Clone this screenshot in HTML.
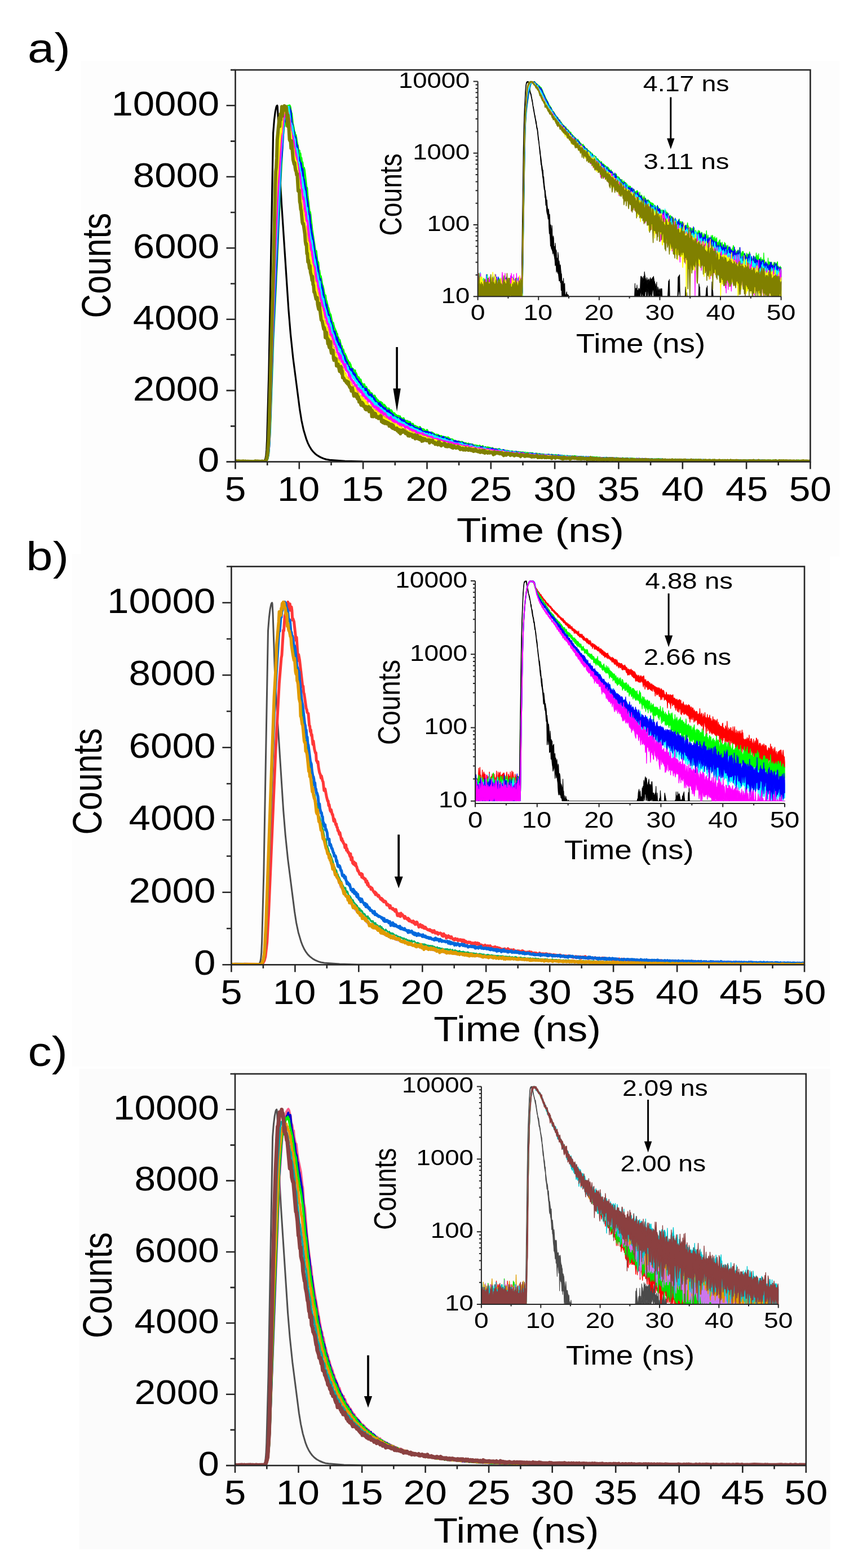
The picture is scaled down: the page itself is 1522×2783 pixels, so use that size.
<!DOCTYPE html>
<html><head><meta charset="utf-8"><style>html,body{margin:0;padding:0;background:#fff}svg{display:block}</style></head>
<body><svg width="1522" height="2783" viewBox="0 0 1522 2783" font-family='"Liberation Sans", Arial, sans-serif'><rect width="1522" height="2783" fill="#fff"/><rect x="144" y="108" width="1345" height="880" fill="#fdfdfd"/><clipPath id="cmA"><rect x="417.5" y="124.1" width="1019.9000000000001" height="695.5"/></clipPath><g clip-path="url(#cmA)"><path d="M417.5 818.8l49.9 0l1.3 -0.8l1.4 -2l0.9 -2.6l0.9 -4.8l0.9 -9.9l0.9 -18.9l3.2 -118l7.7 -425.7l1.8 -22.5l1.8 -14.7l1.8 -8.8l0.9 -2.1l0.9 -0.7l0.5 2.4l0.9 16.2l3.6 107.9l2.7 48.3l12.3 186.9l3.6 43.6l4.5 43l11.8 91l3.2 19.7l3.6 16.7l5 16.7l2.7 6.9l2.8 5.6l3.1 5.2l3.2 4.1l3.6 3.7l4.6 3.5l4.9 2.8l5.9 2.5l4.6 1.4l5.9 0.9l27.2 2.1l31.2 0.8l794.2 0.4" stroke="#000" stroke-width="3.2" fill="none" stroke-linejoin="round"/><path d="M417.5 818.8l53.5 0l1.8 -1.4l1.8 -3.3l1.8 -9l2.7 -43.3l5.5 -161.9l6.3 -128.7l6.4 -148.3l4.5 -81.4l1.8 -18.4l0.9 0.8l0.9 -11.8l0.9 2.1l1 -3.6l0.9 -10.9l0.9 -1.6l0.9 -7.1l0.9 -3l0.9 3l1.8 -3.6l0.9 1.8l1.8 10.6l0.9 1.9l1.8 18.1l1.8 7l1 8.6l0.9 -0.6l0.9 8l0.9 -2.8l2.7 16.6l0.9 1.8l0.9 10.2l0.9 0.4l0.9 -1.8l0.9 12.3l0.9 -6.9l0.9 12.8l0.9 -5.1l1 9.4l0.9 -1.7l1.8 15.6l0.9 -5.7l0.9 3.7l3.6 31.6l0.9 0.4l0.9 12.9l3.7 31.4l0.9 -1.3l3.6 31.4l5.4 35.9l0.9 3.6l0.9 -1.9l1.9 17.8l1.8 2.7l0.9 12.7l0.9 1.1l1.8 13.2l0.9 -2.6l2.7 16.5l0.9 0.8l3.7 19.7l0.9 -3l0.9 8.3l0.9 1.5l2.7 12.2l0.9 0.4l0.9 5.5l1.8 5.5l0.9 0.2l3.6 17.8l1 -2.8l1.8 8l3.6 7.9l0.9 5.6l0.9 -2l0.9 8.6l0.9 -2.3l0.9 3.1l0.9 1.4l0.9 0.1l2.8 14.3l0.9 -3.3l0.9 6l1.8 0.1l1.8 10.1l0.9 -3l2.7 6l1.8 6.8l0.9 -1l1.9 6.4l0.9 -2.6l0.9 2.8l0.9 0.7l0.9 4.4l2.7 4.4l0.9 -0.5l0.9 3.4l0.9 -0.7l0.9 1.5l0.9 -1.8l0.9 7.9l1 -2.9l2.7 8.5l1.8 -1.4l2.7 5.8l0.9 -1.4l1.8 8.5l0.9 -1.5l1.8 6.9l1.9 -5.7l1.8 6.6l0.9 0.7l0.9 -2.5l0.9 2.8l1.8 2.5l0.9 0.9l0.9 -0.3l0.9 1.5l1.8 4.7l0.9 -1.6l0.9 3l1 -2l0.9 4.9l0.9 -0.9l0.9 0.7l0.9 3.1l0.9 -4.1l0.9 1.4l0.9 4l0.9 -1.1l0.9 1.5l0.9 5.6l0.9 -3.6l1.8 1.9l0.9 2.7l1 -0.4l0.9 0.6l0.9 -1.3l1.8 3.5l0.9 -1.6l0.9 4l0.9 0.5l0.9 2.9l0.9 -4.3l5.5 7.1l1.8 1l0.9 -1.4l3.6 5.8l0.9 -2.5l3.6 6.5l1.8 -1.5l1 2.3l2.7 1.2l0.9 2.9l0.9 -1.2l0.9 1.4l0.9 -1.8l0.9 2.8l1.8 -1.9l0.9 3l0.9 1l0.9 -0.5l1.9 2.7l1.8 -2.9l0.9 3.5l1.8 2.1l0.9 -1.3l0.9 2.6l0.9 0.3l0.9 -2.5l0.9 3.3l0.9 -2.1l0.9 0l0.9 2.1l0.9 0.1l0.9 -1.3l1 3.2l1.8 2.4l1.8 -2.6l1.8 3.9l1.8 0.4l0.9 -0.5l0.9 1l1.8 0.3l0.9 1.1l2.8 1l1.8 -1.4l2.7 5.4l0.9 -2l0.9 3l0.9 -0.2l0.9 -2.2l0.9 0.6l1.8 3.5l0.9 -1.1l1 0.7l1.8 -2.5l0.9 2.6l1.8 2.3l0.9 -0.9l1.8 1.9l0.9 -1l0.9 1.7l0.9 -2.1l1.8 0.8l0.9 2l1 -0.7l4.5 3.7l0.9 -2l0.9 1.3l1.8 -0.6l0.9 3.1l1.8 -1.3l0.9 0.1l0.9 1.1l1 -1.1l1.8 2.8l0.9 0l0.9 -1.4l0.9 0.6l0.9 2.6l0.9 -2.9l0.9 1l0.9 -0.4l0.9 2l1.8 1.2l0.9 -3.2l0.9 2.9l0.9 -1.4l1 2.4l0.9 -0.5l0.9 2l1.8 -2l0.9 2.3l0.9 -1.9l1.8 2.5l2.7 -0.2l4.6 2.4l1.8 -1.5l0.9 2.4l0.9 -1.2l1.8 1.4l0.9 -1.4l0.9 1.4l0.9 -1.5l0.9 2.2l0.9 -0.8l1.8 1.4l1 -0.9l0.9 0.8l0.9 -0.4l1.8 1.8l2.7 -1.1l0.9 1.8l0.9 -0.5l0.9 1.6l0.9 -1.8l1.8 2.4l1.9 -2l0.9 2.4l1.8 -0.3l0.9 0.5l0.9 -1l0.9 1.1l0.9 0.1l0.9 -0.8l0.9 1.2l0.9 -0.7l2.7 2.3l0.9 -2.7l1 1.8l3.6 0.4l0.9 -1.2l0.9 2.4l0.9 0.6l1.8 0.1l0.9 -1.4l0.9 0.1l1.8 2l1.8 -1.8l1 3.3l0.9 -2.3l0.9 1.3l0.9 -1.4l0.9 1.7l0.9 -0.4l0.9 1l0.9 -0.2l0.9 -1.6l3.6 3l1.8 -1.1l1.9 0.3l0.9 0.9l3.6 -1.5l1.8 2l3.6 0.1l0.9 0.8l0.9 -1l4.6 1.6l2.7 -0.4l1.8 1.3l0.9 -0.8l0.9 1l1.8 -0.4l0.9 1.2l1 -1.2l0.9 0l3.6 1.2l2.7 -0.4l0.9 1l0.9 -0.8l2.7 0.7l0.9 -0.5l1 1.4l0.9 -1.2l2.7 0.4l0.9 0.7l1.8 -0.6l1.8 0.5l0.9 1.1l1.8 -1.4l1.8 0.7l0.9 1.2l1 -1.4l1.8 2.2l0.9 -1.6l0.9 1.2l1.8 -0.3l0.9 -1l0.9 1l1.8 -1l3.6 2l1.9 -0.8l2.7 -0.1l0.9 1.1l3.6 -0.7l1.8 0.9l0.9 -0.3l1.8 1.2l1 -1.1l1.8 0.3l0.9 1.2l0.9 -0.7l2.7 1.2l1.8 -1.5l1.8 0.9l1.8 -0.5l0.9 1.9l1 -1.3l2.7 -0.8l1.8 0.9l1.8 -0.1l0.9 0.7l2.7 -1.1l0.9 1.2l2.8 -0.6l0.9 0.7l0.9 -0.6l0.9 1.2l3.6 -0.7l0.9 1.3l1.8 -0.8l1.8 1l0.9 -1.2l2.8 0.9l0.9 -0.7l0.9 0.7l0.9 -0.6l0.9 1l1.8 -0.4l0.9 0.5l0.9 -0.6l1.8 0.8l2.7 -0.7l1.9 0.7l1.8 -1.1l1.8 1.1l1.8 -0.5l1.8 1.2l1.8 -0.6l1.8 1l1.8 -0.9l1 0.7l2.7 -0.5l4.5 0.9l0.9 -0.8l1.8 0.8l2.7 -0.4l1 0.9l1.8 -0.4l0.9 -1.1l1.8 1.1l1.8 -0.8l0.9 1l1.8 -0.5l2.7 0.8l0.9 -0.9l1 0.1l1.8 0.5l0.9 1.1l0.9 -1l2.7 0l1.8 1l0.9 -0.7l3.6 0.4l0.9 0.8l1 -1.3l0.9 0.4l1.8 -0.6l1.8 1.5l3.6 -0.6l0.9 0.8l0.9 -0.9l0.9 0.8l0.9 -0.7l5.5 0.9l2.7 -1.2l2.7 1l0.9 -0.7l0.9 0.5l5.5 0.6l1.8 -1.2l0.9 0.9l2.7 -0.2l0.9 0.7l4.6 -0.8l0.9 0.8l1.8 -0.1l0.9 -0.6l0.9 1.2l4.5 -1l0.9 1l0.9 -0.8l1.8 0.5l1 -0.3l1.8 0.9l5.4 -1.1l1.8 1.1l3.6 -0.6l1.9 0.8l0.9 -0.8l5.4 -0.1l3.6 1l2.7 -0.5l1 0.5l0.9 -0.9l2.7 1.1l5.4 -0.6l0.9 0.4l2.7 -0.9l1 1l2.7 -0.4l0.9 0.5l4.5 -0.1l0.9 0.5l2.7 -0.6l1.9 0.6l1.8 -0.7l5.4 0.6l1.8 -0.7l4.6 0.7l1.8 -0.9l1.8 0.9l2.7 -0.4l1.8 0.8l3.6 -0.8l2.8 0.7l1.8 -0.8l2.7 0.5l0.9 -0.4l0.9 0.8l2.7 -0.4l5.5 0.5l1.8 -0.5l5.4 0.6l1.8 -0.9l1.8 0.7l3.7 -0.4l0.9 0.7l2.7 -0.6l1.8 0.5l3.6 -0.2l1.8 0.7l1 -0.8l5.4 0.5l1.8 -0.5l0.9 0.7l0.9 -0.7l1.8 0.6l0.9 -0.5l1.9 0.6l2.7 -0.6l9.9 0.5l6.4 -0.6l0.9 0.8l3.6 -0.6l0.9 0.9l1.8 -0.6l6.4 -0.1l0.9 0.8l2.7 -0.7l5.5 0.6l2.7 -0.6l16.3 0.5l0.9 -0.5l10.9 0.9l0.9 -0.5l7.2 0.6l1.8 -0.8l2.8 0.6l4.5 -0.6l2.7 0.6l4.6 -0.5l0.9 0.7l1.8 -0.5l3.6 0.4l1.8 -0.7l1.8 0.7l6.4 -0.3l4.5 0.6l3.6 -0.8l1.8 0.6l1.9 -0.4l3.6 0.5l0.9 -0.6l0.9 0.8l6.3 -0.7l1 0.7l8.1 -0.3l1.8 -0.5l0.9 0.7l1.8 -0.8l9.1 0.8l12.7 -0.2" stroke="#00ff00" stroke-width="4" fill="none" stroke-linejoin="round"/><path d="M417.5 818.9l17.2 -0.4l5.5 0.5l4.5 -0.5l7.2 0.6l19.1 -0.2l2.7 -3.3l1.8 -6.8l1.8 -16l0.9 -17.5l5.5 -165.5l14.5 -320.6l1.8 -19.1l3.6 -54.9l0.9 -1.5l0.9 1.5l1.9 -18.7l0.9 3.1l0.9 -0.9l1.8 -5.6l1.8 -2.9l2.7 7.9l1.8 20.8l0.9 0.4l1.8 12.2l0.9 0.5l1.9 15.7l0.9 -4.5l1.8 12.5l1.8 5.1l1.8 20.6l0.9 -2.1l1.8 9.4l1.8 1l1.9 16.6l0.9 -6.4l1.8 19.7l0.9 -0.7l1.8 12.9l0.9 0.6l1.8 18.5l1.8 8.6l0.9 11.6l1.8 12.3l1 -2.5l0.9 17.5l0.9 -0.2l0.9 10.5l3.6 19.3l2.7 21.5l2.7 9.7l0.9 7.7l1.9 6.4l1.8 17.4l1.8 8.6l0.9 -3.9l0.9 10.7l0.9 -1.4l0.9 5.7l0.9 1l1.8 12.5l3.7 15.6l0.9 2.2l0.9 -0.7l0.9 11.6l0.9 -1.6l0.9 6.1l1.8 2l0.9 5.2l0.9 1l0.9 8.6l0.9 -3.5l0.9 6.9l0.9 -0.1l0.9 3.8l1 9.1l0.9 -1.5l0.9 0.3l0.9 -0.4l2.7 14.1l0.9 -3.9l0.9 1.6l2.7 14.4l1.8 -5l0.9 6.4l1 1l1.8 8.9l0.9 -2.8l0.9 7.3l0.9 -0.2l1.8 1.6l3.6 11.8l0.9 -1l1.8 6.2l1 1.6l0.9 0.1l0.9 4.3l0.9 0.6l0.9 2.2l0.9 -2l0.9 1.1l0.9 -1.5l0.9 8.2l0.9 -0.1l0.9 -1.5l1.8 5.2l0.9 -2.4l1.9 8.1l0.9 1.6l0.9 -1.7l0.9 1.4l0.9 4.3l0.9 0.6l0.9 -1.4l0.9 1.1l0.9 3.5l0.9 -1.1l0.9 1.3l0.9 5.4l0.9 -1.4l0.9 -0.2l1.9 6.7l0.9 -2l1.8 -1l0.9 7.5l0.9 -7.1l0.9 7.4l0.9 -2.5l1.8 2.1l1.8 5.5l0.9 -1.9l1.8 7l0.9 -7.7l1 4.4l0.9 -0.9l0.9 5.3l0.9 -2.9l1.8 1.7l1.8 6.1l0.9 -0.7l0.9 4l0.9 0l0.9 -1.9l0.9 2.5l0.9 -0.5l0.9 0.8l1 -2.3l1.8 4.5l0.9 -1.1l0.9 3.8l0.9 0.1l0.9 -1.1l0.9 3.9l0.9 -0.7l0.9 2.3l1.8 -2.9l0.9 4.2l0.9 -0.7l0.9 2.3l1.9 1.9l0.9 -3.2l0.9 -0.6l1.8 5.7l0.9 -1.4l0.9 2.1l0.9 -0.9l0.9 1.3l1.8 0.9l2.7 5l1 -1.2l0.9 1.9l0.9 -1.1l0.9 1.7l0.9 -0.9l0.9 0.1l0.9 3.1l0.9 -0.2l0.9 0.7l1.8 -2.4l1.8 3.8l0.9 -1.8l0.9 4.3l1 -3.3l1.8 6.5l0.9 -6.4l1.8 5.7l0.9 -1l1.8 1l0.9 2.5l1.8 -1.5l0.9 0.8l0.9 -0.7l0.9 1.8l0.9 -2.3l1 4.2l0.9 -0.7l0.9 3l0.9 -0.3l0.9 -2.6l0.9 3.1l0.9 -1.3l1.8 2.7l0.9 -0.4l1.8 1l0.9 -1l2.8 3.1l0.9 -0.9l0.9 0.8l1.8 -2.3l1.8 3.8l3.6 2.6l1.8 0.1l0.9 -0.9l2.8 3.2l0.9 -2.7l0.9 1.5l0.9 -1l0.9 1.4l0.9 -0.4l0.9 2.2l1.8 -2.4l0.9 4.5l0.9 -2.2l0.9 -0.2l0.9 1.6l1.9 -0.2l0.9 2.3l0.9 -0.8l0.9 1.7l4.5 0.1l0.9 2.2l0.9 -3.1l2.7 3.2l2.8 0.1l0.9 2.4l1.8 -4l0.9 5l0.9 -2.5l1.8 1.6l0.9 -1.2l0.9 2.8l1.8 -2.1l0.9 1.9l1.8 0.2l1 0.8l0.9 -1.6l0.9 2.5l0.9 -1.4l0.9 2.2l0.9 -1.5l1.8 3.5l0.9 -2.2l0.9 1.3l0.9 -0.4l0.9 -1.6l0.9 2.7l0.9 0.2l0.9 -2.1l1 1.5l0.9 -1.1l1.8 2.6l1.8 -1.4l4.5 2.7l0.9 -2l1.8 3.1l1.9 -1.2l2.7 1.8l0.9 -0.4l0.9 1.6l0.9 -0.1l0.9 -1.6l0.9 1.3l1.8 -1l1.8 1.3l0.9 -1.5l1.9 2.4l0.9 -0.7l1.8 1.7l0.9 -0.6l0.9 0.4l0.9 1.6l0.9 -1.3l1.8 0.6l0.9 1.1l0.9 -0.9l1.8 0l0.9 1.2l1 -1.3l0.9 1.6l1.8 -1.6l0.9 1.7l0.9 0l0.9 -1l0.9 1.2l2.7 -0.6l0.9 2.6l0.9 -0.9l3.7 0.6l0.9 -0.7l0.9 1.1l1.8 -0.7l0.9 1l1.8 -1.5l1.8 2l0.9 -0.3l0.9 0.7l1.8 -1l0.9 1.4l1.9 -1.1l0.9 1.2l0.9 -0.3l0.9 1l1.8 -0.2l0.9 -1.6l0.9 1.8l4.5 0.2l0.9 -1.1l1 1.4l0.9 -0.7l0.9 0.9l0.9 -0.1l0.9 1.4l0.9 -0.7l1.8 0.3l0.9 1.3l0.9 -1.8l0.9 0.9l3.6 -0.1l1 1.2l1.8 -0.8l3.6 1.1l1.8 -1l0.9 1.5l0.9 -1.5l1.8 1.4l0.9 -0.6l0.9 1.4l1 0.3l4.5 -0.6l0.9 1.4l0.9 -1.5l0.9 1.2l1.8 -0.4l1.8 0.7l2.7 -0.8l1.9 1.1l1.8 0.1l0.9 -0.7l0.9 1.5l0.9 -1.8l1.8 1.3l1.8 -0.8l2.7 0.7l1.9 -0.4l0.9 0.8l0.9 -0.8l2.7 1.5l1.8 -0.7l0.9 1.1l0.9 -0.9l1.8 0.3l0.9 1.4l1.8 -1.4l1 0.9l0.9 -0.4l0.9 1.3l0.9 -1.5l0.9 0.8l0.9 -0.7l0.9 1.4l0.9 -1.2l3.6 0.9l0.9 -1.4l0.9 1.7l2.8 0.2l1.8 -1.2l1.8 1.8l0.9 -1.3l2.7 0.2l0.9 1l0.9 -0.3l1.8 0.7l0.9 -1.1l1 0.9l0.9 -1.4l1.8 1.6l1.8 -1.1l1.8 1.5l1.8 -1.1l0.9 1l0.9 0.1l0.9 -0.7l1.8 1.1l4.6 -0.8l1.8 1.3l1.8 -1l1.8 0l1.8 1l0.9 -0.8l1.8 1.5l1 -1.4l2.7 1.2l3.6 -0.5l0.9 1.1l0.9 -1.2l0.9 0.8l1.8 -0.7l1.8 1.1l1 -1.4l0.9 1.2l2.7 -0.9l0.9 0.9l0.9 -0.6l0.9 0.8l0.9 -0.8l0.9 0.8l1.8 -1l1.8 0.8l0.9 -0.8l1.9 1.3l0.9 -0.6l0.9 0.9l0.9 -0.9l5.4 1l0.9 -0.5l0.9 1l3.7 -0.8l0.9 0.7l0.9 -0.7l2.7 0.8l1.8 -0.5l0.9 0.5l3.6 -0.8l1.8 1l1 -0.7l1.8 0l0.9 0.4l7.2 -0.1l0.9 0.6l0.9 -0.8l0.9 0.7l1 -0.4l1.8 0.5l0.9 -0.7l1.8 1.2l1.8 -0.3l0.9 -0.8l2.7 1.1l2.7 -0.8l1 0.8l0.9 -0.4l1.8 0.6l1.8 -0.2l0.9 0.7l0.9 -0.9l2.7 0.7l0.9 -0.9l2.7 0.1l1 0.6l5.4 -0.4l4.5 0.8l4.6 0l0.9 -0.8l2.7 0.7l0.9 -0.7l1.8 0.8l2.7 -0.4l0.9 0.5l0.9 -0.7l0.9 1l0.9 -0.5l1 0.5l0.9 -0.8l0.9 0.7l2.7 -0.5l0.9 0.8l1.8 0.1l0.9 -0.4l4.5 0.3l1.9 -0.6l0.9 1l2.7 -0.6l2.7 0.5l0.9 -0.5l2.7 0.1l1.8 0.6l1 -0.6l3.6 -0.1l0.9 0.7l1.8 -0.8l5.4 1l0.9 -0.4l1.9 0.3l0.9 -0.5l6.3 0.6l0.9 -0.7l1.8 0.8l3.7 -0.8l3.6 0.9l2.7 -1l1.8 1.3l1.8 -0.6l5.5 0.4l0.9 -0.5l2.7 0.6l1.8 -0.5l0.9 0.6l1.8 -0.5l2.7 0.5l1 -0.6l2.7 0.8l2.7 -0.9l6.3 0.9l1.9 -0.7l0.9 0.6l1.8 -0.3l1.8 0.7l0.9 -0.8l1.8 0.4l0.9 -0.7l3.6 0.8l10.9 -0.5l0.9 0.6l4.6 -0.5l6.3 0.8l0.9 -0.4l3.6 0.4l0.9 -0.8l0.9 0.8l1 -0.7l2.7 0.7l1.8 -0.7l0.9 0.6l3.6 -0.6l2.7 0.8l0.9 -0.8l1.9 1l2.7 -0.9l0.9 0.5l2.7 -0.4l6.4 0.6l0.9 -0.5l0.9 0.6l0.9 -0.5l9.9 0.6l3.7 -0.5l1.8 0.8l3.6 -1.1l0.9 0.7l4.6 -0.4l0.9 0.5l0.9 -0.5l0.9 0.5l7.2 -0.4l0.9 0.5l8.2 -0.5l0.9 0.7l0.9 -0.6l3.6 0.6l3.7 -0.1l0.9 -0.5l8.1 0.6l3.6 -0.6l2.8 0.6l7.2 -0.5l7.3 0.6l1.8 -0.7l0.9 0.6l6.3 -0.5l0.9 0.7l4.6 -0.5l3.6 0.6l1.8 -0.8l2.7 0.7l3.7 -0.4l2.7 0.5l4.5 -0.7l0.9 0.6l3.6 -0.6l7.3 0.4" stroke="#0000ff" stroke-width="4" fill="none" stroke-linejoin="round"/><path d="M417.5 818.8l53.5 0.3l1.8 -1.9l2.7 -9.8l1.8 -19.1l0.9 -18.3l3.7 -125l6.3 -169.7l10 -203l5.4 -59.2l0.9 -4.6l0.9 -1.9l0.9 -0.3l1 -1.5l0.9 -5.5l0.9 3.8l0.9 -8.5l0.9 0l0.9 -4.9l2.7 21.2l0.9 13.8l0.9 -5.8l0.9 3.7l0.9 1.3l2.7 18.9l1.9 4.8l0.9 13.2l0.9 2.1l0.9 7.6l0.9 -6.3l1.8 12.2l0.9 11.5l0.9 0l2.7 15.8l0.9 2.5l0.9 7.9l1 0.7l3.6 23.3l0.9 0.8l3.6 31l0.9 -0.9l0.9 13l0.9 1.3l1.8 20.5l3.7 22.8l0.9 0l4.5 31.3l1.8 6.3l2.7 19.1l1 1.1l0.9 4l1.8 11.9l0.9 0.7l0.9 -1l0.9 11.6l1.8 6.2l0.9 11.5l0.9 -3.1l0.9 5.8l0.9 -1.6l1.8 12.6l3.7 11.8l0.9 6.4l2.7 1.3l1.8 10.1l0.9 0.8l1.8 4.6l1.8 9.6l3.7 9.7l1.8 10.1l0.9 -0.8l0.9 5.4l0.9 -2.3l1.8 8.4l0.9 -2.9l1.8 5.6l0.9 -1.2l0.9 1.7l1 8.5l0.9 -2.6l0.9 3.2l1.8 2.9l0.9 5.3l2.7 5.6l0.9 0.5l0.9 4.5l0.9 0.9l0.9 -1.5l0.9 3l0.9 0.7l1 6.1l0.9 -0.5l1.8 1.6l0.9 2.7l0.9 -1.3l0.9 3.3l1.8 2.9l0.9 0.1l0.9 3.6l0.9 -1.5l2.7 6.1l1.9 0.9l1.8 3.8l0.9 0.3l0.9 2.6l0.9 -0.7l1.8 8.2l0.9 -4.7l1.8 6.6l0.9 -0.5l0.9 2.3l0.9 -3.9l1.9 8.3l0.9 -2.4l0.9 2.6l0.9 -2.8l1.8 8.9l0.9 -2.7l1.8 2.7l0.9 3.8l0.9 -3.2l0.9 -1l0.9 6.6l0.9 -3.9l0.9 3.6l1 -3.6l1.8 5.8l0.9 -1.2l1.8 4.4l0.9 -1.2l1.8 5.5l0.9 -4.9l0.9 4.4l0.9 1.2l0.9 -0.6l0.9 3.6l0.9 0.4l1 -0.5l0.9 0.8l1.8 -0.9l0.9 3.1l0.9 -0.7l0.9 0.6l0.9 3.2l0.9 -1.2l0.9 2.4l0.9 -2.2l2.7 5.5l0.9 -1.4l1 1.9l0.9 -1.4l1.8 3.4l0.9 -1.8l1.8 3.4l0.9 -1.8l0.9 2.6l1.8 0.7l0.9 1.7l1.8 0.4l0.9 -1.6l1 0.6l0.9 2.9l0.9 -1.9l0.9 2.7l1.8 -0.1l0.9 1.3l0.9 -2.2l1.8 5.7l0.9 -2.6l0.9 2.7l0.9 0.4l0.9 3.8l0.9 -4.5l1.9 1.3l1.8 -0.1l0.9 2.6l0.9 -0.7l0.9 2.5l0.9 0l0.9 -1.2l1.8 3.8l0.9 -1.6l1.8 2.3l0.9 -1l1.9 3.2l0.9 -0.1l0.9 -2.9l0.9 4.2l0.9 -1.6l0.9 0l0.9 0.4l0.9 2.5l2.7 -1.1l1.8 3.1l0.9 -2.1l0.9 0.3l1.9 2.7l0.9 -0.8l0.9 0.7l0.9 -0.4l0.9 2.7l0.9 -1.2l1.8 2.1l0.9 -1.1l1.8 1.4l0.9 -0.5l0.9 2.3l0.9 -1.1l1.9 0.3l0.9 -0.5l0.9 2.7l0.9 0.7l2.7 -2.8l1.8 3.7l0.9 -1.4l1.8 3l0.9 -3.9l0.9 2.7l1.9 0.3l0.9 -0.9l0.9 1.8l0.9 -0.6l0.9 2.5l0.9 0.6l0.9 -2.4l0.9 0.2l3.6 3.2l0.9 -1.8l1.9 1.5l3.6 0.9l0.9 2l1.8 -2.6l0.9 2.8l2.7 -0.6l0.9 0.5l0.9 2.3l0.9 -1.7l0.9 1.8l1.9 -1.1l0.9 1l1.8 -2.6l0.9 2.4l0.9 0.3l0.9 1.6l2.7 0.4l0.9 0.7l1.8 -0.3l2.8 1.6l0.9 -1.3l0.9 0.5l1.8 -0.4l0.9 1.4l0.9 -0.7l0.9 2l0.9 -2.9l2.7 3.5l0.9 -1.1l0.9 2l1.9 -1.7l1.8 1.3l0.9 -0.9l0.9 1.8l0.9 -0.9l1.8 1.3l0.9 -0.9l0.9 1.3l0.9 -2.1l0.9 2.2l0.9 -1.9l0.9 2.6l1 -1.1l0.9 1.5l0.9 0.3l1.8 -1.2l0.9 1.7l0.9 -1.8l0.9 1.7l2.7 -0.5l0.9 1.9l0.9 -2.4l3.7 3.1l0.9 -0.1l0.9 -1.2l1.8 1.5l1.8 -1.7l0.9 1.6l0.9 0.3l0.9 -1.3l3.6 2.7l3.7 -0.8l2.7 0.5l1.8 1.9l0.9 -1l2.7 0.2l0.9 0.8l2.8 -0.5l0.9 0.6l0.9 -0.6l1.8 1.2l1.8 -1.7l0.9 1.9l0.9 -1.1l1.8 0l0.9 1.6l0.9 -1.7l1.8 1.7l1.9 -0.3l1.8 0.7l0.9 -0.8l1.8 1.7l0.9 -1.1l1.8 0l0.9 1.5l0.9 -1.2l0.9 0.4l0.9 -0.6l0.9 1.9l1 -0.8l1.8 1.3l1.8 -1.4l1.8 1.3l0.9 -0.9l1.8 0.2l0.9 1.1l1.8 -0.9l1.8 1.3l1.9 -1.2l1.8 2.6l3.6 -1.5l1.8 0.9l0.9 -0.4l0.9 0.7l0.9 -0.4l0.9 0.4l0.9 -1.8l1.9 2.2l1.8 -0.1l0.9 0.8l2.7 -1.2l2.7 1.4l3.6 -1l0.9 1l1 -0.8l1.8 0.7l0.9 1.2l2.7 -1.6l2.7 1.1l1.8 0.3l0.9 -0.8l1.8 0.8l2.8 -0.1l0.9 0.7l0.9 -1.3l1.8 1l0.9 -0.6l1.8 0.9l0.9 -0.3l2.7 1.6l0.9 -1.7l1 1.6l0.9 -1.2l1.8 1l3.6 -1.1l2.7 1.3l0.9 -0.6l7.3 1.1l0.9 -0.6l0.9 1.2l1.8 -1.4l0.9 2l1.8 -1.5l0.9 1.1l0.9 -1.8l0.9 2.4l0.9 -1.8l1 0l3.6 1.3l0.9 -0.7l0.9 0.9l1.8 -0.8l0.9 0.9l1.8 -0.4l0.9 0.6l0.9 -1l1.9 1.3l0.9 -0.6l3.6 0.4l0.9 -0.6l0.9 0.7l0.9 -0.7l1.8 0.2l2.7 0.9l2.8 -1.2l2.7 1.1l2.7 -0.6l1.8 1l1.8 -0.8l1.8 0.7l0.9 -0.5l3.7 1.4l0.9 -1.1l0.9 0.9l2.7 -0.7l2.7 1.1l0.9 -0.6l0.9 0.5l0.9 -0.6l1.9 0.2l0.9 -0.7l3.6 0.9l1.8 -0.4l0.9 0.9l0.9 -0.8l4.5 1l1 -1.1l1.8 1.2l0.9 -0.6l2.7 1l1.8 -0.8l3.6 0l0.9 1l0.9 -0.6l5.5 0.5l1.8 -1.1l1.8 1.3l1.8 -0.7l1.8 0.6l0.9 -0.7l1.9 0.8l7.2 -0.5l1.8 0.9l0.9 -0.8l0.9 0.7l3.7 -0.2l0.9 -0.5l0.9 1.2l1.8 -1.5l0.9 0.8l2.7 -0.5l0.9 0.9l4.6 -0.4l6.3 0.7l0.9 -0.8l1.8 0.9l0.9 -0.7l0.9 0.5l4.6 0.1l1.8 -0.8l0.9 1.3l1.8 -0.7l1.8 0.5l0.9 -1l0.9 0.8l0.9 -0.7l1.8 0.6l6.4 -0.3l1.8 0.7l4.5 0.1l4.6 -0.8l0.9 0.7l0.9 -0.9l3.6 1.7l2.7 -1.3l0.9 0.9l0.9 -0.8l1 0.6l0.9 -0.3l0.9 0.9l0.9 -0.7l1.8 -0.1l1.8 0.5l0.9 -0.5l3.6 0l2.8 0.7l0.9 -0.7l6.3 0.6l0.9 -0.7l2.7 0.9l2.7 -0.5l3.7 0.5l2.7 -0.9l0.9 0.9l1.8 -0.4l1.8 0.6l4.6 -0.6l9 0.7l3.7 -0.7l7.2 0.7l3.6 -0.6l3.7 0.6l2.7 -0.5l3.6 0.8l4.5 -0.7l6.4 0.6l1.8 -0.7l3.6 0.9l4.6 -0.8l0.9 0.7l11.7 -0.4l7.3 0.8l4.5 -0.6l1.8 0.5l3.7 -0.5l5.4 0.7l11.8 -0.6l5.4 0.6l8.2 -0.5l1.8 0.6l3.6 -0.6l0.9 0.6l2.8 -0.5l3.6 0.5l9.1 -0.5l3.6 0.7l6.3 -0.7l0.9 0.5l5.5 -0.5l0.9 0.7l5.4 -0.5l16.3 0.6l0.9 -0.6l4.6 0.4l0.9 -0.5l0.9 0.6l5.4 -0.6l0.9 0.6l22.7 -0.1" stroke="#00ffff" stroke-width="4" fill="none" stroke-linejoin="round"/><path d="M417.5 818.9l53.5 -0.1l1.8 -2.5l0.9 -2.5l1.8 -8.2l1.8 -24.7l1.8 -45.2l1.9 -73.2l7.2 -215.5l4.5 -102.6l7.3 -109.3l1.8 -12.8l0.9 -12.2l1.8 -5.4l0.9 1.9l0.9 -1.4l1 -9.2l0.9 -1.1l0.9 1.5l0.9 10.3l0.9 -5.9l0.9 8.8l0.9 -0.6l0.9 3.1l2.7 22.5l0.9 1l0.9 8.5l0.9 -2.7l0.9 6.7l0.9 2l1.9 14.9l0.9 0.9l0.9 7.1l0.9 1.1l1.8 15.4l0.9 1.7l1.8 12l1.8 4.3l2.7 29.9l1 -1.7l1.8 17.3l0.9 -2.9l0.9 4.2l2.7 21.5l0.9 0.6l0.9 13.4l0.9 2.6l0.9 -0.6l3.7 34.4l1.8 6.8l0.9 9.8l1.8 4.2l1.8 18.5l1.8 10l0.9 -2.7l3.6 24.7l1 1l1.8 11.1l1.8 4.3l2.7 19l0.9 -1l3.6 15.6l0.9 0l2.8 14.2l1.8 3.6l1.8 9.6l0.9 0.8l0.9 -0.6l0.9 5.2l0.9 0l2.7 14.8l0.9 0.8l0.9 -1.9l0.9 5.1l1.9 4.2l1.8 6.9l1.8 2.8l1.8 5l1.8 7.1l0.9 1.1l0.9 3.5l0.9 -1.9l0.9 8.5l1.9 -5.2l1.8 11l1.8 -1.1l0.9 4.8l0.9 0.3l1.8 5.5l0.9 -5.1l0.9 7.7l0.9 2.8l3.7 4.1l1.8 7.2l0.9 -2.1l2.7 8.1l0.9 -0.2l0.9 1.7l0.9 0.1l0.9 4l0.9 -1.4l0.9 1.2l0.9 3.6l0.9 0.4l1 1.7l0.9 -1.8l0.9 7.2l0.9 -2.5l0.9 3.5l1.8 -2l0.9 3.7l0.9 -0.1l0.9 2.8l0.9 -3.5l0.9 2.8l0.9 0.8l0.9 5.1l0.9 0.7l1 -2.5l0.9 3.1l0.9 1.2l0.9 0l0.9 3.6l0.9 -2.2l0.9 2.2l0.9 0.2l0.9 2.8l0.9 -0.9l0.9 2.8l0.9 -1.6l0.9 0.6l2.7 3.5l1 6l0.9 -4.6l0.9 2.6l0.9 0.3l1.8 3.9l2.7 -1.8l0.9 3.8l0.9 1.2l0.9 -2.7l0.9 4.2l0.9 -3.5l1.9 5.7l0.9 -1.9l0.9 -0.3l0.9 5.2l0.9 -3.5l0.9 3.3l0.9 -1.8l1.8 5.6l0.9 -2.2l0.9 0.1l0.9 -0.9l2.7 5.1l2.8 2.7l0.9 -0.1l0.9 3.6l0.9 -3l0.9 0.8l0.9 -2.8l1.8 5.2l0.9 -0.8l0.9 2.9l0.9 -0.3l0.9 2.2l0.9 -3.7l1.9 4.5l1.8 -1.7l1.8 1.8l0.9 2.1l0.9 0.2l1.8 -0.9l0.9 2.6l0.9 0.9l0.9 -2.3l0.9 3l0.9 -1.9l1 1.5l1.8 -0.9l0.9 1.7l0.9 0.4l0.9 2.5l0.9 0.1l1.8 -1.7l0.9 0.6l0.9 -0.6l0.9 2.8l0.9 0.5l0.9 -0.5l2.8 3.6l0.9 -1.9l0.9 2.8l0.9 -1.4l0.9 2.5l0.9 -2.4l0.9 2.8l0.9 -1.7l0.9 3.1l1.8 -2.3l0.9 2.5l0.9 -0.6l1.8 3.4l1 -2.5l0.9 0.2l0.9 2l0.9 -1.4l0.9 1.8l0.9 0.6l0.9 -0.8l0.9 1.1l0.9 -2.8l0.9 4.4l0.9 -2.1l0.9 0.1l0.9 3.4l0.9 0.1l0.9 -2.1l1 1.4l1.8 -1l2.7 4.9l0.9 -2.7l0.9 1.5l0.9 -1l0.9 0.4l0.9 1.9l0.9 -2.8l1.8 1.5l0.9 2.3l1 -0.5l2.7 1.5l0.9 -1.2l1.8 0.6l0.9 1.1l0.9 -1.4l1.8 4.3l0.9 -1.7l1.8 -1l0.9 1.5l1.9 0.8l0.9 -1l0.9 1.3l1.8 0.8l0.9 -1l1.8 2.5l0.9 -1.8l0.9 1.4l2.7 -1l3.7 3.1l0.9 -2.3l0.9 1.3l0.9 -0.6l1.8 3.4l0.9 -2.9l0.9 1.4l3.6 0.5l0.9 2l0.9 -2l1 1.5l0.9 0.2l0.9 -1.7l2.7 3.6l0.9 -1.5l0.9 -0.1l1.8 1.8l1.8 0.4l0.9 -1l1.8 -0.3l1 1.6l1.8 -0.6l0.9 1l0.9 -0.1l0.9 -1.6l0.9 1.7l0.9 -0.4l0.9 1.2l0.9 -0.2l0.9 1.5l2.7 -2.4l3.7 2.7l1.8 -0.6l0.9 1.2l0.9 -1.1l1.8 2.3l0.9 -0.4l1.8 0.5l0.9 -1.6l0.9 1.1l2.8 -0.6l0.9 1.4l0.9 -1.2l1.8 1.3l0.9 -0.2l0.9 1.4l2.7 -1l0.9 0.8l2.7 -0.8l1.9 0.4l0.9 1.3l1.8 -0.3l1.8 0.8l0.9 -1.3l1.8 2l1.8 -1.6l0.9 1.3l0.9 -0.6l0.9 1.2l1.9 0.4l1.8 -1.4l0.9 2l0.9 -1.7l0.9 1.8l1.8 -0.9l1.8 0.6l0.9 1.3l0.9 -1.2l0.9 1l0.9 -2.1l0.9 1.8l1 -0.1l0.9 0.9l0.9 -0.3l0.9 0.6l0.9 -1.3l0.9 0.9l0.9 -0.4l1.8 0.8l0.9 -1l1.8 2.1l0.9 -1.2l0.9 1l1.9 -1l0.9 1.1l0.9 -0.9l0.9 1l0.9 -1.2l1.8 1.4l1.8 0.3l1.8 -0.9l0.9 1.6l0.9 -1.3l0.9 1.4l1.9 0.4l0.9 -2.1l0.9 1.2l1.8 0.6l0.9 -0.9l0.9 1.9l1.8 -2.3l0.9 1.5l1.8 -0.4l0.9 0.9l1.8 -0.8l2.8 1l1.8 -0.1l0.9 -0.7l2.7 2.3l0.9 -1.6l0.9 0.1l1.8 1.6l1.8 -1.4l0.9 1.1l2.8 -1l2.7 1.1l0.9 -1l2.7 1.7l1.8 -0.8l0.9 0.7l0.9 -0.8l3.7 0.5l0.9 0.7l0.9 -0.2l0.9 -1.2l0.9 1.8l1.8 -1l2.7 1.3l0.9 -0.8l1.8 -0.3l1 0.7l0.9 -0.4l0.9 1l4.5 -0.7l0.9 1l0.9 -1l0.9 0.9l1.8 -0.1l0.9 0.7l0.9 -0.6l2.8 -0.1l2.7 1l0.9 -0.6l0.9 0.5l2.7 -0.4l0.9 0.9l5.5 -1l2.7 1.1l6.3 -0.4l4.6 1l0.9 -0.6l2.7 0.5l0.9 -1.1l0.9 1.3l1.8 -0.4l0.9 0.7l1.8 -1.1l6.4 1.1l3.6 -0.3l0.9 1.1l1.8 -1.6l2.7 1.3l1 -0.4l0.9 0.5l0.9 -0.6l0.9 0.5l1.8 -0.6l0.9 1.3l0.9 -0.8l1.8 0.7l2.7 -0.8l0.9 0.9l1.9 -1.2l3.6 1.3l3.6 -1.2l0.9 0.6l1.8 -0.2l0.9 1.1l3.7 -0.6l0.9 0.4l0.9 -0.7l2.7 0.8l1.8 -0.4l0.9 0.7l3.6 -0.8l1.8 0.9l6.4 -0.5l1.8 0.9l0.9 -1l0.9 0.6l3.6 -0.5l1 0.5l0.9 -0.3l0.9 0.9l0.9 -0.7l2.7 0.3l1.8 -0.5l0.9 1.2l2.7 -0.9l0.9 0.5l3.7 -0.3l2.7 0.8l3.6 -0.7l0.9 1l6.4 -0.7l2.7 0.6l0.9 -1l0.9 1.4l1.8 -1.1l1.8 0.7l2.7 -0.6l0.9 0.7l3.7 -0.6l1.8 0.8l1.8 -0.9l1.8 0.5l0.9 -0.6l0.9 1l4.6 -0.6l2.7 0.9l0.9 -0.6l2.7 0.5l1.8 -0.5l4.6 0.7l0.9 -0.6l1.8 0l0.9 0.8l1.8 0.1l1.8 -0.9l6.4 0.4l0.9 0.6l1.8 -0.9l2.7 0.6l1.8 -0.5l2.7 1.2l3.7 -1l1.8 0.7l0.9 -0.7l2.7 0.1l0.9 0.6l3.6 -0.6l0.9 0.6l4.6 -0.5l1.8 0.5l4.5 -0.6l0.9 0.5l9.1 -0.3l1.8 0.7l2.7 -0.5l3.6 0.6l2.8 -0.5l9 0.6l13.6 -0.5l2.7 0.5l8.2 -0.5l3.6 0.6l7.3 -0.5l1.8 0.7l3.6 -0.4l5.5 0.4l1.8 -0.6l0.9 0.6l1.8 -0.5l14.5 0.5l0.9 -0.6l3.6 0.8l12.7 -0.5l16.3 0.7l3.7 -0.6l0.9 0.5l10.9 0.1l2.7 -0.5l2.7 0.6l5.4 -0.6l2.8 0.5l3.6 -0.5l0.9 0.5l10 -0.5l4.5 0.7l0.9 -0.5l4.5 0.4l1.8 -0.6l2.8 0.7l24.4 -0.4l0.9 0.6l1.9 -0.7l3.6 0.5l1.8 -0.3" stroke="#ff00ff" stroke-width="4" fill="none" stroke-linejoin="round"/><path d="M417.5 818.7l19.9 0.4l7.3 -0.4l3.6 0.4l21.8 -0.4l0.9 -0.3l1.8 -2.9l1.8 -6.5l1.8 -17.9l1.8 -40.9l10 -349l2.7 -66.1l7.3 -98l0.9 1.2l1.8 -16.9l0.9 -16.3l0.9 0.8l0.9 -3.9l0.9 -0.9l0.9 -8.5l0.9 2.8l1 -1.2l0.9 9.8l0.9 -5.9l0.9 7.3l1.8 7.5l0.9 8.6l1.8 6.1l3.6 23.8l0.9 1.5l0.9 4.5l0.9 7.9l1 -0.7l0.9 14.8l0.9 0.7l0.9 -0.9l1.8 19.8l0.9 -3l1.8 19.5l0.9 0.7l1.8 18.8l0.9 3.1l3.7 26.7l2.7 12.4l2.7 22.6l1.8 4.6l1.8 17.5l0.9 2l0.9 11l0.9 0.4l1 9l0.9 2.7l3.6 25l1.8 4.8l0.9 -2.2l0.9 12.5l1.8 13l0.9 -0.2l0.9 10.4l1.9 3.9l0.9 7.6l0.9 -2l3.6 21.5l0.9 3.9l0.9 -0.3l0.9 3.2l2.7 12.7l0.9 1.5l0.9 6.9l1.9 0.5l1.8 9.9l0.9 2.8l0.9 -0.4l0.9 2.1l0.9 9.1l2.7 3.1l0.9 6.5l0.9 -0.2l0.9 4.3l0.9 -2.3l1.9 9.5l0.9 2.7l0.9 -0.1l1.8 8.4l0.9 0l0.9 4.9l4.5 9.9l0.9 -0.6l0.9 1.5l1.9 7.1l0.9 -1.3l0.9 6.5l0.9 1.7l0.9 -2.5l1.8 3.1l1.8 7l1.8 0.4l0.9 3.7l2.7 5.4l1 -1.6l2.7 7.4l0.9 0.6l0.9 -0.2l0.9 4l0.9 -0.1l0.9 4.2l0.9 0.1l0.9 -1.2l0.9 0.7l0.9 4.2l0.9 0.7l0.9 -1l1.9 4.4l0.9 -0.3l0.9 1.7l0.9 -0.1l1.8 4.6l1.8 1.6l0.9 2.8l0.9 0.6l0.9 -1.6l0.9 4.5l0.9 -2.4l1.9 3.6l2.7 1.2l0.9 3l1.8 1.7l0.9 -1.8l1.8 5.5l0.9 0.1l0.9 1.4l1.8 0.5l0.9 -1.7l0.9 6l1 -2.7l1.8 3.7l0.9 0.2l0.9 1.2l1.8 -0.3l0.9 3.8l0.9 -2.6l0.9 2.8l0.9 -1.5l0.9 2l0.9 -0.2l0.9 1.5l0.9 0.1l1.9 3.6l0.9 -1l0.9 0.6l0.9 -0.9l0.9 5.4l1.8 -2.2l0.9 3.2l0.9 -0.5l0.9 -1.9l1.8 4.5l0.9 -1.9l3.7 3.7l0.9 1.8l0.9 0.2l0.9 -0.8l0.9 1.2l0.9 -1.3l1.8 5.6l0.9 -1.6l0.9 -0.1l2.7 2.7l1 -1.9l0.9 2.7l0.9 -0.9l1.8 3l0.9 -2.2l0.9 4.5l1.8 -2l0.9 1.2l0.9 -0.6l1.8 2.1l0.9 -2.1l0.9 2.8l1.9 1.7l0.9 0.1l0.9 -0.9l2.7 2.6l0.9 -0.9l0.9 2.6l0.9 -0.8l1.8 1.2l0.9 -0.5l1.8 1.7l0.9 -2l2.8 2.7l0.9 -0.4l1.8 0.5l0.9 -0.7l0.9 2.7l1.8 0.6l0.9 3.4l1.8 -2.4l0.9 -0.2l0.9 1.4l1 -1.2l0.9 0.2l0.9 1.8l0.9 -1.2l0.9 0l1.8 3l0.9 -1.7l0.9 1.6l2.7 1.3l0.9 -1l1.8 0.4l1.9 2.3l1.8 -0.8l0.9 1.4l0.9 -2.4l0.9 2.8l0.9 0.6l0.9 -1.2l2.7 2l1.8 -0.3l1.9 1.4l2.7 0l0.9 3.2l0.9 -1.5l3.6 -0.3l2.7 1.4l0.9 -1.1l0.9 2l1.9 -1.1l1.8 3.1l0.9 -1.5l0.9 0.7l1.8 -0.5l1.8 1.3l0.9 -0.6l4.5 2l1.9 0.1l1.8 1.3l0.9 -1.5l0.9 1.2l4.5 0.8l0.9 0.8l0.9 -1l0.9 1.3l0.9 -1l1 2.2l1.8 -1.6l1.8 1.5l0.9 -0.5l0.9 1.1l0.9 -0.6l0.9 1.7l0.9 -1l0.9 0.3l1.8 -0.6l0.9 1.3l0.9 -1.4l1.9 2.6l0.9 0.4l0.9 -2.3l0.9 1.2l2.7 1.1l0.9 -1.4l0.9 1.1l0.9 -1l1.8 2.8l0.9 -1.8l1.9 1l0.9 -0.9l0.9 1.2l0.9 -0.7l1.8 1.4l0.9 -0.6l0.9 0.8l0.9 -0.9l4.5 1.6l0.9 -0.6l1 0.8l0.9 -0.3l0.9 1l1.8 -0.5l0.9 0.8l1.8 0.1l0.9 -0.6l0.9 1l1.8 -1l1.8 2l1.8 -1.3l1 0.9l0.9 -0.7l3.6 1.4l6.3 0.3l0.9 1.2l2.8 -0.4l2.7 0.6l0.9 -0.7l1.8 1.4l0.9 -0.7l0.9 0.7l0.9 -1.4l0.9 1.2l3.7 0.2l0.9 -0.7l0.9 0.8l1.8 -0.3l0.9 1.2l0.9 -1.2l1.8 0.5l0.9 1l0.9 -0.7l1.8 0.8l0.9 -1.3l1.9 1.4l5.4 -0.3l0.9 1.4l1.8 0l1.8 -0.9l1.8 1.3l1.9 -0.8l0.9 0.8l1.8 -0.2l0.9 1l0.9 -1.1l2.7 1l4.5 -0.1l0.9 -0.6l1.9 1.2l0.9 0l0.9 -0.9l0.9 0.9l1.8 -0.6l0.9 0.9l3.6 0.5l1.8 -0.6l3.7 1.2l0.9 -1.2l0.9 1.7l1.8 -1.1l0.9 0.9l1.8 -1l0.9 0.9l7.3 -0.4l1.8 1.2l1.8 -0.6l0.9 0.8l0.9 -1l2.7 1l3.7 -0.1l0.9 0.9l0.9 -1.3l1.8 1.4l2.7 -0.8l2.7 0.7l0.9 -1.1l0.9 0.6l0.9 -0.5l0.9 1.2l1 -0.6l0.9 0.7l1.8 -0.5l0.9 0.8l5.4 0.2l1.8 -0.6l0.9 0.7l4.6 -0.5l2.7 0.5l0.9 -0.7l1.8 0.9l1.8 -0.5l0.9 0.7l0.9 -0.3l5.5 1l0.9 -1.4l10 1.6l2.7 -0.6l0.9 0.8l0.9 -1l1.8 0.8l2.7 -0.4l1.8 0.7l0.9 -0.4l0.9 0.8l1.9 -0.9l5.4 0.8l3.6 -0.6l2.7 0.8l1.9 -0.6l2.7 0.7l4.5 -0.6l0.9 0.6l0.9 -0.5l4.6 0.8l5.4 -0.3l0.9 1.2l0.9 -1l0.9 0.6l3.6 -0.7l0.9 0.8l1 -0.5l1.8 0.7l0.9 -0.7l2.7 0.4l0.9 -1l1.8 1.4l5.5 -0.5l1.8 0.5l2.7 -0.5l1.8 0.4l2.7 -0.6l0.9 0.7l9.1 0.1l1.8 -0.6l0.9 0.9l6.4 -0.4l5.4 0.6l1.8 -0.6l2.7 0.7l0.9 -0.6l0.9 0.6l1.9 -0.6l0.9 0.7l7.2 -0.4l0.9 0.6l6.4 0.2l3.6 -0.1l0.9 -0.6l1.8 0.7l5.5 -0.3l0.9 0.6l2.7 -0.7l1.8 0.6l5.4 -0.5l4.6 0.5l5.4 -0.3l0.9 0.5l10 -0.5l1.8 0.7l4.5 -0.7l2.7 0.8l5.5 -0.6l4.5 0.7l2.7 -0.7l8.2 0.8l6.3 -0.6l1 0.5l1.8 -0.3l2.7 0.5l0.9 -0.7l10 0.2l3.6 0.7l2.7 -0.6l1.8 0.5l4.6 -0.4l12.6 0.6l10 -0.5l0.9 0.6l10.9 -0.6l1.8 0.5l6.4 -0.3l2.7 0.6l1.8 -0.7l0.9 0.6l9.1 -0.5l2.7 0.7l4.5 -0.9l1.8 0.6l13.6 -0.3l14.5 0.6l2.8 -0.5l10.8 0.5l6.4 -0.5l3.6 0.7l9.1 -0.5l11.8 0.5l0.9 -0.5l12.7 0.5l19 -0.2" stroke="#ff8c40" stroke-width="3" fill="none" stroke-linejoin="round"/><path d="M417.5 818.7l52.6 0.2l1.8 -1.3l2.7 -8.1l1.8 -21.4l1.8 -46.5l10 -361.2l1.8 -47.7l3.7 -64.1l2.7 -27.5l0.9 -5.9l0.9 -0.2l0.9 -16.3l2.7 -22l0.9 1.3l1.8 -8.8l0.9 4.8l0.9 -4.8l1 0l0.9 4.7l0.9 0.6l1.8 24.1l0.9 -3l2.7 18.7l0.9 -0.1l1.8 18.8l0.9 0.2l0.9 4.1l0.9 11.1l2.8 14.1l2.7 4.6l10.9 88.8l0.9 -0.5l3.6 22.7l3.6 33.8l0.9 4.8l0.9 -6.3l0.9 17.1l0.9 -2.3l1 2.1l0.9 11.8l0.9 -1.8l1.8 12.4l0.9 0.2l1.8 19.6l0.9 0.7l1.8 14.7l0.9 4.3l0.9 -6.8l0.9 13l1.9 8.6l0.9 1.6l3.6 19.8l1.8 2.3l0.9 -1.6l0.9 6.4l0.9 1.3l2.7 18.8l0.9 -0.6l1 9.1l1.8 -4.3l0.9 6.6l0.9 0.7l1.8 12.4l0.9 0.4l0.9 2.5l0.9 -1.5l0.9 0.7l0.9 9.6l1.8 3.5l1.8 7.7l1 -1l1.8 4l0.9 6.2l0.9 -0.5l0.9 6.2l0.9 -4.3l0.9 6.8l0.9 0.3l3.6 11.6l0.9 -6.2l0.9 5.3l1 1.9l0.9 -2.3l0.9 6.8l0.9 0.3l0.9 3l0.9 -0.9l2.7 8.3l1.8 0.2l0.9 8.6l0.9 -2.6l1.8 3.4l1 5.1l0.9 -4.3l0.9 4.8l0.9 0.1l1.8 5.8l0.9 -1.1l0.9 4.2l1.8 -0.5l2.7 3.5l0.9 -3.2l1.9 9l0.9 0l1.8 1.5l1.8 3.6l0.9 -3.6l0.9 4.1l2.7 3.8l0.9 -2l0.9 2.8l0.9 -0.2l0.9 8.8l1 -5.3l1.8 -1l1.8 8.5l0.9 -3.2l1.8 6.1l1.8 -3.2l1.8 2.3l0.9 3.9l0.9 -5.3l0.9 7.2l0.9 -1l1 3.1l0.9 -3.9l0.9 2.3l0.9 0.1l0.9 2.1l1.8 1.4l0.9 4.1l0.9 -4l0.9 0.9l0.9 2.9l1.8 0.3l0.9 -1.4l3.7 7.7l1.8 -1.2l0.9 1.1l1.8 -0.2l1.8 2l0.9 0l1.8 2.3l0.9 -0.2l0.9 3.9l1 -3.9l0.9 4.4l0.9 -2.6l0.9 1.8l0.9 -1.1l1.8 4.1l0.9 -2.4l1.8 2.5l0.9 0.6l0.9 -0.8l0.9 0.8l1.8 4.3l1.9 -1.3l0.9 -1.9l1.8 3.6l0.9 -1.3l0.9 2.3l1.8 0.6l0.9 2.7l0.9 -2.9l2.7 4.2l1.9 -2.6l0.9 3.2l0.9 1l0.9 -1.6l1.8 4.3l0.9 -1.9l2.7 1.3l0.9 -0.7l1.8 2l0.9 0.2l0.9 -1l1.9 0.4l0.9 0.6l0.9 5.4l0.9 -2.5l1.8 -0.8l0.9 2.6l0.9 -3.4l1.8 3.2l0.9 -0.6l1.8 1.8l0.9 -1.2l1.9 2.9l1.8 -0.9l0.9 1.5l0.9 -2.5l0.9 3.1l0.9 -3l1.8 3.8l1.8 -1.9l1.8 3.3l1.8 -3l1 4.2l0.9 -2l3.6 2.1l0.9 -1.2l1.8 2.8l0.9 -2.6l0.9 3.4l0.9 -1.8l0.9 0.7l0.9 -0.8l0.9 1.2l1 -0.5l0.9 1.4l0.9 -0.8l0.9 0.9l0.9 -1.7l0.9 3.3l0.9 -1.7l2.7 2.5l0.9 -0.8l0.9 2.2l0.9 0.1l0.9 -1.9l0.9 2.6l1 -2.8l0.9 1.9l2.7 0l1.8 1.2l0.9 0l0.9 -1l1.8 0.3l2.7 3.5l0.9 -2.1l0.9 0l1 1.4l1.8 -1.2l0.9 1.4l0.9 -0.8l0.9 0.9l0.9 2.2l0.9 -1l1.8 -0.6l0.9 1.5l0.9 -0.2l0.9 0.7l2.8 -1.3l1.8 1.1l2.7 0.6l0.9 -1.1l0.9 3.8l0.9 -1.9l1.8 -0.9l0.9 2.2l1.8 -1.4l1.9 2.7l0.9 -1.2l0.9 0.9l0.9 -1.4l0.9 1.4l0.9 -2.1l1.8 2.6l1.8 0.5l1.8 -1.9l0.9 1.6l0.9 -0.8l0.9 1.7l1.9 -2.4l0.9 3.2l0.9 -2l0.9 0.2l0.9 2.6l1.8 -0.4l0.9 -1.5l0.9 1.3l1.8 -0.7l2.7 1.3l1 -1.1l0.9 1.7l0.9 -1.8l1.8 2.2l0.9 -1l0.9 0.3l0.9 2l0.9 -1.6l0.9 1.3l1.8 -1.4l0.9 1.4l0.9 -0.8l0.9 0.7l0.9 -1.7l1.9 2.6l1.8 0l2.7 -1l3.6 1.2l2.7 -0.3l1.9 2.1l1.8 -1.3l0.9 2.1l1.8 -1.9l1.8 1.3l0.9 -1.9l1.8 1.6l0.9 -1l0.9 0.1l0.9 1.8l0.9 -2.5l1 2.5l0.9 -0.3l0.9 0.6l0.9 -0.7l0.9 1.1l1.8 -1.5l1.8 1.1l0.9 -1.1l0.9 1.7l0.9 -1.1l0.9 0.9l2.8 0l1.8 0.7l1.8 -0.6l1.8 1.2l3.6 -0.5l1.8 0.7l0.9 -0.4l1.9 2l0.9 -1.7l0.9 1.1l1.8 -0.2l0.9 -1l0.9 1.2l0.9 -0.8l2.7 1.3l0.9 -1.2l2.7 -0.6l0.9 1l4.6 1.1l0.9 -1.6l0.9 2.3l0.9 -1.2l0.9 0l1.8 0.9l0.9 -0.4l1.8 0.7l0.9 -0.6l1.9 0.5l0.9 -0.7l0.9 1.1l0.9 -0.8l0.9 0.6l0.9 -0.5l1.8 0.2l0.9 0.8l4.5 -0.9l3.7 2.1l1.8 -0.8l1.8 0.7l0.9 -1.1l1.8 1.2l0.9 -2l0.9 1.2l1.8 -0.2l1 0.8l0.9 -1.2l0.9 1.7l1.8 -0.6l0.9 0.4l0.9 -1.1l0.9 1.6l1.8 -0.9l2.7 0.1l0.9 -0.8l0.9 1.3l1.9 -0.5l0.9 0.6l5.4 0.9l0.9 -0.9l0.9 1l0.9 -1.7l3.6 1.4l1 -0.8l2.7 1l0.9 -0.8l2.7 1.5l1.8 -1l1.8 0.5l2.7 -0.6l1 1.7l0.9 -1.3l1.8 1l1.8 -1l0.9 0.9l1.8 -0.7l2.7 0.8l1.8 -0.8l1.9 1.5l0.9 -1.2l1.8 0.7l0.9 -0.9l0.9 1.3l0.9 -1.5l0.9 1.1l0.9 -0.9l1.8 1.3l3.6 -0.9l1 0.9l1.8 -0.6l2.7 0.8l1.8 -0.7l1.8 0.9l0.9 -1l0.9 1.2l0.9 -0.7l1.8 0.9l3.7 -1.5l0.9 1l1.8 -0.5l1.8 0.8l0.9 -0.9l0.9 0.8l3.6 0.2l1.9 -0.7l1.8 1.1l0.9 -0.5l0.9 0.6l2.7 -1.4l1.8 1.3l0.9 -0.6l0.9 1.1l1.8 -1.3l2.8 1.2l0.9 -0.9l1.8 0.6l0.9 -0.4l1.8 0.9l0.9 -0.9l2.7 0.8l4.6 -0.7l2.7 1.1l2.7 -1.7l0.9 1.5l2.7 -0.5l2.7 0.8l2.8 -1.1l0.9 0.6l2.7 -0.3l1.8 0.6l1.8 -0.5l1.8 0.8l2.8 -0.7l3.6 0.7l3.6 -0.6l0.9 0.7l2.7 -0.8l4.6 0.7l2.7 -0.6l3.6 0.9l0.9 -0.5l4.5 0.6l1.9 -0.7l0.9 0.5l1.8 -0.5l0.9 0.7l1.8 0.1l0.9 -0.6l2.7 0.8l1.8 -0.7l3.7 0.7l1.8 -0.5l7.2 0.5l3.7 -0.6l0.9 0.7l0.9 -0.6l4.5 -0.1l0.9 0.8l3.6 -0.6l4.6 0.8l0.9 -0.6l3.6 -0.2l5.4 0.9l0.9 -0.7l5.5 0.6l2.7 -0.6l2.7 0.7l0.9 -0.6l0.9 0.7l1.9 -0.7l2.7 0.9l5.4 -0.7l3.6 0.7l1.9 -0.9l0.9 0.7l2.7 -0.4l2.7 0.7l1.8 -0.7l3.6 0.8l0.9 -0.6l5.5 0.1l1.8 0.6l0.9 -0.5l5.4 -0.2l1.9 0.6l1.8 -0.5l9 0.2l0.9 0.5l4.6 -0.8l5.4 0.6l5.5 -0.8l0.9 0.9l5.4 -0.4l8.2 0.5l1.8 -0.6l1.8 0.7l0.9 -0.6l1.8 0.9l3.6 -0.9l2.8 0.7l2.7 -0.5l8.1 0.6l8.2 -0.6l12.7 0.6l1.8 -0.5l8.2 0.4l0.9 -0.5l0.9 0.6l12.7 -0.6l0.9 0.8l3.6 -0.4l0.9 -0.7l0.9 0.6l4.5 -0.2l3.7 0.6l19 -0.1l1.8 -0.6l0.9 0.9l2.7 -0.5l1.9 0.6l0.9 -0.7l2.7 0.5l16.3 -0.3" stroke="#ffff00" stroke-width="4" fill="none" stroke-linejoin="round"/><path d="M417.5 818.8l0.9 -0.3l0.9 0.9l0.9 -1.1l1.8 0.9l1.8 -0.9l1.9 0.9l1.8 -0.7l0.9 0.7l2.7 -0.9l0.9 0.6l3.6 -0.3l1.8 0.7l1 -0.6l9.9 0.5l2.7 -0.1l1.9 -0.8l1.8 0.9l0.9 -0.7l7.2 0.5l2.7 -0.6l1 0.7l2.7 -0.1l2.7 -1.6l0.9 -2.1l1.8 -9.6l1.8 -23.1l0.9 -23.4l8.2 -295l2.7 -132.6l0.9 -27.4l0.9 -6.6l0.9 -17.4l0.9 -32.3l3.7 -38.8l0.9 15.1l0.9 -21.5l0.9 9.8l1.8 -23.3l0.9 17l0.9 -16l0.9 2.9l1.8 -5.2l0.9 7.7l0.9 -0.3l1 -6.1l0.9 1.8l1.8 32.7l0.9 -19.3l2.7 43.4l0.9 2.2l0.9 -0.7l0.9 13.7l0.9 -13.1l2.7 33.3l1.9 8.2l0.9 -2.5l0.9 8.6l0.9 5.2l0.9 1.3l0.9 6.5l0.9 -2l1.8 30.5l0.9 0.8l0.9 -2l0.9 20.5l0.9 3.5l0.9 9.8l0.9 2.3l1.9 20.8l0.9 2.8l0.9 -0.8l2.7 18.8l0.9 13l0.9 5.9l0.9 -1.9l0.9 17.7l0.9 -0.9l0.9 15.5l0.9 -3.1l1.9 14.7l0.9 -4.9l0.9 12.1l1.8 6.9l0.9 7.2l0.9 -6.9l0.9 14.6l0.9 0.7l0.9 12.2l0.9 -0.1l2.7 12.8l0.9 0.2l1 -3.2l0.9 12.3l1.8 8.7l0.9 -10.6l3.6 29.5l1.8 2.3l2.7 14l0.9 -2.9l1 3.9l0.9 13.9l0.9 -7l0.9 -2.4l0.9 11.3l0.9 -1.1l0.9 10.1l0.9 -7.3l0.9 11l0.9 3.1l0.9 -1.4l0.9 -8.9l0.9 15l0.9 5.2l0.9 -4.8l0.9 3.3l1 -3.6l0.9 14.2l0.9 3.6l0.9 -3l0.9 -0.7l0.9 2.3l0.9 -0.8l0.9 12.2l1.8 -1.3l0.9 -1.8l2.7 12.8l0.9 -5.4l1 1.6l0.9 -4.7l0.9 12.5l0.9 -4.9l0.9 12.1l0.9 -0.7l1.8 2.9l0.9 3.1l1.8 0.2l0.9 2.9l0.9 -2.3l0.9 4.1l0.9 1.1l1 -3.6l0.9 5.4l1.8 4l0.9 1.1l0.9 -0.4l0.9 5.9l0.9 -5.1l0.9 -0.1l2.7 14.1l0.9 -2.5l1.8 -1.7l1 4.4l0.9 1.5l0.9 -4.6l0.9 8l0.9 -4.3l0.9 1.6l0.9 8l0.9 -3.9l2.7 9.6l0.9 0.2l0.9 -5.1l0.9 3.4l0.9 -1l1 5l0.9 -1.3l0.9 0.8l0.9 4.6l0.9 1.3l0.9 -5.3l1.8 5.8l2.7 -5.4l0.9 8.6l1.8 -6.8l0.9 6.5l0.9 -3.1l1 12l0.9 -10.3l1.8 10.6l0.9 -6.5l2.7 1.1l1.8 6.6l2.7 -1l0.9 3l1.9 -2.2l0.9 2.1l0.9 -4.5l0.9 1l0.9 9.1l0.9 -0.8l0.9 2.4l0.9 0.3l0.9 -3.7l0.9 4.4l0.9 0.7l1.8 -3.4l0.9 3.4l0.9 0.6l1 -2.6l1.8 2.2l0.9 -0.6l0.9 5.2l0.9 -2.4l0.9 2.5l0.9 -3.4l0.9 1l0.9 4.9l0.9 -5.1l0.9 6.4l0.9 -5l1.8 5.7l1 1l0.9 -1.4l0.9 -0.1l0.9 2l0.9 -2.5l0.9 4.9l0.9 -2.7l0.9 0.4l0.9 4.7l0.9 -4.5l1.8 7.1l0.9 -3.8l0.9 -0.4l0.9 -2.1l1 3.5l0.9 -3.9l1.8 1.7l0.9 -0.1l1.8 4.8l0.9 -2.2l0.9 -0.3l2.7 6.4l0.9 -4.3l0.9 1.1l0.9 3.7l1.9 -3.4l0.9 2l0.9 -1.5l0.9 0.5l0.9 4.8l1.8 -3.3l1.8 -1.2l0.9 7l0.9 -3.4l2.7 -2.5l0.9 5.5l1 -0.8l0.9 1.6l0.9 -3.3l0.9 4.4l0.9 -4.5l1.8 1.9l0.9 5.4l1.8 -5l0.9 4.3l0.9 -1.9l0.9 0l0.9 -1.5l2.8 3.2l0.9 -0.5l0.9 0.5l0.9 -1.3l0.9 1.9l0.9 -1.9l0.9 5.1l0.9 -4.9l0.9 2.7l0.9 -2.1l0.9 2.1l1.8 -2l0.9 3.9l1 -0.9l0.9 0.7l0.9 -0.4l0.9 3.4l0.9 -2.3l1.8 1.5l0.9 -0.8l0.9 2.5l0.9 -4.8l0.9 1.9l0.9 -2.2l0.9 4.9l0.9 0.7l0.9 -2.3l1 3.5l0.9 -2.9l0.9 1.7l1.8 -1.2l0.9 0.6l0.9 -2.8l1.8 5.6l0.9 -3.5l0.9 3.9l0.9 -2.1l0.9 2.3l0.9 -0.4l0.9 -3.3l0.9 3.2l1 0.3l1.8 -0.1l0.9 -2.6l0.9 4.3l0.9 0.3l0.9 -2.7l0.9 3.6l1.8 -3.9l0.9 1.9l2.7 1.9l0.9 -0.3l1.9 -2.4l0.9 0.6l0.9 2.4l0.9 0.4l0.9 -1.9l0.9 3.8l0.9 -1.8l0.9 0l0.9 1.3l0.9 -0.1l0.9 -1.8l0.9 3.1l2.8 -2.1l0.9 2.3l0.9 -3.4l0.9 2.1l3.6 1.6l0.9 -2.9l1.8 2.1l0.9 -1.4l0.9 2.5l0.9 -1.7l1.9 2.3l0.9 -2.1l0.9 3.2l0.9 -2.8l0.9 2.2l1.8 -2.7l1.8 2.9l0.9 -0.7l1.8 1.8l0.9 0l1.8 -1.9l1 3.1l0.9 -2l0.9 -0.7l1.8 2.2l0.9 -2.5l0.9 3l1.8 -3.3l0.9 4.7l0.9 -2.8l1.8 0.3l0.9 1.3l0.9 -0.4l0.9 1.4l1 -1.8l0.9 -0.4l1.8 2l1.8 -0.9l2.7 0.3l1.8 3.5l0.9 -3.9l0.9 -0.8l0.9 3.4l2.8 -2.5l0.9 0.5l0.9 -0.6l0.9 1.6l1.8 -0.4l0.9 1.1l0.9 -1.8l0.9 0.8l0.9 -0.3l0.9 1.6l0.9 -1.5l0.9 2.4l0.9 -1.5l1 3.5l1.8 -3.6l0.9 1.4l0.9 -0.6l0.9 2.1l0.9 -3.4l1.8 1.9l1.8 -0.3l0.9 -1l1.8 3.2l1.9 -2.8l1.8 2l0.9 -1l0.9 0.6l0.9 -0.4l0.9 2.3l1.8 -2.2l0.9 1l0.9 -0.5l0.9 -1.6l0.9 2.4l0.9 -0.5l0.9 0.9l1.9 -0.3l1.8 2.2l0.9 -3.4l0.9 1.5l0.9 -1.2l0.9 1.1l2.7 -0.4l0.9 2l0.9 -2.3l0.9 2.2l1.8 -3.3l1 2.5l0.9 -1.5l0.9 2l0.9 -0.9l0.9 0.6l0.9 -0.2l0.9 1.2l0.9 0.1l0.9 -1.1l0.9 1.9l1.8 -2l0.9 1.3l1.8 0.5l1 -1.1l2.7 0.5l0.9 -1.8l1.8 3.6l0.9 -1.8l1.8 0l0.9 1.7l0.9 -2.4l0.9 1.1l0.9 0l0.9 1.4l1 -1.7l0.9 0.5l0.9 -1.2l1.8 2.4l0.9 -1.2l0.9 1l0.9 -1.1l0.9 1.3l0.9 -0.7l3.6 0.7l2.8 -0.6l0.9 0.4l0.9 1.7l1.8 -3l0.9 1l1.8 0l1.8 1.5l0.9 -1.7l0.9 -0.1l3.7 1l2.7 -0.1l0.9 1l1.8 -1.1l1.8 2.4l0.9 -1.9l0.9 1.9l0.9 -3.2l3.7 2.5l0.9 -0.7l1.8 0.5l2.7 -0.9l1.8 2.1l0.9 -1.6l0.9 0.6l1.8 -1.6l0.9 0l0.9 1l1.9 -0.9l0.9 1.2l1.8 -0.5l2.7 1.2l0.9 -0.5l0.9 0.5l0.9 -1l0.9 0.9l0.9 -1.2l0.9 0.2l0.9 1.7l1 -1.6l0.9 1.1l0.9 -1.2l1.8 1l0.9 -0.4l0.9 0.8l0.9 -0.5l2.7 0l0.9 1l0.9 -1l0.9 1.2l0.9 -1.2l1.9 0l0.9 0.9l0.9 -2.4l0.9 2.2l0.9 -0.2l0.9 0.6l0.9 -1.4l0.9 1.3l0.9 -1l0.9 1.3l2.7 -1.1l1.9 1.2l0.9 -0.8l0.9 1.1l1.8 -1.2l0.9 1.6l0.9 -1.6l1.8 1.1l1.8 -0.9l0.9 0.8l1.8 -0.8l3.7 1.1l1.8 -0.9l1.8 0.3l0.9 -0.6l0.9 1l1.8 0.1l0.9 -1.3l0.9 2.3l0.9 -1.3l1.8 0.1l1 -1.3l2.7 2l0.9 -0.8l3.6 0.6l1.8 -1.1l1.8 0.8l0.9 1.2l0.9 -1.6l2.8 0.9l0.9 -0.6l0.9 0.8l0.9 -0.8l0.9 1l1.8 -0.6l0.9 0.9l1.8 -1.1l0.9 1l0.9 -1.2l0.9 0.9l1 -0.6l3.6 1.2l1.8 -0.4l0.9 -1.3l1.8 1.6l0.9 -1.1l1.8 0.7l1.8 -0.6l1 0.7l1.8 -0.3l0.9 0.6l0.9 -0.6l2.7 0.6l1.8 -0.9l1.8 0.9l0.9 -0.7l2.7 -0.2l1 1l2.7 0.1l0.9 -1.4l1.8 1.8l0.9 -1l0.9 0.5l0.9 -0.8l1.8 0.6l5.5 -0.2l0.9 0.8l3.6 -0.8l0.9 0.9l2.7 -0.8l0.9 0.5l1.8 -0.4l1 0.9l0.9 -0.9l0.9 0.6l4.5 -1.1l1.8 1l2.7 -0.9l1.8 1l2.8 -0.2l1.8 1.1l1.8 -1.5l1.8 1.4l0.9 -0.9l0.9 0.8l0.9 -1.6l1.8 1.3l0.9 -0.8l1 0.7l0.9 -0.6l1.8 0.8l0.9 -0.8l0.9 0.9l0.9 -1.2l2.7 1.4l0.9 -1.4l0.9 0.1l0.9 1.1l0.9 -1.2l1.8 0.8l1.9 0l0.9 -0.7l1.8 1.4l0.9 -1.6l1.8 1.3l3.6 -0.5l2.7 0.5l1 -0.7l0.9 0.4l0.9 -0.9l0.9 1.2l0.9 -0.6l1.8 0.6l0.9 -0.8l1.8 0.9l1.8 -0.8l0.9 0.9l0.9 -1l1.9 0.7l1.8 -0.8l1.8 0.6l0.9 -0.6l1.8 1.1l3.6 0.2l0.9 -0.9l1.8 0.3l1 -0.4l0.9 0.7l6.3 -0.6l2.7 1l2.7 -1l1.9 0.3l0.9 -0.5l3.6 1.2l0.9 -0.5l3.6 0.6l0.9 -1.1l0.9 1l1.8 -0.6l1 0.8l1.8 -0.9l3.6 1l0.9 -1.1l2.7 0.8l1.8 -0.9l0.9 1l1.9 0.2l2.7 -1.4l0.9 0.8l1.8 0.3l0.9 -0.6l0.9 0.9l0.9 -0.8l2.7 0.5l1.8 -0.9l1 0.8l1.8 -0.7l0.9 0.8l1.8 0.2l1.8 -0.4l2.7 0.5l2.7 -0.7l8.2 0.5l2.7 -0.6l0.9 0.7l0.9 -0.6l1.8 0.6l1.9 -0.6l0.9 0.7l0.9 -1l0.9 1l6.3 -0.5l1.8 -0.7l1.8 1.7l2.8 -0.9l4.5 0.2l0.9 0.7l0.9 -1.1l3.6 0.6l2.8 -0.6l2.7 0.6l0.9 -0.6l2.7 1l1.8 -0.1l0.9 -0.9l1.8 0.6l1.9 -1l1.8 1.2l2.7 0.1l1.8 -1.2l2.7 0.8l1.8 -0.4l1.8 0.9l1 -1.1l0.9 0.5l2.7 -0.4l0.9 0.6l1.8 -0.6l1.8 0.6l0.9 -0.4l1.8 0.7l1.8 -0.8l1.9 0.7l1.8 -0.5l1.8 0.9l0.9 -1l2.7 0.8l1.8 -0.8l6.4 0.6l2.7 -0.5l1.8 0.5l0.9 -0.8l0.9 0.9l2.7 -0.7l0.9 1l0.9 -0.9l1.9 -0.1l0.9 1l3.6 -1l0.9 0.6" stroke="#808000" stroke-width="6" fill="none" stroke-linejoin="round"/></g><rect x="417.5" y="124.1" width="1019.9" height="695.5" fill="none" stroke="#262626" stroke-width="2.6"/><path d="M417.5 819.6h-16M417.5 756.4h-8.5M417.5 693.1h-16M417.5 629.9h-8.5M417.5 566.7h-16M417.5 503.5h-8.5M417.5 440.2h-16M417.5 377.0h-8.5M417.5 313.8h-16M417.5 250.6h-8.5M417.5 187.3h-16M417.5 124.1h-8.5M417.5 819.6v13M474.2 819.6v6.5M530.8 819.6v13M587.5 819.6v6.5M644.1 819.6v13M700.8 819.6v6.5M757.5 819.6v13M814.1 819.6v6.5M870.8 819.6v13M927.5 819.6v6.5M984.1 819.6v13M1040.8 819.6v6.5M1097.4 819.6v13M1154.1 819.6v6.5M1210.8 819.6v13M1267.4 819.6v6.5M1324.1 819.6v13M1380.7 819.6v6.5M1437.4 819.6v13" stroke="#262626" stroke-width="2.6" fill="none"/><text x="0" y="0" font-size="60.50" transform="translate(350.84,837.41) scale(1.1400,1)" fill="#000">0</text><text x="0" y="0" font-size="60.50" transform="translate(235.80,710.96) scale(1.1400,1)" fill="#000">2000</text><text x="0" y="0" font-size="60.50" transform="translate(235.80,584.50) scale(1.1400,1)" fill="#000">4000</text><text x="0" y="0" font-size="60.50" transform="translate(235.80,458.05) scale(1.1400,1)" fill="#000">6000</text><text x="0" y="0" font-size="60.50" transform="translate(235.80,331.59) scale(1.1400,1)" fill="#000">8000</text><text x="0" y="0" font-size="60.50" transform="translate(197.38,205.14) scale(1.1400,1)" fill="#000">10000</text><text x="0" y="0" font-size="60.50" transform="translate(398.73,889.10) scale(1.1200,1)" fill="#000">5</text><text x="0" y="0" font-size="60.50" transform="translate(491.89,889.10) scale(1.1200,1)" fill="#000">10</text><text x="0" y="0" font-size="60.50" transform="translate(605.32,889.10) scale(1.1200,1)" fill="#000">15</text><text x="0" y="0" font-size="60.50" transform="translate(719.42,889.10) scale(1.1200,1)" fill="#000">20</text><text x="0" y="0" font-size="60.50" transform="translate(832.84,889.10) scale(1.1200,1)" fill="#000">25</text><text x="0" y="0" font-size="60.50" transform="translate(946.47,889.10) scale(1.1200,1)" fill="#000">30</text><text x="0" y="0" font-size="60.50" transform="translate(1059.89,889.10) scale(1.1200,1)" fill="#000">35</text><text x="0" y="0" font-size="60.50" transform="translate(1173.62,889.10) scale(1.1200,1)" fill="#000">40</text><text x="0" y="0" font-size="60.50" transform="translate(1287.05,889.10) scale(1.1200,1)" fill="#000">45</text><text x="0" y="0" font-size="60.50" transform="translate(1399.69,889.10) scale(1.1200,1)" fill="#000">50</text><text x="0" y="0" font-size="50.00" transform="translate(195.67,564.41) rotate(-90) scale(1.1788,1.4605)" fill="#000">Counts</text><text x="0" y="0" font-size="60.90" transform="translate(809.94,961.80) scale(1.1655,1)" fill="#000">Time (ns)</text><path d="M704.1 616.0V691.4" stroke="#000" stroke-width="3.6" fill="none"/><path d="M697.4 689.4L710.8 689.4L704.1 730.6Z" fill="#000"/><text x="0" y="0" font-size="73.28" transform="translate(49.02,111.43) scale(1.1629,1)" fill="#000">a)</text><clipPath id="ciA"><rect x="847.6" y="141.6" width="539.9999999999999" height="385.1"/></clipPath><g clip-path="url(#ciA)"><path d="M847.6 526.2l0.7 0l0.7 0l0.7 0l0.7 0l0.7 0l0.7 0l0.7 0l0.7 0l0.7 0l0.7 0l0.7 0l0.7 0l0.7 0l0.7 0l0.7 0l0.7 0l0.7 0l0.7 0l0.7 0l0.7 0l0.7 0l0.7 0l0.7 0l0.7 0l0.7 0l0.7 0l0.7 0l0.7 0l0.7 0l0.7 0l0.7 0l0.7 0l0.7 0l0.7 0l0.7 0l0.7 0l0.7 0l0.7 0l0.7 0l0.7 0l0.7 0l0.7 0l0.7 0l0.7 0l0.7 0l0.7 0l0.7 0l0.7 0l0.7 0l0.7 0l0.7 0l0.7 0l0.7 0l0.7 0l0.7 0l0.7 0l0.7 0l0.7 0l0.7 0l0.7 0l0.7 0l0.7 0l0.7 0l0.7 0l0.7 0l0.7 0l0.7 0l0.7 0l0.7 0l0.7 0l0.7 0l0.7 0l0.7 0l0.7 0l0.7 0l0.7 0l0.7 0l0.7 0l0.7 0l0.7 0l0.7 0l0.7 0l0.7 0l0.7 0l0.7 0l0.7 0l0.7 0l0.7 0l0.7 0l0.7 0l0.7 0l0.7 0l0.7 0l0.7 0l0.7 0l0.7 0l0.8 0l0.7 0l0.7 0l0.7 0l0.7 0l0.7 0l0.7 0l0.7 0l0.7 0l0.7 0l0.7 0l0.7 0l0.7 0l0.7 0l0.7 -38.1l0.7 -61.3l0.7 -51.8l0.7 -50.5l0.7 -53.5l0.7 -35.2l0.7 -24.6l0.7 -18.6l0.7 -11.6l0.7 -16l0.7 -9.9l0.7 -5.8l0.7 -3.2l0.7 -0.7l0.7 -0.8l0.7 0l0.7 0l0.7 0l0.7 3.9l0.7 4.7l0.7 2.7l0.7 3.8l0.7 2.9l0.7 2.7l0.7 2l0.7 3.6l0.7 4l0.7 3.2l0.7 4l0.7 5.8l0.7 2.6l0.7 3.9l0.7 4.2l0.7 4.6l0.7 2.3l0.7 4.3l0.7 3.4l0.7 2.9l0.7 5.7l0.7 3.9l0.7 2.6l0.7 5l0.7 7.3l0.7 5.6l0.7 5.5l0.7 7.5l0.7 4.1l0.7 5.1l0.7 7.6l0.7 3.7l0.7 5.8l0.7 7.4l0.7 2.5l0.7 6.1l0.7 0.2l0.7 11.5l0.7 0.7l0.7 10.5l0.7 5.9l0.7 6.4l0.7 1.9l0.7 8.6l0.7 2.2l0.7 10.4l0.7 -5.1l0.7 10l0.7 7.8l0.7 0.8l0.7 -2.6l0.7 5.9l0.7 9.4l0.7 -5.6l0.7 15.3l0.7 8.4l0.7 -5.1l0.7 12l0.7 -0.5l0.7 -10.2l0.7 20.4l0.7 6.2l0.7 -8.2l0.7 3.3l0.7 24.2l0.7 -9l0.7 5.5l0.7 -11.3l0.7 10.9l0.7 1.3l0.7 1.5l0.7 16.8l0.7 -3.9l0.7 9.3l0.7 -19.5l0.7 6.4l0.7 13.5l0.7 -4.7l0.7 7.3l0.7 4.3l0.7 -4.8l0.7 8.3l0.7 6.8l0.7 1.2l0.7 12.6l0.7 0.1l0.7 1.4l0.7 2.7l0.7 -9.2l0.7 19.6l0.7 -8.3l0.7 -2.3l0.7 20l0.7 0.7l0.7 0.6l0.7 -3.4l0.7 -2.8l0.7 7.9l0.7 -3.4l0.7 3.9l0.7 -3l0.7 3l0.7 0l0.7 0l0.7 0l0.7 0l0.7 0l0.7 0l0.7 0l0.7 0l0.7 0l0.7 0l0.7 0l0.7 0l0.7 0l0.7 0l0.7 0l0.7 0l0.7 0l0.7 0l0.7 0l0.7 0l0.7 0l0.7 0l0.7 0l0.7 0l0.7 0l0.7 0l0.7 0l0.7 0l0.7 0l0.7 0l0.7 0l0.7 0l0.7 0l0.7 0l0.7 0l0.7 0l0.7 0l0.7 0l0.7 0l0.7 0l0.7 0l0.7 0l0.7 0l0.7 0l0.7 0l0.7 0l0.7 0l0.7 0l0.7 0l0.7 0l0.7 0l0.7 0l0.7 0l0.7 0l0.7 0l0.7 0l0.7 0l0.8 0l0.7 0l0.7 0l0.7 0l0.7 0l0.7 0l0.7 0l0.7 0l0.7 0l0.7 0l0.7 0l0.7 0l0.7 0l0.7 0l0.7 0l0.7 0l0.7 0l0.7 0l0.7 0l0.7 0l0.7 0l0.7 0l0.7 0l0.7 0l0.7 0l0.7 0l0.7 0l0.7 0l0.7 0l0.7 0l0.7 0l0.7 0l0.7 0l0.7 0l0.7 0l0.7 0l0.7 0l0.7 0l0.7 0l0.7 0l0.7 0l0.7 0l0.7 0l0.7 0l0.7 0l0.7 0l0.7 0l0.7 0l0.7 0l0.7 0l0.7 0l0.7 0l0.7 0l0.7 0l0.7 0l0.7 0l0.7 0l0.7 0l0.7 0l0.7 0l0.7 0l0.7 0l0.7 0l0.7 0l0.7 0l0.7 0l0.7 0l0.7 0l0.7 0l0.7 0l0.7 0l0.7 0l0.7 0l0.7 0l0.7 0l0.7 0l0.7 0l0.7 0l0.7 0l0.7 0l0.7 0l0.7 0l0.7 0l0.7 0l0.7 0l0.7 0l0.7 0l0.7 0l0.7 0l0.7 0l0.7 0l0.7 0l0.7 0l0.7 0l0.7 0l0.7 0l0.7 0l0.7 0l0.7 0l0.7 0l0.7 0l0.7 0l0.7 0l0.7 0l0.7 0l0.7 0l0.7 0l0.7 0l0.7 0l0.7 0l0.7 -23.2l0.7 23.2l0.7 -14.3l0.7 0l0.7 10.5l0.7 -16.6l0.7 12.9l0.7 -3.5l0.7 3.5l0.7 -6.8l0.7 6.8l0.7 -6.8l0.7 6.8l0.7 0l0.7 -21.6l0.7 -6.9l0.7 0l0.7 2.2l0.7 0l0.7 2.3l0.7 7.5l0.7 -12l0.7 12l0.7 -5.1l0.7 -14.9l0.7 5.9l0.7 4.3l0.7 2.3l0.7 2.4l0.7 17.1l0.7 -21.7l0.7 2.3l0.7 10.2l0.7 -7.8l0.7 0l0.7 -2.4l0.7 2.4l0.7 7.9l0.7 -7.9l0.7 -4.7l0.7 7.2l0.7 -4.9l0.7 2.4l0.7 0l0.7 -4.7l0.7 7.2l0.7 -7.2l0.7 -2.2l0.7 4.5l0.7 4.9l0.7 0l0.7 26.5l0.7 -22.9l0.7 5.7l0.7 6.5l0.7 -14.9l0.7 25.6l0.7 -7.2l0.7 -9.9l0.7 3.1l0.7 3.3l0.7 7.3l0.7 -10.6l0.7 3.3l0.7 10.7l0.7 -14l0.7 3.3l0.7 -3.3l0.7 0l0.7 14l0.7 0l0.7 0l0.7 0l0.7 0l0.7 0l0.7 0l0.7 0l0.7 0l0.7 0l0.7 0l0.7 0l0.7 0l0.7 0l0.8 0l0.7 -13.9l0.7 -14.1l0.7 8l0.7 -10.5l0.7 30.5l0.7 0l0.7 0l0.7 0l0.7 0l0.7 0l0.7 0l0.7 0l0.7 0l0.7 0l0.7 0l0.7 0l0.7 0l0.7 0l0.7 0l0.7 0l0.7 0l0.7 0l0.7 0l0.7 0l0.7 0l0.7 -34.4l0.7 0l0.7 -2.2l0.7 0l0.7 -2.1l0.7 38.7l0.7 0l0.7 0l0.7 0l0.7 0l0.7 0l0.7 0l0.7 0l0.7 0l0.7 0l0.7 0l0.7 0l0.7 0l0.7 0l0.7 -16.9l0.7 13.8l0.7 -3.8l0.7 0l0.7 6.9l0.7 0l0.7 0l0.7 0l0.7 0l0.7 0l0.7 0l0.7 0l0.7 0l0.7 0l0.7 0l0.7 0l0.7 0l0.7 0l0.7 0l0.7 0l0.7 0l0.7 0l0.7 0l0.7 0l0.7 0l0.7 0l0.7 0l0.7 0l0.7 0l0.7 0l0.7 0l0.7 0l0.7 0l0.7 0l0.7 -22.6l0.7 5.8l0.7 0l0.7 16.8l0.7 0l0.7 0l0.7 0l0.7 0l0.7 0l0.7 0l0.7 0l0.7 0l0.7 0l0.7 0l0.7 0l0.7 0l0.7 0l0.7 0l0.7 -5.5l0.7 -10.3l0.7 15.8l0.7 -18.8l0.7 18.8l0.7 0l0.7 0l0.7 0l0.7 0l0.7 0l0.7 0l0.7 0l0.7 0l0.7 0l0.7 0l0.7 -26.1l0.7 26.1l0.7 -11.4l0.7 11.2l0.7 0.2l0.7 0l0.7 0l0.7 0l0.7 0l0.7 0l0.7 0l0.7 0l0.7 0l0.7 0l0.7 0l0.7 0l0.7 0l0.7 0l0.7 0l0.7 0l0.7 0l0.7 0l0.7 0l0.7 0l0.7 0l0.7 0l0.7 0l0.7 0l0.7 0l0.7 0l0.7 0l0.7 0l0.7 0l0.7 0l0.7 0l0.7 0l0.7 0l0.7 0l0.7 0l0.7 0l0.7 0l0.7 0l0.7 0l0.7 0l0.7 0l0.7 0l0.7 0l0.7 0l0.7 0l0.7 0l0.7 0l0.7 0l0.7 0l0.7 0l0.7 0l0.7 0l0.7 0l0.7 0l0.7 0l0.7 0l0.7 0l0.7 0l0.7 0l0.7 0l0.7 0l0.7 0l0.7 0l0.7 0l0.7 0l0.7 0l0.7 0l0.7 0l0.7 0l0.7 0l0.7 0l0.7 0l0.7 0l0.7 0l0.7 0l0.8 0l0.7 0l0.7 0l0.7 0l0.7 0l0.7 0l0.7 0l0.7 0l0.7 0l0.7 0l0.7 0l0.7 0l0.7 0l0.7 0l0.7 0l0.7 0l0.7 0l0.7 0l0.7 0l0.7 0l0.7 0l0.7 0l0.7 0l0.7 0l0.7 0l0.7 0l0.7 0l0.7 0l0.7 0l0.7 0l0.7 0l0.7 0l0.7 0l0.7 0l0.7 0l0.7 0l0.7 0l0.7 0l0.7 0l0.7 0l0.7 0l0.7 0l0.7 0l0.7 0l0.7 0l0.7 0l0.7 0l0.7 0l0.7 0l0.7 0l0.7 0l0.7 0l0.7 0l0.7 0l0.7 0l0.7 0l0.7 0l0.7 0l0.7 0l0.7 0l0.7 0l0.7 0l0.7 0l0.7 0l0.7 0l0.7 0l0.7 0l0.7 0l0.7 0l0.7 0l0.7 0l0.7 0l0.7 0l0.7 0l0.7 0l0.7 0l0.7 0l0.7 0l0.7 0l0.7 0l0.7 0l0.7 0l0.7 0l0.7 0l0.7 0l0.7 0l0.7 0l0.7 0l0.7 0l0.7 0l0.7 0l0.7 0l0.7 0l0.7 0l0.7 0l0.7 0l0.7 0l-0.7 0l-0.7 0l-0.7 0l-0.7 0l-0.7 0l-0.7 0l-0.7 0l-0.7 0l-0.7 0l-0.7 0l-0.7 0l-0.7 0l-0.7 0l-0.7 0l-0.7 0l-0.7 0l-0.7 0l-0.7 0l-0.7 0l-0.7 0l-0.7 0l-0.7 0l-0.7 0l-0.7 0l-0.7 0l-0.7 0l-0.7 0l-0.7 0l-0.7 0l-0.7 0l-0.7 0l-0.7 0l-0.7 0l-0.7 0l-0.7 0l-0.7 0l-0.7 0l-0.7 0l-0.7 0l-0.7 0l-0.7 0l-0.7 0l-0.7 0l-0.7 0l-0.7 0l-0.7 0l-0.7 0l-0.7 0l-0.7 0l-0.7 0l-0.7 0l-0.7 0l-0.7 0l-0.7 0l-0.7 0l-0.7 0l-0.7 0l-0.7 0l-0.7 0l-0.7 0l-0.7 0l-0.7 0l-0.7 0l-0.7 0l-0.7 0l-0.7 0l-0.7 0l-0.7 0l-0.7 0l-0.7 0l-0.7 0l-0.7 0l-0.7 0l-0.7 0l-0.7 0l-0.7 0l-0.7 0l-0.7 0l-0.7 0l-0.7 0l-0.7 0l-0.7 0l-0.7 0l-0.7 0l-0.7 0l-0.7 0l-0.7 0l-0.7 0l-0.7 0l-0.7 0l-0.7 0l-0.7 0l-0.7 0l-0.7 0l-0.7 0l-0.7 0l-0.8 0l-0.7 0l-0.7 0l-0.7 0l-0.7 0l-0.7 0l-0.7 0l-0.7 0l-0.7 0l-0.7 0l-0.7 0l-0.7 0l-0.7 0l-0.7 0l-0.7 0l-0.7 0l-0.7 0l-0.7 0l-0.7 0l-0.7 0l-0.7 0l-0.7 0l-0.7 0l-0.7 0l-0.7 0l-0.7 0l-0.7 0l-0.7 0l-0.7 0l-0.7 0l-0.7 0l-0.7 0l-0.7 0l-0.7 0l-0.7 0l-0.7 0l-0.7 0l-0.7 0l-0.7 0l-0.7 0l-0.7 0l-0.7 0l-0.7 0l-0.7 0l-0.7 0l-0.7 0l-0.7 0l-0.7 0l-0.7 0l-0.7 0l-0.7 0l-0.7 0l-0.7 0l-0.7 0l-0.7 0l-0.7 0l-0.7 0l-0.7 0l-0.7 0l-0.7 0l-0.7 0l-0.7 0l-0.7 0l-0.7 0l-0.7 0l-0.7 0l-0.7 0l-0.7 0l-0.7 0l-0.7 0l-0.7 0l-0.7 0l-0.7 0l-0.7 0l-0.7 0l-0.7 0l-0.7 0l-0.7 0l-0.7 0l-0.7 0l-0.7 0l-0.7 0l-0.7 0l-0.7 0l-0.7 0l-0.7 0l-0.7 0l-0.7 0l-0.7 0l-0.7 0l-0.7 0l-0.7 0l-0.7 0l-0.7 0l-0.7 0l-0.7 0l-0.7 0l-0.7 0l-0.7 0l-0.7 0l-0.7 0l-0.7 0l-0.7 0l-0.7 0l-0.7 0l-0.7 0l-0.7 0l-0.7 0l-0.7 0l-0.7 0l-0.7 0l-0.7 0l-0.7 0l-0.7 0l-0.7 0l-0.7 0l-0.7 0l-0.7 0l-0.7 0l-0.7 0l-0.7 0l-0.7 0l-0.7 0l-0.7 0l-0.7 0l-0.7 0l-0.7 0l-0.7 0l-0.7 0l-0.7 0l-0.7 0l-0.7 0l-0.7 0l-0.7 0l-0.7 0l-0.7 0l-0.7 0l-0.7 0l-0.7 0l-0.7 0l-0.7 0l-0.7 0l-0.7 0l-0.7 0l-0.7 0l-0.7 0l-0.7 0l-0.7 0l-0.7 0l-0.7 0l-0.7 0l-0.7 0l-0.7 0l-0.7 0l-0.7 0l-0.7 0l-0.7 0l-0.7 0l-0.7 0l-0.7 0l-0.7 -5.5l-0.7 -16.3l-0.7 12.6l-0.7 3.7l-0.7 5.5l-0.7 0l-0.7 0l-0.7 0l-0.7 0l-0.7 0l-0.7 0l-0.7 0l-0.7 0l-0.7 0l-0.7 0l-0.7 0l-0.7 0l-0.7 0l-0.7 0l-0.7 0l-0.7 0l-0.7 0l-0.7 0l-0.7 0l-0.7 0l-0.7 0l-0.7 0l-0.7 -3.3l-0.7 3.3l-0.7 0l-0.7 0l-0.8 0l-0.7 0l-0.7 0l-0.7 0l-0.7 0l-0.7 0l-0.7 0l-0.7 0l-0.7 0l-0.7 0l-0.7 0l-0.7 0l-0.7 0l-0.7 0l-0.7 0l-0.7 0l-0.7 0l-0.7 0l-0.7 0l-0.7 0l-0.7 0l-0.7 0l-0.7 0l-0.7 0l-0.7 0l-0.7 0l-0.7 0l-0.7 0l-0.7 0l-0.7 0l-0.7 0l-0.7 0l-0.7 0l-0.7 0l-0.7 0l-0.7 -4.8l-0.7 -13.4l-0.7 6.3l-0.7 3.5l-0.7 8.4l-0.7 0l-0.7 -8.5l-0.7 3.7l-0.7 3.9l-0.7 -3.9l-0.7 4.8l-0.7 0l-0.7 -0.9l-0.7 -11.1l-0.7 -3.2l-0.7 15.2l-0.7 -15.2l-0.7 14.3l-0.7 0.9l-0.7 -12l-0.7 3.4l-0.7 -3.4l-0.7 12l-0.7 0l-0.7 -1l-0.7 -11l-0.7 12l-0.7 0l-0.7 -8.6l-0.7 3.6l-0.7 5l-0.7 0l-0.7 -15.3l-0.7 7.8l-0.7 7.5l-0.7 0l-0.7 0l-0.7 0l-0.7 0l-0.7 0l-0.7 0l-0.7 0l-0.7 0l-0.7 0l-0.7 0l-0.7 0l-0.7 0l-0.7 0l-0.7 0l-0.7 0l-0.7 0l-0.7 0l-0.7 0l-0.7 0l-0.7 0l-0.7 0l-0.7 0l-0.7 0l-0.7 0l-0.7 0l-0.7 0l-0.7 0l-0.7 0l-0.7 0l-0.7 0l-0.7 0l-0.7 0l-0.7 0l-0.7 0l-0.7 0l-0.7 0l-0.7 0l-0.7 0l-0.7 0l-0.7 0l-0.7 0l-0.7 0l-0.7 0l-0.7 0l-0.7 0l-0.7 0l-0.7 0l-0.7 0l-0.7 0l-0.7 0l-0.7 0l-0.7 0l-0.7 0l-0.7 0l-0.7 0l-0.7 0l-0.7 0l-0.7 0l-0.7 0l-0.7 0l-0.7 0l-0.7 0l-0.7 0l-0.7 0l-0.7 0l-0.7 0l-0.7 0l-0.7 0l-0.7 0l-0.7 0l-0.7 0l-0.7 0l-0.7 0l-0.7 0l-0.7 0l-0.7 0l-0.7 0l-0.7 0l-0.7 0l-0.7 0l-0.7 0l-0.7 0l-0.7 0l-0.7 0l-0.7 0l-0.7 0l-0.7 0l-0.7 0l-0.7 0l-0.7 0l-0.7 0l-0.7 0l-0.7 0l-0.7 0l-0.7 0l-0.7 0l-0.7 0l-0.7 0l-0.7 0l-0.7 0l-0.7 0l-0.7 0l-0.7 0l-0.7 0l-0.7 0l-0.7 0l-0.7 0l-0.7 0l-0.7 0l-0.7 0l-0.7 0l-0.7 0l-0.7 0l-0.7 0l-0.7 0l-0.7 0l-0.7 0l-0.7 0l-0.7 0l-0.7 0l-0.7 0l-0.7 0l-0.7 0l-0.8 0l-0.7 0l-0.7 0l-0.7 0l-0.7 0l-0.7 0l-0.7 0l-0.7 0l-0.7 0l-0.7 0l-0.7 0l-0.7 0l-0.7 0l-0.7 0l-0.7 0l-0.7 0l-0.7 0l-0.7 0l-0.7 0l-0.7 0l-0.7 0l-0.7 0l-0.7 0l-0.7 0l-0.7 0l-0.7 0l-0.7 0l-0.7 0l-0.7 0l-0.7 0l-0.7 0l-0.7 0l-0.7 0l-0.7 0l-0.7 0l-0.7 0l-0.7 0l-0.7 0l-0.7 0l-0.7 0l-0.7 0l-0.7 0l-0.7 0l-0.7 0l-0.7 0l-0.7 0l-0.7 0l-0.7 0l-0.7 0l-0.7 0l-0.7 0l-0.7 0l-0.7 0l-0.7 0l-0.7 0l-0.7 0l-0.7 0l-0.7 0l-0.7 0l-0.7 0l-0.7 0l-0.7 0l-0.7 0l-0.7 0l-0.7 0l-0.7 0l-0.7 0l-0.7 0l-0.7 0l-0.7 0l-0.7 0l-0.7 -14.2l-0.7 14.2l-0.7 -5.1l-0.7 5.1l-0.7 -23.1l-0.7 12.4l-0.7 -19.1l-0.7 5.4l-0.7 -11.5l-0.7 8.2l-0.7 0.3l-0.7 -5.9l-0.7 -7.6l-0.7 0.2l-0.7 -1.9l-0.7 -2.4l-0.7 -6.7l-0.7 8.7l-0.7 -20.6l-0.7 7.3l-0.7 1.8l-0.7 -10.2l-0.7 -5.2l-0.7 -3.2l-0.7 -8l-0.7 2.7l-0.7 3.2l-0.7 -5.3l-0.7 -1.9l-0.7 -1.7l-0.7 -1.3l-0.7 -7.6l-0.7 3.8l-0.7 -16.7l-0.7 -5.8l-0.7 0.2l-0.7 -12.9l-0.7 -18.8l-0.7 6l-0.7 -5.8l-0.7 -2.7l-0.7 -2.5l-0.7 -4.7l-0.7 -12.9l-0.7 4l-0.7 -12.5l-0.7 -1.6l-0.7 -12.6l-0.7 -1.3l-0.7 -6.1l-0.7 -6.2l-0.7 -6.9l-0.7 -4l-0.7 -7.5l-0.7 -3.4l-0.7 -8.5l-0.7 -1.5l-0.7 -6.7l-0.7 -9.4l-0.7 -4.4l-0.7 -7.1l-0.7 -7.2l-0.7 -6.5l-0.7 -2.8l-0.7 -7.3l-0.7 -7l-0.7 -4.4l-0.7 -1.9l-0.7 -6l-0.7 -2.5l-0.7 -4.7l-0.7 -3.9l-0.7 -3.6l-0.7 -3.7l-0.7 -4.1l-0.7 -4l-0.7 -3.8l-0.7 -4.7l-0.7 -4.6l-0.7 -3.1l-0.7 -4.3l-0.7 -3.3l-0.7 -3.3l-0.7 -1.6l-0.7 -2.9l-0.7 -3.4l-0.7 -2.5l-0.7 -4.8l-0.7 -4.9l-0.7 -1.7l-0.7 0.1l-0.7 -0.3l-0.7 1.4l-0.7 1.8l-0.7 4.3l-0.7 9.8l-0.7 11.5l-0.7 18.2l-0.7 15.3l-0.7 25.3l-0.7 30.7l-0.7 52.3l-0.7 46.1l-0.7 53.9l-0.7 45.3l-0.7 64.3l-0.7 0l-0.7 0l-0.7 0l-0.7 0l-0.7 0l-0.7 0l-0.7 0l-0.7 0l-0.7 0l-0.7 0l-0.7 0l-0.7 0l-0.7 0l-0.7 0l-0.8 0l-0.7 0l-0.7 0l-0.7 0l-0.7 0l-0.7 0l-0.7 0l-0.7 0l-0.7 0l-0.7 0l-0.7 0l-0.7 0l-0.7 0l-0.7 0l-0.7 0l-0.7 0l-0.7 0l-0.7 0l-0.7 0l-0.7 0l-0.7 0l-0.7 0l-0.7 0l-0.7 0l-0.7 0l-0.7 0l-0.7 0l-0.7 0l-0.7 0l-0.7 0l-0.7 0l-0.7 0l-0.7 0l-0.7 0l-0.7 0l-0.7 0l-0.7 0l-0.7 0l-0.7 0l-0.7 0l-0.7 0l-0.7 0l-0.7 0l-0.7 0l-0.7 0l-0.7 0l-0.7 0l-0.7 0l-0.7 0l-0.7 0l-0.7 0l-0.7 0l-0.7 0l-0.7 0l-0.7 0l-0.7 0l-0.7 0l-0.7 0l-0.7 0l-0.7 0l-0.7 0l-0.7 0l-0.7 0l-0.7 0l-0.7 0l-0.7 0l-0.7 0l-0.7 0l-0.7 0l-0.7 0l-0.7 0l-0.7 0l-0.7 0l-0.7 0l-0.7 0l-0.7 0l-0.7 0l-0.7 0l-0.7 0l-0.7 0l-0.7 0l-0.7 0l-0.7 0l-0.7 0l-0.7 0l-0.7 0l-0.7 0l-0.7 0l-0.7 0l-0.7 0l-0.7 0l-0.7 0l-0.7 0l-0.7 0l-0.7 0l-0.7 0l-0.7 0Z" fill="#000" stroke="#000" stroke-width="1.08" stroke-linejoin="round"/><path d="M847.6 498.5l0.7 17.6l0.7 -15l0.7 2.7l0.7 -5.3l0.7 0l0.7 2.6l0.7 -13.9l0.7 16.6l0.7 2.8l0.7 0l0.7 -12.9l0.7 2.4l0.7 7.7l0.7 0l0.7 -10.1l0.7 7.4l0.7 0l0.7 2.7l0.7 -7.7l0.7 5l0.7 8.5l0.7 -11.1l0.7 2.6l0.7 -13.9l0.7 16.6l0.7 12.3l0.7 -22.4l0.7 19.1l0.7 -16.7l0.7 10.5l0.7 -8.1l0.7 5.3l0.7 -5.3l0.7 2.6l0.7 -5l0.7 10.5l0.7 -2.8l0.7 -2.7l0.7 11.7l0.7 -11.7l0.7 2.7l0.7 -12.3l0.7 18.1l0.7 -5.8l0.7 0l0.7 5.8l0.7 6.5l0.7 -6.5l0.7 -5.8l0.7 -2.7l0.7 2.7l0.7 5.8l0.7 -3l0.7 -12.9l0.7 7.4l0.7 5.5l0.7 -2.8l0.7 -10.1l0.7 7.4l0.7 11.7l0.7 0l0.7 -21.3l0.7 12.3l0.7 0l0.7 -2.7l0.7 -2.6l0.7 11.1l0.7 3.2l0.7 -6.2l0.7 0l0.7 -2.8l0.7 0l0.7 15.9l0.7 -10.1l0.7 -11.1l0.7 2.6l0.7 -2.6l0.7 -4.8l0.7 4.8l0.7 2.6l0.7 5.5l0.7 3l0.7 -11.1l0.7 5.3l0.7 12.3l0.7 -12.3l0.7 -5.3l0.7 11.1l0.7 -5.8l0.7 -2.7l0.7 2.7l0.7 -7.7l0.7 13.5l0.7 -13.5l0.7 13.5l0.7 -5.8l0.8 2.8l0.7 3l0.7 -11.1l0.7 2.6l0.7 -5l0.7 10.5l0.7 -5.5l0.7 11.7l0.7 -9l0.7 -7.7l0.7 2.4l0.7 2.6l0.7 5.5l0.7 -12.9l0.7 4.8l0.7 11.1l0.7 -26.9l0.7 -31.2l0.7 -42.2l0.7 -46.9l0.7 -36l0.7 -46.8l0.7 -37.7l0.7 -19.3l0.7 -10.3l0.7 -10.9l0.7 -7.2l0.7 -6.2l0.7 -4.9l0.7 -6l0.7 -3.9l0.7 -3.9l0.7 -5.2l0.7 -4.2l0.7 -3.1l0.7 -2.9l0.7 -2.4l0.7 -3.2l0.7 -0.9l0.7 -0.4l0.7 -2l0.7 0.2l0.7 -0.4l0.7 -0.2l0.7 0l0.7 0l0.7 0l0.7 0l0.7 1.1l0.7 0.9l0.7 0.7l0.7 1.6l0.7 -0.4l0.7 0.2l0.7 1.4l0.7 0.3l0.7 0.3l0.7 1l0.7 0.2l0.7 0.2l0.7 2.2l0.7 -0.2l0.7 0.3l0.7 1l0.7 0.5l0.7 1.9l0.7 1l0.7 1.6l0.7 1.8l0.7 2.4l0.7 1.5l0.7 0.8l0.7 1.9l0.7 1.4l0.7 2.1l0.7 1.3l0.7 1.8l0.7 0.5l0.7 2.2l0.7 0.3l0.7 2.1l0.7 1l0.7 2l0.7 1l0.7 2.1l0.7 1l0.7 0.3l0.7 1.6l0.7 0.9l0.7 0.3l0.7 2.6l0.7 1.1l0.7 1.8l0.7 1.4l0.7 -0.3l0.7 2.2l0.7 -0.5l0.7 1.8l0.7 0.3l0.7 2.5l0.7 0.5l0.7 0.9l0.7 1.4l0.7 0.3l0.7 0.7l0.7 1.1l0.7 0.2l0.7 1.8l0.7 1.8l0.7 0.7l0.7 0.8l0.7 -0.9l0.7 2.5l0.7 1.7l0.7 -0.9l0.7 1.3l0.7 1.5l0.7 0.7l0.7 1.3l0.7 1l0.7 0.2l0.7 0l0.7 1.7l0.7 0.3l0.7 1.7l0.7 -0.1l0.7 -0.9l0.7 3.5l0.7 -0.4l0.7 1.6l0.7 0.4l0.7 -0.7l0.7 1.6l0.7 0.5l0.7 0.4l0.7 2.4l0.7 -0.3l0.7 2.7l0.7 -2.3l0.7 0.6l0.7 3.7l0.7 0.3l0.7 -0.7l0.7 2.6l0.7 -0.7l0.7 0.8l0.7 0.6l0.7 1l0.7 1.8l0.7 -0.5l0.7 0.5l0.7 1.1l0.7 0.6l0.7 1.5l0.7 0.6l0.7 -0.8l0.7 2l0.7 -2.1l0.7 3.4l0.7 0.4l0.7 -0.7l0.7 2.2l0.7 0.5l0.7 1.5l0.7 -0.5l0.7 1.8l0.7 0.4l0.7 0.1l0.7 0.2l0.7 1.9l0.7 -2.6l0.7 4l0.7 -1.6l0.7 3.3l0.7 -0.3l0.7 0.1l0.7 1.7l0.7 -0.1l0.7 1.9l0.7 -1.1l0.7 0.1l0.7 1.7l0.7 1.5l0.7 -0.2l0.7 0.4l0.7 0.6l0.7 1.3l0.7 1.2l0.7 -1.1l0.7 0.9l0.7 2.1l0.8 0.2l0.7 -0.9l0.7 1.5l0.7 0.7l0.7 2.9l0.7 0.2l0.7 -1.3l0.7 1.2l0.7 -0.8l0.7 3.7l0.7 0l0.7 -2l0.7 1.6l0.7 2.8l0.7 0.4l0.7 -1.1l0.7 1.2l0.7 -0.1l0.7 1.5l0.7 1.8l0.7 0.6l0.7 -1.1l0.7 2.3l0.7 1.3l0.7 -0.2l0.7 -2.2l0.7 2.2l0.7 1.4l0.7 1.8l0.7 0.3l0.7 -1.5l0.7 0.8l0.7 0.7l0.7 1l0.7 0.3l0.7 1.3l0.7 -0.6l0.7 4l0.7 0.8l0.7 -3.6l0.7 2.7l0.7 0.8l0.7 -2.3l0.7 2.9l0.7 -0.8l0.7 2.2l0.7 0.7l0.7 0.5l0.7 1.7l0.7 -1.3l0.7 -0.9l0.7 3.4l0.7 -0.1l0.7 0.2l0.7 1.8l0.7 0.8l0.7 1.6l0.7 -0.6l0.7 2l0.7 -1.1l0.7 -0.6l0.7 4.3l0.7 -4.8l0.7 0.8l0.7 4.5l0.7 -0.7l0.7 0.7l0.7 1.1l0.7 -1.4l0.7 1.9l0.7 -0.7l0.7 1.9l0.7 1.3l0.7 1.9l0.7 -1l0.7 0.5l0.7 2.7l0.7 -3.5l0.7 2.8l0.7 2.6l0.7 -0.7l0.7 -0.8l0.7 -1.4l0.7 3.2l0.7 0.4l0.7 -0.4l0.7 -0.1l0.7 0.4l0.7 4l0.7 -2.4l0.7 3.2l0.7 -1.3l0.7 0.5l0.7 2.8l0.7 1.7l0.7 -2l0.7 -1.1l0.7 3.4l0.7 -2.8l0.7 1l0.7 5.6l0.7 -2.8l0.7 1.9l0.7 -1.9l0.7 4.7l0.7 -2.6l0.7 -1.2l0.7 4.5l0.7 -2.9l0.7 3.5l0.7 -0.6l0.7 1l0.7 2.5l0.7 -3.7l0.7 -0.5l0.7 0.3l0.7 -1.1l0.7 1.9l0.7 5l0.7 0.6l0.7 -1.1l0.7 2.4l0.7 -6.1l0.7 6.9l0.7 2.3l0.7 -2.1l0.7 -1.5l0.7 -0.2l0.7 2.4l0.7 1.6l0.7 2.3l0.7 1l0.7 -3.3l0.7 -2.5l0.7 5.3l0.7 -2.1l0.7 3.3l0.7 -2.2l0.7 2.4l0.7 2.6l0.7 -2.1l0.7 3.9l0.7 -0.5l0.7 -4.1l0.7 5.4l0.7 -4.4l0.7 3.6l0.7 -2.1l0.7 2.4l0.7 -0.3l0.7 1.6l0.7 -0.8l0.7 1.7l0.7 -1.1l0.7 1.3l0.7 -1.1l0.7 4.3l0.7 -2.9l0.7 9.2l0.7 -3.9l0.7 -2.4l0.7 -0.3l0.7 4.3l0.7 1l0.7 -3.2l0.7 2.9l0.7 -1.6l0.7 -3.4l0.7 3.7l0.7 -1l0.7 1.6l0.7 4.3l0.7 1.1l0.7 2.5l0.7 -4.6l0.7 2.8l0.7 -2.1l0.7 2.1l0.7 -1.4l0.7 -0.7l0.7 2.1l0.7 -1.8l0.7 0l0.7 5.5l0.7 -4.4l0.7 5.9l0.7 -2.3l0.7 5.1l0.7 -9.4l0.7 6.6l0.7 2l0.7 -5.8l0.7 3l0.8 4l0.7 2.2l0.7 -6.2l0.7 8.4l0.7 -4.8l0.7 0.4l0.7 1.3l0.7 -2.5l0.7 3.4l0.7 5.4l0.7 -0.5l0.7 -5.8l0.7 6.3l0.7 -4.6l0.7 1.4l0.7 0.4l0.7 4.2l0.7 0.5l0.7 2l0.7 -3.4l0.7 0.5l0.7 1.4l0.7 -1l0.7 1l0.7 3.1l0.7 -3.1l0.7 1l0.7 -3.9l0.7 2.9l0.7 -4.7l0.7 6.2l0.7 -1.5l0.7 2.1l0.7 -2.1l0.7 8.1l0.7 -5l0.7 -3.1l0.7 1l0.7 5.9l0.7 -3.8l0.7 6.1l0.7 0.6l0.7 -2.3l0.7 0l0.7 3.5l0.7 -1.2l0.7 -2.9l0.7 8.5l0.7 -1.9l0.7 -7.1l0.7 -4.3l0.7 5.4l0.7 0l0.7 5.4l0.7 -1.9l0.7 3.1l0.7 0.7l0.7 -1.3l0.7 -2.5l0.7 1.9l0.7 0.6l0.7 -0.6l0.7 -1.3l0.7 2.5l0.7 -0.6l0.7 7.5l0.7 -5.6l0.7 -4.4l0.7 10l0.7 -2.2l0.7 0.7l0.7 -4.1l0.7 5.6l0.7 2.9l0.7 -5.1l0.7 6.7l0.7 -2.3l0.7 -7.8l0.7 7.8l0.7 -3.7l0.7 -3.4l0.7 2l0.7 2.1l0.7 6.1l0.7 0.8l0.7 -6.9l0.7 -1.4l0.7 1.4l0.7 2.2l0.7 3.9l0.7 5.9l0.7 -8.3l0.7 -2.9l0.7 4.5l0.7 -0.8l0.7 3.2l0.7 -2.4l0.7 5l0.7 -14.4l0.7 10.2l0.7 1.6l0.7 3.4l0.7 -7.4l0.7 11l0.7 1l0.7 -4.6l0.7 0.9l0.7 -2.6l0.7 2.6l0.7 1.8l0.7 -9.2l0.7 4l0.7 8.1l0.7 -12.8l0.7 1.6l0.7 12.2l0.7 -9.8l0.7 7l0.7 -1.8l0.7 -6.7l0.7 7.7l0.7 2.8l0.7 -7.1l0.7 6.2l0.7 -7.8l0.7 11.6l0.7 -2.8l0.7 2.9l0.7 -2.9l0.7 -0.9l0.7 -2.6l0.7 12.7l0.7 -14.4l0.7 8.2l0.7 1.1l0.7 -3.8l0.7 4.8l0.7 4.3l0.7 -9.9l0.7 6.7l0.7 5.4l0.7 -2.2l0.7 -4.1l0.7 0l0.7 -5.6l0.7 6.7l0.7 -4.8l0.7 10.2l0.7 -3.2l0.7 5.6l0.7 -5.5l0.7 -2.1l0.7 -1.9l0.7 9.6l0.7 -6.5l0.7 0l0.7 5.5l0.7 -3.3l0.7 -1l0.7 7.8l0.7 -5.6l0.7 1.1l0.7 5.8l0.7 -2.3l0.7 -5.5l0.7 -1l0.7 -4l0.7 1l0.7 6.3l0.7 5.8l0.7 -2.3l0.7 -3.4l0.7 7l0.7 -1.2l0.7 -1.1l0.7 -2.3l0.7 0l0.7 0.1l0.7 -2.2l0.7 2.3l0.7 4.8l0.7 3.8l0.7 -14.9l0.7 8.8l0.7 -2.3l0.7 3.5l0.7 9.2l0.7 -7.8l0.7 -2.4l0.7 -2.3l0.7 3.6l0.8 -3.5l0.7 3.6l0.7 6.4l0.7 -2.6l0.7 5.4l0.7 -4.1l0.7 -2.4l0.7 1.3l0.7 0l0.7 -4.8l0.7 4.9l0.7 -2.4l0.7 7.8l0.7 -5.3l0.7 0.1l0.7 -2.5l0.7 -4.6l0.7 4.7l0.7 1.3l0.7 1.3l0.7 8.3l0.7 -2.9l0.7 4.5l0.7 -1.5l0.7 -4.2l0.7 0l0.7 -1.2l0.7 -2.6l0.7 2.7l0.7 1.4l0.7 4.3l0.7 -1.4l0.7 -2.8l0.7 -9.9l0.7 12.8l0.7 -6.7l0.7 -2.4l0.7 13.7l0.7 -7.2l0.7 -8.8l0.7 16.2l0.7 -5.9l0.7 -1.3l0.7 8.9l0.7 -11.5l0.7 0.1l0.7 18.3l0.7 -14.2l0.7 -1.3l0.7 1.4l0.7 7.5l0.7 1.7l0.7 -21.5l0.7 18.4l0.7 -5.8l0.7 5.9l0.7 8.4l0.7 -9.8l0.7 -1.5l0.7 6.3l0.7 1.7l0.7 1.8l0.7 -1.7l0.7 -14.7l0.7 14.8l0.7 -7.8l0.7 0l0.7 0.1l0.7 6.3l0.7 5.2l0.7 -11.4l0.7 9.7l0.7 -9.5l0.7 4.6l0.7 3.4l0.7 -1.7l0.7 -1.6l0.7 -1.5l0.7 -3l0.7 4.7l0.7 -1.5l0.7 -3l0.7 6.3l0.7 9l0.7 -13.7l0.7 3.2l0.7 -4.5l0.7 -1.5l0.7 14.8l0.7 -7l0.7 7.2l0.7 -5.4l0.7 1.8l0.7 3.7l0.7 -7l0.7 9l0.7 -7.2l0 25.5l-0.7 0l-0.7 -2.7l-0.7 8.2l-0.7 -8.4l-0.7 5.4l-0.7 0l-0.7 20.2l-0.7 -25.8l-0.7 5.4l-0.7 -10.4l-0.7 4.9l-0.7 5.3l-0.7 -8l-0.7 -4.7l-0.7 -2.3l-0.7 14.8l-0.7 -8l-0.7 5.1l-0.7 -2.7l-0.7 14.6l-0.7 -21.9l-0.7 7.2l-0.7 -5l-0.7 19.5l-0.7 -9.3l-0.7 -14.9l-0.7 4.5l-0.7 2.3l-0.7 2.5l-0.7 -7.3l-0.7 7.2l-0.7 8.2l-0.7 -10.8l-0.7 2.4l-0.7 -7.2l-0.7 -2.3l-0.7 2.2l-0.7 -0.1l-0.7 4.7l-0.7 -2.5l-0.7 7.5l-0.7 -12.1l-0.7 9.4l-0.7 -22.9l-0.7 9.2l-0.7 6.3l-0.7 -8.4l-0.7 15.5l-0.7 0l-0.7 -0.1l-0.7 -9.4l-0.7 -10l-0.7 1.8l-0.7 5.9l-0.7 -4.1l-0.7 0l-0.7 6.1l-0.7 -2.1l-0.7 -0.1l-0.7 6.6l-0.7 -6.7l-0.7 0l-0.7 -13l-0.7 19.5l-0.7 -4.5l-0.7 -0.1l-0.7 -2.1l-0.7 -0.1l-0.7 -4.1l-0.7 10.7l-0.7 -16.3l-0.7 -5.1l-0.7 21.3l-0.7 -6.7l-0.7 -11.4l-0.7 1.7l-0.7 1.7l-0.7 9.9l-0.7 -8.1l-0.7 -5.4l-0.7 5.3l-0.7 3.9l-0.7 6.4l-0.7 -4.4l-0.7 -9.7l-0.7 7.6l-0.7 2l-0.7 -7.9l-0.7 1.8l-0.7 -3.7l-0.7 -8.2l-0.7 10l-0.7 -1.9l-0.7 7.6l-0.7 0l-0.7 -5.9l-0.8 0l-0.7 -3.6l-0.7 1.7l-0.7 24.3l-0.7 -24.3l-0.7 -1.8l-0.7 1.7l-0.7 -11.3l-0.7 4.5l-0.7 10.4l-0.7 -13.6l-0.7 3.1l-0.7 -7.5l-0.7 22l-0.7 -9.6l-0.7 7.5l-0.7 -2l-0.7 10.6l-0.7 -27.2l-0.7 11l-0.7 -1.7l-0.7 -9.4l-0.7 4.4l-0.7 3.2l-0.7 -1.6l-0.7 -3.2l-0.7 -4.4l-0.7 5.9l-0.7 3.2l-0.7 -10.6l-0.7 9l-0.7 -4.7l-0.7 -8.4l-0.7 16.4l-0.7 -6.6l-0.7 -16l-0.7 10.2l-0.7 2.8l-0.7 9.6l-0.7 -6.6l-0.7 1.6l-0.7 5l-0.7 -6.6l-0.7 -3.1l-0.7 3.1l-0.7 -11.3l-0.7 -2.6l-0.7 13.9l-0.7 -6l-0.7 -2.8l-0.7 0l-0.7 7.2l-0.7 -7.2l-0.7 10.4l-0.7 -6.2l-0.7 -2.8l-0.7 -5.4l-0.7 6.8l-0.7 -6.8l-0.7 1.3l-0.7 1.3l-0.7 12l-0.7 -15.9l-0.7 2.6l-0.7 5.6l-0.7 -5.6l-0.7 10.2l-0.7 -14l-0.7 5.2l-0.7 -5.2l-0.7 6.6l-0.7 -10.2l-0.7 10.3l-0.7 -6.7l-0.7 -5.9l-0.7 11.3l-0.7 -4l-0.7 -5l-0.7 -1.2l-0.7 0.1l-0.7 0l-0.7 -2.3l-0.7 6l-0.7 -2.5l-0.7 0l-0.7 -2.4l-0.7 4.9l-0.7 -7.1l-0.7 -2.2l-0.7 3.3l-0.7 8.5l-0.7 -9.6l-0.7 2.2l-0.7 -2.2l-0.7 -1.1l-0.7 1.1l-0.7 -4.3l-0.7 6.5l-0.7 2.4l-0.7 -2.4l-0.7 -5.4l-0.7 7.8l-0.7 -12.8l-0.7 3.9l-0.7 0l-0.7 0l-0.7 0l-0.7 8.9l-0.7 -7.8l-0.7 -6.9l-0.7 0.9l-0.7 -6.1l-0.7 5.2l-0.7 3.8l-0.7 -8.2l-0.7 9.2l-0.7 -11.7l-0.7 5.1l-0.7 0l-0.7 8.7l-0.7 -9.6l-0.7 -5l-0.7 5.9l-0.7 -4.3l-0.7 4.3l-0.7 -2.6l-0.7 -2.5l-0.7 6l-0.7 -9.9l-0.7 3.9l-0.7 4.2l-0.7 4.6l-0.7 -1.9l-0.7 -13l-0.7 8.6l-0.7 -2.5l-0.7 4.2l-0.7 -0.8l-0.7 -11l-0.7 10.1l-0.7 -6.4l-0.7 -3l-0.7 5.3l-0.7 4.1l-0.7 -7.2l-0.7 -5.6l-0.7 4.2l-0.7 -0.8l-0.7 1.5l-0.7 9.6l-0.7 -11.1l-0.7 0.8l-0.7 4.5l-0.7 -4.5l-0.7 -8.8l-0.7 8.8l-0.7 0l-0.7 -5.6l-0.7 6.3l-0.7 -4.9l-0.7 5.6l-0.7 -8.9l-0.7 -1.9l-0.7 6.5l-0.7 -1.3l-0.7 -5.2l-0.7 1.3l-0.7 -3.1l-0.7 8.3l-0.7 -10.6l-0.7 11.3l-0.7 -8.4l-0.7 0l-0.7 -2.3l-0.7 1.7l-0.7 -6.7l-0.7 11l-0.7 -6.6l-0.7 3.5l-0.7 -8.9l-0.7 3.2l-0.7 3.3l-0.7 -6l-0.7 0.5l-0.7 3.3l-0.7 5.2l-0.7 -4.1l-0.7 -2.2l-0.7 -1.7l-0.7 0l-0.7 -0.5l-0.8 -4.1l-0.7 2l-0.7 -0.5l-0.7 -5.7l-0.7 -0.4l-0.7 3.7l-0.7 -3.3l-0.7 2.3l-0.7 -3.6l-0.7 -2.2l-0.7 2.2l-0.7 -2.2l-0.7 0.4l-0.7 3.1l-0.7 1.9l-0.7 -6.7l-0.7 -0.8l-0.7 -1.2l-0.7 4.2l-0.7 -2.6l-0.7 1.7l-0.7 -2.5l-0.7 -2.8l-0.7 3.2l-0.7 1.3l-0.7 -7.5l-0.7 3.4l-0.7 -0.7l-0.7 -0.4l-0.7 -1.9l-0.7 -0.4l-0.7 -6.2l-0.7 8.9l-0.7 -1.2l-0.7 -2.6l-0.7 -4.4l-0.7 4.8l-0.7 -1.8l-0.7 2.2l-0.7 -3.9l-0.7 2.8l-0.7 -4.1l-0.7 -0.7l-0.7 -4.7l-0.7 0.6l-0.7 1.9l-0.7 -1l-0.7 2.6l-0.7 -1.9l-0.7 -2.5l-0.7 -0.9l-0.7 0.6l-0.7 -2.6l-0.7 0.6l-0.7 2l-0.7 -5.6l-0.7 1.1l-0.7 -1.7l-0.7 0.3l-0.7 3.3l-0.7 -4.6l-0.7 2.7l-0.7 -1.1l-0.7 1.6l-0.7 -1.1l-0.7 -4.2l-0.7 1.8l-0.7 -1.5l-0.7 -1.3l-0.7 -0.4l-0.7 -2.9l-0.7 2.9l-0.7 2.2l-0.7 -2l-0.7 -1.9l-0.7 0.2l-0.7 -3.5l-0.7 -1.7l-0.7 4.5l-0.7 -2.5l-0.7 -2.4l-0.7 2.6l-0.7 -2.9l-0.7 -0.4l-0.7 -4.5l-0.7 2.2l-0.7 0l-0.7 1.9l-0.7 0.6l-0.7 -0.2l-0.7 -5.8l-0.7 0.6l-0.7 2.9l-0.7 -2.2l-0.7 0.4l-0.7 -1l-0.7 0.4l-0.7 -2.8l-0.7 -0.8l-0.7 -2.5l-0.7 1.3l-0.7 0.3l-0.7 2.1l-0.7 -6.2l-0.7 0.3l-0.7 -0.3l-0.7 -0.7l-0.7 -1l-0.7 -1.9l-0.7 2.6l-0.7 -0.8l-0.7 0l-0.7 -4.8l-0.7 2.2l-0.7 -1l-0.7 0.3l-0.7 -3.1l-0.7 -0.2l-0.7 2.7l-0.7 -4.8l-0.7 0.7l-0.7 1l-0.7 -0.8l-0.7 -2.8l-0.7 0.6l-0.7 -1.6l-0.7 0.8l-0.7 -0.3l-0.7 -1.3l-0.7 0.1l-0.7 -2.6l-0.7 -1.4l-0.7 1.6l-0.7 -0.7l-0.7 0.5l-0.7 0.2l-0.7 -1.1l-0.7 -0.1l-0.7 -3.2l-0.7 1.4l-0.7 -0.1l-0.7 -4.4l-0.7 4.4l-0.7 -5.5l-0.7 0.8l-0.7 -0.9l-0.7 1l-0.7 -1.3l-0.7 0.2l-0.7 -4.2l-0.7 1.8l-0.7 -1.4l-0.7 -1.3l-0.7 0.6l-0.7 -0.6l-0.7 -1.8l-0.7 -0.1l-0.7 1.6l-0.7 -2.4l-0.7 -1.4l-0.7 -1.6l-0.7 2.8l-0.7 -3.6l-0.7 1.7l-0.7 -1.9l-0.7 -1.5l-0.7 -1.4l-0.7 -0.9l-0.7 1.7l-0.7 -0.8l-0.7 -2l-0.7 1.4l-0.7 -2.1l-0.7 -0.2l-0.7 -1.6l-0.7 -1.3l-0.7 0.2l-0.7 0.9l-0.7 -0.8l-0.7 -0.3l-0.7 -2.3l-0.7 -1.6l-0.7 0.8l-0.7 -0.5l-0.7 -1.5l-0.7 0.4l-0.7 -1.2l-0.7 -2l-0.7 0.9l-0.7 -2.5l-0.7 -0.9l-0.7 0.7l-0.7 -0.5l-0.8 -0.6l-0.7 -0.3l-0.7 -2l-0.7 -1.1l-0.7 -1.3l-0.7 1l-0.7 -1.1l-0.7 0l-0.7 -1.1l-0.7 -0.9l-0.7 3.7l-0.7 -3.3l-0.7 -0.4l-0.7 -3.5l-0.7 1.9l-0.7 -1l-0.7 -3.3l-0.7 0.2l-0.7 2.5l-0.7 -3.3l-0.7 0.9l-0.7 -2.9l-0.7 -0.9l-0.7 0.9l-0.7 -1.8l-0.7 -0.6l-0.7 -1.5l-0.7 0l-0.7 -0.9l-0.7 -0.2l-0.7 -0.9l-0.7 -1l-0.7 -0.9l-0.7 1.5l-0.7 -1.7l-0.7 -1.8l-0.7 -0.2l-0.7 -1.5l-0.7 -0.8l-0.7 -1.2l-0.7 1.6l-0.7 -2.7l-0.7 0.6l-0.7 -1.5l-0.7 -1.4l-0.7 -0.4l-0.7 1.9l-0.7 -1.5l-0.7 0l-0.7 -3.2l-0.7 -1.2l-0.7 -0.3l-0.7 0.3l-0.7 -0.3l-0.7 -1.8l-0.7 0l-0.7 -2.1l-0.7 0.3l-0.7 -2.5l-0.7 0l-0.7 -0.9l-0.7 -0.4l-0.7 -1.2l-0.7 0.9l-0.7 -2.2l-0.7 0.4l-0.7 -1.6l-0.7 -1.4l-0.7 0.2l-0.7 -1.1l-0.7 -1.8l-0.7 0.3l-0.7 -1.1l-0.7 -0.8l-0.7 -0.8l-0.7 -1.3l-0.7 -0.2l-0.7 -1.1l-0.7 -2.1l-0.7 0.1l-0.7 -1.3l-0.7 -0.9l-0.7 -0.7l-0.7 -1.5l-0.7 -0.4l-0.7 -1.5l-0.7 -1.3l-0.7 -0.1l-0.7 -1.1l-0.7 -2.3l-0.7 1.3l-0.7 -1.9l-0.7 -1.7l-0.7 -0.7l-0.7 -1l-0.7 1l-0.7 -2.8l-0.7 -1.2l-0.7 -1.4l-0.7 -1.4l-0.7 -0.3l-0.7 -0.9l-0.7 -2.4l-0.7 -1.3l-0.7 -0.3l-0.7 -1.7l-0.7 -0.9l-0.7 -2l-0.7 -0.8l-0.7 -0.6l-0.7 -2.7l-0.7 -1.2l-0.7 -1l-0.7 -1.7l-0.7 -1.6l-0.7 -1l-0.7 -1.6l-0.7 -1.8l-0.7 -2.2l-0.7 -0.7l-0.7 -1.5l-0.7 -1.4l-0.7 -2.2l-0.7 -2.1l-0.7 -1.7l-0.7 -0.6l-0.7 -1.9l-0.7 -1.1l-0.7 -1.3l-0.7 -0.2l-0.7 -0.6l-0.7 -0.9l-0.7 -0.5l-0.7 -0.1l-0.7 -0.1l-0.7 -1.7l-0.7 -0.2l-0.7 -0.8l-0.7 0.3l-0.7 -1l-0.7 -0.8l-0.7 -0.9l-0.7 -0.4l-0.7 -2l-0.7 0.5l-0.7 -1.3l-0.7 0.2l-0.7 -0.2l-0.7 0.9l-0.7 0.5l-0.7 0.4l-0.7 1.1l-0.7 1l-0.7 1.8l-0.7 3.1l-0.7 2.4l-0.7 4.4l-0.7 2.7l-0.7 5.1l-0.7 4.4l-0.7 5l-0.7 4.8l-0.7 4.9l-0.7 6.6l-0.7 6.7l-0.7 8.7l-0.7 12.9l-0.7 18.4l-0.7 34.1l-0.7 40.7l-0.7 42.8l-0.7 36.8l-0.7 47.8l-0.7 42.1l-0.7 41l-0.7 0l-0.7 -6.5l-0.7 6.5l-0.7 0l-0.7 0l-0.7 0l-0.7 -2.7l-0.7 2.7l-0.7 0l-0.7 0l-0.7 0l-0.7 0l-0.7 0l-0.7 -2.7l-0.7 2.7l-0.7 0l-0.8 0l-0.7 -2.7l-0.7 2.7l-0.7 -2.7l-0.7 2.7l-0.7 0l-0.7 0l-0.7 -6.5l-0.7 6.5l-0.7 0l-0.7 -2.7l-0.7 2.7l-0.7 0l-0.7 0l-0.7 0l-0.7 0l-0.7 -2.7l-0.7 2.7l-0.7 0l-0.7 -6.5l-0.7 6.5l-0.7 0l-0.7 0l-0.7 0l-0.7 -6.5l-0.7 6.5l-0.7 0l-0.7 0l-0.7 0l-0.7 0l-0.7 -2.7l-0.7 2.7l-0.7 0l-0.7 0l-0.7 0l-0.7 0l-0.7 0l-0.7 0l-0.7 0l-0.7 0l-0.7 0l-0.7 -6.5l-0.7 3.8l-0.7 2.7l-0.7 0l-0.7 0l-0.7 0l-0.7 0l-0.7 -2.7l-0.7 2.7l-0.7 0l-0.7 -6.5l-0.7 6.5l-0.7 0l-0.7 0l-0.7 -10.1l-0.7 3.6l-0.7 6.5l-0.7 0l-0.7 -2.7l-0.7 -3.8l-0.7 6.5l-0.7 0l-0.7 0l-0.7 -2.7l-0.7 0l-0.7 0l-0.7 2.7l-0.7 0l-0.7 -13.4l-0.7 13.4l-0.7 0l-0.7 0l-0.7 0l-0.7 0l-0.7 0l-0.7 0l-0.7 0l-0.7 0l-0.7 -6.5l-0.7 0l-0.7 6.5l-0.7 -6.5l-0.7 6.5l-0.7 0l-0.7 0l-0.7 0l-0.7 -2.7l-0.7 2.7l-0.7 -10.1l-0.7 7.4l-0.7 2.7l-0.7 -10.1l-0.7 7.4l-0.7 -3.8l-0.7 6.5l-0.7 -2.7Z" fill="#00ff00" stroke="#00ff00" stroke-width="1.32" stroke-linejoin="round"/><path d="M847.6 506.6l0.7 3l0.7 -8.5l0.7 0l0.7 -7.4l0.7 12.9l0.7 0l0.7 -5.5l0.7 0l0.7 2.7l0.7 9l0.7 -3.2l0.7 -3l0.7 -8.1l0.7 5.3l0.7 2.8l0.7 -5.5l0.7 2.7l0.7 0l0.7 5.8l0.7 -8.5l0.7 0l0.7 -13.9l0.7 22.4l0.7 -5.8l0.7 -10.1l0.7 4.8l0.7 0l0.7 8.1l0.7 -5.5l0.7 -2.6l0.7 0l0.7 2.6l0.7 5.5l0.7 -10.5l0.7 5l0.7 8.5l0.7 -11.1l0.7 5.3l0.7 -7.7l0.7 20l0.7 -15l0.7 -7.4l0.7 -6.5l0.7 6.5l0.7 -6.5l0.7 8.9l0.7 2.4l0.7 -7l0.7 9.6l0.7 2.7l0.7 -7.7l0.7 -4.6l0.7 12.3l0.7 -2.7l0.7 5.5l0.7 3l0.7 -3l0.7 0l0.7 -5.5l0.7 -5l0.7 5l0.7 11.7l0.7 0l0.7 -19.1l0.7 10.1l0.7 -5.3l0.7 8.1l0.7 -8.1l0.7 2.6l0.7 2.7l0.7 -10.1l0.7 0l0.7 -2.2l0.7 15.1l0.7 -2.8l0.7 5.8l0.7 0l0.7 3.2l0.7 -3.2l0.7 -8.5l0.7 -2.6l0.7 -4.8l0.7 2.4l0.7 5l0.7 5.5l0.7 -8.1l0.7 -7l0.7 24.6l0.7 -17.6l0.7 -4.8l0.7 2.4l0.7 5l0.7 -5l0.7 0l0.7 10.5l0.7 0l0.8 -12.9l0.7 15.9l0.7 3.2l0.7 -19.1l0.7 22.4l0.7 -12.3l0.7 -2.7l0.7 -7.4l0.7 7.4l0.7 -7.4l0.7 19.1l0.7 -3.2l0.7 -5.8l0.7 -2.7l0.7 5.5l0.7 -8.1l0.7 -10.9l0.7 -49.4l0.7 -44.5l0.7 -41.4l0.7 -35.1l0.7 -41.2l0.7 -33.9l0.7 -20.5l0.7 -12.3l0.7 -9.8l0.7 -8.2l0.7 -7.3l0.7 -5.8l0.7 -4l0.7 -3.4l0.7 -5.8l0.7 -3l0.7 -4.4l0.7 -2.6l0.7 -2.8l0.7 -2.2l0.7 -2.2l0.7 -1.1l0.7 -0.3l0.7 -1.4l0.7 0.4l0.7 -0.7l0.7 -0.1l0.7 0.1l0.7 -0.1l0.7 0.7l0.7 0.4l0.7 1.1l0.7 1.2l0.7 0.7l0.7 -0.3l0.7 0.8l0.7 1.3l0.7 0.7l0.7 0.2l0.7 0.4l0.7 1.3l0.7 1l0.7 0.1l0.7 0.7l0.7 0.9l0.7 0.6l0.7 1.4l0.7 -0.1l0.7 2.2l0.7 1.3l0.7 2l0.7 1.4l0.7 2.2l0.7 1.6l0.7 0.4l0.7 1.8l0.7 1.9l0.7 1.9l0.7 1.5l0.7 0.8l0.7 1.7l0.7 1.6l0.7 1.6l0.7 -0.8l0.7 2.7l0.7 2l0.7 1.3l0.7 1.2l0.7 1.8l0.7 -0.3l0.7 1.4l0.7 1.9l0.7 0.3l0.7 0.4l0.7 2.4l0.7 1.2l0.7 1l0.7 1.6l0.7 -0.7l0.7 3.1l0.7 -0.1l0.7 0.3l0.7 2.1l0.7 1.4l0.7 -0.1l0.7 2.1l0.7 -0.4l0.7 1.4l0.7 0.7l0.7 1.3l0.7 1.4l0.7 1l0.7 0.4l0.7 -0.9l0.7 2.8l0.7 0.8l0.7 0.4l0.7 2l0.7 0.8l0.7 0.6l0.7 1.2l0.7 1.3l0.7 0l0.7 0.3l0.7 0.9l0.7 0.8l0.7 1.7l0.7 -0.7l0.7 2.2l0.7 0.4l0.7 0.9l0.7 -0.2l0.7 1.3l0.7 1.9l0.7 0.4l0.7 -1l0.7 2.8l0.7 0l0.7 1.9l0.7 -0.4l0.7 1.1l0.7 -0.1l0.7 2.3l0.7 -0.5l0.7 2.1l0.7 0l0.7 -0.2l0.7 2.2l0.7 0.3l0.7 0.1l0.7 0.4l0.7 3.1l0.7 -2.1l0.7 1.4l0.7 0.5l0.7 0.3l0.7 0.1l0.7 1.1l0.7 1.5l0.7 1.5l0.7 0.6l0.7 -1.5l0.7 1.7l0.7 0.3l0.7 1.9l0.7 0.4l0.7 1.3l0.7 1.2l0.7 0.5l0.7 -0.5l0.7 2.7l0.7 0.1l0.7 1.4l0.7 -1.7l0.7 2.3l0.7 -0.9l0.7 -1.1l0.7 3.2l0.7 1.1l0.7 0.7l0.7 2.3l0.7 -3.2l0.7 2.8l0.7 -0.5l0.7 0.4l0.7 2.2l0.7 1.2l0.7 -0.8l0.7 -0.6l0.7 1.3l0.7 2.3l0.7 -0.2l0.7 -0.7l0.7 2.1l0.8 1.8l0.7 0.1l0.7 -1.4l0.7 2.5l0.7 0.5l0.7 1.7l0.7 0.7l0.7 0.5l0.7 0.4l0.7 0.5l0.7 -2.5l0.7 3.5l0.7 -1l0.7 2.1l0.7 1.7l0.7 0.9l0.7 -0.5l0.7 0.3l0.7 2.3l0.7 -0.5l0.7 -0.1l0.7 1.6l0.7 0.7l0.7 0l0.7 0.5l0.7 -0.4l0.7 1.8l0.7 2.2l0.7 -0.8l0.7 3l0.7 -2.8l0.7 3.5l0.7 -0.9l0.7 1l0.7 -0.5l0.7 2.2l0.7 0.3l0.7 0.6l0.7 -0.4l0.7 -1.9l0.7 4.8l0.7 -0.6l0.7 0.8l0.7 1.5l0.7 -1.2l0.7 0.3l0.7 0.3l0.7 4.4l0.7 -1.5l0.7 -1.6l0.7 2.9l0.7 -1.7l0.7 0l0.7 1.9l0.7 2.1l0.7 0.3l0.7 2.6l0.7 1.1l0.7 -1.9l0.7 -4l0.7 2.8l0.7 4.3l0.7 -1.8l0.7 -0.2l0.7 4.5l0.7 2.1l0.7 -2.6l0.7 1.8l0.7 3.4l0.7 -3.2l0.7 -1.6l0.7 5.5l0.7 -1.8l0.7 1.1l0.7 -2.8l0.7 5.6l0.7 0.1l0.7 1.3l0.7 -2l0.7 2.4l0.7 1.2l0.7 -1l0.7 1.8l0.7 -4.4l0.7 0.1l0.7 2l0.7 3.8l0.7 -1.5l0.7 1.4l0.7 0l0.7 1.1l0.7 0.9l0.7 1.7l0.7 -0.5l0.7 0.6l0.7 0.9l0.7 0.2l0.7 -1.1l0.7 2.3l0.7 1.6l0.7 0.5l0.7 -4l0.7 4.7l0.7 -4.4l0.7 7.6l0.7 -2.1l0.7 1.2l0.7 -4.8l0.7 4l0.7 1.7l0.7 0.4l0.7 2l0.7 0l0.7 1.5l0.7 -1.9l0.7 0.4l0.7 1.5l0.7 -3.7l0.7 -0.5l0.7 6.9l0.7 -0.2l0.7 0.7l0.7 -1.1l0.7 3.1l0.7 -2.5l0.7 0.7l0.7 -0.9l0.7 4.1l0.7 1.9l0.7 2l0.7 -0.3l0.7 -2.4l0.7 0.2l0.7 1.2l0.7 2.6l0.7 3.2l0.7 -7.9l0.7 5.7l0.7 -1.8l0.7 4.8l0.7 -0.6l0.7 -3.4l0.7 -1.8l0.7 7.2l0.7 -3.3l0.7 2.4l0.7 2l0.7 -2.5l0.7 1.7l0.7 -0.6l0.7 1.7l0.7 3l0.7 1l0.7 -3.1l0.7 3.4l0.7 1.3l0.7 -3.8l0.7 3.4l0.7 -3.4l0.7 -1.5l0.7 5.9l0.7 -1.9l0.7 0.9l0.7 0l0.7 2.3l0.7 -3.2l0.7 5.6l0.7 -9l0.7 9l0.7 -2.7l0.7 4.5l0.7 -4.8l0.7 2.3l0.7 -3l0.7 7.3l0.7 3.9l0.7 -2.7l0.7 1.1l0.7 -5.2l0.7 8l0.7 -3.9l0.7 2.7l0.7 -3.1l0.7 -4.7l0.7 10.3l0.7 -6.4l0.7 3.9l0.7 -0.8l0.7 -2.7l0.7 7.2l0.7 -4.5l0.7 5.8l0.7 -1.7l0.8 -6.4l0.7 5.6l0.7 1.2l0.7 1.8l0.7 -2.2l0.7 3.1l0.7 2.7l0.7 -1.8l0.7 -0.9l0.7 3.7l0.7 -7.2l0.7 3.9l0.7 2.8l0.7 0l0.7 -0.5l0.7 -0.4l0.7 3.3l0.7 -2.9l0.7 7.6l0.7 -10.8l0.7 9.2l0.7 -5.5l0.7 12.2l0.7 -9.8l0.7 0.5l0.7 0l0.7 1l0.7 1.6l0.7 -6.4l0.7 10.2l0.7 0.6l0.7 -5.4l0.7 8.3l0.7 -3.5l0.7 -3.8l0.7 6.7l0.7 -2.3l0.7 3.5l0.7 -10l0.7 8.2l0.7 -4.5l0.7 3.9l0.7 0l0.7 4.3l0.7 1.2l0.7 -7.2l0.7 -0.5l0.7 7.1l0.7 0l0.7 1.9l0.7 -3.8l0.7 3.8l0.7 -4.4l0.7 3.1l0.7 -3.7l0.7 3.1l0.7 -3.1l0.7 7l0.7 2.8l0.7 -1.4l0.7 0l0.7 -3.4l0.7 3.4l0.7 0.7l0.7 3.7l0.7 -14l0.7 10.3l0.7 8.4l0.7 -5.5l0.7 3.9l0.7 -6.1l0.7 6.9l0.7 -1.6l0.7 0.8l0.7 -5.3l0.7 4.5l0.7 0.8l0.7 8.6l0.7 -11.7l0.7 -3l0.7 0l0.7 0l0.7 6.9l0.7 2.5l0.7 -7.2l0.7 -2.2l0.7 6.9l0.7 0.8l0.7 5.2l0.7 -4.3l0.7 1.7l0.7 -3.4l0.7 6l0.7 -3.5l0.7 -4.1l0.7 -3.1l0.7 3.1l0.7 9.4l0.7 2.9l0.7 -5.6l0.7 3.7l0.7 -5.3l0.7 -0.9l0.7 11.2l0.7 -3l0.7 -9.7l0.7 0.8l0.7 10.9l0.7 -2.9l0.7 -9.5l0.7 5.1l0.7 4.5l0.7 -5.3l0.7 5.4l0.7 3.9l0.7 -8.4l0.7 7.4l0.7 2l0.7 -7.5l0.7 0.9l0.7 1l0.7 0l0.7 4.8l0.7 -5.6l0.7 10.8l0.7 -2.1l0.7 0.1l0.7 -1l0.7 -2l0.7 2l0.7 1.1l0.7 3.2l0.7 3.4l0.7 -13.3l0.7 12.3l0.7 -6.5l0.7 0.1l0.7 1l0.7 2.2l0.7 0l0.7 5.7l0.7 -11.7l0.7 2l0.7 13.4l0.7 -10.3l0.7 0.1l0.7 10.3l0.7 -9.2l0.7 -5l0.7 15.6l0.7 -4.9l0.7 -2.3l0.7 0.1l0.7 2.3l0.7 -3.3l0.7 -4.2l0.7 8.8l0.7 -9.7l0.7 2l0.7 6.7l0.7 0l0.7 -3.3l0.7 1.1l0.7 3.5l0.7 5l0.7 -7.2l0.7 1.1l0.7 -1l0.7 3.5l0.7 -10.8l0.7 13.4l0.7 -7.1l0.7 9.8l0.7 -1.3l0.7 -3.7l0.7 5.1l0.7 -8.5l0.7 9.9l0.7 8.8l0.7 -20.8l0.7 8.2l0.7 1.3l0.7 0.1l0.7 -14.6l0.7 17.3l0.7 4.2l0.7 0.1l0.7 -5.5l0.7 4.1l0.7 -2.7l0.7 -1.3l0.8 4.2l0.7 -6.6l0.7 3.9l0.7 -5.1l0.7 -2.3l0.7 7.5l0.7 1.4l0.7 -3.9l0.7 2.7l0.7 7.2l0.7 1.5l0.7 -8.6l0.7 1.4l0.7 -7.6l0.7 6.4l0.7 -2.6l0.7 2.7l0.7 -7.4l0.7 3.6l0.7 11l0.7 -5.7l0.7 -3.9l0.7 9.7l0.7 1.6l0.7 1.7l0.7 -10.2l0.7 -3.8l0.7 12.5l0.7 3.3l0.7 -1.6l0.7 -12.7l0.7 9.7l0.7 -5.7l0.7 5.8l0.7 -4.3l0.7 0.1l0.7 7.5l0.7 -6l0.7 1.5l0.7 4.6l0.7 1.7l0.7 -10.4l0.7 2.8l0.7 -2.7l0.7 10.5l0.7 -4.7l0.7 -1.4l0.7 -1.4l0.7 4.5l0.7 -4.4l0.7 -1.4l0.7 0.1l0.7 4.4l0.7 8.1l0.7 0.1l0.7 -6.6l0.7 1.7l0.7 -4.6l0.7 6.3l0.7 -4.7l0.7 8.2l0.7 -6.6l0.7 6.7l0.7 1.8l0.7 -3.4l0.7 -3.3l0.7 0.1l0.7 5l0.7 -1.6l0.7 -7.9l0.7 6.3l0.7 -6.2l0.7 11.5l0.7 -5.1l0.7 -1.6l0.7 0l0.7 8.7l0.7 -1.7l0.7 -5.2l0.7 1.8l0.7 -7.9l0.7 13.3l0.7 -1.8l0.7 -8.3l0.7 -1.6l0.7 8.3l0.7 0l0.7 -3.3l0.7 0l0.7 5.3l0.7 7.8l0.7 -9.5l0.7 -1.7l0.7 5.4l0.7 -5.3l0.7 11.4l0.7 -5.9l0 23l-0.7 6l-0.7 -3.2l-0.7 0l-0.7 -13.4l-0.7 10.3l-0.7 -2.8l-0.7 2.7l-0.7 12.7l-0.7 -15.6l-0.7 12l-0.7 -9.3l-0.7 9.2l-0.7 -24.2l-0.7 14.8l-0.7 -8l-0.7 13.9l-0.7 -6.1l-0.7 0l-0.7 -8l-0.7 5.1l-0.7 8.7l-0.7 -3.1l-0.7 -5.8l-0.7 2.7l-0.7 0l-0.7 -0.1l-0.7 2.9l-0.7 -8.4l-0.7 -5l-0.7 13.2l-0.7 3l-0.7 -13.9l-0.7 2.4l-0.7 14.6l-0.7 -17.2l-0.7 2.5l-0.7 -0.1l-0.7 0l-0.7 2.5l-0.7 0l-0.7 -2.7l-0.7 -9.5l-0.7 9.4l-0.7 -5l-0.7 -2.3l-0.7 -4.4l-0.7 4.3l-0.7 0l-0.7 -4.4l-0.7 4.2l-0.7 15.5l-0.7 -5.7l-0.7 -12.1l-0.7 0l-0.7 27.4l-0.7 -23.1l-0.7 -6.6l-0.7 2l-0.7 -6.2l-0.7 13l-0.7 -4.7l-0.7 0l-0.7 -6.5l-0.7 -2l-0.7 20.9l-0.7 -7.9l-0.7 -4.8l-0.7 9.8l-0.7 -9.9l-0.7 -4.4l-0.7 2.1l-0.7 -2.2l-0.7 -2l-0.7 -4l-0.7 8l-0.7 -8.1l-0.7 1.9l-0.7 1.9l-0.7 -9.2l-0.7 15.5l-0.7 -6.4l-0.7 -3.9l-0.7 -5.4l-0.7 5.3l-0.7 3.8l-0.7 -3.9l-0.7 5.9l-0.7 -6l-0.7 1.9l-0.7 -2l-0.7 1.9l-0.7 0l-0.7 -0.1l-0.7 8.4l-0.7 -10.4l-0.7 -5.4l-0.8 -6.5l-0.7 15.7l-0.7 4.2l-0.7 -11.8l-0.7 5.5l-0.7 -1.9l-0.7 -5.5l-0.7 -1.7l-0.7 13.1l-0.7 -14.8l-0.7 -3.2l-0.7 20.1l-0.7 -8.3l-0.7 -5.4l-0.7 5.4l-0.7 -12l-0.7 10l-0.7 -3.6l-0.7 5.5l-0.7 -0.1l-0.7 -8.8l-0.7 1.6l-0.7 3.5l-0.7 3.6l-0.7 -5.5l-0.7 3.6l-0.7 -5.3l-0.7 -3.3l-0.7 -6.1l-0.7 4.4l-0.7 0l-0.7 -4.5l-0.7 6l-0.7 0l-0.7 -10.3l-0.7 10.2l-0.7 14.7l-0.7 -14.7l-0.7 -6.2l-0.7 14.9l-0.7 -17.7l-0.7 14l-0.7 -9.8l-0.7 0l-0.7 -2.9l-0.7 5.9l-0.7 -1.5l-0.7 4.8l-0.7 -4.9l-0.7 3.2l-0.7 -10.4l-0.7 8.8l-0.7 0l-0.7 -11.6l-0.7 1.3l-0.7 7.1l-0.7 0l-0.7 3.1l-0.7 -10.2l-0.7 5.6l-0.7 3.1l-0.7 -6l-0.7 6l-0.7 -7.4l-0.7 -7.8l-0.7 6.4l-0.7 5.7l-0.7 -7.1l-0.7 -8.6l-0.7 7.3l-0.7 -6.2l-0.7 8.9l-0.7 -4l-0.7 8.3l-0.7 -5.7l-0.7 0l-0.7 1.4l-0.7 -2.7l-0.7 7.1l-0.7 0l-0.7 -10.9l-0.7 -2.4l-0.7 9l-0.7 2.9l-0.7 -11.9l-0.7 5l-0.7 1.4l-0.7 -1.4l-0.7 -12.9l-0.7 6.7l-0.7 2.5l-0.7 -5.9l-0.7 1.1l-0.7 15.9l-0.7 -5.8l-0.7 0l-0.7 -15.5l-0.7 5.4l-0.7 1.2l-0.7 2.4l-0.7 -3.6l-0.7 10.1l-0.7 -4l-0.7 -9.4l-0.7 -4.2l-0.7 6.4l-0.7 -5.4l-0.7 12.6l-0.7 -9.4l-0.7 3.3l-0.7 -5.4l-0.7 -1.1l-0.7 0l-0.7 3.2l-0.7 2.2l-0.7 -4.3l-0.7 -6.9l-0.7 0.9l-0.7 0l-0.7 2.9l-0.7 -0.9l-0.7 4l-0.7 -12.1l-0.7 4.3l-0.7 -2.6l-0.7 3.5l-0.7 4.8l-0.7 -5.7l-0.7 0l-0.7 -7.6l-0.7 7.6l-0.7 4.7l-0.7 -4.7l-0.7 -2.6l-0.7 3.5l-0.7 -2.7l-0.7 -0.8l-0.7 2.6l-0.7 1.8l-0.7 -10.2l-0.7 10.2l-0.7 -11l-0.7 13.9l-0.7 -13.9l-0.7 -4.4l-0.7 18.3l-0.7 -13.9l-0.7 2.4l-0.7 0l-0.7 -2.4l-0.7 6.6l-0.7 -10.3l-0.7 6.1l-0.7 -6.1l-0.7 3.7l-0.7 -1.5l-0.7 2.3l-0.7 -3l-0.7 -2.2l-0.7 2.9l-0.7 -2.9l-0.7 -3.4l-0.7 -2l-0.7 -0.6l-0.7 6l-0.7 1.5l-0.7 -7.5l-0.7 3.3l-0.7 1.3l-0.7 -3.3l-0.7 -0.7l-0.7 2.7l-0.7 -4.6l-0.7 -2.4l-0.7 7.6l-0.7 0.7l-0.7 -1.3l-0.7 -4.6l-0.7 -8.6l-0.7 -1l-0.7 3.8l-0.7 -0.6l-0.7 9.6l-0.7 -7.9l-0.7 0.6l-0.7 -2.8l-0.7 3.9l-0.7 0.6l-0.7 0.6l-0.7 -1.2l-0.7 -6.1l-0.8 0.5l-0.7 -1l-0.7 4.9l-0.7 1.7l-0.7 -6.6l-0.7 0.5l-0.7 -1.6l-0.7 -1l-0.7 -5.2l-0.7 0.4l-0.7 -3.1l-0.7 3.1l-0.7 2.4l-0.7 -0.5l-0.7 -4.1l-0.7 5.5l-0.7 0.5l-0.7 -5.1l-0.7 0l-0.7 -1.4l-0.7 -2.1l-0.7 -0.4l-0.7 0l-0.7 -3.3l-0.7 4.5l-0.7 -6.4l-0.7 5.2l-0.7 0l-0.7 -3.7l-0.7 0.8l-0.7 -6.4l-0.7 2.9l-0.7 -2.2l-0.7 4.9l-0.7 -3l-0.7 3.4l-0.7 -1.5l-0.7 1.5l-0.7 -3.4l-0.7 -4.3l-0.7 6.2l-0.7 -2.3l-0.7 -2.2l-0.7 -5l-0.7 1.6l-0.7 2.4l-0.7 -1.4l-0.7 0.3l-0.7 -2.3l-0.7 1l-0.7 -4.2l-0.7 -2.1l-0.7 2.4l-0.7 0.4l-0.7 -2.5l-0.7 8l-0.7 -6.8l-0.7 1.9l-0.7 -5.1l-0.7 1.1l-0.7 -6.9l-0.7 3l-0.7 4.8l-0.7 4.4l-0.7 -5.3l-0.7 -2.8l-0.7 0.8l-0.7 -3.3l-0.7 0.3l-0.7 1.1l-0.7 -0.6l-0.7 -4.9l-0.7 3.3l-0.7 -2.6l-0.7 2.6l-0.7 -4.3l-0.7 -2.1l-0.7 4.1l-0.7 1l-0.7 -1.3l-0.7 -3.1l-0.7 0.7l-0.7 0.7l-0.7 -4.2l-0.7 -0.9l-0.7 4.4l-0.7 -6.1l-0.7 0.8l-0.7 0.9l-0.7 -2.4l-0.7 -3.3l-0.7 1.8l-0.7 1.9l-0.7 -5.5l-0.7 0.4l-0.7 -1.7l-0.7 1.7l-0.7 -0.4l-0.7 1.8l-0.7 -3.8l-0.7 -0.4l-0.7 -4.1l-0.7 5.8l-0.7 -1.9l-0.7 -5.1l-0.7 2.4l-0.7 -1.1l-0.7 -0.3l-0.7 2.6l-0.7 -4.6l-0.7 0.1l-0.7 1.7l-0.7 -2.3l-0.7 1.1l-0.7 -3l-0.7 3.9l-0.7 -6.6l-0.7 -0.4l-0.7 -0.8l-0.7 -0.3l-0.7 -1.6l-0.7 0.8l-0.7 0.8l-0.7 -4.5l-0.7 2.2l-0.7 2.2l-0.7 -6.1l-0.7 3l-0.7 -1.7l-0.7 -0.2l-0.7 -1l-0.7 1.1l-0.7 -2.4l-0.7 0l-0.7 1.7l-0.7 0.2l-0.7 -1.2l-0.7 -2.6l-0.7 0.3l-0.7 2l-0.7 -6.9l-0.7 0.3l-0.7 1.2l-0.7 -4.4l-0.7 1l-0.7 2.7l-0.7 -5.2l-0.7 1.2l-0.7 0.7l-0.7 0.1l-0.7 -2.8l-0.7 -0.3l-0.7 -0.7l-0.7 1.4l-0.7 -4.9l-0.7 2.3l-0.7 -1.3l-0.7 0.1l-0.7 0.3l-0.7 -1.1l-0.7 -1l-0.7 -1.5l-0.7 -1.3l-0.7 -1.7l-0.7 1.7l-0.7 -1.1l-0.7 -3l-0.7 2.1l-0.7 -3.3l-0.7 -0.6l-0.7 -0.7l-0.7 1.8l-0.7 -1.4l-0.7 -1.4l-0.7 -0.3l-0.7 -1.9l-0.7 0.7l-0.7 -2.1l-0.7 0.1l-0.7 -0.5l-0.7 -1.1l-0.7 2.7l-0.7 -2.8l-0.7 -1.4l-0.7 -1.6l-0.7 1.9l-0.7 -3.4l-0.7 0.9l-0.7 -3.1l-0.7 0.3l-0.7 -0.1l-0.7 -1.4l-0.7 -0.1l-0.8 -0.9l-0.7 1.2l-0.7 0l-0.7 -2.6l-0.7 -2.3l-0.7 1.7l-0.7 -0.5l-0.7 -2.6l-0.7 1.2l-0.7 -3.2l-0.7 -0.5l-0.7 0.2l-0.7 -1.9l-0.7 1.4l-0.7 0l-0.7 -1.6l-0.7 -0.3l-0.7 -1.8l-0.7 0l-0.7 -0.6l-0.7 -0.7l-0.7 -1.3l-0.7 -2l-0.7 1.1l-0.7 -2.1l-0.7 -0.8l-0.7 -0.1l-0.7 -0.6l-0.7 -0.6l-0.7 -0.7l-0.7 -1.2l-0.7 1.5l-0.7 -2.1l-0.7 -0.4l-0.7 0.5l-0.7 -0.4l-0.7 -2.7l-0.7 -0.8l-0.7 -1l-0.7 -0.7l-0.7 -1.2l-0.7 -0.9l-0.7 1.5l-0.7 -2.4l-0.7 0.2l-0.7 -0.9l-0.7 -0.6l-0.7 -1.1l-0.7 -2.1l-0.7 -0.4l-0.7 0.4l-0.7 -0.7l-0.7 -2.1l-0.7 0.9l-0.7 -1.6l-0.7 -0.6l-0.7 -0.6l-0.7 0.1l-0.7 -2.6l-0.7 -0.2l-0.7 -1.1l-0.7 0.3l-0.7 -2l-0.7 1.6l-0.7 -2.1l-0.7 -1.3l-0.7 -2.1l-0.7 0l-0.7 -0.1l-0.7 -0.8l-0.7 -0.8l-0.7 -0.3l-0.7 -1l-0.7 -1.9l-0.7 1.3l-0.7 -3.1l-0.7 -1.5l-0.7 0.3l-0.7 -0.7l-0.7 -0.9l-0.7 -0.6l-0.7 -2.1l-0.7 -0.6l-0.7 -1.4l-0.7 -0.6l-0.7 -0.2l-0.7 0.3l-0.7 -3.3l-0.7 -0.3l-0.7 -1.9l-0.7 0.4l-0.7 -0.8l-0.7 -2.4l-0.7 0l-0.7 -2.2l-0.7 -0.8l-0.7 0.3l-0.7 -2.2l-0.7 -1.5l-0.7 -1.3l-0.7 -0.2l-0.7 -0.7l-0.7 -2.1l-0.7 0.2l-0.7 -2.1l-0.7 -1.1l-0.7 -1.8l-0.7 -1.8l-0.7 0l-0.7 -2l-0.7 -0.3l-0.7 -2.9l-0.7 -1l-0.7 -1.6l-0.7 -1.3l-0.7 -1.1l-0.7 -1.9l-0.7 -1.6l-0.7 -1.1l-0.7 -1.6l-0.7 -1.8l-0.7 -1.6l-0.7 -1.8l-0.7 -2.1l-0.7 -0.4l-0.7 -1.8l-0.7 -1.4l-0.7 -1.4l-0.7 -0.4l-0.7 -1l-0.7 -0.7l-0.7 0l-0.7 -1.8l-0.7 -0.1l-0.7 -1.2l-0.7 -1.3l-0.7 -0.1l-0.7 -0.5l-0.7 -0.7l-0.7 -0.5l-0.7 -0.9l-0.7 -0.5l-0.7 -1.3l-0.7 -0.6l-0.7 -0.5l-0.7 -0.6l-0.7 -0.2l-0.7 -0.3l-0.7 -0.2l-0.7 0.5l-0.7 1.2l-0.7 0.1l-0.7 0.7l-0.7 1.6l-0.7 2.2l-0.7 2.5l-0.7 3.8l-0.7 2l-0.7 4.2l-0.7 3.6l-0.7 6.2l-0.7 3.9l-0.7 4.9l-0.7 7.5l-0.7 6.7l-0.7 8.7l-0.7 11.7l-0.7 20.6l-0.7 33.4l-0.7 37.3l-0.7 45.2l-0.7 37.6l-0.7 44.4l-0.7 49.9l-0.7 32.7l-0.7 7.4l-0.7 -6.5l-0.7 6.5l-0.7 0l-0.7 0l-0.7 0l-0.7 0l-0.7 0l-0.7 -13.4l-0.7 13.4l-0.7 -2.7l-0.7 0l-0.7 2.7l-0.7 0l-0.7 -2.7l-0.7 -7.4l-0.8 3.6l-0.7 3.8l-0.7 2.7l-0.7 0l-0.7 0l-0.7 0l-0.7 0l-0.7 0l-0.7 0l-0.7 -2.7l-0.7 2.7l-0.7 0l-0.7 0l-0.7 0l-0.7 -2.7l-0.7 2.7l-0.7 0l-0.7 0l-0.7 0l-0.7 0l-0.7 0l-0.7 0l-0.7 0l-0.7 0l-0.7 -2.7l-0.7 2.7l-0.7 -2.7l-0.7 2.7l-0.7 0l-0.7 0l-0.7 -2.7l-0.7 0l-0.7 2.7l-0.7 0l-0.7 0l-0.7 0l-0.7 0l-0.7 0l-0.7 0l-0.7 0l-0.7 0l-0.7 -2.7l-0.7 0l-0.7 -7.4l-0.7 10.1l-0.7 0l-0.7 0l-0.7 0l-0.7 0l-0.7 0l-0.7 0l-0.7 0l-0.7 0l-0.7 0l-0.7 0l-0.7 -2.7l-0.7 2.7l-0.7 0l-0.7 0l-0.7 0l-0.7 0l-0.7 0l-0.7 0l-0.7 0l-0.7 0l-0.7 0l-0.7 -2.7l-0.7 2.7l-0.7 -2.7l-0.7 2.7l-0.7 -2.7l-0.7 0l-0.7 2.7l-0.7 -2.7l-0.7 0l-0.7 2.7l-0.7 -10.1l-0.7 10.1l-0.7 0l-0.7 -2.7l-0.7 0l-0.7 2.7l-0.7 0l-0.7 0l-0.7 0l-0.7 0l-0.7 0l-0.7 0l-0.7 0l-0.7 0l-0.7 0l-0.7 0l-0.7 -6.5l-0.7 6.5l-0.7 0l-0.7 0l-0.7 0Z" fill="#0000ff" stroke="#0000ff" stroke-width="1.32" stroke-linejoin="round"/><path d="M847.6 512.8l0.7 -16.7l0.7 2.4l0.7 8.1l0.7 -17.3l0.7 17.3l0.7 -23.3l0.7 29.5l0.7 -6.2l0.7 0l0.7 -5.5l0.7 5.5l0.7 6.2l0.7 -14.3l0.7 14.3l0.7 -16.7l0.7 13.5l0.7 -11.1l0.7 8.1l0.7 9.5l0.7 -15l0.7 -5l0.7 16.7l0.7 -23.5l0.7 17.3l0.7 -10.5l0.7 10.5l0.7 -10.5l0.7 10.5l0.7 -8.1l0.7 5.3l0.7 -5.3l0.7 17.6l0.7 -12.3l0.7 -2.7l0.7 0l0.7 5.5l0.7 -10.5l0.7 10.5l0.7 -5.5l0.7 11.7l0.7 -9l0.7 9l0.7 -6.2l0.7 6.2l0.7 0l0.7 -6.2l0.7 3l0.7 -8.5l0.7 -2.6l0.7 8.1l0.7 -8.1l0.7 2.6l0.7 2.7l0.7 0l0.7 -2.7l0.7 2.7l0.7 9l0.7 -3.2l0.7 -5.8l0.7 0l0.7 -2.7l0.7 2.7l0.7 -10.1l0.7 7.4l0.7 -9.6l0.7 15.1l0.7 -2.8l0.7 -5.3l0.7 17.6l0.7 -15l0.7 2.7l0.7 -5.3l0.7 2.6l0.7 15l0.7 -3.3l0.7 -16.7l0.7 7.7l0.7 -2.7l0.7 0l0.7 5.5l0.7 -8.1l0.7 0l0.7 -2.4l0.7 2.4l0.7 2.6l0.7 -5l0.7 5l0.7 0l0.7 0l0.7 -2.6l0.7 0l0.7 8.1l0.7 -10.5l0.7 7.7l0.7 2.8l0.7 -8.1l0.8 5.3l0.7 -2.7l0.7 15l0.7 -22.4l0.7 7.4l0.7 -2.6l0.7 5.3l0.7 -5.3l0.7 -4.8l0.7 4.8l0.7 0l0.7 0l0.7 2.6l0.7 8.5l0.7 -8.5l0.7 -1.5l0.7 -22l0.7 -51.6l0.7 -40l0.7 -47.7l0.7 -40.9l0.7 -37.7l0.7 -27l0.7 -18.7l0.7 -12.8l0.7 -9.3l0.7 -8.5l0.7 -7.9l0.7 -4.7l0.7 -6.1l0.7 -2.2l0.7 -4.9l0.7 -2.4l0.7 -1.9l0.7 -2.9l0.7 -1.6l0.7 -1.4l0.7 -0.9l0.7 -1.3l0.7 -0.1l0.7 -0.5l0.7 0.1l0.7 -0.1l0.7 0.2l0.7 1.3l0.7 0.9l0.7 -0.5l0.7 1l0.7 0.7l0.7 0.5l0.7 1.5l0.7 1.2l0.7 0.3l0.7 0.1l0.7 0.9l0.7 -1.5l0.7 3.8l0.7 1.3l0.7 -0.1l0.7 2.7l0.7 0l0.7 1.2l0.7 1.3l0.7 0.6l0.7 1l0.7 2l0.7 1.2l0.7 1.4l0.7 1.8l0.7 0.7l0.7 1.6l0.7 2l0.7 1.1l0.7 1.6l0.7 1.8l0.7 1l0.7 1.6l0.7 1.1l0.7 1.8l0.7 0.8l0.7 1.2l0.7 2.3l0.7 0.4l0.7 -0.3l0.7 3.1l0.7 0.8l0.7 0.6l0.7 1.7l0.7 0.8l0.7 -0.6l0.7 3.5l0.7 -1.8l0.7 3.9l0.7 -0.5l0.7 1.3l0.7 1.8l0.7 0.7l0.7 1l0.7 0.4l0.7 2.1l0.7 0.2l0.7 -0.1l0.7 2.1l0.7 2.8l0.7 -0.4l0.7 0.2l0.7 2.5l0.7 0.2l0.7 0.3l0.7 1.1l0.7 0.8l0.7 0.3l0.7 2.4l0.7 0.9l0.7 -1.3l0.7 2.5l0.7 3l0.7 -2.4l0.7 1.8l0.7 2l0.7 0.5l0.7 -0.6l0.7 1.2l0.7 1.9l0.7 1.8l0.7 -0.7l0.7 0.4l0.7 0l0.7 1.5l0.7 0.9l0.7 -1.7l0.7 3.7l0.7 3.4l0.7 -3.7l0.7 2l0.7 2.6l0.7 -0.5l0.7 0.8l0.7 1.3l0.7 0.9l0.7 -1.7l0.7 1.6l0.7 3.2l0.7 -1l0.7 0.5l0.7 -1.4l0.7 2l0.7 2.4l0.7 -1.9l0.7 2.8l0.7 0.4l0.7 2.3l0.7 -0.1l0.7 -3.8l0.7 6.6l0.7 -1.1l0.7 -0.8l0.7 0.4l0.7 2l0.7 1.6l0.7 0l0.7 0.2l0.7 1.4l0.7 2.5l0.7 0.3l0.7 -1.6l0.7 1.7l0.7 0.3l0.7 -0.7l0.7 2l0.7 1.7l0.7 -1.7l0.7 3.3l0.7 -0.2l0.7 0.3l0.7 -0.9l0.7 2.4l0.7 -1.2l0.7 3.2l0.7 -2l0.7 3.3l0.7 1.9l0.7 -0.4l0.7 -1.1l0.7 -1.6l0.7 4.6l0.7 -3.1l0.7 3l0.7 -0.2l0.7 2.1l0.7 -2.8l0.8 3.7l0.7 2.6l0.7 0.5l0.7 -2.7l0.7 5.6l0.7 -1.5l0.7 -4.2l0.7 4.3l0.7 -1.5l0.7 6l0.7 -1.9l0.7 -3.7l0.7 4.7l0.7 -0.5l0.7 2l0.7 -1.2l0.7 1.3l0.7 3.2l0.7 -1.7l0.7 -0.1l0.7 4.2l0.7 -2.2l0.7 1.4l0.7 2.1l0.7 -1.3l0.7 4.7l0.7 -0.2l0.7 -0.8l0.7 -0.5l0.7 3.8l0.7 1.9l0.7 -0.2l0.7 -2.5l0.7 2.2l0.7 -3l0.7 4.1l0.7 -3.8l0.7 6.2l0.7 -1.8l0.7 2.6l0.7 -3l0.7 6l0.7 -3.3l0.7 1.1l0.7 1.2l0.7 0.2l0.7 2.8l0.7 -0.3l0.7 -0.9l0.7 0l0.7 1.3l0.7 -0.5l0.7 -1l0.7 6.1l0.7 1.7l0.7 -4.3l0.7 3.2l0.7 -3.1l0.7 7.9l0.7 -1.8l0.7 -0.6l0.7 0.2l0.7 1.1l0.7 -1.8l0.7 1l0.7 2.7l0.7 -4.6l0.7 2.4l0.7 4l0.7 -4.1l0.7 5.2l0.7 0.1l0.7 -2.8l0.7 3.2l0.7 2.4l0.7 -1.6l0.7 0.9l0.7 2.3l0.7 -1.6l0.7 6.7l0.7 -1.3l0.7 -3.5l0.7 4.5l0.7 -2.5l0.7 -3.9l0.7 2.5l0.7 7.9l0.7 -3l0.7 1.6l0.7 0.9l0.7 -9.4l0.7 8.2l0.7 2.9l0.7 -2l0.7 1.8l0.7 1l0.7 -0.5l0.7 -0.8l0.7 5.3l0.7 0.2l0.7 -1.6l0.7 -1.1l0.7 1.4l0.7 0.3l0.7 -0.7l0.7 4.2l0.7 -0.5l0.7 -5.1l0.7 5.8l0.7 -1.2l0.7 0l0.7 2.9l0.7 5.4l0.7 -4.2l0.7 -3.9l0.7 8.5l0.7 -5.8l0.7 0.9l0.7 7.7l0.7 -4.9l0.7 3.3l0.7 -4.2l0.7 2.2l0.7 7l0.7 -7.5l0.7 7.8l0.7 -4.6l0.7 4.5l0.7 -3.1l0.7 1.9l0.7 5.7l0.7 -1.6l0.7 -8.2l0.7 2.3l0.7 6l0.7 -2.7l0.7 7l0.7 -0.3l0.7 -1.9l0.7 4.1l0.7 -1.2l0.7 -9.3l0.7 7.3l0.7 -2.8l0.7 -3.7l0.7 5.4l0.7 -3.1l0.7 -0.1l0.7 8.2l0.7 2.9l0.7 -2l0.7 -0.2l0.7 1.1l0.7 -4.1l0.7 6.5l0.7 -4.7l0.7 5.8l0.7 -1.6l0.7 -9.4l0.7 10l0.7 0.7l0.7 -1.6l0.7 6.8l0.7 -1.8l0.7 -10.5l0.7 4.8l0.7 3.2l0.7 5.4l0.7 -2.2l0.7 -2.3l0.7 -0.2l0.7 3.4l0.7 -0.6l0.7 5.2l0.7 -4.5l0.7 1.9l0.7 6.3l0.7 -5.5l0.7 -8.6l0.7 8.2l0.7 8.2l0.7 -2.7l0.7 2.5l0.7 -2.8l0.7 -3.7l0.7 0.9l0.7 -12.7l0.7 14.2l0.7 4.9l0.7 -7l0.7 4l0.7 1l0.7 8l0.8 -8.8l0.7 -5.6l0.7 4l0.7 9l0.7 -6.8l0.7 5l0.7 4.2l0.7 -3.1l0.7 -0.8l0.7 -6.1l0.7 6.4l0.7 3.4l0.7 5.3l0.7 -0.2l0.7 -3.4l0.7 3.1l0.7 -4.1l0.7 -7.9l0.7 2.5l0.7 13.7l0.7 0.7l0.7 3.4l0.7 -20.4l0.7 9.1l0.7 8l0.7 -6.7l0.7 -0.9l0.7 5.5l0.7 -0.2l0.7 -3.5l0.7 -0.9l0.7 15l0.7 -16.9l0.7 6.2l0.7 -1.8l0.7 7l0.7 1.7l0.7 -4.7l0.7 3.5l0.7 -7.4l0.7 1.7l0.7 9.9l0.7 -7.7l0.7 2.6l0.7 0.8l0.7 -1.1l0.7 8.8l0.7 -10l0.7 -1l0.7 -1l0.7 2.6l0.7 1.7l0.7 0.7l0.7 -2.9l0.7 7.6l0.7 -4.1l0.7 5.9l0.7 5.6l0.7 -10.9l0.7 10.4l0.7 3.6l0.7 -11.5l0.7 7.4l0.7 -8.7l0.7 0.9l0.7 4.1l0.7 10.6l0.7 -12l0.7 6.7l0.7 -12.9l0.7 4.9l0.7 -2.2l0.7 -2.1l0.7 8.2l0.7 9.5l0.7 -12.8l0.7 4.2l0.7 5.8l0.7 -10.1l0.7 7.5l0.7 -0.1l0.7 4.8l0.7 -2.5l0.7 -2.4l0.7 6l0.7 -0.2l0.7 -7l0.7 8.2l0.7 -0.1l0.7 3.8l0.7 -5.1l0.7 3.6l0.7 -7.2l0.7 0l0.7 8.4l0.7 -1.3l0.7 -3.7l0.7 3.6l0.7 -9.2l0.7 13l0.7 -3.9l0.7 1.2l0.7 0l0.7 6.6l0.7 -7.9l0.7 -3.5l0.7 5.9l0.7 2.6l0.7 -2.6l0.7 3.9l0.7 1.3l0.7 0l0.7 -2.7l0.7 -7.2l0.7 16.9l0.7 -8.4l0.7 4l0.7 4.3l0.7 -14.5l0.7 -2.2l0.7 3.5l0.7 8.8l0.7 -3.9l0.7 2.6l0.7 10.1l0.7 -4.6l0.7 -5.5l0.7 -2.6l0.7 6.7l0.7 4.4l0.7 3l0.7 -14l0.7 8l0.7 -7.9l0.7 7.9l0.7 -4.1l0.7 5.5l0.7 0l0.7 -2.8l0.7 2.9l0.7 0l0.7 -4.1l0.7 7l0.7 -4.3l0.7 9l0.7 -1.6l0.7 1.6l0.7 -12.9l0.7 8.3l0.7 3l0.7 4.9l0.7 -7.9l0.7 4.6l0.7 -11.3l0.7 6.8l0.7 3l0.7 -4.4l0.7 1.5l0.7 0l0.7 11.1l0.7 -11l0.7 4.5l0.7 -7.3l0.7 8.9l0.7 6.7l0.7 -1.7l0.7 -6.5l0.7 4.8l0.7 -7.7l0.7 1.5l0.7 6.3l0.7 -3.2l0.7 -4.5l0.7 6.1l0.7 5l0.7 -9.5l0.7 4.6l0.7 3.3l0.7 -10.6l0.7 12.4l0.7 -5l0.7 3.3l0.7 -11.9l0.7 8.8l0.7 0l0.7 0l0.7 10.3l0.7 -5.3l0.7 -9.3l0.7 11.1l0.7 -1.7l0.8 13.3l0.7 -13.2l0.7 -3.2l0.7 10.4l0.7 -11.9l0.7 12l0.7 -10.4l0.7 0l0.7 10.5l0.7 -11.9l0.7 6.5l0.7 -1.6l0.7 3.4l0.7 5.6l0.7 -15.1l0.7 6.2l0.7 1.8l0.7 1.7l0.7 -15.1l0.7 17l0.7 3.8l0.7 2l0.7 -5.7l0.7 0.1l0.7 -8.3l0.7 4.9l0.7 -3.2l0.7 3.3l0.7 5.3l0.7 -5.2l0.7 11.1l0.7 -11l0.7 15.3l0.7 -6.2l0.7 0.1l0.7 -10.7l0.7 8.8l0.7 -1.8l0.7 3.8l0.7 10.8l0.7 -12.6l0.7 4l0.7 4.2l0.7 -6.1l0.7 4l0.7 -5.9l0.7 2l0.7 -7.2l0.7 9.3l0.7 -14.1l0.7 6.7l0.7 3.7l0.7 1.9l0.7 -5.5l0.7 13.9l0.7 -10.2l0.7 2l0.7 2l0.7 -7.4l0.7 11.6l0.7 9.3l0.7 -15.3l0.7 -1.8l0.7 3.9l0.7 4.1l0.7 -2l0.7 14l0.7 -11.8l0.7 2.2l0.7 0.1l0.7 -4.2l0.7 -2l0.7 -5.6l0.7 11.9l0.7 -9.9l0.7 12.3l0.7 -8.5l0.7 4.2l0.7 -9.6l0.7 16.4l0.7 -2.3l0.7 -8.4l0.7 -8.9l0.7 9l0.7 4.1l0.7 -5.9l0.7 23.2l0.7 -21.2l0.7 2.1l0.7 -5.7l0.7 7.8l0.7 -3.9l0.7 6.2l0.7 -2.1l0.7 -5.9l0.7 12.7l0.7 -2.3l0 25.5l-0.7 7.6l-0.7 -11.2l-0.7 -6.4l-0.7 13.6l-0.7 -0.1l-0.7 4l-0.7 -20.6l-0.7 9.3l-0.7 7.2l-0.7 7.3l-0.7 -3.3l-0.7 -14.6l-0.7 -0.1l-0.7 -8.9l-0.7 19.4l-0.7 4.1l-0.7 -7.9l-0.7 -6.9l-0.7 0l-0.7 -3.2l-0.7 10l-0.7 -13l-0.7 13l-0.7 -13.1l-0.7 3l-0.7 13.8l-0.7 -7.4l-0.7 0l-0.7 -3.4l-0.7 6.9l-0.7 -10.1l-0.7 -3l-0.7 -2.9l-0.7 12.4l-0.7 -17.8l-0.7 11.1l-0.7 -8.6l-0.7 5.6l-0.7 3l-0.7 -11.3l-0.7 2.6l-0.7 5.6l-0.7 -5.7l-0.7 5.6l-0.7 3l-0.7 3.2l-0.7 0l-0.7 -9.2l-0.7 20.3l-0.7 -17.4l-0.7 6.3l-0.7 -12l-0.7 15.4l-0.7 -3.4l-0.7 -6.4l-0.7 -13.3l-0.7 13.3l-0.7 3.1l-0.7 -3.2l-0.7 -8.4l-0.7 14.9l-0.7 -3.4l-0.7 -14.1l-0.7 14.1l-0.7 -3.1l-0.7 -3l-0.7 -15.2l-0.7 7.1l-0.7 21.2l-0.7 -13.1l-0.7 6.2l-0.7 -3.2l-0.7 3.2l-0.7 -16.9l-0.7 10.7l-0.7 -2.9l-0.7 -5.4l-0.7 18l-0.7 -18l-0.7 5.4l-0.7 12.7l-0.7 -6.7l-0.7 -8.8l-0.7 8.9l-0.7 -6.1l-0.7 0l-0.7 0.1l-0.7 -5.5l-0.7 5.5l-0.7 6.2l-0.7 -3.2l-0.7 -13.5l-0.7 0l-0.7 -2.4l-0.7 10.2l-0.7 -2.7l-0.8 2.7l-0.7 -2.7l-0.7 2.8l-0.7 -2.8l-0.7 -14.1l-0.7 9l-0.7 -6.9l-0.7 2.2l-0.7 2.3l-0.7 -2.3l-0.7 7.4l-0.7 15l-0.7 -28.9l-0.7 2.1l-0.7 4.5l-0.7 19.2l-0.7 -19.2l-0.7 10.2l-0.7 0.1l-0.7 -10.2l-0.7 2.4l-0.7 -6.9l-0.7 -4.2l-0.7 6.5l-0.7 -8.5l-0.7 10.9l-0.7 13.6l-0.7 -15.9l-0.7 -2.3l-0.7 4.8l-0.7 5.1l-0.7 -9.7l-0.7 18.6l-0.7 -13.9l-0.7 -4.6l-0.7 4.8l-0.7 5.3l-0.7 -14.4l-0.7 0.1l-0.7 -9.8l-0.7 3.8l-0.7 8.3l-0.7 -6.3l-0.7 -3.9l-0.7 0.1l-0.7 15.1l-0.7 11.1l-0.7 -22.2l-0.7 2.1l-0.7 4.6l-0.7 -10.5l-0.7 6.2l-0.7 6.9l-0.7 -13l-0.7 10.8l-0.7 0.1l-0.7 -6.6l-0.7 -9.7l-0.7 33.7l-0.7 -21.6l-0.7 2.4l-0.7 16.6l-0.7 -16.3l-0.7 -2.2l-0.7 5l-0.7 -17.1l-0.7 10.3l-0.7 -6.3l-0.7 -3.8l-0.7 8.2l-0.7 -11.7l-0.7 7.7l-0.7 4.3l-0.7 -4l-0.7 4.5l-0.7 -17.3l-0.7 15.3l-0.7 -13.5l-0.7 16.2l-0.7 -14.2l-0.7 5.8l-0.7 -1.9l-0.7 0.2l-0.7 2.1l-0.7 0.2l-0.7 2.3l-0.7 18l-0.7 -32.8l-0.7 5.3l-0.7 2l-0.7 0.3l-0.7 -3.7l-0.7 -1.7l-0.7 -3.3l-0.7 13.5l-0.7 -14.9l-0.7 15.3l-0.7 -15l-0.7 9.2l-0.7 8.9l-0.7 10.8l-0.7 -22.8l-0.7 -5.2l-0.7 13.8l-0.7 -1.9l-0.7 -9.5l-0.7 3.9l-0.7 13.8l-0.7 -25.8l-0.7 23.9l-0.7 -20.1l-0.7 -3.3l-0.7 -1.3l-0.7 12.7l-0.7 17.3l-0.7 -22.6l-0.7 6.3l-0.7 4.7l-0.7 -11.9l-0.7 10.5l-0.7 -24.8l-0.7 15l-0.7 8.4l-0.7 -19.8l-0.7 8.4l-0.7 -8.1l-0.7 1.9l-0.7 8.8l-0.7 -14.6l-0.7 -10.2l-0.7 16.8l-0.7 9.1l-0.7 0.2l-0.7 -7l-0.7 -11.8l-0.7 -5.1l-0.7 11.1l-0.7 5l-0.7 -10.3l-0.7 14.2l-0.7 0.3l-0.7 -9.6l-0.7 0.2l-0.7 -2.7l-0.7 17l-0.7 -8.6l-0.7 0.1l-0.7 -11.8l-0.7 -2.4l-0.7 7.1l-0.7 0.3l-0.7 -13l-0.7 12l-0.7 -13.9l-0.7 7.4l-0.7 -13.6l-0.7 7.9l-0.7 0.2l-0.7 -3.1l-0.7 12.7l-0.7 -1.3l-0.7 -4.8l-0.7 2.8l-0.7 -1.1l-0.7 -15.6l-0.7 4.3l-0.7 9.4l-0.7 -4.4l-0.7 5l-0.7 0.1l-0.7 18.5l-0.7 -21.4l-0.7 -10.7l-0.7 6.5l-0.7 8.6l-0.7 -8.2l-0.7 -9.9l-0.7 9.4l-0.7 -8.1l-0.7 -3.4l-0.7 -2.5l-0.7 10.7l-0.7 -4l-0.7 -4.2l-0.7 7.8l-0.7 -4.8l-0.7 -3.4l-0.7 5.9l-0.7 6.6l-0.7 -12.6l-0.7 4.9l-0.8 -5.2l-0.7 6.8l-0.7 -7.4l-0.7 -0.6l-0.7 2.9l-0.7 -1.6l-0.7 -8.6l-0.7 0.9l-0.7 0.9l-0.7 -0.6l-0.7 4.3l-0.7 -11l-0.7 16.2l-0.7 -7.6l-0.7 5.3l-0.7 -11.6l-0.7 12.3l-0.7 -12.5l-0.7 0.1l-0.7 -3.9l-0.7 -1.8l-0.7 1.7l-0.7 10.5l-0.7 -5.1l-0.7 2.5l-0.7 -9.6l-0.7 3.6l-0.7 -3.1l-0.7 -3.6l-0.7 4.1l-0.7 8.6l-0.7 -1.2l-0.7 -3.3l-0.7 -10.1l-0.7 5.3l-0.7 -2.3l-0.7 -8.5l-0.7 8.9l-0.7 -7.9l-0.7 -0.4l-0.7 21.9l-0.7 -9l-0.7 -8.8l-0.7 -1.3l-0.7 3.9l-0.7 3.3l-0.7 -16.9l-0.7 8.4l-0.7 9.5l-0.7 -11l-0.7 4.1l-0.7 2l-0.7 -4.4l-0.7 4.4l-0.7 -2.1l-0.7 -10.7l-0.7 9.1l-0.7 -9.6l-0.7 -2.5l-0.7 2.5l-0.7 7.4l-0.7 -2.8l-0.7 -5.9l-0.7 0.5l-0.7 -4.5l-0.7 2.5l-0.7 -8.9l-0.7 10.2l-0.7 3.8l-0.7 -5.3l-0.7 4.9l-0.7 -6.1l-0.7 7.2l-0.7 -4l-0.7 -10.4l-0.7 1.1l-0.7 5.1l-0.7 -2.6l-0.7 -3.3l-0.7 0l-0.7 -1.3l-0.7 9l-0.7 -2.1l-0.7 -11.3l-0.7 1l-0.7 -5.5l-0.7 4.3l-0.7 0l-0.7 -2.9l-0.7 8.5l-0.7 -9.8l-0.7 5.4l-0.7 -3.9l-0.7 0.1l-0.7 4.9l-0.7 -6.9l-0.7 -3.1l-0.7 0.5l-0.7 0.6l-0.7 0.1l-0.7 -5l-0.7 0l-0.7 -1.6l-0.7 0.8l-0.7 3.1l-0.7 -6.3l-0.7 4.6l-0.7 -0.8l-0.7 -9.4l-0.7 2.4l-0.7 8.5l-0.7 1.6l-0.7 -8.3l-0.7 0.3l-0.7 -2l-0.7 3.4l-0.7 -5.2l-0.7 3l-0.7 -3.4l-0.7 1.3l-0.7 -0.1l-0.7 -1.8l-0.7 -0.9l-0.7 -1.3l-0.7 -2.8l-0.7 2.2l-0.7 0.7l-0.7 -0.8l-0.7 -2l-0.7 3.5l-0.7 -5l-0.7 1.6l-0.7 -6.4l-0.7 -0.9l-0.7 1.8l-0.7 -2.2l-0.7 2.5l-0.7 -0.2l-0.7 -4.1l-0.7 7.6l-0.7 -6.2l-0.7 -0.6l-0.7 -2.5l-0.7 1.4l-0.7 -2.5l-0.7 -0.2l-0.7 -3.5l-0.7 1l-0.7 -1.8l-0.7 2.7l-0.7 -1.2l-0.7 0.7l-0.7 -5.2l-0.7 5l-0.7 -6.8l-0.7 0l-0.7 -0.3l-0.7 -0.7l-0.7 4.6l-0.7 1.9l-0.7 -7.6l-0.7 -0.4l-0.7 -2l-0.7 0.9l-0.7 -2.3l-0.7 -0.3l-0.7 -1.2l-0.7 2.4l-0.7 -1.7l-0.7 -3.7l-0.7 -0.5l-0.7 -1.9l-0.7 2.9l-0.7 -3.5l-0.7 2.2l-0.7 -2.5l-0.7 2.3l-0.7 -3.9l-0.7 0.7l-0.7 0.4l-0.7 -2.5l-0.7 -1.7l-0.7 2.4l-0.7 -0.1l-0.7 -3.1l-0.7 -2.1l-0.7 2.2l-0.7 -0.8l-0.7 -1l-0.7 -5.7l-0.7 2.6l-0.7 -0.1l-0.7 0.7l-0.8 2.3l-0.7 -4.1l-0.7 -3.7l-0.7 2.9l-0.7 -1.3l-0.7 -1.8l-0.7 -1.9l-0.7 3.6l-0.7 -4.9l-0.7 1.4l-0.7 -2.8l-0.7 1.8l-0.7 -1.3l-0.7 -2.5l-0.7 -0.4l-0.7 1.7l-0.7 -2.2l-0.7 -0.3l-0.7 -0.3l-0.7 -0.7l-0.7 -2.4l-0.7 -1.9l-0.7 0.1l-0.7 1.3l-0.7 -2.3l-0.7 1.1l-0.7 -2l-0.7 -1.2l-0.7 0.2l-0.7 -2l-0.7 0.3l-0.7 -0.6l-0.7 -0.6l-0.7 -1.1l-0.7 0.7l-0.7 0.7l-0.7 -3.5l-0.7 -2l-0.7 1.2l-0.7 -1.7l-0.7 0l-0.7 -1.8l-0.7 0.5l-0.7 -2.6l-0.7 -1.6l-0.7 0.4l-0.7 -1.7l-0.7 3.1l-0.7 -3.7l-0.7 0.2l-0.7 -1.4l-0.7 1.8l-0.7 -2.4l-0.7 -1.7l-0.7 1.2l-0.7 -0.7l-0.7 -3.4l-0.7 2.1l-0.7 -2.2l-0.7 1l-0.7 -2.4l-0.7 0.3l-0.7 -0.6l-0.7 -3.4l-0.7 -0.8l-0.7 1.7l-0.7 -3.4l-0.7 -0.3l-0.7 -1.7l-0.7 0.4l-0.7 -1.4l-0.7 1.3l-0.7 -0.6l-0.7 -3.2l-0.7 0.9l-0.7 -0.8l-0.7 -4.1l-0.7 1.4l-0.7 -0.6l-0.7 -1l-0.7 -1.9l-0.7 -2.5l-0.7 1.9l-0.7 -1.7l-0.7 -2.5l-0.7 -1.2l-0.7 1l-0.7 -1.3l-0.7 -1.2l-0.7 -1.8l-0.7 -0.1l-0.7 -1.5l-0.7 0.1l-0.7 -2l-0.7 -0.4l-0.7 -1.4l-0.7 -0.7l-0.7 -1.2l-0.7 -2.1l-0.7 -1.3l-0.7 -0.3l-0.7 -0.8l-0.7 0.4l-0.7 -2l-0.7 -1.9l-0.7 -2l-0.7 -0.7l-0.7 -1.6l-0.7 -0.8l-0.7 0.5l-0.7 -1.7l-0.7 -3.6l-0.7 -0.6l-0.7 -0.6l-0.7 -1.3l-0.7 -2.1l-0.7 -1.4l-0.7 0.2l-0.7 -2.1l-0.7 -1.8l-0.7 -1.1l-0.7 -2.4l-0.7 -1.1l-0.7 -1.4l-0.7 -1.3l-0.7 -2.7l-0.7 -0.6l-0.7 -1.3l-0.7 -1.3l-0.7 -0.8l-0.7 -1.8l-0.7 -0.5l-0.7 -0.8l-0.7 -1.6l-0.7 -0.9l-0.7 -0.7l-0.7 -1.7l-0.7 -0.7l-0.7 -0.5l-0.7 -0.6l-0.7 -1.4l-0.7 0.1l-0.7 -1.4l-0.7 -1.1l-0.7 0.5l-0.7 -1.1l-0.7 0l-0.7 -1.3l-0.7 0.3l-0.7 -0.4l-0.7 -0.9l-0.7 0.4l-0.7 0.8l-0.7 1.7l-0.7 0.3l-0.7 2l-0.7 3.1l-0.7 3l-0.7 1.3l-0.7 3.4l-0.7 1.6l-0.7 6.8l-0.7 4.6l-0.7 5.9l-0.7 8.9l-0.7 10.7l-0.7 9.9l-0.7 20l-0.7 26.4l-0.7 33.9l-0.7 44.7l-0.7 52l-0.7 36.7l-0.7 34.6l-0.7 46.4l-0.7 21.1l-0.7 -2.7l-0.7 2.7l-0.7 0l-0.7 -2.7l-0.7 2.7l-0.7 0l-0.7 0l-0.7 0l-0.7 0l-0.7 0l-0.7 0l-0.7 0l-0.7 0l-0.7 -2.7l-0.7 2.7l-0.8 0l-0.7 0l-0.7 0l-0.7 -2.7l-0.7 2.7l-0.7 0l-0.7 -2.7l-0.7 2.7l-0.7 0l-0.7 -6.5l-0.7 6.5l-0.7 0l-0.7 0l-0.7 0l-0.7 0l-0.7 0l-0.7 0l-0.7 0l-0.7 0l-0.7 0l-0.7 -2.7l-0.7 2.7l-0.7 0l-0.7 0l-0.7 0l-0.7 -6.5l-0.7 6.5l-0.7 0l-0.7 0l-0.7 0l-0.7 0l-0.7 0l-0.7 0l-0.7 0l-0.7 -6.5l-0.7 3.8l-0.7 2.7l-0.7 0l-0.7 0l-0.7 0l-0.7 0l-0.7 -13.4l-0.7 13.4l-0.7 0l-0.7 0l-0.7 0l-0.7 0l-0.7 -6.5l-0.7 6.5l-0.7 0l-0.7 -10.1l-0.7 10.1l-0.7 0l-0.7 0l-0.7 -2.7l-0.7 -7.4l-0.7 10.1l-0.7 0l-0.7 0l-0.7 0l-0.7 0l-0.7 -6.5l-0.7 6.5l-0.7 0l-0.7 0l-0.7 0l-0.7 -6.5l-0.7 6.5l-0.7 0l-0.7 0l-0.7 0l-0.7 0l-0.7 0l-0.7 0l-0.7 0l-0.7 -6.5l-0.7 6.5l-0.7 0l-0.7 0l-0.7 0l-0.7 0l-0.7 -10.1l-0.7 10.1l-0.7 -2.7l-0.7 2.7l-0.7 0l-0.7 -2.7l-0.7 2.7l-0.7 0l-0.7 0l-0.7 0l-0.7 0l-0.7 0l-0.7 0l-0.7 -2.7l-0.7 0l-0.7 2.7Z" fill="#00ffff" stroke="#00ffff" stroke-width="1.32" stroke-linejoin="round"/><path d="M847.6 496.1l0.7 10.5l0.7 -21.4l0.7 27.6l0.7 -14.3l0.7 -2.4l0.7 5l0.7 -15.9l0.7 21.4l0.7 -2.8l0.7 5.8l0.7 6.5l0.7 -6.5l0.7 -5.8l0.7 2.8l0.7 -8.1l0.7 5.3l0.7 0l0.7 -2.7l0.7 5.5l0.7 -2.8l0.7 -10.1l0.7 7.4l0.7 0l0.7 0l0.7 0l0.7 -5l0.7 0l0.7 10.5l0.7 -15.1l0.7 21.3l0.7 -14.3l0.7 0l0.7 2.6l0.7 -5l0.7 10.5l0.7 6.2l0.7 -14.3l0.7 -4.8l0.7 7.4l0.7 -7.4l0.7 10.1l0.7 -2.7l0.7 11.7l0.7 -25.6l0.7 16.6l0.7 2.8l0.7 -12.9l0.7 19.1l0.7 3.3l0.7 -6.5l0.7 -11.1l0.7 21.2l0.7 -13.1l0.7 9.5l0.7 -9.5l0.7 -8.1l0.7 8.1l0.7 -5.5l0.7 18.6l0.7 -18.6l0.7 -5l0.7 -12.8l0.7 15.2l0.7 5.3l0.7 0l0.7 -5.3l0.7 2.6l0.7 -2.6l0.7 -13.3l0.7 24.4l0.7 -8.5l0.7 -5l0.7 5l0.7 5.5l0.7 -10.5l0.7 2.4l0.7 0l0.7 11.1l0.7 0l0.7 -3l0.7 -8.1l0.7 8.1l0.7 -17.3l0.7 9.2l0.7 -13.3l0.7 10.9l0.7 2.4l0.7 5.3l0.7 -5.3l0.7 5.3l0.7 -16.6l0.7 19.4l0.7 -8.1l0.7 0l0.7 11.1l0.7 3.2l0.8 -3.2l0.7 -24.4l0.7 21.4l0.7 -2.8l0.7 -2.7l0.7 2.7l0.7 -12.3l0.7 12.3l0.7 2.8l0.7 6.2l0.7 -14.3l0.7 -4.8l0.7 4.8l0.7 8.1l0.7 -17.3l0.7 14.5l0.7 -65.1l0.7 -20.1l0.7 -55l0.7 -42.9l0.7 -44.4l0.7 -32.3l0.7 -20.2l0.7 -19.1l0.7 -11.7l0.7 -8.7l0.7 -11.1l0.7 -8.1l0.7 -4.4l0.7 -4.3l0.7 -4.5l0.7 -0.3l0.7 -2.9l0.7 0.5l0.7 -2l0.7 -0.4l0.7 -1.5l0.7 -0.7l0.7 0.3l0.7 -0.3l0.7 0l0.7 0l0.7 0l0.7 2.1l0.7 0.6l0.7 0.8l0.7 -0.6l0.7 2.2l0.7 1.1l0.7 0.2l0.7 0.5l0.7 0.5l0.7 1.1l0.7 0.2l0.7 1.4l0.7 1.1l0.7 1.3l0.7 1l0.7 1.6l0.7 1.1l0.7 2.5l0.7 1l0.7 1l0.7 1.9l0.7 1.6l0.7 0.6l0.7 1l0.7 2.7l0.7 1.4l0.7 -0.5l0.7 2.2l0.7 -0.4l0.7 3.4l0.7 0.5l0.7 3l0.7 1.1l0.7 1.3l0.7 1.1l0.7 1.7l0.7 1.3l0.7 0l0.7 2.5l0.7 0.7l0.7 0.3l0.7 1.1l0.7 0.6l0.7 0.6l0.7 2.4l0.7 0l0.7 2.2l0.7 -1l0.7 3.6l0.7 -0.6l0.7 -0.1l0.7 2l0.7 1.4l0.7 2.5l0.7 1.2l0.7 -0.2l0.7 0.6l0.7 2.8l0.7 1.4l0.7 0.5l0.7 -1.4l0.7 3.6l0.7 -0.6l0.7 2.1l0.7 -0.5l0.7 -0.9l0.7 3.8l0.7 1.1l0.7 1l0.7 -1.1l0.7 1.9l0.7 -0.7l0.7 -0.2l0.7 4.7l0.7 0l0.7 -2.5l0.7 5.2l0.7 -3.2l0.7 2.1l0.7 1.4l0.7 0.8l0.7 0.3l0.7 0.3l0.7 -0.9l0.7 3.4l0.7 2.1l0.7 0.8l0.7 -1.7l0.7 4.6l0.7 -1.9l0.7 0.7l0.7 -0.4l0.7 -1.4l0.7 3.2l0.7 3.1l0.7 -1.5l0.7 0.8l0.7 -0.2l0.7 3.4l0.7 0.8l0.7 -1.6l0.7 2.7l0.7 1.9l0.7 -2.3l0.7 -1.5l0.7 1.5l0.7 2.8l0.7 1.9l0.7 3.6l0.7 -3.4l0.7 2.2l0.7 -1.1l0.7 2.9l0.7 -1.7l0.7 2.1l0.7 2.4l0.7 -1.4l0.7 4.7l0.7 -3.6l0.7 2.1l0.7 1.7l0.7 -2.1l0.7 -2.9l0.7 3.6l0.7 1.1l0.7 2l0.7 -1.6l0.7 4.6l0.7 0.2l0.7 0l0.7 0.4l0.7 -0.8l0.7 6l0.7 -0.2l0.7 -0.5l0.7 -0.1l0.7 0.1l0.7 1.3l0.7 -0.2l0.7 -0.4l0.7 0.6l0.7 1.9l0.7 -1.9l0.7 3.1l0.7 1.7l0.7 1.6l0.7 -2.1l0.7 3l0.8 2.1l0.7 0.7l0.7 -0.6l0.7 0.5l0.7 -3.8l0.7 3.3l0.7 2.7l0.7 -2.7l0.7 2.2l0.7 2.8l0.7 -1.5l0.7 -1.3l0.7 7l0.7 -2.1l0.7 -3.6l0.7 0.9l0.7 5.1l0.7 -1.4l0.7 3.4l0.7 0.3l0.7 -3l0.7 4.2l0.7 0l0.7 -4.6l0.7 4.4l0.7 2.2l0.7 2.2l0.7 -2.2l0.7 1.1l0.7 -0.1l0.7 4.9l0.7 -6.5l0.7 7.2l0.7 -2.5l0.7 -2l0.7 3.8l0.7 2.1l0.7 0l0.7 0.8l0.7 0.7l0.7 1l0.7 1.9l0.7 -1.8l0.7 -2.2l0.7 5.1l0.7 1l0.7 -0.4l0.7 0l0.7 5.9l0.7 -4.2l0.7 -5.2l0.7 4.7l0.7 -4l0.7 5.2l0.7 4.3l0.7 -1.1l0.7 -2.4l0.7 1.8l0.7 -1.2l0.7 2l0.7 1.7l0.7 -1.8l0.7 0.4l0.7 10l0.7 -2.7l0.7 6.2l0.7 -4.8l0.7 1.2l0.7 -2.1l0.7 -0.6l0.7 -2.7l0.7 3l0.7 0.6l0.7 0.4l0.7 5.2l0.7 1.8l0.7 0.7l0.7 -6.3l0.7 3.6l0.7 6.9l0.7 -4.6l0.7 3.4l0.7 -3.2l0.7 -0.1l0.7 -2.4l0.7 4.9l0.7 0.5l0.7 1.9l0.7 -2.5l0.7 2.3l0.7 -1.5l0.7 3.7l0.7 3.4l0.7 -7.4l0.7 2.4l0.7 6l0.7 -5.1l0.7 2.2l0.7 3.3l0.7 -0.5l0.7 -3.8l0.7 -1.3l0.7 8l0.7 3.4l0.7 -0.5l0.7 -1.7l0.7 -0.5l0.7 -6.1l0.7 8.1l0.7 2l0.7 -3.4l0.7 3.8l0.7 -1.1l0.7 2.6l0.7 -4.5l0.7 4.7l0.7 1.2l0.7 -2.7l0.7 1.5l0.7 4.3l0.7 0.5l0.7 -0.4l0.7 1.9l0.7 -5.8l0.7 5.6l0.7 4.5l0.7 -5.9l0.7 2.6l0.7 -0.6l0.7 0.2l0.7 1.1l0.7 2.6l0.7 -4.9l0.7 7.8l0.7 -2.5l0.7 1.5l0.7 3.4l0.7 -5.9l0.7 1.4l0.7 -2.2l0.7 5.1l0.7 -3.7l0.7 4.9l0.7 -8.7l0.7 11.9l0.7 1.3l0.7 -6.6l0.7 -0.9l0.7 0.2l0.7 10.1l0.7 -3.3l0.7 2.1l0.7 -0.6l0.7 5.7l0.7 3l0.7 -9.6l0.7 -0.2l0.7 9.3l0.7 -0.3l0.7 -2.4l0.7 -2l0.7 1.6l0.7 0l0.7 0.3l0.7 7.6l0.7 -2.7l0.7 0.2l0.7 -7.2l0.7 9.6l0.7 0.2l0.7 -9.3l0.7 11.9l0.7 -1.1l0.7 -9.7l0.7 3.1l0.7 2.5l0.7 -2.4l0.7 7.9l0.7 -4.9l0.7 -6l0.7 -0.3l0.7 16.8l0.7 -14.8l0.7 4.1l0.7 -8.5l0.7 9.6l0.7 -1.1l0.7 4.4l0.7 -0.4l0.7 4.7l0.7 -2.1l0.7 0.6l0.7 8.9l0.8 -2.1l0.7 -1.4l0.7 -15.8l0.7 12.5l0.7 4.3l0.7 -2.4l0.7 -1.9l0.7 3.3l0.7 -0.3l0.7 6.6l0.7 6.2l0.7 -10.8l0.7 3.6l0.7 -7.1l0.7 6.6l0.7 8.3l0.7 -10.1l0.7 -8.5l0.7 15.4l0.7 -1.5l0.7 3l0.7 -7.6l0.7 -3.2l0.7 2.7l0.7 12.9l0.7 -0.2l0.7 -10.5l0.7 -6.2l0.7 9.8l0.7 -0.2l0.7 -2.4l0.7 7.7l0.7 -0.3l0.7 4.7l0.7 -1.6l0.7 2.3l0.7 -0.3l0.7 5.3l0.7 -8.3l0.7 -1.5l0.7 4.6l0.7 -6.5l0.7 -6.8l0.7 15.3l0.7 8.6l0.7 -11.9l0.7 -5.2l0.7 17.5l0.7 -17.9l0.7 8.6l0.7 -5.5l0.7 10.7l0.7 2.7l0.7 -1.6l0.7 -8.5l0.7 5.1l0.7 -10.2l0.7 10l0.7 -0.2l0.7 8.5l0.7 -8.8l0.7 -2.7l0.7 1.2l0.7 6.6l0.7 -2.9l0.7 2.7l0.7 -4.1l0.7 3.9l0.7 2.7l0.7 -8.2l0.7 9.5l0.7 4.3l0.7 6.6l0.7 -5.3l0.7 -6.1l0.7 -12.7l0.7 9.8l0.7 7l0.7 -0.1l0.7 3l0.7 -3.2l0.7 3l0.7 -10l0.7 5.4l0.7 1.3l0.7 0l0.7 9.2l0.7 -3.3l0.7 -10.1l0.7 9.9l0.7 -11.2l0.7 6.7l0.7 -1.5l0.7 7.3l0.7 -7.3l0.7 -1.3l0.7 1.3l0.7 2.7l0.7 5.9l0.7 10.2l0.7 -0.2l0.7 -13.1l0.7 -4.2l0.7 1.4l0.7 5.8l0.7 -14.5l0.7 20.8l0.7 5.2l0.7 -8.6l0.7 -4.5l0.7 11.1l0.7 -12.5l0.7 16l0.7 -14.5l0.7 12.6l0.7 -0.1l0.7 -6.6l0.7 -4.4l0.7 12.7l0.7 -12.7l0.7 -2.7l0.7 8.7l0.7 6.6l0.7 0l0.7 -5l0.7 -10.1l0.7 11.7l0.7 1.7l0.7 3.4l0.7 1.8l0.7 -6.8l0.7 8.6l0.7 -1.9l0.7 -1.7l0.7 -8l0.7 3.1l0.7 -5.9l0.7 10.8l0.7 -1.6l0.7 8.9l0.7 -3.7l0.7 3.7l0.7 3.9l0.7 -12.7l0.7 -4.6l0.7 13.4l0.7 0l0.7 0l0.7 -14.6l0.7 7.6l0.7 3.4l0.7 0l0.7 9.5l0.7 8.8l0.7 -6.7l0.7 -17.9l0.7 11.9l0.7 3.9l0.7 -7.5l0.7 7.5l0.7 -17l0.7 11.4l0.7 7.7l0.7 -7.6l0.7 7.6l0.7 -11l0.7 0.1l0.7 11l0.7 -7.6l0.7 -11l0.7 22.8l0.7 -9.8l0.7 -3.5l0.7 -1.6l0.7 8.9l0.7 -17.8l0.7 16l0.7 3.9l0.7 -3.8l0.7 -5.2l0.7 -10.5l0.7 14l0.7 7.7l0.7 -9.3l0.7 18l0.7 2.5l0.7 -16.9l0.7 0.1l0.7 14.4l0.7 -16.1l0.7 9.6l0.8 -2l0.7 -1.9l0.7 4l0.7 -7.6l0.7 3.7l0.7 -1.8l0.7 7.9l0.7 2.2l0.7 -13.5l0.7 3.6l0.7 -5.1l0.7 3.4l0.7 9.7l0.7 -7.7l0.7 0l0.7 -3.5l0.7 15.7l0.7 -8.3l0.7 -5.4l0.7 11.6l0.7 -11.5l0.7 -6.5l0.7 27.5l0.7 -9.3l0.7 -6l0.7 0.1l0.7 8.2l0.7 -8.1l0.7 -1.8l0.7 1.9l0.7 4l0.7 0l0.7 13.9l0.7 -21.3l0.7 11.8l0.7 -4.1l0.7 4.2l0.7 -8l0.7 8.1l0.7 -22.8l0.7 25.1l0.7 -2.1l0.7 2.2l0.7 0.1l0.7 -2.1l0.7 4.5l0.7 -12.5l0.7 6l0.7 -2l0.7 6.4l0.7 -2.1l0.7 -4.1l0.7 6.4l0.7 4.7l0.7 -6.8l0.7 -4.1l0.7 11l0.7 0.1l0.7 -6.8l0.7 -7.8l0.7 3.8l0.7 8.6l0.7 0.1l0.7 -2.2l0.7 -4.2l0.7 13.9l0.7 -17.7l0.7 6.1l0.7 2.2l0.7 7l0.7 -9.1l0.7 -2l0.7 4.3l0.7 12.2l0.7 -18.3l0.7 10.8l0.7 -6.6l0.7 -11.3l0.7 20.5l0.7 -11.1l0.7 4.3l0.7 2.3l0.7 0l0.7 4.8l0.7 -4.7l0.7 0.1l0.7 -4.3l0.7 11.6l0.7 -4.9l0.7 -6.5l0.7 11.6l0.7 -4.9l0.7 -4.4l0.7 -13.3l0.7 22.8l0.7 0l0.7 -20.9l0 35.5l-0.7 11l-0.7 -14.3l-0.7 10.3l-0.7 0l-0.7 -0.1l-0.7 0l-0.7 3.9l-0.7 0l-0.7 -7.7l-0.7 3.7l-0.7 -0.1l-0.7 3.9l-0.7 0l-0.7 -11.1l-0.7 3.4l-0.7 -0.1l-0.7 3.7l-0.7 4l-0.7 0l-0.7 -11.3l-0.7 -9.3l-0.7 -2.9l-0.7 8.8l-0.7 14.6l-0.7 -17.8l-0.7 -3l-0.7 6.1l-0.7 6.8l-0.7 -10.1l-0.7 20.1l-0.7 -13.7l-0.7 -6.5l-0.7 17.9l-0.7 -7.9l-0.7 -3.6l-0.7 11.5l-0.7 -23.9l-0.7 19.8l-0.7 -3.9l-0.7 8l-0.7 -15l-0.7 7l-0.7 -7.1l-0.7 -6.2l-0.7 21.3l-0.7 -4.2l-0.7 -11l-0.7 -3.2l-0.7 3.2l-0.7 15.2l-0.7 -8.1l-0.7 10.4l-0.7 -10.5l-0.7 -19.1l-0.7 5.6l-0.7 17.5l-0.7 0l-0.7 -4l-0.7 -7.2l-0.7 -3.3l-0.7 -8.8l-0.7 2.7l-0.7 20.7l-0.7 -14.6l-0.7 10.6l-0.7 -3.8l-0.7 0l-0.7 12.3l-0.7 -4.4l-0.7 -14.8l-0.7 0l-0.7 -14.4l-0.7 17.8l-0.7 3.6l-0.7 -3.6l-0.7 0l-0.7 -6.6l-0.7 -3.1l-0.7 6.3l-0.7 -6.3l-0.7 -5.7l-0.7 12l-0.7 0l-0.7 -6.3l-0.7 -10.9l-0.7 7.9l-0.7 12.9l-0.7 -12.9l-0.7 9.4l-0.7 -6.4l-0.7 27.4l-0.7 -27.4l-0.7 6.5l-0.7 -12.3l-0.7 2.8l-0.7 3.1l-0.8 -11.3l-0.7 11.3l-0.7 -3l-0.7 13.4l-0.7 0l-0.7 -7.1l-0.7 15.5l-0.7 -15.4l-0.7 0.1l-0.7 -3.3l-0.7 -8.8l-0.7 -2.7l-0.7 11.7l-0.7 -3.2l-0.7 6.6l-0.7 -6.5l-0.7 -11.2l-0.7 -7.1l-0.7 25.1l-0.7 -6.6l-0.7 0.1l-0.7 -6l-0.7 9.4l-0.7 -3.2l-0.7 -8.9l-0.7 2.9l-0.7 -5.5l-0.7 0l-0.7 5.7l-0.7 25.9l-0.7 -28.7l-0.7 9.2l-0.7 0.1l-0.7 -17.1l-0.7 2.6l-0.7 -7.3l-0.7 12.8l-0.7 25.5l-0.7 -22.3l-0.7 -5.8l-0.7 16.2l-0.7 -21.4l-0.7 39.4l-0.7 -24.6l-0.7 15.5l-0.7 -21.7l-0.7 0.2l-0.7 -13.4l-0.7 7.8l-0.7 16.1l-0.7 -10.1l-0.7 -11.1l-0.7 2.8l-0.7 19.2l-0.7 -24.2l-0.7 0l-0.7 -2.3l-0.7 -2.3l-0.7 7.5l-0.7 -2.5l-0.7 -2.4l-0.7 5.3l-0.7 2.8l-0.7 -5.2l-0.7 5.5l-0.7 9.8l-0.7 -20l-0.7 0.1l-0.7 -2.3l-0.7 5.1l-0.7 11.7l-0.7 -18.8l-0.7 16l-0.7 -15.8l-0.7 13.3l-0.7 6.6l-0.7 -14.5l-0.7 2.7l-0.7 12.6l-0.7 -22.2l-0.7 16.2l-0.7 -20.5l-0.7 21.2l-0.7 10.7l-0.7 -31.5l-0.7 0.1l-0.7 -2l-0.7 15l-0.7 -2.4l-0.7 2.9l-0.7 -10.3l-0.7 11l-0.7 -19.6l-0.7 23.5l-0.7 -25.3l-0.7 -9.2l-0.7 18.5l-0.7 2.8l-0.7 -4.6l-0.7 5.1l-0.7 -11.4l-0.7 7l-0.7 0.3l-0.7 5.4l-0.7 -18.2l-0.7 28l-0.7 -19l-0.7 2.7l-0.7 0.3l-0.7 3.3l-0.7 5.8l-0.7 -10.3l-0.7 8.4l-0.7 -10.3l-0.7 2.8l-0.7 -4.4l-0.7 -4.5l-0.7 5l-0.7 5.7l-0.7 -4.9l-0.7 -6.6l-0.7 72.3l-0.7 -71.4l-0.7 4.9l-0.7 12.1l-0.7 -16.1l-0.7 -4.2l-0.7 -7.8l-0.7 2.4l-0.7 11.6l-0.7 -14.9l-0.7 27.9l-0.7 -18.6l-0.7 5.1l-0.7 -6.4l-0.7 7.7l-0.7 3.4l-0.7 -18.6l-0.7 9.7l-0.7 -1.8l-0.7 8.1l-0.7 -22.4l-0.7 17.9l-0.7 -8.8l-0.7 15.6l-0.7 6.8l-0.7 -23.4l-0.7 -3.6l-0.7 -1.7l-0.7 13.9l-0.7 5.9l-0.7 -12.2l-0.7 5.4l-0.7 -4.5l-0.7 5.5l-0.7 -6.4l-0.7 -1.9l-0.7 2.7l-0.7 -5.8l-0.7 23l-0.7 -24.1l-0.7 -10.5l-0.7 5.7l-0.7 6l-0.7 -1.5l-0.7 2.9l-0.7 -17.7l-0.7 -3.8l-0.7 13l-0.7 -4.8l-0.7 3.9l-0.7 -1l-0.7 -2.9l-0.7 5.5l-0.7 6.4l-0.7 -12.3l-0.7 -2.6l-0.7 0.4l-0.7 -7l-0.7 24.6l-0.7 -13.1l-0.7 -14.6l-0.7 15.8l-0.7 -1.3l-0.7 8.1l-0.7 -17.8l-0.7 -3.8l-0.7 21.5l-0.7 -16.3l-0.7 -6.5l-0.7 3.1l-0.8 4.8l-0.7 -2.1l-0.7 8.1l-0.7 -7.4l-0.7 3.9l-0.7 -3.9l-0.7 -1.4l-0.7 -7.4l-0.7 -16l-0.7 14.6l-0.7 1.7l-0.7 3.1l-0.7 -16.8l-0.7 19.2l-0.7 -8.2l-0.7 -4.6l-0.7 17.9l-0.7 -13.4l-0.7 15.8l-0.7 -22.7l-0.7 0.6l-0.7 -1.8l-0.7 -6.4l-0.7 9.9l-0.7 2.5l-0.7 -5.7l-0.7 -6.8l-0.7 4.6l-0.7 12.8l-0.7 -18.5l-0.7 -1.6l-0.7 7.3l-0.7 15.5l-0.7 -12.5l-0.7 -3.5l-0.7 1.5l-0.7 -4.5l-0.7 -8l-0.7 2l-0.7 5.7l-0.7 -7.1l-0.7 15.7l-0.7 -18.1l-0.7 6.4l-0.7 5.2l-0.7 1.3l-0.7 -3.8l-0.7 -4.3l-0.7 -2.6l-0.7 -4.2l-0.7 -1.8l-0.7 2.7l-0.7 -6.1l-0.7 5.8l-0.7 -5.3l-0.7 6.8l-0.7 6.1l-0.7 -6.9l-0.7 -8.5l-0.7 -6.3l-0.7 12.3l-0.7 -5.9l-0.7 -2l-0.7 -1.7l-0.7 -1l-0.7 1.1l-0.7 4l-0.7 -5.7l-0.7 3.8l-0.7 -11l-0.7 4.9l-0.7 7.4l-0.7 -4.2l-0.7 -0.8l-0.7 -5.3l-0.7 12.6l-0.7 -10.6l-0.7 -3.5l-0.7 0.1l-0.7 7.4l-0.7 -2.6l-0.7 -9.6l-0.7 2l-0.7 7.7l-0.7 -5.1l-0.7 -7.7l-0.7 0.5l-0.7 9.8l-0.7 -11.2l-0.7 5.2l-0.7 -0.7l-0.7 10.7l-0.7 -15.7l-0.7 -2.3l-0.7 4.5l-0.7 -7.9l-0.7 -8l-0.7 12.2l-0.7 -2.9l-0.7 0.9l-0.7 -0.4l-0.7 -7.8l-0.7 -1.1l-0.7 2.4l-0.7 -1.7l-0.7 5.8l-0.7 -0.6l-0.7 -0.9l-0.7 -3.7l-0.7 -5.5l-0.7 4.6l-0.7 0.9l-0.7 1.3l-0.7 -7.7l-0.7 2.2l-0.7 -3.6l-0.7 3.2l-0.7 -2.6l-0.7 6.8l-0.7 -5.3l-0.7 -10.3l-0.7 13.2l-0.7 -8.4l-0.7 10.5l-0.7 -6.7l-0.7 -5.5l-0.7 -3.4l-0.7 4.1l-0.7 2.1l-0.7 -0.1l-0.7 -6.4l-0.7 2.7l-0.7 -0.6l-0.7 -2.8l-0.7 -4.8l-0.7 -0.8l-0.7 6.2l-0.7 -1.5l-0.7 -0.2l-0.7 -2.1l-0.7 -0.1l-0.7 -1.3l-0.7 -6l-0.7 3.1l-0.7 3.3l-0.7 -5.5l-0.7 2.2l-0.7 -4.3l-0.7 0.8l-0.7 5.1l-0.7 -7.4l-0.7 3.6l-0.7 -0.2l-0.7 1l-0.7 -4.7l-0.7 -1.1l-0.7 -3.8l-0.7 -1.2l-0.7 0.1l-0.7 0.6l-0.7 0.4l-0.7 4.8l-0.7 -5.8l-0.7 4l-0.7 -4.8l-0.7 -4l-0.7 4l-0.7 -4.8l-0.7 2.7l-0.7 7l-0.7 -10.4l-0.7 -1.8l-0.7 -1.9l-0.7 3.9l-0.7 0.9l-0.7 -8.5l-0.7 3.6l-0.7 -1.3l-0.7 2.1l-0.7 -5.2l-0.7 -1.4l-0.7 2l-0.7 -5.4l-0.7 1.9l-0.7 -0.5l-0.7 -1.1l-0.7 -4.7l-0.7 5.6l-0.7 5l-0.7 -6.8l-0.7 2.7l-0.7 -3.9l-0.7 -0.8l-0.8 1.7l-0.7 -3.4l-0.7 3.4l-0.7 -5.2l-0.7 1.9l-0.7 -2.8l-0.7 -2.9l-0.7 1.7l-0.7 -1.4l-0.7 -0.3l-0.7 -1.2l-0.7 -0.6l-0.7 -1.9l-0.7 0.3l-0.7 -1.3l-0.7 -1.5l-0.7 1.9l-0.7 -2.9l-0.7 0.5l-0.7 2.7l-0.7 -3.1l-0.7 -6.2l-0.7 0.8l-0.7 -0.3l-0.7 1.2l-0.7 -2.3l-0.7 0.5l-0.7 -0.9l-0.7 0.9l-0.7 -2.2l-0.7 0.9l-0.7 -3.2l-0.7 -1.1l-0.7 1.3l-0.7 -2.2l-0.7 -2.7l-0.7 -0.8l-0.7 2.7l-0.7 -2.5l-0.7 -0.4l-0.7 0.9l-0.7 -0.8l-0.7 0.5l-0.7 -5.4l-0.7 0.4l-0.7 -0.1l-0.7 -1.3l-0.7 -1.1l-0.7 -1.1l-0.7 1.9l-0.7 -5.7l-0.7 1.9l-0.7 -1.7l-0.7 -0.4l-0.7 -1.2l-0.7 -1.8l-0.7 0.5l-0.7 -0.2l-0.7 -1.5l-0.7 3.2l-0.7 0.4l-0.7 -4.3l-0.7 -3l-0.7 0.3l-0.7 0.5l-0.7 -2.1l-0.7 0.7l-0.7 -3.4l-0.7 0.5l-0.7 0.5l-0.7 -0.6l-0.7 -1.5l-0.7 -3.4l-0.7 1.5l-0.7 -0.4l-0.7 -3.3l-0.7 2l-0.7 -3.4l-0.7 1.7l-0.7 -1.6l-0.7 -2.4l-0.7 1.1l-0.7 -0.1l-0.7 -1.5l-0.7 -3.2l-0.7 0l-0.7 0.1l-0.7 -1.5l-0.7 -1.4l-0.7 0.8l-0.7 -3.3l-0.7 0l-0.7 -2l-0.7 -0.5l-0.7 -2.5l-0.7 0.6l-0.7 -1.1l-0.7 -1.8l-0.7 0l-0.7 -3l-0.7 0l-0.7 -2.1l-0.7 -0.6l-0.7 -0.8l-0.7 -1l-0.7 -1l-0.7 0.6l-0.7 -3l-0.7 -0.7l-0.7 -1.7l-0.7 -1.7l-0.7 -0.2l-0.7 -0.6l-0.7 -0.2l-0.7 -3l-0.7 -1.1l-0.7 -0.2l-0.7 -3.3l-0.7 0.1l-0.7 -2.5l-0.7 -0.4l-0.7 -2.2l-0.7 -0.6l-0.7 0.2l-0.7 -4.6l-0.7 0.7l-0.7 -3.4l-0.7 -1.3l-0.7 -1.5l-0.7 -1.6l-0.7 1.3l-0.7 -2.8l-0.7 -2.4l-0.7 -0.7l-0.7 -2.4l-0.7 -1.2l-0.7 -1l-0.7 -0.4l-0.7 -1.5l-0.7 -0.9l-0.7 0.3l-0.7 -2.7l-0.7 0.3l-0.7 -1.2l-0.7 -0.5l-0.7 -2.3l-0.7 0.5l-0.7 -1.3l-0.7 -1.3l-0.7 1l-0.7 -0.7l-0.7 -0.1l-0.7 -0.5l-0.7 0.7l-0.7 0.5l-0.7 0.4l-0.7 1.8l-0.7 1.3l-0.7 1.3l-0.7 2.9l-0.7 0.7l-0.7 4.6l-0.7 4.7l-0.7 7.4l-0.7 10.5l-0.7 6.9l-0.7 11.1l-0.7 18.5l-0.7 21.1l-0.7 33.3l-0.7 45.3l-0.7 45.3l-0.7 62.1l-0.7 28.8l-0.7 40.6l-0.7 27.6l-0.7 2.7l-0.7 0l-0.7 0l-0.7 0l-0.7 0l-0.7 -2.7l-0.7 2.7l-0.7 0l-0.7 -2.7l-0.7 0l-0.7 0l-0.7 2.7l-0.7 0l-0.7 0l-0.7 0l-0.8 0l-0.7 0l-0.7 0l-0.7 0l-0.7 0l-0.7 0l-0.7 0l-0.7 0l-0.7 0l-0.7 0l-0.7 0l-0.7 -2.7l-0.7 2.7l-0.7 0l-0.7 0l-0.7 0l-0.7 0l-0.7 -2.7l-0.7 2.7l-0.7 -6.5l-0.7 6.5l-0.7 0l-0.7 0l-0.7 0l-0.7 0l-0.7 0l-0.7 0l-0.7 0l-0.7 0l-0.7 -2.7l-0.7 2.7l-0.7 0l-0.7 0l-0.7 -6.5l-0.7 6.5l-0.7 0l-0.7 0l-0.7 0l-0.7 0l-0.7 0l-0.7 0l-0.7 0l-0.7 0l-0.7 0l-0.7 0l-0.7 -2.7l-0.7 2.7l-0.7 -2.7l-0.7 2.7l-0.7 -2.7l-0.7 2.7l-0.7 0l-0.7 0l-0.7 -2.7l-0.7 2.7l-0.7 0l-0.7 0l-0.7 0l-0.7 0l-0.7 0l-0.7 0l-0.7 -2.7l-0.7 0l-0.7 -3.8l-0.7 -3.6l-0.7 10.1l-0.7 0l-0.7 0l-0.7 -6.5l-0.7 0l-0.7 6.5l-0.7 0l-0.7 0l-0.7 0l-0.7 0l-0.7 -6.5l-0.7 6.5l-0.7 0l-0.7 0l-0.7 0l-0.7 0l-0.7 0l-0.7 0l-0.7 0l-0.7 0l-0.7 0l-0.7 0l-0.7 0l-0.7 0l-0.7 0l-0.7 0l-0.7 0l-0.7 0l-0.7 0l-0.7 0l-0.7 0l-0.7 0Z" fill="#ff00ff" stroke="#ff00ff" stroke-width="1.32" stroke-linejoin="round"/><path d="M847.6 509.6l0.7 0l0.7 -11.1l0.7 14.3l0.7 -6.2l0.7 -8.1l0.7 -2.4l0.7 -4.6l0.7 12.3l0.7 -5.3l0.7 -7l0.7 2.2l0.7 10.1l0.7 -5.3l0.7 14.3l0.7 -9l0.7 0l0.7 -2.7l0.7 5.5l0.7 -2.8l0.7 9l0.7 -11.7l0.7 2.7l0.7 5.8l0.7 -3l0.7 -8.1l0.7 14.3l0.7 -11.7l0.7 8.5l0.7 -8.5l0.7 5.5l0.7 3l0.7 -8.5l0.7 8.5l0.7 -18.1l0.7 7l0.7 -4.8l0.7 7.4l0.7 -17.8l0.7 15.2l0.7 5.3l0.7 -2.7l0.7 2.7l0.7 -16.6l0.7 19.4l0.7 -15.1l0.7 9.6l0.7 -5l0.7 7.7l0.7 5.8l0.7 6.5l0.7 -3.3l0.7 -6.2l0.7 -8.1l0.7 5.3l0.7 12.3l0.7 -12.3l0.7 -5.3l0.7 0l0.7 -4.8l0.7 7.4l0.7 5.5l0.7 6.2l0.7 -6.2l0.7 6.2l0.7 -9l0.7 -5.3l0.7 2.6l0.7 0l0.7 0l0.7 -5l0.7 13.5l0.7 -8.5l0.7 -2.6l0.7 0l0.7 14.3l0.7 0l0.7 -16.7l0.7 -2.4l0.7 7.4l0.7 2.7l0.7 9l0.7 -9l0.7 2.8l0.7 3l0.7 -5.8l0.7 5.8l0.7 -15.9l0.7 0l0.7 7.4l0.7 -2.6l0.7 5.3l0.7 -5.3l0.7 11.1l0.7 -5.8l0.7 -7.7l0.7 5l0.8 8.5l0.7 -3l0.7 0l0.7 6.2l0.7 -14.3l0.7 14.3l0.7 -3.2l0.7 -8.5l0.7 11.7l0.7 -23.5l0.7 6.8l0.7 2.4l0.7 2.6l0.7 11.7l0.7 0l0.7 -14.7l0.7 -33.8l0.7 -56l0.7 -49.9l0.7 -30.3l0.7 -50.6l0.7 -34.3l0.7 -26.3l0.7 -13.8l0.7 -12.9l0.7 -9l0.7 -7l0.7 -10.3l0.7 -4.6l0.7 -4.9l0.7 -4.4l0.7 -1.2l0.7 -0.9l0.7 -2.1l0.7 0.9l0.7 -1.5l0.7 -0.1l0.7 -0.2l0.7 -0.2l0.7 -0.1l0.7 0l0.7 0l0.7 0l0.7 0.6l0.7 2.1l0.7 0.7l0.7 0l0.7 0.3l0.7 3.2l0.7 -0.5l0.7 0.4l0.7 0.2l0.7 2.1l0.7 0.3l0.7 1.2l0.7 1l0.7 -0.6l0.7 4.2l0.7 1.4l0.7 1l0.7 2.1l0.7 0.6l0.7 1.1l0.7 1.4l0.7 1.5l0.7 1.7l0.7 1.2l0.7 1.4l0.7 1.8l0.7 1.6l0.7 0.7l0.7 1.4l0.7 1.6l0.7 0.8l0.7 1.8l0.7 -0.1l0.7 2.2l0.7 2.3l0.7 1l0.7 1.7l0.7 -0.2l0.7 1.2l0.7 2.1l0.7 0.1l0.7 4.3l0.7 -0.8l0.7 -2l0.7 2.6l0.7 1.6l0.7 2l0.7 -1.1l0.7 4.3l0.7 -0.4l0.7 1.5l0.7 1.4l0.7 -0.8l0.7 1.4l0.7 0l0.7 2l0.7 1.4l0.7 0.1l0.7 1.4l0.7 1.5l0.7 -0.7l0.7 1.9l0.7 1.8l0.7 -0.2l0.7 2l0.7 0.8l0.7 -0.2l0.7 0.8l0.7 2.1l0.7 1.9l0.7 -1.8l0.7 1.2l0.7 1.2l0.7 1.2l0.7 0.8l0.7 1l0.7 0.5l0.7 2l0.7 -1.2l0.7 -1.6l0.7 4.2l0.7 -1l0.7 3.1l0.7 -0.1l0.7 2.8l0.7 0.9l0.7 -1.8l0.7 0.6l0.7 0.7l0.7 -0.4l0.7 2.3l0.7 0.7l0.7 -1.6l0.7 4.2l0.7 2l0.7 -3.1l0.7 2.8l0.7 0.7l0.7 0.8l0.7 0l0.7 3.9l0.7 -1.3l0.7 1.6l0.7 1l0.7 0.3l0.7 0l0.7 0.6l0.7 0.1l0.7 1.5l0.7 2.1l0.7 -1.9l0.7 2.5l0.7 -0.7l0.7 -1.4l0.7 4.2l0.7 -0.1l0.7 1.2l0.7 0.1l0.7 2l0.7 -1.1l0.7 1.2l0.7 1.7l0.7 -2.1l0.7 -1.5l0.7 3.4l0.7 1.8l0.7 1.3l0.7 -0.1l0.7 1.6l0.7 -0.3l0.7 2.2l0.7 1.1l0.7 0.4l0.7 -3.6l0.7 5.5l0.7 0.5l0.7 -0.8l0.7 1.8l0.7 0.6l0.7 0.5l0.7 -5.3l0.7 6.1l0.7 -4.4l0.7 5.4l0.7 1.3l0.7 1.1l0.7 -0.7l0.7 2.4l0.8 1.1l0.7 -0.8l0.7 0.3l0.7 0.6l0.7 -2.4l0.7 5.9l0.7 -1.4l0.7 0.3l0.7 -6l0.7 5.5l0.7 2.2l0.7 1.5l0.7 1l0.7 0.3l0.7 2l0.7 3.9l0.7 -0.1l0.7 -6.1l0.7 6l0.7 0.7l0.7 -2.5l0.7 -1.9l0.7 5.2l0.7 -0.4l0.7 2.2l0.7 2l0.7 -1.7l0.7 2.1l0.7 -0.4l0.7 -0.7l0.7 1.4l0.7 0.7l0.7 2.5l0.7 0.7l0.7 0.7l0.7 -0.2l0.7 2.5l0.7 -1.6l0.7 0.2l0.7 1.2l0.7 -2.7l0.7 2.3l0.7 1.7l0.7 -1.6l0.7 3.7l0.7 -3.9l0.7 0.7l0.7 0.4l0.7 0.7l0.7 7.3l0.7 2.6l0.7 -5.4l0.7 4.9l0.7 1.4l0.7 -5.9l0.7 1.1l0.7 6l0.7 -2.8l0.7 -1.2l0.7 0.7l0.7 2l0.7 5.1l0.7 -2.2l0.7 1.9l0.7 -0.1l0.7 -4.2l0.7 3.5l0.7 2.5l0.7 -3.5l0.7 9.1l0.7 0.9l0.7 -2.3l0.7 -2.2l0.7 -1.3l0.7 4l0.7 -0.2l0.7 -3.8l0.7 4.2l0.7 3.2l0.7 0.4l0.7 -4.9l0.7 8.2l0.7 -3.9l0.7 1l0.7 0.3l0.7 6.1l0.7 -3.5l0.7 3.5l0.7 -4.1l0.7 1.8l0.7 -2.1l0.7 6.5l0.7 -6.6l0.7 6.6l0.7 4.3l0.7 -7.4l0.7 -2l0.7 4.5l0.7 1.3l0.7 0.2l0.7 0l0.7 -2.1l0.7 5.3l0.7 -5l0.7 4.1l0.7 -0.3l0.7 2.1l0.7 5.2l0.7 -9.3l0.7 4.9l0.7 2.8l0.7 -1.1l0.7 3l0.7 -2l0.7 9.3l0.7 -1.5l0.7 3.3l0.7 -5.5l0.7 2l0.7 3.5l0.7 -6.5l0.7 9.6l0.7 -10.2l0.7 5.9l0.7 -4.2l0.7 2.7l0.7 4.2l0.7 4.4l0.7 -5.8l0.7 -2.5l0.7 0.8l0.7 5.4l0.7 -0.4l0.7 0.6l0.7 5.4l0.7 -4.1l0.7 -4.8l0.7 7.4l0.7 2.5l0.7 -7.5l0.7 8.6l0.7 -4.2l0.7 -1l0.7 2.1l0.7 -2.2l0.7 -7.1l0.7 11l0.7 -1.1l0.7 1.3l0.7 -2l0.7 -2.2l0.7 16.3l0.7 -13.9l0.7 8.3l0.7 -5l0.7 6.5l0.7 0.8l0.7 -9l0.7 15.9l0.7 -0.6l0.7 -13.9l0.7 8.6l0.7 5.2l0.7 3.4l0.7 -13.4l0.7 6.3l0.7 -9.6l0.7 4.5l0.7 0.4l0.7 1.8l0.7 4l0.7 -4.8l0.7 6.3l0.7 1.1l0.7 -8.5l0.7 18.7l0.7 -14.9l0.7 -4.8l0.7 6.9l0.7 8.1l0.7 0.4l0.7 0.5l0.7 -2.8l0.7 6.8l0.7 0.7l0.7 -4.3l0.7 9.6l0.7 -13.9l0.7 7l0.7 -7.5l0.7 5.7l0.7 -1.1l0.7 -6.4l0.8 9.3l0.7 -3l0.7 11.6l0.7 -12.2l0.7 7.1l0.7 2.9l0.7 6.5l0.7 -6l0.7 0.8l0.7 -0.5l0.7 -1.3l0.7 -1.4l0.7 3.8l0.7 3l0.7 -2.7l0.7 -4.5l0.7 1.8l0.7 0.9l0.7 6.3l0.7 -18.6l0.7 12.3l0.7 6.5l0.7 -1.6l0.7 -1.5l0.7 3.6l0.7 -1.7l0.7 5.8l0.7 -6.3l0.7 -3.8l0.7 6.5l0.7 -6.1l0.7 -0.1l0.7 2l0.7 -1.5l0.7 4.4l0.7 -2.7l0.7 12.5l0.7 -5.6l0.7 3.5l0.7 -6.8l0.7 12.3l0.7 -27.9l0.7 33.5l0.7 -11.2l0.7 -2.8l0.7 0.9l0.7 7l0.7 -11.3l0.7 9.3l0.7 -1.8l0.7 1.3l0.7 -0.1l0.7 5.8l0.7 -1.8l0.7 -22.1l0.7 23.1l0.7 -3.1l0.7 12.6l0.7 -20.6l0.7 20l0.7 -11.1l0.7 -5.5l0.7 1.2l0.7 17.9l0.7 -15.4l0.7 16.7l0.7 -6.8l0.7 -8.8l0.7 11.7l0.7 -4.8l0.7 -14.4l0.7 17.1l0.7 -4.5l0.7 4.3l0.7 -0.1l0.7 4.6l0.7 -7.7l0.7 14.3l0.7 -15.8l0.7 10.3l0.7 5l0.7 -5.2l0.7 -6.1l0.7 7.6l0.7 -3.3l0.7 3.1l0.7 -1.7l0.7 -8.6l0.7 13.3l0.7 -1.7l0.7 1.6l0.7 -4.8l0.7 -8.4l0.7 16.3l0.7 -1.8l0.7 7l0.7 -13.2l0.7 13l0.7 -21.1l0.7 11l0.7 3l0.7 -1.6l0.7 8.3l0.7 -5.1l0.7 -3.2l0.7 -1.5l0.7 23.3l0.7 -2.3l0.7 -36.1l0.7 28.1l0.7 -11.5l0.7 13.2l0.7 -5.3l0.7 -3.3l0.7 10.4l0.7 -17.7l0.7 12.2l0.7 0l0.7 3.5l0.7 0l0.7 -8.3l0.7 4.8l0.7 9l0.7 -5.6l0.7 3.6l0.7 -11.7l0.7 13.6l0.7 -12l0.7 3.2l0.7 1.6l0.7 -3.2l0.7 -1.5l0.7 9.9l0.7 -5.1l0.7 10.8l0.7 -2l0.7 2l0.7 -9l0.7 10.9l0.7 -12.5l0.7 5l0.7 -3.3l0.7 -3.1l0.7 6.5l0.7 1.8l0.7 -5l0.7 -1.6l0.7 12.2l0.7 -12.1l0.7 1.6l0.7 6.8l0.7 -1.7l0.7 -3.3l0.7 14.9l0.7 -13.2l0.7 5.3l0.7 -6.8l0.7 6.9l0.7 9.9l0.7 -13.4l0.7 1.8l0.7 3.7l0.7 -17.3l0.7 25.3l0.7 -4.1l0.7 -9l0.7 5.2l0.7 2l0.7 0l0.7 -3.6l0.7 -1.7l0.7 20.4l0.7 -11.1l0.7 -5.6l0.7 3.7l0.7 2.1l0.7 -2l0.7 20.7l0.7 -20.6l0.7 -3.6l0.7 5.6l0.7 -3.7l0.7 -3.5l0.7 13.6l0.7 -8.1l0.7 10.4l0.7 -10.3l0.7 0.1l0.7 5.9l0.7 6.7l0.7 -14.3l0.8 12.1l0.7 4.6l0.7 -32l0.7 15.5l0.7 7.7l0.7 -1.9l0.7 6.3l0.7 -2.1l0.7 -19.4l0.7 17.4l0.7 11.2l0.7 -11.1l0.7 6.5l0.7 2.3l0.7 -16.2l0.7 7.6l0.7 2.1l0.7 0l0.7 2.2l0.7 2.3l0.7 -4.3l0.7 -1.9l0.7 -3.8l0.7 5.9l0.7 2.1l0.7 -6l0.7 15.4l0.7 -9.2l0.7 -2l0.7 8.8l0.7 -12.6l0.7 6l0.7 0.1l0.7 2.2l0.7 -8.1l0.7 -5.3l0.7 15.8l0.7 -2.2l0.7 -4.1l0.7 6.4l0.7 -2.2l0.7 2.3l0.7 0.1l0.7 2.3l0.7 0.1l0.7 0l0.7 -8.5l0.7 6.3l0.7 -4.2l0.7 0.1l0.7 6.6l0.7 -8.5l0.7 8.6l0.7 -12.3l0.7 17.3l0.7 2.6l0.7 -15.9l0.7 11l0.7 -2.4l0.7 -4.3l0.7 -2.1l0.7 2.2l0.7 9.3l0.7 -11.2l0.7 -3.9l0.7 20.5l0.7 -10l0.7 -2.2l0.7 0.1l0.7 2.3l0.7 -2.2l0.7 -6.1l0.7 8.5l0.7 -6.4l0.7 -3.8l0.7 23l0.7 -12.6l0.7 0.1l0.7 -4.3l0.7 0.1l0.7 2.2l0.7 -9.9l0.7 10l0.7 2.3l0.7 0l0.7 0.1l0.7 2.3l0.7 0.1l0.7 7.6l0.7 -2.6l0.7 -15.4l0.7 18.1l0.7 -5.1l0.7 0.1l0.7 5.1l0.7 -2.5l0.7 -7.2l0 32.8l-0.7 -4l-0.7 5l-0.7 -12.2l-0.7 12.2l-0.7 -5.2l-0.7 -3.7l-0.7 8.9l-0.7 -5.4l-0.7 -13.4l-0.7 17.3l-0.7 -0.1l-0.7 0l-0.7 0l-0.7 -4l-0.7 -7.2l-0.7 7.2l-0.7 -0.1l-0.7 -7.1l-0.7 -0.1l-0.7 0l-0.7 11.1l-0.7 0l-0.7 -14.5l-0.7 16.3l-0.7 -1.9l-0.7 -17.7l-0.7 17.7l-0.7 -11.3l-0.7 3.5l-0.7 -3.6l-0.7 13.3l-0.7 -16.7l-0.7 16.7l-0.7 -9.9l-0.7 -6.9l-0.7 10.7l-0.7 -7.4l-0.7 11.4l-0.7 -11.5l-0.7 7.4l-0.7 0l-0.7 0l-0.7 -19.9l-0.7 26.1l-0.7 -6.2l-0.7 0l-0.7 -14.2l-0.7 0l-0.7 0l-0.7 -6l-0.7 16.2l-0.7 8.2l-0.7 -11.9l-0.7 7.6l-0.7 6.3l-0.7 -17.4l-0.7 11.2l-0.7 -11.2l-0.7 -3.3l-0.7 14.5l-0.7 -14.5l-0.7 6.8l-0.7 3.7l-0.7 -13.7l-0.7 3.1l-0.7 0l-0.7 14.7l-0.7 -14.7l-0.7 10.7l-0.7 -10.8l-0.7 -9l-0.7 9l-0.7 7l-0.7 -18.8l-0.7 18.8l-0.7 0.1l-0.7 8.1l-0.7 -24.3l-0.7 16.2l-0.7 -3.6l-0.7 -18.1l-0.7 5.4l-0.7 16.4l-0.7 -7.1l-0.7 11.2l-0.7 0l-0.7 -11.2l-0.7 15.7l-0.7 -12.1l-0.7 -3.6l-0.7 -12.2l-0.7 23.8l-0.7 -4l-0.7 -10.8l-0.7 -3.2l-0.7 6.6l-0.8 -17.8l-0.7 5.3l-0.7 2.9l-0.7 9.8l-0.7 7.7l-0.7 -14.4l-0.7 3.4l-0.7 7.2l-0.7 -10.5l-0.7 3.4l-0.7 7.4l-0.7 0l-0.7 16.2l-0.7 -23.4l-0.7 3.6l-0.7 -10.1l-0.7 3.3l-0.7 3.5l-0.7 7.7l-0.7 -14.3l-0.7 0.1l-0.7 6.8l-0.7 -12.8l-0.7 9.4l-0.7 -17.4l-0.7 -2.4l-0.7 16.7l-0.7 3.5l-0.7 -9.5l-0.7 13.4l-0.7 -10.3l-0.7 0.1l-0.7 10.5l-0.7 -13.4l-0.7 0l-0.7 -2.8l-0.7 -8l-0.7 21.1l-0.7 -12.9l-0.7 0.1l-0.7 -8.2l-0.7 11.4l-0.7 -2.9l-0.7 -2.9l-0.7 6.1l-0.7 7l-0.7 0.2l-0.7 -12.9l-0.7 3l-0.7 -11l-0.7 21.5l-0.7 -13.1l-0.7 17.7l-0.7 -11l-0.7 -12.1l-0.7 12.3l-0.7 32.4l-0.7 -44.3l-0.7 16.2l-0.7 0.3l-0.7 -31.1l-0.7 21.1l-0.7 -16.3l-0.7 13.5l-0.7 -8.4l-0.7 15.5l-0.7 -6.6l-0.7 -2.9l-0.7 0.4l-0.7 -2.9l-0.7 6.3l-0.7 -8.8l-0.7 -2.5l-0.7 0.1l-0.7 3l-0.7 -5.3l-0.7 -2.3l-0.7 21.2l-0.7 -9.7l-0.7 3.4l-0.7 -9l-0.7 0.4l-0.7 -10.3l-0.7 23.7l-0.7 -9.8l-0.7 14.6l-0.7 -19.8l-0.7 0.1l-0.7 13.3l-0.7 -20.8l-0.7 14.6l-0.7 -14.4l-0.7 3l-0.7 6.1l-0.7 0.4l-0.7 -10.9l-0.7 -2.4l-0.7 11.1l-0.7 14.6l-0.7 -19.4l-0.7 -12.4l-0.7 2.5l-0.7 8.1l-0.7 0.3l-0.7 -16.5l-0.7 17l-0.7 -4.8l-0.7 8.6l-0.7 -17.9l-0.7 12.9l-0.7 3.6l-0.7 -5.3l-0.7 -5.1l-0.7 0.4l-0.7 15.3l-0.7 4l-0.7 -18.1l-0.7 -2.2l-0.7 9.1l-0.7 -2.5l-0.7 -23.6l-0.7 24.5l-0.7 10.9l-0.7 -34.6l-0.7 13.9l-0.7 19.4l-0.7 -21.1l-0.7 -1.9l-0.7 -6.7l-0.7 -1.6l-0.7 10.1l-0.7 -11.6l-0.7 20.9l-0.7 24.5l-0.7 -42l-0.7 3l-0.7 3.2l-0.7 0.6l-0.7 19.9l-0.7 -35.3l-0.7 17.8l-0.7 -14.7l-0.7 18.9l-0.7 63.5l-0.7 -83.2l-0.7 10.5l-0.7 -7l-0.7 2.9l-0.7 15l-0.7 -13.8l-0.7 -4.7l-0.7 14.2l-0.7 14.6l-0.7 -13.3l-0.7 -17.7l-0.7 2.8l-0.7 8.5l-0.7 0.2l-0.7 -19.7l-0.7 -1.8l-0.7 -1.4l-0.7 4.5l-0.7 6.9l-0.7 -21.7l-0.7 16.5l-0.7 22.8l-0.7 -12.8l-0.7 -14.2l-0.7 17.9l-0.7 -32l-0.7 30.7l-0.7 -25.1l-0.7 2.2l-0.7 5.4l-0.7 4.9l-0.7 -14.1l-0.7 -2.6l-0.7 10.8l-0.7 2.1l-0.7 -15.6l-0.7 24.9l-0.7 -9.4l-0.7 -11.1l-0.7 10.8l-0.7 10.7l-0.7 -27.7l-0.7 0.6l-0.7 1.8l-0.7 13.7l-0.7 -13.7l-0.7 8.1l-0.8 -10.2l-0.7 11.4l-0.7 -7.3l-0.7 10.4l-0.7 -4.7l-0.7 -5.6l-0.7 -13.6l-0.7 10.5l-0.7 3.4l-0.7 -13.8l-0.7 3l-0.7 15.8l-0.7 8l-0.7 -0.7l-0.7 -14.1l-0.7 -4l-0.7 -1.7l-0.7 -0.8l-0.7 -10.3l-0.7 21.8l-0.7 -19.6l-0.7 -5.5l-0.7 6.6l-0.7 -2.9l-0.7 -6.3l-0.7 2.1l-0.7 10.5l-0.7 -9l-0.7 2.2l-0.7 11.3l-0.7 -13.2l-0.7 5.9l-0.7 15.4l-0.7 -14.9l-0.7 -6.8l-0.7 11.6l-0.7 -6.1l-0.7 -12.8l-0.7 14.8l-0.7 -2.3l-0.7 -13.4l-0.7 4.4l-0.7 2.1l-0.7 7.6l-0.7 -10.8l-0.7 -3.3l-0.7 3.3l-0.7 13.5l-0.7 -21.8l-0.7 4.5l-0.7 -1.1l-0.7 -2.3l-0.7 -0.7l-0.7 3.1l-0.7 -9.6l-0.7 10.1l-0.7 -3.6l-0.7 0.1l-0.7 -0.4l-0.7 -1.4l-0.7 7.9l-0.7 -5.5l-0.7 -13.8l-0.7 6.2l-0.7 -0.9l-0.7 -3.5l-0.7 -2.4l-0.7 -3.9l-0.7 23.1l-0.7 -16.1l-0.7 3.9l-0.7 -8.9l-0.7 6.9l-0.7 -6.8l-0.7 5.5l-0.7 6.3l-0.7 -1.9l-0.7 0.2l-0.7 -14.9l-0.7 2.3l-0.7 -5.3l-0.7 7.1l-0.7 2l-0.7 -9.2l-0.7 -2.3l-0.7 6.8l-0.7 -2.2l-0.7 -1l-0.7 1.2l-0.7 -2.3l-0.7 -11.1l-0.7 15.4l-0.7 -7.5l-0.7 -0.6l-0.7 -3.5l-0.7 2.6l-0.7 -1.3l-0.7 -0.3l-0.7 0.1l-0.7 -0.2l-0.7 -8.3l-0.7 4.3l-0.7 0.8l-0.7 1.6l-0.7 -7.8l-0.7 -0.8l-0.7 1.1l-0.7 6l-0.7 -4.5l-0.7 -3.7l-0.7 8.6l-0.7 -9.7l-0.7 5.5l-0.7 -4.5l-0.7 0.1l-0.7 -3.3l-0.7 1.3l-0.7 0.2l-0.7 -0.5l-0.7 -0.5l-0.7 -3.9l-0.7 0.8l-0.7 4.3l-0.7 -1.1l-0.7 -3.9l-0.7 -1.6l-0.7 -0.8l-0.7 -3.5l-0.7 3.9l-0.7 -4.7l-0.7 2.3l-0.7 -4.8l-0.7 0.6l-0.7 5.5l-0.7 -4.4l-0.7 -2.6l-0.7 2l-0.7 -7.8l-0.7 8l-0.7 -4.7l-0.7 -0.8l-0.7 2.5l-0.7 1.8l-0.7 -8.4l-0.7 -3.1l-0.7 -4.2l-0.7 8.6l-0.7 3.8l-0.7 -5.6l-0.7 -5.3l-0.7 0.4l-0.7 1.8l-0.7 -0.8l-0.7 2.1l-0.7 -1.6l-0.7 -4.3l-0.7 3.3l-0.7 -2.4l-0.7 -3l-0.7 -2.4l-0.7 3.5l-0.7 -1.3l-0.7 -4.5l-0.7 2.5l-0.7 -1.9l-0.7 2.9l-0.7 -3.9l-0.7 1.1l-0.7 1.3l-0.7 -5.1l-0.7 0.7l-0.7 -1.9l-0.7 -4.4l-0.7 1l-0.7 3.3l-0.7 -3.4l-0.7 5.3l-0.7 -3l-0.7 -2.8l-0.7 1.7l-0.7 2.7l-0.7 -9l-0.7 -0.3l-0.7 -2.8l-0.7 2.8l-0.7 -0.9l-0.7 4.7l-0.7 -9.5l-0.7 6.4l-0.7 -2.4l-0.7 -2.5l-0.7 -1l-0.7 -0.3l-0.8 -3.8l-0.7 3l-0.7 -3.2l-0.7 1.1l-0.7 0.9l-0.7 -1.5l-0.7 -4.9l-0.7 2l-0.7 1l-0.7 0.3l-0.7 1.2l-0.7 -4.9l-0.7 -1.8l-0.7 0.9l-0.7 -1.4l-0.7 2.7l-0.7 -6.1l-0.7 0.3l-0.7 -2.7l-0.7 4.2l-0.7 -3.9l-0.7 0.5l-0.7 -3.4l-0.7 3.6l-0.7 -2.4l-0.7 -0.2l-0.7 -2l-0.7 -2.5l-0.7 -0.1l-0.7 0.5l-0.7 0.4l-0.7 -3.4l-0.7 -0.8l-0.7 0.2l-0.7 -0.5l-0.7 -0.1l-0.7 -4.2l-0.7 0.3l-0.7 0.5l-0.7 0.6l-0.7 -0.1l-0.7 -3l-0.7 2.3l-0.7 -6.4l-0.7 5.1l-0.7 -4.6l-0.7 -0.9l-0.7 -0.6l-0.7 0.9l-0.7 -3.5l-0.7 6.9l-0.7 -4.9l-0.7 -4.7l-0.7 3l-0.7 -3.4l-0.7 -0.2l-0.7 -0.8l-0.7 1.9l-0.7 -5l-0.7 0.2l-0.7 -2l-0.7 1.5l-0.7 3.1l-0.7 -5l-0.7 -0.7l-0.7 -1.6l-0.7 4.8l-0.7 -6.5l-0.7 0.2l-0.7 1.6l-0.7 -3.7l-0.7 -2.8l-0.7 3.3l-0.7 -0.9l-0.7 -1.3l-0.7 -2.9l-0.7 -1.8l-0.7 -0.4l-0.7 -0.4l-0.7 -1.7l-0.7 2.4l-0.7 -2.3l-0.7 -3.1l-0.7 1l-0.7 -1l-0.7 -1.3l-0.7 -1.7l-0.7 -0.3l-0.7 -1.8l-0.7 0l-0.7 -3.2l-0.7 1.1l-0.7 0.7l-0.7 -4l-0.7 -0.2l-0.7 -0.8l-0.7 -0.5l-0.7 -1.4l-0.7 -0.2l-0.7 -0.8l-0.7 -0.3l-0.7 -2.9l-0.7 -0.4l-0.7 -2.1l-0.7 0.4l-0.7 -1.5l-0.7 -1.4l-0.7 -1.8l-0.7 -1.1l-0.7 -1.8l-0.7 1.2l-0.7 -2.9l-0.7 0.8l-0.7 -2.6l-0.7 -1.4l-0.7 -2.6l-0.7 -0.7l-0.7 -0.1l-0.7 -1.9l-0.7 -2.8l-0.7 0l-0.7 -1.9l-0.7 -1l-0.7 0.1l-0.7 -4.1l-0.7 -1.6l-0.7 -0.5l-0.7 -2.2l-0.7 -0.9l-0.7 -1.4l-0.7 -1.8l-0.7 -2.1l-0.7 -1.1l-0.7 0.4l-0.7 -3.3l-0.7 -1.5l-0.7 0.6l-0.7 -2.8l-0.7 -1.4l-0.7 0.7l-0.7 -0.9l-0.7 -1l-0.7 -1l-0.7 -1.1l-0.7 -0.6l-0.7 -0.5l-0.7 -1.3l-0.7 0l-0.7 -2.5l-0.7 -0.9l-0.7 -0.9l-0.7 1.4l-0.7 -1.1l-0.7 1.4l-0.7 0.2l-0.7 1.2l-0.7 0.4l-0.7 1.9l-0.7 1l-0.7 2.7l-0.7 -0.1l-0.7 3.9l-0.7 4.9l-0.7 7.3l-0.7 10.1l-0.7 9.5l-0.7 11.3l-0.7 12.2l-0.7 21.8l-0.7 35.9l-0.7 39.4l-0.7 45.7l-0.7 53.7l-0.7 45.3l-0.7 50.4l-0.7 20.8l-0.7 0l-0.7 0l-0.7 0l-0.7 0l-0.7 0l-0.7 -13.4l-0.7 13.4l-0.7 -2.7l-0.7 2.7l-0.7 0l-0.7 0l-0.7 0l-0.7 0l-0.7 0l-0.7 -2.7l-0.8 2.7l-0.7 0l-0.7 -10.1l-0.7 10.1l-0.7 0l-0.7 0l-0.7 0l-0.7 -2.7l-0.7 2.7l-0.7 0l-0.7 0l-0.7 0l-0.7 0l-0.7 0l-0.7 0l-0.7 -6.5l-0.7 3.8l-0.7 0l-0.7 -3.8l-0.7 6.5l-0.7 0l-0.7 0l-0.7 0l-0.7 -6.5l-0.7 6.5l-0.7 0l-0.7 0l-0.7 0l-0.7 0l-0.7 0l-0.7 0l-0.7 0l-0.7 0l-0.7 0l-0.7 0l-0.7 0l-0.7 -2.7l-0.7 2.7l-0.7 0l-0.7 0l-0.7 0l-0.7 0l-0.7 0l-0.7 -6.5l-0.7 3.8l-0.7 2.7l-0.7 0l-0.7 0l-0.7 0l-0.7 -6.5l-0.7 6.5l-0.7 0l-0.7 -2.7l-0.7 0l-0.7 2.7l-0.7 -6.5l-0.7 6.5l-0.7 0l-0.7 0l-0.7 -6.5l-0.7 -10.1l-0.7 16.6l-0.7 -2.7l-0.7 2.7l-0.7 0l-0.7 0l-0.7 -13.4l-0.7 13.4l-0.7 0l-0.7 0l-0.7 0l-0.7 0l-0.7 0l-0.7 0l-0.7 0l-0.7 0l-0.7 0l-0.7 -2.7l-0.7 2.7l-0.7 0l-0.7 -2.7l-0.7 2.7l-0.7 0l-0.7 0l-0.7 0l-0.7 -6.5l-0.7 3.8l-0.7 2.7l-0.7 -6.5l-0.7 0l-0.7 6.5l-0.7 0l-0.7 -2.7l-0.7 2.7l-0.7 0l-0.7 0l-0.7 0Z" fill="#ffff00" stroke="#ffff00" stroke-width="1.44" stroke-linejoin="round"/><path d="M847.6 512.8l0.7 -6.2l0.7 -2.8l0.7 -18.6l0.7 10.9l0.7 16.7l0.7 -9l0.7 5.8l0.7 3.2l0.7 -11.7l0.7 15l0.7 -9.5l0.7 -2.8l0.7 5.8l0.7 6.5l0.7 -6.5l0.7 -11.1l0.7 -2.4l0.7 0l0.7 13.5l0.7 -8.5l0.7 15l0.7 -15l0.7 2.7l0.7 -2.7l0.7 -7.4l0.7 2.4l0.7 7.7l0.7 0l0.7 2.8l0.7 -2.8l0.7 0l0.7 -10.1l0.7 -6.5l0.7 16.6l0.7 -2.7l0.7 8.5l0.7 -13.5l0.7 -4.6l0.7 18.1l0.7 0l0.7 -8.5l0.7 5.5l0.7 0l0.7 -2.8l0.7 0l0.7 -7.7l0.7 5l0.7 -2.6l0.7 11.1l0.7 -3l0.7 -2.8l0.7 -7.7l0.7 7.7l0.7 9l0.7 -11.7l0.7 -5l0.7 5l0.7 2.7l0.7 9l0.7 -9l0.7 2.8l0.7 0l0.7 3l0.7 -11.1l0.7 2.6l0.7 -11.8l0.7 14.5l0.7 -2.7l0.7 0l0.7 5.5l0.7 -2.8l0.7 0l0.7 0l0.7 -18.6l0.7 24.4l0.7 -8.5l0.7 -7.4l0.7 12.9l0.7 -2.8l0.7 -10.1l0.7 19.1l0.7 -3.2l0.7 -5.8l0.7 9l0.7 -3.2l0.7 0l0.7 0l0.7 -5.8l0.7 19.7l0.7 -13.9l0.7 -8.5l0.7 0l0.7 5.5l0.7 -2.8l0.7 0l0.7 -10.1l0.8 12.9l0.7 -5.5l0.7 2.7l0.7 5.8l0.7 0l0.7 -3l0.7 -2.8l0.7 -2.7l0.7 -2.6l0.7 11.1l0.7 3.2l0.7 -16.7l0.7 0l0.7 2.4l0.7 8.1l0.7 -4.1l0.7 -48.9l0.7 -44.6l0.7 -41.9l0.7 -55.5l0.7 -40.4l0.7 -34.5l0.7 -21.7l0.7 -16.7l0.7 -7.5l0.7 -10l0.7 -10.1l0.7 -10l0.7 -6.3l0.7 -2.4l0.7 -1.9l0.7 -2.4l0.7 -1.5l0.7 0l0.7 -0.5l0.7 -1.1l0.7 0l0.7 0l0.7 0l0.7 0l0.7 0l0.7 0l0.7 0.8l0.7 1.8l0.7 -0.9l0.7 1.5l0.7 1.4l0.7 0.7l0.7 0.9l0.7 0.6l0.7 0.7l0.7 -0.5l0.7 1.9l0.7 1.8l0.7 -0.5l0.7 2.2l0.7 0l0.7 3l0.7 1.3l0.7 1.8l0.7 1.8l0.7 1.9l0.7 0.1l0.7 1.5l0.7 0.8l0.7 2.9l0.7 0.4l0.7 3.9l0.7 0.2l0.7 2.2l0.7 0.4l0.7 1.7l0.7 -0.5l0.7 1.8l0.7 2.9l0.7 1.2l0.7 0.5l0.7 -0.2l0.7 1.9l0.7 1.2l0.7 1.2l0.7 1.1l0.7 1.9l0.7 0.7l0.7 2.5l0.7 -2.1l0.7 2.4l0.7 1.8l0.7 0.3l0.7 0.4l0.7 3.7l0.7 -1.2l0.7 0.4l0.7 3.2l0.7 1.1l0.7 -0.8l0.7 0.4l0.7 3.2l0.7 0.1l0.7 1.5l0.7 -1.1l0.7 1.7l0.7 1.4l0.7 -0.6l0.7 1.9l0.7 1.2l0.7 0.6l0.7 0.6l0.7 -0.1l0.7 2.8l0.7 2.2l0.7 1.2l0.7 -1.6l0.7 0.9l0.7 1.6l0.7 0.9l0.7 0.1l0.7 -0.4l0.7 2.7l0.7 -0.1l0.7 4.5l0.7 -1.2l0.7 -1.4l0.7 -0.2l0.7 1l0.7 1.4l0.7 1.9l0.7 0.5l0.7 1.7l0.7 -1.8l0.7 1.3l0.7 4l0.7 -1.3l0.7 -1.2l0.7 3.9l0.7 2.1l0.7 -0.9l0.7 0.5l0.7 0.6l0.7 0.6l0.7 2.1l0.7 -1.2l0.7 1.6l0.7 4l0.7 -2.8l0.7 3.5l0.7 -0.7l0.7 -1.4l0.7 -2.5l0.7 2.8l0.7 1.5l0.7 3.8l0.7 -4.7l0.7 6.6l0.7 -1l0.7 2.1l0.7 -2.6l0.7 -0.6l0.7 6.5l0.7 0.1l0.7 -1.2l0.7 -1.9l0.7 5.3l0.7 -0.4l0.7 0.8l0.7 -1.6l0.7 0.2l0.7 2.7l0.7 -1.3l0.7 0.8l0.7 5.1l0.7 -3l0.7 5.4l0.7 -2.7l0.7 -2.3l0.7 4.1l0.7 0.5l0.7 0.1l0.7 -3.3l0.7 5.4l0.7 -3.5l0.7 2.7l0.7 0.9l0.7 1l0.7 4.5l0.7 -1.9l0.7 2.2l0.7 -1l0.7 1.1l0.7 1.2l0.7 1.4l0.8 0.4l0.7 -0.3l0.7 0.6l0.7 0.4l0.7 2.5l0.7 0.7l0.7 -3.5l0.7 5.6l0.7 -6.6l0.7 4l0.7 5.4l0.7 -1.5l0.7 -0.5l0.7 -2.5l0.7 5l0.7 1.5l0.7 -1.2l0.7 -3.6l0.7 5.2l0.7 -2.6l0.7 6.3l0.7 -1.1l0.7 -0.8l0.7 -0.1l0.7 2l0.7 0.4l0.7 -0.1l0.7 4.3l0.7 -2.1l0.7 3.2l0.7 1.2l0.7 -3.5l0.7 -2.2l0.7 6.8l0.7 -0.8l0.7 2l0.7 -3.9l0.7 2.6l0.7 3l0.7 0.4l0.7 0l0.7 3.5l0.7 -5.5l0.7 5.6l0.7 -1.6l0.7 -0.9l0.7 -0.1l0.7 5.4l0.7 -2.3l0.7 4.4l0.7 -2.3l0.7 1.1l0.7 0.3l0.7 -1.8l0.7 7.4l0.7 -5.3l0.7 5.1l0.7 -2.6l0.7 2.4l0.7 2.5l0.7 -6l0.7 5.4l0.7 2.2l0.7 -3l0.7 -0.8l0.7 0.4l0.7 -2.4l0.7 5.9l0.7 3.2l0.7 -1.4l0.7 6.5l0.7 -3.5l0.7 1.5l0.7 -7.6l0.7 6.9l0.7 -1.8l0.7 -3.7l0.7 7.5l0.7 -1.4l0.7 6.8l0.7 -2.7l0.7 -6.6l0.7 7.8l0.7 -0.1l0.7 3.9l0.7 -2.8l0.7 2.6l0.7 -7.2l0.7 3.5l0.7 3.6l0.7 -0.9l0.7 6.6l0.7 -4.6l0.7 -3.5l0.7 0.2l0.7 0.3l0.7 2.3l0.7 -2.4l0.7 7.1l0.7 -1.9l0.7 3.4l0.7 -2.7l0.7 2.7l0.7 0.7l0.7 4.5l0.7 -2.4l0.7 -4.5l0.7 1.6l0.7 -4.6l0.7 12.2l0.7 -3.1l0.7 0.8l0.7 8.5l0.7 -4.4l0.7 6l0.7 -7.2l0.7 -5l0.7 6.1l0.7 -6.2l0.7 6.2l0.7 4.5l0.7 1.1l0.7 6.7l0.7 -10.2l0.7 1.9l0.7 4.5l0.7 0.3l0.7 -9.6l0.7 3.5l0.7 3.8l0.7 11l0.7 -7.8l0.7 -14.7l0.7 18.2l0.7 2.7l0.7 -3.4l0.7 -1.3l0.7 -6.3l0.7 9.3l0.7 1.1l0.7 -8.2l0.7 14.8l0.7 -5.9l0.7 -9.3l0.7 5.7l0.7 -0.4l0.7 -1.5l0.7 15.1l0.7 -4.5l0.7 -9.9l0.7 1.9l0.7 8.6l0.7 2.9l0.7 0.9l0.7 -11.4l0.7 6.7l0.7 -6.4l0.7 8.3l0.7 6.8l0.7 1.7l0.7 -4.5l0.7 1.9l0.7 -2.8l0.7 1l0.7 -12.1l0.7 6.3l0.7 14l0.7 -1.3l0.7 -10.9l0.7 1.1l0.7 5.6l0.7 0.7l0.7 1.3l0.7 -5.4l0.7 14.3l0.7 -2.2l0.7 -3.3l0.7 -8.8l0.7 23.4l0.7 -12.2l0.7 3.5l0.7 3.7l0.7 -12.8l0.7 15.3l0.7 -5.1l0.7 3.8l0.7 -1.4l0.7 5.2l0.7 -17.4l0.7 7.8l0.7 -4.3l0.7 6.6l0.7 8.7l0.8 -7.4l0.7 -0.3l0.7 0.6l0.7 7.4l0.7 -18.8l0.7 3.2l0.7 6.5l0.7 11.1l0.7 -14.6l0.7 11.5l0.7 -7.3l0.7 22.5l0.7 -16.5l0.7 -7.9l0.7 -10.4l0.7 22.1l0.7 -9.5l0.7 13.6l0.7 -5.4l0.7 -8.3l0.7 -5.3l0.7 21.8l0.7 -17.5l0.7 22.6l0.7 -9.1l0.7 -4.2l0.7 -0.5l0.7 -0.2l0.7 0.8l0.7 7.4l0.7 2.8l0.7 -4.8l0.7 2.6l0.7 -4.6l0.7 -2.9l0.7 -4.9l0.7 4.5l0.7 8.8l0.7 -5.9l0.7 17.9l0.7 -14.3l0.7 -4.2l0.7 0.9l0.7 12.8l0.7 -0.4l0.7 -4.8l0.7 -0.2l0.7 -0.2l0.7 1.3l0.7 5.9l0.7 -10.3l0.7 8.3l0.7 -3.1l0.7 -11.7l0.7 12.9l0.7 1.2l0.7 1.4l0.7 7.6l0.7 -19.8l0.7 10.2l0.7 -1.5l0.7 -1.4l0.7 5.5l0.7 7.6l0.7 6.8l0.7 -13.3l0.7 1.4l0.7 11.3l0.7 -3.8l0.7 -10.6l0.7 10.4l0.7 1.6l0.7 -12.2l0.7 8.7l0.7 -0.1l0.7 6.4l0.7 -0.2l0.7 -8l0.7 6.1l0.7 -7.6l0.7 2.8l0.7 0l0.7 14.9l0.7 -12l0.7 4.7l0.7 -1.7l0.7 -4.7l0.7 4.6l0.7 1.5l0.7 12.5l0.7 -14.1l0.7 6.5l0.7 -9.6l0.7 6.1l0.7 6.8l0.7 -3.6l0.7 7.1l0.7 -5.5l0.7 5.3l0.7 -3.7l0.7 1.7l0.7 -3.5l0.7 -3.2l0.7 -11.3l0.7 12.8l0.7 6.8l0.7 7.6l0.7 -5.9l0.7 -11.5l0.7 15.2l0.7 -5.6l0.7 -11l0.7 -4.1l0.7 16.8l0.7 -9.7l0.7 6.3l0.7 5.2l0.7 -8.4l0.7 6.6l0.7 3.5l0.7 -13l0.7 4.6l0.7 8.4l0.7 14.4l0.7 -4.6l0.7 -16.5l0.7 8.5l0.7 -5.2l0.7 19.7l0.7 -4.6l0.7 -6.1l0.7 0l0.7 1.9l0.7 -12.3l0.7 16.4l0.7 -11.4l0.7 0l0.7 5.4l0.7 -3.6l0.7 1.8l0.7 -3.4l0.7 5.3l0.7 3.8l0.7 -1.9l0.7 -7.1l0.7 3.5l0.7 11.8l0.7 -13.5l0.7 3.6l0.7 3.8l0.7 8.2l0.7 -8.2l0.7 0l0.7 0.1l0.7 -1.8l0.7 0l0.7 7.8l0.7 -11.2l0.7 11.3l0.7 2.1l0.7 -11.5l0.7 11.6l0.7 -8l0.7 5.9l0.7 2.1l0.7 -5.9l0.7 3.9l0.7 2.1l0.7 -9.5l0.7 1.8l0.7 1.9l0.7 3.9l0.7 -1.9l0.7 2l0.7 -5.6l0.7 12l0.7 -6.3l0.7 4.2l0.7 2.2l0.7 -4.2l0.7 -9.3l0.7 5.4l0.7 17.7l0.7 -24.6l0.7 13.1l0.7 -2l0.7 -2l0.7 0.1l0.7 -3.7l0.7 3.8l0.7 4.1l0.8 -4l0.7 10.6l0.7 2.4l0.7 -10.9l0.7 4.2l0.7 4.4l0.7 -12.2l0.7 3.9l0.7 8.5l0.7 -8.4l0.7 -1.8l0.7 15l0.7 -22l0.7 7.1l0.7 2l0.7 6.2l0.7 -4.1l0.7 2.1l0.7 4.3l0.7 0.1l0.7 -8.2l0.7 6.1l0.7 -2l0.7 11.4l0.7 -11.3l0.7 -1.9l0.7 -1.9l0.7 6.1l0.7 -6l0.7 4.1l0.7 4.2l0.7 2.3l0.7 2.4l0.7 -4.5l0.7 -2.1l0.7 0.1l0.7 9.1l0.7 -6.9l0.7 0.1l0.7 -6.1l0.7 -3.7l0.7 14.5l0.7 -2.3l0.7 7.2l0.7 -11.4l0.7 -1.9l0.7 0l0.7 -7.3l0.7 7.5l0.7 4.2l0.7 0l0.7 -9.6l0.7 19l0.7 -18.9l0.7 9.8l0.7 4.5l0.7 7.4l0.7 -2.5l0.7 -7l0.7 4.7l0.7 -2.3l0.7 -2.2l0.7 4.7l0.7 0l0.7 -2.3l0.7 -8.3l0.7 4.1l0.7 6.7l0.7 2.5l0.7 -18.6l0.7 16.3l0.7 -6.6l0.7 9.1l0.7 0.1l0.7 -2.4l0.7 0.1l0.7 -2.2l0.7 21.8l0.7 -23.9l0.7 0l0.7 0.1l0.7 7l0.7 -9l0.7 2.2l0.7 12l0.7 -11.9l0.7 14.8l0.7 -12.6l0.7 -2.1l0.7 4.5l0.7 7.6l0.7 -12l0.7 6.9l0.7 2.6l0.7 5.4l0.7 0.1l0.7 -5.4l0 26.2l-0.7 0l-0.7 -8.2l-0.7 0l-0.7 3.6l-0.7 3.9l-0.7 -11.1l-0.7 11.8l-0.7 -0.9l-0.7 0.9l-0.7 -1.1l-0.7 1.1l-0.7 0l-0.7 0l-0.7 0l-0.7 -8.9l-0.7 8.9l-0.7 0l-0.7 -12.4l-0.7 12.4l-0.7 -5.4l-0.7 3.9l-0.7 1.5l-0.7 -1.6l-0.7 -11.1l-0.7 11.1l-0.7 -4l-0.7 -10.5l-0.7 10.4l-0.7 -3.7l-0.7 -3.5l-0.7 11.2l-0.7 -4.1l-0.7 4l-0.7 1.8l-0.7 -5.8l-0.7 4l-0.7 -4.1l-0.7 -3.8l-0.7 7.8l-0.7 -4l-0.7 0l-0.7 -19.7l-0.7 25.6l-0.7 -16.7l-0.7 10.7l-0.7 -7.4l-0.7 -0.1l-0.7 -9.6l-0.7 3l-0.7 18.2l-0.7 1.9l-0.7 -6.1l-0.7 -3.8l-0.7 3.8l-0.7 -17.2l-0.7 9.7l-0.7 3.6l-0.7 -7.1l-0.7 17.1l-0.7 -10l-0.7 -19.2l-0.7 19.2l-0.7 0l-0.7 10l-0.7 -26.6l-0.7 9.4l-0.7 -3.4l-0.7 0l-0.7 14.7l-0.7 0l-0.7 -7.8l-0.7 12.3l-0.7 1.4l-0.7 -17.3l-0.7 7.5l-0.7 -17.1l-0.7 17.1l-0.7 -3.9l-0.7 3.9l-0.7 -17.2l-0.7 27l-0.7 -23.9l-0.7 0l-0.7 10.4l-0.7 -10.4l-0.7 6.7l-0.7 -3.5l-0.7 0.1l-0.7 0l-0.7 -3.3l-0.7 23.9l-0.7 -27.1l-0.7 22.4l-0.7 -12.3l-0.7 3.9l-0.7 0.1l-0.8 -7.5l-0.7 -12.4l-0.7 0l-0.7 5.9l-0.7 6.7l-0.7 -6.7l-0.7 23.3l-0.7 -29.3l-0.7 16.6l-0.7 13.2l-0.7 -26.8l-0.7 -2.9l-0.7 9.4l-0.7 -6.4l-0.7 -3l-0.7 6.2l-0.7 0.1l-0.7 0l-0.7 11.1l-0.7 -14.2l-0.7 10.4l-0.7 -3.6l-0.7 -6.7l-0.7 10.6l-0.7 -3.6l-0.7 -3.4l-0.7 -6.5l-0.7 -2.9l-0.7 0l-0.7 13.3l-0.7 -21.4l-0.7 25.6l-0.7 -11l-0.7 -17.1l-0.7 28.5l-0.7 -11.1l-0.7 3.6l-0.7 -3.4l-0.7 -3.2l-0.7 0l-0.7 3.5l-0.7 -12.4l-0.7 20.4l-0.7 -14.2l-0.7 10.6l-0.7 -16.5l-0.7 20.8l-0.7 -7.5l-0.7 8l-0.7 -3.9l-0.7 -13.9l-0.7 3.4l-0.7 3.5l-0.7 -15.3l-0.7 12.2l-0.7 -12l-0.7 19.8l-0.7 0.2l-0.7 0.2l-0.7 -7.2l-0.7 -9.5l-0.7 -8.3l-0.7 11.6l-0.7 -5.9l-0.7 -5.4l-0.7 18.8l-0.7 -6.7l-0.7 3.6l-0.7 -6.5l-0.7 -20.7l-0.7 12.3l-0.7 -7.6l-0.7 13.7l-0.7 -2.8l-0.7 3.3l-0.7 -5.8l-0.7 34.9l-0.7 -45.1l-0.7 -4.4l-0.7 -2.1l-0.7 24l-0.7 3.9l-0.7 -15.5l-0.7 5.9l-0.7 -13.2l-0.7 17l-0.7 7.5l-0.7 -13l-0.7 3.2l-0.7 7.5l-0.7 -21.1l-0.7 29.8l-0.7 -21.1l-0.7 -2.6l-0.7 3.3l-0.7 7l-0.7 -22.6l-0.7 10.7l-0.7 -2.5l-0.7 -9.9l-0.7 26.7l-0.7 -16.1l-0.7 -2.2l-0.7 -2.5l-0.7 6l-0.7 -10.4l-0.7 14l-0.7 -8.2l-0.7 -7.5l-0.7 0.3l-0.7 0.1l-0.7 -4.5l-0.7 0.5l-0.7 2.7l-0.7 33l-0.7 11.1l-0.7 -3.6l-0.7 -24.6l-0.7 -19l-0.7 -8.8l-0.7 17l-0.7 9.9l-0.7 -2.3l-0.7 0.3l-0.7 -2.3l-0.7 -11.3l-0.7 9.4l-0.7 11.1l-0.7 -3.2l-0.7 9l-0.7 -17.2l-0.7 0.3l-0.7 1l-0.7 11.8l-0.7 45.7l-0.7 -33.7l-0.7 -41.4l-0.7 25.8l-0.7 -6.5l-0.7 42.2l-0.7 -58.9l-0.7 -2.2l-0.7 9.5l-0.7 -8.3l-0.7 3.8l-0.7 1.1l-0.7 -19.4l-0.7 27.7l-0.7 -11.8l-0.7 -4.8l-0.7 -4.7l-0.7 3.3l-0.7 -11.1l-0.7 9.8l-0.7 5.8l-0.7 -5l-0.7 -12.4l-0.7 11.3l-0.7 6l-0.7 3.4l-0.7 -16.9l-0.7 10.2l-0.7 3.8l-0.7 -9.8l-0.7 -1.4l-0.7 -17.1l-0.7 25.5l-0.7 9.5l-0.7 -30.3l-0.7 8.6l-0.7 2.8l-0.7 -22.7l-0.7 40.2l-0.7 -7.6l-0.7 -13.6l-0.7 14.6l-0.7 -1.4l-0.7 -15.5l-0.7 -8.3l-0.7 11.7l-0.7 3.3l-0.7 -3.9l-0.7 -3.4l-0.7 -2.9l-0.7 -9.6l-0.7 5.5l-0.7 24.1l-0.7 -11.6l-0.7 -12.8l-0.7 -8.7l-0.7 17.6l-0.8 3.4l-0.7 -20.7l-0.7 2l-0.7 2.2l-0.7 22.6l-0.7 -17.6l-0.7 14.8l-0.7 -11.9l-0.7 -21.9l-0.7 21.4l-0.7 -25.3l-0.7 7.1l-0.7 3l-0.7 2.3l-0.7 8.3l-0.7 -16.6l-0.7 2.8l-0.7 -3.1l-0.7 3.5l-0.7 -0.6l-0.7 17.4l-0.7 -25l-0.7 7l-0.7 -11.5l-0.7 20.8l-0.7 -7.5l-0.7 14.3l-0.7 -20.7l-0.7 4.6l-0.7 3.2l-0.7 -4.2l-0.7 -3.2l-0.7 3.2l-0.7 -0.3l-0.7 -17.9l-0.7 6.6l-0.7 32.5l-0.7 -17.1l-0.7 -18.7l-0.7 2.5l-0.7 -0.3l-0.7 -1l-0.7 11.4l-0.7 1.3l-0.7 0.1l-0.7 3.5l-0.7 -23.7l-0.7 10l-0.7 1l-0.7 -1.5l-0.7 -2.3l-0.7 4.2l-0.7 -8.1l-0.7 -6.4l-0.7 6.4l-0.7 -5.4l-0.7 7.2l-0.7 0.4l-0.7 0.5l-0.7 2.5l-0.7 -10.6l-0.7 -9.2l-0.7 14.5l-0.7 -12.3l-0.7 7.4l-0.7 -10.5l-0.7 10.7l-0.7 -2.1l-0.7 -7.5l-0.7 5.2l-0.7 4l-0.7 -10.9l-0.7 -7.6l-0.7 12.4l-0.7 -8.1l-0.7 -0.6l-0.7 6.8l-0.7 -10.2l-0.7 18.4l-0.7 -20.3l-0.7 9.2l-0.7 -8.5l-0.7 5.9l-0.7 -4.7l-0.7 0.1l-0.7 -2.7l-0.7 0.1l-0.7 6.8l-0.7 -10.9l-0.7 14.8l-0.7 -18.7l-0.7 16.3l-0.7 -13.3l-0.7 -3.4l-0.7 5.8l-0.7 -3.1l-0.7 -2.7l-0.7 3.5l-0.7 9.3l-0.7 -4.5l-0.7 -10.3l-0.7 0.9l-0.7 -4.2l-0.7 -0.6l-0.7 13.7l-0.7 -10.5l-0.7 -6.4l-0.7 8.1l-0.7 -7l-0.7 8.7l-0.7 5.2l-0.7 -12l-0.7 1l-0.7 -4.3l-0.7 -5.5l-0.7 2.2l-0.7 -2.2l-0.7 6.1l-0.7 -9l-0.7 3.3l-0.7 4.8l-0.7 -5.1l-0.7 1.2l-0.7 -2.6l-0.7 -1.9l-0.7 -3.5l-0.7 2.7l-0.7 2l-0.7 -0.6l-0.7 -4.3l-0.7 -4.2l-0.7 6l-0.7 -0.9l-0.7 5l-0.7 -6.6l-0.7 -9.6l-0.7 5.3l-0.7 -6.9l-0.7 6.2l-0.7 7.3l-0.7 3.5l-0.7 -11.2l-0.7 -1.7l-0.7 -4.4l-0.7 -2.9l-0.7 12.9l-0.7 -3.9l-0.7 1.1l-0.7 -8.5l-0.7 -2.6l-0.7 3.5l-0.7 -1.2l-0.7 -2.5l-0.7 1.9l-0.7 -6.7l-0.7 0.9l-0.7 1.3l-0.7 1.6l-0.7 -6.4l-0.7 2.2l-0.7 -0.1l-0.7 -1.3l-0.7 -5.8l-0.7 9.7l-0.7 -3.8l-0.7 -3.3l-0.7 -0.8l-0.7 7.7l-0.7 -12.1l-0.7 5l-0.7 -0.5l-0.7 -4l-0.7 0.6l-0.7 -3.4l-0.7 3l-0.7 1.2l-0.7 -7.8l-0.7 2.6l-0.7 1.1l-0.7 -5.6l-0.7 4.3l-0.7 -5.4l-0.7 3.4l-0.7 3l-0.7 -0.6l-0.7 -10.4l-0.7 2.8l-0.7 3.1l-0.7 -4.2l-0.7 -6.6l-0.7 6l-0.7 2l-0.7 -5.9l-0.8 1.1l-0.7 -1.8l-0.7 1.9l-0.7 -0.1l-0.7 -5.8l-0.7 3.1l-0.7 0.7l-0.7 1.1l-0.7 -6l-0.7 -0.4l-0.7 2.2l-0.7 1.9l-0.7 -6l-0.7 -2.6l-0.7 0.7l-0.7 -1.8l-0.7 0.6l-0.7 -3.9l-0.7 4.2l-0.7 3.7l-0.7 -6.2l-0.7 -5.1l-0.7 2.1l-0.7 7.3l-0.7 -10.1l-0.7 1l-0.7 -1l-0.7 3l-0.7 -2.6l-0.7 -2.7l-0.7 -0.4l-0.7 -0.8l-0.7 1.5l-0.7 -2l-0.7 -5.6l-0.7 2.4l-0.7 0l-0.7 0.5l-0.7 -1l-0.7 -2.5l-0.7 3.9l-0.7 -2.5l-0.7 -3.6l-0.7 -1.5l-0.7 0.9l-0.7 0.5l-0.7 -1.7l-0.7 1.2l-0.7 -2.2l-0.7 -2.9l-0.7 3.1l-0.7 -2.7l-0.7 -0.4l-0.7 -3.3l-0.7 0.3l-0.7 0.9l-0.7 -3.3l-0.7 0.1l-0.7 -2.5l-0.7 2.2l-0.7 -0.6l-0.7 -3.1l-0.7 -0.4l-0.7 -3.2l-0.7 0.2l-0.7 0.5l-0.7 0.1l-0.7 -2.2l-0.7 -0.8l-0.7 0.3l-0.7 -1.1l-0.7 0l-0.7 -2l-0.7 -0.9l-0.7 0.4l-0.7 -1.5l-0.7 -2.3l-0.7 0.8l-0.7 -4l-0.7 3.9l-0.7 -4.1l-0.7 -1l-0.7 -1.2l-0.7 -2.4l-0.7 2.3l-0.7 1.7l-0.7 -5l-0.7 2.6l-0.7 -4.8l-0.7 1.8l-0.7 -2.5l-0.7 -1.2l-0.7 -2.3l-0.7 -0.7l-0.7 -0.3l-0.7 -2.9l-0.7 3.4l-0.7 -3.4l-0.7 0.2l-0.7 -1.1l-0.7 -2.8l-0.7 -1.5l-0.7 -0.9l-0.7 -0.2l-0.7 -1.5l-0.7 1.1l-0.7 -2l-0.7 -1.9l-0.7 -0.4l-0.7 -1l-0.7 -1.1l-0.7 -4l-0.7 0.7l-0.7 -1.7l-0.7 -0.6l-0.7 -0.9l-0.7 -1.6l-0.7 2.3l-0.7 -6.4l-0.7 -0.5l-0.7 -0.7l-0.7 -2.1l-0.7 -0.9l-0.7 -1.9l-0.7 0.3l-0.7 -2.2l-0.7 -1.5l-0.7 -1.2l-0.7 -2.6l-0.7 -1.5l-0.7 0.7l-0.7 -3.1l-0.7 -2.2l-0.7 -3.1l-0.7 -0.8l-0.7 -1.1l-0.7 0.1l-0.7 -3.2l-0.7 0.7l-0.7 -2.1l-0.7 1l-0.7 -1.9l-0.7 -1.3l-0.7 -1.5l-0.7 -0.7l-0.7 0.1l-0.7 -1.5l-0.7 -1.4l-0.7 0.2l-0.7 -1.4l-0.7 -1.1l-0.7 0.1l-0.7 -0.1l-0.7 0.7l-0.7 -0.2l-0.7 1.6l-0.7 1.2l-0.7 -1.3l-0.7 2.9l-0.7 1.1l-0.7 1.2l-0.7 3.4l-0.7 3.6l-0.7 8.1l-0.7 11.4l-0.7 8.9l-0.7 10l-0.7 14.3l-0.7 19l-0.7 33.2l-0.7 46.7l-0.7 50l-0.7 40.5l-0.7 42.4l-0.7 50.4l-0.7 24.9l-0.7 6.5l-0.7 0l-0.7 0l-0.7 0l-0.7 0l-0.7 0l-0.7 0l-0.7 0l-0.7 0l-0.7 -2.7l-0.7 2.7l-0.7 0l-0.7 0l-0.7 0l-0.7 0l-0.8 0l-0.7 0l-0.7 0l-0.7 0l-0.7 0l-0.7 -13.4l-0.7 13.4l-0.7 0l-0.7 0l-0.7 -2.7l-0.7 2.7l-0.7 0l-0.7 -2.7l-0.7 0l-0.7 0l-0.7 2.7l-0.7 0l-0.7 0l-0.7 0l-0.7 0l-0.7 0l-0.7 0l-0.7 0l-0.7 0l-0.7 0l-0.7 0l-0.7 0l-0.7 0l-0.7 0l-0.7 0l-0.7 0l-0.7 0l-0.7 0l-0.7 0l-0.7 -6.5l-0.7 3.8l-0.7 2.7l-0.7 -10.1l-0.7 10.1l-0.7 0l-0.7 0l-0.7 0l-0.7 0l-0.7 0l-0.7 -6.5l-0.7 3.8l-0.7 2.7l-0.7 0l-0.7 -6.5l-0.7 6.5l-0.7 0l-0.7 0l-0.7 -2.7l-0.7 2.7l-0.7 0l-0.7 -2.7l-0.7 2.7l-0.7 0l-0.7 0l-0.7 0l-0.7 0l-0.7 0l-0.7 -6.5l-0.7 3.8l-0.7 2.7l-0.7 0l-0.7 0l-0.7 0l-0.7 0l-0.7 0l-0.7 0l-0.7 0l-0.7 0l-0.7 0l-0.7 -6.5l-0.7 6.5l-0.7 0l-0.7 0l-0.7 0l-0.7 0l-0.7 0l-0.7 0l-0.7 0l-0.7 0l-0.7 0l-0.7 0l-0.7 0l-0.7 0l-0.7 0l-0.7 0l-0.7 0l-0.7 0l-0.7 0l-0.7 -6.5l-0.7 6.5l-0.7 0l-0.7 0Z" fill="#808000" stroke="#808000" stroke-width="1.56" stroke-linejoin="round"/></g><path d="M847.6 144.6V526.2H1385.6M847.6 526.2h-8M847.6 487.9h-4M847.6 465.5h-4M847.6 449.6h-4M847.6 437.3h-4M847.6 427.2h-4M847.6 418.7h-4M847.6 411.3h-4M847.6 404.8h-4M847.6 399.0h-8M847.6 360.7h-4M847.6 338.3h-4M847.6 322.4h-4M847.6 310.1h-4M847.6 300.0h-4M847.6 291.5h-4M847.6 284.1h-4M847.6 277.6h-4M847.6 271.8h-8M847.6 233.5h-4M847.6 211.1h-4M847.6 195.2h-4M847.6 182.9h-4M847.6 172.8h-4M847.6 164.3h-4M847.6 156.9h-4M847.6 150.4h-4M847.6 144.6h-8M847.6 526.2v6.5M901.4 526.2v3.5M955.2 526.2v6.5M1009.0 526.2v3.5M1062.8 526.2v6.5M1116.6 526.2v3.5M1170.4 526.2v6.5M1224.2 526.2v3.5M1278.0 526.2v6.5M1331.8 526.2v3.5M1385.6 526.2v6.5" stroke="#262626" stroke-width="2.0" fill="none"/><text x="0" y="0" font-size="38.20" transform="translate(782.82,537.54) scale(1.1900,1)" fill="#000">10</text><text x="0" y="0" font-size="38.20" transform="translate(757.55,410.34) scale(1.1900,1)" fill="#000">100</text><text x="0" y="0" font-size="38.20" transform="translate(732.27,283.14) scale(1.1900,1)" fill="#000">1000</text><text x="0" y="0" font-size="38.20" transform="translate(706.95,155.94) scale(1.1900,1)" fill="#000">10000</text><text x="0" y="0" font-size="39.00" transform="translate(834.70,568.30) scale(1.1900,1)" fill="#000">0</text><text x="0" y="0" font-size="39.00" transform="translate(928.54,568.30) scale(1.1900,1)" fill="#000">10</text><text x="0" y="0" font-size="39.00" transform="translate(1036.74,568.30) scale(1.1900,1)" fill="#000">20</text><text x="0" y="0" font-size="39.00" transform="translate(1144.62,568.30) scale(1.1900,1)" fill="#000">30</text><text x="0" y="0" font-size="39.00" transform="translate(1252.57,568.30) scale(1.1900,1)" fill="#000">40</text><text x="0" y="0" font-size="39.00" transform="translate(1359.77,568.30) scale(1.1900,1)" fill="#000">50</text><text x="0" y="0" font-size="50.00" transform="translate(711.64,418.45) rotate(-90) scale(0.9224,1.1158)" fill="#000">Counts</text><text x="0" y="0" font-size="47.38" transform="translate(1021.69,626.40) scale(1.1574,1)" fill="#000">Time (ns)</text><text x="0" y="0" font-size="38.97" transform="translate(1140.83,162.31) scale(1.1951,1)" fill="#000">4.17 ns</text><text x="0" y="0" font-size="38.42" transform="translate(1141.50,300.02) scale(1.2350,1)" fill="#000">3.11 ns</text><path d="M1189.8 172.5V247.6" stroke="#000" stroke-width="3.0" fill="none"/><path d="M1183.1 245.6L1196.5 245.6L1189.8 264.8Z" fill="#000"/><rect x="128" y="983" width="1344" height="910" fill="#fdfdfd"/><clipPath id="cmB"><rect x="410.4" y="1005.5" width="1016.6" height="706.8"/></clipPath><g clip-path="url(#cmB)"><path d="M410.4 1711.5l47.9 0l1.3 -0.9l1.4 -2l0.9 -2.6l0.9 -4.9l0.9 -10l0.9 -19.3l3.2 -119.9l7.7 -432.6l1.8 -22.8l1.8 -15l1.8 -8.9l0.9 -2.1l0.9 -0.7l0.4 2.3l0.9 16.5l3.7 109.7l2.7 49l12.2 190l3.6 44.3l4.5 43.7l11.8 92.5l3.1 20l3.6 17l5 17l2.7 6.9l2.7 5.7l3.2 5.3l3.1 4.2l3.7 3.7l4.5 3.6l4.9 2.9l5.9 2.5l4.5 1.4l5.9 1l27.1 2l31.7 0.9l792.9 0.4" stroke="#4d4d4d" stroke-width="3.0" fill="none" stroke-linejoin="round"/><path d="M410.4 1711.8l5.4 0.1l0.9 -0.6l12.7 0.5l4.5 -0.5l29.8 0.1l2.7 -2l2.7 -4.8l1.8 -7.4l2.8 -25l2.7 -48.6l12.6 -292.8l6.3 -117.8l3.7 -45.1l0.9 -4.8l2.7 -44.6l0.9 1l1.8 -26.5l2.7 -9l0.9 -12.3l0.9 1.9l0.9 -5.1l2.7 14.4l0.9 -11.2l0.9 9l0.9 2.9l0.9 -6.4l0.9 6.5l0.9 16.9l0.9 -2.6l1.8 5.3l3.7 33.3l0.9 -5.3l2.7 41.2l0.9 -10.7l1.8 9.9l5.4 47.4l0.9 -1.1l0.9 11.3l0.9 2.3l3.6 25.7l0.9 1.9l0.9 5.4l1.9 1.7l1.8 21.4l0.9 0.8l0.9 9.9l0.9 -3l0.9 9.9l0.9 -1.4l1.8 17.4l0.9 -6.1l1.8 14.1l1.8 7.1l0.9 -0.3l0.9 14l0.9 0.4l0.9 3.2l0.9 -1.7l0.9 9.2l1.8 9.8l1.8 4.5l0.9 5.4l0.9 -3.7l1.9 8.8l0.9 1.5l1.8 15.8l0.9 0.1l0.9 -3.3l2.7 14.6l1.8 7l0.9 -0.2l0.9 8.2l0.9 -1.7l1.8 10.3l0.9 1.9l0.9 -3l1.8 8.6l0.9 -0.2l1.8 11.9l0.9 -4l0.9 1.9l1.8 8.3l1 -1.4l0.9 5.9l0.9 0.2l0.9 6.1l0.9 -0.8l1.8 7.3l0.9 -3.3l2.7 13.4l0.9 -2.8l0.9 4.9l0.9 -0.3l0.9 3.6l0.9 0.5l0.9 2.5l0.9 5l1.8 -4.8l0.9 9.6l0.9 -3.1l1.8 6.6l0.9 -0.5l2.7 7.9l1 -4.9l0.9 10.8l0.9 0.6l0.9 -4.9l0.9 9.9l1.8 2.1l0.9 -3.9l0.9 4.6l0.9 1.5l0.9 -3.8l0.9 5.3l0.9 0.7l1.8 7.3l0.9 -0.6l2.7 7l0.9 -1.5l0.9 2.5l0.9 -2.6l0.9 6.6l0.9 -5.4l0.9 5.4l0.9 1.6l0.9 -0.4l1.9 3l0.9 -1.3l0.9 6l0.9 -0.5l0.9 -1.9l0.9 7.1l0.9 -3.3l1.8 6.5l2.7 0.4l0.9 4.3l0.9 -2.4l0.9 0l1.8 4.9l2.7 3.8l0.9 -1.7l0.9 5l0.9 -3.3l3.6 6.2l1 -2l3.6 7.2l1.8 -1.7l0.9 3.7l0.9 -1.9l1.8 4.5l1.8 -1.5l0.9 1.9l0.9 -1l1.8 6l1.8 -1.2l0.9 2l0.9 -0.5l1.8 5.2l0.9 -4.4l0.9 4.5l0.9 -0.1l1.9 2l0.9 -1.5l0.9 2.4l0.9 -0.6l1.8 3.5l0.9 -0.4l0.9 -2.9l2.7 11.1l0.9 -3.2l1.8 -0.4l0.9 4.3l0.9 -2l0.9 2.9l0.9 -6.1l0.9 3.9l1.8 -1.2l3.6 6.7l0.9 -3.7l1.9 3.7l1.8 1.4l0.9 0.4l0.9 -2.3l0.9 4.5l0.9 -2.9l0.9 3.7l0.9 -1.3l2.7 3l0.9 -1.4l0.9 1.4l0.9 -2l0.9 3.9l0.9 -2.4l0.9 1.1l0.9 3.7l0.9 -1.6l0.9 0.2l0.9 -3.2l0.9 1l0.9 4.1l0.9 -0.4l0.9 4.6l2.8 -4.6l0.9 3.6l1.8 1.2l0.9 -3.2l0.9 3.5l0.9 -2.1l0.9 3.6l1.8 0.3l0.9 -2.3l0.9 2.7l0.9 -0.2l1.8 2.1l1.8 0.2l0.9 -0.6l0.9 1.8l0.9 -1.8l1.8 3l0.9 0.1l0.9 -1.2l0.9 3.1l0.9 -1.3l0.9 0.8l1 -2.8l1.8 4.7l0.9 -1.6l0.9 1l0.9 -0.7l0.9 2l0.9 -1.7l0.9 3.1l1.8 -1.9l0.9 0.2l0.9 -0.7l0.9 0.9l0.9 0l0.9 3.2l0.9 1.1l0.9 -0.3l0.9 1.1l0.9 -4.6l0.9 2.3l1.8 2.1l0.9 -1.3l0.9 4.8l0.9 -1.7l0.9 0.4l0.9 -1.1l1 -2.1l0.9 2.9l0.9 -1.6l1.8 3.1l1.8 -2.5l0.9 2.6l0.9 0.2l0.9 1.8l0.9 -0.7l1.8 2l0.9 -2.7l0.9 0l1.8 2l1.8 -1.2l0.9 3l0.9 -1.6l1.8 1l0.9 -1.3l0.9 1.4l0.9 -1.3l1.9 3.1l0.9 -2.7l0.9 2.1l0.9 0.6l0.9 -2.2l0.9 4.5l0.9 -2.7l1.8 0.5l0.9 1.7l1.8 0.9l1.8 -1.8l0.9 1.1l1.8 -0.7l1.8 2.7l1.8 -1.2l0.9 2l1.8 -2l0.9 0l0.9 1.7l0.9 -2.3l0.9 2.9l2.8 -2.3l0.9 2.6l1.8 -1.8l2.7 4.7l0.9 -2.2l0.9 0.1l2.7 1.6l0.9 -0.3l1.8 1.4l0.9 -2.4l0.9 2.7l0.9 -1.4l0.9 2.9l1.8 -3.1l0.9 1.5l0.9 -1l0.9 0.8l0.9 2.3l1 -3.6l0.9 1.4l4.5 2.7l0.9 -1.6l0.9 0l0.9 2.5l0.9 -3.2l0.9 1.8l1.8 0.5l0.9 -1.1l0.9 0.5l1.8 2.8l0.9 -2.2l0.9 1.5l0.9 -0.7l0.9 0.7l0.9 2.3l0.9 -1.5l0.9 0.7l0.9 -0.9l0.9 1.7l1.9 -2.4l0.9 0.1l0.9 1.9l0.9 -0.6l0.9 1.6l0.9 -0.3l0.9 1.1l0.9 -4.2l1.8 2.6l1.8 -0.5l1.8 1.4l0.9 -1.1l0.9 1.1l1.8 0.1l0.9 -1.7l0.9 2.1l1.8 1l0.9 -0.7l0.9 0.9l2.7 -1.3l1 1.5l0.9 -1.2l0.9 1.4l0.9 -1l0.9 2.4l0.9 -1.8l0.9 1.1l0.9 -0.4l0.9 -2.2l0.9 2.8l0.9 -2.1l0.9 2.1l1.8 0.4l0.9 -0.7l0.9 1.5l2.7 -1.6l1.8 1.1l1.8 -1.7l0.9 2.8l0.9 -2l0.9 2l0.9 -2.1l1 2.5l4.5 -1.1l1.8 1.6l0.9 -1.4l2.7 1.5l2.7 -0.2l0.9 -1.3l2.7 2.4l0.9 -0.7l2.7 -0.3l1.8 0.9l0.9 -0.6l0.9 1.8l1.9 -2.3l1.8 2.1l0.9 -1.2l2.7 2.5l0.9 -2.5l1.8 1.4l0.9 -0.5l1.8 0.9l0.9 -0.3l0.9 1.3l0.9 -1.9l0.9 1.6l0.9 -0.9l0.9 0l0.9 1.6l0.9 -1.2l0.9 0.9l0.9 -0.7l0.9 0.7l1.8 0.2l1.9 -1.6l0.9 2l0.9 -1.3l2.7 2l1.8 -1.3l4.5 0.3l1.8 0.5l0.9 1.5l0.9 -0.1l1.8 -2.2l0.9 0.9l3.6 0.5l0.9 0.8l0.9 -1.1l0.9 1.8l0.9 -1l1 0.5l2.7 -1.3l0.9 2.5l0.9 -1.9l1.8 0.2l0.9 0.8l1.8 -0.7l0.9 1.3l0.9 -1.7l0.9 2.3l0.9 -1l0.9 0.9l0.9 -1.6l0.9 -0.1l1.8 1.2l0.9 -1.4l0.9 1.2l0.9 -1.8l0.9 2.7l1.8 -0.9l1.9 1.6l0.9 -1.6l0.9 1.4l0.9 -0.1l1.8 -1.5l1.8 1.5l2.7 0.3l0.9 -0.8l0.9 0.6l1.8 -1.4l1.8 1.8l1.8 0.7l0.9 -1.4l1.8 0.6l1.8 -0.9l1.8 1.5l1.8 -0.3l1 -1.2l0.9 1.5l0.9 -1.3l0.9 1.1l0.9 -1.2l0.9 1.7l0.9 -1l0.9 0.8l0.9 -0.9l1.8 1.3l0.9 -1.1l0.9 0.8l1.8 0.4l3.6 -0.5l1.8 1.3l0.9 -0.8l0.9 0.8l0.9 -1.3l1.8 1.5l1.9 -0.3l0.9 -1l0.9 1.3l2.7 -0.4l0.9 -1.2l0.9 1.1l1.8 0.6l2.7 -0.8l1.8 1.2l0.9 -1.5l2.7 1l3.6 0.4l0.9 -0.5l0.9 1l0.9 -1.2l0.9 0.7l2.8 -0.3l1.8 1.2l0.9 -0.7l3.6 1.1l1.8 -1.1l0.9 0.6l6.3 -0.4l0.9 0.9l0.9 -1.1l1.8 1.3l1.8 0.2l0.9 -0.6l1.9 0.5l0.9 -0.9l4.5 0.9l1.8 -1.1l0.9 0.9l1.8 -0.8l1.8 1.4l1.8 -1l0.9 1.4l1.8 -1l0.9 1l1.8 -1l1.8 0.1l0.9 1l0.9 -1.4l0.9 1.4l1.9 -1.5l0.9 1.3l2.7 -1l0.9 0.8l0.9 -1l3.6 1.3l0.9 -0.7l1.8 0.5l0.9 -0.8l1.8 0.8l0.9 1.2l0.9 -0.9l1.8 -0.3l0.9 0.7l2.7 -1l0.9 1.1l1.9 -0.6l0.9 0.7l0.9 -1.4l0.9 0.9l2.7 0.1l0.9 -1l2.7 1.5l0.9 -0.8l1.8 1l3.6 -0.9l1.8 1l2.7 -0.7l1.8 1.1l0.9 -0.7l2.8 0l1.8 0.9l0.9 -0.8l1.8 0.1l0.9 -0.8l1.8 0.8l4.5 0.5l0.9 -1.5l0.9 1.4l0.9 -1l0.9 0.7l4.5 0l1.8 0.6l1.8 -1.3l1 0.9l1.8 -0.4l0.9 0.7l2.7 -0.4l0.9 0.6l0.9 -0.7l1.8 1.2l0.9 -1.2l1.8 1.1l0.9 -0.8l2.7 0.6l2.7 -0.5l6.4 0.9l0.9 -0.6l1.8 0.8l4.5 -1.3l0.9 0.8l5.4 0.5l2.7 -1l1.8 0.5l1.8 -0.3l1.8 1.2l1.8 -0.7l0.9 0.9l1.9 -1l1.8 0.2l0.9 -0.8l0.9 1l1.8 0.2l0.9 -0.8l4.5 0.7l1.8 -0.4l2.7 0.9l5.4 -1l2.8 1l4.5 -0.8l0.9 1l1.8 0l0.9 -1.2l5.4 0.7l0.9 0.6l1.8 -1.1l1.8 0.8l3.6 -0.4l3.7 0.7l4.5 -0.9l0.9 0.8l1.8 -0.8l3.6 0.9l2.7 -0.9l0.9 0.9l0.9 -0.4l3.6 0.4l2.7 -0.7l1.8 0.7l1 -0.5l0.9 0.8l4.5 -0.8l1.8 0.7l3.6 -0.4l0.9 0.7l0.9 -0.9l3.6 0.8l6.3 -0.7l5.5 0.6l0.9 -0.6l6.3 0.9l0.9 -0.6l3.6 0.5l0.9 -0.8l0.9 0.6l1.8 -0.5l0.9 0.6l5.5 0.1l0.9 -0.9l0.9 1.2l0.9 -0.6l5.4 0l3.6 0.9" stroke="#ff3838" stroke-width="5" fill="none" stroke-linejoin="round"/><path d="M410.4 1711.6l11.7 -0.4l39.8 0.5l2.7 -1.9l2.7 -6.5l0.9 -5.1l1.8 -17.8l1.8 -30.5l15.4 -406.4l8.1 -131.4l0.9 8.2l1.9 -26.6l0.9 1.9l0.9 -10.7l0.9 -1.5l0.9 -7.3l0.9 -0.1l1.8 -1.9l0.9 -5.6l0.9 5.4l0.9 -3l0.9 7.5l0.9 1.3l0.9 4.1l0.9 0.2l0.9 13.5l0.9 3.1l0.9 -1l0.9 1.6l1.8 22.4l0.9 -1.4l0.9 7.2l0.9 -0.6l0.9 3.7l1.8 17.8l1 -4.1l0.9 5l3.6 33.1l0.9 0.7l0.9 3.5l0.9 7.7l0.9 -4.1l0.9 14.9l3.6 35.5l1.8 9.4l3.6 32.9l0.9 2.6l0.9 8.2l0.9 0.2l0.9 13.8l0.9 -1.5l0.9 12l1 2.3l3.6 28.9l1.8 5.1l0.9 10.7l1.8 10.9l0.9 0.6l0.9 4.3l0.9 10.5l0.9 -4.3l0.9 10.5l0.9 0.8l0.9 7.2l0.9 -0.3l1.8 6.3l1.8 19.1l0.9 -6.1l0.9 8.7l1.8 7.5l0.9 -0.4l0.9 6.2l1 0.9l0.9 11.3l0.9 -0.9l0.9 6.5l1.8 -2.5l0.9 9.1l0.9 -1.1l1.8 6.2l0.9 9.2l0.9 2.5l1.8 -0.4l0.9 10.7l0.9 -2.2l0.9 1.2l1.8 6.9l0.9 0.1l1.8 7.1l0.9 0.5l0.9 5.9l0.9 -1.2l0.9 0.2l0.9 2.2l1 7.9l0.9 -1.5l1.8 10.1l0.9 0.9l1.8 -1.8l0.9 1.6l1.8 7.1l0.9 0l1.8 9.1l0.9 -1.4l0.9 2.6l0.9 -2.2l0.9 5.2l0.9 -2.6l0.9 0.6l0.9 6.1l0.9 0.8l0.9 5.4l1.8 -2l1.8 4.4l0.9 -1.7l2.8 10.2l0.9 -0.4l0.9 0.4l0.9 3.2l0.9 -4.6l0.9 0.8l0.9 6.4l0.9 -3.6l0.9 4.7l0.9 0.6l0.9 -2.9l0.9 6.7l0.9 1.1l0.9 -5.1l0.9 5.3l1.8 4.1l1.8 -1.4l0.9 5.6l0.9 -0.9l0.9 -3.9l1.8 5.3l0.9 1.4l0.9 0l1 3.4l0.9 -0.3l0.9 -1.9l0.9 5.8l1.8 -3.9l0.9 4.8l0.9 -1.5l1.8 3.9l0.9 -1.6l1.8 5l1.8 -0.5l0.9 0.8l1.8 3.9l0.9 0.5l1.8 -3.1l0.9 5.9l0.9 -1.7l0.9 1.4l0.9 -0.9l0.9 2.4l0.9 -0.5l1.9 2.6l0.9 -0.9l3.6 2.1l0.9 1.8l0.9 -1.1l2.7 5.4l0.9 -4.1l0.9 5.4l0.9 -1.4l1.8 1.4l0.9 -2.1l1.8 0.7l1.8 3.8l0.9 -0.5l0.9 -1.8l0.9 1.5l0.9 5.7l1.8 -2.9l1 0l0.9 -2.2l0.9 5.4l1.8 -2.7l0.9 3.1l1.8 -1.9l0.9 2l1.8 1.7l1.8 -1l0.9 2.1l1.8 -2.4l0.9 4.5l0.9 -0.9l0.9 1.1l0.9 -1.8l0.9 2.1l0.9 -0.2l0.9 1l1.8 -1.9l0.9 2.7l1.9 0.7l0.9 -0.3l2.7 4.2l0.9 -3.7l0.9 1.3l0.9 -0.3l0.9 2.2l0.9 -1.3l0.9 0.2l0.9 -1.1l0.9 1.1l0.9 3.2l0.9 -0.8l0.9 2.2l0.9 -2.5l0.9 3.4l0.9 -2.9l1.8 1l0.9 3.5l0.9 -2.4l0.9 0.9l0.9 -2.3l0.9 3l0.9 -1.5l0.9 1.5l1.9 -0.7l2.7 3.1l0.9 -3.3l2.7 3.7l1.8 -1.6l0.9 2.5l0.9 0.7l1.8 -1l1.8 1.9l0.9 -1.2l0.9 1.8l0.9 -1.4l0.9 -0.2l1.8 2.4l0.9 0.4l0.9 -0.5l2.8 2l0.9 -2.6l0.9 1.6l0.9 -2.6l0.9 3.3l0.9 -1l0.9 0.6l0.9 -1.1l0.9 0.6l1.8 3.1l0.9 -3l0.9 -0.3l0.9 2.1l1.8 1.8l0.9 -1.6l1.8 1.3l2.7 -0.4l0.9 1.4l0.9 0.3l2.7 -1.7l1.9 3.9l1.8 -3l1.8 4l0.9 -3l1.8 2.7l1.8 -1.5l1.8 1.4l0.9 2.8l0.9 -3.4l2.7 3.1l0.9 -2.5l1.8 0l0.9 1.2l0.9 0.1l0.9 2.7l1.8 -2.5l1.8 -0.7l1 1.5l0.9 -1.3l0.9 2.5l1.8 -1.8l1.8 2.7l1.8 -1.2l1.8 0.2l0.9 2.6l0.9 0.3l0.9 -1.3l0.9 0.5l1.8 -1.4l0.9 0.1l0.9 1.5l1.8 -1.1l0.9 0.1l0.9 1.3l0.9 -1.1l0.9 0.9l0.9 -1l0.9 3.4l0.9 0l1.9 -2l0.9 0.7l0.9 -0.3l0.9 1.7l0.9 -2.4l0.9 -0.3l1.8 1.6l0.9 -2.4l0.9 3.6l0.9 -0.8l2.7 1.3l0.9 -1l0.9 0.8l2.7 -1.2l0.9 2l1.8 -0.7l0.9 0.6l0.9 -1.4l1.8 2.6l1.9 0.5l0.9 -2.5l3.6 3l0.9 -1.5l1.8 1.7l0.9 -0.9l0.9 1.1l0.9 -1.8l0.9 3.5l0.9 -2.5l0.9 -0.5l0.9 2.2l0.9 -1.7l0.9 1.3l0.9 -0.9l1.8 0.5l0.9 2.4l0.9 -2.8l0.9 1.6l1.8 0.3l0.9 -3l1 2.7l0.9 0.6l0.9 -0.7l1.8 0.3l0.9 -0.4l0.9 1.9l0.9 -1.4l0.9 1.4l0.9 -1.2l1.8 0.3l0.9 -0.8l0.9 1.1l0.9 -1.6l0.9 2.9l2.7 -1.2l0.9 1.1l0.9 -1l0.9 1l0.9 -2.3l0.9 2.3l0.9 -1.5l0.9 1.8l0.9 -1.3l1 0.1l1.8 2.3l0.9 -1.2l0.9 0l0.9 0.9l2.7 -0.8l0.9 1.8l0.9 -0.5l0.9 -1.7l1.8 2.8l1.8 -1.2l1.8 0.8l0.9 -1.6l2.7 0.4l0.9 1.7l0.9 -1.1l1.8 1.7l2.8 -0.2l0.9 -1l0.9 1.8l0.9 0.1l0.9 -1l0.9 1.4l0.9 -0.7l1.8 0.5l1.8 -0.7l1.8 0.9l0.9 -0.2l0.9 -1.7l1.8 3.1l0.9 -2.3l2.7 1.4l1.8 -0.9l1.8 1l2.8 -1.3l0.9 2l0.9 -1.9l0.9 2.5l0.9 -1.5l0.9 1.1l0.9 -1.4l0.9 0.7l1.8 -0.6l0.9 0.1l1.8 2.2l0.9 -1.6l0.9 1.2l0.9 -1.1l1.8 1.2l0.9 -1l2.7 0.3l0.9 -0.6l0.9 1.5l1.8 -1.7l1.9 0.5l0.9 2.2l1.8 -1.5l2.7 0.6l0.9 -0.8l1.8 2l1.8 -0.7l0.9 0.9l2.7 -1.5l0.9 2l1.8 -2l1.8 0.7l0.9 -0.8l0.9 1.3l2.7 -1.3l1.8 1.8l2.8 -0.3l1.8 1.1l0.9 -0.9l0.9 0.8l1.8 -1.3l1.8 1.8l0.9 -0.9l1.8 -0.2l0.9 0.6l0.9 -0.6l1.8 0.7l0.9 -0.7l0.9 1.2l1.8 -0.7l0.9 1l2.7 -0.4l1.9 0.9l0.9 -2.4l1.8 1.8l0.9 -1.7l1.8 1.5l1.8 0.6l0.9 -1.1l1.8 1.6l2.7 -1.3l2.7 1.5l0.9 -0.9l0.9 0.1l0.9 1.7l1.8 -2l1.8 1.6l1.8 0.2l0.9 -1.2l1 0.8l0.9 -0.7l1.8 0.2l0.9 1.1l0.9 -1.6l0.9 0.8l0.9 -0.7l0.9 1.9l0.9 -1.2l0.9 0.8l0.9 -0.8l1.8 1.2l0.9 -2l0.9 1.8l0.9 -1.1l1.8 1.6l1.8 -2.1l1.8 1.1l0.9 -0.5l1.8 1.3l0.9 -1.1l1 1.1l1.8 -0.9l4.5 1.6l2.7 -0.4l0.9 -0.7l0.9 1.2l1.8 0.2l1.8 -1.5l3.6 1.2l1.8 -1l4.5 0.7l3.7 -0.5l0.9 1l0.9 -0.8l1.8 1.1l0.9 -1l3.6 1.4l0.9 -1.1l3.6 1.1l2.7 -0.4l0.9 -1l1.8 1.6l0.9 -0.8l2.8 1.1l0.9 -1.2l1.8 1.4l1.8 -1.7l0.9 2.3l0.9 -1.2l1.8 -0.2l0.9 0.5l3.6 -0.2l0.9 0.7l0.9 -1.2l0.9 1.1l2.7 -1l3.6 0.8l0.9 -0.7l0.9 1.2l1 -1.6l0.9 1.1l1.8 0.5l0.9 -0.7l1.8 1.2l0.9 -0.9l5.4 0.4l0.9 -0.9l2.7 1.4l0.9 -0.1l0.9 -1.2l0.9 1.3l2.7 -1l0.9 1.4l0.9 -1l0.9 1.1l1.9 -1.3l1.8 1.2l0.9 -0.9l1.8 -0.1l0.9 0.7l0.9 -0.6l0.9 1.3l1.8 -1l1.8 0.5l0.9 -1.1l0.9 0.9l1.8 0.4l0.9 -0.7l1.8 0l0.9 0.8l0.9 -1.2l3.6 1.1l1.9 -0.7l0.9 0.2l0.9 1.2l1.8 -1.4l0.9 1.3l0.9 -1l1.8 -0.2l0.9 1.1l1.8 -1.4l0.9 0.9l1.8 -0.3l1.8 0.8l1.8 -0.7l3.6 0.6l2.7 -0.6l2.8 0.9l1.8 -1.1l0.9 0.8l2.7 0.3l1.8 -0.7l2.7 1.1l0.9 -0.9l0.9 1.2l3.6 -0.7l1.8 0.1l0.9 0.7l0.9 -1.5l1.8 0.5l2.7 -0.2l1.9 0.8l1.8 -0.5l1.8 0.7l0.9 -0.8l1.8 0.9l0.9 -0.9l1.8 0.6l1.8 -0.3l0.9 -0.9l0.9 2.1l0.9 -1.4l3.6 1.1l0.9 -0.9l1.8 0.7l1.8 -0.6l0.9 0.7l1.9 -0.9l0.9 0.8l0.9 -0.6l2.7 1.1l0.9 -1l0.9 0.6l2.7 0.1l0.9 -0.7l2.7 0.7l0.9 -0.8l0.9 0.7l0.9 -0.6l0.9 0.7l1.8 -0.4l0.9 0.6l0.9 -0.8l2.7 1.1l0.9 -1.1l2.8 0.9l2.7 -0.8l1.8 0.8l1.8 -0.6l0.9 0.7l1.8 -0.4l0.9 0.4l0.9 -1l1.8 1l0.9 -1.1l2.7 0.3l0.9 1.1l0.9 -0.5l0.9 0.6l0.9 -0.9l0.9 0.9l2.8 -0.9l1.8 1.3l1.8 -1l1.8 0.3l0.9 -0.5l0.9 1.7l0.9 -1.9l4.5 0.9l0.9 -1.1l3.6 1.7l0.9 -0.9l0.9 0.6l0.9 -1l0.9 1.3l0.9 -0.8l7.3 -0.3l2.7 1.3l0.9 -1l0.9 0.5l0.9 -0.8l0.9 0.9l0.9 -0.9l0.9 0.7l0.9 -0.7l3.6 1.1l1.8 -0.9l2.7 0.7l4.6 -0.6l0.9 0.7l5.4 -0.6l1.8 0.8l1.8 -0.7l1.8 0.6l4.5 -0.6l5.4 0.8l0.9 -0.6l1.9 0.6l1.8 -0.5l3.6 0.5l2.7 -0.7l1.8 0.9l0.9 -0.8" stroke="#0068dd" stroke-width="5" fill="none" stroke-linejoin="round"/><path d="M410.4 1711.5l52.4 0l2.7 -3.6l2.7 -10.5l1.8 -19.6l1.8 -33.2l13.6 -368.8l6.3 -132.8l3.6 -41.7l0.9 -2l0.9 -11.8l1 2.7l1.8 -15.6l2.7 -4.8l0.9 3.9l0.9 -3.1l0.9 6.7l0.9 0.1l0.9 1.5l3.6 22.2l0.9 11.9l0.9 -3l1.8 16.6l0.9 0.2l1.8 14.9l0.9 2l1.8 10l0.9 0.8l0.9 9.1l3.7 17l3.6 34l3.6 23.9l8.1 70.2l3.6 20.1l0.9 12.7l0.9 -2.8l1 13.3l0.9 0.8l7.2 45.4l0.9 2.3l0.9 12.6l1.8 -2.1l0.9 10.4l0.9 3.7l0.9 0.8l0.9 5l0.9 1l0.9 5l0.9 11.5l0.9 0.1l1.8 3.5l1.8 11.4l0.9 -1.8l0.9 6.8l1.9 3.8l3.6 20.7l0.9 -3.5l0.9 0.9l0.9 10.3l0.9 0.6l1.8 5l1.8 7l0.9 7.3l0.9 -4.8l4.5 12.4l2.7 10.3l0.9 0.8l0.9 3.5l1.9 2l1.8 7.5l0.9 -0.4l0.9 3.6l1.8 2.5l2.7 7.7l0.9 -0.9l0.9 5.6l0.9 -0.4l3.6 7.1l0.9 -1.2l0.9 -0.1l0.9 6.2l0.9 -0.6l0.9 3l0.9 -2l1.8 6.6l0.9 0.3l0.9 2.4l0.9 -1l3.7 7.4l0.9 -0.8l0.9 0.8l0.9 3.1l2.7 3.1l0.9 3.6l0.9 -2.1l0.9 3l0.9 -1.1l0.9 3l1.8 0.9l0.9 4l0.9 -3l0.9 4.6l1.8 -1.6l0.9 2.8l0.9 -0.9l1.8 5.7l0.9 -1.7l1.9 1.4l1.8 5l1.8 -1.5l0.9 3.5l0.9 -3.6l0.9 4.3l0.9 -1.3l0.9 0.7l0.9 2.3l2.7 3.7l0.9 -1.3l0.9 1.2l0.9 -0.9l0.9 4.1l0.9 0.8l0.9 -1.7l0.9 1.9l0.9 -1.8l0.9 3.5l0.9 -0.5l0.9 1.2l0.9 -0.3l1.9 2.4l0.9 0.1l1.8 -1.3l1.8 4.2l0.9 -2.1l0.9 2.4l1.8 0.9l0.9 2l2.7 1.4l0.9 -2.4l0.9 1.6l1.8 1.3l1.8 3.3l1.8 -2.2l0.9 3.2l0.9 -1.2l0.9 1.9l0.9 -1.2l0.9 -0.1l1 1.5l0.9 -1.1l2.7 2.7l1.8 0.9l1.8 -0.2l2.7 3l0.9 -1l1.8 1.3l1.8 -0.3l0.9 1.5l2.7 0.4l0.9 1.6l1.8 -1.3l0.9 1.3l1.8 0.7l1 -0.5l1.8 2l0.9 -0.4l2.7 1.6l0.9 -0.9l0.9 3l0.9 -1.6l0.9 1.3l0.9 -2.7l0.9 2.7l3.6 -1.4l2.7 3.2l1.8 0.3l1.8 -0.7l4.6 2.9l1.8 -0.7l0.9 0.8l1.8 -0.6l0.9 0.9l1.8 -0.7l0.9 2.4l0.9 -1.5l0.9 0.2l2.7 2.5l0.9 -1.5l1.8 1.4l0.9 -0.8l0.9 0.6l0.9 -0.6l0.9 1.5l1.8 -1.3l0.9 1.8l1.8 -0.8l1 2l0.9 -1.2l2.7 2.6l1.8 -2.1l0.9 1.7l3.6 -0.2l0.9 1.3l1.8 -0.4l0.9 1.7l0.9 -1.5l1.8 0.7l0.9 1.1l0.9 -0.7l0.9 0.4l0.9 1.9l0.9 -2.6l0.9 0.9l1.8 -1l0.9 1.4l1 0.3l0.9 -0.8l1.8 1.5l0.9 -1.7l0.9 2.1l1.8 0.6l0.9 -2.2l0.9 1.8l2.7 1.5l0.9 -2.4l1.8 1.6l0.9 -0.3l2.7 1.1l0.9 -0.5l0.9 1l0.9 -1.8l0.9 1.8l4.6 0.3l0.9 -0.8l1.8 1.9l0.9 -0.9l0.9 0.8l1.8 0.2l0.9 -0.5l0.9 1.1l0.9 -1.5l0.9 1.1l0.9 -0.4l2.7 2.2l0.9 -1.4l1.8 1.1l0.9 -0.8l1.8 0.9l0.9 -0.8l0.9 0.8l1.8 0l0.9 1.2l1 -1.5l0.9 0.9l2.7 0.4l2.7 -0.9l1.8 1.3l0.9 -0.5l1.8 1.1l0.9 -0.7l1.8 0.2l1.8 1.8l0.9 -0.9l1.8 0.9l0.9 -1.4l0.9 0.6l0.9 -0.8l0.9 1.1l0.9 -0.2l1.9 0.9l0.9 -0.5l0.9 0.9l0.9 -1.4l0.9 1.4l1.8 -0.8l1.8 1l0.9 -0.6l1.8 1.2l0.9 -0.9l0.9 0.9l1.8 -1.1l2.7 1l1.8 -0.4l1.8 0.6l0.9 -0.5l0.9 1.2l0.9 -1.3l1.8 1.3l1.9 -0.4l0.9 0.5l0.9 -0.7l0.9 1.3l0.9 -0.9l3.6 0.6l0.9 -0.9l0.9 1.9l0.9 -0.8l1.8 1l0.9 -1.2l3.6 1.4l0.9 -1.1l0.9 1.1l0.9 -1.5l2.7 1.2l0.9 1.1l5.5 -1.5l1.8 1.7l0.9 -0.7l1.8 0.6l1.8 -1l0.9 1l0.9 -0.7l0.9 1l1.8 0.2l1.8 -0.6l3.6 0.6l0.9 -0.8l0.9 1.2l3.7 -0.7l1.8 1.3l0.9 -1.1l2.7 -0.1l0.9 1.7l2.7 -1.4l1.8 1l3.6 -0.2l1.8 0.9l0.9 -0.9l2.7 0.9l0.9 -0.6l2.8 0l0.9 0.8l0.9 -1l2.7 1.3l1.8 -0.4l2.7 0.6l1.8 -1.2l1.8 0.9l5.4 0l3.6 1l1.8 -0.9l1 1l0.9 -0.7l2.7 0.8l2.7 -0.7l1.8 0.8l0.9 -0.6l2.7 0l0.9 0.7l2.7 -0.9l0.9 0.8l4.5 0.2l0.9 -0.6l2.7 1l1 -0.6l2.7 0.9l4.5 -0.4l1.8 0.5l0.9 -1.1l0.9 1l0.9 -0.7l1.8 1.2l2.7 -1.1l0.9 0.9l1.8 -0.3l0.9 1l0.9 -1.4l2.7 0.9l6.4 -0.4l0.9 0.7l0.9 -0.6l1.8 0.8l0.9 -1.2l0.9 1.4l0.9 -0.9l3.6 1.1l0.9 -0.9l1.8 0.4l1.8 -0.5l2.7 1.1l2.8 -0.7l0.9 0.7l1.8 -0.3l2.7 0.5l0.9 -0.8l4.5 1.1l0.9 -0.5l3.6 0.3l0.9 -0.4l3.6 0.7l0.9 -0.7l2.7 0.6l1 -0.6l5.4 0.9l0.9 -0.7l1.8 0.8l2.7 -0.5l0.9 0.7l1.8 -0.8l6.3 0.8l2.7 -0.5l0.9 0.4l0.9 -0.6l1 0.5l3.6 -0.2l3.6 0.8l0.9 -0.5l0.9 0.4l4.5 -0.4l2.7 0.9l0.9 -0.8l7.3 0.6l0.9 -0.6l4.5 0.7l8.1 -0.5l5.4 0.9l6.4 -0.6l2.7 0.5l1.8 -0.4l2.7 0.6l2.7 -0.5l6.3 0.5l4.5 -0.7l3.7 0.8l0.9 -0.5l7.2 0.4l0.9 0.7l1.8 -0.8l1.8 0.5l3.6 -0.6l2.7 0.7l3.6 -0.4l1.9 0.5l2.7 -0.8l1.8 0.6l7.2 0.3l1.8 -0.8l9 0.9l1.8 -0.8l1 0.7l5.4 -0.5l0.9 0.7l5.4 -0.5l5.4 0.6l0.9 -0.6l4.5 0.7l1.9 -0.4l0.9 0.6l3.6 -0.6l5.4 0.4l4.5 -0.5l1.8 0.4l1.8 -0.4l0.9 0.5l4.5 -0.4l0.9 0.6l5.5 -0.6l2.7 0.5l15.3 0.3l1.9 -0.6l1.8 0.7l4.5 -0.6l1.8 0.6l7.2 -0.6l4.5 0.6l4.6 -0.4l29.8 0.5l4.5 -0.5l2.7 0.5l9.9 -0.4l7.3 0.7l6.3 -0.5l26.2 0.3" stroke="#00b060" stroke-width="3" fill="none" stroke-linejoin="round"/><path d="M410.4 1711.5l51.5 0.1l1.8 -0.9l1.8 -2.1l1.8 -6.3l2.7 -25.2l1.8 -36.1l12.7 -354.6l6.3 -142.1l2.7 -35.4l0.9 -1.6l2.7 -22.7l1 1.3l0.9 -14.2l0.9 0l0.9 1.5l0.9 0l0.9 -5l0.9 0.9l0.9 8.3l0.9 -5.3l0.9 10.2l1.8 7.9l2.7 18.6l0.9 -3.5l0.9 12.5l0.9 2.4l0.9 9.8l0.9 2l1.8 16.2l0.9 -0.1l0.9 11.4l3.7 14.8l12.6 103.2l0.9 1.7l2.7 29.3l1.8 7.3l5.4 40.8l2.8 11.9l0.9 8.4l1.8 7l0.9 11.2l0.9 3.8l0.9 -0.9l0.9 9.9l0.9 1.5l2.7 15.9l1.8 5.9l3.6 21.1l1.8 7.5l0.9 0.6l1.8 6.6l2.7 16.1l1 -1.9l0.9 10.2l0.9 -1.4l0.9 1.3l0.9 5.5l2.7 6.6l2.7 13.2l0.9 -2.3l0.9 6.7l0.9 2.9l0.9 -1.5l0.9 5.1l1.8 3.8l0.9 7l0.9 -0.6l1.8 6.9l2.7 3.7l1.8 6.6l1 -1.2l0.9 4.7l0.9 -0.3l2.7 9.7l0.9 -1.4l1.8 8.2l0.9 -1.7l1.8 5.9l0.9 0.7l1.8 4.5l0.9 -1.3l1.8 6.6l0.9 1.2l0.9 -1.7l0.9 2.3l0.9 -0.3l0.9 4.9l0.9 -1.1l0.9 4.1l0.9 0.1l0.9 1.9l0.9 -0.8l1.9 5.4l0.9 -0.5l0.9 3l1.8 1.8l0.9 -0.5l0.9 1.3l0.9 1.4l0.9 3.9l1.8 -0.2l1.8 1.9l0.9 2.7l0.9 -1.7l1.8 4.5l0.9 -0.5l3.6 5.5l0.9 0.8l0.9 -0.2l1.8 3.5l1.9 -1l0.9 3.2l0.9 -0.3l0.9 1.3l0.9 3.5l1.8 -2.7l1.8 4.6l0.9 0.3l0.9 -1.7l2.7 4.4l0.9 -0.7l1.8 1.8l0.9 -1.2l0.9 4l0.9 -0.6l2.7 0.8l0.9 1.1l0.9 -0.1l1.8 2.8l2.8 1.5l0.9 1.5l1.8 -0.6l0.9 0.3l0.9 1.6l0.9 -0.9l1.8 3.7l0.9 -1.4l0.9 2.8l0.9 -1.7l0.9 0.1l0.9 2.5l0.9 -1.3l1.8 2.6l0.9 -0.5l0.9 1.9l0.9 -2.4l0.9 2.6l1.8 -0.9l2.8 2l0.9 -0.6l1.8 2.3l0.9 0.1l0.9 1l0.9 -0.3l0.9 1.1l0.9 -0.9l0.9 0.2l0.9 1.5l0.9 -1.3l0.9 1.8l0.9 -1.1l0.9 1.4l0.9 -0.3l0.9 1.2l2.7 -0.9l0.9 2.8l1.8 -1.1l1.8 2.4l0.9 -1l0.9 0.3l2.8 1.3l0.9 1.3l1.8 -1l0.9 0.8l0.9 -0.6l1.8 2.5l0.9 0.4l0.9 -1.1l0.9 0.6l1.8 -0.4l2.7 2.5l1.8 -1.3l0.9 2.5l0.9 -2.7l0.9 2.5l4.5 0l1.9 1.4l0.9 -0.9l2.7 1.1l2.7 -0.4l2.7 2.1l1.8 0l0.9 1.5l0.9 -0.4l0.9 -2l3.6 2.8l0.9 -0.6l0.9 1.1l1.8 -1.2l2.8 2.3l0.9 -2.2l2.7 2l3.6 0.3l0.9 -0.8l0.9 2.3l0.9 -0.8l3.6 1.2l1.8 -0.4l2.7 1.9l0.9 -1.5l0.9 1.3l0.9 -1.4l0.9 0.3l0.9 1.5l0.9 -0.7l0.9 1.3l1.9 -1.6l0.9 0.4l0.9 -0.5l0.9 2.3l0.9 -1.8l2.7 1.6l2.7 -0.1l0.9 1.2l0.9 -0.6l0.9 1.3l0.9 -1.4l0.9 0.7l0.9 -0.4l0.9 1.1l0.9 -0.9l0.9 1l2.7 -1.4l0.9 1.9l0.9 -1.8l1.9 0.7l0.9 1.5l0.9 -0.7l0.9 0.8l0.9 -1l0.9 0.1l5.4 1.5l0.9 -0.6l0.9 0.8l0.9 -1.4l2.7 2.4l2.7 -0.9l1.8 0.3l0.9 1l0.9 -1.4l6.4 1.5l0.9 -0.9l1.8 1.5l0.9 -1.1l0.9 0.4l0.9 -0.4l0.9 1.6l0.9 -1.2l0.9 -0.1l0.9 1.3l1.8 -0.2l0.9 1.2l0.9 -2.2l1.8 1.7l1.8 -1.1l0.9 1.5l4.6 -1l0.9 1.8l0.9 -1.3l2.7 0.7l1.8 -0.2l0.9 0.8l1.8 -0.9l1.8 1.2l2.7 -0.9l1.8 1.1l3.6 -0.4l0.9 0.6l6.4 0.4l1.8 -0.9l0.9 1.1l1.8 -0.2l1.8 1.2l4.5 -1.1l3.6 0.3l1.8 0.9l0.9 -0.5l1.8 0.4l0.9 -0.5l2.7 0.7l2.8 -0.2l1.8 0.8l0.9 -0.6l1.8 0.6l0.9 -0.5l0.9 0.8l1.8 -0.9l0.9 0.7l0.9 -0.4l1.8 1.6l0.9 -1.3l0.9 0.9l0.9 -0.7l5.4 0.6l0.9 0.6l1.9 -1.3l0.9 1.6l0.9 -0.8l3.6 0.5l0.9 -0.6l2.7 0l1.8 0.9l3.6 -0.8l0.9 0.7l8.1 0.1l1.9 1.1l0.9 -1l4.5 0.9l3.6 -0.1l0.9 -0.7l0.9 0.8l1.8 -0.6l4.5 0.7l1.8 -0.5l3.6 1.1l1.9 -0.8l0.9 0.5l1.8 -0.5l2.7 0.8l3.6 -0.4l3.6 0.7l1.8 -0.5l0.9 0.6l1.8 -0.5l1.8 0.5l3.6 -0.3l2.8 0.9l0.9 -1l0.9 0.6l4.5 0.2l0.9 -0.6l4.5 0.5l2.7 -0.6l1.8 0.8l1.8 -0.6l1.8 0.9l0.9 -0.6l0.9 0.5l2.8 -0.4l0.9 0.9l3.6 -0.6l1.8 0.6l0.9 -0.5l0.9 0.6l0.9 -0.7l7.2 1l5.4 -1l2.7 1l1.9 -0.7l2.7 0.7l0.9 -0.7l0.9 0.8l5.4 0.2l0.9 -0.5l2.7 0.6l1.8 -0.6l9.1 0.6l0.9 -0.5l1.8 0.6l4.5 -0.5l9.9 1.1l1.8 -1l1.8 0.7l13.6 -0.3l6.3 0.7l28 -0.2l2.7 0.8l0.9 -0.6l9.1 0.4l2.7 -0.5l6.3 0.6l7.2 -0.3l2.8 0.6l0.9 -0.6l1.8 0.5l8.1 -0.4l9.9 0.6l1.9 -0.6l0.9 0.5l1.8 -0.4l10.8 0.6l23.5 -0.2l3.6 0.6l9.1 -0.6l6.3 0.5l34.3 -0.2l28.9 0.6l6.4 -0.4l18.9 0.3l0.9 -0.5l0.9 0.6l1.8 -0.4l1.9 0.5l0.9 -0.7l0.9 0.6l58.7 -0.1" stroke="#cc99ff" stroke-width="3" fill="none" stroke-linejoin="round"/><path d="M410.4 1711.5l52.4 0.2l1.8 -1.8l2.7 -7.1l1.8 -11.9l2.7 -49.1l14.5 -403.8l3.6 -64.6l0.9 -29.4l3.6 -40.3l0.9 -17.9l0.9 4.3l0.9 -1l1 3.1l0.9 -12.8l0.9 2.4l0.9 -11.1l0.9 -0.1l0.9 -2.1l0.9 0.7l1.8 9.2l0.9 0.9l0.9 11.3l1.8 -1.5l0.9 22.4l0.9 -4.5l0.9 8.8l0.9 3.7l0.9 0.7l1.8 9.5l0.9 1.6l0.9 13.3l2.7 18l1.8 9.4l1 -3.5l1.8 23.6l0.9 4.3l0.9 -6.7l0.9 18.7l0.9 0.7l0.9 5.4l1.8 25.7l1.8 7.3l0.9 23.8l0.9 1.4l1.8 12.9l0.9 0.9l2.7 28.5l0.9 2.9l0.9 -0.3l0.9 15.5l0.9 -1.4l1.8 8.8l2.8 28.7l0.9 -4.4l0.9 13.4l0.9 -2.9l3.6 30.2l0.9 -6l0.9 10.5l1.8 7.5l0.9 1.3l0.9 5.6l1.8 17.1l0.9 2.7l0.9 -7l2.7 21.3l0.9 -0.5l0.9 3.1l1.8 12.3l1.8 1.6l1.9 13.7l0.9 -2.6l4.5 19.9l0.9 0.8l1.8 8.5l0.9 -1.2l0.9 2.7l0.9 6l0.9 -2.8l0.9 6.9l0.9 -3l0.9 7.4l1.8 4.8l0.9 6.4l0.9 -8l3.6 18.2l0.9 -1.7l1 0.3l0.9 5.6l0.9 0l0.9 2.5l0.9 0.2l1.8 6.9l0.9 -1.1l1.8 6l0.9 -3.9l0.9 8l0.9 -0.4l2.7 11.3l0.9 -4.1l0.9 4.1l1.8 4l1.8 1.6l0.9 -0.2l0.9 5.8l0.9 -6.6l1.8 11.5l1.9 -5.2l0.9 5.4l0.9 -0.8l2.7 9.2l0.9 -2.3l0.9 2.5l0.9 -3.6l0.9 4.8l1.8 -1.1l0.9 1l0.9 5.4l1.8 2.4l0.9 -1.3l0.9 1l1.8 4.8l1.8 -1.8l0.9 1.6l0.9 5.8l0.9 -4.6l1.8 4.5l1.9 -1.1l0.9 4.4l0.9 -3l0.9 4.5l0.9 -0.6l0.9 0.2l1.8 2.5l1.8 6l1.8 -2.2l0.9 0.3l0.9 0.6l0.9 3.6l0.9 -5l1.8 6.5l0.9 -2.5l1.8 0.7l0.9 2.3l0.9 -3l0.9 3.2l0.9 -2.6l0.9 5.3l0.9 0.8l1 -2.7l0.9 3l0.9 -2.6l1.8 6.6l0.9 0.7l0.9 -4.6l0.9 3.3l0.9 -2l0.9 4.2l1.8 -2.7l1.8 4.2l0.9 0.7l0.9 -2l0.9 3.2l0.9 -3.1l0.9 -0.1l1.8 4.9l0.9 -0.2l0.9 -1.8l1.8 4.4l0.9 -0.3l0.9 -2.1l1.9 3l0.9 -0.4l0.9 -3l1.8 4.2l0.9 -0.5l1.8 1.6l0.9 -1.2l1.8 1.2l0.9 -1.2l0.9 0.3l0.9 2.2l0.9 -0.7l0.9 2.9l1.8 0.7l1.8 -0.6l0.9 1.3l1.8 -0.5l0.9 -1.2l0.9 3.4l0.9 -0.8l2.8 0.1l0.9 2.6l0.9 -1.9l0.9 2.6l0.9 -2.4l1.8 2.2l0.9 -1.5l0.9 0.2l2.7 3.4l2.7 -1.2l0.9 2.1l0.9 -3.1l1.8 4.5l0.9 0.1l0.9 -2.4l0.9 0.3l0.9 -1.1l1.8 1.2l0.9 2.4l1 -0.7l0.9 -3.8l1.8 6l0.9 -2.2l1.8 0.5l0.9 4.5l0.9 -1l0.9 -3l0.9 2.1l0.9 -3l1.8 3.4l0.9 -1.3l1.8 2.7l0.9 -1.7l2.7 1.6l0.9 -2.7l0.9 2.3l0.9 -0.1l0.9 0.9l0.9 -0.3l0.9 -2.1l1 2.1l1.8 1.3l0.9 0l0.9 -1.4l0.9 3.4l1.8 -1.1l1.8 1.3l0.9 -1.8l0.9 4l0.9 -2.9l0.9 -0.5l1.8 1.6l1.8 -3.2l0.9 3.2l0.9 -0.4l0.9 0.7l0.9 -0.9l0.9 1.4l0.9 -1l0.9 2.5l0.9 0.3l0.9 -2.3l2.8 2.1l0.9 -1.3l0.9 1.4l0.9 -0.3l0.9 -2.7l0.9 3.1l0.9 -0.6l0.9 1.1l0.9 0.1l0.9 -2l0.9 2l1.8 -1.7l0.9 1.4l0.9 -1.4l0.9 2.1l0.9 -0.5l0.9 1.3l1.8 -0.8l1.8 1.6l0.9 -1.5l0.9 -0.2l2.8 0.5l0.9 1.5l0.9 0.1l0.9 -1.4l0.9 1.9l0.9 0.1l0.9 0l0.9 -2.2l0.9 1l0.9 -0.4l0.9 2.2l0.9 -2.1l0.9 0.2l1.8 2.9l0.9 -0.5l0.9 -2.4l1.8 2l0.9 -2.3l1.8 2.9l2.7 -1.2l0.9 1.4l1.8 -0.3l1.9 -1.6l2.7 1.7l0.9 -0.6l0.9 0.9l1.8 -1l1.8 2.1l0.9 -0.7l1.8 1.6l0.9 -1.3l1.8 -0.7l1.8 1.7l2.7 -0.4l0.9 0.9l0.9 -0.6l0.9 1.4l0.9 -2l1.9 0.6l1.8 -0.7l1.8 1.9l0.9 -0.1l0.9 0.8l0.9 -2.2l0.9 1.8l0.9 -1.7l0.9 1.4l0.9 -0.4l0.9 1.6l0.9 -1l1.8 0.6l0.9 -0.4l0.9 1.2l0.9 -2.1l0.9 1.2l1.8 -0.4l0.9 1.1l0.9 -1.1l0.9 0.4l0.9 -1.3l0.9 0.7l0.9 2.4l1 -2.1l0.9 0.5l0.9 1.9l0.9 -2.1l1.8 1.1l0.9 -0.8l0.9 1.2l1.8 -1.5l0.9 1.6l0.9 -1.3l0.9 1.4l4.5 -1.1l0.9 1.3l1.8 -0.7l4.5 1.3l0.9 -0.7l1 0.8l0.9 -2.1l0.9 1.8l4.5 -0.3l0.9 0.7l1.8 -0.6l1.8 1l1.8 -1.3l2.7 1.5l0.9 -1.1l0.9 1.1l1.8 -0.5l1.8 1.5l1.8 -1.5l0.9 1.6l1 -1.9l1.8 1.5l1.8 -1l1.8 0.9l5.4 -0.2l0.9 0.6l1.8 -0.5l1.8 0.7l0.9 -0.7l0.9 0.9l0.9 -1l1.8 -0.3l1.8 2.2l4.6 -1.9l0.9 1.2l0.9 -0.6l0.9 1.1l0.9 0.1l2.7 -1.3l4.5 1.9l1.8 -1.4l6.3 1.1l1.8 -1.1l0.9 1.6l0.9 -0.8l3.7 0.4l0.9 -0.5l1.8 1.3l1.8 -1.3l0.9 0.9l2.7 -0.3l0.9 0.6l0.9 -0.1l0.9 -1.1l3.6 1.5l0.9 -1.4l2.7 1.3l0.9 -1.5l1.8 1.1l0.9 -0.7l1 0.4l0.9 1.1l0.9 -0.7l1.8 -0.2l2.7 1.2l0.9 -0.8l0.9 1l2.7 -1.7l0.9 1.2l0.9 0.2l0.9 -1.1l0.9 1.2l1.8 -0.8l1.8 1.1l0.9 -0.9l1.8 0.9l0.9 -1.3l3.7 0.9l0.9 -0.9l1.8 1.5l0.9 -0.6l4.5 0.6l1.8 -0.7l1.8 1.1l1.8 -0.9l0.9 0.5l1.8 -0.6l1.8 1.3l2.7 -1.3l0.9 0.9l1.8 -0.9l1 0.8l1.8 -0.8l1.8 1.2l2.7 -0.2l1.8 -1l0.9 0.9l4.5 -0.7l1.8 1l1.8 -0.8l0.9 0.7l1.8 -0.6l0.9 1l1.8 -1.1l0.9 0.7l7.3 0l0.9 0.6l0.9 -1.1l0.9 0.8l2.7 -0.7l1.8 1.1l1.8 -0.7l1.8 0l0.9 0.8l6.3 -0.7l1 1.2l1.8 -0.9l1.8 -0.4l0.9 0.8l2.7 -0.9l0.9 1.1l3.6 -0.8l1.8 0.9l0.9 -0.8l2.7 0.9l0.9 -1l3.6 0.9l0.9 -0.9l2.8 1.2l0.9 -0.9l0.9 0.8l1.8 -0.8l2.7 0.7l3.6 -0.5l2.7 0.7l0.9 -0.5l0.9 0.6l0.9 -0.7l1.8 0.2l0.9 0.6l1.8 -1.1l0.9 0.6l8.2 -0.1l0.9 0.5l0.9 -0.5l3.6 0.1l2.7 0.6l2.7 -0.9l1.8 1l1.8 -0.3l1.8 0.5l2.7 -0.2l1 -0.8l0.9 0.8l1.8 -0.6l3.6 0.8l1.8 -1l1.8 1l4.5 -0.6l1.8 0.6l1.8 -0.7l0.9 0.8l3.6 -0.6l5.5 0.5l0.9 -0.7l0.9 0.7l0.9 -0.6l0.9 0.7l2.7 -0.5l2.7 0.7l9.9 -0.6l0.9 0.6l1.9 -0.4l0.9 0.7l3.6 -0.8l14.4 0.5l9.1 -0.3l6.3 0.5l1.8 -0.5l5.4 0.5l2.7 -0.6l3.6 0.8l1.9 -0.8l0.9 0.5l2.7 -0.4l3.6 0.9l1.8 -0.6l3.6 0.3l2.7 -0.5l13.6 0.6l0.9 -0.7l4.5 0.7l6.3 -0.5l0.9 0.7l1.8 0l3.6 -0.8l4.6 0.8l3.6 -0.5l0.9 0.5l0.9 -0.5l2.7 0.5l17.2 -0.5l0.9 0.5l0.9 -0.4l2.7 0.4l0.9 -0.5l9 0.8l4.5 -0.9l5.5 0.7l8.1 -0.4l0.9 0.6l10.8 -0.1l0.9 -0.5l9.1 0.4l0.9 -0.5l3.6 0.6" stroke="#e09a00" stroke-width="5.5" fill="none" stroke-linejoin="round"/></g><rect x="410.4" y="1005.5" width="1016.6" height="706.8" fill="none" stroke="#262626" stroke-width="2.6"/><path d="M410.4 1712.3h-16M410.4 1648.0h-8.5M410.4 1583.8h-16M410.4 1519.5h-8.5M410.4 1455.3h-16M410.4 1391.0h-8.5M410.4 1326.8h-16M410.4 1262.5h-8.5M410.4 1198.3h-16M410.4 1134.0h-8.5M410.4 1069.8h-16M410.4 1005.5h-8.5M410.4 1712.3v13M466.9 1712.3v6.5M523.4 1712.3v13M579.8 1712.3v6.5M636.3 1712.3v13M692.8 1712.3v6.5M749.3 1712.3v13M805.7 1712.3v6.5M862.2 1712.3v13M918.7 1712.3v6.5M975.2 1712.3v13M1031.7 1712.3v6.5M1088.1 1712.3v13M1144.6 1712.3v6.5M1201.1 1712.3v13M1257.6 1712.3v6.5M1314.0 1712.3v13M1370.5 1712.3v6.5M1427.0 1712.3v13" stroke="#262626" stroke-width="2.6" fill="none"/><text x="0" y="0" font-size="62.30" transform="translate(343.95,1730.43) scale(1.1100,1)" fill="#000">0</text><text x="0" y="0" font-size="62.30" transform="translate(228.60,1601.92) scale(1.1100,1)" fill="#000">2000</text><text x="0" y="0" font-size="62.30" transform="translate(228.60,1473.41) scale(1.1100,1)" fill="#000">4000</text><text x="0" y="0" font-size="62.30" transform="translate(228.60,1344.90) scale(1.1100,1)" fill="#000">6000</text><text x="0" y="0" font-size="62.30" transform="translate(228.60,1216.39) scale(1.1100,1)" fill="#000">8000</text><text x="0" y="0" font-size="62.30" transform="translate(190.08,1087.89) scale(1.1100,1)" fill="#000">10000</text><text x="0" y="0" font-size="61.60" transform="translate(391.29,1782.00) scale(1.1200,1)" fill="#000">5</text><text x="0" y="0" font-size="61.60" transform="translate(483.72,1782.00) scale(1.1200,1)" fill="#000">10</text><text x="0" y="0" font-size="61.60" transform="translate(596.78,1782.00) scale(1.1200,1)" fill="#000">15</text><text x="0" y="0" font-size="61.60" transform="translate(710.53,1782.00) scale(1.1200,1)" fill="#000">20</text><text x="0" y="0" font-size="61.60" transform="translate(823.59,1782.00) scale(1.1200,1)" fill="#000">25</text><text x="0" y="0" font-size="61.60" transform="translate(936.85,1782.00) scale(1.1200,1)" fill="#000">30</text><text x="0" y="0" font-size="61.60" transform="translate(1049.91,1782.00) scale(1.1200,1)" fill="#000">35</text><text x="0" y="0" font-size="61.60" transform="translate(1163.28,1782.00) scale(1.1200,1)" fill="#000">40</text><text x="0" y="0" font-size="61.60" transform="translate(1276.34,1782.00) scale(1.1200,1)" fill="#000">45</text><text x="0" y="0" font-size="61.60" transform="translate(1388.61,1782.00) scale(1.1200,1)" fill="#000">50</text><text x="0" y="0" font-size="50.00" transform="translate(180.48,1481.44) rotate(-90) scale(1.1931,1.4350)" fill="#000">Counts</text><text x="0" y="0" font-size="62.94" transform="translate(769.24,1847.70) scale(1.1263,1)" fill="#000">Time (ns)</text><path d="M707.2 1481.3V1557.8" stroke="#000" stroke-width="3.8" fill="none"/><path d="M699.8 1555.8L714.7 1555.8L707.2 1576.4Z" fill="#000"/><text x="0" y="0" font-size="71.78" transform="translate(46.37,1012.24) scale(1.1847,1)" fill="#000">b)</text><clipPath id="ciB"><rect x="843.0" y="1028.1" width="551.0" height="394.1"/></clipPath><g clip-path="url(#ciB)"><path d="M843.0 1421.7l0.7 0l0.7 0l0.7 0l0.7 0l0.7 0l0.7 0l0.7 0l0.7 0l0.7 0l0.7 0l0.7 0l0.7 0l0.7 0l0.7 0l0.7 0l0.7 0l0.7 0l0.7 0l0.7 0l0.7 0l0.7 0l0.7 0l0.7 0l0.7 0l0.7 0l0.7 0l0.7 0l0.7 0l0.7 0l0.7 0l0.7 0l0.7 0l0.7 0l0.7 0l0.7 0l0.7 0l0.7 0l0.7 0l0.7 0l0.7 0l0.7 0l0.7 0l0.7 0l0.7 0l0.7 0l0.7 0l0.7 0l0.7 0l0.7 0l0.7 0l0.7 0l0.7 0l0.7 0l0.7 0l0.7 0l0.7 0l0.7 0l0.7 0l0.7 0l0.7 0l0.7 0l0.7 0l0.7 0l0.7 0l0.7 0l0.7 0l0.7 0l0.7 0l0.7 0l0.7 0l0.7 0l0.7 0l0.7 0l0.7 0l0.7 0l0.7 0l0.7 0l0.7 0l0.7 0l0.7 0l0.7 0l0.7 0l0.7 0l0.7 0l0.7 0l0.7 0l0.7 0l0.7 0l0.7 0l0.7 0l0.7 0l0.7 0l0.7 0l0.7 0l0.7 0l0.7 0l0.7 0l0.7 0l0.7 0l0.7 0l0.7 0l0.7 0l0.7 0l0.7 0l0.7 0l0.7 0l0.7 0l0.7 0l0.7 0l0.7 0l0.7 0l0.7 -44.7l0.7 -56.2l0.7 -46.2l0.7 -53.6l0.7 -51.6l0.7 -39.9l0.7 -24.9l0.7 -18.1l0.7 -16.2l0.7 -16.9l0.7 -8.5l0.7 -8l0.7 -4l0.7 -0.8l0.7 -0.7l0.7 -0.3l0.7 0l0.7 0l0.7 0l0.7 5.3l0.7 6.7l0.7 0.9l0.7 3.1l0.7 5.3l0.7 2.3l0.7 2.3l0.7 2.5l0.7 4.3l0.7 3.2l0.7 4.9l0.7 1.5l0.7 7.1l0.7 1.1l0.7 3.1l0.7 6.3l0.7 3.7l0.7 2.4l0.7 5.7l0.7 1.3l0.7 6.5l0.7 4.3l0.7 4.9l0.7 4.1l0.7 7.8l0.7 4.2l0.7 3.7l0.7 9.5l0.7 5.3l0.7 5.7l0.7 6.1l0.7 6l0.7 1l0.7 6.4l0.7 8.5l0.7 2.5l0.7 8.1l0.7 7.7l0.7 -1.9l0.7 9.5l0.7 6.9l0.7 5.1l0.7 7.8l0.7 -3.9l0.7 7.2l0.7 6.5l0.7 5.7l0.7 -0.5l0.7 6.5l0.7 2.4l0.7 11.8l0.7 0.1l0.7 7.1l0.7 5.6l0.7 4.4l0.7 -1.4l0.7 6l0.7 17.4l0.7 11.8l0.7 -23.1l0.7 9.9l0.7 14.2l0.7 -9l0.7 6.5l0.7 -3.9l0.7 19.2l0.8 -10.8l0.7 -1.4l0.7 -1.2l0.7 21.2l0.7 -3.4l0.7 -1.5l0.7 11.2l0.7 -3.2l0.7 6.8l0.7 2l0.7 -6.3l0.7 18.2l0.7 -3.7l0.7 -6.4l0.7 2.5l0.7 19.7l0.7 -5.4l0.7 0.9l0.7 4.3l0.7 12.7l0.7 0.6l0.7 1.2l0.7 2.7l0.7 3.8l0.7 6.2l0.7 -22.3l0.7 21l0.7 0.5l0.7 17.5l0.7 0l0.7 -9.6l0.7 8.6l0.7 0.1l0.7 -7.3l0.7 8.2l0.7 -3.5l0.7 3.5l0.7 0l0.7 0l0.7 -1.8l0.7 1.8l0.7 0l0.7 0l0.7 0l0.7 0l0.7 0l0.7 0l0.7 0l0.7 0l0.7 0l0.7 0l0.7 0l0.7 0l0.7 0l0.7 0l0.7 0l0.7 0l0.7 0l0.7 0l0.7 0l0.7 0l0.7 0l0.7 0l0.7 0l0.7 0l0.7 0l0.7 0l0.7 0l0.7 0l0.7 0l0.7 0l0.7 0l0.7 0l0.7 0l0.7 0l0.7 0l0.7 0l0.7 0l0.7 0l0.7 0l0.7 0l0.7 0l0.7 0l0.7 0l0.7 0l0.7 0l0.7 0l0.7 0l0.7 0l0.7 0l0.7 0l0.7 0l0.7 0l0.7 0l0.7 0l0.7 0l0.7 0l0.7 0l0.7 0l0.7 0l0.7 0l0.7 0l0.7 0l0.7 0l0.7 0l0.7 0l0.7 0l0.7 0l0.7 0l0.7 0l0.7 0l0.7 0l0.7 0l0.7 0l0.7 0l0.7 0l0.7 0l0.7 0l0.7 0l0.7 0l0.7 0l0.7 0l0.7 0l0.7 0l0.7 0l0.7 0l0.7 0l0.7 0l0.7 0l0.7 0l0.7 0l0.7 0l0.7 0l0.7 0l0.7 0l0.7 0l0.7 0l0.7 0l0.7 0l0.7 0l0.7 0l0.7 0l0.7 0l0.7 0l0.7 0l0.7 0l0.7 0l0.7 0l0.7 0l0.7 0l0.7 0l0.7 0l0.7 0l0.7 0l0.7 0l0.7 0l0.7 0l0.7 0l0.7 0l0.7 0l0.7 0l0.7 0l0.7 0l0.7 0l0.7 0l0.7 0l0.7 0l0.7 0l0.7 0l0.7 0l0.7 0l0.7 0l0.7 0l0.7 0l0.7 0l0.7 0l0.7 0l0.7 0l0.7 0l0.7 0l0.7 0l0.7 0l0.7 0l0.7 0l0.7 0l0.7 0l0.7 0l0.7 0l0.7 0l0.7 0l0.7 0l0.7 0l0.7 0l0.7 0l0.7 0l0.7 0l0.7 0l0.7 0l0.7 0l0.7 0l0.7 0l0.7 0l0.7 0l0.7 0l0.7 0l0.7 0l0.7 0l0.7 0l0.7 0l0.7 0l0.7 0l0.7 0l0.7 0l0.7 0l0.7 -3.9l0.7 3.9l0.7 -14.6l0.7 -3.2l0.7 -3l0.7 9.6l0.7 -3.4l0.7 -3.2l0.7 10.2l0.7 0l0.7 0l0.7 3.8l0.7 -19.8l0.7 19.8l0.7 -22.5l0.7 15.1l0.7 -25.6l0.7 4.6l0.7 7.7l0.7 -14.5l0.7 -4.1l0.7 4.1l0.7 2.2l0.7 -4.3l0.7 8.9l0.7 5l0.7 0l0.7 -5l0.7 -2.3l0.7 -4.5l0.7 9.3l0.7 2.6l0.7 -2.6l0.7 0l0.7 5.3l0.7 0l0.7 -10.1l0.7 0l0.7 13.9l0.7 17l0.7 -10.8l0.7 0l0.7 3.4l0.7 3.6l0.7 -3.6l0.7 -3.4l0.7 0l0.7 -11.8l0.7 22.7l0.7 0l0.7 -10.9l0.7 14.4l0.7 0l0.7 0l0.7 0l0.7 0l0.7 -4.8l0.7 4.1l0.7 -17.8l0.7 10l0.7 8.5l0.7 0l0.7 0l0.7 0l0.7 0l0.7 0l0.7 0l0.7 0l0.7 0l0.7 -14.3l0.7 3.4l0.7 3.7l0.7 3.8l0.7 3.4l0.7 0l0.7 0l0.7 0l0.7 0l0.7 0l0.7 0l0.7 0l0.7 0l0.7 0l0.7 0l0.7 0l0.7 0l0.7 0l0.7 0l0.7 0l0.7 0l0.7 0l0.7 0l0.7 0l0.7 0l0.7 0l0.7 0l0.7 -1.9l0.7 1.9l0.7 -16.3l0.7 16.3l0.7 -9.6l0.7 9.6l0.7 -16.3l0.7 6.7l0.7 0l0.7 -3.4l0.7 0l0.7 3.5l0.7 3.7l0.7 3.9l0.7 1.9l0.7 -1.9l0.7 0l0.7 0l0.7 -7.6l0.7 9.5l0.7 -13l0.7 0l0.7 -3.3l0.7 10.5l0.7 5.8l0.7 0l0.7 0l0.7 0l0.7 0l0.7 0l0.7 0l0.7 0l0.7 0l0.7 -15.2l0.7 10.7l0.7 -22.3l0.7 26.8l0.7 0l0.7 0l0.7 0l0.7 0l0.7 0l0.7 0l0.7 0l0.7 0l0.7 0l0.7 0l0.7 0l0.7 0l0.7 0l0.7 0l0.7 0l0.7 0l0.7 0l0.7 0l0.7 0l0.7 0l0.7 0l0.7 0l0.7 0l0.7 0l0.7 0l0.7 0l0.7 0l0.7 0l0.7 0l0.7 0l0.7 0l0.7 0l0.7 0l0.7 0l0.7 0l0.7 0l0.7 0l0.7 0l0.7 0l0.7 0l0.7 0l0.7 0l0.7 0l0.7 0l0.8 0l0.7 0l0.7 0l0.7 0l0.7 0l0.7 0l0.7 0l0.7 0l0.7 0l0.7 0l0.7 0l0.7 0l0.7 0l0.7 0l0.7 0l0.7 0l0.7 0l0.7 0l0.7 0l0.7 0l0.7 0l0.7 0l0.7 0l0.7 0l0.7 0l0.7 0l0.7 0l0.7 0l0.7 0l0.7 0l0.7 0l0.7 0l0.7 0l0.7 0l0.7 0l0.7 0l0.7 0l0.7 0l0.7 0l0.7 0l0.7 0l0.7 0l0.7 0l0.7 0l0.7 0l0.7 0l0.7 0l0.7 0l0.7 0l0.7 0l0.7 0l0.7 0l0.7 0l0.7 0l0.7 0l0.7 0l0.7 0l0.7 0l0.7 0l0.7 0l0.7 0l0.7 0l0.7 0l0.7 0l0.7 0l0.7 0l0.7 0l0.7 0l0.7 0l0.7 0l0.7 0l0.7 0l0.7 0l0.7 0l0.7 0l0.7 0l0.7 0l0.7 0l0.7 0l0.7 0l0.7 0l0.7 0l0.7 0l0.7 0l0.7 0l0.7 0l0.7 0l0.7 0l0.7 0l0.7 0l0.7 0l0.7 0l0.7 0l0.7 0l0.7 0l0.7 0l0.7 0l0.7 0l0.7 0l0.7 0l0.7 0l0.7 0l0.7 0l0.7 0l0.7 0l0.7 0l0.7 0l0.7 0l0.7 0l0.7 0l0.7 0l0.7 0l0.7 0l0.7 0l0.7 0l0.7 0l0.7 0l0.7 0l0.7 0l0.7 0l0.7 0l0.7 0l0.7 0l0.7 0l0.7 0l0.7 0l0.7 0l0.7 0l0.7 0l0.7 0l0.7 0l0.7 0l0.7 0l0.7 0l0.7 0l0.7 0l0.7 0l0.7 0l0.7 0l0.7 0l0.7 0l0.7 0l0.7 0l0.7 0l0.7 0l0.7 0l0.7 0l0.7 0l0.7 0l0.7 0l0.7 0l0.7 0l0.7 0l0.7 0l0.7 0l0.7 0l0.7 0l0.7 0l0.7 0l0.7 0l0.7 0l0.7 0l0.7 0l0.7 0l0.7 0l0.7 0l0.7 0l0.7 0l0.7 0l0.7 0l0.7 0l0.7 0l0.7 0l0.7 0l0.7 0l0.7 0l0.7 0l0.7 0l0.7 0l0.7 0l0.7 0l0.7 0l0.7 0l0.7 0l0.7 0l0.7 0l0.7 0l0.7 0l0.7 0l0.7 0l0.7 0l0.7 0l0.7 0l0.7 0l0.7 0l0.7 0l0.7 0l-0.7 0l-0.7 0l-0.7 0l-0.7 0l-0.7 0l-0.7 0l-0.7 0l-0.7 0l-0.7 0l-0.7 0l-0.7 0l-0.7 0l-0.7 0l-0.7 0l-0.7 0l-0.7 0l-0.7 0l-0.7 0l-0.7 0l-0.7 0l-0.7 0l-0.7 0l-0.7 0l-0.7 0l-0.7 0l-0.7 0l-0.7 0l-0.7 0l-0.7 0l-0.7 0l-0.7 0l-0.7 0l-0.7 0l-0.7 0l-0.7 0l-0.7 0l-0.7 0l-0.7 0l-0.7 0l-0.7 0l-0.7 0l-0.7 0l-0.7 0l-0.7 0l-0.7 0l-0.7 0l-0.7 0l-0.7 0l-0.7 0l-0.7 0l-0.7 0l-0.7 0l-0.7 0l-0.7 0l-0.7 0l-0.7 0l-0.7 0l-0.7 0l-0.7 0l-0.7 0l-0.7 0l-0.7 0l-0.7 0l-0.7 0l-0.7 0l-0.7 0l-0.7 0l-0.7 0l-0.7 0l-0.7 0l-0.7 0l-0.7 0l-0.7 0l-0.7 0l-0.7 0l-0.7 0l-0.7 0l-0.7 0l-0.7 0l-0.7 0l-0.7 0l-0.7 0l-0.7 0l-0.7 0l-0.7 0l-0.7 0l-0.7 0l-0.7 0l-0.7 0l-0.7 0l-0.7 0l-0.7 0l-0.7 0l-0.7 0l-0.7 0l-0.7 0l-0.7 0l-0.7 0l-0.7 0l-0.7 0l-0.7 0l-0.7 0l-0.7 0l-0.7 0l-0.7 0l-0.7 0l-0.7 0l-0.7 0l-0.7 0l-0.7 0l-0.7 0l-0.7 0l-0.7 0l-0.7 0l-0.7 0l-0.7 0l-0.7 0l-0.7 0l-0.7 0l-0.7 0l-0.7 0l-0.7 0l-0.7 0l-0.7 0l-0.7 0l-0.7 0l-0.7 0l-0.7 0l-0.7 0l-0.7 0l-0.7 0l-0.7 0l-0.7 0l-0.7 0l-0.7 0l-0.7 0l-0.7 0l-0.7 0l-0.7 0l-0.7 0l-0.7 0l-0.7 0l-0.7 0l-0.7 0l-0.7 0l-0.7 0l-0.7 0l-0.7 0l-0.7 0l-0.7 0l-0.7 0l-0.7 0l-0.7 0l-0.7 0l-0.7 0l-0.7 0l-0.7 0l-0.7 0l-0.7 0l-0.7 0l-0.7 0l-0.7 0l-0.7 0l-0.7 0l-0.7 0l-0.7 0l-0.7 0l-0.7 0l-0.7 0l-0.7 0l-0.7 0l-0.7 0l-0.7 0l-0.7 0l-0.7 0l-0.7 0l-0.7 0l-0.7 0l-0.7 0l-0.7 0l-0.7 0l-0.7 0l-0.7 0l-0.7 0l-0.7 0l-0.7 0l-0.7 0l-0.7 0l-0.7 0l-0.7 0l-0.7 0l-0.7 0l-0.7 0l-0.7 0l-0.7 0l-0.7 0l-0.8 0l-0.7 0l-0.7 0l-0.7 0l-0.7 0l-0.7 0l-0.7 0l-0.7 0l-0.7 0l-0.7 0l-0.7 0l-0.7 0l-0.7 0l-0.7 0l-0.7 0l-0.7 0l-0.7 0l-0.7 0l-0.7 0l-0.7 0l-0.7 0l-0.7 0l-0.7 0l-0.7 0l-0.7 0l-0.7 0l-0.7 0l-0.7 0l-0.7 0l-0.7 0l-0.7 0l-0.7 0l-0.7 0l-0.7 0l-0.7 0l-0.7 0l-0.7 0l-0.7 0l-0.7 0l-0.7 0l-0.7 0l-0.7 0l-0.7 0l-0.7 0l-0.7 0l-0.7 0l-0.7 0l-0.7 0l-0.7 0l-0.7 0l-0.7 0l-0.7 0l-0.7 0l-0.7 0l-0.7 0l-0.7 0l-0.7 0l-0.7 0l-0.7 0l-0.7 0l-0.7 0l-0.7 0l-0.7 0l-0.7 0l-0.7 0l-0.7 0l-0.7 0l-0.7 0l-0.7 0l-0.7 0l-0.7 0l-0.7 0l-0.7 0l-0.7 0l-0.7 0l-0.7 0l-0.7 0l-0.7 0l-0.7 0l-0.7 0l-0.7 0l-0.7 0l-0.7 0l-0.7 0l-0.7 0l-0.7 0l-0.7 0l-0.7 0l-0.7 0l-0.7 0l-0.7 0l-0.7 0l-0.7 0l-0.7 0l-0.7 0l-0.7 0l-0.7 0l-0.7 0l-0.7 0l-0.7 0l-0.7 0l-0.7 0l-0.7 0l-0.7 0l-0.7 0l-0.7 0l-0.7 0l-0.7 0l-0.7 0l-0.7 0l-0.7 0l-0.7 0l-0.7 0l-0.7 0l-0.7 0l-0.7 0l-0.7 0l-0.7 0l-0.7 0l-0.7 0l-0.7 0l-0.7 0l-0.7 0l-0.7 0l-0.7 0l-0.7 0l-0.7 0l-0.7 0l-0.7 0l-0.7 0l-0.7 0l-0.7 0l-0.7 0l-0.7 0l-0.7 0l-0.7 0l-0.7 0l-0.7 0l-0.7 0l-0.7 -4.9l-0.7 0l-0.7 4.9l-0.7 -8.7l-0.7 7.8l-0.7 0l-0.7 0.9l-0.7 0l-0.7 0l-0.7 -8.7l-0.7 8.7l-0.7 0l-0.7 -8.7l-0.7 -3.6l-0.7 11.3l-0.7 0l-0.7 -14.6l-0.7 3.3l-0.7 -3.3l-0.7 14.6l-0.7 -17.7l-0.7 13.7l-0.7 5l-0.7 0l-0.7 0l-0.7 0l-0.7 0l-0.7 0l-0.7 0l-0.7 0l-0.7 0l-0.7 0l-0.7 0l-0.7 0l-0.7 0l-0.7 0l-0.7 0l-0.7 0l-0.7 0l-0.7 0l-0.7 0l-0.7 0l-0.7 0l-0.7 0l-0.7 0l-0.7 0l-0.7 0l-0.7 0l-0.7 0l-0.7 0l-0.7 0l-0.7 0l-0.7 0l-0.7 0l-0.7 0l-0.7 0l-0.7 0l-0.7 0l-0.7 0l-0.7 0l-0.7 0l-0.7 0l-0.7 0l-0.7 0l-0.7 0l-0.7 0l-0.7 0l-0.7 0l-0.7 0l-0.7 0l-0.7 0l-0.7 0l-0.7 0l-0.7 0l-0.7 0l-0.7 0l-0.7 0l-0.7 0l-0.7 0l-0.7 0l-0.7 0l-0.7 0l-0.7 0l-0.7 0l-0.7 0l-0.7 0l-0.7 0l-0.7 0l-0.7 0l-0.7 0l-0.7 0l-0.7 0l-0.7 0l-0.7 0l-0.7 0l-0.7 0l-0.7 0l-0.7 0l-0.7 0l-0.7 0l-0.7 0l-0.7 0l-0.7 0l-0.7 0l-0.7 0l-0.7 0l-0.7 0l-0.7 0l-0.7 0l-0.7 0l-0.7 0l-0.7 0l-0.7 0l-0.7 0l-0.7 0l-0.7 0l-0.7 0l-0.7 0l-0.7 0l-0.7 0l-0.7 0l-0.7 0l-0.7 0l-0.7 0l-0.7 0l-0.7 0l-0.7 0l-0.7 0l-0.7 0l-0.7 0l-0.7 0l-0.7 0l-0.7 0l-0.7 0l-0.7 0l-0.7 0l-0.7 0l-0.7 0l-0.7 0l-0.7 0l-0.7 0l-0.7 0l-0.7 0l-0.7 0l-0.7 0l-0.7 0l-0.7 0l-0.7 0l-0.7 0l-0.7 0l-0.7 0l-0.7 0l-0.7 0l-0.7 0l-0.7 0l-0.7 0l-0.7 0l-0.7 0l-0.7 0l-0.7 0l-0.7 0l-0.7 0l-0.7 0l-0.7 0l-0.7 0l-0.7 0l-0.7 0l-0.7 0l-0.7 0l-0.7 0l-0.7 0l-0.7 0l-0.7 0l-0.7 0l-0.7 0l-0.7 0l-0.7 0l-0.7 0l-0.7 0l-0.7 0l-0.7 0l-0.7 0l-0.7 0l-0.7 0l-0.7 0l-0.7 0l-0.7 0l-0.7 0l-0.7 0l-0.7 0l-0.7 0l-0.7 0l-0.7 0l-0.7 0l-0.7 0l-0.7 0l-0.7 0l-0.7 0l-0.7 0l-0.7 0l-0.7 0l-0.7 0l-0.7 0l-0.7 0l-0.7 0l-0.7 0l-0.7 0l-0.7 0l-0.7 0l-0.7 0l-0.7 0l-0.7 0l-0.7 0l-0.7 0l-0.7 0l-0.7 0l-0.7 0l-0.7 0l-0.7 0l-0.7 0l-0.7 0l-0.7 0l-0.7 0l-0.7 0l-0.7 0l-0.7 -0.1l-0.7 0.1l-0.7 0l-0.7 0l-0.7 -7.9l-0.7 3l-0.7 -1.1l-0.7 -7.5l-0.7 3l-0.7 -13.9l-0.7 13.4l-0.7 -19.9l-0.7 20.2l-0.7 -7.2l-0.7 -13.2l-0.7 -5.6l-0.7 -5.4l-0.7 -16.2l-0.7 17.4l-0.7 -7.6l-0.7 -13.4l-0.7 21.8l-0.7 -18.2l-0.7 -1.9l-0.7 1.6l-0.7 3.7l-0.7 2.1l-0.8 -7.8l-0.7 -4.7l-0.7 -7.4l-0.7 -15.7l-0.7 14.3l-0.7 -18.1l-0.7 5.3l-0.7 0l-0.7 0.9l-0.7 -25.1l-0.7 1.8l-0.7 9.3l-0.7 -10.6l-0.7 -2.8l-0.7 13.6l-0.7 -43.4l-0.7 2.1l-0.7 -6.9l-0.7 -12l-0.7 -0.6l-0.7 -3.3l-0.7 -10.4l-0.7 -0.7l-0.7 3.3l-0.7 -11.1l-0.7 -7.5l-0.7 -7l-0.7 -4.3l-0.7 -3.4l-0.7 -6.5l-0.7 -9.4l-0.7 -1.8l-0.7 -7.1l-0.7 -8.5l-0.7 -3.8l-0.7 -7.6l-0.7 -5.7l-0.7 -5.4l-0.7 -7.3l-0.7 -5.1l-0.7 -6.2l-0.7 -3.9l-0.7 -8.2l-0.7 -4l-0.7 -7.8l-0.7 -0.6l-0.7 -5.6l-0.7 -6.2l-0.7 -1.3l-0.7 -5.8l-0.7 -3.5l-0.7 -2.9l-0.7 -4.4l-0.7 -5l-0.7 -4l-0.7 -2.7l-0.7 -5.3l-0.7 -5.2l-0.7 -2.1l-0.7 -3.1l-0.7 -3.5l-0.7 -3.4l-0.7 -2l-0.7 -3.4l-0.7 -3.6l-0.7 -3.9l-0.7 -4.5l-0.7 -3.6l-0.7 -0.2l-0.7 0l-0.7 0.3l-0.7 1l-0.7 1.7l-0.7 6.5l-0.7 10.1l-0.7 13.3l-0.7 16.4l-0.7 19.4l-0.7 23.2l-0.7 36.2l-0.7 49.6l-0.7 74.2l-0.7 70.5l-0.7 23.9l-0.7 42.8l-0.7 0l-0.7 0l-0.7 0l-0.7 0l-0.7 0l-0.7 0l-0.7 0l-0.7 0l-0.7 0l-0.7 0l-0.7 0l-0.7 0l-0.7 0l-0.7 0l-0.7 0l-0.7 0l-0.7 0l-0.7 0l-0.7 0l-0.7 0l-0.7 0l-0.7 0l-0.7 0l-0.7 0l-0.7 0l-0.7 0l-0.7 0l-0.7 0l-0.7 0l-0.7 0l-0.7 0l-0.7 0l-0.7 0l-0.7 0l-0.7 0l-0.7 0l-0.7 0l-0.7 0l-0.7 0l-0.7 0l-0.7 0l-0.7 0l-0.7 0l-0.7 0l-0.7 0l-0.7 0l-0.7 0l-0.7 0l-0.7 0l-0.7 0l-0.7 0l-0.7 0l-0.7 0l-0.7 0l-0.7 0l-0.7 0l-0.7 0l-0.7 0l-0.7 0l-0.7 0l-0.7 0l-0.7 0l-0.7 0l-0.7 0l-0.7 0l-0.7 0l-0.7 0l-0.7 0l-0.7 0l-0.7 0l-0.7 0l-0.7 0l-0.7 0l-0.7 0l-0.7 0l-0.7 0l-0.7 0l-0.7 0l-0.7 0l-0.7 0l-0.7 0l-0.7 0l-0.7 0l-0.7 0l-0.7 0l-0.7 0l-0.7 0l-0.7 0l-0.7 0l-0.7 0l-0.7 0l-0.7 0l-0.7 0l-0.7 0l-0.7 0l-0.7 0l-0.7 0l-0.7 0l-0.7 0l-0.7 0l-0.7 0l-0.7 0l-0.7 0l-0.7 0l-0.7 0l-0.7 0l-0.7 0l-0.7 0l-0.7 0l-0.7 0l-0.7 0l-0.7 0Z" fill="#000" stroke="#000" stroke-width="1.08" stroke-linejoin="round"/><path d="M843.0 1377.8l0.7 -4l0.7 8.2l0.7 2.3l0.7 -2.3l0.7 7.1l0.7 -2.4l0.7 -4.7l0.7 -4.2l0.7 -14.5l0.7 18.7l0.7 0l0.7 -20.2l0.7 16l0.7 -2.1l0.7 8.6l0.7 0l0.7 2.4l0.7 -20.1l0.7 11.2l0.7 4.2l0.7 -8.2l0.7 -3.7l0.7 3.7l0.7 8.2l0.7 -8.2l0.7 10.5l0.7 2.4l0.7 0l0.7 -2.4l0.7 -8.6l0.7 13.4l0.7 -7.1l0.7 -4.2l0.7 0l0.7 0l0.7 -7.7l0.7 14.2l0.7 -2.3l0.7 4.7l0.7 0l0.7 -8.9l0.7 4.2l0.7 -8.2l0.7 12.9l0.7 -6.8l0.7 2.1l0.7 2.3l0.7 -10.5l0.7 6.1l0.7 9.2l0.7 -4.8l0.7 -4.4l0.7 0l0.7 -11.6l0.7 16l0.7 -4.4l0.7 2.1l0.7 -11.9l0.7 11.9l0.7 0l0.7 -10.1l0.7 3.8l0.7 -5.6l0.7 9.8l0.7 4.4l0.7 -8.6l0.7 8.6l0.7 -8.6l0.7 -1.9l0.7 10.5l0.7 -12.4l0.7 1.9l0.7 -1.9l0.7 3.8l0.7 4.2l0.7 0l0.7 2.1l0.7 2.3l0.7 -8.6l0.7 -5.6l0.7 14.2l0.7 0l0.7 0l0.7 -10.5l0.7 1.9l0.7 6.3l0.7 -4.2l0.7 6.5l0.7 -14.2l0.7 11.9l0.7 2.3l0.7 -4.4l0.7 -11.6l0.7 13.7l0.7 -2.1l0.7 -9.8l0.7 7.7l0.7 16.6l0.7 -10.1l0.7 2.4l0.7 -12.9l0.7 6.1l0.7 0l0.7 2.1l0.7 -6.3l0.7 11l0.7 -4.7l0.7 -4.2l0.7 0l0.7 4.2l0.7 0l0.7 -2.1l0.7 4.4l0.7 -2.3l0.7 -27.6l0.7 -70.6l0.7 -28l0.7 -43.9l0.7 -35.8l0.7 -31.3l0.7 -21.2l0.7 -15.5l0.7 -14.3l0.7 -9.2l0.7 -10.1l0.7 -5.8l0.7 -8.1l0.7 -3.5l0.7 -6.5l0.7 -4.8l0.7 -2.9l0.7 -3.1l0.7 -2l0.7 -1.5l0.7 -2l0.7 -0.6l0.7 -0.7l0.7 -1.4l0.7 -0.5l0.7 0l0.7 0l0.7 0l0.7 0l0.7 0l0.7 0l0.7 0l0.7 0l0.7 0.7l0.7 1.3l0.7 2.1l0.7 3.9l0.7 3.1l0.7 -0.1l0.7 1.8l0.7 0.1l0.7 1.9l0.7 0l0.7 1.9l0.7 2l0.7 -0.3l0.7 2.1l0.7 -0.3l0.7 1.6l0.7 1l0.7 1.1l0.7 0.3l0.7 -0.1l0.7 2.7l0.7 0.9l0.7 0.5l0.7 0.2l0.7 2.5l0.7 0.4l0.7 0.5l0.7 1.2l0.7 0.5l0.7 0.7l0.7 0.6l0.7 1.7l0.7 0.8l0.7 1.4l0.7 0.7l0.7 0.8l0.7 -0.8l0.7 1.4l0.7 0.8l0.7 0.7l0.7 2.5l0.7 0.1l0.7 -0.7l0.7 2l0.7 -0.8l0.7 2l0.7 0.3l0.7 1.2l0.7 0.2l0.8 2.5l0.7 -0.4l0.7 0.7l0.7 0.2l0.7 2.1l0.7 -0.3l0.7 0.9l0.7 1l0.7 0l0.7 1.2l0.7 0.7l0.7 -0.1l0.7 1.1l0.7 1.3l0.7 2.1l0.7 -1.5l0.7 2.1l0.7 0.9l0.7 -0.5l0.7 1.2l0.7 1.7l0.7 -0.5l0.7 -0.4l0.7 2.6l0.7 -0.1l0.7 -1l0.7 0.5l0.7 1.8l0.7 2l0.7 -0.6l0.7 0.5l0.7 0.9l0.7 2.1l0.7 0.2l0.7 -0.2l0.7 1.4l0.7 -0.5l0.7 1.6l0.7 0.3l0.7 -0.5l0.7 2.8l0.7 -0.6l0.7 -0.5l0.7 0.4l0.7 1.1l0.7 2.6l0.7 -0.5l0.7 0.8l0.7 -1.6l0.7 3.7l0.7 -0.9l0.7 2l0.7 0.2l0.7 -0.8l0.7 2.3l0.7 -1.1l0.7 0.5l0.7 1.1l0.7 2l0.7 -1l0.7 1.3l0.7 -1.1l0.7 3.3l0.7 -1.5l0.7 2.2l0.7 -4.1l0.7 5.3l0.7 -0.1l0.7 1l0.7 -0.3l0.7 1.9l0.7 -2.4l0.7 1.9l0.7 -0.1l0.7 -1.3l0.7 3.2l0.7 1l0.7 -0.8l0.7 -0.2l0.7 3.5l0.7 -0.9l0.7 1.4l0.7 0.2l0.7 0.6l0.7 2.1l0.7 -3.4l0.7 1.3l0.7 2l0.7 -2.1l0.7 3.1l0.7 -0.5l0.7 1.3l0.7 1.4l0.7 -1.8l0.7 -0.7l0.7 4.1l0.7 -1.6l0.7 3l0.7 2.3l0.7 -0.9l0.7 -1.7l0.7 1.4l0.7 -0.6l0.7 2.8l0.7 0.4l0.7 -2.3l0.7 3.2l0.7 -1.8l0.7 2.1l0.7 -0.7l0.7 0.2l0.7 3.3l0.7 -1.8l0.7 0.6l0.7 1.8l0.7 0.4l0.7 -2.8l0.7 4.6l0.7 -1.3l0.7 2.3l0.7 -1.7l0.7 -0.7l0.7 1.7l0.7 -0.1l0.7 1.8l0.7 1l0.7 -1.5l0.7 3.5l0.7 -1.6l0.7 2.2l0.7 -0.6l0.7 -0.6l0.7 3.2l0.7 -1.5l0.7 1l0.7 0.2l0.7 3l0.7 -3.1l0.7 0.9l0.7 -1.4l0.7 5.2l0.7 -1.6l0.7 1.7l0.7 0.8l0.7 0.2l0.7 0.4l0.7 1.2l0.7 0.4l0.7 0.5l0.7 0.7l0.7 -2.3l0.7 1.7l0.7 2.8l0.7 -3l0.7 1.3l0.7 1.7l0.7 -0.5l0.7 0.5l0.7 0.7l0.7 -1.6l0.7 3.2l0.7 -0.6l0.7 -1.3l0.7 2.6l0.7 1.9l0.7 0.4l0.7 1.5l0.7 -0.8l0.7 -0.2l0.7 0.9l0.7 0.3l0.7 0.4l0.7 -0.4l0.7 2.3l0.7 -2.6l0.7 2.2l0.7 0.5l0.7 0.1l0.7 1.8l0.7 0.1l0.7 -0.8l0.7 -0.4l0.7 -0.9l0.7 2.4l0.7 0.3l0.7 1.9l0.7 -0.1l0.7 0.3l0.7 1.4l0.7 3.3l0.7 -1.1l0.7 -1.3l0.7 1.1l0.7 0.9l0.7 0.7l0.7 -1.8l0.7 1.6l0.7 2.4l0.7 -4.7l0.7 4.9l0.7 -3l0.7 3.5l0.7 -2.6l0.7 1.7l0.7 0l0.7 0.5l0.7 -0.3l0.7 0.2l0.7 1.4l0.7 1.9l0.7 0.7l0.7 3.1l0.7 1.3l0.7 -2.8l0.7 2.2l0.7 3.4l0.7 -3.8l0.7 -1.4l0.7 0.9l0.7 5.2l0.7 -3.1l0.7 0.2l0.7 -2.4l0.7 0.1l0.7 4.6l0.7 -2.6l0.7 3.3l0.7 -3.4l0.7 -0.9l0.7 2.7l0.7 -3.5l0.7 5l0.7 4.1l0.7 -2.1l0.7 1.2l0.7 -1.4l0.7 3.1l0.7 0.7l0.7 0.3l0.7 -0.6l0.7 -1l0.7 5.2l0.7 -4.5l0.7 4l0.7 -1.6l0.7 -0.1l0.7 0.9l0.7 2.3l0.7 -0.2l0.7 1.8l0.7 -3.3l0.7 3.8l0.7 -1.6l0.7 0l0.7 3.8l0.7 -2.9l0.7 1.3l0.7 0.7l0.7 -0.2l0.7 0.7l0.7 0.3l0.7 0.5l0.7 0.8l0.7 -0.3l0.7 1.3l0.7 0.2l0.7 -1l0.7 -0.1l0.7 2.6l0.7 3.2l0.7 -5.4l0.7 3.2l0.7 0.3l0.7 0l0.7 -2.2l0.7 1.1l0.7 1.2l0.7 2.4l0.7 0l0.7 -1.9l0.7 0.4l0.7 1.3l0.7 3.7l0.7 2.7l0.7 -0.2l0.7 0.7l0.7 1.3l0.7 -6.6l0.7 2.9l0.7 2.7l0.7 0.7l0.7 -1.7l0.7 -0.1l0.7 1.6l0.7 -1.4l0.7 5.9l0.7 -3.3l0.7 -2.9l0.7 2.1l0.7 -0.8l0.7 3.9l0.7 -3.6l0.7 -0.5l0.7 7.6l0.7 -8.5l0.7 8.9l0.7 -2.8l0.7 2.5l0.7 -2.5l0.7 1l0.7 2.9l0.7 -1.9l0.7 1.7l0.7 0.8l0.7 -2.9l0.7 2.7l0.7 5.8l0.7 -6.3l0.7 2l0.7 -2.9l0.7 7.7l0.7 -8.2l0.7 6.2l0.7 -3.7l0.7 -1l0.7 8.2l0.7 2l0.7 -4.4l0.7 5.4l0.7 -3.9l0.7 -4.5l0.7 4.3l0.7 -0.1l0.7 2.3l0.7 -0.4l0.7 2.5l0.7 0.6l0.7 -4.6l0.7 1l0.7 3.2l0.7 -0.8l0.7 -1.7l0.7 7.7l0.7 -9.2l0.7 3l0.7 3.5l0.7 -5.5l0.7 4.5l0.7 -1.4l0.7 4.8l0.7 -0.2l0.7 -4.5l0.7 5.6l0.7 6l0.7 -10l0.7 0.7l0.7 7.1l0.7 1.8l0.7 -6l0.7 3l0.7 -0.2l0.7 4.5l0.7 -1.5l0.7 -3.3l0.7 0.3l0.7 0.4l0.7 4.5l0.7 -0.2l0.7 3.9l0.7 -3.1l0.7 -2l0.7 6.3l0.7 -14.8l0.7 11.5l0.7 -0.6l0.7 1.9l0.7 -4.1l0.7 -0.5l0.7 6.8l0.7 2l0.7 -1.2l0.7 -6.7l0.7 9.8l0.7 -5.5l0.7 1.9l0.7 -8.4l0.7 9.9l0.7 -0.7l0.7 -0.1l0.7 4.9l0.7 -1.8l0.8 -9l0.7 9.9l0.7 -1.2l0.7 -2.9l0.7 5.5l0.7 -5.7l0.7 -4.3l0.7 10.2l0.7 -2.4l0.7 -1.8l0.7 4l0.7 4.7l0.7 -4.4l0.7 1.1l0.7 -8.5l0.7 6.5l0.7 -1.2l0.7 4l0.7 -4.3l0.7 5.9l0.7 2.5l0.7 -7.6l0.7 4.2l0.7 -2.6l0.7 6.9l0.7 -9.9l0.7 15.3l0.7 1.3l0.7 -11l0.7 5.1l0.7 1.2l0.7 -2.1l0.7 3.3l0.7 -0.7l0.7 3.5l0.7 -3.1l0.7 0.6l0.7 5.2l0.7 -10.1l0.7 -1.5l0.7 9.7l0.7 -1.6l0.7 0.6l0.7 7.8l0.7 -5.7l0.7 3l0.7 -9.1l0.7 3.5l0.7 2.9l0.7 1.6l0.7 -16l0.7 15.7l0.7 2.3l0.7 0.8l0.7 -7.2l0.7 3.7l0.7 3.1l0.7 -4.1l0.7 3.9l0.7 -7.1l0.7 0.6l0.7 8.8l0.7 -3.5l0.7 1.6l0.7 7l0.7 -15.7l0.7 12.7l0.7 2.6l0.7 -8.8l0.7 -6.8l0.7 15.3l0.7 -3.7l0.7 0.8l0.7 -6.7l0.7 15.1l0.7 -6.9l0.7 -3.6l0.7 -2.6l0.7 8.7l0.7 0.9l0.7 -9l0.7 11.7l0.7 -5.9l0.7 -6.9l0.7 10.6l0.7 -5.7l0.7 2.6l0.7 -2.8l0.7 -5.9l0.7 11.3l0.7 -6.5l0.7 11.3l0.7 0l0.7 -0.2l0.7 2.1l0.7 6.8l0.7 -8.1l0.7 1l0.7 -2.2l0.7 3.1l0.7 4.4l0.7 -9.8l0.7 4l0.7 1l0.7 -3.3l0.7 3.1l0.7 -9.1l0.7 18.4l0.7 -7.3l0.7 2.2l0.7 -6.7l0.7 2l0.7 -2.2l0.7 6.5l0.7 2.3l0.7 9l0.7 -10.3l0.7 -6.6l0.7 11.3l0.7 -1.3l0.7 -3.6l0.7 -3.4l0.7 10.7l0.7 -3.9l0.7 -11.9l0.7 0.9l0.7 10.9l0.7 -3.5l0.7 -5.4l0.7 10l0.7 1.1l0.7 1.2l0.7 -5.9l0.7 5.9l0.7 -5.9l0.7 3.4l0.7 2.4l0.7 2.4l0.7 -2.5l0.7 -3.5l0.7 2.3l0.7 1.1l0.7 0l0.7 -4.6l0.7 3.4l0.7 11.6l0.7 -9.2l0.7 -3.5l0.7 7.2l0.7 -6.1l0.7 6l0.7 2.6l0.7 0l0.7 2.7l0.7 -2.7l0.7 -5.1l0.7 3.7l0.7 -2.5l0.7 5.1l0.7 -1.3l0.7 -11.6l0.7 11.6l0.7 2.6l0.7 -9.8l0.7 4.7l0.7 0l0.7 7.8l0.7 2.9l0.7 -11.9l0.7 11.9l0.7 -4.3l0.7 -9.8l0.7 8.5l0.7 4.1l0.7 2.9l0.7 -8.2l0.7 5.3l0.7 2.9l0.7 -1.5l0.7 -5.4l0.7 5.4l0.7 -6.6l0.7 9.5l0.7 -10.7l0.7 2.5l0.7 -3.7l0.7 6.3l0.7 -6.2l0.7 7.6l0.7 4.2l0.7 0.1l0.7 -6.9l0.7 -4.8l0.7 8.9l0.7 4.3l0.7 -1.5l0.7 9.4l0 9.2l-0.7 2l-0.7 0l-0.7 -2l-0.7 8.8l-0.7 -12.6l-0.7 28.9l-0.7 -28.9l-0.7 8.3l-0.7 -2.2l-0.7 14.6l-0.7 -5.2l-0.7 -15.3l-0.7 10.7l-0.7 -12.5l-0.7 3.9l-0.7 16.3l-0.7 -21.9l-0.7 10.1l-0.7 -4.2l-0.7 -3.9l-0.7 12.9l-0.7 -12.8l-0.7 18.2l-0.7 -18.1l-0.7 2.1l-0.7 11.1l-0.7 -6.8l-0.7 -2.1l-0.7 -14.7l-0.7 1.7l-0.7 20.2l-0.7 -16.6l-0.7 3.8l-0.7 0.1l-0.7 13.2l-0.7 -20.4l-0.7 -1.7l-0.7 3.6l-0.7 -1.7l-0.7 -3.3l-0.7 3.4l-0.7 7.6l-0.7 4.4l-0.7 -2l-0.7 -9.7l-0.7 -1.6l-0.7 -1.7l-0.7 9.4l-0.7 0.1l-0.7 -5.6l-0.7 5.8l-0.7 -11l-0.7 -12l-0.7 32.6l-0.7 -16.7l-0.7 -3.5l-0.7 7.5l-0.7 -15.3l-0.7 10l-0.7 24.7l-0.7 -24.5l-0.7 10.1l-0.7 -8l-0.7 -8.6l-0.7 0l-0.7 9.1l-0.7 8.6l-0.7 -13.7l-0.7 7.8l-0.7 -1.9l-0.7 4.4l-0.7 -6.1l-0.7 -8.8l-0.7 9.2l-0.7 -13.7l-0.7 10.4l-0.7 -1.6l-0.7 0.1l-0.7 -10l-0.7 1.8l-0.7 0.1l-0.7 14.8l-0.7 -19.1l-0.7 -7l-0.7 7.2l-0.7 4.9l-0.7 -7.7l-0.7 4.7l-0.7 10.4l-0.7 -14.7l-0.7 7.8l-0.7 -3l-0.7 3.4l-0.7 -4.8l-0.7 -9.7l-0.7 14.9l-0.7 -6.2l-0.7 -8.4l-0.7 16.8l-0.7 -12.4l-0.7 0.1l-0.7 11.1l-0.7 -4.9l-0.7 -2.9l-0.7 -2.8l-0.7 -1.3l-0.7 -8.9l-0.7 18.3l-0.7 -10.3l-0.7 -5.1l-0.7 5.3l-0.7 7.6l-0.7 -17.4l-0.7 11.6l-0.7 -9l-0.7 16.9l-0.7 -2.9l-0.7 8.4l-0.7 -26.5l-0.7 8.5l-0.7 1.5l-0.7 -2.5l-0.7 -2.4l-0.7 19l-0.7 -21.2l-0.7 2.6l-0.7 -4.6l-0.7 0.1l-0.7 3.7l-0.7 -1.1l-0.7 -4.5l-0.7 7.3l-0.7 -11.2l-0.7 5.4l-0.7 2.6l-0.7 -6.6l-0.7 2.3l-0.7 -1l-0.7 25.8l-0.7 -35.5l-0.7 10.1l-0.7 -6.1l-0.7 15.8l-0.7 -10.4l-0.7 2.3l-0.7 -8.1l-0.7 9.5l-0.7 -3.1l-0.7 -4.1l-0.7 4.4l-0.7 9.7l-0.7 -15.7l-0.7 0.1l-0.7 1.2l-0.7 -5.7l-0.7 10.2l-0.7 -9.8l-0.7 14.6l-0.7 -8.6l-0.7 3.3l-0.7 -13.4l-0.7 7.5l-0.7 8.5l-0.7 -15.5l-0.7 16l-0.7 -13.1l-0.7 2l-0.7 -6.9l-0.7 7.2l-0.7 -3.6l-0.7 -3.3l-0.7 7.4l-0.7 1.1l-0.7 -3.6l-0.7 2l-0.7 -7.8l-0.7 6.2l-0.7 -2.6l-0.7 -5.6l-0.7 6l-0.7 -2.4l-0.7 1.8l-0.7 -12.3l-0.7 14.4l-0.7 -4.2l-0.7 1.9l-0.7 -2.5l-0.7 -1.4l-0.7 -2.2l-0.7 6.7l-0.7 -4.9l-0.7 -1.4l-0.7 -5.8l-0.7 2.3l-0.7 5.5l-0.7 -12.3l-0.8 6.5l-0.7 1.6l-0.7 10.1l-0.7 -15.5l-0.7 2.1l-0.7 -7.7l-0.7 -0.6l-0.7 1.5l-0.7 6.8l-0.7 9.5l-0.7 -12.6l-0.7 -2.5l-0.7 1.4l-0.7 3.5l-0.7 -2.6l-0.7 1l-0.7 -7.6l-0.7 5.8l-0.7 -12.4l-0.7 10.7l-0.7 0.1l-0.7 -0.5l-0.7 -3.5l-0.7 6.5l-0.7 -2.5l-0.7 -7.7l-0.7 -2l-0.7 4.1l-0.7 -2.7l-0.7 1.3l-0.7 3.1l-0.7 -5.2l-0.7 -2.5l-0.7 9.3l-0.7 -7.3l-0.7 -3.1l-0.7 -2.4l-0.7 8.2l-0.7 -9.9l-0.7 2.7l-0.7 6.5l-0.7 -6.8l-0.7 0.2l-0.7 11.9l-0.7 -14.5l-0.7 8.3l-0.7 -5.6l-0.7 -4.3l-0.7 5.1l-0.7 -2.4l-0.7 -2.3l-0.7 3.1l-0.7 -3.6l-0.7 1.5l-0.7 -3.2l-0.7 -0.7l-0.7 4.4l-0.7 -3.6l-0.7 3.8l-0.7 -0.7l-0.7 -11.6l-0.7 6.8l-0.7 2.8l-0.7 -5.1l-0.7 8.5l-0.7 -10.6l-0.7 9.3l-0.7 -8.2l-0.7 -1.5l-0.7 -0.6l-0.7 1.8l-0.7 5.3l-0.7 -12.1l-0.7 2.8l-0.7 8.3l-0.7 -1.9l-0.7 -7.5l-0.7 2.1l-0.7 0.6l-0.7 4.2l-0.7 -10.7l-0.7 6.6l-0.7 -5.3l-0.7 -2.3l-0.7 1.6l-0.7 -0.2l-0.7 -0.6l-0.7 3.1l-0.7 -4.9l-0.7 -0.2l-0.7 -2l-0.7 4.1l-0.7 7.7l-0.7 -11.8l-0.7 4l-0.7 -4.7l-0.7 -0.4l-0.7 2.4l-0.7 -3.4l-0.7 -0.3l-0.7 13.3l-0.7 -15.1l-0.7 2.6l-0.7 -2.6l-0.7 0.2l-0.7 -0.2l-0.7 -0.6l-0.7 -2.1l-0.7 4.2l-0.7 -4.5l-0.7 -2.1l-0.7 -0.4l-0.7 1.1l-0.7 -1.2l-0.7 5.6l-0.7 -8.6l-0.7 -1.5l-0.7 10.9l-0.7 -7.3l-0.7 -5.8l-0.7 7.4l-0.7 -0.8l-0.7 -2.9l-0.7 -2.6l-0.7 -2.4l-0.7 5l-0.7 -2.5l-0.7 3.1l-0.7 -2.5l-0.7 -3.1l-0.7 -1.9l-0.7 9.4l-0.7 -9l-0.7 0.6l-0.7 0l-0.7 -5.5l-0.7 1.4l-0.7 -3.9l-0.7 8l-0.7 -1.7l-0.7 -3.9l-0.7 4.2l-0.7 -2.9l-0.7 1.5l-0.7 -0.7l-0.7 -3.6l-0.7 2.3l-0.7 -2.3l-0.7 3.7l-0.7 -4.1l-0.7 4.7l-0.7 -5l-0.7 -1.7l-0.7 2.4l-0.7 -2.7l-0.7 -1.9l-0.7 3.1l-0.7 4.7l-0.7 -9.8l-0.7 2.4l-0.7 -2.9l-0.7 6.4l-0.7 -3.5l-0.7 -6.2l-0.7 1.3l-0.7 -3.7l-0.7 2l-0.7 0l-0.7 2.2l-0.7 -2.5l-0.7 -1.8l-0.7 4.3l-0.7 -1.9l-0.7 -1.2l-0.7 2.3l-0.7 -1.8l-0.7 -0.2l-0.7 0.1l-0.7 -0.5l-0.7 -0.6l-0.7 1.8l-0.7 -1.2l-0.7 -5.1l-0.7 0.1l-0.7 -0.3l-0.7 0.5l-0.7 -0.4l-0.7 -1.3l-0.7 -3l-0.7 2.3l-0.7 -1l-0.7 -1.9l-0.7 -3.2l-0.7 2.4l-0.7 -1.8l-0.7 0l-0.7 1.6l-0.7 1.2l-0.7 -1.1l-0.7 -1.3l-0.7 2l-0.7 0.6l-0.7 -4.8l-0.7 0.6l-0.7 -0.5l-0.7 -1.7l-0.7 -3.1l-0.7 -0.4l-0.7 -0.8l-0.7 1.1l-0.7 -0.2l-0.7 -1.8l-0.7 0.1l-0.7 2.4l-0.7 -1.7l-0.7 1.2l-0.7 -2l-0.7 -2.7l-0.7 -1.5l-0.7 2.4l-0.7 0.6l-0.7 -1.5l-0.7 -1.6l-0.7 -1.6l-0.7 4.7l-0.7 -4.1l-0.7 0.6l-0.7 -3.6l-0.7 0.9l-0.7 3l-0.7 -3.3l-0.7 -0.6l-0.7 -0.5l-0.7 1.6l-0.7 -4.6l-0.7 3.3l-0.7 -3.1l-0.7 -0.5l-0.7 0.6l-0.7 -1.2l-0.7 0.6l-0.7 0.3l-0.7 -4.2l-0.7 0.7l-0.7 0.5l-0.7 -2l-0.7 -0.2l-0.7 0.1l-0.7 -0.9l-0.7 -2.7l-0.7 -0.2l-0.7 3.3l-0.7 -2.2l-0.7 -0.9l-0.7 1.5l-0.7 -3.6l-0.7 0l-0.7 1.7l-0.7 -1.9l-0.7 3l-0.7 -3.7l-0.7 0.8l-0.7 -0.8l-0.7 0.2l-0.7 -1.2l-0.7 -2.5l-0.7 -0.6l-0.7 2.7l-0.7 -5.7l-0.7 0.5l-0.7 2.5l-0.7 -0.2l-0.7 -3.4l-0.7 -0.4l-0.7 0.9l-0.7 -2.2l-0.7 -0.4l-0.7 1.7l-0.7 -1.8l-0.7 0.1l-0.7 -3.1l-0.7 2l-0.7 0.2l-0.7 -0.9l-0.7 -1.6l-0.7 2.4l-0.7 -3l-0.7 -1.5l-0.7 -0.7l-0.7 -0.7l-0.7 4.5l-0.7 -5.4l-0.7 1.6l-0.7 -2.8l-0.7 2.2l-0.7 -2.6l-0.7 -1.6l-0.7 1.1l-0.7 -0.1l-0.7 -3.3l-0.7 2.8l-0.7 -0.8l-0.7 -2.9l-0.7 1.6l-0.7 0.5l-0.7 -1.7l-0.7 -0.7l-0.7 -1.4l-0.7 0.2l-0.7 -1.1l-0.7 -0.7l-0.7 0.6l-0.7 0l-0.7 -2.1l-0.7 0.7l-0.7 -1.7l-0.7 -1.1l-0.7 -1l-0.7 0.5l-0.7 -1.9l-0.7 0.1l-0.7 0.9l-0.7 -0.6l-0.7 0.1l-0.7 -2.1l-0.7 -1.3l-0.7 1.2l-0.7 -0.9l-0.7 -0.8l-0.7 -1.3l-0.7 -1.2l-0.7 -1.3l-0.7 1.7l-0.7 -1.3l-0.7 -0.6l-0.7 -3.6l-0.7 5.5l-0.7 -2.6l-0.7 -2.8l-0.7 0.9l-0.7 -0.7l-0.7 -1.5l-0.7 1.3l-0.7 -3.4l-0.7 0l-0.7 0.6l-0.7 -0.9l-0.7 -2l-0.7 1.2l-0.7 0.7l-0.7 -2.8l-0.7 2l-0.7 -1.4l-0.7 -2.3l-0.7 0.2l-0.7 -1.6l-0.7 -1l-0.7 1.5l-0.7 -3.3l-0.7 1.7l-0.7 -2l-0.7 -1.2l-0.7 -0.3l-0.7 0.8l-0.7 -1.5l-0.7 -1.1l-0.7 -0.8l-0.7 -0.3l-0.7 -2l-0.7 0.8l-0.7 -2.4l-0.7 1l-0.7 -1.8l-0.7 -1.1l-0.7 -0.2l-0.7 -0.1l-0.7 -2.1l-0.7 0.1l-0.7 1.2l-0.7 -3.7l-0.7 0.6l-0.7 -1.1l-0.7 -0.3l-0.7 -0.6l-0.7 -1.6l-0.7 0.4l-0.7 -0.8l-0.7 -1.2l-0.7 -0.5l-0.7 -1l-0.7 -1.1l-0.8 -1.6l-0.7 1.5l-0.7 -0.6l-0.7 -2.1l-0.7 -1.7l-0.7 -0.4l-0.7 0.1l-0.7 -2.2l-0.7 -0.2l-0.7 -0.3l-0.7 -0.8l-0.7 -1.9l-0.7 1.3l-0.7 -1.6l-0.7 -0.9l-0.7 -1.7l-0.7 -0.2l-0.7 -1.1l-0.7 0.3l-0.7 -1.5l-0.7 -2l-0.7 -0.7l-0.7 -1.3l-0.7 1.1l-0.7 -1.3l-0.7 -1.3l-0.7 -1.3l-0.7 -0.6l-0.7 -1l-0.7 -1.5l-0.7 -0.4l-0.7 -0.8l-0.7 -1.1l-0.7 0.6l-0.7 -2.9l-0.7 -1.2l-0.7 -0.5l-0.7 -1.6l-0.7 -1.1l-0.7 -1.9l-0.7 -0.1l-0.7 -1.1l-0.7 -0.4l-0.7 -1.5l-0.7 -1.1l-0.7 -3l-0.7 -2.2l-0.7 -1.4l-0.7 -2.2l-0.7 -2.1l-0.7 -0.3l-0.7 -0.5l-0.7 0.2l-0.7 -0.3l-0.7 -0.3l-0.7 0.8l-0.7 0.2l-0.7 -0.1l-0.7 0.6l-0.7 0.7l-0.7 0.9l-0.7 1.8l-0.7 1.4l-0.7 3l-0.7 2.8l-0.7 3l-0.7 4.1l-0.7 5.7l-0.7 3l-0.7 8.9l-0.7 6.3l-0.7 10l-0.7 8.9l-0.7 12.5l-0.7 15.4l-0.7 20.9l-0.7 33.5l-0.7 28.6l-0.7 41.8l-0.7 52.1l-0.7 45.2l-0.7 53.4l-0.7 13.1l-0.7 -6.9l-0.7 6.9l-0.7 3.8l-0.7 -7.3l-0.7 7.3l-0.7 -3.8l-0.7 3.8l-0.7 -3.8l-0.7 -3.5l-0.7 -12.3l-0.7 19.6l-0.7 0l-0.7 -10.7l-0.7 3.4l-0.7 3.5l-0.7 -6.9l-0.7 3.4l-0.7 0l-0.7 -6.5l-0.7 -3l-0.7 24.5l-0.7 -15l-0.7 0l-0.7 3.5l-0.7 -6.9l-0.7 3.4l-0.7 0l-0.7 7.3l-0.7 -3.8l-0.7 -15.8l-0.7 12.3l-0.7 -3.4l-0.7 0l-0.7 10.7l-0.7 -3.8l-0.7 -3.5l-0.7 -9.5l-0.7 6.1l-0.7 3.4l-0.7 -9.5l-0.7 13l-0.7 3.8l-0.7 -10.7l-0.7 10.7l-0.7 -13.8l-0.7 0l-0.7 10l-0.7 -10l-0.7 21.5l-0.7 -18.4l-0.7 -8.9l-0.7 15.8l-0.7 -10l-0.7 6.5l-0.7 11.3l-0.7 -17.8l-0.7 0l-0.7 3.1l-0.7 0l-0.7 -3.1l-0.7 -3l-0.7 9.5l-0.7 0l-0.7 3.5l-0.7 -10l-0.7 17.8l-0.7 -17.8l-0.7 -5.8l-0.7 2.8l-0.7 0l-0.7 24.5l-0.7 -11.5l-0.7 -3.5l-0.7 11.3l-0.7 -17.8l-0.7 6.5l-0.7 7.3l-0.7 -16.8l-0.7 3l-0.7 0l-0.7 3.1l-0.7 3.4l-0.7 -3.4l-0.7 6.9l-0.7 -13l-0.7 6.1l-0.7 10.7l-0.7 -3.8l-0.7 0l-0.7 -6.9l-0.7 0l-0.7 3.4l-0.7 3.5l-0.7 0l-0.7 3.8l-0.7 -16.8l-0.7 3l-0.7 13.8l-0.7 -3.8l-0.7 0l-0.7 -10l-0.7 17.8l-0.7 0l-0.7 -11.3l-0.7 -3.4l-0.7 -6.1l-0.7 6.1l-0.7 14.7l-0.7 -14.7l-0.7 -3.1l-0.7 13.8l-0.7 -7.3l-0.7 0l-0.7 3.5Z" fill="#ff0000" stroke="#ff0000" stroke-width="1.32" stroke-linejoin="round"/><path d="M843.0 1379.5l0.7 13.8l0.7 -5l0.7 0l0.7 -6.8l0.7 6.8l0.7 0l0.7 2.4l0.7 -9.2l0.7 -6l0.7 12.8l0.7 10.5l0.7 -21.4l0.7 13.3l0.7 -2.4l0.7 2.4l0.7 -2.4l0.7 -2.4l0.7 -6.4l0.7 8.8l0.7 0l0.7 -4.6l0.7 0l0.7 2.2l0.7 4.8l0.7 0l0.7 0l0.7 2.6l0.7 -11.8l0.7 4.4l0.7 -2.2l0.7 7l0.7 -9.2l0.7 9.2l0.7 2.6l0.7 -5l0.7 0l0.7 2.4l0.7 -4.8l0.7 -6.4l0.7 4.2l0.7 0l0.7 0l0.7 -4.2l0.7 2l0.7 -7.9l0.7 -1.8l0.7 9.7l0.7 9.2l0.7 -7l0.7 18l0.7 -8.4l0.7 -5l0.7 2.4l0.7 -2.4l0.7 -4.6l0.7 7l0.7 -7l0.7 9.6l0.7 -13.8l0.7 6.4l0.7 4.8l0.7 -4.8l0.7 2.4l0.7 -10.9l0.7 2.1l0.7 8.8l0.7 5l0.7 -15.9l0.7 15.9l0.7 -2.6l0.7 -7l0.7 15.1l0.7 -19.3l0.7 4.2l0.7 2.2l0.7 12.9l0.7 -21.4l0.7 15.9l0.7 0l0.7 -7.4l0.7 -8.5l0.7 6.3l0.7 0l0.7 2.2l0.7 4.8l0.7 -7l0.7 4.6l0.7 -8.8l0.7 2l0.7 11.8l0.7 -7.4l0.7 2.4l0.7 2.4l0.7 -11.2l0.7 2l0.7 9.2l0.7 -2.4l0.7 7.7l0.7 -7.7l0.7 -8.8l0.7 4.2l0.7 4.6l0.7 0l0.7 -2.4l0.7 -2.2l0.7 0l0.7 -6.3l0.7 15.9l0.7 -13.8l0.7 8.8l0.7 0l0.7 -2.4l0.7 -6.4l0.7 6.4l0.7 -25.9l0.7 -68.7l0.7 -39.3l0.7 -34.4l0.7 -35.3l0.7 -31.2l0.7 -28.8l0.7 -13.6l0.7 -13.7l0.7 -10l0.7 -7.7l0.7 -9.4l0.7 -6.5l0.7 -5.4l0.7 -4.9l0.7 -4.7l0.7 -3.3l0.7 -3.6l0.7 -2.4l0.7 -1l0.7 -2.6l0.7 -0.1l0.7 -1.6l0.7 0.1l0.7 -0.7l0.7 -0.1l0.7 0l0.7 0l0.7 0l0.7 0l0.7 0l0.7 0l0.7 0.2l0.7 1.8l0.7 0.5l0.7 1.6l0.7 2.5l0.7 4.4l0.7 1.9l0.7 1.4l0.7 0.7l0.7 1.4l0.7 1.2l0.7 2.5l0.7 0.4l0.7 1.6l0.7 1.1l0.7 1.5l0.7 0.1l0.7 2.3l0.7 0.1l0.7 0.9l0.7 2.8l0.7 -0.5l0.7 2.2l0.7 1.4l0.7 0.5l0.7 0.9l0.7 0.8l0.7 1.3l0.7 1.1l0.7 0.5l0.7 1.5l0.7 1.2l0.7 -0.8l0.7 2.5l0.7 2.7l0.7 -0.4l0.7 1.1l0.7 0.1l0.7 2.1l0.7 1.4l0.7 1.1l0.7 -0.3l0.7 1.3l0.7 2.7l0.7 0.2l0.7 0.1l0.7 1l0.7 1.9l0.7 0l0.7 -0.1l0.8 1.3l0.7 0.4l0.7 0.7l0.7 2.4l0.7 1.1l0.7 0.8l0.7 1.4l0.7 0.5l0.7 -0.1l0.7 2.2l0.7 -0.2l0.7 0.2l0.7 2.2l0.7 -0.3l0.7 2l0.7 -0.9l0.7 2.5l0.7 -1.6l0.7 3.2l0.7 -0.6l0.7 1.8l0.7 -0.5l0.7 1.2l0.7 3.2l0.7 -1.5l0.7 2.4l0.7 1.3l0.7 -0.9l0.7 2.2l0.7 -2.5l0.7 2l0.7 1.2l0.7 1.2l0.7 2.3l0.7 -3.4l0.7 3.9l0.7 0.3l0.7 1.2l0.7 1.3l0.7 -1.2l0.7 1l0.7 0.2l0.7 0.1l0.7 1l0.7 0.6l0.7 4l0.7 -1.1l0.7 -1l0.7 0.8l0.7 2.1l0.7 2.4l0.7 -0.9l0.7 1l0.7 1.2l0.7 -0.9l0.7 -0.7l0.7 3.3l0.7 -0.5l0.7 -0.2l0.7 3l0.7 -0.1l0.7 0.3l0.7 3.1l0.7 -2.5l0.7 1.1l0.7 0.7l0.7 3.1l0.7 0.3l0.7 -1.6l0.7 2.1l0.7 0.9l0.7 -2l0.7 5l0.7 -0.7l0.7 0.7l0.7 0.4l0.7 0.1l0.7 -1.6l0.7 4.2l0.7 0.5l0.7 0l0.7 0.7l0.7 0.5l0.7 2.7l0.7 0.3l0.7 -3.3l0.7 4l0.7 -3.5l0.7 2.4l0.7 3.4l0.7 1.3l0.7 -0.2l0.7 0.8l0.7 -0.6l0.7 0.6l0.7 0.4l0.7 0.3l0.7 1.4l0.7 -2.1l0.7 2.6l0.7 0.6l0.7 1.1l0.7 3.1l0.7 -3.3l0.7 1.8l0.7 1.8l0.7 1.2l0.7 0.8l0.7 0.9l0.7 -2.6l0.7 0.6l0.7 1.9l0.7 0.1l0.7 -6.4l0.7 7.7l0.7 1.5l0.7 -1.7l0.7 3.2l0.7 1.5l0.7 -3.6l0.7 1.5l0.7 -0.3l0.7 4.3l0.7 0.3l0.7 4.7l0.7 -2.3l0.7 -0.6l0.7 0.7l0.7 -2.3l0.7 -1.3l0.7 4.5l0.7 4.7l0.7 -2.6l0.7 2.9l0.7 -0.9l0.7 -5.7l0.7 4.7l0.7 1.7l0.7 -0.4l0.7 -4.2l0.7 7.7l0.7 -1.8l0.7 -3.4l0.7 8.6l0.7 -4.8l0.7 1.6l0.7 3.6l0.7 -2.9l0.7 0.5l0.7 2.2l0.7 -0.8l0.7 3.9l0.7 -1.8l0.7 0.2l0.7 1.6l0.7 3.5l0.7 -5l0.7 8l0.7 -0.5l0.7 -4.4l0.7 1.4l0.7 5.7l0.7 -2.5l0.7 0.6l0.7 -2.1l0.7 4.4l0.7 0.8l0.7 -0.5l0.7 -3.2l0.7 5.7l0.7 -2.2l0.7 -4l0.7 6.5l0.7 0.3l0.7 2.5l0.7 -6.5l0.7 0.3l0.7 1.5l0.7 3.8l0.7 0.6l0.7 1.3l0.7 -1.2l0.7 4.1l0.7 -1l0.7 -3.4l0.7 6.2l0.7 -6.3l0.7 4.3l0.7 4l0.7 -2.1l0.7 -3.9l0.7 8.6l0.7 -6.3l0.7 3.1l0.7 3.4l0.7 -3.7l0.7 4l0.7 -3.4l0.7 4l0.7 1.3l0.7 -0.6l0.7 -3.1l0.7 4.1l0.7 -3l0.7 -0.6l0.7 1.2l0.7 2.4l0.7 -0.4l0.7 1.1l0.7 4.8l0.7 -3.9l0.7 1.6l0.7 4.5l0.7 -7.5l0.7 8.6l0.7 -2.1l0.7 1.3l0.7 0.6l0.7 0.8l0.7 -9l0.7 2.4l0.7 5.2l0.7 -3.9l0.7 8.7l0.7 2.2l0.7 1.7l0.7 0.1l0.7 -6l0.7 1.1l0.7 3.9l0.7 0l0.7 -4.1l0.7 7.3l0.7 -0.8l0.7 -2l0.7 4.7l0.7 -1.8l0.7 1l0.7 -3.3l0.7 6.5l0.7 -6.4l0.7 4.3l0.7 -1.7l0.7 1.7l0.7 -2.7l0.7 1.5l0.7 11l0.7 -1.4l0.7 -3.2l0.7 -3.9l0.7 9l0.7 -4.3l0.7 -0.9l0.7 -1l0.7 -1.4l0.7 4.5l0.7 1.8l0.7 0.6l0.7 -1.3l0.7 1.1l0.7 2.1l0.7 -3.6l0.7 1l0.7 1.8l0.7 0.8l0.7 -3l0.7 3.9l0.7 2l0.7 -1.9l0.7 0.3l0.7 2.4l0.7 -1.4l0.7 -6.9l0.7 7.9l0.7 0.7l0.7 2.6l0.7 3.6l0.7 -5.7l0.7 -6.8l0.7 9.7l0.7 -3.3l0.7 3.5l0.7 2.8l0.7 -0.2l0.7 -0.7l0.7 -3.8l0.7 7.1l0.7 1.9l0.7 -5.6l0.7 3.3l0.7 1.4l0.7 -2.2l0.7 3.5l0.7 -12.1l0.7 21.7l0.7 -16.5l0.7 2.3l0.7 3.4l0.7 3.1l0.7 -9.3l0.7 3.4l0.7 2.4l0.7 -6.5l0.7 9.4l0.7 1l0.7 7.5l0.7 -1.3l0.7 -4.9l0.7 5.9l0.7 -14.6l0.7 10l0.7 3.6l0.7 -4.9l0.7 -1.8l0.7 -2.2l0.7 5.9l0.7 7.5l0.7 -5.3l0.7 -3.1l0.7 13.5l0.7 -15.4l0.7 4.5l0.7 3.7l0.7 -11.2l0.7 7.3l0.7 7.5l0.7 -9l0.7 8.1l0.7 -8.9l0.7 4.7l0.7 -1.3l0.7 6.4l0.7 -6l0.7 3.7l0.7 7.7l0.7 -8.6l0.7 8.4l0.7 -16.9l0.7 9.6l0.7 2.6l0.7 -1.4l0.7 4l0.7 -0.9l0.7 -4.9l0.7 1.3l0.7 4.8l0.7 7.7l0.7 -10.8l0.7 2.8l0.7 8.5l0.7 -10.8l0.7 6.5l0.7 2.3l0.7 2.4l0.7 -8.7l0.7 5.1l0.7 3.3l0.7 -9.4l0.7 -3.6l0.7 17l0.7 -7.7l0.7 9.3l0.7 2.7l0.7 -12.3l0.7 1.4l0.7 -3.1l0.7 4.7l0.7 -2.6l0.7 -0.1l0.7 -0.1l0.7 10.3l0.7 -8.8l0.7 7.6l0.7 1.8l0.7 -7.2l0.7 3.3l0.7 -1.8l0.7 0.8l0.7 -8.2l0.7 8.9l0.7 13.9l0.7 -19.2l0.7 13.5l0.7 4.3l0.7 -7.5l0.7 8.4l0.7 -7.5l0.7 -4.9l0.7 12l0.7 -7.4l0.7 -6.6l0.8 12.6l0.7 -5.3l0.7 6.2l0.7 -0.1l0.7 -3.3l0.7 -5.1l0.7 -1l0.7 11.3l0.7 -8.6l0.7 0l0.7 11.8l0.7 -2.4l0.7 -2.4l0.7 -2.3l0.7 -1.1l0.7 -1.2l0.7 5.3l0.7 4.7l0.7 -7.1l0.7 10.7l0.7 -4l0.7 -4.7l0.7 1l0.7 -10.3l0.7 8l0.7 2.2l0.7 2.3l0.7 -5.6l0.7 1l0.7 3.3l0.7 5.9l0.7 9.4l0.7 -4.4l0.7 -16.4l0.7 1.1l0.7 7.6l0.7 0l0.7 -1.2l0.7 2.3l0.7 10.3l0.7 -9.2l0.7 -1.2l0.7 4.8l0.7 -7.1l0.7 9.7l0.7 -11.9l0.7 14.5l0.7 -10.1l0.7 -3.4l0.7 12l0.7 -2.7l0.7 -2.5l0.7 -5.7l0.7 9.4l0.7 -10.5l0.7 11.8l0.7 -3.8l0.7 3.7l0.7 -7.2l0.7 3.5l0.7 2.4l0.7 1.2l0.7 2.6l0.7 -5.1l0.7 -7.9l0.7 14.3l0.7 1.4l0.7 -4l0.7 3.9l0.7 -4l0.7 -2.5l0.7 7.8l0.7 -7.8l0.7 -1.1l0.7 -1.2l0.7 7.4l0.7 -10.7l0.7 20.7l0.7 -13.8l0.7 10.7l0.7 -9.4l0.7 2.5l0.7 4l0.7 0l0.7 -14.5l0.7 11.8l0.7 0l0.7 4.1l0.7 -2.7l0.7 2.7l0.7 1.4l0.7 0l0.7 -5.4l0.7 -2.5l0.7 -7l0.7 10.8l0.7 2.7l0.7 -5.2l0.7 12.6l0.7 -16.2l0.7 6.2l0.7 -10.6l0.7 12l0.7 -1.3l0.7 4l0.7 -1.3l0.7 7.1l0.7 -9.7l0.7 16.2l0.7 -23.4l0.7 11.2l0.7 0l0.7 2.8l0.7 1.5l0.7 -8.2l0.7 6.8l0.7 0l0.7 1.5l0.7 0l0.7 -1.4l0.7 7.6l0.7 -14.3l0.7 11.1l0.7 -7.1l0.7 -2.6l0.7 -1.2l0.7 11l0.7 -15.7l0.7 11.4l0.7 1.4l0.7 -9.2l0.7 12.2l0.7 -1.5l0.7 7.9l0.7 -7.8l0.7 1.5l0.7 0l0.7 3.1l0.7 6.7l0.7 -9.7l0.7 3.1l0.7 1.6l0.7 -8.9l0.7 -2.7l0.7 10.1l0.7 -10l0.7 1.4l0.7 11.8l0.7 -1.6l0.7 -6l0.7 4.5l0.7 -4.4l0.7 14.6l0.7 -14.6l0.7 7.7l0.7 1.7l0.7 1.7l0.7 -4.9l0.7 -3.1l0.7 8.1l0.7 -18.8l0.7 10.8l0.7 4.7l0.7 3.4l0.7 -3.3l0.7 8.7l0.7 -11.8l0.7 17.7l0.7 -12.9l0.7 -1.6l0.7 1.7l0.7 0l0.7 -1.6l0.7 1.7l0.7 -4.7l0.7 4.7l0.7 0.1l0.7 0l0.7 0l0.7 -6.1l0.7 0l0.7 3.1l0.7 8.3l0.7 -6.7l0.7 3.3l0.7 -7.8l0.7 3.1l0.7 11.9l0.7 -5.4l0.7 9.4l0.7 -9.3l0.7 -4.9l0.7 0.1l0.7 6.7l0.7 3.6l0.7 -3.6l0.7 -1.7l0 20.3l-0.7 -13l-0.7 23.7l-0.7 3.1l-0.7 -8.7l-0.7 2.7l-0.7 -5.4l-0.7 -4.9l-0.7 7.6l-0.7 12l-0.7 -17.2l-0.7 -4.8l-0.7 0l-0.7 7.3l-0.7 0l-0.7 -9.6l-0.7 4.6l-0.7 2.4l-0.7 -17.1l-0.7 14.6l-0.7 23.5l-0.7 -21l-0.7 -7.1l-0.7 9.7l-0.7 -9.7l-0.7 4.6l-0.7 0l-0.7 -4.6l-0.7 15.3l-0.7 -10.7l-0.7 -9l-0.7 9l-0.7 32l-0.7 -34.4l-0.7 13.2l-0.7 -2.9l-0.7 -12.6l-0.7 0l-0.7 12.7l-0.7 -8l-0.7 0l-0.7 2.6l-0.7 -7.3l-0.7 2.3l-0.7 7.7l-0.7 9l-0.7 -25.5l-0.7 4.3l-0.7 7.1l-0.7 8.1l-0.7 -10.6l-0.7 -2.3l-0.7 0l-0.7 -2.3l-0.7 -2.2l-0.7 12l-0.7 12l-0.7 -19.4l-0.7 4.9l-0.7 -7.2l-0.7 7.3l-0.7 -5l-0.7 5.1l-0.7 -9.6l-0.7 -4.2l-0.7 13.9l-0.7 2.7l-0.7 -16.6l-0.7 6.6l-0.7 -2.3l-0.7 4.7l-0.7 -12.9l-0.7 4l-0.7 2.1l-0.7 0.1l-0.7 -2.1l-0.7 -2.1l-0.7 -2l-0.7 -1.9l-0.7 2l-0.7 -7.4l-0.7 13.7l-0.7 4.6l-0.7 10.7l-0.7 -17.4l-0.7 -2.1l-0.7 6.6l-0.7 -14.3l-0.7 22l-0.7 -12l-0.7 0l-0.7 -8l-0.7 0l-0.7 8.2l-0.7 -2.1l-0.7 -7.9l-0.7 -1.8l-0.7 1.8l-0.7 10.3l-0.7 -12l-0.7 1.9l-0.7 1.9l-0.7 2l-0.7 4.3l-0.7 4.6l-0.7 -10.7l-0.7 0l-0.7 -5.6l-0.7 -6.7l-0.7 8.6l-0.7 2l-0.7 4.1l-0.7 -2l-0.7 8.8l-0.7 -12.6l-0.7 10.5l-0.7 -2.1l-0.7 -10.1l-0.7 3.9l-0.7 11.1l-0.7 -12.9l-0.7 -3.7l-0.7 7.9l-0.7 2.3l-0.7 7l-0.7 -18.7l-0.7 5.6l-0.7 0.2l-0.7 -7.5l-0.7 5.7l-0.7 4.2l-0.7 -9.6l-0.7 5.7l-0.7 0.1l-0.7 -1.9l-0.7 6.2l-0.7 -13.2l-0.7 -3.3l-0.7 19.2l-0.7 -8.3l-0.7 6.3l-0.7 -16.9l-0.7 -1.6l-0.7 8.8l-0.7 2l-0.7 6.3l-0.7 -19.9l-0.7 8.4l-0.7 -1.6l-0.7 0l-0.7 7.6l-0.7 -5.6l-0.7 0.2l-0.7 12.5l-0.7 0.2l-0.7 -28.5l-0.7 26.5l-0.7 -8.2l-0.7 -8.8l-0.7 9.2l-0.7 -10.6l-0.7 -3.1l-0.7 14.3l-0.7 -1.7l-0.7 -3.7l-0.7 6l-0.7 -12.6l-0.7 1.7l-0.7 9.6l-0.7 -9.3l-0.7 -1.5l-0.7 5.6l-0.7 0.1l-0.7 -10.2l-0.7 6.9l-0.7 0.2l-0.7 -5l-0.7 12.9l-0.7 -11l-0.7 -9.3l-0.7 18.8l-0.7 6.6l-0.7 -13.9l-0.7 -4.8l-0.7 -4.6l-0.7 6.4l-0.7 -7.6l-0.7 19.1l-0.7 -24.5l-0.7 8.7l-0.7 6.8l-0.7 0.1l-0.7 -15.2l-0.7 8.9l-0.7 -1.4l-0.7 -4.3l-0.7 7.8l-0.8 0l-0.7 -19l-0.7 6.2l-0.7 -1.1l-0.7 8.3l-0.7 9.8l-0.7 -20.2l-0.7 9.4l-0.7 -1.3l-0.7 -10.2l-0.7 7.7l-0.7 1.6l-0.7 -5.2l-0.7 9.8l-0.7 -5.6l-0.7 -11.1l-0.7 8.8l-0.7 2.7l-0.7 -6.4l-0.7 2.7l-0.7 -2.3l-0.7 -4.7l-0.7 6.2l-0.7 -3.6l-0.7 -7.6l-0.7 11.7l-0.7 -1.2l-0.7 0.2l-0.7 -1.1l-0.7 -5.7l-0.7 6l-0.7 5.3l-0.7 -6.3l-0.7 -8.9l-0.7 1.2l-0.7 -0.9l-0.7 1.2l-0.7 3.5l-0.7 -4.3l-0.7 -3.9l-0.7 7.4l-0.7 -8.1l-0.7 2.1l-0.7 8.9l-0.7 -4.4l-0.7 -4.1l-0.7 -6.6l-0.7 -5.1l-0.7 10.1l-0.7 0.2l-0.7 -2.8l-0.7 4.2l-0.7 6.6l-0.7 -2.2l-0.7 9.8l-0.7 -16.6l-0.7 -8.9l-0.7 3.5l-0.7 1.9l-0.7 1.2l-0.7 14l-0.7 -19.1l-0.7 0.2l-0.7 15.8l-0.7 -5.1l-0.7 -13.7l-0.7 3.6l-0.7 -9.5l-0.7 8.9l-0.7 -7.8l-0.7 12.7l-0.7 -2.7l-0.7 -11.9l-0.7 16l-0.7 -4.5l-0.7 -11l-0.7 11.4l-0.7 -5.8l-0.7 6.1l-0.7 -9.6l-0.7 8.3l-0.7 -11l-0.7 6.2l-0.7 -1.5l-0.7 7.8l-0.7 -5.8l-0.7 -1.4l-0.7 -0.6l-0.7 -5.8l-0.7 10.2l-0.7 -9.9l-0.7 7.1l-0.7 -12.9l-0.7 -1l-0.7 4.7l-0.7 -6.3l-0.7 10.2l-0.7 -2.7l-0.7 -5.2l-0.7 0.9l-0.7 2l-0.7 -1.8l-0.7 -0.5l-0.7 3.6l-0.7 -4.6l-0.7 -4l-0.7 7.7l-0.7 -11.4l-0.7 3l-0.7 1.4l-0.7 -2.9l-0.7 1.4l-0.7 3.7l-0.7 -10.5l-0.7 2.8l-0.7 9.6l-0.7 -7.7l-0.7 -4.5l-0.7 -3l-0.7 2.1l-0.7 0.8l-0.7 5.6l-0.7 -7.8l-0.7 4.8l-0.7 -2l-0.7 -8.5l-0.7 3.4l-0.7 1.6l-0.7 -3.1l-0.7 0.1l-0.7 5.1l-0.7 -5.7l-0.7 4.4l-0.7 0.3l-0.7 -9.1l-0.7 26.5l-0.7 -24.9l-0.7 6.8l-0.7 -5.1l-0.7 -1.7l-0.7 -3.1l-0.7 3.6l-0.7 2.4l-0.7 -3.9l-0.7 0.6l-0.7 -4l-0.7 -1.8l-0.7 1.8l-0.7 -4.6l-0.7 11.8l-0.7 -11.5l-0.7 5.4l-0.7 -4.1l-0.7 0.9l-0.7 -3.7l-0.7 10.6l-0.7 -7.1l-0.7 -2.9l-0.7 -2.8l-0.7 7.4l-0.7 -8.1l-0.7 2.1l-0.7 -1.1l-0.7 -3.1l-0.7 10.9l-0.7 -8.2l-0.7 -0.6l-0.7 -5.7l-0.7 2.4l-0.7 0.5l-0.7 2.7l-0.7 -2.6l-0.7 -3l-0.7 -0.8l-0.7 -0.1l-0.7 0.5l-0.7 -1.7l-0.7 -0.8l-0.7 -3l-0.7 5.2l-0.7 -6.5l-0.7 6.3l-0.7 -5.5l-0.7 2.5l-0.7 -3.5l-0.7 1.3l-0.7 -5.6l-0.7 8.8l-0.7 -3.7l-0.7 -3.9l-0.7 -0.3l-0.7 3.6l-0.7 -2.7l-0.7 -4.5l-0.7 0l-0.7 2.7l-0.7 -3.1l-0.7 6.9l-0.7 -8.5l-0.7 1.6l-0.7 -4.3l-0.7 3.9l-0.7 0.1l-0.7 -4.9l-0.7 -1.9l-0.7 2.6l-0.7 1.4l-0.7 -7l-0.7 6.7l-0.7 -4.1l-0.7 -0.1l-0.7 -2.2l-0.7 3.5l-0.7 -1.6l-0.7 4.1l-0.7 -7.9l-0.7 1.5l-0.7 -0.7l-0.7 -1.3l-0.7 -2.7l-0.7 2.9l-0.7 -4.4l-0.7 0.7l-0.7 0.5l-0.7 0.8l-0.7 -2l-0.7 3.1l-0.7 1.1l-0.7 -9.3l-0.7 6.4l-0.7 -6.2l-0.7 2.4l-0.7 2.4l-0.7 -3.5l-0.7 -1.3l-0.7 -2.2l-0.7 0.9l-0.7 -4.2l-0.7 6.5l-0.7 -7.5l-0.7 1.9l-0.7 -1.4l-0.7 1.3l-0.7 -3.3l-0.7 1.4l-0.7 -4.3l-0.7 3.6l-0.7 3.7l-0.7 -6.5l-0.7 -0.5l-0.7 -4.5l-0.7 1.6l-0.7 0.6l-0.7 -2.2l-0.7 1l-0.7 1l-0.7 0.1l-0.7 -3.1l-0.7 1.2l-0.7 -0.5l-0.7 -2.8l-0.7 -0.2l-0.7 -1.4l-0.7 -2.1l-0.7 4.5l-0.7 -4.9l-0.7 3.1l-0.7 -4.5l-0.7 -1.1l-0.7 2l-0.7 -1.7l-0.7 1.2l-0.7 -1.1l-0.7 -2.2l-0.7 0.2l-0.7 -2l-0.7 1.1l-0.7 0.1l-0.7 -2.7l-0.7 0.2l-0.7 -1.2l-0.7 4.1l-0.7 -3.7l-0.7 0.4l-0.7 -1.3l-0.7 -0.3l-0.7 -2.4l-0.7 3l-0.7 -5.4l-0.7 -1.4l-0.7 0.6l-0.7 0l-0.7 -2.3l-0.7 2.2l-0.7 -2.6l-0.7 0.6l-0.7 -0.5l-0.7 -2.6l-0.7 0.9l-0.7 -1.1l-0.7 -1.1l-0.7 0.2l-0.7 0.1l-0.7 -4.2l-0.7 1l-0.7 -0.2l-0.7 -0.9l-0.7 -0.7l-0.7 -1.3l-0.7 0.8l-0.7 1.1l-0.7 -3.4l-0.7 -2.6l-0.7 0.4l-0.7 -2.1l-0.7 2.5l-0.7 -0.9l-0.7 -0.4l-0.7 1l-0.7 -4l-0.7 -0.6l-0.7 -2.5l-0.7 1.4l-0.7 0.4l-0.7 -2.1l-0.7 -0.2l-0.7 -0.4l-0.7 1.9l-0.7 -4.3l-0.7 0.6l-0.7 1.2l-0.7 -2.4l-0.7 -2.2l-0.7 -1.7l-0.7 3.5l-0.7 -3.4l-0.7 -0.6l-0.7 0.8l-0.7 -1.9l-0.7 -2.8l-0.7 0.8l-0.7 -0.7l-0.7 -0.1l-0.7 -1.1l-0.7 -2.1l-0.7 0l-0.7 -0.5l-0.7 -1.1l-0.7 -0.7l-0.7 -1.5l-0.7 2.1l-0.7 -3l-0.7 2.2l-0.7 -1.8l-0.7 -1.7l-0.7 -0.4l-0.7 -2.4l-0.7 2l-0.7 -4.3l-0.7 0.4l-0.7 1.2l-0.7 -3.2l-0.7 -0.6l-0.7 -0.9l-0.7 0.7l-0.7 -2.5l-0.7 0.2l-0.7 -1l-0.7 -0.7l-0.7 -1.5l-0.7 -1l-0.7 1.5l-0.7 -1.1l-0.7 -2.8l-0.7 -0.9l-0.7 0.3l-0.7 -1.1l-0.7 -2.7l-0.7 1.3l-0.7 -2.7l-0.7 -0.6l-0.7 1l-0.7 -2.4l-0.7 -2.2l-0.7 0.7l-0.7 1l-0.7 -3.1l-0.7 0.3l-0.7 -0.8l-0.7 -3.8l-0.7 0.7l-0.8 -0.5l-0.7 -1.7l-0.7 2.2l-0.7 -3.3l-0.7 -1.2l-0.7 -0.8l-0.7 -1.2l-0.7 0.4l-0.7 -1.2l-0.7 -3.1l-0.7 -0.4l-0.7 0.3l-0.7 -0.9l-0.7 -2l-0.7 -1.2l-0.7 -0.6l-0.7 -1.4l-0.7 -1.1l-0.7 -0.8l-0.7 -0.9l-0.7 -0.7l-0.7 -1.5l-0.7 -2l-0.7 0l-0.7 -2.1l-0.7 -1.3l-0.7 -0.1l-0.7 -1.4l-0.7 -1l-0.7 -0.9l-0.7 -0.8l-0.7 -1.8l-0.7 0.1l-0.7 -2.8l-0.7 -1.4l-0.7 0l-0.7 -2l-0.7 -2.3l-0.7 -0.9l-0.7 0.8l-0.7 -2.8l-0.7 -1l-0.7 -1.2l-0.7 -1.5l-0.7 -1.6l-0.7 -2.1l-0.7 -3.3l-0.7 -3.9l-0.7 -1.2l-0.7 -1.4l-0.7 -0.3l-0.7 0.1l-0.7 -0.6l-0.7 0.5l-0.7 -0.4l-0.7 0.3l-0.7 0l-0.7 0.9l-0.7 0.4l-0.7 0l-0.7 1.1l-0.7 2.8l-0.7 0.6l-0.7 1.9l-0.7 1.6l-0.7 5.4l-0.7 2.3l-0.7 6.9l-0.7 4.5l-0.7 8l-0.7 6.8l-0.7 7.8l-0.7 13.3l-0.7 8.5l-0.7 15.1l-0.7 21.1l-0.7 29.6l-0.7 35.7l-0.7 42.4l-0.7 36.8l-0.7 62.9l-0.7 54.1l-0.7 12.5l-0.7 6.3l-0.7 0l-0.7 -2.3l-0.7 2.3l-0.7 -13.6l-0.7 7.3l-0.7 -3.7l-0.7 0l-0.7 -10l-0.7 6.4l-0.7 13.6l-0.7 -6.3l-0.7 0l-0.7 -10.6l-0.7 6.9l-0.7 10l-0.7 -22.9l-0.7 9.3l-0.7 0l-0.7 -3.3l-0.7 6.9l-0.7 -6.9l-0.7 3.3l-0.7 13.6l-0.7 -6.3l-0.7 -3.7l-0.7 10l-0.7 -6.3l-0.7 -10.6l-0.7 6.9l-0.7 7.7l-0.7 2.3l-0.7 -10l-0.7 -3.6l-0.7 -6.4l-0.7 13.7l-0.7 -7.3l-0.7 13.6l-0.7 -13.6l-0.7 11.3l-0.7 2.3l-0.7 -2.3l-0.7 -4l-0.7 -3.7l-0.7 3.7l-0.7 -3.7l-0.7 3.7l-0.7 -3.7l-0.7 -6.9l-0.7 6.9l-0.7 -10l-0.7 3.1l-0.7 3.3l-0.7 11.3l-0.7 -11.3l-0.7 11.3l-0.7 -7.7l-0.7 10l-0.7 -10l-0.7 7.7l-0.7 -7.7l-0.7 0l-0.7 3.7l-0.7 4l-0.7 0l-0.7 -4l-0.7 4l-0.7 0l-0.7 -4l-0.7 -13.7l-0.7 17.7l-0.7 -14.6l-0.7 6.9l-0.7 -6.9l-0.7 -6l-0.7 20.6l-0.7 -7.7l-0.7 -3.6l-0.7 3.6l-0.7 -3.6l-0.7 11.3l-0.7 -4l-0.7 0l-0.7 4l-0.7 0l-0.7 -14.6l-0.7 14.6l-0.7 2.3l-0.7 0l-0.7 -6.3l-0.7 -16.6l-0.7 22.9l-0.7 -6.3l-0.7 6.3l-0.7 -6.3l-0.7 4l-0.7 0l-0.7 -17.7l-0.7 10l-0.7 -6.9l-0.7 16.9l-0.7 -13.6l-0.7 13.6l-0.7 -10l-0.7 3.7l-0.7 0l-0.7 -7.3l-0.7 3.6l-0.7 7.7l-0.7 -7.7l-0.7 3.7l-0.7 -7.3l-0.7 3.6l-0.7 0Z" fill="#00ff00" stroke="#00ff00" stroke-width="1.32" stroke-linejoin="round"/><path d="M843.0 1400.8l0.7 -2.9l0.7 -2.7l0.7 8.6l0.7 -16.1l0.7 -2.2l0.7 18.3l0.7 -5.9l0.7 2.9l0.7 -10.7l0.7 0l0.7 5.1l0.7 0l0.7 -5.1l0.7 5.1l0.7 2.7l0.7 -16.7l0.7 8.9l0.7 2.5l0.7 11.2l0.7 -3l0.7 -13.1l0.7 19.2l0.7 -6.1l0.7 -10.7l0.7 7.8l0.7 5.9l0.7 -20.5l0.7 11.9l0.7 -7.5l0.7 13.1l0.7 3l0.7 -5.9l0.7 -5.3l0.7 5.3l0.7 -24.5l0.7 14.3l0.7 4.9l0.7 8.2l0.7 -15.3l0.7 18.3l0.7 -13.7l0.7 7.8l0.7 -5.3l0.7 2.6l0.7 -14l0.7 16.7l0.7 -5.3l0.7 -2.5l0.7 10.7l0.7 0l0.7 -10.7l0.7 2.5l0.7 -2.5l0.7 2.5l0.7 5.3l0.7 -18.8l0.7 8.6l0.7 10.2l0.7 -12.4l0.7 12.4l0.7 -7.8l0.7 5.1l0.7 -5.1l0.7 0l0.7 2.5l0.7 2.6l0.7 -2.6l0.7 14.3l0.7 -21.4l0.7 4.6l0.7 2.5l0.7 5.3l0.7 -12.4l0.7 15.3l0.7 0l0.7 -13.1l0.7 19.2l0.7 -11.7l0.7 -11.9l0.7 11.9l0.7 0l0.7 5.6l0.7 -5.6l0.7 -2.6l0.7 2.6l0.7 0l0.7 -2.6l0.7 -2.5l0.7 0l0.7 -2.4l0.7 2.4l0.7 7.8l0.7 -7.8l0.7 5.1l0.7 -9.7l0.7 2.2l0.7 -6.5l0.7 16.7l0.7 -7.8l0.7 5.1l0.7 -5.1l0.7 2.5l0.7 5.3l0.7 0l0.7 2.9l0.7 -8.2l0.7 -4.9l0.7 7.5l0.7 -9.7l0.7 12.4l0.7 -10.2l0.7 -6.5l0.7 4.3l0.7 7.1l0.7 -38.2l0.7 -71.9l0.7 -30.1l0.7 -33.8l0.7 -40.4l0.7 -29.2l0.7 -25.8l0.7 -16.8l0.7 -11l0.7 -11l0.7 -9l0.7 -6.2l0.7 -6.4l0.7 -7l0.7 -4.4l0.7 -3.1l0.7 -6.2l0.7 -1.8l0.7 -1.5l0.7 -3.2l0.7 -0.5l0.7 -2.1l0.7 -1.1l0.7 -0.7l0.7 0.1l0.7 -0.2l0.7 0.1l0.7 -0.1l0.7 0l0.7 0l0.7 0l0.7 0.1l0.7 1l0.7 0.9l0.7 0.1l0.7 0.3l0.7 2.1l0.7 3.9l0.7 2.9l0.7 3.9l0.7 3.1l0.7 2.3l0.7 1.5l0.7 1.4l0.7 2.8l0.7 1.6l0.7 0.9l0.7 0.5l0.7 2.1l0.7 1.4l0.7 0.8l0.7 2l0.7 0.4l0.7 1.9l0.7 0.3l0.7 1l0.7 1l0.7 0.4l0.7 1l0.7 1.2l0.7 1.3l0.7 -0.5l0.7 3.4l0.7 -0.2l0.7 0.9l0.7 1l0.7 -0.3l0.7 0.7l0.7 2.3l0.7 2.8l0.7 -0.1l0.7 0.2l0.7 1.7l0.7 1.1l0.7 1.5l0.7 -1l0.7 1.3l0.7 1.4l0.7 1.1l0.7 1l0.7 0.9l0.7 1.1l0.8 -1.4l0.7 2l0.7 2.4l0.7 1.5l0.7 -0.6l0.7 0.4l0.7 3.1l0.7 -0.9l0.7 2.5l0.7 -0.2l0.7 0.9l0.7 1.1l0.7 0.7l0.7 1.4l0.7 1.7l0.7 -0.4l0.7 0.4l0.7 2.6l0.7 0.9l0.7 -0.3l0.7 2l0.7 -0.9l0.7 2.1l0.7 2l0.7 0.5l0.7 0.3l0.7 0.2l0.7 3l0.7 0.6l0.7 -0.1l0.7 2.6l0.7 -2.9l0.7 2.4l0.7 1.3l0.7 -0.7l0.7 2.9l0.7 1.1l0.7 0.9l0.7 1.6l0.7 2.5l0.7 -1.6l0.7 1.9l0.7 0.8l0.7 -1.4l0.7 3.8l0.7 0.8l0.7 -1.1l0.7 1.5l0.7 2.2l0.7 -1.5l0.7 4.4l0.7 -0.4l0.7 1.1l0.7 0.1l0.7 2.3l0.7 0.5l0.7 1l0.7 -0.6l0.7 3.9l0.7 -2.7l0.7 3l0.7 -0.5l0.7 3l0.7 -0.3l0.7 -1.9l0.7 2.8l0.7 0.2l0.7 -0.2l0.7 3.8l0.7 -0.8l0.7 4.4l0.7 -2.5l0.7 2l0.7 2l0.7 -1.2l0.7 3l0.7 -0.8l0.7 0.4l0.7 -0.4l0.7 3.5l0.7 2.1l0.7 -1.2l0.7 1.9l0.7 -1.8l0.7 3.6l0.7 -3.9l0.7 3.9l0.7 2.1l0.7 0.5l0.7 1.8l0.7 -0.9l0.7 1.5l0.7 0.9l0.7 2.9l0.7 -3.2l0.7 2.1l0.7 -1.3l0.7 2.4l0.7 0.7l0.7 2.3l0.7 2.4l0.7 -0.6l0.7 0.6l0.7 0l0.7 0.9l0.7 1.7l0.7 1.5l0.7 1.2l0.7 1.3l0.7 1.3l0.7 -0.8l0.7 -3.4l0.7 5.1l0.7 0.1l0.7 0.5l0.7 -4l0.7 3.1l0.7 3.7l0.7 -4.3l0.7 7.2l0.7 -0.1l0.7 1.1l0.7 -3.7l0.7 4.8l0.7 0.5l0.7 3.6l0.7 -3.5l0.7 3.6l0.7 0.3l0.7 -1.9l0.7 -0.3l0.7 3.3l0.7 -0.1l0.7 0.4l0.7 1.6l0.7 -0.3l0.7 4.3l0.7 -1.9l0.7 4.2l0.7 -1.3l0.7 -1.2l0.7 -2.6l0.7 7.4l0.7 -0.3l0.7 0.9l0.7 -6.7l0.7 8.3l0.7 1.7l0.7 -3.4l0.7 4.1l0.7 1.5l0.7 -1l0.7 1.6l0.7 -4.3l0.7 -1.3l0.7 3.5l0.7 5.2l0.7 -1.6l0.7 5.6l0.7 -3.4l0.7 -1.6l0.7 5.2l0.7 0.9l0.7 -0.9l0.7 -2.8l0.7 4l0.7 0.4l0.7 -3.1l0.7 5.7l0.7 4.2l0.7 -0.7l0.7 -5.9l0.7 5.1l0.7 3.9l0.7 -8.3l0.7 3.2l0.7 7.6l0.7 -9.2l0.7 5.5l0.7 -1.5l0.7 5l0.7 0.5l0.7 0.1l0.7 1.3l0.7 -4.6l0.7 -3.1l0.7 6.8l0.7 -0.6l0.7 2.4l0.7 0.1l0.7 -0.6l0.7 0.9l0.7 -2.2l0.7 8.1l0.7 -5.5l0.7 5.4l0.7 2.3l0.7 -7.1l0.7 6l0.7 -1.4l0.7 -2.2l0.7 4.3l0.7 -0.1l0.7 1.9l0.7 -0.7l0.7 -1.4l0.7 8.4l0.7 -0.3l0.7 -6l0.7 1.2l0.7 -1.5l0.7 7l0.7 -0.1l0.7 -7.8l0.7 8.4l0.7 -0.6l0.7 2.8l0.7 -0.1l0.7 -2.2l0.7 3.3l0.7 -3.6l0.7 -6.1l0.7 5.8l0.7 7l0.7 -2.3l0.7 -3.7l0.7 10l0.7 -3l0.7 -1.2l0.7 0.4l0.7 2.1l0.7 4.6l0.7 -3.2l0.7 -4.6l0.7 4.9l0.7 6.6l0.7 -3.3l0.7 -9.3l0.7 10.2l0.7 -10.9l0.7 12.6l0.7 -3.3l0.7 0.5l0.7 4.3l0.7 2.6l0.7 -13.7l0.7 4.4l0.7 11l0.7 -5l0.7 6.9l0.7 -7.3l0.7 -8l0.7 11.2l0.7 -0.1l0.7 1.3l0.7 -0.2l0.7 6.6l0.7 -8.3l0.7 2.7l0.7 2.8l0.7 0.7l0.7 -3.9l0.7 4.3l0.7 -11.8l0.7 16.3l0.7 -11.3l0.7 4.1l0.7 -0.2l0.7 6.9l0.7 -3.3l0.7 0.7l0.7 3.9l0.7 -0.1l0.7 -1l0.7 5.1l0.7 -6.9l0.7 -4l0.7 12.3l0.7 -11l0.7 -3.1l0.7 14.6l0.7 -9.5l0.7 4l0.7 6.1l0.7 -5.5l0.7 1.6l0.7 3.6l0.7 -2.9l0.7 7.5l0.7 -1.1l0.7 -8.5l0.7 -3.5l0.7 5.9l0.7 3.6l0.7 -4.7l0.7 7.4l0.7 -1.1l0.7 6.2l0.7 -11.1l0.7 5.7l0.7 1.8l0.7 -0.1l0.7 -4.1l0.7 0.9l0.7 11.8l0.7 -11l0.7 -3.9l0.7 -1l0.7 10.9l0.7 -9.2l0.7 15.9l0.7 -7l0.7 -5.4l0.7 -0.1l0.7 3l0.7 10.2l0.7 -3.8l0.7 0l0.7 -6.7l0.7 2l0.7 1l0.7 -0.1l0.7 5.7l0.7 -8.9l0.7 19.1l0.7 -16l0.7 6.7l0.7 -5.7l0.7 0l0.7 13.1l0.7 -8.7l0.7 1.1l0.7 -0.1l0.7 -4.4l0.7 -0.1l0.7 8l0.7 3.8l0.7 -5.1l0.7 10.4l0.7 -8l0.7 6.4l0.7 -4l0.7 8.1l0.7 -8.1l0.7 -2.5l0.7 -0.1l0.7 5l0.7 -7.3l0.7 8.6l0.7 -14.1l0.7 5.5l0.7 3.5l0.7 -0.1l0.7 12l0.7 -15.4l0.7 11.1l0.7 -12.2l0.7 4.5l0.7 2.4l0.7 -4.7l0.7 -1.1l0.7 18l0.7 0l0.7 -7.1l0.7 -5l0.7 7.7l0.7 -5.3l0.7 -1.2l0.7 2.5l0.7 -2.5l0.7 9.2l0.7 -6.7l0.7 -2.4l0.7 6.3l0.7 4.2l0.7 -2.8l0.7 1.4l0.7 -4.1l0.7 -6.1l0.7 8.8l0.7 -6.4l0.7 9.2l0.7 -7.9l0.7 10.8l0.7 -2.9l0.7 -2.7l0.7 2.7l0.7 0.1l0.7 10.7l0.7 -20.9l0.7 8.8l0.8 -1.3l0.7 0l0.7 1.4l0.7 -1.3l0.7 2.7l0.7 -2.7l0.7 2.7l0.7 0.1l0.7 4.2l0.7 1.5l0.7 -10.9l0.7 19l0.7 -15.1l0.7 8.6l0.7 -3l0.7 -1.4l0.7 -10.2l0.7 19.4l0.7 -11.8l0.7 8.6l0.7 -7.2l0.7 2.8l0.7 -5.4l0.7 13.1l0.7 -14.3l0.7 4l0.7 4.2l0.7 -4.2l0.7 15.5l0.7 -9.7l0.7 -4.3l0.7 12.3l0.7 7.3l0.7 -15.2l0.7 8l0.7 -3.3l0.7 0l0.7 -4.5l0.7 -2.9l0.7 2.9l0.7 7.9l0.7 -4.8l0.7 3.2l0.7 8.8l0.7 -8.7l0.7 8.7l0.7 -11.8l0.7 3.2l0.7 -4.6l0.7 1.5l0.7 4.8l0.7 -1.6l0.7 -10.2l0.7 11.9l0.7 -14.4l0.7 14.5l0.7 8.9l0.7 -10.5l0.7 -4.5l0.7 6.2l0.7 1.7l0.7 -12l0.7 5.7l0.7 3.2l0.7 3.3l0.7 -3.2l0.7 1.6l0.7 3.4l0.7 -10.9l0.7 11l0.7 0l0.7 -7.9l0.7 13.4l0.7 -10.3l0.7 8.5l0.7 -1.7l0.7 1.8l0.7 5.8l0.7 2l0.7 -14.5l0.7 12.6l0.7 0l0.7 -10.8l0.7 5.2l0.7 -1.7l0.7 16l0.7 -6.5l0.7 -5.8l0.7 0l0.7 -5.2l0.7 5.3l0.7 0.1l0.7 3.9l0.7 -10.8l0.7 12.8l0.7 -14.3l0.7 16.5l0.7 -7.8l0.7 -5.3l0.7 7.2l0.7 4l0.7 -5.8l0.7 -10l0.7 3.2l0.7 12.8l0.7 2.1l0.7 -2l0.7 0l0.7 0.1l0.7 -7.5l0.7 5.6l0.7 -7.3l0.7 3.6l0.7 3.8l0.7 4.1l0.7 -2l0.7 -9.2l0.7 7.3l0.7 -5.5l0.7 7.6l0.7 -12.5l0.7 12.6l0.7 0l0.7 6.5l0.7 -10.2l0.7 3.9l0.7 2.1l0.7 -14.5l0.7 6.9l0.7 14.3l0.7 -16l0.7 7.5l0.7 2.1l0.7 4.3l0.7 0.1l0.7 0.1l0.7 -2.1l0.7 -2.1l0.7 -9.4l0.7 3.6l0.7 -5.3l0.7 7.3l0.7 -1.8l0.7 5.9l0.7 6.6l0.7 -6.5l0.7 2.2l0.7 -11.5l0.7 7.5l0.7 0l0.7 8.7l0.7 -8.6l0.7 4.2l0.7 9.3l0.7 -4.8l0.7 10.2l0.7 -14.4l0.7 0l0.7 2.2l0.7 0.1l0.7 2.3l0.7 2.4l0.7 -14.6l0.7 10.1l0.7 4.6l0.7 -2.2l0.7 -6.5l0.7 16.6l0.7 -16.5l0.7 8.9l0.7 7.8l0.7 -2.6l0.7 -9.6l0.7 -2l0.7 -9.8l0.7 19.1l0.7 -9.2l0.7 4.5l0.7 -6.4l0.7 4.2l0.7 7.1l0.7 5.4l0.7 -12.2l0.7 0l0.7 9.6l0.7 0.1l0.7 2.7l0.7 -7.5l0.7 2.4l0.7 -2.4l0.7 0.1l0.7 0.1l0.7 10.5l0.7 -15l0.7 -2.1l0.7 4.5l0.7 4.8l0 24.7l-0.7 -3.8l-0.7 3.6l-0.7 -7.2l-0.7 12.6l-0.7 -12.8l-0.7 3.5l-0.7 -3.6l-0.7 12.9l-0.7 -5.8l-0.7 -7.3l-0.7 13.1l-0.7 -16.5l-0.7 10.5l-0.7 6l-0.7 -6.1l-0.7 -3.8l-0.7 -3.6l-0.7 -6.5l-0.7 20l-0.7 -6.4l-0.7 -13.7l-0.7 17.5l-0.7 -11.2l-0.7 13.8l-0.7 0l-0.7 0l-0.7 -17.4l-0.7 6.8l-0.7 0l-0.7 -15.8l-0.7 19.4l-0.7 7l-0.7 -17.7l-0.7 10.5l-0.7 4l-0.7 3.2l-0.7 -21l-0.7 6.4l-0.7 3.5l-0.7 -13.1l-0.7 9.4l-0.7 0l-0.7 11.3l-0.7 -7.9l-0.7 -6.9l-0.7 0l-0.7 -6.2l-0.7 24.5l-0.7 -24.6l-0.7 9.4l-0.7 -3.4l-0.7 10.7l-0.7 -0.1l-0.7 -13.9l-0.7 0l-0.7 3.1l-0.7 14.8l-0.7 -8l-0.7 7.9l-0.7 -18l-0.7 22.1l-0.7 -19l-0.7 10.7l-0.7 -14l-0.7 0l-0.7 -3.1l-0.7 13.2l-0.7 -13.3l-0.7 3l-0.7 0l-0.7 0l-0.7 -0.1l-0.7 -3l-0.7 9.5l-0.7 -9.6l-0.7 3l-0.7 3.2l-0.7 -21.8l-0.7 21.7l-0.7 7l-0.7 -16.2l-0.7 5.9l-0.7 -3.1l-0.7 -2.9l-0.7 -0.1l-0.7 -5.4l-0.7 14.6l-0.7 -9.3l-0.7 9.2l-0.7 3.5l-0.7 -6.8l-0.7 -3.1l-0.7 3.1l-0.7 -8.8l-0.7 8.8l-0.7 3.2l-0.7 -17.3l-0.7 14l-0.7 -16.5l-0.7 31l-0.7 -23.4l-0.7 2.8l-0.7 2.9l-0.7 -3l-0.7 -5.5l-0.7 5.5l-0.7 -8.1l-0.7 11l-0.7 -3l-0.7 3l-0.7 3.2l-0.7 -3.2l-0.7 3.2l-0.7 -9.1l-0.7 12.4l-0.7 -12.4l-0.7 -12.5l-0.7 25l-0.7 -6.6l-0.7 -13.8l-0.7 10.7l-0.7 -15.5l-0.7 4.7l-0.7 7.9l-0.7 -5.4l-0.7 11.4l-0.7 -23l-0.7 19.9l-0.7 -15.6l-0.7 -2.3l-0.7 9.6l-0.7 5.4l-0.7 -2.8l-0.7 0l-0.7 -10l-0.7 10l-0.7 2.9l-0.7 -8.1l-0.7 2.6l-0.7 2.7l-0.7 0l-0.7 5.9l-0.7 -20.6l-0.7 23.8l-0.7 -9.1l-0.7 0.1l-0.7 -14.8l-0.7 9.4l-0.7 -11.6l-0.7 11.6l-0.7 -4.9l-0.7 5l-0.7 2.7l-0.7 -12.2l-0.7 2.2l-0.7 -6.5l-0.7 4.3l-0.7 2.2l-0.7 -8.5l-0.7 0l-0.7 6.3l-0.7 18.3l-0.7 -16l-0.7 -2.3l-0.7 4.7l-0.7 0l-0.7 2.6l-0.7 -7.2l-0.7 4.7l-0.7 8l-0.7 -23.1l-0.7 12.8l-0.7 10.5l-0.7 -10.4l-0.7 -4.6l-0.7 2.3l-0.7 2.4l-0.7 5.1l-0.7 -5l-0.7 7.9l-0.7 -20.9l-0.7 6.2l-0.7 -4.2l-0.7 -7.6l-0.7 9.7l-0.7 4.5l-0.7 -4.4l-0.7 0l-0.7 -2l-0.7 6.6l-0.7 2.4l-0.7 0.1l-0.7 -4.6l-0.7 -8.4l-0.7 18.4l-0.7 -16.3l-0.8 -2l-0.7 13.4l-0.7 -13.3l-0.7 -5.6l-0.7 -5.2l-0.7 7.1l-0.7 8.1l-0.7 -9.9l-0.7 5.8l-0.7 28.6l-0.7 -24.2l-0.7 -11.8l-0.7 9.8l-0.7 2.3l-0.7 -8.3l-0.7 -1.8l-0.7 12.7l-0.7 -4.5l-0.7 0.1l-0.7 7.1l-0.7 -13.2l-0.7 4.3l-0.7 11.8l-0.7 -21.6l-0.7 5.9l-0.7 2.1l-0.7 -11.3l-0.7 -4.9l-0.7 5.1l-0.7 7.5l-0.7 -7.4l-0.7 9.6l-0.7 -5.8l-0.7 6l-0.7 -9.5l-0.7 5.7l-0.7 4.3l-0.7 0.1l-0.7 7.1l-0.7 -16.7l-0.7 0.1l-0.7 -13l-0.7 21.1l-0.7 -7.8l-0.7 2.1l-0.7 -10.5l-0.7 14.8l-0.7 -19.3l-0.7 8.1l-0.7 11.8l-0.7 0.2l-0.7 -19.8l-0.7 12l-0.7 0.2l-0.7 6.3l-0.7 -14.8l-0.7 9l-0.7 -23.4l-0.7 18.2l-0.7 2l-0.7 4l-0.7 -7.3l-0.7 3.9l-0.7 -8.7l-0.7 -6l-0.7 9.9l-0.7 3.7l-0.7 -10.1l-0.7 5.1l-0.7 -8l-0.7 16.1l-0.7 -3.8l-0.7 -10.3l-0.7 -10l-0.7 5.8l-0.7 3.2l-0.7 10.4l-0.7 -1.7l-0.7 -12.9l-0.7 4.7l-0.7 12.5l-0.7 2.1l-0.7 -9.2l-0.7 -17.6l-0.7 16.2l-0.7 -3.1l-0.7 26.2l-0.7 -33.4l-0.7 7.7l-0.7 -1.4l-0.7 -15l-0.7 7.9l-0.7 -5.2l-0.7 9.9l-0.7 8.2l-0.7 -16.4l-0.7 4.2l-0.7 -3.8l-0.7 -2.5l-0.7 4l-0.7 -3.7l-0.7 9.8l-0.7 -6.9l-0.7 -7.3l-0.7 9l-0.7 -9.9l-0.7 3.7l-0.7 -0.9l-0.7 6.5l-0.7 -12l-0.7 1.1l-0.7 1.4l-0.7 -6.4l-0.7 7.9l-0.7 -4.4l-0.7 6l-0.7 1.3l-0.7 -5.6l-0.7 3.6l-0.7 -4.4l-0.7 -2.1l-0.7 0.2l-0.7 -0.9l-0.7 20.4l-0.7 -16.7l-0.7 2.4l-0.7 -8.6l-0.7 7.9l-0.7 3.6l-0.7 -10.9l-0.7 -1.8l-0.7 4.3l-0.7 -8.7l-0.7 3.9l-0.7 2.1l-0.7 12.8l-0.7 -23.4l-0.7 9.2l-0.7 -7.3l-0.7 4.9l-0.7 -6.2l-0.7 2.8l-0.7 7.8l-0.7 -6.6l-0.7 -0.6l-0.7 2l-0.7 -3.5l-0.7 3.9l-0.7 -5.3l-0.7 -1.4l-0.7 9.2l-0.7 -14.4l-0.7 0.9l-0.7 19.7l-0.7 -4.1l-0.7 -15.9l-0.7 7.7l-0.7 -7.9l-0.7 7.6l-0.7 8.9l-0.7 -22.6l-0.7 -5.1l-0.7 3.4l-0.7 1.7l-0.7 7.4l-0.7 -11l-0.7 14l-0.7 -5.4l-0.7 2.5l-0.7 -7.2l-0.7 -3.6l-0.7 2.8l-0.7 -10.4l-0.7 10.1l-0.7 -2.4l-0.7 -2.3l-0.7 0.2l-0.7 0.7l-0.7 9.4l-0.7 -13.8l-0.7 -5l-0.7 -0.7l-0.7 4.5l-0.7 -2l-0.7 2l-0.7 -6.8l-0.7 -0.4l-0.7 11.3l-0.7 -12.4l-0.7 1.7l-0.7 -4.7l-0.7 5.7l-0.7 0.6l-0.7 -3.8l-0.7 8.9l-0.7 -5.9l-0.7 -5.6l-0.7 -1.7l-0.7 18.3l-0.7 -13.5l-0.7 -6.1l-0.7 -1l-0.7 -0.7l-0.7 7.1l-0.7 -3.9l-0.7 -2.6l-0.7 3.6l-0.7 -4.3l-0.7 -0.7l-0.7 5.8l-0.7 -5.3l-0.7 -6.7l-0.7 -0.9l-0.7 4.2l-0.7 -4.8l-0.7 -3.4l-0.7 4.6l-0.7 -3.6l-0.7 4.7l-0.7 -5.3l-0.7 7.1l-0.7 -6.6l-0.7 -0.8l-0.7 0.5l-0.7 0.1l-0.7 -7.8l-0.7 2l-0.7 6.2l-0.7 -6.6l-0.7 3.6l-0.7 -3.8l-0.7 -0.9l-0.7 1.1l-0.7 -7.1l-0.7 3.5l-0.7 2l-0.7 1.7l-0.7 -9.4l-0.7 0.8l-0.7 -0.3l-0.7 2.7l-0.7 2.4l-0.7 -7.4l-0.7 0l-0.7 -2.4l-0.7 0.1l-0.7 3.2l-0.7 -0.8l-0.7 -3.5l-0.7 -1.3l-0.7 2l-0.7 -3l-0.7 0.6l-0.7 -5.2l-0.7 14.8l-0.7 -17.8l-0.7 3.1l-0.7 -1.4l-0.7 5.1l-0.7 -9.6l-0.7 3.2l-0.7 -3.1l-0.7 1.8l-0.7 2.3l-0.7 -1.6l-0.7 -6l-0.7 -1.4l-0.7 2.3l-0.7 -2l-0.7 1.7l-0.7 -6.2l-0.7 4.2l-0.7 -8.1l-0.7 3.9l-0.7 5.3l-0.7 -4.4l-0.7 -6.7l-0.7 -0.9l-0.7 2l-0.7 -5.5l-0.7 4.7l-0.7 -1.7l-0.7 2.9l-0.7 -5.1l-0.7 -2.9l-0.7 5.2l-0.7 -4.1l-0.7 1.5l-0.7 -4.3l-0.7 0.6l-0.7 -1.6l-0.7 -1.3l-0.7 0.1l-0.7 0.3l-0.7 -0.1l-0.7 -3.4l-0.7 3.9l-0.7 -5.9l-0.7 0.6l-0.7 -4.2l-0.7 0.4l-0.7 -0.4l-0.7 -0.1l-0.7 0.1l-0.7 1.1l-0.7 -3.5l-0.7 -1.1l-0.7 0.8l-0.7 -4.4l-0.7 -2.3l-0.7 0.8l-0.7 2.3l-0.7 -5.6l-0.7 1l-0.7 -0.9l-0.7 -1.3l-0.7 -1.3l-0.7 1.8l-0.7 -2.1l-0.7 -0.8l-0.7 -0.7l-0.7 -3.7l-0.7 -0.9l-0.7 -0.5l-0.7 3l-0.7 -1.9l-0.7 -1.8l-0.7 -0.7l-0.7 -2.4l-0.7 0.8l-0.7 -0.7l-0.7 -3.3l-0.7 -0.3l-0.7 -0.4l-0.7 -0.7l-0.7 -3.3l-0.7 3.2l-0.7 -2.8l-0.7 -1.4l-0.7 -2.8l-0.7 -0.1l-0.7 0.8l-0.7 -2.2l-0.7 -0.2l-0.7 -2.3l-0.7 -1.1l-0.7 1l-0.7 -2.9l-0.7 0.6l-0.7 -1l-0.7 -1.1l-0.7 0.2l-0.7 -1.6l-0.7 -0.8l-0.7 -1.5l-0.7 -3.7l-0.7 3.2l-0.7 -2.8l-0.7 0.9l-0.7 -3.1l-0.7 1.6l-0.7 -3.3l-0.7 -2.4l-0.7 -0.2l-0.7 0.6l-0.7 -0.4l-0.7 -1.2l-0.7 -0.5l-0.7 -1.2l-0.7 -5.4l-0.7 5.4l-0.7 -2.4l-0.7 -0.5l-0.7 -4.9l-0.7 1.1l-0.7 -1.1l-0.7 -0.6l-0.7 -0.1l-0.7 -2.4l-0.7 -0.5l-0.7 -1.3l-0.7 0.6l-0.7 -2.5l-0.7 -0.5l-0.7 -2.4l-0.7 -0.1l-0.7 -2.2l-0.7 1.6l-0.7 -1.6l-0.7 -2l-0.7 -1.4l-0.8 0.5l-0.7 -1.4l-0.7 -2.1l-0.7 0l-0.7 -1.8l-0.7 0.1l-0.7 -0.8l-0.7 -1.7l-0.7 -1.1l-0.7 -0.5l-0.7 -0.9l-0.7 0.2l-0.7 -2l-0.7 -1l-0.7 -1.6l-0.7 -1l-0.7 -0.6l-0.7 -0.8l-0.7 -0.4l-0.7 -2.1l-0.7 -0.6l-0.7 -1.8l-0.7 0.4l-0.7 -2.1l-0.7 -1.8l-0.7 1.1l-0.7 -1.7l-0.7 -0.9l-0.7 -2.2l-0.7 -0.3l-0.7 -0.8l-0.7 -0.9l-0.7 -0.9l-0.7 -1.1l-0.7 -1.4l-0.7 -1.6l-0.7 -2.1l-0.7 -1.9l-0.7 -1.7l-0.7 -0.1l-0.7 -3.5l-0.7 -1.1l-0.7 -3.2l-0.7 -3.3l-0.7 -3.8l-0.7 -3.2l-0.7 -2.5l-0.7 -1.9l-0.7 -0.4l-0.7 -0.1l-0.7 -0.5l-0.7 -1.1l-0.7 -0.2l-0.7 0.5l-0.7 -0.6l-0.7 0.4l-0.7 0.2l-0.7 -0.8l-0.7 1.5l-0.7 0.9l-0.7 1.1l-0.7 0.7l-0.7 2l-0.7 1.7l-0.7 2.1l-0.7 3.7l-0.7 4.4l-0.7 5l-0.7 6.7l-0.7 5.2l-0.7 7.8l-0.7 8.8l-0.7 8.3l-0.7 14.4l-0.7 16.4l-0.7 22l-0.7 29.8l-0.7 29.4l-0.7 48.4l-0.7 35.6l-0.7 56.3l-0.7 58.7l-0.7 18.8l-0.7 0l-0.7 -11.4l-0.7 11.4l-0.7 0l-0.7 -4l-0.7 -3.8l-0.7 3.8l-0.7 -3.8l-0.7 7.8l-0.7 0l-0.7 0l-0.7 -11.4l-0.7 11.4l-0.7 0l-0.7 0l-0.7 0l-0.7 -4l-0.7 -10.8l-0.7 14.8l-0.7 0l-0.7 0l-0.7 0l-0.7 0l-0.7 -11.4l-0.7 11.4l-0.7 0l-0.7 0l-0.7 0l-0.7 -4l-0.7 4l-0.7 0l-0.7 -4l-0.7 4l-0.7 0l-0.7 0l-0.7 -7.8l-0.7 -3.6l-0.7 11.4l-0.7 0l-0.7 0l-0.7 -14.8l-0.7 14.8l-0.7 0l-0.7 0l-0.7 0l-0.7 0l-0.7 0l-0.7 0l-0.7 0l-0.7 0l-0.7 0l-0.7 0l-0.7 -4l-0.7 4l-0.7 -14.8l-0.7 3.4l-0.7 11.4l-0.7 0l-0.7 0l-0.7 0l-0.7 0l-0.7 0l-0.7 -4l-0.7 4l-0.7 0l-0.7 0l-0.7 -11.4l-0.7 11.4l-0.7 0l-0.7 0l-0.7 0l-0.7 0l-0.7 0l-0.7 0l-0.7 -4l-0.7 4l-0.7 -20.9l-0.7 13.1l-0.7 7.8l-0.7 0l-0.7 0l-0.7 -4l-0.7 0l-0.7 4l-0.7 -4l-0.7 4l-0.7 0l-0.7 -4l-0.7 4l-0.7 0l-0.7 -7.8l-0.7 7.8l-0.7 -11.4l-0.7 11.4l-0.7 0l-0.7 0l-0.7 -14.8l-0.7 7l-0.7 7.8l-0.7 -7.8l-0.7 -7l-0.7 14.8l-0.7 0l-0.7 0l-0.7 0l-0.7 -4l-0.7 4l-0.7 0l-0.7 0l-0.7 0l-0.7 0l-0.7 -4l-0.7 4l-0.7 -11.4Z" fill="#00ffff" stroke="#00ffff" stroke-width="1.32" stroke-linejoin="round"/><path d="M843.0 1400.7l0.7 -5.6l0.7 -19.9l0.7 12.5l0.7 0l0.7 7.4l0.7 5.6l0.7 -8.2l0.7 2.6l0.7 2.7l0.7 -5.3l0.7 -4.8l0.7 16l0.7 -22.6l0.7 4.3l0.7 12.4l0.7 -5.3l0.7 -4.8l0.7 13l0.7 -10.6l0.7 2.4l0.7 5.3l0.7 0l0.7 -2.7l0.7 -14l0.7 11.4l0.7 5.3l0.7 5.9l0.7 -5.9l0.7 0l0.7 -10.1l0.7 2.4l0.7 7.7l0.7 2.9l0.7 -13l0.7 0l0.7 0l0.7 -4.5l0.7 4.5l0.7 10.1l0.7 -14.6l0.7 2.2l0.7 4.7l0.7 -2.4l0.7 0l0.7 13l0.7 -10.6l0.7 5l0.7 2.7l0.7 -5.3l0.7 -2.4l0.7 -4.7l0.7 0l0.7 12.4l0.7 -2.7l0.7 8.6l0.7 -16l0.7 -2.3l0.7 15.3l0.7 -8.2l0.7 5.3l0.7 -2.7l0.7 -2.6l0.7 11.2l0.7 -16l0.7 26.1l0.7 -18.7l0.7 8.6l0.7 -5.9l0.7 -7.7l0.7 7.7l0.7 2.9l0.7 -2.9l0.7 -14.6l0.7 -8l0.7 19.9l0.7 5.6l0.7 -15.3l0.7 12.4l0.7 -12.4l0.7 15.3l0.7 -2.9l0.7 5.9l0.7 -3l0.7 3l0.7 -11.2l0.7 0l0.7 -9.3l0.7 14.6l0.7 -2.7l0.7 -2.6l0.7 -9.3l0.7 6.9l0.7 7.7l0.7 0l0.7 9.1l0.7 -6.2l0.7 -5.6l0.7 0l0.7 -2.6l0.7 0l0.7 8.2l0.7 6.2l0.7 -16.8l0.7 0l0.7 13.6l0.7 -30.3l0.7 14.3l0.7 4.8l0.7 0l0.7 0l0.7 -11.4l0.7 -4l0.7 6.1l0.7 23.7l0.7 -65.7l0.7 -35.8l0.7 -56l0.7 -37.3l0.7 -31l0.7 -31.1l0.7 -26.7l0.7 -15.7l0.7 -13.3l0.7 -10.5l0.7 -7.3l0.7 -8.1l0.7 -6.3l0.7 -4.8l0.7 -4.7l0.7 -5.6l0.7 -5.2l0.7 -2.2l0.7 -2l0.7 -1.8l0.7 -1.6l0.7 -0.6l0.7 -1.8l0.7 -0.3l0.7 -0.1l0.7 -0.3l0.7 0l0.7 0l0.7 0l0.7 0l0.7 0l0.7 0l0.7 0l0.7 1.5l0.7 0.7l0.7 -0.6l0.7 1.7l0.7 3.5l0.7 5.6l0.7 2.7l0.7 1.5l0.7 2.4l0.7 3.5l0.7 1.3l0.7 0.3l0.7 2.9l0.7 0.6l0.7 1.8l0.7 1.1l0.7 1.5l0.7 1.4l0.7 -1l0.7 3.5l0.7 0.2l0.7 0.9l0.7 2.6l0.7 -1.1l0.7 1.5l0.7 1.4l0.7 0.4l0.7 1.1l0.7 1.3l0.7 1l0.7 -1.1l0.7 2.5l0.7 1.5l0.7 0.4l0.7 0.4l0.7 2.9l0.7 -1.2l0.7 1.7l0.7 0.9l0.7 0.9l0.7 2.5l0.7 -0.5l0.7 1.2l0.7 0.4l0.7 1.1l0.7 2.9l0.7 0.5l0.7 -0.1l0.7 0.2l0.8 1.1l0.7 1.9l0.7 -1l0.7 1.5l0.7 0.5l0.7 3l0.7 -1.5l0.7 2.9l0.7 1.5l0.7 0.5l0.7 -0.7l0.7 2.4l0.7 1.2l0.7 -0.5l0.7 2.9l0.7 -1.6l0.7 3.5l0.7 -1.2l0.7 2.8l0.7 -2.5l0.7 3l0.7 2.2l0.7 1.8l0.7 -1.8l0.7 4.6l0.7 -2.3l0.7 0.4l0.7 3l0.7 -0.9l0.7 2.6l0.7 1l0.7 0.7l0.7 1.3l0.7 -0.3l0.7 2.9l0.7 0.5l0.7 -2.4l0.7 2.7l0.7 1.9l0.7 0.8l0.7 0.4l0.7 2l0.7 -1.8l0.7 2.4l0.7 3.7l0.7 -2l0.7 1.7l0.7 -0.6l0.7 -0.9l0.7 5.9l0.7 -1l0.7 0l0.7 1.9l0.7 1.2l0.7 0.8l0.7 0.7l0.7 2.2l0.7 -1l0.7 0.8l0.7 0.5l0.7 1.4l0.7 -0.2l0.7 1.6l0.7 1.3l0.7 0.2l0.7 0.4l0.7 2.1l0.7 1.4l0.7 0l0.7 2.8l0.7 0.5l0.7 -0.9l0.7 0.5l0.7 1.1l0.7 3.1l0.7 -0.3l0.7 -1.1l0.7 3.2l0.7 -2.3l0.7 2.6l0.7 -1.6l0.7 4l0.7 -1.2l0.7 5.9l0.7 -2.8l0.7 1.7l0.7 4.2l0.7 -0.9l0.7 -3.9l0.7 4.9l0.7 3l0.7 -2l0.7 1.6l0.7 1.3l0.7 -3.2l0.7 4.4l0.7 0.8l0.7 -0.8l0.7 0.5l0.7 0.9l0.7 -0.7l0.7 6.4l0.7 -0.5l0.7 -1l0.7 2.6l0.7 -1.2l0.7 -1.8l0.7 4.4l0.7 -1l0.7 1.4l0.7 0.8l0.7 1.4l0.7 -0.7l0.7 0.1l0.7 2.1l0.7 2.8l0.7 -1l0.7 -0.1l0.7 0.6l0.7 4.1l0.7 -4.1l0.7 4l0.7 -0.5l0.7 2.5l0.7 0.4l0.7 1.5l0.7 1l0.7 2.6l0.7 -3.5l0.7 0l0.7 2.3l0.7 2.3l0.7 2.9l0.7 -3l0.7 2.4l0.7 -1l0.7 1.1l0.7 0.6l0.7 4.5l0.7 0.8l0.7 -7.1l0.7 7.1l0.7 -0.4l0.7 -3.8l0.7 1.3l0.7 4.2l0.7 3.1l0.7 -0.3l0.7 1.5l0.7 0.9l0.7 2.6l0.7 -1.3l0.7 -3.7l0.7 3.9l0.7 0.4l0.7 -1.5l0.7 -0.4l0.7 6.2l0.7 -3.3l0.7 3.6l0.7 0.7l0.7 0.9l0.7 -2.3l0.7 3.5l0.7 -2.9l0.7 6.5l0.7 -5.3l0.7 3.6l0.7 -0.7l0.7 -1.4l0.7 2.3l0.7 4.8l0.7 -2.9l0.7 -1.9l0.7 1.5l0.7 -1.1l0.7 1.6l0.7 4.9l0.7 0.1l0.7 -0.7l0.7 2.2l0.7 -3l0.7 3.7l0.7 -2l0.7 -6.5l0.7 14l0.7 -6l0.7 2.2l0.7 1.1l0.7 2.4l0.7 0.5l0.7 0.5l0.7 -0.5l0.7 0.3l0.7 -6l0.7 10.1l0.7 -2.9l0.7 0.7l0.7 -2.4l0.7 7.4l0.7 -1.7l0.7 1.4l0.7 -3.7l0.7 0.6l0.7 2.2l0.7 5.2l0.7 -1.8l0.7 -0.1l0.7 2.9l0.7 -8.5l0.7 4.3l0.7 2.8l0.7 -2.4l0.7 5.2l0.7 -0.1l0.7 2l0.7 -3.7l0.7 -3.3l0.7 4.3l0.7 3.1l0.7 -0.2l0.7 6.5l0.7 0.9l0.7 -1.2l0.7 0.2l0.7 -5.7l0.7 6.6l0.7 -4.8l0.7 3.9l0.7 -3.2l0.7 8.6l0.7 -5.3l0.7 0.4l0.7 0.4l0.7 -4.8l0.7 3.5l0.7 0.3l0.7 -0.6l0.7 5.4l0.7 -2.5l0.7 3.9l0.7 -2.4l0.7 7l0.7 6l0.7 -14.6l0.7 10.2l0.7 3.2l0.7 -18.4l0.7 12.2l0.7 5.1l0.7 -10.8l0.7 9.9l0.7 -4.1l0.7 5.9l0.7 -12.1l0.7 13.2l0.7 -7.4l0.7 -0.8l0.7 5.8l0.7 3.3l0.7 -0.9l0.7 0.6l0.7 -7.6l0.7 6l0.7 -8l0.7 14.4l0.7 -6.1l0.7 0.6l0.7 3.5l0.7 -3.8l0.7 2.9l0.7 -2.4l0.7 -1.4l0.7 1.9l0.7 3.6l0.7 -1.6l0.7 -2.3l0.7 3.6l0.7 2.2l0.7 -4.7l0.7 2.1l0.7 3.1l0.7 2.3l0.7 -1.8l0.7 4.1l0.7 -6.6l0.7 6.3l0.7 -0.8l0.7 -3.5l0.7 -1.7l0.7 0.7l0.7 1.5l0.7 -0.1l0.7 -0.9l0.7 1.5l0.7 -1.6l0.7 6.5l0.7 1.8l0.7 -7.9l0.7 -0.9l0.7 6.6l0.7 4.5l0.7 -8.1l0.7 15l0.7 -14.3l0.7 5.1l0.7 3.7l0.7 -8.2l0.7 15.3l0.7 -17.2l0.7 5.1l0.7 3.5l0.7 -2.9l0.7 4.7l0.7 4l0.7 -7l0.7 -5.4l0.7 13.1l0.7 -5.2l0.7 -4.7l0.7 14.1l0.7 -11.5l0.7 11.3l0.7 -10.5l0.7 -1.1l0.7 9l0.7 -5.3l0.7 1.9l0.7 -4l0.7 6l0.7 -2.2l0.7 10l0.7 -13.2l0.7 13l0.7 2.4l0.7 -2.5l0.7 -7l0.7 2.1l0.7 9.7l0.7 -20l0.7 14.7l0.7 -8.8l0.7 5.3l0.7 5.8l0.7 1.2l0.7 -1.4l0.7 -4.7l0.7 1.1l0.7 4.7l0.7 1.2l0.7 -4.8l0.7 1.1l0.7 4.8l0.7 0l0.7 -2.5l0.7 3.6l0.7 -3.7l0.7 -4.6l0.7 1.1l0.7 5.8l0.7 5.2l0.7 -9.9l0.7 5.9l0.7 -7.1l0.7 -2.1l0.7 -2.1l0.7 3.1l0.7 3.3l0.7 8.5l0.7 -3.8l0.7 -1.2l0.7 3.7l0.7 -12.5l0.7 16.3l0.7 -11l0.7 8.4l0.7 -1.3l0.7 0l0.7 -4.8l0.7 9.9l0.7 5.7l0.7 -17.8l0.7 -2.1l0.7 -3l0.7 13.3l0.7 -5.9l0.7 11.1l0.7 -10l0.7 1.2l0.7 11.5l0.7 -2.8l0.8 -3.9l0.7 8.1l0.7 -6.8l0.7 1.3l0.7 -6.1l0.7 7.4l0.7 -2.6l0.7 -1.2l0.7 10.8l0.7 -14.3l0.7 14.3l0.7 -11.9l0.7 -1.2l0.7 10.2l0.7 1.4l0.7 0l0.7 -13.8l0.7 15.2l0.7 0l0.7 -15.1l0.7 -2.1l0.7 6.8l0.7 -1.2l0.7 10.3l0.7 -1.4l0.7 2.8l0.7 1.4l0.7 -1.4l0.7 -7.9l0.7 1.3l0.7 11.1l0.7 -5.8l0.7 2.8l0.7 -2.8l0.7 10.5l0.7 -13.1l0.7 13.1l0.7 -4.7l0.7 -1.5l0.7 3.1l0.7 0l0.7 -4.4l0.7 6l0.7 -16.3l0.7 10.3l0.7 7.6l0.7 -12.9l0.7 2.7l0.7 -6.3l0.7 5l0.7 -8.4l0.7 7.2l0.7 14.4l0.7 5.1l0.7 -3.4l0.7 -6.3l0.7 -5.7l0.7 -1.3l0.7 10.1l0.7 -4.5l0.7 -5.5l0.7 4.1l0.7 -5.3l0.7 9.8l0.7 -4.4l0.7 10.9l0.7 1.7l0.7 0l0.7 -21.4l0.7 14.9l0.7 -3l0.7 6.3l0.7 1.6l0.7 -1.6l0.7 8.8l0.7 -23l0.7 14.3l0.7 3.4l0.7 -15l0.7 11.7l0.7 1.7l0.7 0l0.7 0l0.7 -1.6l0.7 3.4l0.7 -3.3l0.7 12.5l0.7 0l0.7 -7.4l0.7 -1.7l0.7 -9.3l0.7 3l0.7 -1.4l0.7 6.2l0.7 -3.1l0.7 1.6l0.7 0l0.7 0.1l0.7 5l0.7 -3.4l0.7 7l0.7 5.8l0.7 -14.2l0.7 1.6l0.7 5.1l0.7 -1.7l0.7 7.4l0.7 -20.9l0.7 17.2l0.7 5.7l0.7 -12.5l0.7 1.7l0.7 9l0.7 -8.9l0.7 5.2l0.7 -3.4l0.7 1.7l0.7 0.1l0.7 7.5l0.7 -3.9l0.7 0.1l0.7 -3.6l0.7 13.8l0.7 -6.2l0.7 -10.8l0.7 14.9l0.7 -30.4l0.7 30.5l0.7 -4l0.7 2l0.7 2.1l0.7 -4l0.7 0l0.7 -5.5l0.7 -1.7l0.7 -4.9l0.7 10.4l0.7 -5.4l0.7 3.6l0.7 -1.8l0.7 9.7l0.7 -9.5l0.7 -1.7l0.7 -10.9l0.7 18.3l0.7 -7.3l0.7 5.5l0.7 1.9l0.7 4.1l0.7 -4l0.7 -1.8l0.7 17.5l0.7 -13.5l0.7 4.2l0.7 -8l0.7 -5.3l0.7 13.4l0.7 -16.6l0.7 18.9l0.7 -8.2l0.7 6.1l0.7 -11.5l0.7 0l0.7 1.8l0.7 5.8l0.7 -3.8l0.7 10.2l0.7 -2.1l0.7 -4.1l0.7 -5.7l0.7 0.1l0.7 5.7l0.7 8.7l0.7 -4.4l0.7 -4.1l0.7 2.1l0.7 -3.9l0.7 -5.5l0.7 -1.6l0.7 7.2l0.7 10.6l0.7 2.4l0.7 -2.3l0.7 -6.5l0.7 2.2l0.7 0.1l0.7 -2.1l0.7 4.4l0.7 -4.3l0.7 4.4l0.7 -8.2l0.7 4l0.7 6.6l0.7 2.4l0.7 -14.7l0.7 6l0.7 6.5l0 22.3l-0.7 -15l-0.7 18.4l-0.7 7.7l-0.7 -11.3l-0.7 -6.5l-0.7 13.7l-0.7 4l-0.7 -0.1l-0.7 -7.8l-0.7 -10.1l-0.7 6.4l-0.7 7.3l-0.7 -16.8l-0.7 2.9l-0.7 0l-0.7 6.4l-0.7 0l-0.7 3.5l-0.7 -7l-0.7 6.9l-0.7 3.8l-0.7 -13.9l-0.7 21.9l-0.7 -8.1l-0.7 -7.4l-0.7 -12.4l-0.7 -5.4l-0.7 21.2l-0.7 -10.1l-0.7 -3.1l-0.7 25.3l-0.7 -12.2l-0.7 -3.6l-0.7 -3.4l-0.7 -3.3l-0.7 22.5l-0.7 -28.4l-0.7 9l-0.7 -14.5l-0.7 21.5l-0.7 -3.7l-0.7 -3.4l-0.7 -9.1l-0.7 12.4l-0.7 16.2l-0.7 -16.2l-0.7 -15.4l-0.7 -2.6l-0.7 -2.6l-0.7 10.8l-0.7 -2.9l-0.7 2.8l-0.7 13.4l-0.7 -16.3l-0.7 -5.5l-0.7 2.6l-0.7 23.1l-0.7 -28.3l-0.7 2.5l-0.7 -2.6l-0.7 -2.4l-0.7 7.6l-0.7 8.7l-0.7 -6l-0.7 9.3l-0.7 0l-0.7 -3.3l-0.7 3.3l-0.7 -17.5l-0.7 0l-0.7 5.2l-0.7 -7.7l-0.7 19.9l-0.7 3.6l-0.7 -26l-0.7 4.8l-0.7 14.3l-0.7 3.3l-0.7 -12.3l-0.7 15.9l-0.7 -23.8l-0.7 16.9l-0.7 -9.1l-0.7 -7.8l-0.7 23.9l-0.7 -13.3l-0.7 9.7l-0.7 11.6l-0.7 -24.2l-0.7 6l-0.7 -3.1l-0.7 -17.7l-0.7 17.7l-0.7 -8.3l-0.7 5.4l-0.7 6l-0.7 14.4l-0.7 -23.2l-0.7 -12.2l-0.7 2.2l-0.7 2.4l-0.7 10.4l-0.7 -10.4l-0.7 -0.1l-0.7 0l-0.7 10.6l-0.7 -10.6l-0.7 0l-0.7 0l-0.7 16.8l-0.7 -6.1l-0.7 -2.9l-0.7 2.9l-0.7 -5.6l-0.7 -2.6l-0.7 5.4l-0.7 0l-0.7 -12.6l-0.7 -2.2l-0.7 4.5l-0.7 5l-0.7 5.4l-0.7 16.6l-0.7 -31.5l-0.7 4.5l-0.7 -2.3l-0.7 0l-0.7 10.1l-0.7 -12.3l-0.7 18.2l-0.7 -22.5l-0.7 9l-0.7 0l-0.7 2.5l-0.7 0l-0.7 -15.5l-0.7 15.6l-0.7 -4.9l-0.7 4.9l-0.7 -19.4l-0.7 27.9l-0.7 -5.7l-0.7 -2.6l-0.7 -7.3l-0.7 -4.4l-0.7 9.3l-0.7 -11.4l-0.7 6.6l-0.7 0l-0.7 -4.4l-0.7 4.5l-0.7 -6.6l-0.7 -4l-0.7 4.1l-0.7 4.4l-0.7 10l-0.7 -16.4l-0.7 11.3l-0.7 5.3l-0.7 -10l-0.7 -14.2l-0.7 24.4l-0.7 -26.2l-0.7 0l-0.7 23.8l-0.7 -5.1l-0.7 -9l-0.7 -4l-0.7 2l-0.7 -2l-0.7 2.1l-0.7 -11.1l-0.7 13.3l-0.7 14.6l-0.7 -12.3l-0.7 -2.1l-0.7 0l-0.7 -4.1l-0.7 16.3l-0.7 -20.1l-0.7 0l-0.7 0.1l-0.7 12.8l-0.7 -8.8l-0.7 11.6l-0.7 -11.4l-0.7 -9.5l-0.7 9.6l-0.7 -7.7l-0.7 28l-0.7 -22.1l-0.7 -3.9l-0.7 15.4l-0.7 -9.2l-0.7 -2l-0.7 0.1l-0.8 6.8l-0.7 -16.3l-0.7 0.1l-0.7 9.8l-0.7 -4.1l-0.7 -7.3l-0.7 21l-0.7 -24.3l-0.7 -7.6l-0.7 20.8l-0.7 -9.6l-0.7 12l-0.7 -6.2l-0.7 0.2l-0.7 -9.1l-0.7 18l-0.7 -19.5l-0.7 -1.6l-0.7 8.9l-0.7 4.1l-0.7 -9.4l-0.7 -1.7l-0.7 5.5l-0.7 12.8l-0.7 -19.7l-0.7 1.8l-0.7 11.7l-0.7 4.5l-0.7 -10.3l-0.7 21.1l-0.7 -16.9l-0.7 -5.7l-0.7 -11.9l-0.7 20.4l-0.7 -11.9l-0.7 -1.5l-0.7 -6.6l-0.7 8.7l-0.7 12.5l-0.7 -20.9l-0.7 1.7l-0.7 13.2l-0.7 6.9l-0.7 -14.4l-0.7 2.1l-0.7 -7l-0.7 9.3l-0.7 -12.4l-0.7 -2.9l-0.7 12l-0.7 -5.3l-0.7 -1.5l-0.7 1.9l-0.7 -3.2l-0.7 1.8l-0.7 -6.4l-0.7 1.6l-0.7 -4.4l-0.7 -6.8l-0.7 24.2l-0.7 -9l-0.7 -1.6l-0.7 -1.5l-0.7 -7.5l-0.7 18.5l-0.7 -21.1l-0.7 0.1l-0.7 9l-0.7 -7.3l-0.7 -10.2l-0.7 21.2l-0.7 -10.7l-0.7 -7.7l-0.7 12.4l-0.7 -2.8l-0.7 4.7l-0.7 -2.9l-0.7 -5.6l-0.7 4.4l-0.7 -8.1l-0.7 6.9l-0.7 -10.4l-0.7 9.2l-0.7 4.7l-0.7 -9.7l-0.7 -1.2l-0.7 -3.6l-0.7 18.2l-0.7 -7.5l-0.7 -10.3l-0.7 6.5l-0.7 7.3l-0.7 -13.4l-0.7 3.9l-0.7 -2.4l-0.7 6.7l-0.7 -3.8l-0.7 0.1l-0.7 -1.1l-0.7 -8.2l-0.7 2.4l-0.7 22.7l-0.7 -13.6l-0.7 -14.2l-0.7 2.3l-0.7 -9l-0.7 11.5l-0.7 -3.2l-0.7 3.6l-0.7 -4.4l-0.7 -6.8l-0.7 16.5l-0.7 -8.2l-0.7 8.6l-0.7 -9.2l-0.7 -8l-0.7 3l-0.7 4.4l-0.7 -3l-0.7 7.8l-0.7 -1l-0.7 -9.3l-0.7 3.1l-0.7 9.2l-0.7 -4.5l-0.7 -8.2l-0.7 -3.6l-0.7 -3.4l-0.7 6.5l-0.7 7.5l-0.7 -3.1l-0.7 -15.3l-0.7 6.9l-0.7 -4.9l-0.7 10l-0.7 -4.5l-0.7 -1.6l-0.7 11.8l-0.7 -15.7l-0.7 9l-0.7 -1.6l-0.7 -6.1l-0.7 -5.4l-0.7 1l-0.7 4l-0.7 4.7l-0.7 -11.2l-0.7 12.6l-0.7 -13.8l-0.7 -2l-0.7 14.5l-0.7 -7.4l-0.7 -0.7l-0.7 3.5l-0.7 -6.9l-0.7 -2.7l-0.7 0.1l-0.7 -1.2l-0.7 -0.5l-0.7 0.2l-0.7 8.4l-0.7 -16.9l-0.7 5.8l-0.7 7.8l-0.7 -8.2l-0.7 5.1l-0.7 -4.6l-0.7 4.2l-0.7 -2.6l-0.7 -5l-0.7 0.2l-0.7 3.5l-0.7 -8.4l-0.7 -0.4l-0.7 2.5l-0.7 5.1l-0.7 -2.9l-0.7 -6.2l-0.7 6l-0.7 -9.8l-0.7 1.7l-0.7 2.3l-0.7 6.7l-0.7 -7.9l-0.7 1.8l-0.7 0.4l-0.7 -8.3l-0.7 -2.1l-0.7 -1.3l-0.7 10.9l-0.7 -9l-0.7 3.2l-0.7 -4.7l-0.7 -0.2l-0.7 7.6l-0.7 -7.2l-0.7 -0.3l-0.7 -4.2l-0.7 -0.2l-0.7 -0.7l-0.7 2.7l-0.7 4.1l-0.7 -8.2l-0.7 4.8l-0.7 -5.2l-0.7 17.1l-0.7 -15.1l-0.7 -1.9l-0.7 -3.7l-0.7 8.6l-0.7 -10.8l-0.7 1.7l-0.7 0.3l-0.7 -1.3l-0.7 -1.5l-0.7 2.1l-0.7 0.4l-0.7 -1.1l-0.7 -0.7l-0.7 -5.2l-0.7 0.1l-0.7 -0.5l-0.7 5.5l-0.7 -4.2l-0.7 1.5l-0.7 -4.9l-0.7 2.2l-0.7 -6.2l-0.7 -0.6l-0.7 6.1l-0.7 -5.7l-0.7 -4l-0.7 6.1l-0.7 -5.3l-0.7 1.2l-0.7 -2.2l-0.7 -3.5l-0.7 8l-0.7 -3.6l-0.7 -1.3l-0.7 -2.1l-0.7 0.5l-0.7 -2.1l-0.7 0.6l-0.7 -4.5l-0.7 -1.1l-0.7 1.8l-0.7 0.8l-0.7 -3.7l-0.7 0.5l-0.7 -0.4l-0.7 -3l-0.7 8.2l-0.7 -6l-0.7 -5.1l-0.7 2.1l-0.7 1.1l-0.7 -3.2l-0.7 -2.3l-0.7 2.6l-0.7 -1.1l-0.7 -4.5l-0.7 0.6l-0.7 -2.7l-0.7 0.5l-0.7 2.6l-0.7 -5.6l-0.7 3.7l-0.7 -4.9l-0.7 3.4l-0.7 -2.4l-0.7 -1.6l-0.7 -0.6l-0.7 0.7l-0.7 -6.6l-0.7 2.1l-0.7 -2.2l-0.7 3l-0.7 -2.4l-0.7 -1.4l-0.7 -0.4l-0.7 -1.5l-0.7 -3.5l-0.7 2.2l-0.7 -0.4l-0.7 2l-0.7 -1.5l-0.7 -4.5l-0.7 2.4l-0.7 -1.2l-0.7 -4.5l-0.7 3l-0.7 -4.4l-0.7 -0.2l-0.7 2.5l-0.7 -1.5l-0.7 -3.7l-0.7 -2.3l-0.7 0.8l-0.7 0.6l-0.7 -0.9l-0.7 -2.2l-0.7 -0.6l-0.7 2.1l-0.7 -5.5l-0.7 3.7l-0.7 -5.9l-0.7 0.1l-0.7 2.6l-0.7 -4.2l-0.7 -3.5l-0.7 2.4l-0.7 1.7l-0.7 -2.8l-0.7 -2.3l-0.7 0l-0.7 0.4l-0.7 -2.6l-0.7 0.9l-0.7 -1l-0.7 -1.4l-0.7 -3.9l-0.7 2l-0.7 -1.7l-0.7 1.8l-0.7 -6.8l-0.7 1.6l-0.7 -0.9l-0.7 -3l-0.7 1l-0.7 -1.3l-0.7 -0.7l-0.7 0.5l-0.7 -3.6l-0.7 -0.7l-0.7 0l-0.7 -3l-0.7 1.4l-0.7 1.7l-0.7 -2.4l-0.7 -2.6l-0.7 2.8l-0.7 -2.3l-0.7 -4.3l-0.7 1.3l-0.7 -2.7l-0.7 2.5l-0.7 -2.6l-0.7 -0.2l-0.7 -1.9l-0.7 -2.7l-0.7 0.7l-0.7 -0.2l-0.7 -1.2l-0.7 1.4l-0.7 -1l-0.7 -3.3l-0.7 -0.6l-0.7 0.4l-0.7 -4l-0.7 -0.1l-0.7 -0.4l-0.7 1.4l-0.7 -4.3l-0.7 0.2l-0.7 -2.3l-0.7 1.5l-0.7 -3.6l-0.7 0.8l-0.7 -2.1l-0.7 0.3l-0.7 -0.8l-0.7 -0.6l-0.7 -2.2l-0.7 -2l-0.7 -0.6l-0.7 0.6l-0.7 0.8l-0.7 -4.5l-0.7 -1.4l-0.7 -1.2l-0.7 -0.8l-0.7 0.1l-0.7 -2.3l-0.7 -0.1l-0.7 -1.1l-0.7 -2l-0.7 -0.1l-0.7 1.1l-0.7 -2.7l-0.7 -0.3l-0.8 -2.3l-0.7 0.7l-0.7 -0.4l-0.7 -1.1l-0.7 -2.7l-0.7 0.5l-0.7 -3.1l-0.7 -0.1l-0.7 0.3l-0.7 -2.6l-0.7 -0.4l-0.7 -0.3l-0.7 -0.9l-0.7 -2.1l-0.7 -0.1l-0.7 -1l-0.7 -2.3l-0.7 -1.5l-0.7 0.3l-0.7 -2.2l-0.7 0.4l-0.7 0.6l-0.7 -3.4l-0.7 -0.9l-0.7 -0.3l-0.7 0.1l-0.7 -2l-0.7 -0.8l-0.7 -1.7l-0.7 0.3l-0.7 -2.8l-0.7 -0.5l-0.7 -2l-0.7 -0.3l-0.7 -1.9l-0.7 -0.3l-0.7 -1.4l-0.7 -1.4l-0.7 -2.3l-0.7 -1.5l-0.7 -1l-0.7 -4l-0.7 -1.7l-0.7 -4.3l-0.7 -1.8l-0.7 -3.6l-0.7 -3.2l-0.7 -0.9l-0.7 -0.5l-0.7 -0.5l-0.7 -1.3l-0.7 -0.1l-0.7 0.7l-0.7 -1.9l-0.7 0.2l-0.7 1.5l-0.7 -0.7l-0.7 0.4l-0.7 0.6l-0.7 0.6l-0.7 1.8l-0.7 0.8l-0.7 2.5l-0.7 1.1l-0.7 3l-0.7 3l-0.7 5.3l-0.7 3.3l-0.7 6.9l-0.7 6.7l-0.7 6.5l-0.7 10.5l-0.7 8.7l-0.7 11.3l-0.7 16.2l-0.7 20.5l-0.7 29.9l-0.7 36.4l-0.7 44.7l-0.7 35.6l-0.7 56.5l-0.7 54.8l-0.7 21.8l-0.7 0l-0.7 0l-0.7 0l-0.7 -11.5l-0.7 0l-0.7 11.5l-0.7 0l-0.7 0l-0.7 0l-0.7 0l-0.7 0l-0.7 0l-0.7 0l-0.7 -4.1l-0.7 4.1l-0.7 0l-0.7 0l-0.7 0l-0.7 0l-0.7 0l-0.7 0l-0.7 -4.1l-0.7 -3.8l-0.7 7.9l-0.7 0l-0.7 0l-0.7 0l-0.7 -14.8l-0.7 0l-0.7 14.8l-0.7 0l-0.7 -4.1l-0.7 4.1l-0.7 -4.1l-0.7 4.1l-0.7 -7.9l-0.7 7.9l-0.7 -4.1l-0.7 4.1l-0.7 0l-0.7 0l-0.7 -14.8l-0.7 14.8l-0.7 -11.5l-0.7 7.4l-0.7 4.1l-0.7 0l-0.7 -4.1l-0.7 4.1l-0.7 -4.1l-0.7 4.1l-0.7 0l-0.7 0l-0.7 -7.9l-0.7 3.8l-0.7 4.1l-0.7 0l-0.7 0l-0.7 0l-0.7 0l-0.7 0l-0.7 -4.1l-0.7 4.1l-0.7 0l-0.7 0l-0.7 0l-0.7 0l-0.7 0l-0.7 0l-0.7 0l-0.7 0l-0.7 -4.1l-0.7 0l-0.7 -3.8l-0.7 3.8l-0.7 0l-0.7 4.1l-0.7 0l-0.7 0l-0.7 0l-0.7 0l-0.7 0l-0.7 -4.1l-0.7 4.1l-0.7 0l-0.7 0l-0.7 0l-0.7 -11.5l-0.7 11.5l-0.7 0l-0.7 -4.1l-0.7 4.1l-0.7 -7.9l-0.7 -10.1l-0.7 18l-0.7 0l-0.7 -14.8l-0.7 14.8l-0.7 -11.5l-0.7 11.5l-0.7 -14.8l-0.7 14.8l-0.7 0l-0.7 0l-0.7 0l-0.7 0l-0.7 -7.9l-0.7 -3.6l-0.7 11.5l-0.7 0l-0.7 0l-0.7 -7.9l-0.7 0l-0.7 7.9Z" fill="#0000ff" stroke="#0000ff" stroke-width="1.32" stroke-linejoin="round"/><path d="M843.0 1390.5l0.7 2.5l0.7 5.3l0.7 -14.7l0.7 20.6l0.7 -8.6l0.7 2.7l0.7 -5.3l0.7 11.2l0.7 -3l0.7 9.6l0.7 -20.3l0.7 0l0.7 7.8l0.7 5.9l0.7 -3l0.7 -17.6l0.7 17.6l0.7 -2.9l0.7 -10.2l0.7 13.1l0.7 -5.6l0.7 0l0.7 -2.6l0.7 5.3l0.7 -2.7l0.7 8.6l0.7 -5.9l0.7 -22.8l0.7 15l0.7 10.7l0.7 3l0.7 -11.2l0.7 2.6l0.7 2.7l0.7 5.9l0.7 -8.6l0.7 5.6l0.7 -2.9l0.7 -5.3l0.7 2.6l0.7 -2.6l0.7 -11.5l0.7 19.7l0.7 -5.6l0.7 5.6l0.7 0l0.7 -10.7l0.7 2.5l0.7 11.2l0.7 -3l0.7 -8.2l0.7 -9.4l0.7 9.4l0.7 -4.9l0.7 4.9l0.7 8.2l0.7 0l0.7 6.2l0.7 -14.4l0.7 -7.2l0.7 12.5l0.7 2.9l0.7 0l0.7 -2.9l0.7 -10.2l0.7 10.2l0.7 -5.3l0.7 8.2l0.7 -5.6l0.7 0l0.7 5.6l0.7 3l0.7 -18.4l0.7 18.4l0.7 -5.9l0.7 -5.3l0.7 5.3l0.7 -5.3l0.7 5.3l0.7 2.9l0.7 -2.9l0.7 0l0.7 -10.2l0.7 4.9l0.7 5.3l0.7 -2.7l0.7 -2.6l0.7 2.6l0.7 8.6l0.7 -3l0.7 -10.7l0.7 5.1l0.7 2.7l0.7 2.9l0.7 3l0.7 -8.6l0.7 2.7l0.7 0l0.7 5.9l0.7 -5.9l0.7 -14.7l0.7 17.6l0.7 0l0.7 9.6l0.7 -17.8l0.7 -2.5l0.7 20.3l0.7 -25l0.7 12.5l0.7 -16.8l0.7 11.5l0.7 2.6l0.7 0l0.7 0l0.7 -59.5l0.7 -44.8l0.7 -44.2l0.7 -27.4l0.7 -41.6l0.7 -28.1l0.7 -26.7l0.7 -15.6l0.7 -10.7l0.7 -12.4l0.7 -8l0.7 -6.9l0.7 -9.2l0.7 -3.8l0.7 -5.9l0.7 -3.8l0.7 -3.8l0.7 -3.4l0.7 -1.7l0.7 -2.1l0.7 -1l0.7 -1.6l0.7 -1.3l0.7 -1l0.7 0.7l0.7 -0.7l0.7 0l0.7 0l0.7 0l0.7 0l0.7 0l0.7 0.4l0.7 0.7l0.7 0.1l0.7 0.8l0.7 0.7l0.7 3.1l0.7 3.6l0.7 4.7l0.7 1.3l0.7 3.3l0.7 3.3l0.7 2.1l0.7 2l0.7 2.4l0.7 1.8l0.7 1.5l0.7 2l0.7 1.8l0.7 1.3l0.7 1.3l0.7 1.9l0.7 0.7l0.7 2.2l0.7 0.3l0.7 0l0.7 2.4l0.7 -1.5l0.7 3.3l0.7 0.8l0.7 2.5l0.7 0.4l0.7 -0.3l0.7 2.3l0.7 0.4l0.7 -0.1l0.7 2.6l0.7 -1.3l0.7 3.6l0.7 -1.3l0.7 1.3l0.7 2.1l0.7 1.3l0.7 2.1l0.7 -1.2l0.7 0.7l0.7 1.6l0.7 -0.4l0.7 3.6l0.7 0.9l0.7 0.4l0.7 0.8l0.8 1.1l0.7 1.2l0.7 0.4l0.7 -0.1l0.7 1.7l0.7 0.1l0.7 2.9l0.7 0.6l0.7 -2.5l0.7 3.6l0.7 2.1l0.7 -0.2l0.7 1l0.7 -0.3l0.7 3l0.7 0l0.7 0.2l0.7 2.3l0.7 0l0.7 0.1l0.7 0.2l0.7 2.4l0.7 2.3l0.7 0.8l0.7 0.6l0.7 -0.3l0.7 1.7l0.7 0.3l0.7 2.7l0.7 1.4l0.7 1l0.7 -1.5l0.7 -0.2l0.7 4.6l0.7 -0.4l0.7 0.5l0.7 -1l0.7 3.8l0.7 -1.2l0.7 2.1l0.7 -1l0.7 2.5l0.7 2.8l0.7 -2.6l0.7 2.3l0.7 2.5l0.7 1.3l0.7 0.1l0.7 0.8l0.7 -0.1l0.7 1.8l0.7 0.3l0.7 2.4l0.7 0.6l0.7 -0.3l0.7 0.7l0.7 3l0.7 -1.5l0.7 1l0.7 3l0.7 0.6l0.7 0.9l0.7 -1.2l0.7 3.3l0.7 -1.7l0.7 -0.1l0.7 4.5l0.7 -1.6l0.7 0.8l0.7 2.8l0.7 0.9l0.7 -1.1l0.7 1.4l0.7 0.8l0.7 1.9l0.7 2.7l0.7 0.9l0.7 3.6l0.7 -3l0.7 3.2l0.7 0.6l0.7 -1.3l0.7 0.5l0.7 1.5l0.7 0.1l0.7 2.8l0.7 -1.3l0.7 -0.4l0.7 2.9l0.7 -0.2l0.7 5l0.7 -4.2l0.7 4.5l0.7 2.4l0.7 -3.1l0.7 1.5l0.7 0.8l0.7 2l0.7 0.2l0.7 1.1l0.7 -1.8l0.7 3.5l0.7 3.5l0.7 -5.7l0.7 6l0.7 2l0.7 -0.9l0.7 -0.7l0.7 2.3l0.7 0l0.7 -1.5l0.7 1.1l0.7 5.4l0.7 -5.1l0.7 3.5l0.7 2.6l0.7 0.6l0.7 6l0.7 -8.3l0.7 6.6l0.7 -2.7l0.7 1.4l0.7 1.8l0.7 2l0.7 -2.9l0.7 5.6l0.7 -4.7l0.7 4.1l0.7 -0.9l0.7 5.8l0.7 -4.8l0.7 -1.5l0.7 7.1l0.7 -0.5l0.7 1.6l0.7 1.3l0.7 0.5l0.7 -5.7l0.7 10.1l0.7 -3.4l0.7 2.2l0.7 0.9l0.7 -5.6l0.7 6.3l0.7 2.1l0.7 3.7l0.7 -1.4l0.7 -3.1l0.7 6.6l0.7 -6.5l0.7 7.1l0.7 -4.8l0.7 2.9l0.7 4.4l0.7 -0.8l0.7 1.9l0.7 -1.4l0.7 -0.6l0.7 6.7l0.7 -1.2l0.7 -4.1l0.7 6.3l0.7 -4.5l0.7 4l0.7 2.6l0.7 0.4l0.7 2.7l0.7 -3.8l0.7 2.3l0.7 -0.7l0.7 5l0.7 1.9l0.7 -10.5l0.7 5.4l0.7 0l0.7 4l0.7 -0.6l0.7 4.4l0.7 -2.7l0.7 -11l0.7 20l0.7 -2.1l0.7 -9.8l0.7 6.7l0.7 2.5l0.7 -6.7l0.7 4l0.7 -2.3l0.7 5.1l0.7 6.5l0.7 -1.4l0.7 -3.4l0.7 -3.3l0.7 10.9l0.7 5.8l0.7 -6.3l0.7 3.6l0.7 -0.3l0.7 -5.4l0.7 -6.5l0.7 11.3l0.7 -0.6l0.7 2.4l0.7 -4.6l0.7 7.8l0.7 -0.9l0.7 -5.3l0.7 4.4l0.7 -0.7l0.7 -0.2l0.7 9.9l0.7 -4.9l0.7 -2.7l0.7 1.7l0.7 8.5l0.7 -7l0.7 5.2l0.7 -0.2l0.7 -1.6l0.7 2.5l0.7 5.8l0.7 -16.5l0.7 9.5l0.7 7.9l0.7 5.8l0.7 -7l0.7 5.6l0.7 -2.6l0.7 -4.2l0.7 4.5l0.7 -8.6l0.7 16.3l0.7 -8.3l0.7 -2.6l0.7 1.6l0.7 -1.9l0.7 10.1l0.7 -3l0.7 0.8l0.7 -3.7l0.7 -7.1l0.7 16.9l0.7 1.7l0.7 -2.1l0.7 -0.2l0.7 -3.1l0.7 8.9l0.7 -7.3l0.7 8l0.7 -8.4l0.7 1.9l0.7 6l0.7 -9.2l0.7 8.8l0.7 8l0.7 -1.4l0.7 -12.2l0.7 2.8l0.7 3.2l0.7 16.1l0.7 -8.2l0.7 -8.1l0.7 5.4l0.7 -1.1l0.7 -2.3l0.7 10.5l0.7 -7.3l0.7 -1.1l0.7 10.8l0.7 -5.2l0.7 -5.7l0.7 11.9l0.7 -5.1l0.7 -8.8l0.7 4.2l0.7 2.3l0.7 12.5l0.7 -2.8l0.7 -1.3l0.7 2.6l0.7 -3.9l0.7 -1.3l0.7 9.2l0.7 -2.8l0.7 0l0.7 4.1l0.7 -2.8l0.7 -7.5l0.7 6.2l0.7 -3.7l0.7 3.8l0.7 8.3l0.7 -5.6l0.7 -2.6l0.7 8.2l0.7 6.2l0.7 -7.6l0.7 0l0.7 -6.6l0.7 11.1l0.7 6.4l0.7 -6.4l0.7 6.4l0.7 -6.3l0.7 -1.5l0.7 18.7l0.7 -18.6l0.7 6.1l0.7 -11.4l0.7 -8.3l0.7 23.1l0.7 -7.7l0.7 0l0.7 3.1l0.7 -2.9l0.7 1.5l0.7 1.5l0.7 0.1l0.7 4.8l0.7 0l0.7 5.1l0.7 -8.1l0.7 6.5l0.7 -6.3l0.7 10l0.7 -5.2l0.7 0.1l0.7 1.8l0.7 -13.5l0.7 10.3l0.7 5l0.7 1.8l0.7 -6.5l0.7 1.6l0.7 0.1l0.7 0.1l0.7 14.7l0.7 0l0.7 -5.8l0.7 -6.9l0.7 0l0.7 17.3l0.7 0.1l0.7 -10.1l0.7 -10.1l0.7 12.1l0.7 -5.4l0.7 13.8l0.7 -13.6l0.7 -1.6l0.7 13.2l0.7 -5.9l0.7 -3.6l0.7 3.7l0.7 6.1l0.7 -7.7l0.7 -3.4l0.7 9.3l0.7 -7.4l0.7 1.8l0.7 14.6l0.7 -8.6l0.7 0.1l0.7 -12.5l0.7 6.9l0.7 5.8l0.7 -10.8l0.7 13l0.7 -3.9l0.7 4.1l0.7 6.7l0.7 2.4l0.7 -10.9l0.7 -5.5l0.7 7.7l0.7 0.1l0.7 -3.9l0.7 4.1l0.7 9l0.7 -16.6l0.7 2l0.7 5.9l0.7 -5.7l0.7 3.9l0.7 6.4l0.7 2.3l0.7 7.5l0.7 -13.8l0.7 4.3l0.7 -6.2l0.7 6.4l0.8 4.7l0.7 2.5l0.7 -9l0.7 9.2l0.7 -23.9l0.7 19.3l0.7 -4.3l0.7 11.8l0.7 -4.9l0.7 -2.3l0.7 10.2l0.7 -10l0.7 -6.4l0.7 13.9l0.7 -2.5l0.7 -2.3l0.7 -12.6l0.7 17.8l0.7 2.8l0.7 -7.7l0.7 -2.2l0.7 -8.4l0.7 13.3l0.7 8.2l0.7 -2.8l0.7 0.1l0.7 -7.7l0.7 5.1l0.7 -4.9l0.7 -12.9l0.7 18l0.7 -11.8l0.7 14.7l0.7 0l0.7 -10.1l0.7 4.9l0.7 5.4l0.7 -2.6l0.7 -2.6l0.7 8.3l0.7 -19.7l0.7 17l0.7 -2.7l0.7 0l0.7 12.1l0.7 3.5l0.7 -3.4l0.7 -14.5l0.7 0.1l0.7 2.6l0.7 2.8l0.7 3l0.7 -2.8l0.7 9.3l0.7 -14.7l0.7 8.5l0.7 -8.3l0.7 5.5l0.7 -2.8l0.7 5.8l0.7 -2.8l0.7 2.9l0.7 10l0.7 -15.6l0.7 -2.6l0.7 22.1l0.7 -13.6l0.7 0.1l0.7 -2.9l0.7 0l0.7 9.5l0.7 -12.2l0.7 5.8l0.7 -2.9l0.7 9.6l0.7 -6.5l0.7 13.9l0.7 -19.6l0.7 9l0.7 -3.1l0.7 6.6l0.7 3.6l0.7 -10l0.7 10.1l0.7 3.9l0.7 -10.7l0.7 10.9l0.7 -17l0.7 6.2l0.7 10.9l0.7 0.1l0.7 -14l0.7 3.3l0.7 7l0.7 0.1l0.7 -7l0.7 14.1l0.7 -23.1l0.7 16.2l0.7 4l0.7 -17.2l0.7 13.3l0.7 6.8l0.7 -13.7l0.7 13.7l0.7 -2.6l0.7 2.6l0.7 -16.8l0.7 14.3l0.7 -3.8l0.7 6.3l0.7 -19.7l0.7 19.7l0.7 -6.1l0.7 -10.4l0.7 3.3l0.7 3.5l0.7 -9.8l0.7 17.6l0.7 0l0.7 0.1l0.7 1.8l0.7 -16.2l0.7 16.2l0.7 0l0.7 0l0.7 0l0.7 0l0.7 -5.4l0.7 -7.2l0.7 7.3l0.7 4.1l0.7 1.2l0.7 -8.9l0.7 8.9l0.7 0l0.7 0l0.7 -18.7l0.7 6.5l0.7 11.3l0.7 0.9l0.7 -4.8l0.7 4.8l0.7 0l0.7 0l0.7 -0.6l0.7 0l0.7 0.6l0.7 -8.3l0.7 -10l0.7 18.3l0.7 0l0.7 0l0.7 -0.3l0.7 0.1l0.7 0l0.7 0.2l0.7 -8l0.7 -10l0.7 18l0.7 0l0.7 0l0.7 0l0.7 0l0.7 0l0.7 0l0.7 0l0.7 -11.2l0.7 0l0.7 3.6l0.7 7.6l0.7 0l0.7 0l0.7 -17.6l0.7 17.6l0.7 0l0.7 0l0.7 0l0.7 -3.4l0.7 3.4l0.7 0l0.7 0l0.7 0l0.7 -7.1l0.7 0l0.7 7.1l0.7 0l0.7 0l0.7 -10.6l0.7 10.6l0.7 0l0.7 0l0.7 0l0.7 0l0.7 0l0.7 0l0.7 0l-0.7 0l-0.7 0l-0.7 0l-0.7 0l-0.7 0l-0.7 0l-0.7 0l-0.7 0l-0.7 0l-0.7 0l-0.7 0l-0.7 0l-0.7 0l-0.7 0l-0.7 0l-0.7 0l-0.7 0l-0.7 0l-0.7 0l-0.7 0l-0.7 0l-0.7 0l-0.7 0l-0.7 0l-0.7 0l-0.7 0l-0.7 0l-0.7 0l-0.7 0l-0.7 0l-0.7 0l-0.7 0l-0.7 0l-0.7 0l-0.7 0l-0.7 0l-0.7 0l-0.7 0l-0.7 0l-0.7 0l-0.7 0l-0.7 0l-0.7 0l-0.7 0l-0.7 0l-0.7 0l-0.7 0l-0.7 0l-0.7 0l-0.7 0l-0.7 0l-0.7 0l-0.7 0l-0.7 0l-0.7 0l-0.7 0l-0.7 0l-0.7 0l-0.7 0l-0.7 0l-0.7 0l-0.7 0l-0.7 0l-0.7 0l-0.7 0l-0.7 0l-0.7 0l-0.7 0l-0.7 0l-0.7 0l-0.7 0l-0.7 0l-0.7 0l-0.7 0l-0.7 0l-0.7 0l-0.7 0l-0.7 0l-0.7 0l-0.7 0l-0.7 0l-0.7 0l-0.7 0l-0.7 0l-0.7 0l-0.7 0l-0.7 0l-0.7 0l-0.7 0l-0.7 0l-0.7 0l-0.7 0l-0.7 0l-0.7 0l-0.7 0l-0.7 0l-0.7 0l-0.7 0l-0.7 0l-0.7 0l-0.7 0l-0.7 0l-0.7 0l-0.7 0l-0.7 0l-0.7 0l-0.7 0l-0.7 0l-0.7 0l-0.7 0l-0.7 0l-0.7 0l-0.7 0l-0.7 0l-0.7 0l-0.7 0l-0.7 0l-0.7 0l-0.7 0l-0.7 0l-0.7 0l-0.7 0l-0.7 0l-0.7 0l-0.7 0l-0.7 0l-0.7 0l-0.7 0l-0.7 -5l-0.7 5l-0.7 0l-0.7 0l-0.7 0l-0.7 0l-0.7 0l-0.7 0l-0.7 0l-0.7 0l-0.7 0l-0.7 -1.8l-0.7 -0.2l-0.7 2l-0.7 0l-0.7 0l-0.7 0l-0.7 0l-0.7 -2.4l-0.7 2.4l-0.7 -13.6l-0.7 13.6l-0.7 0l-0.7 0l-0.7 -10.5l-0.7 10.5l-0.7 -7l-0.7 3.8l-0.7 3.2l-0.7 0l-0.7 0l-0.7 0l-0.7 0l-0.7 0l-0.7 0l-0.7 0l-0.7 0l-0.7 -0.2l-0.7 -11.5l-0.7 11.4l-0.7 -4.2l-0.7 4.5l-0.7 0l-0.7 0l-0.7 0l-0.7 0l-0.7 -18.8l-0.7 13.5l-0.7 5.3l-0.7 0l-0.7 -12.8l-0.7 12.8l-0.7 0l-0.7 0l-0.7 -1.9l-0.7 1.9l-0.7 -2l-0.7 -4.1l-0.7 -3.9l-0.7 3.7l-0.7 -0.1l-0.7 -10.6l-0.7 6.7l-0.7 3.7l-0.7 -3.8l-0.7 -13l-0.7 9.3l-0.7 11.2l-0.8 -11.3l-0.7 -0.2l-0.7 3.5l-0.7 -3.6l-0.7 3.5l-0.7 3.6l-0.7 -3.8l-0.7 -10.1l-0.7 13.7l-0.7 -3.8l-0.7 -6.9l-0.7 -6.3l-0.7 20.8l-0.7 3.8l-0.7 -21.8l-0.7 3l-0.7 18.8l-0.7 -12l-0.7 0l-0.7 -7l-0.7 14.8l-0.7 -14.9l-0.7 -0.1l-0.7 -3.3l-0.7 -5.9l-0.7 9.1l-0.7 -9.2l-0.7 -2.8l-0.7 -0.1l-0.7 11.8l-0.7 -3.3l-0.7 6.6l-0.7 7.5l-0.7 -20.1l-0.7 16.2l-0.7 -19.1l-0.7 11.9l-0.7 7.1l-0.7 -21.9l-0.7 14.7l-0.7 -6.4l-0.7 -3l-0.7 3l-0.7 -3l-0.7 -2.9l-0.7 8.9l-0.7 -3.2l-0.7 0l-0.7 -5.8l-0.7 5.8l-0.7 -8.6l-0.7 5.6l-0.7 -10.8l-0.7 17l-0.7 -3.2l-0.7 -13.9l-0.7 0l-0.7 17.2l-0.7 -14.7l-0.7 -2.6l-0.7 -4.8l-0.7 10l-0.7 -2.6l-0.7 0l-0.7 0l-0.7 -5.1l-0.7 10.7l-0.7 -10.7l-0.7 0l-0.7 0l-0.7 5.2l-0.7 5.8l-0.7 -17.9l-0.7 -4.3l-0.7 6.5l-0.7 0l-0.7 -4.4l-0.7 -6.1l-0.7 10.7l-0.7 -4.5l-0.7 9.5l-0.7 -4.9l-0.7 -12.8l-0.7 10.6l-0.7 -6.5l-0.7 11.5l-0.7 -4.8l-0.7 -6.6l-0.7 -4l-0.7 6.3l-0.7 -2.1l-0.7 -7.9l-0.7 17.5l-0.7 -17.5l-0.7 8.2l-0.7 0.2l-0.7 -4.2l-0.7 6.7l-0.7 -14.2l-0.7 1.9l-0.7 -1.8l-0.7 12.5l-0.7 -8.5l-0.7 -3.7l-0.7 15.2l-0.7 -8.9l-0.7 9.6l-0.7 -26l-0.7 14.9l-0.7 -7.7l-0.7 3.9l-0.7 -1.7l-0.7 -1.7l-0.7 -1.8l-0.7 0.2l-0.7 6.3l-0.7 -9.6l-0.7 -1.4l-0.7 1.9l-0.7 17.3l-0.7 -4.4l-0.7 -3.9l-0.7 -11.6l-0.7 2.1l-0.7 -1.5l-0.7 -11.5l-0.7 3.4l-0.7 12.7l-0.7 -8.9l-0.7 2.2l-0.7 -3.2l-0.7 0.2l-0.7 -9.3l-0.7 0.4l-0.7 0.1l-0.7 15.7l-0.7 -1.4l-0.7 -20.7l-0.7 13.9l-0.7 -6.4l-0.7 2l-0.7 -1.5l-0.7 3.6l-0.7 15.5l-0.7 -19.8l-0.7 -4.2l-0.7 -2.5l-0.7 7.6l-0.7 -4.1l-0.7 -6.7l-0.7 3l-0.7 -1.1l-0.7 -7.4l-0.7 37l-0.7 -40.9l-0.7 12.3l-0.7 9.3l-0.7 -26.2l-0.7 10.2l-0.7 2.7l-0.7 -8.1l-0.7 2.7l-0.7 3.6l-0.7 -5.6l-0.7 6.3l-0.7 -17.6l-0.7 7.9l-0.7 3.4l-0.7 7.4l-0.7 -10l-0.7 -7.7l-0.7 3.3l-0.7 0.1l-0.7 6.6l-0.7 -5.9l-0.7 -5.6l-0.7 0.4l-0.7 -0.7l-0.7 -6.3l-0.7 1.8l-0.7 12.2l-0.7 -2.7l-0.7 -1.7l-0.7 -5.8l-0.7 -5.5l-0.7 2.5l-0.7 -4.5l-0.7 -1.2l-0.7 2l-0.7 3.2l-0.7 -3.6l-0.7 6.9l-0.7 -12.8l-0.7 6.2l-0.7 -4.9l-0.7 -0.5l-0.7 3.3l-0.7 -3.4l-0.7 -4.3l-0.7 -2.9l-0.7 1l-0.7 -0.3l-0.7 2.8l-0.7 -4.3l-0.7 1.6l-0.7 -4.9l-0.7 6.9l-0.7 -6.4l-0.7 -2.5l-0.7 -0.3l-0.7 4.7l-0.7 -5.2l-0.7 3.5l-0.7 2.6l-0.7 -2l-0.7 -7.8l-0.7 2.4l-0.7 -0.9l-0.7 -6.5l-0.7 0.5l-0.7 0.5l-0.7 0.9l-0.7 -2.9l-0.7 -1.1l-0.7 -3.7l-0.7 1.7l-0.7 5.3l-0.7 -6.8l-0.7 -1.6l-0.7 -4.7l-0.7 8.8l-0.7 -9l-0.7 6.2l-0.7 -3.7l-0.7 7.8l-0.7 -3.4l-0.7 -4.8l-0.7 -6.4l-0.7 -1.8l-0.7 1.3l-0.7 6.3l-0.7 -11.3l-0.7 4.1l-0.7 -1.7l-0.7 3.6l-0.7 -6.4l-0.7 0.5l-0.7 2.5l-0.7 -7.5l-0.7 6.7l-0.7 -2.5l-0.7 -5.3l-0.7 3.9l-0.7 -7.3l-0.7 0.7l-0.7 5.4l-0.7 -5.1l-0.7 -8.3l-0.7 5.4l-0.7 -4.4l-0.7 2.4l-0.7 -3l-0.7 1.8l-0.7 -0.4l-0.7 -1.8l-0.7 -0.9l-0.7 6.2l-0.7 -6.1l-0.7 -2.4l-0.7 -7.9l-0.7 2.1l-0.7 1l-0.7 -2.7l-0.7 2.8l-0.7 -5l-0.7 -1.5l-0.7 1.5l-0.7 0l-0.7 -0.9l-0.7 -0.9l-0.7 0.9l-0.7 -7.7l-0.7 4.2l-0.7 -0.9l-0.7 -1.2l-0.7 5.4l-0.7 -8.3l-0.7 -0.6l-0.7 1.4l-0.7 -2.7l-0.7 -0.6l-0.7 -1.4l-0.7 -1.4l-0.7 -1l-0.7 2.7l-0.7 -2l-0.7 -6l-0.7 1.7l-0.7 -1l-0.7 1.4l-0.7 -0.4l-0.7 -4.1l-0.7 1.9l-0.7 -0.6l-0.7 -4l-0.7 2.1l-0.7 -3.3l-0.7 -4.6l-0.7 1.5l-0.7 -2.5l-0.7 3.1l-0.7 0.7l-0.7 -5.7l-0.7 3.2l-0.7 -2.3l-0.7 0.5l-0.7 -2.8l-0.7 0.7l-0.7 -3.9l-0.7 3l-0.7 -5.6l-0.7 2.3l-0.7 -0.8l-0.7 -2.6l-0.7 -0.3l-0.7 -3.6l-0.7 3.5l-0.7 -2.2l-0.7 -2l-0.7 -2l-0.7 1l-0.7 -0.7l-0.7 -0.7l-0.7 -0.9l-0.7 -4.5l-0.7 0l-0.7 0.3l-0.7 -2.7l-0.7 0.8l-0.7 -2.5l-0.7 0.8l-0.7 -4.1l-0.7 1.6l-0.7 -2.5l-0.7 1.4l-0.7 -1.4l-0.7 -1.5l-0.7 -3.9l-0.7 0.8l-0.7 -0.4l-0.7 -0.5l-0.7 0.2l-0.7 -5.1l-0.7 1.9l-0.7 -4.7l-0.7 2.3l-0.7 -1.4l-0.7 0.6l-0.7 -2.6l-0.7 0.3l-0.7 -1l-0.7 0.9l-0.7 -4.4l-0.7 -0.6l-0.7 1.7l-0.7 0.2l-0.7 -2.7l-0.7 -2.9l-0.7 -0.1l-0.7 0.7l-0.7 -3.4l-0.7 -0.6l-0.7 0.9l-0.7 -3l-0.7 -0.3l-0.7 -1.4l-0.7 0.7l-0.7 -2.4l-0.7 -1.4l-0.7 -0.9l-0.7 1.3l-0.7 -3.8l-0.7 -0.1l-0.7 -0.1l-0.7 -2.5l-0.7 -0.7l-0.7 -1l-0.7 -0.3l-0.7 -1.7l-0.7 -0.8l-0.7 -1.3l-0.8 -0.7l-0.7 -1.1l-0.7 0.9l-0.7 -2.9l-0.7 -1.1l-0.7 -1.3l-0.7 0.4l-0.7 -2.1l-0.7 0.5l-0.7 -2l-0.7 -1.1l-0.7 0.3l-0.7 -2.8l-0.7 -0.1l-0.7 -1.5l-0.7 -0.7l-0.7 0.6l-0.7 -1.9l-0.7 -1l-0.7 -1.6l-0.7 -0.5l-0.7 -1.5l-0.7 -1l-0.7 -0.7l-0.7 -0.6l-0.7 -2.4l-0.7 -0.9l-0.7 0l-0.7 -2.4l-0.7 -1.7l-0.7 -0.3l-0.7 -2.7l-0.7 0.3l-0.7 -2l-0.7 -2.1l-0.7 -0.5l-0.7 -3.2l-0.7 -1.3l-0.7 -1.9l-0.7 -2.8l-0.7 -1.1l-0.7 -2.4l-0.7 -4.6l-0.7 -2.8l-0.7 -3.7l-0.7 -2.3l-0.7 -3.7l-0.7 -1.4l-0.7 -1.8l-0.7 0.7l-0.7 -1.3l-0.7 -0.8l-0.7 0.1l-0.7 -0.1l-0.7 -0.8l-0.7 1.4l-0.7 0.1l-0.7 0.1l-0.7 0l-0.7 1.4l-0.7 1l-0.7 2.2l-0.7 0.4l-0.7 1.6l-0.7 4.1l-0.7 3.3l-0.7 2.8l-0.7 5.2l-0.7 4.6l-0.7 7.1l-0.7 8.1l-0.7 8.3l-0.7 10.8l-0.7 9.4l-0.7 18.7l-0.7 22.2l-0.7 30.5l-0.7 32.8l-0.7 41.6l-0.7 37.5l-0.7 62.2l-0.7 51.6l-0.7 21.3l-0.7 0l-0.7 -3.4l-0.7 3.4l-0.7 -3.4l-0.7 3.4l-0.7 0l-0.7 0l-0.7 0l-0.7 0l-0.7 0l-0.7 0l-0.7 -3.4l-0.7 3.4l-0.7 -3.4l-0.7 -3.9l-0.7 7.3l-0.7 -3.4l-0.7 -3.9l-0.7 7.3l-0.7 -7.3l-0.7 7.3l-0.7 -14.3l-0.7 14.3l-0.7 0l-0.7 0l-0.7 0l-0.7 0l-0.7 0l-0.7 0l-0.7 0l-0.7 0l-0.7 0l-0.7 0l-0.7 -3.4l-0.7 3.4l-0.7 0l-0.7 0l-0.7 0l-0.7 0l-0.7 0l-0.7 0l-0.7 0l-0.7 0l-0.7 0l-0.7 0l-0.7 0l-0.7 0l-0.7 -3.4l-0.7 3.4l-0.7 0l-0.7 0l-0.7 0l-0.7 0l-0.7 -3.4l-0.7 3.4l-0.7 0l-0.7 0l-0.7 0l-0.7 0l-0.7 0l-0.7 0l-0.7 -7.3l-0.7 7.3l-0.7 0l-0.7 -3.4l-0.7 -3.9l-0.7 0l-0.7 7.3l-0.7 -3.4l-0.7 0l-0.7 3.4l-0.7 0l-0.7 0l-0.7 -7.3l-0.7 7.3l-0.7 0l-0.7 -3.4l-0.7 0l-0.7 0l-0.7 3.4l-0.7 0l-0.7 0l-0.7 0l-0.7 0l-0.7 -3.4l-0.7 3.4l-0.7 0l-0.7 0l-0.7 -3.4l-0.7 -3.9l-0.7 7.3l-0.7 0l-0.7 0l-0.7 -7.3l-0.7 3.9l-0.7 3.4l-0.7 0l-0.7 -10.9l-0.7 10.9l-0.7 0l-0.7 0l-0.7 0l-0.7 -7.3l-0.7 7.3l-0.7 -10.9l-0.7 7.5l-0.7 3.4l-0.7 0l-0.7 0l-0.7 0l-0.7 0l-0.7 -7.3l-0.7 7.3l-0.7 -3.4Z" fill="#ff00ff" stroke="#ff00ff" stroke-width="1.32" stroke-linejoin="round"/></g><path d="M843.0 1031.1V1426.0H1392.0M843.0 1421.7h-8M843.0 1382.5h-4M843.0 1359.6h-4M843.0 1343.3h-4M843.0 1330.7h-4M843.0 1320.4h-4M843.0 1311.7h-4M843.0 1304.1h-4M843.0 1297.5h-4M843.0 1291.5h-8M843.0 1252.3h-4M843.0 1229.4h-4M843.0 1213.1h-4M843.0 1200.5h-4M843.0 1190.2h-4M843.0 1181.5h-4M843.0 1173.9h-4M843.0 1167.3h-4M843.0 1161.3h-8M843.0 1122.1h-4M843.0 1099.2h-4M843.0 1082.9h-4M843.0 1070.3h-4M843.0 1060.0h-4M843.0 1051.3h-4M843.0 1043.7h-4M843.0 1037.1h-4M843.0 1031.1h-8M843.0 1426.0v6.5M897.9 1426.0v3.5M952.8 1426.0v6.5M1007.7 1426.0v3.5M1062.6 1426.0v6.5M1117.5 1426.0v3.5M1172.4 1426.0v6.5M1227.3 1426.0v3.5M1282.2 1426.0v6.5M1337.1 1426.0v3.5M1392.0 1426.0v6.5" stroke="#262626" stroke-width="2.0" fill="none"/><text x="0" y="0" font-size="40.00" transform="translate(778.04,1433.26) scale(1.1500,1)" fill="#000">10</text><text x="0" y="0" font-size="40.00" transform="translate(752.47,1303.06) scale(1.1500,1)" fill="#000">100</text><text x="0" y="0" font-size="40.00" transform="translate(726.89,1172.86) scale(1.1500,1)" fill="#000">1000</text><text x="0" y="0" font-size="40.00" transform="translate(701.27,1042.66) scale(1.1500,1)" fill="#000">10000</text><text x="0" y="0" font-size="41.00" transform="translate(829.89,1469.00) scale(1.1500,1)" fill="#000">0</text><text x="0" y="0" font-size="41.00" transform="translate(925.71,1469.00) scale(1.1500,1)" fill="#000">10</text><text x="0" y="0" font-size="41.00" transform="translate(1036.13,1469.00) scale(1.1500,1)" fill="#000">20</text><text x="0" y="0" font-size="41.00" transform="translate(1146.21,1469.00) scale(1.1500,1)" fill="#000">30</text><text x="0" y="0" font-size="41.00" transform="translate(1256.36,1469.00) scale(1.1500,1)" fill="#000">40</text><text x="0" y="0" font-size="41.00" transform="translate(1365.76,1469.00) scale(1.1500,1)" fill="#000">50</text><text x="0" y="0" font-size="50.00" transform="translate(709.34,1322.23) rotate(-90) scale(0.9549,1.1130)" fill="#000">Counts</text><text x="0" y="0" font-size="48.26" transform="translate(1000.79,1524.80) scale(1.1390,1)" fill="#000">Time (ns)</text><text x="0" y="0" font-size="41.38" transform="translate(1144.41,1045.19) scale(1.1463,1)" fill="#000">4.88 ns</text><text x="0" y="0" font-size="41.38" transform="translate(1141.73,1179.99) scale(1.1454,1)" fill="#000">2.66 ns</text><path d="M1186.1 1053.3V1129.8" stroke="#000" stroke-width="3.0" fill="none"/><path d="M1179.0 1127.8L1193.2 1127.8L1186.1 1148.4Z" fill="#000"/><rect x="140.7" y="1897" width="1332.3" height="852.7" fill="#fbfbfb"/><clipPath id="cmC"><rect x="417.0" y="1906.0" width="1012.8" height="695.0999999999999"/></clipPath><g clip-path="url(#cmC)"><path d="M417.0 2600.3l49.5 0l1.4 -0.8l1.3 -2l0.9 -2.6l0.9 -4.8l0.9 -9.9l0.9 -18.9l3.2 -117.9l7.6 -425.5l1.8 -22.4l1.8 -14.8l1.8 -8.7l0.9 -2.1l0.9 -0.7l0.5 2.3l0.9 16.3l3.6 107.8l2.7 48.2l12.1 186.9l3.6 43.5l4.5 43l11.7 91l3.2 19.6l3.6 16.8l4.9 16.7l2.7 6.8l2.7 5.6l3.2 5.2l3.1 4.1l3.6 3.7l4.5 3.5l5 2.8l5.8 2.5l4.5 1.4l5.9 0.9l27 2.1l31.1 0.8l788.6 0.4" stroke="#505050" stroke-width="3.0" fill="none" stroke-linejoin="round"/><path d="M417.0 2600.3l52.2 0.1l1.8 -0.6l1.8 -2.4l1.8 -5.1l0.9 -5l2.7 -30.9l18 -468.8l3.6 -56l1.8 -18.3l2.7 -20.3l0.9 -2.3l0.9 -8.2l0.9 -1.9l0.9 -8.1l0.9 2.3l0.9 -4.8l1.8 -2.1l1.8 3.1l1.8 8.3l0.9 1.2l0.9 11.8l1.8 4.5l1.8 12.3l0.9 -2.5l0.9 11.3l2.7 12.9l0.9 -0.8l2.7 23.7l5.4 25.9l2.7 24.2l0.9 3.6l1.8 28.4l1.8 8.6l3.6 46.9l6.3 54.2l0.9 1.6l2.7 23.8l3.6 23.1l11.7 66.4l1.8 4.2l0.9 7.7l0.9 0.7l0.9 3l1.8 11.2l0.9 3.5l0.9 1.1l2.7 13.6l0.9 -0.8l0.9 5.8l2.7 7.4l1 5.4l3.6 8.3l1.8 7.7l0.9 0.3l1.8 6.8l3.6 7.4l0.9 4.1l0.9 0.4l1.8 5.4l0.9 -0.4l1.8 6.5l3.6 8l1.8 -0.3l0.9 4.4l1.8 1.6l3.6 11l0.9 -1.8l3.6 7.1l0.9 -0.2l0.9 1.1l1.8 4.4l0.9 0.6l2.7 4.5l0.9 -0.4l0.9 2.5l3.6 5.6l0.9 -0.5l0.9 3.2l0.9 -0.9l0.9 2.8l0.9 -0.3l0.9 0.6l3.6 5.4l1.8 0.1l0.9 0.8l1.8 3.5l0.9 -0.7l0.9 2.2l0.9 1l0.9 -0.1l1.8 2.9l0.9 -0.5l0.9 0.3l1.8 3.6l0.9 0.7l0.9 -1.2l0.9 2.5l2.7 1.6l0.9 -0.6l0.9 2.2l0.9 0.3l0.9 1.7l1.8 0.2l1.8 1.8l0.9 -0.4l2.7 3l0.9 -0.1l0.9 1.8l0.9 -1.9l1.8 2.8l2.7 1.2l1.8 2.1l1.8 -0.1l2.7 2.2l0.9 -0.7l1.8 2.5l2.7 0l2.7 2.5l0.9 -0.4l0.9 1.5l1.8 -0.4l0.9 0.9l0.9 -0.6l1.8 2.3l0.9 0.4l0.9 -0.8l1.8 1.2l0.9 1.7l0.9 -0.2l0.9 1l0.9 -0.4l1.8 0.8l1.8 -1.1l0.9 2.7l0.9 -1.5l0.9 0l0.9 2.5l0.9 -0.3l0.9 0.9l1.8 0.3l0.9 -1l1.8 1.7l2.7 0l1.8 1l1.8 0.2l0.9 1.7l0.9 -0.9l1.8 1.3l1.8 0.3l0.9 -0.7l1.8 1.3l0.9 -0.2l0.9 1.4l0.9 -0.6l3.6 0.7l0.9 -0.4l1.8 0.8l0.9 -0.4l0.9 1l1.8 0.6l2.7 -0.1l0.9 1.3l0.9 -0.6l2.7 0.3l1.8 1.4l0.9 -1.1l1.8 1.6l0.9 -0.3l1.8 0.7l0.9 -0.9l1.8 0.3l0.9 1l2.7 1l0.9 -0.9l1.8 0.3l0.9 1.1l1.8 -0.9l0.9 1l3.6 -0.1l0.9 1.1l1.8 -0.6l2.7 1l0.9 -0.6l0.9 0.7l0.9 -0.4l13.5 2.2l6.3 -0.3l1.8 1.1l1.8 -0.3l10.8 1.4l1.8 -0.4l0.9 0.9l2.7 -0.6l8.1 1.2l1.8 -0.4l4.5 0.9l4.5 -0.3l0.9 0.6l0.9 -0.5l5.4 1l1.8 -0.7l3.6 0.9l8.1 -0.2l0.9 0.8l6.3 -0.5l4.5 0.7l5.4 -0.2l1.8 0.7l0.9 -0.5l3.6 0.6l8.1 -0.3l0.9 0.5l3.6 -0.6l0.9 0.8l0.9 -0.5l3.6 0.5l0.9 -0.6l3.6 0.9l4.5 -0.6l6.3 0.7l1 -0.7l1.8 0.8l3.6 -0.6l5.4 0.8l47.7 0.3l0.9 0.5l10.8 -0.4l48.6 0.9l96.3 0.3l290.8 0.3" stroke="#ff5a8a" stroke-width="3.5" fill="none" stroke-linejoin="round"/><path d="M417.0 2600.4l53.1 -0.1l1.8 -1.9l1.8 -3.7l1.8 -8.3l1.8 -18l1.8 -37.3l16.2 -442.5l5.4 -74.6l0.9 -1.9l0.9 -7l2.7 -10.1l0.9 -6.9l0.9 -0.8l1.8 -7.1l0.9 1.1l0.9 -5.1l0.9 -1.7l0.9 8.8l0.9 -0.9l0.9 0.3l0.9 -4l2.7 24.5l4.5 24.9l0.9 1.6l1.8 17l1.8 4.6l0.9 10.6l0.9 1.5l1.8 15.2l0.9 2.6l4.5 28.4l5.4 57.6l6.3 57.9l1.8 10.9l2.7 27.8l0.9 1l5.4 41.6l0.9 0.6l4.5 29.4l0.9 -0.2l0.9 9.4l4.5 18.5l0.9 6.9l0.9 1.5l0.9 9l0.9 -0.2l0.9 5.1l0.9 -0.6l2.7 15.6l0.9 0.5l0.9 5.4l0.9 0.1l0.9 6.5l0.9 0.7l1.8 7l0.9 1.1l1.9 8l1.8 3.7l0.9 5.6l0.9 -0.5l0.9 2.2l0.9 5.6l0.9 -0.1l0.9 4l0.9 -0.9l0.9 4.3l0.9 0l0.9 1.6l0.9 5l4.5 9l1.8 5.6l0.9 -1l3.6 9.6l0.9 -0.9l0.9 4.7l3.6 5.4l0.9 0.4l0.9 2.4l0.9 0.2l0.9 4l2.7 1.3l3.6 7.6l0.9 1.3l0.9 -0.1l4.5 7.7l0.9 -1.6l0.9 2.4l1.8 2l0.9 -0.7l2.7 4.9l3.6 4.3l2.7 0.9l0.9 2.4l1.8 1.4l0.9 1.8l1.8 -0.3l0.9 3.2l0.9 -0.2l0.9 1.6l0.9 -1.4l1.8 3.1l0.9 0l0.9 1l0.9 -1.5l0.9 4.2l0.9 -1.1l1.8 1.8l0.9 -0.9l0.9 2.2l0.9 -0.7l0.9 2.1l6.3 5.4l0.9 -0.4l3.6 2.2l1.8 0.2l1.8 2.9l0.9 0.1l0.9 -0.8l2.7 2.7l0.9 -0.5l1.8 0.3l0.9 1.6l2.7 0.8l0.9 1.1l0.9 -0.2l0.9 1.8l0.9 -1.2l1.8 2.2l4.5 1.8l0.9 -0.5l0.9 0.9l2.7 0.2l1.8 2.4l2.7 -1l1.8 2l3.6 0.6l0.9 1.3l1.8 -0.9l0.9 1.7l1.8 -0.4l0.9 1.3l0.9 -0.7l1.8 0.8l1.8 1.9l0.9 -2.1l1.8 1.9l3.6 0.1l0.9 1.2l3.6 0.1l1.8 1.3l0.9 -0.6l0.9 0.9l0.9 -0.4l2.7 1.3l1.8 -0.3l0.9 1.2l2.7 0.7l0.9 -0.6l2.7 0l1.8 1.6l1.8 -1l0.9 1.1l1.8 0.5l2.7 -0.4l2.7 1.1l2.7 0.2l1.8 1.4l0.9 -1.2l0.9 0.8l1.8 -0.3l1.8 1.6l1.8 -0.9l4.5 0.5l7.2 1.9l0.9 -0.6l3.6 0.5l0.9 1l1.8 -0.5l0.9 0.7l1.8 -0.8l2.7 0.9l0.9 -0.6l8.1 1.5l1.8 -0.4l1.8 0.9l2.7 -0.4l0.9 0.6l0.9 -0.7l2.7 1.4l0.9 -0.6l3.6 0.9l3.6 -0.5l3.6 0.9l2.7 -0.4l2.7 0.7l1.8 -0.5l0.9 0.7l0.9 -0.4l2.7 0.6l12.6 0.2l5.4 0.9l0.9 -0.6l6.3 0.8l0.9 -0.5l1.8 1l4.5 -0.5l13.5 1.1l2.7 0l0.9 -0.7l5.4 0.9l3.6 -0.5l1.8 0.7l2.7 -0.5l1.8 0.5l13.5 -0.1l0.9 0.5l12.7 0.2l3.6 -0.5l3.6 0.7l38.7 0.3l2.7 0.6l0.9 -0.6l4.5 0.6l1.8 -0.5l10.8 0.1l31.5 0.7l4.5 -0.5l23.4 0.7l9.9 -0.4l7.2 0.4l118.8 0.4l232.3 0.1" stroke="#0000d0" stroke-width="3.5" fill="none" stroke-linejoin="round"/><path d="M417.0 2600.3l53.1 -0.1l2.7 -3.5l1.8 -5.7l2.7 -25l1.8 -38.2l7.2 -218.2l9 -231.7l3.6 -50.2l2.7 -20.3l2.7 -11.4l0.9 1.5l1.8 -13.3l0.9 2.7l0.9 -2.3l0.9 1.6l0.9 -4.2l1.8 5.4l1.8 10.8l4.5 19.7l3.6 27.9l1.8 7l0.9 1.4l0.9 10.6l5.4 39.1l2.7 13.1l3.6 26.3l4.5 51.1l0.9 2.4l3.6 36.9l6.3 46.2l6.3 39.9l1.8 4.8l1.8 16.3l2.7 13.2l0.9 2.8l0.9 1l0.9 8.2l3.6 15.6l0.9 1.5l1.8 11.2l0.9 0.4l3.6 15.5l0.9 -0.2l1.8 10.9l0.9 -2l0.9 5.4l1.8 3.4l1 6.3l0.9 0.3l1.8 6.4l1.8 2.9l2.7 9.9l1.8 3.3l0.9 0.3l1.8 8.1l0.9 -1.5l1.8 6.2l2.7 4l0.9 4.8l0.9 1.2l0.9 -0.2l2.7 6.6l1.8 1.4l3.6 8.8l0.9 -0.8l1.8 2.8l0.9 3l0.9 -1l0.9 3.8l0.9 0.7l0.9 -0.2l0.9 3.9l1.8 3.2l0.9 -0.7l1.8 3.7l0.9 -0.9l0.9 1.9l0.9 -0.8l0.9 2.5l0.9 -0.5l0.9 4l0.9 1.1l0.9 -0.3l1.8 4.3l0.9 -0.8l0.9 1l1.8 4.3l0.9 -3l0.9 0.7l1.8 5.2l0.9 -0.4l0.9 1.8l0.9 -2.2l0.9 2.4l1.8 1.3l0.9 2.2l0.9 -0.3l2.7 2.3l1.8 0.6l2.7 4.3l0.9 -1.1l0.9 2l2.7 0.6l0.9 1.4l0.9 0.1l0.9 2.1l0.9 -0.2l0.9 1.5l1.8 0.6l0.9 -0.8l1.8 2.6l1.8 1.1l0.9 -0.5l1.8 0.8l0.9 2.2l1.8 -0.6l2.7 3.1l1.8 -0.3l0.9 1.2l1.8 0.3l0.9 2l2.7 -0.3l0.9 1.3l1.8 0.3l1.8 1.6l0.9 -0.8l0.9 0.2l1.8 2l0.9 -0.8l1.8 2.3l1.8 0l2.7 1l0.9 -0.7l0.9 1.9l0.9 -0.5l2.7 2.3l1.8 0.1l0.9 -1l2.7 1.8l4.5 1.4l0.9 -0.3l4.5 2.5l1.8 -0.3l1.8 1.2l2.7 -0.1l0.9 1.6l2.7 -0.1l1.8 0.7l1.8 -0.5l2.7 1.9l2.7 -0.9l0.9 2l1.8 -0.8l3.6 1.2l1.8 -0.3l2.7 0.6l3.6 1.9l0.9 -1.2l1.8 0.7l0.9 -0.6l4.5 1.9l1.8 -0.5l2.7 1.2l0.9 -0.5l1.8 0.3l1.8 1.6l0.9 -0.9l0.9 0.3l1.8 -0.5l1.8 1.2l1.8 -0.9l1.8 1.3l3.6 -0.1l0.9 1.3l0.9 -1.1l0.9 0l0.9 0.9l0.9 -0.7l2.7 1.4l0.9 -0.8l0.9 1l0.9 -0.7l9 1.2l0.9 -0.6l2.7 1.1l1.8 0.1l0.9 -0.7l4.5 1.4l3.6 -0.5l7.2 1.1l3.6 -0.1l0.9 0.9l1.8 -0.6l2.7 0.8l0.9 -0.6l0.9 0.6l3.6 -0.5l2.7 1.1l0.9 -0.9l2.7 1l5.4 -0.3l8.1 0.8l4.5 -0.4l2.7 1l1.8 -0.4l0.9 0.7l4.5 -0.9l0.9 0.7l6.3 -0.2l5.4 0.9l1.8 0l0.9 -0.7l1.8 0.9l1.8 -0.6l16.2 1l9 -0.2l0.9 0.6l7.3 -0.6l6.3 0.8l15.3 -0.2l1.8 0.6l4.5 -0.5l4.5 0.5l0.9 -0.5l3.6 0.7l4.5 -0.4l76.5 1.2l0.9 -0.5l6.3 0.6l4.5 -0.4l85.5 0.9l285.4 0.2" stroke="#00f000" stroke-width="4" fill="none" stroke-linejoin="round"/><path d="M417.0 2600.4l12.6 -0.2l2.7 0.4l7.2 -0.6l4.5 0.5l24.3 0l1.8 -0.4l1.8 -1.9l1.8 -4.1l0.9 -4.2l1.8 -15.2l1.8 -35.5l7.2 -239.4l9 -235.7l0.9 -14.2l4.5 -44.5l0.9 -3.8l0.9 0.9l0.9 -5.6l0.9 0.6l0.9 -4.5l0.9 -0.8l0.9 3.7l0.9 0.8l0.9 -1.9l0.9 9l0.9 -4.4l1.8 7.2l1.8 2.7l0.9 10.5l0.9 -4.3l0.9 12.7l0.9 0.8l0.9 10l0.9 5.1l0.9 1.5l0.9 7.7l0.9 2.9l0.9 12.4l0.9 2.5l2.7 22.5l0.9 1.6l4.5 40.9l0.9 1.4l1.8 17l1.8 8.3l1.8 20.1l4.5 35.6l0.9 14.4l0.9 2l4.5 37.8l1.8 11.4l0.9 1.6l1.8 17.8l0.9 -0.6l0.9 12.1l0.9 1.8l2.7 13.6l1.8 16.9l1.8 3.4l3.6 18.8l0.9 1l0.9 7.3l4.5 19.1l0.9 1.1l0.9 5.7l1.8 5.5l0.9 0l2.7 15l0.9 0.6l2.7 7.2l0.9 1.1l0.9 6.1l0.9 -0.7l1.9 8.8l5.4 10.7l7.2 18.5l0.9 -0.9l1.8 6.5l0.9 -0.9l2.7 7l2.7 4l0.9 4.6l0.9 -1.9l0.9 3.2l2.7 2.7l1.8 5.7l0.9 -2.2l0.9 2.4l0.9 0l0.9 2.4l1.8 2l0.9 -0.2l1.8 6.5l0.9 -1.6l1.8 4.3l0.9 -1.7l0.9 3.9l0.9 0.1l1.8 2.6l1.8 1.2l0.9 2.5l0.9 -1.7l1.8 3.9l2.7 2l0.9 -0.6l0.9 3l0.9 -0.4l0.9 2.1l0.9 -1.2l1.8 3.2l0.9 -1.1l1.8 4.5l0.9 0.2l0.9 -1.7l2.7 5.1l0.9 -0.9l0.9 0.3l1.8 1.8l0.9 0l0.9 1.9l0.9 0.1l0.9 1.4l2.7 0.1l2.7 1.4l1.8 2.4l0.9 0.1l0.9 -1.6l0.9 3l1.8 0.2l0.9 1.9l3.6 0.1l0.9 1.7l1.8 0.5l0.9 -0.7l1.8 4l0.9 -1.4l0.9 0.8l1.8 0.3l0.9 1.1l0.9 -0.2l0.9 1.2l1.8 -0.1l0.9 1.5l0.9 -0.8l1.8 0.8l0.9 -0.5l0.9 1.9l1.8 -0.2l1.8 1.8l3.6 0.7l0.9 2l0.9 -1.7l0.9 1.5l1.8 0.3l1.8 -0.8l0.9 2.1l0.9 -0.8l1.8 1.6l0.9 -0.8l0.9 1.5l2.7 -0.7l1.8 1.4l0.9 -1.3l0.9 2.5l2.7 -0.9l0.9 2.2l1.8 -1.2l0.9 1.6l0.9 -0.7l1.8 0.4l0.9 -0.5l0.9 1.7l0.9 0.3l0.9 -1.1l0.9 1.3l0.9 -0.4l0.9 0.8l0.9 -0.6l0.9 0.8l0.9 -0.5l2.7 1.6l0.9 -0.5l0.9 0.9l0.9 -1.4l0.9 1.2l1.8 0.9l1.8 -0.8l1.8 1.6l3.6 -1l0.9 1.4l2.7 -0.1l0.9 1.6l1.8 -1.2l4.5 1.9l2.7 -0.7l1.8 1.5l1.8 -0.8l0.9 1.4l0.9 -1.1l0.9 0.7l3.6 0.8l0.9 -0.5l1.8 0.8l0.9 -0.8l1.8 0.5l0.9 -0.5l0.9 0.9l1.8 -0.1l2.7 1l2.7 0l0.9 -0.6l0.9 0.7l1.8 -0.6l0.9 1l1.8 0.3l1.8 -0.5l1.8 1.3l3.6 -0.5l0.9 0.8l3.6 -0.4l2.7 1.1l0.9 -0.7l2.7 1.1l0.9 -1l1.8 1.2l2.7 -0.3l0.9 -0.7l8.1 1.5l5.4 -0.4l1.8 1.2l0.9 -0.7l3.6 0.9l2.7 -0.6l0.9 0.9l1.8 -0.3l0.9 0.7l0.9 -0.8l2.7 0.7l0.9 -0.7l1.8 0.1l2.7 1.2l0.9 -0.7l4.5 0.8l0.9 -0.7l3.6 0.6l0.9 -0.7l0.9 0.7l4.5 -0.1l0.9 0.5l0.9 -0.4l5.4 0.5l1.8 -0.4l0.9 0.7l2.7 -0.6l3.6 1l0.9 -0.5l2.7 0.5l5.4 -0.2l0.9 0.7l2.7 -0.7l7.2 0.8l22.6 0.2l0.9 0.6l3.6 -0.7l0.9 0.6l3.6 -0.4l3.6 0.5l0.9 -0.7l0.9 0.9l0.9 -0.7l6.3 0.9l12.6 -0.6l6.3 0.8l8.1 -0.4l12.6 0.7l1.8 -0.5l1.8 0.7l1.8 -0.8l5.4 0.8l15.3 -0.6l1.8 0.7l8.1 -0.2l4.5 0.5l1.8 -0.7l5.4 0.5l16.2 -0.1l2.7 0.5l10.8 -0.6l6.3 0.6l18 -0.4l19.8 0.7l2.7 -0.5l168.4 1l144 0" stroke="#f09400" stroke-width="4.5" fill="none" stroke-linejoin="round"/><path d="M417.0 2600.4l52.2 -0.2l0.9 -0.2l2.7 -4.1l1.8 -7.6l1.8 -19l1.8 -39.2l7.2 -274l5.4 -158.7l1.8 -34.7l4.5 -60.9l1.8 -10.4l1.8 -0.9l0.9 1.1l0.9 0.1l0.9 3.2l0.9 -0.6l0.9 6.9l0.9 -1.7l1.8 10.1l0.9 0.6l1.8 7.8l4.5 27.3l0.9 -0.5l0.9 9.8l2.7 14.6l2.7 19.8l1.8 20.2l1.8 7.1l0.9 13.2l4.5 41.7l0.9 2l4.5 33.9l4.5 40.9l1.8 6.4l2.7 25.7l2.7 17.9l1.8 7l1.8 15.4l2.7 14.8l0.9 1.7l1.8 8.6l0.9 7.1l0.9 1l4.5 26.2l2.7 7.3l1.8 10.7l0.9 1l1.8 5.1l0.9 6.5l2.7 9.1l0.9 0.2l1.8 10.3l1.8 2.5l1.8 8l0.9 -0.5l2.7 8l1.9 8.2l0.9 -3.2l1.8 8l0.9 0.2l1.8 7.1l0.9 1.9l0.9 -0.9l1.8 6.5l0.9 0.3l3.6 9.6l0.9 -1.6l2.7 7l0.9 0l0.9 4.7l0.9 0l1.8 1.4l0.9 2.3l0.9 -0.3l0.9 4.2l0.9 -0.9l1.8 5.2l1.8 1.3l3.6 4.8l0.9 -0.4l1.8 4.4l0.9 -0.1l0.9 1.8l0.9 -0.4l0.9 3l1.8 2.6l0.9 0.8l0.9 -0.4l1.8 2.9l0.9 -0.2l0.9 1.7l1.8 0.7l1.8 3.3l0.9 -0.9l2.7 4.7l0.9 -0.7l2.7 2.6l0.9 1.9l0.9 0.1l1.8 1.5l0.9 -1.2l0.9 3.9l2.7 -0.1l1.8 0.8l2.7 5l2.7 0.2l0.9 1.3l0.9 -0.2l1.8 0.9l0.9 1.6l0.9 -1l0.9 1.9l2.7 0.2l2.7 2.6l0.9 -0.5l0.9 0.4l1.8 2.1l2.7 0.5l0.9 1.1l1.8 0.6l0.9 -0.4l0.9 1.2l1.8 -1l0.9 2l0.9 -0.4l0.9 1.5l1.8 0.3l0.9 1.2l0.9 -0.7l2.7 1.7l0.9 -0.9l0.9 1l1.8 0.2l4.5 2.9l2.7 -0.4l0.9 1.4l2.7 0.1l0.9 1.3l1.8 -0.4l3.6 1.7l3.6 0l0.9 1.2l0.9 -0.8l2.7 2.6l0.9 -1.1l4.5 0.8l1.8 1.1l1.8 -0.5l0.9 1.7l0.9 -1.1l1.8 0.4l2.7 2.3l1.8 -1.3l0.9 1.1l1.8 -0.2l1.8 0.9l0.9 -0.3l0.9 0.9l0.9 -0.6l0.9 0.9l2.7 -0.7l0.9 1.6l2.7 -0.8l0.9 0.8l1.8 -0.2l0.9 1l0.9 -0.8l9.9 2.4l0.9 -0.8l0.9 1.2l1.8 -0.8l0.9 0.9l0.9 -0.7l1.8 1.1l1.8 -0.8l0.9 1.5l2.7 -0.5l1.8 0.8l2.7 -0.3l0.9 1l0.9 -0.8l0.9 0.7l0.9 -1.2l1.8 1.3l0.9 -0.3l3.6 1.1l0.9 -1l1.8 1.1l0.9 -0.8l3.6 1.6l0.9 -0.5l2.7 0.5l1.8 -0.4l1.8 1l3.6 -0.6l1.8 1.1l2.7 -0.4l1.8 0.9l0.9 -0.7l2.7 0.7l9 -0.2l0.9 0.6l2.7 -0.3l7.2 1.2l0.9 -1l0.9 1l2.7 0.4l8.1 -0.3l1.8 1l6.3 -0.6l1.8 0.8l0.9 -0.6l0.9 0.6l2.7 -0.4l0.9 0.7l1.8 -0.6l1.8 1l3.6 -0.5l9 0.8l2.7 -0.7l0.9 0.7l1.8 -0.7l1.8 0.9l2.7 -0.4l6.3 0.5l0.9 -0.7l1.8 1l9.9 -0.2l1.8 0.6l1.8 -0.5l10.9 1l0.9 -0.6l9 0.7l8.1 -0.4l0.9 0.7l3.6 -0.6l4.5 0.7l2.7 -0.5l5.4 0.3l1.8 0.6l4.5 -0.6l7.2 0.6l3.6 -0.3l0.9 0.5l1.8 -0.5l4.5 0.6l0.9 -0.4l9 0.4l2.7 -0.3l5.4 0.6l0.9 -0.7l0.9 0.5l1.8 -0.4l8.1 0.5l2.7 -0.4l1.8 0.7l3.6 0.1l11.7 -0.6l2.7 0.6l22.5 -0.3l1.8 0.5l47.7 0.3l3.6 -0.5l26.1 0.8l0.9 -0.6l2.7 0.5l1.8 -0.5l24.3 0.7l6.3 -0.4l50.4 0.6l201.7 0.3" stroke="#00aaaa" stroke-width="3.5" fill="none" stroke-linejoin="round"/><path d="M417.0 2600.2l2.7 0.5l9.9 -0.6l1.8 0.5l1.8 -0.6l0.9 0.6l10.8 -0.7l0.9 0.6l2.7 -0.4l2.7 0.5l2.7 -0.5l3.6 0.4l11.7 -0.4l1.8 -1.7l0.9 -1.9l2.7 -10l2.7 -43.4l0.9 -30.1l8.1 -354.2l2.7 -81.8l3.6 -77.5l0.9 -1.4l2.7 -24.1l2.7 3.9l0.9 -8.3l0.9 8.1l0.9 -1.8l1.8 14.8l0.9 17.5l0.9 -7.2l0.9 11.8l0.9 -1.6l1.8 12.5l0.9 1.1l4.5 48.8l0.9 -12.6l0.9 14l0.9 2.7l0.9 11.8l1.8 8.1l0.9 0.3l4.5 52.6l0.9 1.7l1.8 14.8l1.8 25.9l0.9 1.9l1.8 20.6l0.9 -1.9l0.9 16.5l2.7 11.8l0.9 14.1l2.7 17.7l0.9 0.7l0.9 11.8l1.8 8.2l1.8 13.9l0.9 2.2l1.8 17.2l0.9 0.3l0.9 10.1l0.9 -3.8l0.9 2.2l0.9 15.5l1.8 5l0.9 7.1l0.9 0l0.9 4l0.9 1.3l2.7 17.5l0.9 0.8l0.9 8.8l2.7 7.6l0.9 6l0.9 0.8l0.9 -0.8l1.8 9.8l0.9 -3.1l1.8 15.5l0.9 -0.1l0.9 1.9l0.9 -0.1l0.9 6.6l0.9 0.6l2.7 9l0.9 0.7l0.9 6.3l0.9 1.4l1.8 0.2l0.9 6.3l1 1.6l0.9 -1.5l0.9 7.8l0.9 -2.6l1.8 7.8l2.7 0.4l0.9 5.6l1.8 5.3l0.9 -2.5l1.8 10.7l0.9 -3.1l1.8 -1l0.9 5l0.9 0.7l0.9 2.9l0.9 -2.1l0.9 5.6l0.9 -1.9l1.8 6.6l0.9 -2.9l1.8 -0.1l0.9 4l1.8 2.8l0.9 3.9l0.9 -2l1.8 5.9l0.9 -1l1.8 3.9l0.9 0.3l1.8 -1.6l0.9 4.2l0.9 0.6l0.9 3.2l0.9 -3.7l0.9 2.5l1.8 1.9l2.7 0.7l0.9 3l1.8 0.8l0.9 -0.6l0.9 2.8l3.6 4.3l0.9 0.7l0.9 -1.3l0.9 4.4l0.9 -1.5l1.8 0.7l0.9 -1.3l0.9 3.6l0.9 -0.3l1.8 2.8l0.9 -2.4l0.9 3.4l0.9 -1.2l0.9 2.5l0.9 -1.8l0.9 0.2l0.9 -1.3l1.8 5.1l0.9 -1.1l0.9 0.3l0.9 1.5l1.8 0.7l0.9 2.1l0.9 -1.5l0.9 1.7l1.8 -0.7l0.9 3l1.8 -3.7l0.9 2.9l0.9 -1.1l2.7 4.1l0.9 -2.2l0.9 1.9l1.8 -1.2l0.9 4l0.9 -0.4l0.9 -1.8l0.9 2.3l0.9 -1.7l1.8 4.6l1.8 -2.3l1.8 1.6l1.8 -1l1.8 1.9l0.9 -0.9l1.8 2.4l3.6 -1.1l1.8 3.7l1.8 -2.2l1.8 2.7l1.8 -1.3l1.8 1.9l2.7 0l0.9 0.9l0.9 -1.5l1.8 2.2l0.9 -1.1l1.8 3.3l0.9 -1.1l0.9 -0.2l0.9 0.7l1.8 -1.2l0.9 1.6l0.9 -1.8l0.9 1.8l2.7 1.6l0.9 -0.8l0.9 0.7l0.9 -1.4l1.8 3.2l1.8 -1.5l0.9 1.2l1.8 -0.9l0.9 1.5l0.9 -1.3l1.8 0.8l2.7 0.1l0.9 0.9l0.9 -1.5l0.9 2.3l0.9 -0.5l0.9 0.8l2.7 -1.7l0.9 1.1l0.9 -0.6l1.8 2.3l0.9 -0.2l0.9 -1.5l0.9 2.2l0.9 -1.1l0.9 0.3l0.9 -0.7l0.9 -1.7l0.9 3.1l0.9 0.5l1.8 -0.5l0.9 0.6l0.9 -0.7l0.9 0.4l0.9 -0.7l0.9 1.6l1.8 -0.6l3.6 1.7l0.9 -1.1l0.9 -0.2l0.9 0.7l0.9 -1l0.9 1.2l1.8 -0.4l1.8 1.4l1.8 -2.1l0.9 2.6l0.9 -1.6l0.9 1.5l0.9 -0.4l2.7 0.3l0.9 1l0.9 -1l0.9 0.5l0.9 -0.8l2.7 2.1l0.9 -1.1l0.9 -0.1l0.9 1.2l0.9 -1.2l0.9 1.6l0.9 -0.9l2.7 -0.7l2.7 0.8l0.9 1l0.9 -0.8l3.6 1.3l0.9 -1.2l0.9 1l1.8 -1l1.8 1.2l1.8 -1.2l0.9 0.1l1.8 1.6l0.9 -1.5l0.9 1l1.8 0.2l1.8 1l0.9 -1.8l1.8 1.5l0.9 -0.1l0.9 -1l1.8 1.9l2.7 -1.5l2.7 1.7l0.9 -1.1l0.9 1.5l0.9 -1.2l1.8 0.8l1.8 -0.9l2.7 0.6l0.9 -0.5l2.7 1.7l1.8 -1.2l0.9 1.1l2.7 -0.9l0.9 1.8l0.9 -3.1l0.9 2.3l1.8 -0.8l3.6 0.8l4.5 -0.6l1.8 0.8l6.3 -0.2l1.8 1.2l2.7 -1.6l0.9 1.2l4.5 0.1l0.9 0.8l0.9 -2.3l2.7 1.9l1.8 -0.8l1.8 0.5l0.9 1.5l0.9 -1.3l3.6 0.6l4.5 -0.9l0.9 0.7l4.5 0.7l2.7 -1.2l1.8 1.1l3.6 -0.8l1.8 0.8l1.8 -0.7l1.8 1.2l1 -1l0.9 0.9l1.8 -0.8l1.8 0.5l1.8 -0.3l0.9 0.6l3.6 -0.6l0.9 0.4l3.6 -0.3l0.9 0.6l1.8 -0.2l2.7 0.7l0.9 -1.7l1.8 1.7l0.9 -0.7l0.9 0.7l0.9 -0.8l0.9 0.7l1.8 -0.6l2.7 0.7l0.9 -1.3l0.9 1.2l1.8 -0.8l0.9 1.1l1.8 0.1l0.9 -0.6l1.8 0.8l1.8 -0.6l1.8 0.1l0.9 0.7l0.9 -0.7l2.7 0.6l0.9 -0.8l0.9 0.8l0.9 -1.1l0.9 0.7l1.8 -0.6l3.6 1l11.7 -0.7l0.9 0.8l1.8 -0.6l0.9 0.7l1.8 -0.7l0.9 0.6l1.8 -1.1l1.8 1.3l0.9 -0.6l2.7 0.8l1.8 -0.9l4.5 0.7l0.9 -0.8l1.8 0.9l1.8 -0.9l2.7 1.2l1.8 -1l0.9 0.7l0.9 -0.5l2.7 0.5l0.9 -0.7l0.9 1.3l0.9 -0.7l6.3 -0.3l3.6 0.3l0.9 0.9l0.9 -1l0.9 0.5l4.5 -0.4l3.6 0.8l0.9 -1l1.8 1.1l0.9 0l0.9 -1.2l0.9 0.8l1.8 -0.5l1.8 0.7l0.9 -0.4l2.7 0.6l0.9 -0.6l3.6 0l0.9 0.8l0.9 -1.1l1.8 0.9l5.4 -0.4l2.7 0.8l1.8 -0.9l1.8 0.5l0.9 -0.4l0.9 0.7l4.5 -1l1.8 0.7l0.9 -0.5l3.6 0.6l2.7 -0.9l0.9 1.1l3.6 0.2l1.8 -0.8l3.6 0.7l2.7 -0.7l0.9 0.7l5.4 -0.6l1.8 0.8l1.8 -1.1l0.9 0.8l4.5 -0.4l0.9 0.7l8.1 -0.7l6.3 0.7l0.9 -0.6l2.7 0.5l0.9 -0.6l1.8 0.5l3.6 -0.4l1.8 0.7l2.7 -0.7l2.7 0.6l2.7 -0.6l1.8 1l3.6 -0.9l2.7 0.8l0.9 -0.8l8.1 0.7l2.7 -0.7l6.3 0.7l14.4 0l1.8 -0.5l7.2 0.8l3.6 -0.7l1.8 0.6l2.7 -0.5l2.7 0.5l0.9 -0.8l2.7 0.8l0.9 -0.4l0.9 0.5l7.2 -0.2l0.9 -0.4l4.5 0.8l1.8 -0.9l2.7 0.7l3.6 -0.4l1.8 0.7l0.9 -0.7l0.9 0.6l1.8 -0.8l10 0.7l3.6 -0.4l1.8 0.7l1.8 -0.7l7.2 0.6l0.9 -0.5l2.7 -0.2l8.1 0.8l0.9 -0.8l1.8 0.6l1.8 -0.7l0.9 0.6l5.4 0.1l0.9 -0.5l2.7 0.6l3.6 -0.7l0.9 0.5l0.9 -0.5l5.4 0.7l2.7 -0.7l1.8 0.7l8.1 -0.3l0.9 0.4l10.8 -0.7l18 0.7l0.9 -0.5l3.6 0.5l0.9 -0.5l1.8 0.5l13.5 0l9 -0.5l5.4 0.6l1.8 -0.5l7.2 0.6l1.8 -0.7l4.5 0.6l4.5 -0.6l5.4 0.8l1.8 -0.6l11.7 0.2" stroke="#8b4242" stroke-width="7" fill="none" stroke-linejoin="round"/></g><rect x="417.0" y="1906.0" width="1012.8" height="695.1" fill="none" stroke="#262626" stroke-width="2.6"/><path d="M417.0 2601.1h-16M417.0 2537.9h-8.5M417.0 2474.7h-16M417.0 2411.5h-8.5M417.0 2348.3h-16M417.0 2285.1h-8.5M417.0 2222.0h-16M417.0 2158.8h-8.5M417.0 2095.6h-16M417.0 2032.4h-8.5M417.0 1969.2h-16M417.0 1906.0h-8.5M417.0 2601.1v13M473.3 2601.1v6.5M529.5 2601.1v13M585.8 2601.1v6.5M642.1 2601.1v13M698.3 2601.1v6.5M754.6 2601.1v13M810.9 2601.1v6.5M867.1 2601.1v13M923.4 2601.1v6.5M979.7 2601.1v13M1035.9 2601.1v6.5M1092.2 2601.1v13M1148.5 2601.1v6.5M1204.7 2601.1v13M1261.0 2601.1v6.5M1317.3 2601.1v13M1373.5 2601.1v6.5M1429.8 2601.1v13" stroke="#262626" stroke-width="2.6" fill="none"/><text x="0" y="0" font-size="60.30" transform="translate(351.18,2618.84) scale(1.1200,1)" fill="#000">0</text><text x="0" y="0" font-size="60.30" transform="translate(238.53,2492.46) scale(1.1200,1)" fill="#000">2000</text><text x="0" y="0" font-size="60.30" transform="translate(238.53,2366.08) scale(1.1200,1)" fill="#000">4000</text><text x="0" y="0" font-size="60.30" transform="translate(238.53,2239.70) scale(1.1200,1)" fill="#000">6000</text><text x="0" y="0" font-size="60.30" transform="translate(238.53,2113.32) scale(1.1200,1)" fill="#000">8000</text><text x="0" y="0" font-size="60.30" transform="translate(200.92,1986.93) scale(1.1200,1)" fill="#000">10000</text><text x="0" y="0" font-size="62.00" transform="translate(397.77,2670.30) scale(1.1200,1)" fill="#000">5</text><text x="0" y="0" font-size="62.00" transform="translate(489.64,2670.30) scale(1.1200,1)" fill="#000">10</text><text x="0" y="0" font-size="62.00" transform="translate(602.28,2670.30) scale(1.1200,1)" fill="#000">15</text><text x="0" y="0" font-size="62.00" transform="translate(715.61,2670.30) scale(1.1200,1)" fill="#000">20</text><text x="0" y="0" font-size="62.00" transform="translate(828.25,2670.30) scale(1.1200,1)" fill="#000">25</text><text x="0" y="0" font-size="62.00" transform="translate(941.09,2670.30) scale(1.1200,1)" fill="#000">30</text><text x="0" y="0" font-size="62.00" transform="translate(1053.73,2670.30) scale(1.1200,1)" fill="#000">35</text><text x="0" y="0" font-size="62.00" transform="translate(1166.68,2670.30) scale(1.1200,1)" fill="#000">40</text><text x="0" y="0" font-size="62.00" transform="translate(1279.32,2670.30) scale(1.1200,1)" fill="#000">45</text><text x="0" y="0" font-size="62.00" transform="translate(1391.16,2670.30) scale(1.1200,1)" fill="#000">50</text><text x="0" y="0" font-size="50.00" transform="translate(197.87,2375.23) rotate(-90) scale(1.1873,1.4520)" fill="#000">Counts</text><clipPath id="tcC"><rect x="0" y="0" width="1522" height="2749.6"/></clipPath><g clip-path="url(#tcC)"><text x="0" y="0" font-size="62.94" transform="translate(769.26,2738.40) scale(1.1131,1)" fill="#000">Time (ns)</text></g><path d="M653.0 2405.5V2479.9" stroke="#000" stroke-width="3.8" fill="none"/><path d="M645.9 2477.9L660.1 2477.9L653.0 2498.5Z" fill="#000"/><text x="0" y="0" font-size="74.46" transform="translate(49.45,1891.69) scale(1.1348,1)" fill="#000">c)</text><clipPath id="ciC"><rect x="853.9" y="1925.4" width="528.8000000000001" height="390.2"/></clipPath><g clip-path="url(#ciC)"><path d="M853.9 2315.1l0.7 0l0.7 0l0.7 0l0.7 0l0.7 0l0.7 0l0.7 0l0.7 0l0.7 0l0.7 0l0.7 0l0.7 0l0.7 0l0.7 0l0.7 0l0.7 0l0.7 0l0.7 0l0.7 0l0.7 0l0.7 0l0.7 0l0.7 0l0.7 0l0.7 0l0.7 0l0.7 0l0.7 0l0.7 0l0.7 0l0.7 0l0.7 0l0.7 0l0.7 0l0.7 0l0.7 0l0.7 0l0.7 0l0.7 0l0.7 0l0.7 0l0.7 0l0.7 0l0.7 0l0.7 0l0.7 0l0.7 0l0.7 0l0.7 0l0.7 0l0.7 0l0.7 0l0.7 0l0.7 0l0.7 0l0.7 0l0.7 0l0.7 0l0.7 0l0.7 0l0.7 0l0.7 0l0.7 0l0.7 0l0.7 0l0.7 0l0.7 0l0.7 0l0.7 0l0.7 0l0.7 0l0.7 0l0.7 0l0.7 0l0.7 0l0.7 0l0.7 0l0.7 0l0.7 0l0.7 0l0.7 0l0.7 0l0.7 0l0.7 0l0.7 0l0.7 0l0.7 0l0.7 0l0.7 0l0.7 0l0.7 0l0.7 0l0.7 0l0.8 0l0.7 0l0.7 0l0.7 0l0.7 0l0.7 0l0.7 0l0.7 0l0.7 0l0.7 0l0.7 0l0.7 0l0.7 0l0.7 0l0.7 0l0.7 0l0.7 0l0.7 0l0.7 -23l0.7 -56.7l0.7 -53.3l0.7 -50.8l0.7 -54.9l0.7 -43.6l0.7 -28.5l0.7 -20.5l0.7 -16.4l0.7 -16.2l0.7 -11.6l0.7 -7.1l0.7 -2.6l0.7 -0.8l0.7 -0.6l0.7 -0.1l0.7 0l0.7 0l0.7 2.9l0.7 5.6l0.7 4.1l0.7 4l0.7 2.1l0.7 3.1l0.7 3.2l0.7 -0.7l0.7 5.6l0.7 4.6l0.7 5l0.7 4.5l0.7 4.6l0.7 4l0.7 2.9l0.7 0.8l0.7 5.5l0.7 6.4l0.7 2.2l0.7 4.4l0.7 6.1l0.7 3l0.7 4.4l0.7 2.6l0.7 10l0.7 3.3l0.7 8.7l0.7 3l0.7 8.1l0.7 6.4l0.7 2l0.7 9.2l0.7 1.9l0.7 12l0.7 3.9l0.7 6.4l0.7 5.7l0.7 1.5l0.7 4.5l0.7 10.1l0.7 -2.4l0.7 9.8l0.7 7.8l0.7 1.1l0.7 5.5l0.7 6l0.7 4.6l0.7 -2.9l0.7 16.1l0.7 7.6l0.7 -3.9l0.7 6.8l0.7 10.1l0.7 4.3l0.7 -4.3l0.7 9.7l0.7 11.2l0.7 -1.8l0.7 0.5l0.7 3l0.7 -3.8l0.7 14.3l0.7 9.2l0.7 -0.9l0.7 1.3l0.7 -1.9l0.7 8.6l0.7 -1.6l0.7 -1.4l0.7 19.4l0.7 -20.2l0.7 11.6l0.7 5.2l0.7 0.4l0.7 5.1l0.7 2.2l0.7 11.9l0.7 -3.5l0.7 2.7l0.7 2.6l0.7 9.1l0.7 3.1l0.7 11l0.7 -1.9l0.7 -12.7l0.7 12l0.7 11.4l0.7 -7.9l0.7 0.5l0.7 6.4l0.7 0.5l0.7 14.8l0.7 -13.4l0.7 16.2l0.7 -4.8l0.7 4.8l0.7 0l0.7 -7.5l0.7 7.5l0.7 0l0.7 0l0.7 0l0.7 0l0.7 0l0.7 0l0.7 0l0.7 0l0.7 0l0.7 0l0.7 0l0.7 0l0.7 0l0.7 0l0.7 0l0.7 0l0.7 0l0.7 0l0.7 0l0.7 0l0.7 0l0.7 0l0.7 0l0.7 0l0.7 0l0.7 0l0.7 0l0.7 0l0.7 0l0.7 0l0.7 0l0.7 0l0.7 0l0.7 0l0.7 0l0.7 0l0.7 0l0.7 0l0.7 0l0.7 0l0.7 0l0.7 0l0.7 0l0.7 0l0.7 0l0.7 0l0.7 0l0.7 0l0.7 0l0.7 0l0.7 0l0.7 0l0.7 0l0.7 0l0.8 0l0.7 0l0.7 0l0.7 0l0.7 0l0.7 0l0.7 0l0.7 0l0.7 0l0.7 0l0.7 0l0.7 0l0.7 0l0.7 0l0.7 0l0.7 0l0.7 0l0.7 0l0.7 0l0.7 0l0.7 0l0.7 0l0.7 0l0.7 0l0.7 0l0.7 0l0.7 0l0.7 0l0.7 0l0.7 0l0.7 0l0.7 0l0.7 0l0.7 0l0.7 0l0.7 0l0.7 0l0.7 0l0.7 0l0.7 0l0.7 0l0.7 0l0.7 0l0.7 0l0.7 0l0.7 0l0.7 0l0.7 0l0.7 0l0.7 0l0.7 0l0.7 0l0.7 0l0.7 0l0.7 0l0.7 0l0.7 0l0.7 0l0.7 0l0.7 0l0.7 0l0.7 0l0.7 0l0.7 0l0.7 0l0.7 0l0.7 0l0.7 0l0.7 0l0.7 0l0.7 0l0.7 0l0.7 0l0.7 0l0.7 0l0.7 0l0.7 0l0.7 0l0.7 0l0.7 0l0.7 0l0.7 0l0.7 0l0.7 0l0.7 0l0.7 0l0.7 0l0.7 0l0.7 0l0.7 0l0.7 0l0.7 0l0.7 0l0.7 0l0.7 0l0.7 0l0.7 0l0.7 0l0.7 0l0.7 0l0.7 0l0.7 0l0.7 0l0.7 0l0.7 0l0.7 0l0.7 0l0.7 0l0.7 -23.5l0.7 2.8l0.7 -8.1l0.7 14.3l0.7 6.8l0.7 7.7l0.7 -3.8l0.7 -7.4l0.7 -3.3l0.7 3.3l0.7 -17.5l0.7 28.7l0.7 -14.5l0.7 10.7l0.7 -7.3l0.7 -25.4l0.7 7l0.7 0l0.7 8l0.7 0l0.7 -2.8l0.7 -14.3l0.7 9.1l0.7 -4.7l0.7 -2.3l0.7 7l0.7 -2.4l0.7 5l0.7 -7.3l0.7 9.9l0.7 -7.6l0.7 2.5l0.7 -4.8l0.7 7.3l0.7 -15.7l0.7 2l0.7 2l0.7 17.2l0.7 -15l0.7 7l0.7 -2.4l0.7 -2.4l0.7 4.8l0.7 -2.4l0.7 5l0.7 8.4l0.7 -13.4l0.7 -4.6l0.7 -2.1l0.7 27.6l0.7 -6.5l0.7 10.1l0.7 -10.1l0.7 -3l0.7 9.5l0.7 -3.3l0.7 6.9l0.7 -21.2l0.7 25l0.7 -3.8l0.7 7.3l0.7 0l0.7 -25.9l0.7 11.7l0.7 -3.1l0.7 6.5l0.7 7.4l0.7 -13.9l0.7 13.9l0.7 0l0.7 -13.9l0.7 -5.9l0.7 9.1l0.7 14.1l0.7 0l0.7 -13l0.7 7.1l0.7 -3.7l0.7 9.6l0.8 0l0.7 0l0.7 0l0.7 0l0.7 0l0.7 0l0.7 0l0.7 0l0.7 0l0.7 0l0.7 0l0.7 0l0.7 0l0.7 0l0.7 0l0.7 0l0.7 0l0.7 0l0.7 0l0.7 0l0.7 0l0.7 0l0.7 0l0.7 0l0.7 0l0.7 0l0.7 0l0.7 0l0.7 0l0.7 0l0.7 0l0.7 0l0.7 0l0.7 0l0.7 0l0.7 0l0.7 0l0.7 0l0.7 0l0.7 0l0.7 0l0.7 0l0.7 0l0.7 0l0.7 0l0.7 0l0.7 0l0.7 0l0.7 0l0.7 0l0.7 0l0.7 0l0.7 0l0.7 0l0.7 0l0.7 0l0.7 0l0.7 0l0.7 0l0.7 0l0.7 0l0.7 0l0.7 0l0.7 0l0.7 0l0.7 0l0.7 0l0.7 0l0.7 0l0.7 0l0.7 0l0.7 0l0.7 0l0.7 0l0.7 0l0.7 0l0.7 0l0.7 0l0.7 0l0.7 0l0.7 0l0.7 0l0.7 0l0.7 0l0.7 0l0.7 0l0.7 0l0.7 0l0.7 0l0.7 0l0.7 0l0.7 0l0.7 0l0.7 0l0.7 0l0.7 0l0.7 0l0.7 0l0.7 0l0.7 0l0.7 0l0.7 0l0.7 0l0.7 0l0.7 0l0.7 0l0.7 0l0.7 0l0.7 0l0.7 0l0.7 0l0.7 0l0.7 0l0.7 0l0.7 0l0.7 0l0.7 0l0.7 0l0.7 0l0.7 0l0.7 0l0.7 0l0.7 0l0.7 0l0.7 0l0.7 0l0.7 0l0.7 0l0.7 0l0.7 0l0.7 0l0.7 0l0.7 0l0.7 0l0.7 0l0.7 0l0.7 0l0.7 0l0.7 0l0.7 0l0.7 0l0.7 0l0.7 0l0.7 0l0.7 0l0.7 0l0.7 0l0.7 0l0.7 0l0.7 0l0.7 0l0.7 0l0.7 0l0.7 0l0.7 0l0.7 0l0.7 0l0.7 0l0.7 0l0.7 0l0.7 0l0.7 0l0.7 0l0.7 0l0.7 0l0.7 0l0.7 0l0.7 0l0.7 0l0.7 0l0.7 0l0.7 0l0.7 0l0.7 0l0.7 0l0.7 0l0.7 0l0.7 0l0.7 0l0.7 0l0.7 0l0.7 0l0.7 0l0.7 0l0.7 0l0.7 0l0.7 0l0.7 0l0.7 0l0.8 0l0.7 0l0.7 0l0.7 0l0.7 0l0.7 0l0.7 0l0.7 0l0.7 0l0.7 0l0.7 0l0.7 0l0.7 0l0.7 0l0.7 0l0.7 0l0.7 0l0.7 0l0.7 0l0.7 0l0.7 0l0.7 0l0.7 0l0.7 0l0.7 0l0.7 0l0.7 0l0.7 0l0.7 0l0.7 0l0.7 0l0.7 0l0.7 0l0.7 0l0.7 0l0.7 0l0.7 0l0.7 0l0.7 0l0.7 0l0.7 0l0.7 0l0.7 0l0.7 0l0.7 0l0.7 0l0.7 0l0.7 0l0.7 0l0.7 0l0.7 0l0.7 0l0.7 0l0.7 0l0.7 0l0.7 0l0.7 0l0.7 0l0.7 0l0.7 0l0.7 0l0.7 0l0.7 0l0.7 0l0.7 0l0.7 0l0.7 0l0.7 0l0.7 0l0.7 0l0.7 0l0.7 0l0.7 0l0.7 0l0.7 0l0.7 0l0.7 0l0.7 0l0.7 0l0.7 0l0.7 0l0.7 0l0.7 0l0.7 0l0.7 0l0.7 0l0.7 0l0.7 0l0.7 0l0.7 0l0.7 0l0.7 0l0.7 0l0.7 0l-0.7 0l-0.7 0l-0.7 0l-0.7 0l-0.7 0l-0.7 0l-0.7 0l-0.7 0l-0.7 0l-0.7 0l-0.7 0l-0.7 0l-0.7 0l-0.7 0l-0.7 0l-0.7 0l-0.7 0l-0.7 0l-0.7 0l-0.7 0l-0.7 0l-0.7 0l-0.7 0l-0.7 0l-0.7 0l-0.7 0l-0.7 0l-0.7 0l-0.7 0l-0.7 0l-0.7 0l-0.7 0l-0.7 0l-0.7 0l-0.7 0l-0.7 0l-0.7 0l-0.7 0l-0.7 0l-0.7 0l-0.7 0l-0.7 0l-0.7 0l-0.7 0l-0.7 0l-0.7 0l-0.7 0l-0.7 0l-0.7 0l-0.7 0l-0.7 0l-0.7 0l-0.7 0l-0.7 0l-0.7 0l-0.7 0l-0.7 0l-0.7 0l-0.7 0l-0.7 0l-0.7 0l-0.7 0l-0.7 0l-0.7 0l-0.7 0l-0.7 0l-0.7 0l-0.7 0l-0.7 0l-0.7 0l-0.7 0l-0.7 0l-0.7 0l-0.7 0l-0.7 0l-0.7 0l-0.7 0l-0.7 0l-0.7 0l-0.7 0l-0.7 0l-0.7 0l-0.7 0l-0.7 0l-0.7 0l-0.7 0l-0.7 0l-0.7 0l-0.7 0l-0.7 0l-0.7 0l-0.7 0l-0.7 0l-0.8 0l-0.7 0l-0.7 0l-0.7 0l-0.7 0l-0.7 0l-0.7 0l-0.7 0l-0.7 0l-0.7 0l-0.7 0l-0.7 0l-0.7 0l-0.7 0l-0.7 0l-0.7 0l-0.7 0l-0.7 0l-0.7 0l-0.7 0l-0.7 0l-0.7 0l-0.7 0l-0.7 0l-0.7 0l-0.7 0l-0.7 0l-0.7 0l-0.7 0l-0.7 0l-0.7 0l-0.7 0l-0.7 0l-0.7 0l-0.7 0l-0.7 0l-0.7 0l-0.7 0l-0.7 0l-0.7 0l-0.7 0l-0.7 0l-0.7 0l-0.7 0l-0.7 0l-0.7 0l-0.7 0l-0.7 0l-0.7 0l-0.7 0l-0.7 0l-0.7 0l-0.7 0l-0.7 0l-0.7 0l-0.7 0l-0.7 0l-0.7 0l-0.7 0l-0.7 0l-0.7 0l-0.7 0l-0.7 0l-0.7 0l-0.7 0l-0.7 0l-0.7 0l-0.7 0l-0.7 0l-0.7 0l-0.7 0l-0.7 0l-0.7 0l-0.7 0l-0.7 0l-0.7 0l-0.7 0l-0.7 0l-0.7 0l-0.7 0l-0.7 0l-0.7 0l-0.7 0l-0.7 0l-0.7 0l-0.7 0l-0.7 0l-0.7 0l-0.7 0l-0.7 0l-0.7 0l-0.7 0l-0.7 0l-0.7 0l-0.7 0l-0.7 0l-0.7 0l-0.7 0l-0.7 0l-0.7 0l-0.7 0l-0.7 0l-0.7 0l-0.7 0l-0.7 0l-0.7 0l-0.7 0l-0.7 0l-0.7 0l-0.7 0l-0.7 0l-0.7 0l-0.7 0l-0.7 0l-0.7 0l-0.7 0l-0.7 0l-0.7 0l-0.7 0l-0.7 0l-0.7 0l-0.7 0l-0.7 0l-0.7 0l-0.7 0l-0.7 0l-0.7 0l-0.7 0l-0.7 0l-0.7 0l-0.7 0l-0.7 0l-0.7 0l-0.7 0l-0.7 0l-0.7 0l-0.7 0l-0.7 0l-0.7 0l-0.7 0l-0.7 0l-0.7 0l-0.7 0l-0.7 0l-0.7 0l-0.7 0l-0.7 0l-0.7 0l-0.7 0l-0.7 0l-0.7 0l-0.7 0l-0.7 0l-0.7 0l-0.7 0l-0.7 0l-0.7 0l-0.7 0l-0.7 0l-0.7 0l-0.7 0l-0.7 0l-0.7 0l-0.7 0l-0.7 0l-0.7 0l-0.7 0l-0.7 0l-0.7 0l-0.7 0l-0.7 0l-0.7 0l-0.7 0l-0.7 0l-0.7 0l-0.7 0l-0.7 0l-0.7 0l-0.7 0l-0.7 0l-0.7 0l-0.7 0l-0.7 0l-0.7 0l-0.7 0l-0.7 0l-0.7 0l-0.7 0l-0.7 0l-0.8 0l-0.7 0l-0.7 0l-0.7 0l-0.7 0l-0.7 0l-0.7 0l-0.7 0l-0.7 0l-0.7 0l-0.7 0l-0.7 0l-0.7 0l-0.7 0l-0.7 0l-0.7 0l-0.7 0l-0.7 0l-0.7 0l-0.7 0l-0.7 0l-0.7 0l-0.7 0l-0.7 0l-0.7 0l-0.7 0l-0.7 0l-0.7 0l-0.7 0l-0.7 0l-0.7 0l-0.7 -4.8l-0.7 -10.5l-0.7 14.5l-0.7 0.8l-0.7 -8.6l-0.7 -3.5l-0.7 7.2l-0.7 0l-0.7 4.9l-0.7 0l-0.7 0l-0.7 -0.9l-0.7 -7.7l-0.7 8.6l-0.7 -4.9l-0.7 4.9l-0.7 0l-0.7 0l-0.7 -8.7l-0.7 7.7l-0.7 1l-0.7 -8.7l-0.7 7.7l-0.7 1l-0.7 0l-0.7 -15.5l-0.7 14.5l-0.7 1l-0.7 0l-0.7 -1.1l-0.7 0l-0.7 -17.5l-0.7 18.6l-0.7 0l-0.7 0l-0.7 0l-0.7 0l-0.7 0l-0.7 0l-0.7 0l-0.7 0l-0.7 0l-0.7 0l-0.7 0l-0.7 0l-0.7 0l-0.7 0l-0.7 0l-0.7 0l-0.7 0l-0.7 0l-0.7 0l-0.7 0l-0.7 0l-0.7 0l-0.7 0l-0.7 0l-0.7 0l-0.7 0l-0.7 0l-0.7 0l-0.7 0l-0.7 0l-0.7 0l-0.7 0l-0.7 0l-0.7 0l-0.7 0l-0.7 0l-0.7 0l-0.7 0l-0.7 0l-0.7 0l-0.7 0l-0.7 0l-0.7 0l-0.7 0l-0.7 0l-0.7 0l-0.7 0l-0.7 0l-0.7 0l-0.7 0l-0.7 0l-0.7 0l-0.7 0l-0.7 0l-0.7 0l-0.7 0l-0.7 0l-0.7 0l-0.7 0l-0.7 0l-0.7 0l-0.7 0l-0.7 0l-0.7 0l-0.7 0l-0.7 0l-0.7 0l-0.7 0l-0.7 0l-0.7 0l-0.7 0l-0.7 0l-0.7 0l-0.7 0l-0.7 0l-0.7 0l-0.7 0l-0.7 0l-0.7 0l-0.7 0l-0.7 0l-0.7 0l-0.7 0l-0.7 0l-0.7 0l-0.7 0l-0.7 0l-0.7 0l-0.7 0l-0.7 0l-0.7 0l-0.7 0l-0.7 0l-0.7 0l-0.7 0l-0.7 0l-0.7 0l-0.7 0l-0.7 0l-0.7 0l-0.7 0l-0.7 0l-0.7 0l-0.7 0l-0.7 0l-0.7 0l-0.7 0l-0.7 0l-0.7 0l-0.7 0l-0.7 0l-0.7 0l-0.7 0l-0.7 0l-0.7 0l-0.7 0l-0.7 0l-0.7 0l-0.7 0l-0.7 0l-0.7 0l-0.7 0l-0.7 0l-0.8 0l-0.7 0l-0.7 0l-0.7 0l-0.7 0l-0.7 0l-0.7 0l-0.7 0l-0.7 0l-0.7 0l-0.7 0l-0.7 0l-0.7 0l-0.7 0l-0.7 0l-0.7 0l-0.7 0l-0.7 0l-0.7 0l-0.7 0l-0.7 0l-0.7 0l-0.7 0l-0.7 0l-0.7 0l-0.7 0l-0.7 0l-0.7 0l-0.7 0l-0.7 0l-0.7 0l-0.7 0l-0.7 0l-0.7 0l-0.7 0l-0.7 0l-0.7 0l-0.7 0l-0.7 0l-0.7 0l-0.7 0l-0.7 0l-0.7 0l-0.7 0l-0.7 0l-0.7 0l-0.7 0l-0.7 0l-0.7 0l-0.7 0l-0.7 0l-0.7 0l-0.7 0l-0.7 0l-0.7 0l-0.7 0l-0.7 0l-0.7 0l-0.7 0l-0.7 0l-0.7 0l-0.7 0l-0.7 0l-0.7 0l-0.7 0l-0.7 0l-0.7 0l-0.7 0l-0.7 -12.2l-0.7 12.2l-0.7 -2.3l-0.7 -11.9l-0.7 14.2l-0.7 -21.6l-0.7 -3.3l-0.7 -6.1l-0.7 13.5l-0.7 -21.8l-0.7 15.9l-0.7 -12.2l-0.7 -8.2l-0.7 3.5l-0.7 -4.2l-0.7 -9.3l-0.7 29.6l-0.7 -43.8l-0.7 12.5l-0.7 -8.2l-0.7 -3.8l-0.7 -7.7l-0.7 25.6l-0.7 -15.7l-0.7 -12.6l-0.7 5l-0.7 -25.9l-0.7 18.4l-0.7 -9l-0.7 -4.9l-0.7 0.1l-0.7 -9.9l-0.7 -6.9l-0.7 -12.5l-0.7 -1.7l-0.7 -14.2l-0.7 6.7l-0.7 -12.7l-0.7 -6.8l-0.7 -3.4l-0.7 -6.9l-0.7 1.4l-0.7 -4.5l-0.7 -13.5l-0.7 -4.6l-0.7 -7.4l-0.7 -5.8l-0.7 -9.2l-0.7 1.8l-0.7 -8.1l-0.7 -4.7l-0.7 -3.3l-0.7 -13l-0.7 -4.2l-0.7 -3.7l-0.7 -7.3l-0.7 -5.9l-0.7 -8.2l-0.7 -1.6l-0.7 -9.4l-0.7 -6.8l-0.7 -7.3l-0.7 -3.3l-0.7 -6.3l-0.7 -4.4l-0.7 -4.8l-0.7 -4.2l-0.7 -4l-0.7 -0.8l-0.7 -6.6l-0.7 -4.2l-0.7 -3.3l-0.7 -5.8l-0.7 -2.3l-0.7 -4.6l-0.7 -4.9l-0.7 -4.5l-0.7 -3.8l-0.7 -2.6l-0.7 -4.3l-0.7 -2.7l-0.7 -3.4l-0.7 -2.7l-0.7 -2.1l-0.7 -5.6l-0.7 -5.6l-0.7 0l-0.7 0.2l-0.7 0.6l-0.7 0.3l-0.7 1.1l-0.7 6.4l-0.7 13.7l-0.7 12.3l-0.7 15.6l-0.7 17.2l-0.7 29.2l-0.7 42.7l-0.7 47.2l-0.7 56.6l-0.7 54.8l-0.7 56.1l-0.7 30.6l-0.7 0l-0.7 0l-0.7 0l-0.7 0l-0.7 0l-0.7 0l-0.7 0l-0.7 0l-0.7 0l-0.7 0l-0.7 0l-0.7 0l-0.7 0l-0.7 0l-0.7 0l-0.7 0l-0.7 0l-0.7 0l-0.8 0l-0.7 0l-0.7 0l-0.7 0l-0.7 0l-0.7 0l-0.7 0l-0.7 0l-0.7 0l-0.7 0l-0.7 0l-0.7 0l-0.7 0l-0.7 0l-0.7 0l-0.7 0l-0.7 0l-0.7 0l-0.7 0l-0.7 0l-0.7 0l-0.7 0l-0.7 0l-0.7 0l-0.7 0l-0.7 0l-0.7 0l-0.7 0l-0.7 0l-0.7 0l-0.7 0l-0.7 0l-0.7 0l-0.7 0l-0.7 0l-0.7 0l-0.7 0l-0.7 0l-0.7 0l-0.7 0l-0.7 0l-0.7 0l-0.7 0l-0.7 0l-0.7 0l-0.7 0l-0.7 0l-0.7 0l-0.7 0l-0.7 0l-0.7 0l-0.7 0l-0.7 0l-0.7 0l-0.7 0l-0.7 0l-0.7 0l-0.7 0l-0.7 0l-0.7 0l-0.7 0l-0.7 0l-0.7 0l-0.7 0l-0.7 0l-0.7 0l-0.7 0l-0.7 0l-0.7 0l-0.7 0l-0.7 0l-0.7 0l-0.7 0l-0.7 0l-0.7 0l-0.7 0l-0.7 0l-0.7 0l-0.7 0l-0.7 0l-0.7 0l-0.7 0l-0.7 0l-0.7 0l-0.7 0l-0.7 0l-0.7 0l-0.7 0l-0.7 0l-0.7 0l-0.7 0l-0.7 0l-0.7 0l-0.7 0Z" fill="#4a4a4a" stroke="#4a4a4a" stroke-width="1.08" stroke-linejoin="round"/><path d="M853.9 2292.4l0.7 2.9l0.7 -5.6l0.7 2.7l0.7 -2.7l0.7 15.2l0.7 -12.5l0.7 0l0.7 -2.7l0.7 0l0.7 5.6l0.7 3l0.7 -8.6l0.7 8.6l0.7 -13.7l0.7 16.9l0.7 -11.8l0.7 2.7l0.7 0l0.7 5.9l0.7 -5.9l0.7 0l0.7 -2.7l0.7 -9.8l0.7 12.5l0.7 5.9l0.7 -11.2l0.7 0l0.7 -2.5l0.7 5.1l0.7 0l0.7 2.7l0.7 -5.3l0.7 8.2l0.7 -8.2l0.7 -7.2l0.7 12.5l0.7 9.1l0.7 -27.9l0.7 13.5l0.7 2.6l0.7 -2.6l0.7 -7.2l0.7 4.7l0.7 10.7l0.7 -15.4l0.7 18.4l0.7 -13.7l0.7 13.7l0.7 -16.1l0.7 13.1l0.7 -2.9l0.7 0l0.7 -2.7l0.7 2.7l0.7 5.9l0.7 -11.2l0.7 5.3l0.7 5.9l0.7 -11.2l0.7 5.3l0.7 -2.7l0.7 8.6l0.7 -5.9l0.7 -2.7l0.7 8.6l0.7 -24.7l0.7 13.5l0.7 5.3l0.7 0l0.7 2.9l0.7 -15.4l0.7 2.3l0.7 10.2l0.7 0l0.7 2.9l0.7 -5.6l0.7 -9.8l0.7 7.2l0.7 8.2l0.7 -2.9l0.7 9.1l0.7 -11.8l0.7 -5.1l0.7 -2.4l0.7 13.1l0.7 9.6l0.7 -9.6l0.7 -8.2l0.7 8.2l0.7 0l0.7 0l0.7 -5.6l0.7 8.6l0.8 -3l0.7 3l0.7 -11.2l0.7 -7.2l0.7 -2.2l0.7 2.2l0.7 9.8l0.7 0l0.7 2.7l0.7 -5.3l0.7 -4.9l0.7 7.5l0.7 2.7l0.7 -2.7l0.7 8.6l0.7 -8.6l0.7 11.8l0.7 -11.8l0.7 -12l0.7 17.6l0.7 -27.4l0.7 -51.8l0.7 -35.7l0.7 -44.1l0.7 -45.6l0.7 -35.6l0.7 -35.2l0.7 -22.9l0.7 -16l0.7 -14.6l0.7 -11.7l0.7 -8.2l0.7 -4.5l0.7 -6.2l0.7 -2.4l0.7 -1.9l0.7 -1.6l0.7 -0.4l0.7 -1.1l0.7 0l0.7 0l0.7 0.7l0.7 -0.1l0.7 1.1l0.7 0.1l0.7 1.7l0.7 0.8l0.7 0.9l0.7 0.7l0.7 1.3l0.7 0.7l0.7 1.5l0.7 1.6l0.7 0.2l0.7 0.6l0.7 1l0.7 2.8l0.7 1.2l0.7 1.8l0.7 2.2l0.7 1.6l0.7 0.9l0.7 1.4l0.7 2.2l0.7 2.6l0.7 1.4l0.7 1.5l0.7 0.3l0.7 2.3l0.7 2.7l0.7 0.8l0.7 1.3l0.7 1.9l0.7 1.7l0.7 0.5l0.7 2.4l0.7 1.9l0.7 1.5l0.7 1.7l0.7 1.8l0.7 1.7l0.7 2.4l0.7 -0.8l0.7 3.1l0.7 1.7l0.7 1.7l0.7 2.1l0.7 -0.5l0.7 3.3l0.7 -1.2l0.7 3l0.7 1.7l0.7 1l0.7 2.1l0.7 0.7l0.7 1.9l0.7 1.5l0.7 2.2l0.7 0.4l0.7 1.1l0.7 3l0.7 0.2l0.7 1.7l0.7 1.4l0.7 2.9l0.7 -0.8l0.7 1.6l0.7 1.5l0.7 1l0.7 2l0.7 2.9l0.7 -1.8l0.7 1.7l0.7 1.4l0.7 3.1l0.7 0.9l0.7 2.9l0.7 0l0.7 1.7l0.7 2l0.7 0l0.7 1.5l0.7 1.1l0.7 1.2l0.7 -0.7l0.7 5.5l0.7 0.2l0.7 2.6l0.7 -1.5l0.7 0.3l0.7 4.3l0.7 0.7l0.7 -2.3l0.7 4.5l0.7 1.3l0.7 3.1l0.7 -2.2l0.7 3.9l0.7 0.7l0.7 1.2l0.7 1.4l0.7 0.5l0.7 1.2l0.7 3.1l0.7 0.4l0.7 0.9l0.7 0.9l0.7 -0.6l0.7 5.4l0.7 -0.3l0.7 1.4l0.7 0.6l0.7 -1.4l0.7 1.9l0.7 3.5l0.7 0.9l0.7 3.4l0.7 -2.7l0.7 6.7l0.7 -4.6l0.7 1.6l0.7 1.7l0.7 3.7l0.7 -1.7l0.7 -0.4l0.7 3.7l0.7 1.6l0.7 0.1l0.7 3l0.7 -2.5l0.7 3.8l0.7 -2.1l0.7 4.1l0.7 4.5l0.7 1.5l0.7 -2.3l0.7 -1.6l0.7 2.5l0.7 1.8l0.7 1.4l0.7 0l0.7 4l0.7 1l0.7 -5.6l0.7 7.9l0.7 -3.3l0.7 4.7l0.7 0.4l0.7 -2.9l0.8 8.4l0.7 -0.5l0.7 -1l0.7 1.3l0.7 3.9l0.7 -2.6l0.7 2.3l0.7 4.2l0.7 -4.7l0.7 3.6l0.7 2.9l0.7 4.4l0.7 -6.1l0.7 -0.4l0.7 3.1l0.7 -1.9l0.7 4.1l0.7 8.2l0.7 -3.3l0.7 -1l0.7 1.3l0.7 -0.4l0.7 4.7l0.7 -4.4l0.7 2.1l0.7 4.2l0.7 -4l0.7 1.8l0.7 1l0.7 3.1l0.7 8.9l0.7 -8.3l0.7 2.9l0.7 -3.9l0.7 8.8l0.7 -4.7l0.7 1.5l0.7 4l0.7 8.7l0.7 -10.8l0.7 6.6l0.7 -1.6l0.7 1.1l0.7 -2.4l0.7 4.5l0.7 5l0.7 -5.7l0.7 9.6l0.7 -6.1l0.7 -1.1l0.7 0.2l0.7 6.4l0.7 -0.8l0.7 1l0.7 5.8l0.7 -1.6l0.7 -1.8l0.7 6.6l0.7 1.1l0.7 -8.2l0.7 3.3l0.7 1.8l0.7 -6.8l0.7 14.8l0.7 -5.9l0.7 5.6l0.7 -7.8l0.7 -0.2l0.7 6.6l0.7 1.3l0.7 3.7l0.7 5.5l0.7 -5l0.7 -1.8l0.7 1.4l0.7 -0.9l0.7 6.4l0.7 3.4l0.7 -10.2l0.7 -0.9l0.7 4.5l0.7 8.8l0.7 -4l0.7 -1.8l0.7 3.4l0.7 5.7l0.7 -3.2l0.7 1.8l0.7 13.3l0.7 -14.6l0.7 8.2l0.7 -13.9l0.7 6.4l0.7 10.5l0.7 -5.6l0.7 3.2l0.7 2.2l0.7 -2.3l0.7 8l0.7 0l0.7 -8.1l0.7 5.6l0.7 3.5l0.7 -3.6l0.7 -2.2l0.7 0l0.7 3.4l0.7 2.3l0.7 0l0.7 1.2l0.7 1.3l0.7 -3.5l0.7 0l0.7 -4.3l0.7 14.2l0.7 -10.8l0.7 8.2l0.7 8.2l0.7 -2.8l0.7 -5.2l0.7 5.2l0.7 1.5l0.7 -2.6l0.7 -6.2l0.7 11.7l0.7 -1.3l0.7 -6.5l0.7 12.5l0.7 -5.8l0.7 7.4l0.7 -5.8l0.7 5.9l0.7 -7.1l0.7 8.8l0.7 -1.5l0.7 -4.3l0.7 -6.5l0.7 9.6l0.7 -2.8l0.7 7.6l0.7 3.4l0.7 -3.2l0.7 -12.7l0.7 16.1l0.7 -3.1l0.7 1.7l0.7 -7.5l0.7 6.1l0.7 1.7l0.7 -4.6l0.7 11.7l0.7 -5.1l0.7 -3.1l0.7 1.7l0.7 1.8l0.7 0l0.7 -1.4l0.7 3.3l0.7 -4.6l0.7 4.9l0.7 -4.7l0.7 3.3l0.7 5.3l0.7 -3.4l0.7 3.6l0.7 9.8l0.7 4.5l0.7 -8.4l0.7 -5.5l0.7 3.9l0.7 4l0.7 4.3l0.7 -6.1l0.7 10.9l0.7 0.1l0.7 -2.2l0.7 -4.2l0.7 2.3l0.7 -2.1l0.7 -11.2l0.7 -1.5l0.7 7.2l0.7 -10.2l0.7 10.4l0.7 4l0.7 -5.6l0.7 22.1l0.8 -9.6l0.7 4.8l0.7 -9l0.7 4.5l0.7 -4.2l0.7 9.2l0.7 -4.7l0.7 -13.8l0.7 21.3l0.7 -13.5l0.7 2.3l0.7 6.7l0.7 -4.4l0.7 4.7l0.7 13.3l0.7 -27.6l0.7 7.9l0.7 9.2l0.7 0.1l0.7 8.1l0.7 -2.6l0.7 2.9l0.7 3l0.7 -15.7l0.7 -14l0.7 21.6l0.7 8.6l0.7 -5.7l0.7 5.9l0.7 -5.7l0.7 -2.7l0.7 8.7l0.7 0.2l0.7 -11.2l0.7 8.3l0.7 -5.5l0.7 -11.9l0.7 9.4l0.7 2.7l0.7 2.9l0.7 -16.9l0.7 9.1l0.7 5.3l0.7 5.8l0.7 -2.9l0.7 -2.7l0.7 5.8l0.7 -2.8l0.7 -2.7l0.7 2.8l0.7 9.5l0.7 -3.3l0.7 0.1l0.7 -3l0.7 6.5l0.7 -3.2l0.7 10.7l0.7 -10.6l0.7 -3l0.7 10.1l0.7 7.6l0.7 -11l0.7 -6.4l0.7 6.6l0.7 -15l0.7 25.8l0.7 -20.2l0.7 6.3l0.7 13.9l0.7 -10.4l0.7 0.1l0.7 7.6l0.7 -10.8l0.7 3.5l0.7 0l0.7 3.8l0.7 -10.3l0.7 14.3l0.7 -10.9l0.7 11l0.7 -3.8l0.7 -10.3l0.7 16.2l0.7 -12.8l0.7 0.1l0.7 -9.2l0.7 20.4l0.7 -11l0.7 11.1l0.7 1.4l0.7 0l0.7 -15.6l0.7 3.3l0.7 7.3l0.7 -3.6l0.7 0l0.7 7.8l0.7 -11.1l0.7 -3.3l0.7 14.6l0.7 0.1l0.7 0l0.7 0.5l0.7 -4.3l0.7 -3.7l0.7 8l0.7 -7.9l0.7 7.9l0.7 0l0.7 -7.8l0.7 3.9l0.7 3.9l0.7 0l0.7 -14.5l0.7 14.5l0.7 0l0.7 0l0.7 -3.5l0.7 3.5l0.7 0l0.7 0l0.7 0l0.7 0l0.7 0l0.7 0l0.7 0l0.7 -3.1l0.7 3.1l0.7 0l0.7 0l0.7 0l0.7 0l0.7 -10.2l0.7 10.2l0.7 0l0.7 0l0.7 0l0.7 0l0.7 0l0.7 0l0.7 0l0.7 0l0.7 0l0.7 0l0.7 0l0.7 0l0.7 0l0.7 0l0.7 0l0.7 0l0.7 0l0.7 0l0.7 0l0.7 0l0.7 0l0.7 0l0.7 0l0.7 0l0.7 -9.2l0.7 9.2l0.7 0l0.7 0l0.7 0l0.7 0l0.7 0l0.7 0l0.7 0l0.7 0l0.7 0l0.7 0l0.7 0l0.7 0l0.7 0l0.7 0l0.7 0l0.7 0l0.7 0l0.7 0l0.7 0l0.7 0l0.7 0l0.7 0l0.7 0l0.7 0l0.7 0l0.7 0l0.7 0l0.7 0l0.7 0l0.8 0l0.7 0l0.7 0l0.7 0l0.7 0l0.7 0l0.7 0l0.7 0l0.7 0l0.7 0l0.7 0l0.7 0l0.7 0l0.7 0l0.7 0l0.7 0l0.7 0l0.7 0l0.7 0l0.7 0l0.7 0l0.7 0l0.7 0l0.7 0l0.7 0l0.7 0l0.7 0l0.7 0l0.7 0l0.7 0l0.7 0l0.7 0l0.7 0l0.7 0l0.7 0l0.7 0l0.7 0l0.7 0l0.7 0l0.7 0l0.7 0l0.7 0l0.7 0l0.7 0l0.7 0l0.7 0l0.7 0l0.7 0l0.7 0l0.7 0l0.7 0l0.7 0l0.7 0l0.7 0l0.7 0l0.7 0l0.7 0l0.7 0l0.7 0l0.7 0l0.7 0l0.7 0l0.7 0l0.7 0l0.7 0l0.7 0l0.7 0l0.7 0l0.7 0l0.7 0l0.7 0l0.7 0l0.7 0l0.7 0l0.7 0l0.7 0l0.7 0l0.7 0l0.7 0l0.7 0l0.7 0l0.7 0l0.7 0l0.7 0l0.7 0l0.7 0l0.7 0l0.7 0l0.7 0l0.7 0l0.7 0l0.7 0l0.7 0l0.7 0l-0.7 0l-0.7 0l-0.7 0l-0.7 0l-0.7 0l-0.7 0l-0.7 0l-0.7 0l-0.7 0l-0.7 0l-0.7 0l-0.7 0l-0.7 0l-0.7 0l-0.7 0l-0.7 0l-0.7 0l-0.7 0l-0.7 0l-0.7 0l-0.7 0l-0.7 0l-0.7 0l-0.7 0l-0.7 0l-0.7 0l-0.7 0l-0.7 0l-0.7 0l-0.7 0l-0.7 0l-0.7 0l-0.7 0l-0.7 0l-0.7 0l-0.7 0l-0.7 0l-0.7 0l-0.7 0l-0.7 0l-0.7 0l-0.7 0l-0.7 0l-0.7 0l-0.7 0l-0.7 0l-0.7 0l-0.7 0l-0.7 0l-0.7 0l-0.7 0l-0.7 0l-0.7 0l-0.7 0l-0.7 0l-0.7 0l-0.7 0l-0.7 0l-0.7 0l-0.7 0l-0.7 0l-0.7 0l-0.7 0l-0.7 0l-0.7 0l-0.7 0l-0.7 0l-0.7 0l-0.7 0l-0.7 0l-0.7 0l-0.7 0l-0.7 0l-0.7 0l-0.7 0l-0.7 0l-0.7 0l-0.7 0l-0.7 0l-0.7 0l-0.7 0l-0.7 0l-0.7 0l-0.7 0l-0.7 0l-0.7 0l-0.7 0l-0.7 0l-0.7 0l-0.7 0l-0.7 0l-0.7 0l-0.7 0l-0.8 0l-0.7 0l-0.7 0l-0.7 0l-0.7 0l-0.7 0l-0.7 0l-0.7 0l-0.7 0l-0.7 0l-0.7 0l-0.7 0l-0.7 0l-0.7 0l-0.7 0l-0.7 0l-0.7 0l-0.7 0l-0.7 0l-0.7 0l-0.7 0l-0.7 0l-0.7 0l-0.7 0l-0.7 0l-0.7 0l-0.7 0l-0.7 0l-0.7 0l-0.7 0l-0.7 0l-0.7 0l-0.7 0l-0.7 0l-0.7 0l-0.7 0l-0.7 0l-0.7 0l-0.7 0l-0.7 0l-0.7 0l-0.7 0l-0.7 0l-0.7 0l-0.7 0l-0.7 0l-0.7 0l-0.7 0l-0.7 0l-0.7 0l-0.7 0l-0.7 0l-0.7 0l-0.7 0l-0.7 0l-0.7 0l-0.7 0l-0.7 0l-0.7 0l-0.7 0l-0.7 0l-0.7 0l-0.7 0l-0.7 0l-0.7 0l-0.7 0l-0.7 0l-0.7 0l-0.7 0l-0.7 0l-0.7 0l-0.7 0l-0.7 0l-0.7 0l-0.7 0l-0.7 0l-0.7 0l-0.7 0l-0.7 0l-0.7 0l-0.7 0l-0.7 0l-0.7 0l-0.7 0l-0.7 0l-0.7 0l-0.7 0l-0.7 0l-0.7 0l-0.7 0l-0.7 0l-0.7 0l-0.7 0l-0.7 0l-0.7 0l-0.7 0l-0.7 0l-0.7 0l-0.7 0l-0.7 0l-0.7 0l-0.7 0l-0.7 0l-0.7 0l-0.7 0l-0.7 0l-0.7 0l-0.7 0l-0.7 0l-0.7 0l-0.7 0l-0.7 0l-0.7 0l-0.7 0l-0.7 0l-0.7 0l-0.7 0l-0.7 0l-0.7 0l-0.7 0l-0.7 0l-0.7 0l-0.7 0l-0.7 0l-0.7 0l-0.7 0l-0.7 0l-0.7 0l-0.7 0l-0.7 0l-0.7 0l-0.7 0l-0.7 0l-0.7 0l-0.7 0l-0.7 0l-0.7 0l-0.7 0l-0.7 0l-0.7 0l-0.7 0l-0.7 0l-0.7 0l-0.7 0l-0.7 0l-0.7 0l-0.7 0l-0.7 0l-0.7 0l-0.7 0l-0.7 -2.2l-0.7 2.2l-0.7 0l-0.7 0l-0.7 0l-0.7 0l-0.7 0l-0.7 0l-0.7 0l-0.7 0l-0.7 0l-0.7 -3.6l-0.7 3.6l-0.7 0l-0.7 0l-0.7 0l-0.7 0l-0.7 -0.5l-0.7 -7.9l-0.7 8.4l-0.7 -12.1l-0.7 3.3l-0.7 -3.7l-0.7 11l-0.7 -4.1l-0.7 -3.8l-0.7 9.4l-0.7 -13.1l-0.7 -3.4l-0.7 16.5l-0.7 -19.8l-0.7 9.6l-0.7 -0.1l-0.7 7.5l-0.7 -7.7l-0.7 -6.9l-0.7 3.2l-0.7 10.9l-0.7 -0.2l-0.8 -11.1l-0.7 -6.4l-0.7 6.2l-0.7 -6.5l-0.7 -3.1l-0.7 2.9l-0.7 -0.2l-0.7 3.1l-0.7 3l-0.7 -3.3l-0.7 -0.1l-0.7 -0.2l-0.7 10.4l-0.7 -13.6l-0.7 21.7l-0.7 -32.9l-0.7 24.5l-0.7 -13.8l-0.7 3l-0.7 -16.5l-0.7 10.3l-0.7 6l-0.7 -19l-0.7 4.7l-0.7 10.9l-0.7 -3l-0.7 -2.9l-0.7 -7.9l-0.7 16.7l-0.7 -16.8l-0.7 -4.8l-0.7 7.1l-0.7 -2.6l-0.7 -6.9l-0.7 9.3l-0.7 14.4l-0.7 -19.5l-0.7 10.3l-0.7 -5.5l-0.7 -2.5l-0.7 14l-0.7 -25.4l-0.7 0l-0.7 13.8l-0.7 -9.7l-0.7 9.7l-0.7 -12l-0.7 -6.2l-0.7 6.2l-0.7 12l-0.7 -7.5l-0.7 -4.6l-0.7 -11.9l-0.7 14.2l-0.7 -12.4l-0.7 5.8l-0.7 2.2l-0.7 -4.2l-0.7 4.2l-0.7 -4.2l-0.7 -3.9l-0.7 15.4l-0.7 -9.2l-0.7 -4.1l-0.7 -7.6l-0.7 -5l-0.7 6.9l-0.7 17.4l-0.7 -20.9l-0.7 0.1l-0.7 5.7l-0.7 -1.8l-0.7 0l-0.7 -7.1l-0.7 15.9l-0.7 -19l-0.7 -3.2l-0.7 8.5l-0.7 12.5l-0.7 -14l-0.7 -8.2l-0.7 5.1l-0.7 0.2l-0.7 0.2l-0.7 -9.5l-0.7 8.3l-0.7 -3.3l-0.7 3.8l-0.7 0.2l-0.7 -9.6l-0.7 5.2l-0.7 1.9l-0.7 0.4l-0.7 2.3l-0.7 -15.9l-0.7 -11.5l-0.7 17.9l-0.7 15l-0.7 -1.9l-0.7 -7.1l-0.7 -9.7l-0.7 1.8l-0.7 3.4l-0.7 -14.3l-0.7 11.6l-0.7 -9.9l-0.7 -2.4l-0.7 1.6l-0.7 -11.4l-0.7 0.2l-0.7 7l-0.7 -8.8l-0.7 4.6l-0.7 -3.1l-0.7 3.5l-0.7 6.3l-0.7 -13.2l-0.7 -1.8l-0.7 5.3l-0.7 -9.6l-0.7 2.1l-0.7 -1.7l-0.7 -2.3l-0.7 10.6l-0.7 -12.8l-0.7 -0.6l-0.7 4.6l-0.7 8.8l-0.7 -14.4l-0.7 0.3l-0.7 3.5l-0.7 -7.7l-0.7 3.2l-0.7 -7.2l-0.7 2.4l-0.7 -4.1l-0.7 0.2l-0.7 -3.7l-0.7 6.4l-0.7 -1.4l-0.7 -4.3l-0.7 7.1l-0.7 -14l-0.7 6.2l-0.7 -5.2l-0.7 5l-0.7 -8.4l-0.7 3.6l-0.7 1.3l-0.7 -7.5l-0.7 4.6l-0.7 -0.9l-0.7 -2.5l-0.7 -3.4l-0.7 -0.8l-0.7 7.2l-0.7 -7.8l-0.7 -1.7l-0.7 -2.5l-0.7 4.7l-0.7 -7.3l-0.7 -0.7l-0.7 -2.7l-0.7 1.9l-0.7 -7.7l-0.7 11.3l-0.7 -7.6l-0.7 0.4l-0.7 -3.7l-0.7 -0.4l-0.7 -2.5l-0.7 2.3l-0.7 -1.2l-0.7 -2.2l-0.7 0.6l-0.7 -2.8l-0.7 -5.1l-0.7 -1l-0.7 -0.5l-0.7 3.9l-0.7 -2l-0.7 -6.8l-0.7 3.1l-0.7 -3.3l-0.7 1.5l-0.7 -4.3l-0.7 2.6l-0.8 -0.8l-0.7 -3l-0.7 -1l-0.7 -4.1l-0.7 1.7l-0.7 -3.5l-0.7 -2.1l-0.7 3l-0.7 2.6l-0.7 -6.1l-0.7 3.8l-0.7 -7.5l-0.7 -0.4l-0.7 -0.8l-0.7 0.1l-0.7 -4l-0.7 0.8l-0.7 -3.5l-0.7 1.1l-0.7 -5.8l-0.7 -0.5l-0.7 2.8l-0.7 1.8l-0.7 -5.1l-0.7 1.9l-0.7 -1.1l-0.7 -4.6l-0.7 -4.6l-0.7 -4.4l-0.7 2.6l-0.7 5.4l-0.7 -5.3l-0.7 -0.9l-0.7 -4.1l-0.7 2.9l-0.7 -3.7l-0.7 -0.9l-0.7 -2.2l-0.7 8.4l-0.7 -8.6l-0.7 -3.1l-0.7 -2l-0.7 -0.6l-0.7 -0.8l-0.7 -1.6l-0.7 -1l-0.7 -3.2l-0.7 -0.3l-0.7 -1.7l-0.7 2.8l-0.7 -3.5l-0.7 -3.3l-0.7 0.5l-0.7 -0.9l-0.7 -4.1l-0.7 0.6l-0.7 -2.6l-0.7 -1.9l-0.7 1.1l-0.7 -0.7l-0.7 -2.4l-0.7 -1.9l-0.7 0.9l-0.7 -4.3l-0.7 -2.5l-0.7 0.1l-0.7 -1.1l-0.7 -1.3l-0.7 -2.7l-0.7 -0.9l-0.7 -1.2l-0.7 -0.8l-0.7 0l-0.7 -3.2l-0.7 -0.5l-0.7 -0.7l-0.7 -2.6l-0.7 -1.1l-0.7 1.3l-0.7 -6.8l-0.7 0l-0.7 -0.4l-0.7 -0.9l-0.7 -3.6l-0.7 -1l-0.7 -1.3l-0.7 -1.1l-0.7 -0.4l-0.7 -1.6l-0.7 -2.6l-0.7 -0.3l-0.7 -2.1l-0.7 -1.9l-0.7 -2.3l-0.7 -1l-0.7 -0.4l-0.7 -1.9l-0.7 -0.5l-0.7 -1.8l-0.7 -2.2l-0.7 -1l-0.7 -1.3l-0.7 -0.9l-0.7 -2.4l-0.7 -1.9l-0.7 -3.1l-0.7 -0.4l-0.7 -1.8l-0.7 -0.6l-0.7 -1.5l-0.7 -3.2l-0.7 -1.8l-0.7 -1.3l-0.7 -1l-0.7 -1.6l-0.7 -2.7l-0.7 -0.8l-0.7 -1.1l-0.7 -2.6l-0.7 -0.8l-0.7 -1.6l-0.7 -1l-0.7 -2.5l-0.7 -1.5l-0.7 -1.2l-0.7 -3.2l-0.7 -0.7l-0.7 -2.4l-0.7 -2l-0.7 -1.2l-0.7 -1.6l-0.7 0.3l-0.7 -3.7l-0.7 -1.7l-0.7 -1.5l-0.7 -1.7l-0.7 -0.6l-0.7 -1.3l-0.7 -1l-0.7 -0.7l-0.7 -0.5l-0.7 -2.2l-0.7 -0.7l-0.7 -0.5l-0.7 -0.9l-0.7 -0.3l-0.7 -2.3l-0.7 -0.1l-0.7 0.2l-0.7 -1.3l-0.7 1.2l-0.7 0.1l-0.7 1.5l-0.7 2.3l-0.7 4l-0.7 4.4l-0.7 5.1l-0.7 6.2l-0.7 9.8l-0.7 16.5l-0.7 16.4l-0.7 21.2l-0.7 30.1l-0.7 41.1l-0.7 41.3l-0.7 42.3l-0.7 30l-0.7 57.1l-0.7 55.8l-0.7 0l-0.7 -10.2l-0.7 10.2l-0.7 0l-0.7 -2.7l-0.7 0l-0.7 2.7l-0.7 0l-0.7 0l-0.7 0l-0.7 -10.2l-0.7 10.2l-0.7 0l-0.7 0l-0.7 0l-0.7 0l-0.7 0l-0.7 0l-0.7 0l-0.7 0l-0.8 0l-0.7 -6.6l-0.7 6.6l-0.7 -2.7l-0.7 2.7l-0.7 -2.7l-0.7 2.7l-0.7 0l-0.7 0l-0.7 0l-0.7 -2.7l-0.7 2.7l-0.7 -10.2l-0.7 10.2l-0.7 0l-0.7 -2.7l-0.7 2.7l-0.7 0l-0.7 0l-0.7 0l-0.7 0l-0.7 0l-0.7 0l-0.7 0l-0.7 0l-0.7 -2.7l-0.7 2.7l-0.7 0l-0.7 0l-0.7 -6.6l-0.7 6.6l-0.7 -2.7l-0.7 2.7l-0.7 -2.7l-0.7 2.7l-0.7 -6.6l-0.7 6.6l-0.7 0l-0.7 0l-0.7 0l-0.7 0l-0.7 0l-0.7 0l-0.7 0l-0.7 0l-0.7 0l-0.7 0l-0.7 0l-0.7 0l-0.7 0l-0.7 0l-0.7 -10.2l-0.7 10.2l-0.7 0l-0.7 0l-0.7 0l-0.7 0l-0.7 0l-0.7 0l-0.7 0l-0.7 0l-0.7 0l-0.7 0l-0.7 0l-0.7 0l-0.7 0l-0.7 -2.7l-0.7 2.7l-0.7 0l-0.7 0l-0.7 -2.7l-0.7 0l-0.7 2.7l-0.7 0l-0.7 0l-0.7 0l-0.7 0l-0.7 0l-0.7 0l-0.7 -2.7l-0.7 2.7l-0.7 -6.6l-0.7 6.6l-0.7 0l-0.7 -2.7l-0.7 2.7l-0.7 -2.7l-0.7 0l-0.7 2.7l-0.7 -10.2l-0.7 10.2l-0.7 0l-0.7 0l-0.7 -6.6Z" fill="#ff0000" stroke="#ff0000" stroke-width="1.32" stroke-linejoin="round"/><path d="M853.9 2289.7l0.7 5.6l0.7 -5.6l0.7 15.2l0.7 -17.8l0.7 -2.5l0.7 13.7l0.7 10.2l0.7 -13.2l0.7 -15.4l0.7 15.4l0.7 -5.6l0.7 8.6l0.7 -11.2l0.7 8.2l0.7 3l0.7 -5.9l0.7 -14.7l0.7 9.4l0.7 2.6l0.7 -2.6l0.7 14.4l0.7 -3.2l0.7 6.6l0.7 -15.2l0.7 -2.6l0.7 8.2l0.7 3l0.7 0l0.7 -8.6l0.7 2.7l0.7 -5.3l0.7 11.2l0.7 -11.2l0.7 0l0.7 5.3l0.7 -5.3l0.7 -2.5l0.7 2.5l0.7 14.4l0.7 0l0.7 -14.4l0.7 14.4l0.7 -14.4l0.7 14.4l0.7 0l0.7 -6.2l0.7 0l0.7 -2.9l0.7 -2.7l0.7 5.6l0.7 -15.4l0.7 15.4l0.7 -8.2l0.7 8.2l0.7 -5.6l0.7 2.7l0.7 -2.7l0.7 -20l0.7 28.6l0.7 -16.1l0.7 7.5l0.7 2.7l0.7 -5.3l0.7 -2.5l0.7 2.5l0.7 -4.9l0.7 2.4l0.7 10.7l0.7 0l0.7 -13.1l0.7 10.2l0.7 -7.8l0.7 13.7l0.7 -5.9l0.7 2.9l0.7 6.2l0.7 -16.9l0.7 10.7l0.7 -8.2l0.7 2.6l0.7 -16.1l0.7 16.1l0.7 -14.1l0.7 9l0.7 13.7l0.7 -5.9l0.7 0l0.7 -7.8l0.7 10.7l0.7 0l0.7 0l0.7 -2.9l0.7 -2.7l0.8 2.7l0.7 -2.7l0.7 5.6l0.7 6.2l0.7 -6.2l0.7 0l0.7 -5.6l0.7 -2.6l0.7 -4.9l0.7 2.4l0.7 -2.4l0.7 13.1l0.7 -2.9l0.7 -2.7l0.7 11.8l0.7 -25.9l0.7 19.7l0.7 -5.6l0.7 -2.6l0.7 11.2l0.7 -32.4l0.7 -54.2l0.7 -33.8l0.7 -47.8l0.7 -34.3l0.7 -41.5l0.7 -31.1l0.7 -25l0.7 -17.1l0.7 -16.1l0.7 -8.5l0.7 -9.2l0.7 -6.1l0.7 -4.2l0.7 -3.1l0.7 -3l0.7 -0.9l0.7 -0.8l0.7 -0.8l0.7 0l0.7 0l0.7 0l0.7 0.3l0.7 0.3l0.7 0.5l0.7 2.1l0.7 0.7l0.7 1.5l0.7 0.6l0.7 -0.3l0.7 2.7l0.7 0.7l0.7 1.1l0.7 1.1l0.7 0.9l0.7 2.2l0.7 0.8l0.7 1.5l0.7 2.5l0.7 0.3l0.7 3.5l0.7 1.7l0.7 -1l0.7 2.9l0.7 2.1l0.7 1.7l0.7 1.8l0.7 0.9l0.7 1.7l0.7 1.6l0.7 2.3l0.7 1.7l0.7 1.3l0.7 1.3l0.7 3l0.7 1.7l0.7 0.7l0.7 1.4l0.7 1l0.7 1.7l0.7 0l0.7 3.2l0.7 1.6l0.7 1.2l0.7 1.2l0.7 3.5l0.7 0.7l0.7 1.8l0.7 2.5l0.7 -1.3l0.7 1.9l0.7 2.4l0.7 1.7l0.7 0.2l0.7 2.5l0.7 0.6l0.7 1.7l0.7 2.9l0.7 0.5l0.7 1.7l0.7 2.3l0.7 0.2l0.7 1l0.7 1.7l0.7 2.5l0.7 1.8l0.7 0.8l0.7 -0.2l0.7 3l0.7 1.3l0.7 -0.7l0.7 2.8l0.7 2.6l0.7 -0.3l0.7 3.1l0.7 1.1l0.7 0.8l0.7 1.3l0.7 2.6l0.7 -1.1l0.7 2l0.7 2.2l0.7 2.6l0.7 -2l0.7 4.4l0.7 -0.7l0.7 2.3l0.7 2.8l0.7 -0.4l0.7 2.2l0.7 0.6l0.7 0.2l0.7 1.6l0.7 1.9l0.7 3.4l0.7 -1.2l0.7 0l0.7 2.4l0.7 3.3l0.7 0.3l0.7 -1.3l0.7 3.7l0.7 3.1l0.7 -1l0.7 1.6l0.7 -0.7l0.7 1l0.7 2l0.7 0.7l0.7 1l0.7 1l0.7 3.6l0.7 1.9l0.7 0.8l0.7 -1.4l0.7 -0.6l0.7 6.8l0.7 -0.5l0.7 1.1l0.7 -2.1l0.7 3.9l0.7 -0.8l0.7 3.1l0.7 2.7l0.7 -2.8l0.7 0.8l0.7 4.3l0.7 0.3l0.7 3l0.7 -1.9l0.7 5l0.7 0.2l0.7 -0.9l0.7 -0.5l0.7 3.8l0.7 -0.2l0.7 2.3l0.7 3.3l0.7 -2.8l0.7 -0.3l0.7 1l0.7 6.9l0.7 0.6l0.7 -1.4l0.7 2l0.7 -0.9l0.7 -1.3l0.7 2.5l0.7 4.7l0.8 1.4l0.7 -1.4l0.7 2.9l0.7 0.5l0.7 -0.3l0.7 2.2l0.7 -1.3l0.7 3.7l0.7 2.4l0.7 -0.3l0.7 4.1l0.7 -1.3l0.7 -2.6l0.7 2.5l0.7 6.4l0.7 -8.1l0.7 -0.9l0.7 5.9l0.7 1.4l0.7 5.3l0.7 1.5l0.7 -2.7l0.7 -0.9l0.7 4.1l0.7 -5.6l0.7 8.3l0.7 -1.6l0.7 0.2l0.7 5.9l0.7 -2.3l0.7 -4.1l0.7 4.7l0.7 -0.4l0.7 5.6l0.7 -3.8l0.7 4.3l0.7 -3.1l0.7 5.6l0.7 -0.1l0.7 -6l0.7 9l0.7 -1l0.7 -3.2l0.7 5.2l0.7 0.2l0.7 -3.7l0.7 2.1l0.7 1.2l0.7 5.6l0.7 0.9l0.7 -5.1l0.7 0.7l0.7 7l0.7 -4.3l0.7 5.6l0.7 1.6l0.7 2.1l0.7 -1.3l0.7 3.4l0.7 -3.8l0.7 2.2l0.7 -9l0.7 9.9l0.7 3.6l0.7 -2.7l0.7 1.2l0.7 5.8l0.7 -0.9l0.7 -4.2l0.7 8.8l0.7 -0.1l0.7 2.9l0.7 -7.4l0.7 -2.2l0.7 6.8l0.7 -2.3l0.7 -3.7l0.7 9.4l0.7 4.8l0.7 -1.8l0.7 -1l0.7 6.8l0.7 -1.1l0.7 -9.3l0.7 12.9l0.7 -5l0.7 -5.1l0.7 3.1l0.7 -1l0.7 -1.7l0.7 12.6l0.7 -12.8l0.7 -1.8l0.7 9.3l0.7 -7.9l0.7 9.6l0.7 4.8l0.7 -10.6l0.7 -2.7l0.7 10.8l0.7 4.1l0.7 -8.9l0.7 0.9l0.7 10l0.7 -16.8l0.7 11.5l0.7 13.2l0.7 -13.2l0.7 9.4l0.7 3.5l0.7 2.4l0.7 -0.1l0.7 -12.1l0.7 0.1l0.7 14.4l0.7 -16.3l0.7 15l0.7 1.2l0.7 -1.2l0.7 -1.2l0.7 8.9l0.7 -13.3l0.7 4.5l0.7 4.9l0.7 -13.3l0.7 9.7l0.7 11.6l0.7 -4.1l0.7 -3.7l0.7 2.5l0.7 -6l0.7 6.1l0.7 2.6l0.7 -2.5l0.7 -3.6l0.7 1.3l0.7 12l0.7 -5.6l0.7 0.1l0.7 5.6l0.7 -1.4l0.7 -7.8l0.7 -4.6l0.7 6.1l0.7 -5.9l0.7 2.5l0.7 14.5l0.7 -6.9l0.7 -2.6l0.7 14.4l0.7 -6l0.7 3l0.7 -1.4l0.7 1.6l0.7 -7l0.7 13.6l0.7 -1.7l0.7 -8.9l0.7 6l0.7 13.9l0.7 -3.7l0.7 -5.1l0.7 -11.9l0.7 10.4l0.7 -3.1l0.7 13.9l0.7 -5.4l0.7 -3.4l0.7 -6.1l0.7 -8.2l0.7 23.5l0.7 -7.1l0.7 3.6l0.7 -3.4l0.7 7.3l0.7 -8.8l0.7 0.2l0.7 5.1l0.7 -14l0.7 17.9l0.7 -5.3l0.7 -7.9l0.7 15.5l0.7 -9l0.7 7.3l0.7 -3.6l0.7 3.7l0.8 4.1l0.7 2.2l0.7 -13l0.7 11.1l0.7 0.1l0.7 -5.6l0.7 3.9l0.7 2l0.7 -3.8l0.7 17.7l0.7 -13.6l0.7 0.2l0.7 2.1l0.7 -1.9l0.7 2.1l0.7 4.6l0.7 -4.3l0.7 2.2l0.7 -4l0.7 8.8l0.7 -2.2l0.7 -10.3l0.7 4.1l0.7 2.1l0.7 4.5l0.7 -4.2l0.7 -7.8l0.7 17l0.7 -9l0.7 4.6l0.7 2.4l0.7 0.1l0.7 -6.6l0.7 -3.9l0.7 24l0.7 -17.6l0.7 2.3l0.7 0.1l0.7 -8.3l0.7 15.7l0.7 0.2l0.7 -9.5l0.7 12.3l0.7 -5.1l0.7 0.1l0.7 2.6l0.7 0.1l0.7 -2.5l0.7 5.3l0.7 3l0.7 9.5l0.7 -17.4l0.7 0l0.7 2.7l0.7 22.6l0.7 -25l0.7 5.3l0.7 6l0.7 -11.1l0.7 5.4l0.7 9.2l0.7 -6.1l0.7 6.3l0.7 0l0.7 -11.7l0.7 8.7l0.7 -5.8l0.7 12.6l0.7 -15.3l0.7 12.1l0.7 -9.1l0.7 12.7l0.7 -15.4l0.7 0.1l0.7 12.1l0.7 -21.9l0.7 15.7l0.7 13.6l0.7 -7l0.7 -3.3l0.7 -3l0.7 3.2l0.7 -16.5l0.7 7.7l0.7 15.8l0.7 -27.9l0.7 12.3l0.7 2.9l0.7 3.1l0.7 6.5l0.7 -9.4l0.7 6.2l0.7 3.4l0.7 3.7l0.7 -10l0.7 17.3l0.7 -14.1l0.7 7.1l0.7 -3.5l0.7 10.5l0.7 -3l0.7 -10.7l0.7 0l0.7 0.1l0.7 7.1l0.7 3.9l0.7 2.6l0.7 -19.6l0.7 19.6l0.7 -2.3l0.7 0.1l0.7 -17.2l0.7 6.4l0.7 13l0.7 -16.2l0.7 16.2l0.7 -12.8l0.7 7.2l0.7 -13.4l0.7 19l0.7 0l0.7 -5.4l0.7 -10.4l0.7 6.9l0.7 7.7l0.7 0l0.7 1.2l0.7 -1.1l0.7 0.1l0.7 0.1l0.7 0.9l0.7 -29.4l0.7 29.4l0.7 0l0.7 -8.4l0.7 8.4l0.7 0l0.7 -4.5l0.7 4.1l0.7 -7.7l0.7 3.8l0.7 4.3l0.7 0l0.7 -0.1l0.7 0.1l0.7 0l0.7 -7.7l0.7 7.7l0.7 0l0.7 0l0.7 0l0.7 0l0.7 0l0.7 0l0.7 -3.6l0.7 0.1l0.7 3.5l0.7 0l0.7 0l0.7 0l0.7 0l0.7 0l0.7 0l0.7 -7l0.7 7l0.7 0l0.7 0l0.7 0l0.7 0l0.7 0l0.7 0l0.7 0l0.7 -6.6l0.7 6.6l0.7 0l0.7 0l0.7 0l0.7 0l0.7 0l0.7 0l0.7 0l0.7 0l0.7 0l0.7 0l0.7 0l0.7 0l0.7 0l0.7 0l0.7 0l0.8 -2l0.7 2l0.7 0l0.7 0l0.7 0l0.7 0l0.7 -1.7l0.7 1.7l0.7 0l0.7 0l0.7 0l0.7 0l0.7 0l0.7 0l0.7 0l0.7 0l0.7 0l0.7 0l0.7 0l0.7 0l0.7 0l0.7 0l0.7 0l0.7 0l0.7 0l0.7 0l0.7 0l0.7 0l0.7 0l0.7 0l0.7 0l0.7 0l0.7 0l0.7 0l0.7 0l0.7 0l0.7 0l0.7 0l0.7 0l0.7 0l0.7 0l0.7 0l0.7 0l0.7 0l0.7 0l0.7 0l0.7 0l0.7 0l0.7 0l0.7 0l0.7 0l0.7 0l0.7 0l0.7 0l0.7 0l0.7 0l0.7 0l0.7 0l0.7 0l0.7 0l0.7 0l0.7 0l0.7 0l0.7 0l0.7 0l0.7 0l0.7 0l0.7 0l0.7 0l0.7 0l0.7 0l0.7 0l0.7 0l0.7 0l0.7 0l0.7 0l0.7 0l0.7 0l0.7 0l0.7 0l0.7 0l0.7 0l0.7 0l0.7 0l0.7 0l0.7 0l0.7 0l0.7 0l0.7 0l0.7 0l0.7 0l0.7 0l0.7 0l0.7 0l-0.7 0l-0.7 0l-0.7 0l-0.7 0l-0.7 0l-0.7 0l-0.7 0l-0.7 0l-0.7 0l-0.7 0l-0.7 0l-0.7 0l-0.7 0l-0.7 0l-0.7 0l-0.7 0l-0.7 0l-0.7 0l-0.7 0l-0.7 0l-0.7 0l-0.7 0l-0.7 0l-0.7 0l-0.7 0l-0.7 0l-0.7 0l-0.7 0l-0.7 0l-0.7 0l-0.7 0l-0.7 0l-0.7 0l-0.7 0l-0.7 0l-0.7 0l-0.7 0l-0.7 0l-0.7 0l-0.7 0l-0.7 0l-0.7 0l-0.7 0l-0.7 0l-0.7 0l-0.7 0l-0.7 0l-0.7 0l-0.7 0l-0.7 0l-0.7 0l-0.7 0l-0.7 0l-0.7 0l-0.7 0l-0.7 0l-0.7 0l-0.7 0l-0.7 0l-0.7 0l-0.7 0l-0.7 0l-0.7 0l-0.7 0l-0.7 0l-0.7 0l-0.7 0l-0.7 0l-0.7 0l-0.7 0l-0.7 0l-0.7 0l-0.7 0l-0.7 0l-0.7 0l-0.7 0l-0.7 0l-0.7 0l-0.7 0l-0.7 0l-0.7 0l-0.7 0l-0.7 0l-0.7 0l-0.7 0l-0.7 0l-0.7 0l-0.7 0l-0.7 0l-0.7 0l-0.7 0l-0.7 0l-0.7 0l-0.8 0l-0.7 0l-0.7 0l-0.7 0l-0.7 0l-0.7 0l-0.7 0l-0.7 0l-0.7 0l-0.7 0l-0.7 0l-0.7 0l-0.7 0l-0.7 0l-0.7 0l-0.7 0l-0.7 0l-0.7 0l-0.7 0l-0.7 0l-0.7 0l-0.7 0l-0.7 0l-0.7 0l-0.7 0l-0.7 0l-0.7 0l-0.7 0l-0.7 0l-0.7 0l-0.7 0l-0.7 0l-0.7 0l-0.7 0l-0.7 0l-0.7 0l-0.7 0l-0.7 0l-0.7 0l-0.7 0l-0.7 0l-0.7 0l-0.7 0l-0.7 0l-0.7 0l-0.7 0l-0.7 0l-0.7 0l-0.7 0l-0.7 0l-0.7 0l-0.7 0l-0.7 0l-0.7 0l-0.7 0l-0.7 0l-0.7 0l-0.7 0l-0.7 0l-0.7 0l-0.7 0l-0.7 0l-0.7 0l-0.7 0l-0.7 0l-0.7 0l-0.7 0l-0.7 0l-0.7 0l-0.7 0l-0.7 0l-0.7 0l-0.7 0l-0.7 0l-0.7 0l-0.7 0l-0.7 0l-0.7 0l-0.7 0l-0.7 0l-0.7 0l-0.7 0l-0.7 0l-0.7 0l-0.7 0l-0.7 0l-0.7 0l-0.7 0l-0.7 0l-0.7 0l-0.7 0l-0.7 0l-0.7 0l-0.7 0l-0.7 0l-0.7 0l-0.7 0l-0.7 0l-0.7 0l-0.7 0l-0.7 0l-0.7 0l-0.7 0l-0.7 0l-0.7 0l-0.7 0l-0.7 0l-0.7 0l-0.7 0l-0.7 0l-0.7 0l-0.7 0l-0.7 0l-0.7 0l-0.7 0l-0.7 -5.3l-0.7 5.3l-0.7 0l-0.7 0l-0.7 0l-0.7 -12.9l-0.7 12.9l-0.7 0l-0.7 0l-0.7 0l-0.7 0l-0.7 0l-0.7 0l-0.7 0l-0.7 0l-0.7 0l-0.7 0l-0.7 -14l-0.7 14l-0.7 0l-0.7 0l-0.7 0l-0.7 -3.8l-0.7 3.8l-0.7 0l-0.7 -8l-0.7 7.7l-0.7 -4.2l-0.7 4.5l-0.7 -0.7l-0.7 0.7l-0.7 -1l-0.7 -4.1l-0.7 -3.9l-0.7 -3.6l-0.7 3.4l-0.7 3.5l-0.7 5.7l-0.7 -13l-0.7 11l-0.7 -4.1l-0.7 -3.8l-0.7 3.5l-0.7 -7.1l-0.7 -3.5l-0.7 10.3l-0.7 0l-0.7 6.7l-0.7 0l-0.7 -20.6l-0.7 17.4l-0.7 -0.1l-0.7 -4.1l-0.7 -0.1l-0.7 -0.1l-0.7 -3.8l-0.7 -3.6l-0.7 -9.3l-0.7 2.8l-0.7 -3l-0.7 5.9l-0.7 6.7l-0.7 -10l-0.7 13.5l-0.7 -0.1l-0.7 -10.6l-0.7 14.4l-0.7 -20.6l-0.7 6l-0.7 6.7l-0.7 -15.8l-0.7 -7.7l-0.7 26.9l-0.7 -10.6l-0.8 -11.6l-0.7 2.6l-0.7 5.7l-0.7 -0.1l-0.7 -5.9l-0.7 5.7l-0.7 13.8l-0.7 -25l-0.7 0l-0.7 11l-0.7 -5.9l-0.7 5.8l-0.7 -3.1l-0.7 -13.1l-0.7 4.8l-0.7 2.5l-0.7 -2.6l-0.7 -7.2l-0.7 2.2l-0.7 4.8l-0.7 2.6l-0.7 11.9l-0.7 0l-0.7 -9.2l-0.7 -12.8l-0.7 2.3l-0.7 7.6l-0.7 -2.7l-0.7 -2.6l-0.7 -9.3l-0.7 0l-0.7 -0.1l-0.7 6.9l-0.7 -2.4l-0.7 0l-0.7 -2.4l-0.7 -2.2l-0.7 7l-0.7 -2.4l-0.7 -6.8l-0.7 2.2l-0.7 7.1l-0.7 -9.3l-0.7 -4.1l-0.7 2l-0.7 4.4l-0.7 -8.4l-0.7 -1.9l-0.7 10.5l-0.7 -10.5l-0.7 8.4l-0.7 0l-0.7 -8.3l-0.7 0.1l-0.7 4.1l-0.7 -4l-0.7 2.1l-0.7 -7.7l-0.7 -1.7l-0.7 12l-0.7 -10.1l-0.7 12.7l-0.7 -17.8l-0.7 0l-0.7 -3.2l-0.7 3.5l-0.7 -9.6l-0.7 11.6l-0.7 -5.1l-0.7 3.6l-0.7 -12.8l-0.7 1.6l-0.7 3.2l-0.7 12.6l-0.7 2.3l-0.7 -5.8l-0.7 -3.4l-0.7 -11.1l-0.7 8.2l-0.7 3.9l-0.7 -8.5l-0.7 0.1l-0.7 -2.8l-0.7 -4.4l-0.7 9.9l-0.7 -2.9l-0.7 -3l-0.7 -4.4l-0.7 -2.8l-0.7 7.7l-0.7 -7.4l-0.7 12.9l-0.7 -3.1l-0.7 3.8l-0.7 -16.8l-0.7 10.5l-0.7 -14l-0.7 -2.4l-0.7 12.3l-0.7 -21.8l-0.7 23.8l-0.7 -2.7l-0.7 -4.1l-0.7 -3.8l-0.7 -9.2l-0.7 13.7l-0.7 -20.4l-0.7 5.2l-0.7 2.3l-0.7 0.1l-0.7 -2.8l-0.7 -4l-0.7 -3.6l-0.7 -1.6l-0.7 4.8l-0.7 1.3l-0.7 -2.7l-0.7 7.2l-0.7 -10.4l-0.7 1.1l-0.7 0.1l-0.7 -5.1l-0.7 -1.4l-0.7 11l-0.7 -12.1l-0.7 1.7l-0.7 1.2l-0.7 7.2l-0.7 -16.2l-0.7 7.8l-0.7 -10.2l-0.7 -1.2l-0.7 -3l-0.7 -1.1l-0.7 2.7l-0.7 11l-0.7 -8.6l-0.7 -8.7l-0.7 2.6l-0.7 -1.6l-0.7 -0.9l-0.7 8.4l-0.7 -2.3l-0.7 -12.2l-0.7 -1.3l-0.7 0.7l-0.7 1.9l-0.7 2.9l-0.7 -3.7l-0.7 -1.2l-0.7 -3.5l-0.7 7.8l-0.7 -11.6l-0.7 2.1l-0.7 -1.2l-0.7 0.2l-0.7 0.9l-0.7 -1.8l-0.7 -1.6l-0.7 -1l-0.7 -1l-0.7 6.1l-0.7 -15l-0.7 1.7l-0.7 -0.9l-0.7 0.3l-0.7 3l-0.7 -3.9l-0.7 -6.8l-0.7 5.7l-0.7 -1.3l-0.7 -1.2l-0.7 5l-0.7 -8.8l-0.7 1.5l-0.7 -3.3l-0.7 -1.5l-0.7 5.2l-0.7 2l-0.7 -6.2l-0.7 -3.4l-0.7 -5.5l-0.7 5.3l-0.7 -0.8l-0.7 -3.5l-0.7 -2.3l-0.7 -0.7l-0.8 -1.3l-0.7 -4.7l-0.7 10.6l-0.7 -11.7l-0.7 3.1l-0.7 -0.9l-0.7 -1.7l-0.7 2.6l-0.7 -6.2l-0.7 -1.4l-0.7 -3.6l-0.7 0.7l-0.7 0.9l-0.7 -1.8l-0.7 -1.5l-0.7 1.1l-0.7 -2l-0.7 -4l-0.7 0.6l-0.7 -2.3l-0.7 -3.7l-0.7 0l-0.7 2.1l-0.7 -3l-0.7 1.3l-0.7 -6.5l-0.7 -1.3l-0.7 2.3l-0.7 -3l-0.7 -2.4l-0.7 0l-0.7 -2.7l-0.7 5.9l-0.7 -4.7l-0.7 -0.4l-0.7 -3.8l-0.7 0.8l-0.7 -2.3l-0.7 1.5l-0.7 -6.2l-0.7 -0.6l-0.7 -0.8l-0.7 -1.8l-0.7 -2.3l-0.7 2.1l-0.7 -4.6l-0.7 0.3l-0.7 3.5l-0.7 -6.4l-0.7 2.9l-0.7 -3.3l-0.7 -2.9l-0.7 -0.7l-0.7 -1.2l-0.7 -3.5l-0.7 -0.7l-0.7 -2.6l-0.7 1.6l-0.7 -1.3l-0.7 -3.7l-0.7 -0.8l-0.7 1.7l-0.7 -5.3l-0.7 1.2l-0.7 -2l-0.7 -3l-0.7 -0.4l-0.7 -2l-0.7 -1.4l-0.7 -0.1l-0.7 -0.1l-0.7 -3.9l-0.7 -0.4l-0.7 -4.3l-0.7 2.7l-0.7 -1.5l-0.7 -2.5l-0.7 -1.6l-0.7 -0.8l-0.7 -0.9l-0.7 -0.2l-0.7 -4.8l-0.7 -1.3l-0.7 -1.6l-0.7 0.1l-0.7 -1.6l-0.7 -2.5l-0.7 -1.2l-0.7 -0.3l-0.7 -3.1l-0.7 -2l-0.7 -0.6l-0.7 -0.5l-0.7 -0.9l-0.7 -3.7l-0.7 -1.4l-0.7 -0.9l-0.7 -1.5l-0.7 0l-0.7 -3.8l-0.7 -0.3l-0.7 -2.6l-0.7 -2l-0.7 -1l-0.7 -1.5l-0.7 -1.4l-0.7 -1.6l-0.7 -1.1l-0.7 -2.4l-0.7 -1.6l-0.7 -1.2l-0.7 -1.7l-0.7 -2l-0.7 -0.9l-0.7 -2.7l-0.7 -1.7l-0.7 0.1l-0.7 -1.6l-0.7 -2l-0.7 -1.8l-0.7 -2.4l-0.7 -1.9l-0.7 -1l-0.7 -2.3l-0.7 -0.9l-0.7 -2.1l-0.7 -1.5l-0.7 -1.4l-0.7 -2.1l-0.7 -1.6l-0.7 -1.7l-0.7 -1.3l-0.7 -1.7l-0.7 -0.7l-0.7 -2.2l-0.7 -2.2l-0.7 -1l-0.7 -1.1l-0.7 -0.9l-0.7 -0.1l-0.7 -1.4l-0.7 -1.1l-0.7 -1.7l-0.7 -0.6l-0.7 -1.1l-0.7 -0.3l-0.7 -0.8l-0.7 -1.2l-0.7 -1.3l-0.7 0.7l-0.7 0.5l-0.7 0.8l-0.7 1.2l-0.7 1.4l-0.7 3.8l-0.7 4.1l-0.7 5.8l-0.7 8.5l-0.7 9l-0.7 16.8l-0.7 14.6l-0.7 23.4l-0.7 29.3l-0.7 44.8l-0.7 41.9l-0.7 45.5l-0.7 20.8l-0.7 52l-0.7 61.7l-0.7 0l-0.7 0l-0.7 0l-0.7 0l-0.7 -6.6l-0.7 6.6l-0.7 0l-0.7 0l-0.7 -2.7l-0.7 2.7l-0.7 0l-0.7 0l-0.7 0l-0.7 0l-0.7 0l-0.7 0l-0.7 0l-0.7 -2.7l-0.7 2.7l-0.7 0l-0.8 0l-0.7 0l-0.7 0l-0.7 0l-0.7 0l-0.7 0l-0.7 -10.2l-0.7 10.2l-0.7 0l-0.7 0l-0.7 -2.7l-0.7 2.7l-0.7 -2.7l-0.7 2.7l-0.7 0l-0.7 -10.2l-0.7 7.5l-0.7 2.7l-0.7 0l-0.7 0l-0.7 0l-0.7 0l-0.7 0l-0.7 0l-0.7 0l-0.7 0l-0.7 0l-0.7 -6.6l-0.7 6.6l-0.7 -2.7l-0.7 2.7l-0.7 0l-0.7 0l-0.7 0l-0.7 0l-0.7 0l-0.7 -6.6l-0.7 6.6l-0.7 -2.7l-0.7 2.7l-0.7 -6.6l-0.7 6.6l-0.7 0l-0.7 -2.7l-0.7 2.7l-0.7 0l-0.7 0l-0.7 0l-0.7 0l-0.7 0l-0.7 -2.7l-0.7 2.7l-0.7 0l-0.7 0l-0.7 -2.7l-0.7 2.7l-0.7 0l-0.7 0l-0.7 0l-0.7 0l-0.7 0l-0.7 -10.2l-0.7 10.2l-0.7 0l-0.7 0l-0.7 0l-0.7 0l-0.7 0l-0.7 0l-0.7 -2.7l-0.7 2.7l-0.7 0l-0.7 0l-0.7 0l-0.7 -2.7l-0.7 2.7l-0.7 0l-0.7 0l-0.7 0l-0.7 0l-0.7 0l-0.7 0l-0.7 -2.7l-0.7 2.7l-0.7 0l-0.7 0l-0.7 0l-0.7 0l-0.7 -2.7l-0.7 0l-0.7 2.7l-0.7 0l-0.7 0l-0.7 0Z" fill="#00e000" stroke="#00e000" stroke-width="1.32" stroke-linejoin="round"/><path d="M853.9 2292.4l0.7 2.9l0.7 3l0.7 -13.7l0.7 7.8l0.7 -7.8l0.7 16.9l0.7 -3.2l0.7 -5.9l0.7 2.9l0.7 -17.6l0.7 6.9l0.7 7.8l0.7 -5.3l0.7 -2.5l0.7 7.8l0.7 0l0.7 -5.3l0.7 8.2l0.7 0l0.7 -5.6l0.7 2.7l0.7 0l0.7 -12.5l0.7 18.4l0.7 -11.2l0.7 11.2l0.7 -5.9l0.7 -2.7l0.7 5.6l0.7 0l0.7 0l0.7 3l0.7 3.2l0.7 -16.9l0.7 16.9l0.7 -9.1l0.7 -5.3l0.7 5.3l0.7 0l0.7 5.9l0.7 -11.2l0.7 -2.5l0.7 7.8l0.7 0l0.7 0l0.7 -7.8l0.7 10.7l0.7 0l0.7 0l0.7 -5.6l0.7 0l0.7 8.6l0.7 0l0.7 -11.2l0.7 8.2l0.7 -8.2l0.7 -2.5l0.7 5.1l0.7 -18.1l0.7 13l0.7 20.3l0.7 -25l0.7 9.8l0.7 -2.6l0.7 11.2l0.7 0l0.7 -18.4l0.7 15.4l0.7 -8.2l0.7 11.2l0.7 -22.7l0.7 9l0.7 7.8l0.7 -7.8l0.7 7.8l0.7 0l0.7 0l0.7 -5.3l0.7 -2.5l0.7 7.8l0.7 -7.8l0.7 2.5l0.7 11.2l0.7 -3l0.7 -15.4l0.7 0l0.7 7.2l0.7 5.3l0.7 0l0.7 -2.7l0.7 -2.6l0.7 5.3l0.7 0l0.8 -10.2l0.7 7.5l0.7 -9.8l0.7 9.8l0.7 -2.6l0.7 0l0.7 5.3l0.7 0l0.7 -7.8l0.7 7.8l0.7 -2.7l0.7 11.8l0.7 0l0.7 -6.2l0.7 6.2l0.7 -9.1l0.7 9.1l0.7 -9.1l0.7 2.9l0.7 3l0.7 -35.3l0.7 -45.1l0.7 -38l0.7 -43.5l0.7 -49.6l0.7 -31.8l0.7 -30.4l0.7 -24.7l0.7 -19.5l0.7 -15.4l0.7 -8.9l0.7 -8.4l0.7 -5.1l0.7 -3.8l0.7 -4.1l0.7 -3.6l0.7 -2.2l0.7 0.2l0.7 -0.7l0.7 0l0.7 0l0.7 0l0.7 0l0.7 1.8l0.7 -0.1l0.7 1.3l0.7 1.1l0.7 0.7l0.7 0.4l0.7 2.5l0.7 0.8l0.7 1l0.7 0.8l0.7 -0.3l0.7 1.7l0.7 1.5l0.7 2l0.7 1.2l0.7 1.3l0.7 3l0.7 0.9l0.7 1.4l0.7 1.5l0.7 2.2l0.7 1.2l0.7 3.2l0.7 0.4l0.7 2.1l0.7 0.7l0.7 1.3l0.7 0.8l0.7 3l0.7 1.3l0.7 3.2l0.7 0.8l0.7 1.8l0.7 0.1l0.7 3.1l0.7 -2l0.7 5.4l0.7 0.6l0.7 3l0.7 0.6l0.7 2.4l0.7 -0.1l0.7 2.5l0.7 -0.7l0.7 2.9l0.7 2.9l0.7 0.6l0.7 0.7l0.7 2.8l0.7 1.2l0.7 0.8l0.7 3.5l0.7 0.4l0.7 1.1l0.7 2.6l0.7 -0.7l0.7 1.4l0.7 1.4l0.7 3.2l0.7 0l0.7 2.4l0.7 1.7l0.7 0.8l0.7 2.1l0.7 2l0.7 0.7l0.7 1l0.7 2.9l0.7 1.3l0.7 2l0.7 -0.5l0.7 1.8l0.7 1.7l0.7 0.6l0.7 1.5l0.7 1.5l0.7 1.4l0.7 1l0.7 1.2l0.7 3.2l0.7 0.2l0.7 0.8l0.7 2.4l0.7 -1.3l0.7 3.4l0.7 2.4l0.7 1.8l0.7 0.2l0.7 0.3l0.7 -0.2l0.7 0.1l0.7 4.4l0.7 0.1l0.7 2.4l0.7 1.2l0.7 2.7l0.7 -0.1l0.7 2.6l0.7 -0.7l0.7 0.8l0.7 1.6l0.7 2.1l0.7 0.7l0.7 0l0.7 4.5l0.7 -3.2l0.7 3l0.7 -1.3l0.7 3.4l0.7 1.3l0.7 -2.1l0.7 2.4l0.7 0.1l0.7 4.9l0.7 2.2l0.7 -0.7l0.7 -1l0.7 4l0.7 0.9l0.7 -1.1l0.7 0l0.7 1.4l0.7 3.8l0.7 1.8l0.7 0.3l0.7 0.7l0.7 -0.2l0.7 3.1l0.7 3.2l0.7 -2.4l0.7 2.3l0.7 -3.5l0.7 8l0.7 -4.6l0.7 3.8l0.7 -2.4l0.7 1.7l0.7 3.4l0.7 1.7l0.7 0.7l0.7 3.2l0.7 1.8l0.7 -3.2l0.7 5.1l0.7 -3.7l0.7 -0.3l0.8 1.5l0.7 -3l0.7 7.1l0.7 1.5l0.7 -2.5l0.7 3.2l0.7 4.8l0.7 -0.8l0.7 0.5l0.7 -0.7l0.7 -0.8l0.7 8.2l0.7 -1.6l0.7 -1.2l0.7 -2.7l0.7 -0.2l0.7 1.9l0.7 6.3l0.7 -5.4l0.7 6.5l0.7 -2.1l0.7 7.6l0.7 -8.8l0.7 4l0.7 1.1l0.7 4.2l0.7 -2.1l0.7 0.8l0.7 6.5l0.7 -4.6l0.7 2.6l0.7 -1l0.7 2.4l0.7 1.7l0.7 -3.2l0.7 5.8l0.7 -5.9l0.7 5.5l0.7 -1.3l0.7 6.2l0.7 2.6l0.7 -6.7l0.7 4.7l0.7 -3.6l0.7 1.6l0.7 -5.2l0.7 4.8l0.7 -0.6l0.7 5.5l0.7 -2.5l0.7 3.8l0.7 2.8l0.7 -0.7l0.7 1.2l0.7 5l0.7 -0.8l0.7 -1.7l0.7 -0.8l0.7 2l0.7 2.5l0.7 -8.6l0.7 -9.4l0.7 21.9l0.7 -7.4l0.7 -1.7l0.7 11.6l0.7 -11l0.7 11.1l0.7 -4.9l0.7 -0.2l0.7 -0.8l0.7 7l0.7 -4.4l0.7 2.2l0.7 7.8l0.7 -3l0.7 2.5l0.7 5l0.7 -11.3l0.7 1l0.7 -0.7l0.7 4.4l0.7 5.5l0.7 0.7l0.7 2.9l0.7 3l0.7 -18.1l0.7 17.9l0.7 -2.8l0.7 -6.3l0.7 7.6l0.7 -6.5l0.7 2.1l0.7 9l0.7 -16.4l0.7 17.8l0.7 -4.7l0.7 5.3l0.7 -3l0.7 -0.1l0.7 4.4l0.7 3.6l0.7 -1.2l0.7 -4.8l0.7 -5.4l0.7 10.7l0.7 -4.9l0.7 -7.9l0.7 15.3l0.7 -6.1l0.7 -8.7l0.7 14.3l0.7 -10.4l0.7 16.6l0.7 -1.3l0.7 -8.5l0.7 4.9l0.7 -2.2l0.7 5.1l0.7 7.1l0.7 -15.6l0.7 6l0.7 3.1l0.7 -6.4l0.7 10.8l0.7 -5.8l0.7 2.2l0.7 5.8l0.7 1.1l0.7 -13.3l0.7 10.7l0.7 8.8l0.7 -0.1l0.7 -15.4l0.7 5.4l0.7 -3.3l0.7 1.1l0.7 9.2l0.7 -1.3l0.7 -3.6l0.7 11.2l0.7 -10l0.7 6l0.7 8.1l0.7 -17.4l0.7 13.1l0.7 -3.9l0.7 2.5l0.7 -1.3l0.7 1.3l0.7 -3.7l0.7 7.6l0.7 -7.6l0.7 -1.1l0.7 -2.2l0.7 12.3l0.7 2.7l0.7 -10.3l0.7 13.2l0.7 0l0.7 -1.5l0.7 -6.7l0.7 -7.1l0.7 7.2l0.7 14.2l0.7 -7.5l0.7 -2.7l0.7 7.1l0.7 -4.3l0.7 4.3l0.7 -7l0.7 1.4l0.7 -1.2l0.7 0l0.7 4.1l0.7 -2.7l0.7 5.6l0.7 3.1l0.7 -9.8l0.7 9.8l0.7 -8.4l0.7 0.1l0.7 5.5l0.7 4.6l0.7 1.6l0.7 -7.4l0.7 4.4l0.8 3.1l0.7 6.7l0.7 -6.6l0.7 3.3l0.7 -4.7l0.7 4.8l0.7 -10.4l0.7 13.9l0.7 -3.3l0.7 8.9l0.7 -7.2l0.7 -7.7l0.7 4.5l0.7 -3l0.7 13.5l0.7 -7l0.7 -3.2l0.7 20.7l0.7 -12.1l0.7 -1.7l0.7 -1.7l0.7 -1.6l0.7 9l0.7 -8.8l0.7 8.9l0.7 -8.8l0.7 5.2l0.7 -6.6l0.7 5l0.7 7.4l0.7 -7.3l0.7 -3.2l0.7 6.9l0.7 0.1l0.7 -1.8l0.7 5.7l0.7 -15.2l0.7 6.4l0.7 13.1l0.7 -11.3l0.7 0.1l0.7 -6.4l0.7 15.8l0.7 -10.9l0.7 5.3l0.7 7.8l0.7 2.2l0.7 -13.3l0.7 5.5l0.7 -5.3l0.7 13.4l0.7 -7.9l0.7 4l0.7 -9.1l0.7 9.2l0.7 -1.9l0.7 8.4l0.7 0l0.7 -4.2l0.7 2.2l0.7 -11.4l0.7 7.5l0.7 8.6l0.7 -12.3l0.7 10.2l0.7 -4.2l0.7 -7.5l0.7 18.9l0.7 -13.1l0.7 2.1l0.7 2.1l0.7 9.2l0.7 -2.3l0.7 -14.5l0.7 17.1l0.7 -2.4l0.7 -4.4l0.7 -11.8l0.7 5.7l0.7 15.8l0.7 -4.9l0.7 -2.2l0.7 -4.3l0.7 6.8l0.7 2.5l0.7 -6.9l0.7 0l0.7 2.4l0.7 0.1l0.7 4.8l0.7 0.1l0.7 0.1l0.7 -6.9l0.7 4.6l0.7 5l0.7 -9.3l0.7 4.6l0.7 -18l0.7 15.9l0.7 7.3l0.7 -4.9l0.7 5l0.7 -4.8l0.7 2.4l0.7 2.6l0.7 5.6l0.7 -17.1l0.7 9.2l0.7 -11.1l0.7 8.8l0.7 2.6l0.7 5.3l0.7 2.8l0.7 -7.9l0.7 -7l0.7 4.6l0.7 7.8l0.7 -10l0.7 -4.4l0.7 9.3l0.7 2.6l0.7 2.8l0.7 -16.6l0.7 19.6l0.7 0l0.7 -8l0.7 5.3l0.7 3l0.7 6.3l0.7 -11.8l0.7 2.8l0.7 -5.3l0.7 2.7l0.7 -7.4l0.7 7.5l0.7 0l0.7 8.8l0.7 -13.8l0.7 0.1l0.7 5.2l0.7 8.8l0.7 -5.9l0.7 3l0.7 0l0.7 0.1l0.7 -8.3l0.7 8.4l0.7 -10.9l0.7 8.1l0.7 -2.7l0.7 2.8l0.7 9.4l0.7 -9.3l0.7 -2.7l0.7 12.1l0.7 -6.3l0.7 6.5l0.7 0l0.7 -3.2l0.7 3.4l0.7 -6.4l0.7 6.5l0.7 -9.4l0.7 -2.8l0.7 9.1l0.7 3.3l0.7 -3.2l0.7 -3.1l0.7 3.2l0.7 10.8l0.7 -10.7l0.7 0.1l0.7 3.4l0.7 -3.3l0.7 0l0.7 0l0.7 0.1l0.7 -3.1l0.7 3.2l0.7 -3.1l0.7 6.6l0.7 3.7l0.7 -3.6l0.7 -6.5l0.7 3.2l0.7 3.5l0.7 3.7l0.7 -3.6l0.7 9.9l0.8 -2.2l0.7 0l0.7 -14.1l0.7 14.2l0.7 -20.1l0.7 9.2l0.7 11.1l0.7 -14.2l0.7 16.1l0.7 0l0.7 0l0.7 -1.6l0.7 -3.9l0.7 5.5l0.7 0l0.7 -5.4l0.7 5.4l0.7 -5.3l0.7 5.3l0.7 0l0.7 -1.1l0.7 0l0.7 -7.6l0.7 8.7l0.7 -21.4l0.7 21.4l0.7 0l0.7 -8.5l0.7 0.1l0.7 0l0.7 8.4l0.7 -15.1l0.7 15.1l0.7 0l0.7 0l0.7 -11.6l0.7 11.6l0.7 -0.3l0.7 -3.9l0.7 4.2l0.7 0l0.7 0l0.7 0l0.7 0l0.7 -7.7l0.7 7.7l0.7 0l0.7 0l0.7 0l0.7 -3.7l0.7 3.7l0.7 0l0.7 -3.6l0.7 3.6l0.7 0l0.7 -3.5l0.7 3.5l0.7 0l0.7 -17.3l0.7 17.3l0.7 0l0.7 0l0.7 -3.2l0.7 3.2l0.7 0l0.7 0l0.7 -3l0.7 3l0.7 -3l0.7 3l0.7 -10.3l0.7 10.3l0.7 -2.8l0.7 0l0.7 2.8l0.7 0l0.7 0l0.7 0l0.7 0l0.7 0l0.7 0l0.7 0l0.7 0l0.7 0l0.7 0l0.7 0l0.7 0l0.7 0l0.7 0l0.7 0l0.7 0l0.7 0l0.7 0l0.7 0l-0.7 0l-0.7 0l-0.7 0l-0.7 0l-0.7 0l-0.7 0l-0.7 0l-0.7 0l-0.7 0l-0.7 0l-0.7 0l-0.7 0l-0.7 0l-0.7 0l-0.7 0l-0.7 0l-0.7 0l-0.7 0l-0.7 0l-0.7 0l-0.7 0l-0.7 0l-0.7 0l-0.7 0l-0.7 0l-0.7 0l-0.7 0l-0.7 0l-0.7 0l-0.7 0l-0.7 0l-0.7 0l-0.7 0l-0.7 0l-0.7 0l-0.7 0l-0.7 0l-0.7 0l-0.7 0l-0.7 0l-0.7 0l-0.7 0l-0.7 0l-0.7 0l-0.7 0l-0.7 0l-0.7 0l-0.7 0l-0.7 0l-0.7 0l-0.7 0l-0.7 0l-0.7 0l-0.7 0l-0.7 0l-0.7 0l-0.7 0l-0.7 0l-0.7 0l-0.7 0l-0.7 0l-0.7 0l-0.7 0l-0.7 0l-0.7 0l-0.7 0l-0.7 0l-0.7 0l-0.7 0l-0.7 0l-0.7 0l-0.7 0l-0.7 0l-0.7 0l-0.7 0l-0.7 0l-0.7 0l-0.7 0l-0.7 0l-0.7 0l-0.7 0l-0.7 0l-0.7 0l-0.7 0l-0.7 0l-0.7 0l-0.7 0l-0.7 0l-0.7 0l-0.7 0l-0.7 0l-0.7 0l-0.7 0l-0.8 0l-0.7 0l-0.7 0l-0.7 0l-0.7 0l-0.7 0l-0.7 0l-0.7 0l-0.7 0l-0.7 0l-0.7 0l-0.7 0l-0.7 0l-0.7 0l-0.7 0l-0.7 0l-0.7 0l-0.7 0l-0.7 0l-0.7 0l-0.7 0l-0.7 0l-0.7 0l-0.7 0l-0.7 0l-0.7 0l-0.7 0l-0.7 0l-0.7 0l-0.7 0l-0.7 0l-0.7 0l-0.7 0l-0.7 0l-0.7 0l-0.7 0l-0.7 0l-0.7 0l-0.7 0l-0.7 0l-0.7 0l-0.7 0l-0.7 -1.2l-0.7 1.2l-0.7 0l-0.7 0l-0.7 0l-0.7 0l-0.7 0l-0.7 0l-0.7 -1.8l-0.7 1.8l-0.7 0l-0.7 0l-0.7 0l-0.7 0l-0.7 0l-0.7 0l-0.7 0l-0.7 0l-0.7 0l-0.7 0l-0.7 0l-0.7 0l-0.7 0l-0.7 0l-0.7 0l-0.7 0l-0.7 0l-0.7 0l-0.7 0l-0.7 0l-0.7 0l-0.7 0l-0.7 -11.4l-0.7 11.3l-0.7 -7.9l-0.7 3.6l-0.7 -0.1l-0.7 -7.3l-0.7 7l-0.7 0l-0.7 4.8l-0.7 0l-0.7 -15.6l-0.7 15.6l-0.7 0l-0.7 0l-0.7 -5.5l-0.7 -3.8l-0.7 9.3l-0.7 -16.2l-0.7 16.2l-0.7 -5.9l-0.7 -7.2l-0.7 11l-0.7 2.1l-0.7 -2.3l-0.7 -14.4l-0.7 6.6l-0.7 10.1l-0.7 -2.6l-0.7 -7.7l-0.7 -9.9l-0.7 6.3l-0.7 -0.1l-0.7 14l-0.7 -14.1l-0.7 -0.1l-0.7 7.1l-0.7 -3.8l-0.7 3.7l-0.7 -3.8l-0.7 -3.6l-0.7 -6.5l-0.7 -0.1l-0.7 -3l-0.7 6l-0.7 -6.1l-0.7 9.3l-0.7 -12.3l-0.7 23.5l-0.7 -4.1l-0.7 -13.8l-0.7 0l-0.7 -5.9l-0.7 27.6l-0.7 -12l-0.7 -13l-0.7 6l-0.7 10.7l-0.7 -16.9l-0.7 20.9l-0.7 -21l-0.7 6.1l-0.7 -11.8l-0.7 2.7l-0.7 2.7l-0.7 -2.9l-0.7 24l-0.7 -15l-0.7 -6.2l-0.7 -0.1l-0.7 3l-0.7 -0.1l-0.7 3.2l-0.7 -17l-0.7 32.2l-0.7 -21.5l-0.7 -10.9l-0.7 10.8l-0.7 -5.8l-0.7 -5.1l-0.7 10.8l-0.7 -20.1l-0.7 9.1l-0.7 0l-0.7 -0.1l-0.7 0l-0.7 11l-0.7 -8.5l-0.7 -11.9l-0.7 4.4l-0.7 -6.6l-0.7 16.7l-0.7 12.4l-0.7 -6.6l-0.7 -5.8l-0.7 -10.3l-0.7 16.2l-0.7 -11.3l-0.7 5.4l-0.7 -2.8l-0.7 -16.4l-0.7 19.2l-0.7 -10.4l-0.7 2.4l-0.7 -9.2l-0.7 -0.1l-0.7 4.5l-0.7 4.8l-0.7 0l-0.7 -13.5l-0.7 6.4l-0.7 4.7l-0.7 8l-0.7 0l-0.7 -17.1l-0.7 -4.1l-0.8 15.9l-0.7 -9.6l-0.7 9.7l-0.7 0.1l-0.7 5.6l-0.7 -10.6l-0.7 -2.3l-0.7 2.4l-0.7 -4.6l-0.7 18.9l-0.7 -14l-0.7 0.1l-0.7 -7.1l-0.7 9.9l-0.7 -7.4l-0.7 -6.7l-0.7 4.5l-0.7 -4.3l-0.7 -2.1l-0.7 -3.9l-0.7 0.1l-0.7 2l-0.7 -3.8l-0.7 32.6l-0.7 -38l-0.7 9.6l-0.7 19.9l-0.7 -15.4l-0.7 -4.2l-0.7 9.2l-0.7 -11l-0.7 0.2l-0.7 -7.7l-0.7 12.3l-0.7 -6.3l-0.7 4.3l-0.7 -8l-0.7 10.8l-0.7 -12.4l-0.7 -3.5l-0.7 12l-0.7 -11.8l-0.7 14.7l-0.7 -4.3l-0.7 -13.4l-0.7 1.9l-0.7 12.5l-0.7 2.4l-0.7 -14.3l-0.7 4l-0.7 -3.6l-0.7 -17.6l-0.7 11l-0.7 26l-0.7 -16.1l-0.7 -3.9l-0.7 -6.9l-0.7 -4.7l-0.7 3.4l-0.7 7.6l-0.7 0.6l-0.7 -9.1l-0.7 -9l-0.7 1.7l-0.7 27.3l-0.7 -23.8l-0.7 7.1l-0.7 28.6l-0.7 -12.9l-0.7 -29.4l-0.7 0l-0.7 1.7l-0.7 8.3l-0.7 -6.1l-0.7 -9.8l-0.7 13.3l-0.7 7.3l-0.7 -23.7l-0.7 5.3l-0.7 14.1l-0.7 -14.9l-0.7 -1.1l-0.7 4.3l-0.7 -6.6l-0.7 4.4l-0.7 -2.5l-0.7 0.1l-0.7 -0.8l-0.7 -2.3l-0.7 1.4l-0.7 5.6l-0.7 -1.2l-0.7 -6.2l-0.7 1.6l-0.7 -2.2l-0.7 -7.5l-0.7 -5.9l-0.7 8.3l-0.7 2.6l-0.7 -0.8l-0.7 -10.1l-0.7 9.5l-0.7 0.2l-0.7 -11.9l-0.7 10.2l-0.7 -6l-0.7 9.1l-0.7 -17.5l-0.7 7.3l-0.7 4.2l-0.7 -2.5l-0.7 8.8l-0.7 -9.4l-0.7 -13.6l-0.7 1.8l-0.7 2l-0.7 -3.9l-0.7 5.1l-0.7 -3.9l-0.7 4.6l-0.7 0.3l-0.7 -7.8l-0.7 -1.2l-0.7 5.6l-0.7 2.1l-0.7 -13.3l-0.7 -4.7l-0.7 5.9l-0.7 2.9l-0.7 -2.3l-0.7 6.9l-0.7 -7.8l-0.7 3.2l-0.7 -9.7l-0.7 12.3l-0.7 -7.3l-0.7 -8.3l-0.7 1.9l-0.7 0.3l-0.7 -2.5l-0.7 1.5l-0.7 4.4l-0.7 -8.3l-0.7 0.1l-0.7 -2.2l-0.7 4.7l-0.7 -2.6l-0.7 4.2l-0.7 -8.4l-0.7 -2.5l-0.7 7.2l-0.7 0.9l-0.7 -16.7l-0.7 6.5l-0.7 -1.1l-0.7 6.4l-0.7 -13l-0.7 4.4l-0.7 2.5l-0.7 -1.6l-0.7 -2.6l-0.7 1l-0.7 -2.4l-0.7 -4.2l-0.7 3l-0.7 -1.2l-0.7 -2.2l-0.7 5.2l-0.7 -10.5l-0.7 3.9l-0.7 -1.4l-0.7 6.7l-0.7 -13.1l-0.7 7.2l-0.7 -8.3l-0.7 1.6l-0.7 4.9l-0.7 -10.5l-0.7 4.6l-0.7 -1.9l-0.7 -0.6l-0.7 2.9l-0.7 -5.6l-0.7 3.1l-0.7 0.7l-0.7 -10.9l-0.7 1l-0.8 -0.8l-0.7 0.2l-0.7 0.4l-0.7 -4.9l-0.7 2.3l-0.7 -3.7l-0.7 -1l-0.7 -1.3l-0.7 5.2l-0.7 -2.6l-0.7 -5.6l-0.7 -2.7l-0.7 1.7l-0.7 -4.5l-0.7 4.7l-0.7 -1.7l-0.7 -2.4l-0.7 1.1l-0.7 4.7l-0.7 -11.9l-0.7 2.3l-0.7 -0.6l-0.7 1.4l-0.7 -3.4l-0.7 1.9l-0.7 -7.1l-0.7 1l-0.7 -2.6l-0.7 -1.8l-0.7 -2.3l-0.7 0.3l-0.7 -0.8l-0.7 0l-0.7 -0.2l-0.7 -6.9l-0.7 1.9l-0.7 0.1l-0.7 -3.5l-0.7 1.4l-0.7 -2l-0.7 -5.5l-0.7 1.9l-0.7 0.7l-0.7 -3.9l-0.7 0.4l-0.7 -2l-0.7 -1.4l-0.7 -0.2l-0.7 0.6l-0.7 -3l-0.7 -3.5l-0.7 1l-0.7 -2.1l-0.7 -3.6l-0.7 0.9l-0.7 3.2l-0.7 -6.6l-0.7 -1.6l-0.7 1.5l-0.7 -1l-0.7 -4.9l-0.7 -1.1l-0.7 -1.2l-0.7 2.9l-0.7 -3.4l-0.7 -0.7l-0.7 -5.3l-0.7 -0.7l-0.7 1.9l-0.7 -3.7l-0.7 -2l-0.7 -0.3l-0.7 -2.5l-0.7 -1.2l-0.7 -1.7l-0.7 -0.6l-0.7 0.1l-0.7 -2.2l-0.7 0.4l-0.7 -5l-0.7 -2.1l-0.7 0l-0.7 -1.6l-0.7 -1.8l-0.7 1.8l-0.7 -4.7l-0.7 -2.3l-0.7 -0.8l-0.7 -1l-0.7 -1.7l-0.7 -2.2l-0.7 0.2l-0.7 -3.7l-0.7 -0.2l-0.7 -0.8l-0.7 -4l-0.7 0.4l-0.7 -2.5l-0.7 -0.8l-0.7 -1.6l-0.7 -1.9l-0.7 -0.4l-0.7 -2.8l-0.7 -0.9l-0.7 -2.2l-0.7 -0.3l-0.7 -1.4l-0.7 -3.3l-0.7 -0.9l-0.7 -1.3l-0.7 -2.8l-0.7 0.6l-0.7 -4.6l-0.7 -1l-0.7 -1.1l-0.7 -1.6l-0.7 -1.8l-0.7 -2l-0.7 -0.9l-0.7 -1.5l-0.7 -2l-0.7 -2l-0.7 -1.6l-0.7 -0.6l-0.7 -0.6l-0.7 -3.9l-0.7 -1l-0.7 -2.3l-0.7 -1.6l-0.7 -0.7l-0.7 -1.5l-0.7 -2.4l-0.7 -1.9l-0.7 -2.1l-0.7 -1.5l-0.7 -0.8l-0.7 -0.4l-0.7 -1.9l-0.7 -0.5l-0.7 -1.8l-0.7 -0.6l-0.7 -1.2l-0.7 -1l-0.7 -1.5l-0.7 -0.4l-0.7 0.2l-0.7 -2l-0.7 -0.7l-0.7 -0.2l-0.7 0.1l-0.7 0.4l-0.7 1.5l-0.7 0.3l-0.7 1.8l-0.7 4.3l-0.7 4.7l-0.7 3.4l-0.7 8.6l-0.7 9.4l-0.7 16l-0.7 15.4l-0.7 19.8l-0.7 32.5l-0.7 44.1l-0.7 38.1l-0.7 40.9l-0.7 47.3l-0.7 39.4l-0.7 57.7l-0.7 0l-0.7 0l-0.7 0l-0.7 0l-0.7 0l-0.7 0l-0.7 0l-0.7 0l-0.7 0l-0.7 0l-0.7 0l-0.7 0l-0.7 0l-0.7 0l-0.7 0l-0.7 0l-0.7 -2.7l-0.7 2.7l-0.7 -6.6l-0.7 6.6l-0.8 0l-0.7 0l-0.7 0l-0.7 0l-0.7 0l-0.7 -2.7l-0.7 2.7l-0.7 0l-0.7 0l-0.7 0l-0.7 0l-0.7 -2.7l-0.7 0l-0.7 0l-0.7 2.7l-0.7 -6.6l-0.7 6.6l-0.7 0l-0.7 0l-0.7 0l-0.7 0l-0.7 0l-0.7 0l-0.7 -2.7l-0.7 2.7l-0.7 0l-0.7 0l-0.7 -2.7l-0.7 2.7l-0.7 0l-0.7 -13.6l-0.7 13.6l-0.7 0l-0.7 0l-0.7 0l-0.7 0l-0.7 0l-0.7 0l-0.7 0l-0.7 0l-0.7 0l-0.7 0l-0.7 0l-0.7 0l-0.7 0l-0.7 0l-0.7 0l-0.7 -2.7l-0.7 2.7l-0.7 0l-0.7 0l-0.7 0l-0.7 0l-0.7 -6.6l-0.7 6.6l-0.7 0l-0.7 -2.7l-0.7 0l-0.7 2.7l-0.7 0l-0.7 0l-0.7 0l-0.7 -6.6l-0.7 6.6l-0.7 -2.7l-0.7 2.7l-0.7 0l-0.7 0l-0.7 0l-0.7 0l-0.7 0l-0.7 0l-0.7 0l-0.7 0l-0.7 0l-0.7 0l-0.7 0l-0.7 0l-0.7 0l-0.7 -2.7l-0.7 2.7l-0.7 -2.7l-0.7 -3.9l-0.7 0l-0.7 6.6l-0.7 0l-0.7 0l-0.7 0l-0.7 0l-0.7 0l-0.7 0l-0.7 0l-0.7 0l-0.7 0Z" fill="#cc77ee" stroke="#cc77ee" stroke-width="1.32" stroke-linejoin="round"/><path d="M853.9 2292.4l0.7 5.9l0.7 -11.2l0.7 5.3l0.7 -2.7l0.7 -14.1l0.7 19.7l0.7 -2.9l0.7 5.9l0.7 -18.4l0.7 9.8l0.7 -2.6l0.7 11.2l0.7 -16.1l0.7 7.5l0.7 2.7l0.7 2.9l0.7 3l0.7 -11.2l0.7 8.2l0.7 -2.9l0.7 5.9l0.7 -11.2l0.7 -2.5l0.7 0l0.7 20.3l0.7 -22.7l0.7 -12.5l0.7 20l0.7 11.8l0.7 -3.2l0.7 -5.9l0.7 5.9l0.7 -5.9l0.7 5.9l0.7 -11.2l0.7 14.4l0.7 -9.1l0.7 -5.3l0.7 14.4l0.7 -16.9l0.7 2.5l0.7 0l0.7 -2.5l0.7 5.1l0.7 0l0.7 2.7l0.7 5.9l0.7 3.2l0.7 -3.2l0.7 -5.9l0.7 -7.8l0.7 2.5l0.7 -4.9l0.7 10.2l0.7 2.9l0.7 -2.9l0.7 -5.3l0.7 11.2l0.7 -16.1l0.7 2.4l0.7 10.7l0.7 -10.7l0.7 5.1l0.7 -7.5l0.7 2.4l0.7 5.1l0.7 0l0.7 0l0.7 8.6l0.7 -16.1l0.7 -8.6l0.7 18.8l0.7 0l0.7 -7.8l0.7 2.5l0.7 8.2l0.7 3l0.7 0l0.7 -5.9l0.7 2.9l0.7 13.2l0.7 -26.3l0.7 10.2l0.7 9.1l0.7 -9.1l0.7 -2.7l0.7 2.7l0.7 -29.7l0.7 27l0.7 -5.1l0.7 2.5l0.7 5.3l0.7 -2.7l0.8 0l0.7 8.6l0.7 -18.4l0.7 12.5l0.7 -7.8l0.7 7.8l0.7 2.9l0.7 -8.2l0.7 -7.2l0.7 32.5l0.7 -7.5l0.7 -12.5l0.7 -18.8l0.7 24.7l0.7 -16.1l0.7 7.5l0.7 8.6l0.7 -16.1l0.7 13.1l0.7 3l0.7 -30l0.7 -53l0.7 -33.8l0.7 -51.6l0.7 -38.9l0.7 -36.5l0.7 -31.8l0.7 -25.3l0.7 -16.1l0.7 -18.2l0.7 -8.4l0.7 -6l0.7 -7.4l0.7 -3.1l0.7 -5.3l0.7 -2.4l0.7 -1.3l0.7 -0.3l0.7 -0.5l0.7 0l0.7 0l0.7 0.1l0.7 0.6l0.7 0.3l0.7 1.6l0.7 0.5l0.7 0.4l0.7 1.6l0.7 0.2l0.7 0.8l0.7 2.9l0.7 -0.2l0.7 0.8l0.7 0.6l0.7 1.5l0.7 1.2l0.7 0.4l0.7 2.6l0.7 1.6l0.7 2.6l0.7 0.1l0.7 2.1l0.7 2l0.7 1.7l0.7 1.6l0.7 2.2l0.7 0l0.7 2.4l0.7 2.6l0.7 1.7l0.7 1.9l0.7 -0.2l0.7 2.8l0.7 1.5l0.7 1.6l0.7 2.7l0.7 0.1l0.7 3l0.7 1l0.7 0.4l0.7 3.7l0.7 0.4l0.7 -0.1l0.7 3l0.7 -0.8l0.7 3.9l0.7 1.6l0.7 2.5l0.7 -1.9l0.7 4.2l0.7 2l0.7 2.2l0.7 -1.3l0.7 2.5l0.7 2.6l0.7 1.8l0.7 0.1l0.7 2.6l0.7 0.9l0.7 2.2l0.7 2l0.7 2.1l0.7 1.1l0.7 -1.9l0.7 2.6l0.7 2.1l0.7 1.2l0.7 2.1l0.7 2.5l0.7 -0.2l0.7 1.4l0.7 -1l0.7 4l0.7 0.5l0.7 2.4l0.7 2.4l0.7 1.3l0.7 -2.7l0.7 3.6l0.7 3.2l0.7 0.4l0.7 1.6l0.7 0.4l0.7 1.6l0.7 3.1l0.7 0.2l0.7 -0.2l0.7 4.2l0.7 -0.9l0.7 1.5l0.7 1.7l0.7 1.1l0.7 -0.3l0.7 4.5l0.7 -0.5l0.7 2.4l0.7 -1.5l0.7 0.6l0.7 3.9l0.7 1.2l0.7 -1.5l0.7 5.6l0.7 -5.3l0.7 2.1l0.7 5.2l0.7 2.1l0.7 -1.4l0.7 3l0.7 1.6l0.7 -4.6l0.7 7.1l0.7 -3.3l0.7 7.7l0.7 -4.4l0.7 -1l0.7 3.7l0.7 -0.5l0.7 3.4l0.7 0.9l0.7 1.2l0.7 -0.2l0.7 1.7l0.7 2.8l0.7 2l0.7 -3.5l0.7 0.5l0.7 7.7l0.7 1.7l0.7 -6.8l0.7 7.3l0.7 -1.2l0.7 0.6l0.7 0.4l0.7 1.2l0.7 -0.2l0.7 2l0.7 4.3l0.7 1.4l0.7 -2l0.7 3.3l0.7 -3.2l0.7 -3.1l0.7 8l0.7 -3.1l0.7 3l0.7 -5.2l0.7 3.2l0.7 4.9l0.7 3.3l0.8 -0.1l0.7 2.4l0.7 -5.6l0.7 4.4l0.7 -1l0.7 3.1l0.7 -3.9l0.7 5.5l0.7 -3.4l0.7 4.1l0.7 -3.3l0.7 7l0.7 0.7l0.7 2.2l0.7 -5.4l0.7 5.8l0.7 2.9l0.7 -0.9l0.7 2l0.7 -1.9l0.7 -3.6l0.7 8.1l0.7 -7.6l0.7 9.3l0.7 -7.6l0.7 6l0.7 2.6l0.7 -2.9l0.7 -4.6l0.7 -0.9l0.7 6.4l0.7 2.8l0.7 1.1l0.7 0.4l0.7 2.1l0.7 2.1l0.7 -3l0.7 0.5l0.7 1.7l0.7 -4.6l0.7 8.8l0.7 4l0.7 -2.9l0.7 2.2l0.7 -3.7l0.7 5.9l0.7 -4.3l0.7 3.4l0.7 -0.1l0.7 0.3l0.7 3l0.7 -1.2l0.7 0.2l0.7 -2.3l0.7 0.7l0.7 3.2l0.7 -2.9l0.7 2.8l0.7 -3.3l0.7 6.3l0.7 5.9l0.7 -17.5l0.7 15.8l0.7 -1.5l0.7 -2.4l0.7 3.1l0.7 1.4l0.7 0.2l0.7 -3.7l0.7 4.8l0.7 -1.3l0.7 -4.6l0.7 8.7l0.7 -7.7l0.7 -0.3l0.7 5.5l0.7 0.5l0.7 2.7l0.7 3.6l0.7 2.5l0.7 -0.2l0.7 -5.1l0.7 1.3l0.7 4.4l0.7 -7.5l0.7 10.6l0.7 0.5l0.7 -4.8l0.7 5.7l0.7 2.1l0.7 -13.6l0.7 3.7l0.7 11.5l0.7 2.3l0.7 -9.8l0.7 -4.9l0.7 3.7l0.7 5l0.7 5.5l0.7 -1.1l0.7 4l0.7 -5.3l0.7 -2.7l0.7 2.9l0.7 -5.4l0.7 9.4l0.7 -0.4l0.7 -9.1l0.7 6.3l0.7 0.5l0.7 -8l0.7 11l0.7 4.3l0.7 -1.3l0.7 4.8l0.7 -19.1l0.7 15.5l0.7 -2l0.7 -6.2l0.7 5.7l0.7 -3.6l0.7 8l0.7 -3.9l0.7 10.8l0.7 -16.5l0.7 9.8l0.7 -4.1l0.7 3.6l0.7 -9.3l0.7 5.2l0.7 -1.2l0.7 10.6l0.7 -0.2l0.7 -9l0.7 10.7l0.7 2.1l0.7 -13.3l0.7 10.7l0.7 -0.2l0.7 -2.4l0.7 6.4l0.7 -8.7l0.7 7.3l0.7 1l0.7 3.4l0.7 -6.2l0.7 -5.4l0.7 9.7l0.7 2.1l0.7 -4.8l0.7 12.4l0.7 -11.6l0.7 -3.6l0.7 2.1l0.7 16.8l0.7 -8.8l0.7 -1.4l0.7 5.2l0.7 -10.2l0.7 8.5l0.7 -17l0.7 14.2l0.7 -4.8l0.7 3.4l0.7 9l0.7 -7.9l0.7 10.5l0.7 -13l0.7 7.3l0.7 -8.5l0.7 11l0.7 2.6l0.7 -2.8l0.7 6.9l0.7 -17.8l0.7 19.1l0.7 -1.7l0.7 -2.9l0.7 -5.3l0.7 8l0.7 -6.8l0.7 9.6l0.7 -3l0.7 7.3l0.7 -3.1l0.7 -3l0.7 1.3l0.8 -6.8l0.7 -1.2l0.7 2.5l0.7 6.8l0.7 1.4l0.7 -0.1l0.7 -11.9l0.7 1.3l0.7 6.3l0.7 4.2l0.7 -15.1l0.7 1.2l0.7 15.2l0.7 11.2l0.7 -16.7l0.7 -3.8l0.7 5.1l0.7 4.1l0.7 -4.1l0.7 -5l0.7 15l0.7 -7.3l0.7 -3.9l0.7 5.3l0.7 0l0.7 2.9l0.7 4.5l0.7 -3.1l0.7 4.6l0.7 -10.1l0.7 1.3l0.7 10.4l0.7 -3.1l0.7 1.5l0.7 -8.7l0.7 1.4l0.7 4.3l0.7 -8.1l0.7 19.4l0.7 -3.4l0.7 -9.3l0.7 7.6l0.7 -6.1l0.7 11.2l0.7 3.6l0.7 -11.7l0.7 8.1l0.7 -6.6l0.7 10.1l0.7 -13l0.7 -6.7l0.7 5.4l0.7 -1.4l0.7 8.9l0.7 8.7l0.7 -11.7l0.7 3.1l0.7 5l0.7 3.6l0.7 -14.4l0.7 20.2l0.7 -5.8l0.7 -1.7l0.7 3.6l0.7 -7l0.7 -7.6l0.7 7.7l0.7 0l0.7 0.1l0.7 8.8l0.7 3.9l0.7 -17.3l0.7 13.5l0.7 -5.4l0.7 -3.2l0.7 1.6l0.7 3.5l0.7 -3.4l0.7 3.5l0.7 3.6l0.7 -3.5l0.7 5.4l0.7 -8.7l0.7 10.7l0.7 -9l0.7 5.3l0.7 -5.1l0.7 1.7l0.7 -4.8l0.7 4.9l0.7 1.8l0.7 1.8l0.7 1.9l0.7 -10.1l0.7 4.9l0.7 9.2l0.7 -9.1l0.7 5.3l0.7 -3.5l0.7 -7.9l0.7 15.4l0.7 8.5l0.7 -15.7l0.7 9.3l0.7 -12.5l0.7 10.7l0.7 -3.8l0.7 -1.7l0.7 3.7l0.7 2l0.7 -8.9l0.7 13l0.7 -2l0.7 -1.9l0.7 -5.4l0.7 3.7l0.7 8l0.7 -9.7l0.7 -1.8l0.7 5.6l0.7 10.5l0.7 -17.6l0.7 17.7l0.7 -4.3l0.7 -30.2l0.7 15.5l0.7 10.7l0.7 13.4l0.7 -7l0.7 -4.1l0.7 8.7l0.7 -12.5l0.7 15.1l0.7 -6.9l0.7 7l0.7 -9l0.7 9.1l0.7 -11l0.7 0.1l0.7 8.7l0.7 -10.6l0.7 -16.5l0.7 16.7l0.7 -7.2l0.7 -4.8l0.7 16.2l0.7 -2l0.7 6.4l0.7 -6.3l0.7 6.5l0.7 2.3l0.7 -4.4l0.7 -4.1l0.7 2.1l0.7 6.6l0.7 -10.4l0.7 6.1l0.7 0.1l0.7 6.8l0.7 -18.1l0.7 9.4l0.7 -3.8l0.7 8.2l0.7 -2l0.7 6.8l0.7 5l0.7 -9.5l0.7 7.1l0.7 -6.9l0.7 2.3l0.7 2.4l0.7 7.7l0.7 -14.3l0.7 14.4l0.7 -12.1l0.7 -13.5l0.7 15.9l0.7 2.4l0.7 2.5l0.7 -2.4l0.7 5l0.7 2.8l0.7 0.1l0.7 -9.9l0.7 0.1l0.7 2.4l0.7 -6.6l0.7 9.1l0.7 2.6l0.8 -15.7l0.7 -13.8l0.7 22.4l0.7 -10.4l0.7 20.4l0.7 2.9l0.7 -12.8l0.7 12.9l0.7 -12.7l0.7 0l0.7 12.9l0.7 -5.5l0.7 2.8l0.7 9l0.7 -11.6l0.7 2.8l0.7 0l0.7 -14.5l0.7 9.3l0.7 5.4l0.7 -2.7l0.7 5.6l0.7 6.3l0.7 -6.2l0.7 -2.8l0.7 -7.7l0.7 -2.3l0.7 10.2l0.7 2.9l0.7 6.3l0.7 3.5l0.7 -20.3l0.7 2.5l0.7 -4.8l0.7 2.4l0.7 10.8l0.7 0l0.7 -10.6l0.7 17.1l0.7 0l0.7 -14.5l0.7 2.6l0.7 2.8l0.7 -5.3l0.7 8.3l0.7 9.9l0.7 -18l0.7 11.4l0.7 -23l0.7 14.3l0.7 5.8l0.7 6.4l0.7 -3.2l0.7 10.5l0.7 -19.3l0.7 15.7l0.7 -6.8l0.7 -5.9l0.7 6.1l0.7 0l0.7 3.4l0.7 -9.4l0.7 3l0.7 -2.9l0.7 0.1l0.7 9.4l0.7 -3.2l0.7 -3.1l0.7 0l0.7 -2.9l0.7 9.5l0.7 -12.2l0.7 0l0.7 12.3l0.7 3.6l0.7 -13l0.7 13.1l0.7 0.1l0.7 -10.1l0.7 0.1l0.7 3.2l0.7 0l0.7 -16.7l0.7 27.6l0.7 -7.4l0.7 0.1l0.7 3.6l0.7 -13.1l0.7 17.1l0.7 -14l0.7 -8.6l0.7 25.6l0.7 -10.3l0.7 10.3l-0.7 0l-0.7 0l-0.7 0l-0.7 0l-0.7 0l-0.7 0l-0.7 0l-0.7 0l-0.7 0l-0.7 0l-0.7 0l-0.7 0l-0.7 0l-0.7 0l-0.7 0l-0.7 0l-0.7 0l-0.7 0l-0.7 0l-0.7 0l-0.7 0l-0.7 0l-0.7 0l-0.7 -4.1l-0.7 4.1l-0.7 0l-0.7 0l-0.7 0l-0.7 0l-0.7 -4.4l-0.7 4.4l-0.7 0l-0.7 0l-0.7 -0.7l-0.7 0.7l-0.7 0l-0.7 0l-0.7 0l-0.7 0l-0.7 0l-0.7 0l-0.7 0l-0.7 0l-0.7 0l-0.7 0l-0.7 0l-0.7 0l-0.7 0l-0.7 0l-0.7 0l-0.7 0l-0.7 -1.8l-0.7 1.8l-0.7 0l-0.7 0l-0.7 0l-0.7 0l-0.7 0l-0.7 0l-0.7 0l-0.7 0l-0.7 -2.6l-0.7 2.6l-0.7 0l-0.7 0l-0.7 0l-0.7 0l-0.7 0l-0.7 0l-0.7 0l-0.7 0l-0.7 0l-0.7 0l-0.7 -10.9l-0.7 10.9l-0.7 -3.7l-0.7 -10.7l-0.7 14.4l-0.7 0l-0.7 0l-0.7 0l-0.7 -4.1l-0.7 4.1l-0.7 -11.5l-0.7 -0.1l-0.7 7.2l-0.7 -0.1l-0.7 4.5l-0.7 0l-0.7 -8.5l-0.7 8.5l-0.7 -5l-0.7 -3.8l-0.8 3.7l-0.7 3.9l-0.7 -14.5l-0.7 14.3l-0.7 -0.1l-0.7 -11.2l-0.7 12.7l-0.7 -12.8l-0.7 12.8l-0.7 -1.8l-0.7 0l-0.7 -4l-0.7 -3.8l-0.7 7.7l-0.7 -0.1l-0.7 -4l-0.7 -7.3l-0.7 -0.1l-0.7 11.2l-0.7 0l-0.7 -11.3l-0.7 11.2l-0.7 -14.6l-0.7 16.9l-0.7 -2.4l-0.7 -20.8l-0.7 9.4l-0.7 -3.4l-0.7 -3.2l-0.7 9.9l-0.7 3.8l-0.7 4l-0.7 2.7l-0.7 -20.7l-0.7 13.8l-0.7 0l-0.7 -3.9l-0.7 -3.6l-0.7 -6.5l-0.7 -0.1l-0.7 -3l-0.7 6.1l-0.7 0l-0.7 14.9l-0.7 -21.2l-0.7 13.1l-0.7 8l-0.7 -15.1l-0.7 7.1l-0.7 -3.7l-0.7 3.6l-0.7 0l-0.7 3.9l-0.7 -14.3l-0.7 3.2l-0.7 7.1l-0.7 -3.7l-0.7 3.7l-0.7 -24.4l-0.7 17.2l-0.7 0l-0.7 -3.4l-0.7 6.8l-0.7 -3.5l-0.7 0l-0.7 -6.4l-0.7 17.7l-0.7 -23.6l-0.7 15.8l-0.7 -10l-0.7 -0.1l-0.7 3.2l-0.7 0l-0.7 -3.2l-0.7 -3.1l-0.7 -2.8l-0.7 16l-0.7 -10.2l-0.7 18.3l-0.7 -4.1l-0.7 -14.2l-0.7 0l-0.7 0l-0.7 0l-0.7 6.7l-0.7 -9.8l-0.7 3.1l-0.7 0l-0.7 -3.1l-0.7 -5.7l-0.7 2.8l-0.7 6.1l-0.7 -14.2l-0.7 5.2l-0.7 -2.7l-0.7 2.7l-0.7 -7.8l-0.7 7.8l-0.7 2.9l-0.7 3.1l-0.7 -13.8l-0.7 17.1l-0.7 -12l-0.7 -2.6l-0.7 22l-0.7 -7.2l-0.7 -14.8l-0.7 8.5l-0.7 -11l-0.7 8.1l-0.7 -10.6l-0.7 5.1l-0.7 18.9l-0.7 -18.8l-0.7 2.7l-0.7 6l-0.7 -13.8l-0.7 5.2l-0.7 -5.2l-0.7 5.3l-0.7 -5.2l-0.7 2.6l-0.7 0l-0.7 -7.3l-0.7 7.4l-0.7 27l-0.7 -32l-0.7 5.2l-0.7 8.8l-0.7 3.4l-0.7 -3.2l-0.7 -8.7l-0.7 -7.7l-0.7 2.6l-0.7 38.5l-0.7 -35.8l-0.7 -9.7l-0.7 -2.2l-0.7 2.3l-0.7 7.3l-0.7 5.5l-0.7 -7.9l-0.7 -7l-0.7 36.2l-0.7 -20.7l-0.7 -15.3l-0.7 0.1l-0.7 12.7l-0.7 -12.6l-0.7 10.1l-0.7 5.9l-0.7 -10.9l-0.7 -2.4l-0.7 5.3l-0.7 -9.8l-0.7 0.2l-0.7 -4.3l-0.7 23.3l-0.7 -18.7l-0.7 -4.4l-0.7 7l-0.7 24.1l-0.7 -21.3l-0.7 -7.1l-0.7 -10.4l-0.7 8.3l-0.7 2.5l-0.7 0.1l-0.7 16.6l-0.7 0.1l-0.7 -13.7l-0.7 0.2l-0.7 -4.8l-0.7 -6.4l-0.7 -5.8l-0.7 12.9l-0.7 -8.7l-0.7 14.2l-0.7 -2.4l-0.7 -2.3l-0.7 -4.6l-0.7 2.7l-0.7 -2.3l-0.7 7.9l-0.7 -9.7l-0.7 -2.1l-0.7 -3.9l-0.7 16.7l-0.7 -7.5l-0.8 -14.6l-0.7 32.5l-0.7 -21.6l-0.7 -6.4l-0.7 6.7l-0.7 -1.9l-0.7 -4.2l-0.7 -9.5l-0.7 12.4l-0.7 -2l-0.7 -7.9l-0.7 6.4l-0.7 2.4l-0.7 16l-0.7 -10.6l-0.7 -18.6l-0.7 14.7l-0.7 -12.4l-0.7 2l-0.7 11.3l-0.7 -4l-0.7 -12.1l-0.7 17.5l-0.7 -4.3l-0.7 -17.9l-0.7 7.7l-0.7 -12.1l-0.7 11.1l-0.7 4.4l-0.7 -3.7l-0.7 -14.1l-0.7 7l-0.7 12.4l-0.7 4.9l-0.7 -10.7l-0.7 -1.7l-0.7 4.4l-0.7 9.8l-0.7 -24l-0.7 11.1l-0.7 -7.2l-0.7 -11.1l-0.7 21.4l-0.7 -3.9l-0.7 -5.3l-0.7 -11.2l-0.7 17.8l-0.7 -14l-0.7 23.3l-0.7 -6.3l-0.7 -9.5l-0.7 2.4l-0.7 -8.6l-0.7 -8.8l-0.7 39.2l-0.7 -35.7l-0.7 -4l-0.7 -0.9l-0.7 12.4l-0.7 11.2l-0.7 -18.7l-0.7 3.4l-0.7 5.5l-0.7 -6.4l-0.7 -4l-0.7 3.2l-0.7 -6.8l-0.7 -2.2l-0.7 5.6l-0.7 -6.3l-0.7 -3.4l-0.7 -2.1l-0.7 13.3l-0.7 -15.2l-0.7 4l-0.7 10.6l-0.7 -14.7l-0.7 4.9l-0.7 -5.4l-0.7 9.9l-0.7 -4.6l-0.7 1.3l-0.7 -7.7l-0.7 4.8l-0.7 9.4l-0.7 -15.3l-0.7 9.6l-0.7 -4.6l-0.7 -5.3l-0.7 7.3l-0.7 -13.6l-0.7 15.3l-0.7 -14.6l-0.7 14.2l-0.7 -1.7l-0.7 3.8l-0.7 -9l-0.7 1.5l-0.7 -0.8l-0.7 -18.4l-0.7 17l-0.7 -4.7l-0.7 0.4l-0.7 6.9l-0.7 -14.8l-0.7 -2l-0.7 1.9l-0.7 11l-0.7 -8.4l-0.7 1.4l-0.7 -6.7l-0.7 3.7l-0.7 -0.7l-0.7 -1l-0.7 -4.7l-0.7 1.2l-0.7 14l-0.7 -15.7l-0.7 2l-0.7 -5l-0.7 10.8l-0.7 -7.2l-0.7 -4.8l-0.7 1.2l-0.7 -1.7l-0.7 4.6l-0.7 2.7l-0.7 -10.6l-0.7 -3.4l-0.7 1.4l-0.7 -7.5l-0.7 11l-0.7 10.7l-0.7 -24.1l-0.7 4.3l-0.7 -0.3l-0.7 3.5l-0.7 -3.3l-0.7 6.8l-0.7 -4l-0.7 -5.7l-0.7 4.7l-0.7 -2.7l-0.7 -3.4l-0.7 0.4l-0.7 -1.9l-0.7 5.9l-0.7 -12l-0.7 5.9l-0.7 -7.8l-0.7 12.9l-0.7 -8.6l-0.7 6.2l-0.7 -6.4l-0.7 8.5l-0.7 -13.5l-0.7 -1.2l-0.7 4.1l-0.7 -6.2l-0.7 0.3l-0.7 1.2l-0.7 1.8l-0.7 1.1l-0.7 3.5l-0.7 -11.8l-0.7 3.6l-0.7 -2l-0.7 -5.4l-0.7 4.5l-0.7 -8.3l-0.7 7.4l-0.7 -2l-0.7 -4.6l-0.7 -1l-0.7 9l-0.7 -5.6l-0.7 -2.2l-0.7 1.4l-0.7 -9.5l-0.7 1.7l-0.7 9.7l-0.7 -3.7l-0.7 -4l-0.7 -4.4l-0.7 3.3l-0.7 -0.1l-0.7 1.9l-0.8 -8.4l-0.7 6.5l-0.7 -2.5l-0.7 -4.2l-0.7 -0.9l-0.7 -6.9l-0.7 1.3l-0.7 1.6l-0.7 -3.3l-0.7 10.4l-0.7 -9.2l-0.7 -4.6l-0.7 4.6l-0.7 -1.1l-0.7 -5.5l-0.7 -0.3l-0.7 -2.1l-0.7 -1.3l-0.7 -0.4l-0.7 -4.4l-0.7 4.8l-0.7 -2.6l-0.7 -0.3l-0.7 0.1l-0.7 -8.4l-0.7 3.5l-0.7 -2.7l-0.7 0.4l-0.7 0l-0.7 -0.4l-0.7 -5.8l-0.7 0.8l-0.7 2.5l-0.7 -0.5l-0.7 -0.3l-0.7 -4.3l-0.7 -0.2l-0.7 -0.6l-0.7 -2.3l-0.7 1.3l-0.7 -5.9l-0.7 0.3l-0.7 0l-0.7 -1l-0.7 -1.9l-0.7 -4.5l-0.7 -3.7l-0.7 2.2l-0.7 1l-0.7 0.3l-0.7 -4l-0.7 -2.5l-0.7 1.8l-0.7 -2.6l-0.7 -2.5l-0.7 -1.9l-0.7 1.1l-0.7 -2.4l-0.7 -3.2l-0.7 1.5l-0.7 0.6l-0.7 -3.2l-0.7 -7.1l-0.7 3.4l-0.7 -2.1l-0.7 -0.7l-0.7 -2.3l-0.7 -1l-0.7 -3.3l-0.7 2.2l-0.7 -4.5l-0.7 -2.2l-0.7 -0.2l-0.7 0l-0.7 -0.6l-0.7 -1.4l-0.7 -1.8l-0.7 -2l-0.7 -0.4l-0.7 -1.6l-0.7 -1.3l-0.7 -3.6l-0.7 -1l-0.7 -3.4l-0.7 -0.9l-0.7 -2l-0.7 2.3l-0.7 -2.7l-0.7 -2.1l-0.7 -1.7l-0.7 -2.5l-0.7 1.5l-0.7 -3.7l-0.7 -2.2l-0.7 -2.9l-0.7 -0.4l-0.7 -0.1l-0.7 -2.4l-0.7 -2.5l-0.7 -1.4l-0.7 0.6l-0.7 -1.2l-0.7 -3.5l-0.7 -1.5l-0.7 -1.6l-0.7 -2.3l-0.7 -0.9l-0.7 -1.9l-0.7 -0.7l-0.7 -2.3l-0.7 0.1l-0.7 -4l-0.7 -0.8l-0.7 -2l-0.7 -1.1l-0.7 -1.3l-0.7 -2.2l-0.7 -0.8l-0.7 -2.9l-0.7 -0.9l-0.7 -2.6l-0.7 -2.8l-0.7 -0.6l-0.7 -1.7l-0.7 -0.3l-0.7 -2.7l-0.7 -2.8l-0.7 -0.8l-0.7 -1.4l-0.7 -1.1l-0.7 -1.4l-0.7 -1.9l-0.7 -1.5l-0.7 -2.3l-0.7 -2.1l-0.7 -1.5l-0.7 -0.7l-0.7 -1.3l-0.7 -0.4l-0.7 0.3l-0.7 -2.3l-0.7 0.3l-0.7 -3.3l-0.7 1l-0.7 -1.1l-0.7 -0.6l-0.7 -2l-0.7 -0.8l-0.7 0.1l-0.7 0.3l-0.7 0l-0.7 0.4l-0.7 2.3l-0.7 0.6l-0.7 4.6l-0.7 2.7l-0.7 5.9l-0.7 8.6l-0.7 8.1l-0.7 13.8l-0.7 18.8l-0.7 22.3l-0.7 35.9l-0.7 40.6l-0.7 32.7l-0.7 45.8l-0.7 36l-0.7 52.4l-0.7 50.2l-0.7 3.2l-0.7 0l-0.7 0l-0.7 0l-0.7 0l-0.7 0l-0.7 0l-0.7 0l-0.7 0l-0.7 0l-0.7 0l-0.7 -10.2l-0.7 10.2l-0.7 0l-0.7 0l-0.7 0l-0.7 -6.6l-0.7 6.6l-0.7 0l-0.7 0l-0.8 0l-0.7 0l-0.7 0l-0.7 0l-0.7 0l-0.7 0l-0.7 0l-0.7 -6.6l-0.7 6.6l-0.7 0l-0.7 0l-0.7 0l-0.7 0l-0.7 0l-0.7 0l-0.7 0l-0.7 0l-0.7 0l-0.7 -6.6l-0.7 6.6l-0.7 0l-0.7 0l-0.7 0l-0.7 -6.6l-0.7 3.9l-0.7 0l-0.7 2.7l-0.7 -2.7l-0.7 2.7l-0.7 -6.6l-0.7 6.6l-0.7 0l-0.7 0l-0.7 0l-0.7 0l-0.7 0l-0.7 0l-0.7 0l-0.7 0l-0.7 0l-0.7 0l-0.7 0l-0.7 -2.7l-0.7 2.7l-0.7 0l-0.7 0l-0.7 0l-0.7 0l-0.7 0l-0.7 0l-0.7 0l-0.7 -2.7l-0.7 2.7l-0.7 0l-0.7 0l-0.7 0l-0.7 0l-0.7 0l-0.7 0l-0.7 0l-0.7 0l-0.7 -2.7l-0.7 2.7l-0.7 0l-0.7 0l-0.7 -2.7l-0.7 2.7l-0.7 0l-0.7 0l-0.7 -2.7l-0.7 2.7l-0.7 0l-0.7 0l-0.7 0l-0.7 0l-0.7 0l-0.7 0l-0.7 0l-0.7 0l-0.7 0l-0.7 0l-0.7 0l-0.7 0l-0.7 0l-0.7 0l-0.7 0l-0.7 0l-0.7 0l-0.7 0l-0.7 0l-0.7 -10.2l-0.7 0l-0.7 0l-0.7 10.2Z" fill="#e09c00" stroke="#e09c00" stroke-width="1.32" stroke-linejoin="round"/><path d="M853.9 2284.6l0.7 -9l0.7 11.5l0.7 8.2l0.7 -5.6l0.7 2.7l0.7 0l0.7 -7.8l0.7 10.7l0.7 3l0.7 -8.6l0.7 0l0.7 15.2l0.7 -6.6l0.7 -5.9l0.7 -2.7l0.7 -7.5l0.7 4.9l0.7 5.3l0.7 2.9l0.7 -13.1l0.7 7.5l0.7 0l0.7 5.6l0.7 0l0.7 -10.7l0.7 7.8l0.7 -5.3l0.7 -4.9l0.7 0l0.7 7.5l0.7 0l0.7 -2.6l0.7 -7.2l0.7 12.5l0.7 2.9l0.7 -2.9l0.7 -16.8l0.7 19.7l0.7 -8.2l0.7 2.6l0.7 0l0.7 0l0.7 2.7l0.7 0l0.7 -2.7l0.7 -2.6l0.7 11.2l0.7 -8.6l0.7 11.8l0.7 -14.4l0.7 -7.2l0.7 7.2l0.7 -7.2l0.7 18.4l0.7 -13.7l0.7 2.5l0.7 8.2l0.7 -13.1l0.7 4.9l0.7 2.6l0.7 0l0.7 0l0.7 2.7l0.7 5.9l0.7 -3l0.7 -5.6l0.7 15.2l0.7 -12.5l0.7 9.1l0.7 -9.1l0.7 0l0.7 5.9l0.7 -3l0.7 -2.9l0.7 -7.8l0.7 2.5l0.7 5.3l0.7 2.9l0.7 -2.9l0.7 9.1l0.7 3.4l0.7 -9.6l0.7 -2.9l0.7 -2.7l0.7 11.8l0.7 -3.2l0.7 -18.4l0.7 4.7l0.7 10.7l0.7 0l0.7 3l0.7 -3l0.7 -2.9l0.8 0l0.7 2.9l0.7 -13.1l0.7 13.1l0.7 -2.9l0.7 -2.7l0.7 0l0.7 11.8l0.7 -9.1l0.7 0l0.7 -7.8l0.7 16.9l0.7 -14.4l0.7 11.2l0.7 -5.9l0.7 2.9l0.7 -13.1l0.7 4.9l0.7 14.4l0.7 0l0.7 -43l0.7 -45.7l0.7 -34l0.7 -51.2l0.7 -30l0.7 -44.3l0.7 -36.8l0.7 -17.3l0.7 -17l0.7 -15.5l0.7 -9.6l0.7 -9.3l0.7 -5.7l0.7 -5l0.7 -4.6l0.7 -1l0.7 -2.5l0.7 -0.6l0.7 0.3l0.7 -0.3l0.7 0l0.7 0l0.7 0.1l0.7 0.1l0.7 2l0.7 1.1l0.7 -1.1l0.7 2l0.7 0.8l0.7 1.1l0.7 1.3l0.7 1.4l0.7 1.4l0.7 0l0.7 -0.3l0.7 2.3l0.7 0.2l0.7 3.6l0.7 -1l0.7 2.4l0.7 1.5l0.7 2.1l0.7 2l0.7 2.2l0.7 2.8l0.7 1.2l0.7 1.9l0.7 -0.6l0.7 3.2l0.7 -0.5l0.7 2.7l0.7 2.8l0.7 -1.1l0.7 2.9l0.7 1.8l0.7 2.2l0.7 2.4l0.7 0.9l0.7 1.2l0.7 2.8l0.7 -0.2l0.7 1.7l0.7 4.7l0.7 0.3l0.7 -0.2l0.7 1.1l0.7 2.8l0.7 2.5l0.7 1.5l0.7 -1l0.7 4l0.7 1.3l0.7 1.1l0.7 -0.3l0.7 -0.3l0.7 2.8l0.7 5l0.7 2.4l0.7 0.7l0.7 2.8l0.7 0.1l0.7 0.3l0.7 1.3l0.7 0.7l0.7 4.7l0.7 -3l0.7 4.7l0.7 0.6l0.7 1.3l0.7 -0.5l0.7 2.9l0.7 2l0.7 2.4l0.7 -1.1l0.7 4.6l0.7 -1.9l0.7 0.7l0.7 6.4l0.7 -3.3l0.7 3.8l0.7 3.5l0.7 2l0.7 -2.5l0.7 4.8l0.7 -3.1l0.7 -0.7l0.7 0.3l0.7 6.2l0.7 0.2l0.7 6l0.7 -4.7l0.7 4l0.7 2l0.7 -6.4l0.7 3.8l0.7 0.5l0.7 5l0.7 6.1l0.7 -4.5l0.7 0l0.7 4.4l0.7 -2.3l0.7 7.1l0.7 -6.4l0.7 -0.1l0.7 3.5l0.7 4.1l0.7 -0.2l0.7 0.4l0.7 0.1l0.7 -0.9l0.7 -0.9l0.7 7.1l0.7 -4.1l0.7 9l0.7 -7.1l0.7 9.2l0.7 -9.2l0.7 6.9l0.7 -1.4l0.7 3.4l0.7 3.9l0.7 -5.1l0.7 -1l0.7 3.6l0.7 2.4l0.7 -1.3l0.7 4.8l0.7 -4.6l0.7 4.6l0.7 7.5l0.7 -4.3l0.7 -0.7l0.7 4.7l0.7 0.8l0.7 2.9l0.7 0l0.7 -7.4l0.7 11.3l0.7 -0.4l0.7 -1.7l0.7 5.5l0.7 -4.1l0.7 5.9l0.7 2.2l0.7 -3.3l0.7 -5.8l0.7 5.6l0.7 4.6l0.8 -8.9l0.7 4.1l0.7 2.2l0.7 -1.3l0.7 -0.1l0.7 9.5l0.7 -3.9l0.7 -7.3l0.7 6.8l0.7 6.1l0.7 -6.7l0.7 1l0.7 9.2l0.7 -3.2l0.7 -5.4l0.7 10.8l0.7 -4.3l0.7 3.7l0.7 -1.1l0.7 -8.8l0.7 8l0.7 4.9l0.7 1.2l0.7 -6.6l0.7 2.6l0.7 3.3l0.7 -1.4l0.7 2.2l0.7 -6.1l0.7 4.9l0.7 2l0.7 2l0.7 -8l0.7 2.3l0.7 -1.7l0.7 9.6l0.7 -1.4l0.7 -2.8l0.7 2.6l0.7 1.4l0.7 11.9l0.7 -7.6l0.7 -0.3l0.7 -3.6l0.7 -4.3l0.7 16.2l0.7 -1.9l0.7 -10.5l0.7 5.9l0.7 6l0.7 -4l0.7 -8.6l0.7 3.3l0.7 -1.1l0.7 3.6l0.7 3.1l0.7 -9l0.7 19.5l0.7 -6.2l0.7 10.3l0.7 -11l0.7 -10.8l0.7 5.7l0.7 17.1l0.7 -10l0.7 -3.2l0.7 1.1l0.7 5.1l0.7 3.3l0.7 -6.6l0.7 0.6l0.7 2.2l0.7 -3.3l0.7 -6.8l0.7 8.7l0.7 4.6l0.7 -0.8l0.7 16.5l0.7 -25.8l0.7 21.3l0.7 2.2l0.7 -4.3l0.7 -3.8l0.7 5.6l0.7 -2.7l0.7 1.2l0.7 -3.1l0.7 12.2l0.7 -7.9l0.7 8.5l0.7 -13.1l0.7 4.9l0.7 -6.2l0.7 -5.3l0.7 -0.5l0.7 3.7l0.7 9.5l0.7 -11.2l0.7 8.9l0.7 7.4l0.7 -8.6l0.7 3.4l0.7 -1.5l0.7 -12.9l0.7 12.1l0.7 3.5l0.7 1.2l0.7 -6.9l0.7 0.2l0.7 -5.2l0.7 7.1l0.7 13.4l0.7 -14.3l0.7 19.3l0.7 -10.1l0.7 -1.6l0.7 -6.4l0.7 14.3l0.7 -15.9l0.7 22.4l0.7 -8.8l0.7 -10.1l0.7 7.7l0.7 -8.6l0.7 10l0.7 8l0.7 -13.3l0.7 6.4l0.7 -7.1l0.7 8.3l0.7 5.6l0.7 3.7l0.7 -3.4l0.7 -21.8l0.7 22.2l0.7 -6.4l0.7 8.1l0.7 4l0.7 -16l0.7 5.4l0.7 0.8l0.7 5.1l0.7 -9.1l0.7 -4.9l0.7 -0.3l0.7 5.2l0.7 13.8l0.7 -19l0.7 25.5l0.7 -14.9l0.7 -3l0.7 4.8l0.7 3.5l0.7 5.4l0.7 -6.1l0.7 -4.5l0.7 22.9l0.7 -14l0.7 1.3l0.7 7.2l0.7 3.2l0.7 -7.5l0.7 6.4l0.7 -10.1l0.7 11.2l0.7 -2.5l0.7 -7.1l0.7 4.5l0.7 -13.8l0.7 6.8l0.7 12.7l0.7 -15l0.7 1l0.7 -3.1l0.7 -4.4l0.7 -0.3l0.7 32.9l0.7 -20.8l0.7 11.6l0.7 -21.1l0.7 -1.6l0.7 -0.1l0.7 2.1l0.7 2.4l0.7 10.4l0.7 -0.3l0.7 -0.4l0.8 3l0.7 -20.5l0.7 23.1l0.7 1.6l0.7 -2.5l0.7 -2.1l0.7 25.4l0.7 -8l0.7 -15l0.7 3.5l0.7 -14l0.7 7.8l0.7 1.5l0.7 20.4l0.7 -33l0.7 -1.5l0.7 -8.6l0.7 12.5l0.7 2.7l0.7 18.8l0.7 -7.8l0.7 -3.6l0.7 -3.4l0.7 4.6l0.7 -4.9l0.7 13.3l0.7 -0.2l0.7 -19.1l0.7 30.9l0.7 -4.6l0.7 6.2l0.7 -24.3l0.7 17.3l0.7 -21.8l0.7 13.9l0.7 5.3l0.7 12.6l0.7 -21.7l0.7 12.4l0.7 10.6l0.7 -4.9l0.7 -17l0.7 -4.7l0.7 6.1l0.7 -1.6l0.7 25l0.7 -16.9l0.7 -3.6l0.7 3.3l0.7 -5.1l0.7 10.5l0.7 5.8l0.7 -0.3l0.7 -11.4l0.7 7.2l0.7 -3.9l0.7 -1.9l0.7 -1.8l0.7 5.1l0.7 9.7l0.7 -6.1l0.7 -3.9l0.7 5.5l0.7 10.4l0.7 -14.3l0.7 -0.1l0.7 -1.8l0.7 -3.4l0.7 14.5l0.7 1.8l0.7 -23.8l0.7 19.6l0.7 -9l0.7 14.9l0.7 -13.4l0.7 5.2l0.7 -1.8l0.7 3.5l0.7 3.9l0.7 -2.1l0.7 -2l0.7 0l0.7 7.8l0.7 8.8l0.7 -25.1l0.7 13.9l0.7 4.1l0.7 -13.2l0.7 15.1l0.7 -9.9l0.7 21.5l0.7 -5.1l0.7 -12.9l0.7 -3.6l0.7 -0.1l0.7 5.5l0.7 20.6l0.7 -5.5l0.7 -7.1l0.7 -15.2l0.7 17.3l0.7 15.1l0.7 -17.5l0.7 -4.1l0.7 -2l0.7 0l0.7 0l0.7 12.5l0.7 -2.4l0.7 12.2l0.7 -14.5l0.7 -11.4l0.7 20.4l0.7 -16.9l0.7 9.9l0.7 -2.2l0.7 -2l0.7 -7.4l0.7 15.8l0.7 -12.2l0.7 14.4l0.7 0l0.7 -16.1l0.7 23.3l0.7 -29.8l0.7 4.8l0.7 9.1l0.7 6.2l0.7 0l0.7 -0.1l0.7 0l0.7 0l0.7 0l0.7 -9.7l0.7 -6.7l0.7 16.4l0.7 -7.8l0.7 -12.8l0.7 16.6l0.7 -5.5l0.7 16l0.7 -6.5l0.7 -2l0.7 0l0.7 4.1l0.7 4.3l0.7 -2.2l0.7 -7.9l0.7 10.1l0.7 9.7l0.7 -17.9l0.7 15.3l0.7 -7.1l0.7 2.3l0.7 -14l0.7 5.7l0.7 -1.9l0.7 10.2l0.7 7.1l0.7 -4.8l0.7 -2.3l0.7 7.1l0.7 -22.3l0.7 15.3l0.7 -4.2l0.7 4.2l0.7 2.3l0.7 0l0.7 -8.3l0.7 13l0.7 5l0.7 -11.8l0.7 6.8l0.7 -8.8l0.7 6.5l0.7 0l0.7 -15.6l0.7 18l0.7 4.9l0.7 -9.3l0.7 4.4l0.7 -2.2l0.7 -4.2l0.7 2.1l0.7 9.2l0.7 -4.7l0.7 4.8l0.7 -7l0.7 -4.1l0.8 6.5l0.7 -2.2l0.7 2.2l0.7 2.3l0.7 -10.4l0.7 6.1l0.7 9.2l0.7 -11.2l0.7 2.1l0.7 2.2l0.7 -9.9l0.7 19.5l0.7 -4.9l0.7 0.1l0.7 -21.2l0.7 21.2l0.7 -4.4l0.7 12l0.7 -9.7l0.7 0l0.7 -2l0.7 -9.7l0.7 3.8l0.7 4l0.7 -3.9l0.7 10.5l0.7 7.3l0.7 -9.5l0.7 4.6l0.7 -16.1l0.7 9.6l0.7 11.6l0.7 -11.4l0.7 9l0.7 0l0.7 -8.8l0.7 11.4l0.7 -13.3l0.7 8.6l0.7 15.8l0.7 -10.9l0.7 -2.4l0.7 -2.3l0.7 15.7l0.7 -10.8l0.7 -9l0.7 14.3l0.7 -14.1l0.7 4.3l0.7 7.3l0.7 -11.5l0.7 -3.8l0.7 15.5l0.7 5.3l0.7 -5.2l0.7 -2.4l0.7 0l0.7 5.1l0.7 -13.8l0.7 11.4l0.7 11l0.7 -8.4l0.7 -4.9l0.7 10.4l0.7 -10.3l0.7 0.1l0.7 5l0.7 5.5l0.7 -12.5l0.7 12.5l0.7 -10.1l0.7 -8.6l0.7 0.1l0.7 8.7l0.7 4.9l0.7 -4.8l0.7 10.3l0.7 -18.6l0.7 13.4l0.7 2.6l0.7 -4.9l0.7 2.5l0.7 0.1l0.7 2.6l0.7 5.5l0.7 -14.9l0.7 0.1l0.7 2.3l0.7 -2.1l0.7 2.2l0.7 2.4l0.7 5l0.7 0l0.7 0l0 18.3l-0.7 8.7l-0.7 -8.8l-0.7 -18.3l-0.7 27.1l-0.7 0l-0.7 -15.8l-0.7 -8.8l-0.7 24.6l-0.7 0l-0.7 0l-0.7 0l-0.7 0l-0.7 -12.8l-0.7 11.4l-0.7 -11.4l-0.7 -3.4l-0.7 3.3l-0.7 12.9l-0.7 -19.5l-0.7 0l-0.7 18.1l-0.7 -11.6l-0.7 13l-0.7 -1.4l-0.7 -8.1l-0.7 0l-0.7 0l-0.7 0l-0.7 -10.4l-0.7 10.4l-0.7 -7.2l-0.7 7.2l-0.7 -3.7l-0.7 -3.5l-0.7 -3.4l-0.7 19l-0.7 0.1l-0.7 -12.2l-0.7 3.8l-0.7 -7.4l-0.7 -6.6l-0.7 10.2l-0.7 -16.1l-0.7 19.9l-0.7 -17.1l-0.7 17.2l-0.7 0l-0.7 -11l-0.7 3.4l-0.7 7.7l-0.7 -14.4l-0.7 14.5l-0.7 -7.7l-0.7 16.8l-0.7 -32.6l-0.7 23.6l-0.7 9l-0.7 -8.9l-0.7 0.1l-0.7 -7.9l-0.7 12.5l-0.7 -16.1l-0.7 7.6l-0.7 12.7l-0.7 -23.7l-0.7 15.3l-0.7 4.8l-0.7 -12.8l-0.7 -10.5l-0.7 -3.1l-0.7 13.7l-0.7 -7.3l-0.7 23.6l-0.7 -2.9l-0.7 -13.2l-0.7 8.6l-0.7 -8.5l-0.7 -14l-0.7 3.2l-0.7 24.8l-0.7 -34l-0.7 0l-0.7 16.5l-0.7 18.1l-0.7 -9.6l-0.7 -12l-0.7 17l-0.7 -9l-0.7 0.1l-0.7 -7.9l-0.7 3.9l-0.7 8.7l-0.7 -4.3l-0.8 9.7l-0.7 -21.3l-0.7 0.1l-0.7 7.7l-0.7 -17.5l-0.7 22.1l-0.7 -18.9l-0.7 7l-0.7 0.1l-0.7 3.9l-0.7 4.3l-0.7 -15l-0.7 -9.2l-0.7 6.1l-0.7 14.4l-0.7 -7.6l-0.7 -3.4l-0.7 7.4l-0.7 -3.7l-0.7 12.4l-0.7 -30.9l-0.7 22.7l-0.7 13.6l-0.7 -20.9l-0.7 21.4l-0.7 -31l-0.7 3.2l-0.7 18.9l-0.7 18.9l-0.7 -30.6l-0.7 8l-0.7 0.2l-0.7 -24l-0.7 16.2l-0.7 29.4l-0.7 -29.1l-0.7 23.9l-0.7 -15.2l-0.7 -27.7l-0.7 9l-0.7 7l-0.7 17.4l-0.7 0.5l-0.7 -21l-0.7 7.9l-0.7 0.1l-0.7 0.2l-0.7 -14.4l-0.7 10.9l-0.7 -7.3l-0.7 16.1l-0.7 -8.2l-0.7 -25.4l-0.7 25.9l-0.7 4.4l-0.7 -11.8l-0.7 0.2l-0.7 -12.8l-0.7 21.1l-0.7 -14.6l-0.7 24.6l-0.7 -9.1l-0.7 0.5l-0.7 -15.3l-0.7 3.7l-0.7 17.1l-0.7 -23.7l-0.7 24.7l-0.7 -13.4l-0.7 -7.3l-0.7 -6.5l-0.7 10.8l-0.7 18.7l-0.7 -4.7l-0.7 -17.1l-0.7 18.1l-0.7 -21l-0.7 12.1l-0.7 5l-0.7 11.4l-0.7 -37.8l-0.7 27.8l-0.7 -33.3l-0.7 12.8l-0.7 8l-0.7 -10.9l-0.7 -11.9l-0.7 16.1l-0.7 -9.9l-0.7 3.4l-0.7 7.4l-0.7 9l-0.7 -12.1l-0.7 -9.7l-0.7 3.5l-0.7 11.4l-0.7 -11l-0.7 11.7l-0.7 14.9l-0.7 -25.4l-0.7 3.6l-0.7 -9.7l-0.7 -11.3l-0.7 15.2l-0.7 3.9l-0.7 -9.9l-0.7 14.5l-0.7 40.8l-0.7 -60.4l-0.7 21.1l-0.7 -11l-0.7 21.7l-0.7 -24.6l-0.7 11.7l-0.7 -10.9l-0.7 26.6l-0.7 -22.1l-0.7 -3l-0.7 0.4l-0.7 0.5l-0.7 41.9l-0.7 -23.3l-0.7 -24.5l-0.7 31.6l-0.7 -40.3l-0.7 49.1l-0.7 -38.5l-0.7 17.2l-0.7 -16.2l-0.7 34.9l-0.7 -34l-0.7 30.3l-0.7 -29.2l-0.7 4.5l-0.7 5l-0.7 -33.3l-0.7 26.4l-0.7 -10.8l-0.7 -9.2l-0.7 37.2l-0.7 -22.5l-0.7 8.7l-0.7 11.4l-0.7 -5l-0.7 -38.2l-0.7 15.3l-0.7 7.8l-0.7 9.3l-0.7 11.3l-0.7 -18.6l-0.7 -6.6l-0.7 0.7l-0.7 8.8l-0.7 -7.4l-0.7 4.6l-0.7 -14.2l-0.7 37.4l-0.7 -20.2l-0.7 18l-0.7 -50.8l-0.7 54l-0.7 -41.7l-0.7 11.9l-0.7 26.7l-0.7 -32.7l-0.7 5l-0.7 -16.7l-0.7 22.4l-0.7 24.6l-0.7 20.8l-0.7 -71.8l-0.7 31.6l-0.7 -13l-0.7 6l-0.7 -3.9l-0.7 -6.3l-0.7 -6.6l-0.7 0.6l-0.7 34.9l-0.7 -33.5l-0.7 9.2l-0.7 -3.1l-0.7 -3.7l-0.7 1.4l-0.7 -16.2l-0.7 0.6l-0.7 22.3l-0.7 5.5l-0.7 6.2l-0.8 -21.6l-0.7 -6.2l-0.7 4.8l-0.7 4l-0.7 -23.6l-0.7 11.4l-0.7 15.6l-0.7 -25.1l-0.7 23.2l-0.7 -16.6l-0.7 6.9l-0.7 1.3l-0.7 -5.8l-0.7 11.1l-0.7 -6.4l-0.7 32l-0.7 -39.9l-0.7 42.8l-0.7 -44.3l-0.7 1.4l-0.7 -2.2l-0.7 21.2l-0.7 -3.6l-0.7 -21l-0.7 19.7l-0.7 13.4l-0.7 6.1l-0.7 -26.8l-0.7 -8.8l-0.7 -9.5l-0.7 14.9l-0.7 19.3l-0.7 -6.9l-0.7 5l-0.7 -25.5l-0.7 1l-0.7 12.4l-0.7 -5.1l-0.7 7.1l-0.7 5.5l-0.7 -12.9l-0.7 -19.6l-0.7 5.3l-0.7 -13.8l-0.7 13l-0.7 28l-0.7 -24.1l-0.7 3.7l-0.7 -11.1l-0.7 -3.9l-0.7 18.3l-0.7 -9.9l-0.7 6.6l-0.7 -11.9l-0.7 1.2l-0.7 -7.4l-0.7 21.9l-0.7 -9.4l-0.7 -12.4l-0.7 31.3l-0.7 -35.5l-0.7 28.9l-0.7 0.6l-0.7 -9.3l-0.7 -22.3l-0.7 -7.6l-0.7 20.5l-0.7 -10.9l-0.7 32.4l-0.7 -31l-0.7 3.2l-0.7 0.9l-0.7 49.5l-0.7 -18.4l-0.7 -38.2l-0.7 2.5l-0.7 -17.9l-0.7 34.8l-0.7 -19.3l-0.7 6.7l-0.7 28.4l-0.7 -13.4l-0.7 -14.2l-0.7 -8.2l-0.7 -6.4l-0.7 3l-0.7 -8.4l-0.7 22.6l-0.7 -17l-0.7 15.5l-0.7 -24l-0.7 -2.6l-0.7 17.2l-0.7 -13l-0.7 -3.2l-0.7 10l-0.7 1.3l-0.7 8.4l-0.7 -17.8l-0.7 7.4l-0.7 1.1l-0.7 -10.4l-0.7 14.7l-0.7 -9.2l-0.7 -5.6l-0.7 0l-0.7 9.4l-0.7 -6.2l-0.7 -5.1l-0.7 5.7l-0.7 9.3l-0.7 -5.1l-0.7 -13.4l-0.7 -1.4l-0.7 -6l-0.7 27.3l-0.7 -24.1l-0.7 34.6l-0.7 -19.4l-0.7 -10.8l-0.7 -3l-0.7 13.9l-0.7 -1.7l-0.7 -6.7l-0.7 12.2l-0.7 -8.9l-0.7 -21.7l-0.7 5.1l-0.7 13.8l-0.7 -12.9l-0.7 2.9l-0.7 -2l-0.7 -2.8l-0.7 2.9l-0.7 14.7l-0.7 -17.6l-0.7 8.7l-0.7 -1.2l-0.7 5.8l-0.7 -14.1l-0.7 -5.1l-0.7 -3.5l-0.7 3.7l-0.7 -6.2l-0.7 22.3l-0.7 -0.2l-0.7 -11l-0.7 -21.9l-0.7 10.5l-0.7 2.8l-0.7 20.1l-0.7 -25.8l-0.7 36.7l-0.7 -24.3l-0.7 -9.6l-0.7 -5l-0.7 6.9l-0.7 -10.1l-0.7 25.9l-0.7 -21.8l-0.7 -1.8l-0.7 18.2l-0.7 -5.8l-0.7 -10.5l-0.7 3.7l-0.7 -8.1l-0.7 5.5l-0.7 -6l-0.7 10.2l-0.7 -9.2l-0.7 -9.4l-0.7 10.3l-0.7 -15l-0.7 14.4l-0.7 7l-0.7 -1.1l-0.7 -23.2l-0.7 4.8l-0.7 6.4l-0.7 -10l-0.7 16.9l-0.7 -9.8l-0.7 -4l-0.7 -6.1l-0.7 -0.7l-0.7 7.3l-0.7 -6l-0.8 5.8l-0.7 -7.3l-0.7 -0.7l-0.7 -0.8l-0.7 -2.4l-0.7 0.2l-0.7 3.6l-0.7 -5.8l-0.7 0.8l-0.7 -0.5l-0.7 -1.6l-0.7 -8.5l-0.7 5.3l-0.7 5.4l-0.7 -1.7l-0.7 -1.6l-0.7 0.3l-0.7 -9.7l-0.7 7.3l-0.7 -3.6l-0.7 2.4l-0.7 -9.1l-0.7 0.1l-0.7 2.2l-0.7 -10l-0.7 2.4l-0.7 -3.1l-0.7 3.7l-0.7 2.4l-0.7 3.8l-0.7 -12.2l-0.7 0.1l-0.7 0.4l-0.7 2.6l-0.7 -7.4l-0.7 14.1l-0.7 -13.3l-0.7 2.2l-0.7 0.6l-0.7 -2.2l-0.7 -3.7l-0.7 1.2l-0.7 3l-0.7 -7.7l-0.7 -6.1l-0.7 0.1l-0.7 4l-0.7 -5.2l-0.7 2.7l-0.7 -3.6l-0.7 -6.4l-0.7 2.7l-0.7 3.4l-0.7 -11.4l-0.7 9l-0.7 -9.6l-0.7 4.7l-0.7 -4.3l-0.7 -0.6l-0.7 -3.2l-0.7 -4.7l-0.7 -2.1l-0.7 4.5l-0.7 -1.4l-0.7 -7.1l-0.7 7.4l-0.7 -3.7l-0.7 -6l-0.7 -0.9l-0.7 -1.9l-0.7 -1.2l-0.7 1.2l-0.7 1.4l-0.7 -5.2l-0.7 -1.8l-0.7 -0.2l-0.7 -0.9l-0.7 -4.5l-0.7 2.3l-0.7 -6.9l-0.7 2l-0.7 -6.1l-0.7 0.4l-0.7 -0.2l-0.7 -3.6l-0.7 2.4l-0.7 -4.1l-0.7 -1l-0.7 0.9l-0.7 0.9l-0.7 -5.5l-0.7 -0.3l-0.7 -1.1l-0.7 -5l-0.7 -0.4l-0.7 -0.5l-0.7 -2.3l-0.7 -2.3l-0.7 0.7l-0.7 -3.5l-0.7 -0.4l-0.7 -3l-0.7 0.5l-0.7 0.2l-0.7 -6.7l-0.7 -2.4l-0.7 0.5l-0.7 -0.6l-0.7 -1.6l-0.7 -2.5l-0.7 -2l-0.7 -3.5l-0.7 -0.5l-0.7 -1.6l-0.7 -3.5l-0.7 3.4l-0.7 -5.4l-0.7 -1.4l-0.7 0.6l-0.7 -4.9l-0.7 -2.3l-0.7 -0.2l-0.7 -1l-0.7 -1.8l-0.7 0.5l-0.7 -4l-0.7 -1.8l-0.7 -2.5l-0.7 -0.4l-0.7 -1.2l-0.7 -4l-0.7 -1.6l-0.7 -0.9l-0.7 -2.8l-0.7 -0.8l-0.7 0.2l-0.7 -0.7l-0.7 -1.9l-0.7 -0.7l-0.7 -0.1l-0.7 -1.2l-0.7 -2.4l-0.7 -1.4l-0.7 0.4l-0.7 1.6l-0.7 -3.5l-0.7 -0.4l-0.7 -1.2l-0.7 -0.2l-0.7 -0.3l-0.7 0.2l-0.7 -0.5l-0.7 2.5l-0.7 3.5l-0.7 2.9l-0.7 5.2l-0.7 3.6l-0.7 8l-0.7 7.5l-0.7 18.2l-0.7 15.8l-0.7 18.5l-0.7 30.7l-0.7 44.6l-0.7 42.6l-0.7 48.5l-0.7 19.9l-0.7 64.5l-0.7 43.3l-0.7 5.4l-0.7 0l-0.7 0l-0.7 0l-0.7 0l-0.7 -2.7l-0.7 2.7l-0.7 0l-0.7 0l-0.7 0l-0.7 0l-0.7 0l-0.7 0l-0.7 0l-0.7 0l-0.7 -10.2l-0.7 10.2l-0.7 0l-0.7 0l-0.7 0l-0.8 0l-0.7 0l-0.7 0l-0.7 0l-0.7 -2.7l-0.7 2.7l-0.7 0l-0.7 0l-0.7 0l-0.7 -6.6l-0.7 6.6l-0.7 -2.7l-0.7 2.7l-0.7 0l-0.7 -2.7l-0.7 2.7l-0.7 0l-0.7 0l-0.7 0l-0.7 0l-0.7 0l-0.7 -2.7l-0.7 2.7l-0.7 0l-0.7 0l-0.7 0l-0.7 0l-0.7 0l-0.7 0l-0.7 0l-0.7 0l-0.7 0l-0.7 0l-0.7 0l-0.7 -6.6l-0.7 6.6l-0.7 0l-0.7 0l-0.7 -2.7l-0.7 2.7l-0.7 0l-0.7 0l-0.7 0l-0.7 0l-0.7 0l-0.7 0l-0.7 0l-0.7 0l-0.7 0l-0.7 0l-0.7 0l-0.7 0l-0.7 -2.7l-0.7 2.7l-0.7 -2.7l-0.7 2.7l-0.7 0l-0.7 0l-0.7 0l-0.7 0l-0.7 0l-0.7 0l-0.7 -10.2l-0.7 10.2l-0.7 -2.7l-0.7 0l-0.7 2.7l-0.7 0l-0.7 -6.6l-0.7 3.9l-0.7 0l-0.7 2.7l-0.7 -6.6l-0.7 0l-0.7 3.9l-0.7 2.7l-0.7 0l-0.7 0l-0.7 -2.7l-0.7 0l-0.7 2.7l-0.7 0l-0.7 -10.2l-0.7 10.2l-0.7 0l-0.7 0l-0.7 0l-0.7 0l-0.7 0l-0.7 0l-0.7 0l-0.7 0l-0.7 0l-0.7 0Z" fill="#00c8d0" stroke="#00c8d0" stroke-width="1.32" stroke-linejoin="round"/><path d="M853.9 2284.6l0.7 0l0.7 10.7l0.7 -2.9l0.7 -7.8l0.7 10.7l0.7 -5.6l0.7 11.8l0.7 -16.9l0.7 7.8l0.7 0l0.7 2.9l0.7 -5.6l0.7 0l0.7 -2.6l0.7 5.3l0.7 -2.7l0.7 -9.8l0.7 15.4l0.7 6.2l0.7 0l0.7 -6.2l0.7 9.6l0.7 -17.8l0.7 2.6l0.7 15.2l0.7 -22.7l0.7 -2.3l0.7 9.8l0.7 18.8l0.7 -7l0.7 -9.1l0.7 12.5l0.7 -17.8l0.7 0l0.7 5.3l0.7 -5.3l0.7 -2.5l0.7 5.1l0.7 8.6l0.7 -5.9l0.7 2.9l0.7 0l0.7 -10.7l0.7 7.8l0.7 -5.3l0.7 -4.9l0.7 -4.5l0.7 20.6l0.7 -11.2l0.7 -2.5l0.7 2.5l0.7 0l0.7 2.6l0.7 -5.1l0.7 5.1l0.7 5.6l0.7 -5.6l0.7 -2.6l0.7 11.2l0.7 -8.6l0.7 -7.5l0.7 13.1l0.7 -5.6l0.7 2.7l0.7 2.9l0.7 -2.9l0.7 0l0.7 2.9l0.7 -15.4l0.7 25l0.7 -20.3l0.7 0l0.7 -4.7l0.7 18.4l0.7 -3l0.7 -8.2l0.7 0l0.7 0l0.7 11.2l0.7 -3l0.7 -10.7l0.7 10.7l0.7 -2.9l0.7 2.9l0.7 -5.6l0.7 8.6l0.7 -13.7l0.7 10.7l0.7 -2.9l0.7 0l0.7 -5.3l0.7 -4.9l0.7 13.1l0.8 0l0.7 0l0.7 6.2l0.7 -11.8l0.7 5.6l0.7 -19.7l0.7 25.9l0.7 -6.2l0.7 0l0.7 -8.2l0.7 -11.5l0.7 16.8l0.7 2.9l0.7 13.2l0.7 -23.9l0.7 -9l0.7 9l0.7 23.9l0.7 -21.4l0.7 8.2l0.7 -34.6l0.7 -55l0.7 -36.6l0.7 -41.2l0.7 -32l0.7 -39.4l0.7 -36.8l0.7 -18.6l0.7 -21.5l0.7 -12.7l0.7 -9.5l0.7 -10.3l0.7 -7.8l0.7 -5.5l0.7 -3.6l0.7 1.8l0.7 -3.6l0.7 0.4l0.7 -0.4l0.7 0l0.7 0l0.7 0l0.7 0l0.7 1.5l0.7 -1.4l0.7 0.3l0.7 4.2l0.7 -1.6l0.7 3.5l0.7 -1.8l0.7 2.9l0.7 0.1l0.7 2.7l0.7 1.4l0.7 -0.7l0.7 0.3l0.7 1.7l0.7 1.2l0.7 2.1l0.7 -1.8l0.7 5.7l0.7 2.5l0.7 -1l0.7 2.7l0.7 1.9l0.7 1.3l0.7 0.9l0.7 5.4l0.7 -1l0.7 0.2l0.7 3.3l0.7 2.2l0.7 -0.2l0.7 -1.2l0.7 4.8l0.7 2.7l0.7 1l0.7 0.9l0.7 2.8l0.7 -1.7l0.7 4.7l0.7 -1.7l0.7 7.2l0.7 -1.8l0.7 2l0.7 1.1l0.7 3.1l0.7 1.4l0.7 0.7l0.7 -0.1l0.7 4.1l0.7 1.3l0.7 0.9l0.7 1.5l0.7 2.1l0.7 3.1l0.7 1.3l0.7 -2l0.7 -1.1l0.7 5.3l0.7 0l0.7 5.1l0.7 0l0.7 3.8l0.7 1.3l0.7 -5l0.7 7.6l0.7 0.3l0.7 -0.8l0.7 2.5l0.7 0.2l0.7 2.1l0.7 -0.4l0.7 5.6l0.7 3l0.7 -1.7l0.7 -2l0.7 4.1l0.7 5.8l0.7 -2l0.7 -4.4l0.7 8.7l0.7 -8.9l0.7 14l0.7 -6.4l0.7 4.2l0.7 1.2l0.7 2.4l0.7 -1.1l0.7 1.4l0.7 5.3l0.7 -2.5l0.7 0l0.7 0.3l0.7 2.9l0.7 1.4l0.7 2.2l0.7 -2.4l0.7 4.2l0.7 2.3l0.7 -0.7l0.7 1.2l0.7 2.6l0.7 -4.7l0.7 6.5l0.7 2.7l0.7 -1.2l0.7 -3.6l0.7 3.1l0.7 9.9l0.7 -7.3l0.7 5l0.7 -1.8l0.7 2.9l0.7 1l0.7 0.9l0.7 -0.5l0.7 -1.2l0.7 4.6l0.7 -1.2l0.7 1.1l0.7 7.3l0.7 -1.8l0.7 3.2l0.7 -4l0.7 1.1l0.7 -5.2l0.7 10.1l0.7 3.9l0.7 -1.9l0.7 -0.9l0.7 0l0.7 0.5l0.7 0.6l0.7 12.6l0.7 -14l0.7 3.8l0.7 3.4l0.7 -9.9l0.7 10l0.7 2.1l0.7 -6.5l0.7 2.3l0.7 7.5l0.7 3.7l0.7 -3.3l0.7 -8.6l0.7 8.8l0.7 9.8l0.8 1l0.7 -8.6l0.7 -4.4l0.7 13.2l0.7 1.1l0.7 -2.6l0.7 0l0.7 6.6l0.7 -11.9l0.7 21.7l0.7 -20.5l0.7 2.4l0.7 -0.2l0.7 6.9l0.7 -9.5l0.7 4.6l0.7 10.2l0.7 -5.3l0.7 -10.9l0.7 19.1l0.7 0l0.7 -6.5l0.7 10l0.7 -8.1l0.7 -1.9l0.7 7.7l0.7 3.7l0.7 6l0.7 -16l0.7 8l0.7 10.3l0.7 -25.4l0.7 9.8l0.7 6.3l0.7 2l0.7 -4.7l0.7 -0.3l0.7 1.2l0.7 9l0.7 -7.2l0.7 -5.7l0.7 8.1l0.7 2.1l0.7 -3.2l0.7 8.3l0.7 -7.9l0.7 7.6l0.7 -1.6l0.7 -1.9l0.7 -1.8l0.7 3.8l0.7 0.7l0.7 7.1l0.7 -0.4l0.7 -3.2l0.7 -6.9l0.7 8.7l0.7 -0.2l0.7 12l0.7 -11.7l0.7 5.7l0.7 -9.8l0.7 -1.6l0.7 3.7l0.7 -0.6l0.7 -1.8l0.7 15.5l0.7 -9.3l0.7 -0.4l0.7 1.9l0.7 -0.2l0.7 4.7l0.7 7.4l0.7 -21.2l0.7 0.6l0.7 7.7l0.7 7.7l0.7 3.3l0.7 -10.8l0.7 3.9l0.7 8.7l0.7 -6.7l0.7 6.3l0.7 -1.3l0.7 0.5l0.7 0.7l0.7 -7.5l0.7 4.7l0.7 -10l0.7 9.4l0.7 -0.3l0.7 6.9l0.7 -3.5l0.7 -14.7l0.7 12.9l0.7 -8.6l0.7 14l0.7 -1.5l0.7 -0.8l0.7 4.5l0.7 -1.3l0.7 -4.6l0.7 0.1l0.7 -8.1l0.7 16.3l0.7 2l0.7 -5.1l0.7 1.3l0.7 -3.2l0.7 3.3l0.7 -10.1l0.7 13.3l0.7 0.6l0.7 5.4l0.7 -9.5l0.7 -2.5l0.7 3.8l0.7 14.2l0.7 -7.3l0.7 -5.6l0.7 1l0.7 -1.8l0.7 0.4l0.7 1.1l0.7 -4l0.7 20.8l0.7 -4.7l0.7 -20.4l0.7 20.2l0.7 -1.7l0.7 -4.5l0.7 -9.4l0.7 14.8l0.7 -5.4l0.7 1.6l0.7 18l0.7 -7.6l0.7 -16.5l0.7 -2.7l0.7 18.9l0.7 1.1l0.7 -19.9l0.7 18.6l0.7 -8.6l0.7 6.2l0.7 -4.8l0.7 -0.2l0.7 3.3l0.7 -2.8l0.7 6.5l0.7 6l0.7 -9.9l0.7 -2l0.7 -1.7l0.7 4.9l0.7 -1.6l0.7 12.1l0.7 -27.6l0.7 21.5l0.7 -3.5l0.7 -17.9l0.7 31.9l0.7 -13.9l0.7 4.3l0.7 0.8l0.7 8.4l0.7 -0.7l0.7 3.7l0.7 3.4l0.7 -23l0.7 14.1l0.7 -10.5l0.7 -1.8l0.7 8.9l0.7 3.2l0.7 23.2l0.7 -45.9l0.7 23.1l0.7 7.3l0.7 -19.6l0.7 11l0.7 3l0.7 -3.9l0.7 28.1l0.7 -17.7l0.7 -11.7l0.7 10.5l0.8 -11.3l0.7 12.5l0.7 -2.4l0.7 3.7l0.7 -0.7l0.7 -8.4l0.7 7.4l0.7 4.1l0.7 -10.8l0.7 9.5l0.7 -10.3l0.7 -15.8l0.7 15.3l0.7 16l0.7 -2.7l0.7 -15.6l0.7 -1.9l0.7 12.3l0.7 -7.8l0.7 5.3l0.7 -2.2l0.7 1.6l0.7 9.7l0.7 -16.9l0.7 -4.7l0.7 22.8l0.7 -4.5l0.7 3.9l0.7 -6.3l0.7 3.6l0.7 -0.2l0.7 10.4l0.7 -6.8l0.7 -23.6l0.7 19.2l0.7 -2.2l0.7 1.8l0.7 -5.6l0.7 5.2l0.7 3.5l0.7 -15.3l0.7 19l0.7 -2.2l0.7 -23.7l0.7 25.3l0.7 -5.9l0.7 -20.7l0.7 27.9l0.7 1.8l0.7 6.5l0.7 -8.7l0.7 -10.8l0.7 14.4l0.7 4l0.7 2.1l0.7 -2.4l0.7 -13.5l0.7 9l0.7 8.4l0.7 -8.8l0.7 8.4l0.7 -2.5l0.7 4.2l0.7 -4.5l0.7 9l0.7 -5l0.7 -8.4l0.7 12.7l0.7 -18.3l0.7 13.3l0.7 -6.2l0.7 -0.1l0.7 17.6l0.7 -13.9l0.7 4.2l0.7 6.6l0.7 -18.4l0.7 3.5l0.7 -0.1l0.7 -14.3l0.7 21.9l0.7 6.5l0.7 -6.6l0.7 -9.5l0.7 17.9l0.7 -6.7l0.7 -0.1l0.7 4.2l0.7 6.8l0.7 -4.8l0.7 4.5l0.7 -9l0.7 4.2l0.7 2.1l0.7 -26.7l0.7 22.2l0.7 2l0.7 14.6l0.7 -12.6l0.7 -15.3l0.7 22.1l0.7 -7l0.7 -4.2l0.7 4.1l0.7 4.3l0.7 -10.4l0.7 -1.9l0.7 12.1l0.7 -4.4l0.7 -14.5l0.7 10.5l0.7 -3.7l0.7 5.6l0.7 10.7l0.7 -6.7l0.7 -11.2l0.7 11.1l0.7 6.5l0.7 2.3l0.7 -18.1l0.7 18l0.7 -6.7l0.7 4.3l0.7 -2.2l0.7 0l0.7 -0.1l0.7 -4l0.7 -7.3l0.7 7.3l0.7 8.3l0.7 4.6l0.7 2.4l0.7 -25.7l0.7 3.3l0.7 11.1l0.7 8.7l0.7 0l0.7 4.8l0.7 -13.5l0.7 8.6l0.7 -2.3l0.7 2.3l0.7 4.7l0.7 -4.8l0.7 -6.3l0.7 11l0.7 -4.7l0.7 2.3l0.7 -6.5l0.7 -2l0.7 8.5l0.7 2.3l0.7 -4.5l0.7 -6.2l0.7 -1.8l0.7 17.3l0.7 5.3l0.7 -12.4l0.7 0l0.7 -2.1l0.7 2.2l0.7 6.9l0.7 -11.1l0.7 4.3l0.7 0l0.7 0l0.7 -6l0.7 0l0.7 12.9l0.7 -12.8l0.7 -5.3l0.7 13.5l0.7 4.6l0.7 0l0.7 7.5l0.7 -11.9l0.7 0l0.7 0.1l0.7 -7.9l0.7 12.4l0.7 -2.2l0.7 12.2l0.7 -18.4l0.7 10.8l0.7 2.4l0.7 -2.3l0.7 -4.5l0.7 -2.1l0.7 16.8l0.8 -14.5l0.7 -2l0.7 6.5l0.7 2.4l0.7 -4.6l0.7 4.6l0.7 2.5l0.7 -4.7l0.7 -4.3l0.7 -2l0.7 2.2l0.7 0l0.7 6.6l0.7 -4.4l0.7 0.1l0.7 -5.9l0.7 -1.8l0.7 0l0.7 17.1l0.7 -4.7l0.7 4.7l0.7 -4.6l0.7 4.7l0.7 -4.6l0.7 7.2l0.7 -17.3l0.7 12.6l0.7 4.8l0.7 0l0.7 -4.7l0.7 7.4l0.7 -11.6l0.7 4.4l0.7 -2.1l0.7 9.5l0.7 -9.4l0.7 7l0.7 -9l0.7 9.1l0.7 -9l0.7 2.3l0.7 0l0.7 11.9l0.7 2.8l0.7 -2.7l0.7 -4.9l0.7 -2.3l0.7 7.4l0.7 -11.6l0.7 6.8l0.7 0l0.7 -2.2l0.7 2.4l0.7 -8.6l0.7 2.1l0.7 19.7l0.7 -17.5l0.7 4.6l0.7 -6.4l0.7 -5.8l0.7 8l0.7 -13.1l0.7 22.4l0.7 0.1l0.7 2.6l0.7 2.7l0.7 0.1l0.7 -22l0.7 3.9l0.7 13.2l0.7 5.1l0.7 2.8l0.7 -5.3l0.7 -2.4l0.7 -2.2l0.7 2.4l0.7 0l0.7 5.2l0.7 -9.6l0.7 0.1l0.7 21.3l0.7 -16.6l0.7 -8.7l0.7 6.5l0.7 4.9l0.7 -4.7l0.7 7.4l0.7 -2.5l0.7 0.1l0.7 0l0.7 8.1l0.7 -8l0.7 -6.9l0.7 7l0 29.5l-0.7 0l-0.7 0l-0.7 0l-0.7 -18.7l-0.7 9.7l-0.7 7.6l-0.7 -14.4l-0.7 3.2l-0.7 7.2l-0.7 5.4l-0.7 -16l-0.7 6.8l-0.7 7.8l-0.7 -7.8l-0.7 -7l-0.7 10.8l-0.7 5.4l-0.7 -1.3l-0.7 0l-0.7 -15l-0.7 -0.1l-0.7 3.4l-0.7 13l-0.7 -16.5l-0.7 0l-0.7 15.3l-0.7 -11.8l-0.7 -3.6l-0.7 3.5l-0.7 7.8l-0.7 0l-0.7 -11.3l-0.7 16.6l-0.7 -5.2l-0.7 -23.8l-0.7 -0.1l-0.7 5.9l-0.7 6.5l-0.7 -3.4l-0.7 10.9l-0.7 4.2l-0.7 -4.1l-0.7 9.1l-0.7 -16.7l-0.7 -3.5l-0.7 15.5l-0.7 -8.2l-0.7 0l-0.7 8.4l-0.7 0l-0.7 -8.3l-0.7 0l-0.7 -10.7l-0.7 23.5l-0.7 -12.7l-0.7 -3.8l-0.7 12.6l-0.7 -8.7l-0.7 -3.8l-0.7 4l-0.7 -3.9l-0.7 -7.2l-0.7 0l-0.7 15.6l-0.7 -4.3l-0.7 4.5l-0.7 -15.7l-0.7 23.4l-0.7 -32.9l-0.7 21.2l-0.7 -4.1l-0.7 0l-0.7 -3.8l-0.7 -7.1l-0.7 7.2l-0.7 19.5l-0.7 -33l-0.7 13.7l-0.7 -7.2l-0.7 15.8l-0.7 -4.3l-0.7 4.5l-0.7 -12.2l-0.7 -3.6l-0.7 -6.6l-0.7 6.7l-0.7 3.8l-0.7 8.2l-0.7 -8.1l-0.7 8.4l-0.7 -15.5l-0.7 7.3l-0.7 8.6l-0.8 -12.2l-0.7 -3.5l-0.7 7.6l-0.7 19.1l-0.7 0.1l-0.7 0.3l-0.7 -30.2l-0.7 -3.2l-0.7 14.5l-0.7 -3.8l-0.7 8.5l-0.7 4.9l-0.7 -30l-0.7 13.2l-0.7 28.2l-0.7 -24.1l-0.7 4.4l-0.7 -15.2l-0.7 0.1l-0.7 0.1l-0.7 20.5l-0.7 -26.8l-0.7 18.1l-0.7 22.9l-0.7 -26.7l-0.7 0.1l-0.7 -3.7l-0.7 4l-0.7 0.3l-0.7 9.1l-0.7 -16.6l-0.7 8l-0.7 0.1l-0.7 -3.9l-0.7 -7.3l-0.7 -3.3l-0.7 15.4l-0.7 4.9l-0.7 -4.3l-0.7 -4.1l-0.7 0.2l-0.7 0.1l-0.7 0.4l-0.7 -11.5l-0.7 -9.5l-0.7 21.6l-0.7 4.9l-0.7 -19.9l-0.7 -9.3l-0.7 0.2l-0.7 13.1l-0.7 29.1l-0.7 -24.7l-0.7 4.5l-0.7 28.5l-0.7 -36.3l-0.7 18.5l-0.7 -17.9l-0.7 -13.8l-0.7 22.7l-0.7 10.7l-0.7 -18.7l-0.7 19.8l-0.7 -19.1l-0.7 4.6l-0.7 -4l-0.7 -11.5l-0.7 0.3l-0.7 27.2l-0.7 -14.7l-0.7 -8l-0.7 24.5l-0.7 -40.8l-0.7 9.8l-0.7 11.7l-0.7 5l-0.7 -22.9l-0.7 7.1l-0.7 22.4l-0.7 -9.4l-0.7 5.2l-0.7 -17.2l-0.7 -3.3l-0.7 0.3l-0.7 22.4l-0.7 -17.8l-0.7 -7.3l-0.7 26.9l-0.7 -26.3l-0.7 0.4l-0.7 -6.6l-0.7 15.2l-0.7 -17.9l-0.7 0.2l-0.7 7.1l-0.7 12.4l-0.7 -11.8l-0.7 -9.6l-0.7 18.3l-0.7 5l-0.7 -3.8l-0.7 0.2l-0.7 23.2l-0.7 -22l-0.7 5.4l-0.7 0.6l-0.7 -36.4l-0.7 27.9l-0.7 -3.4l-0.7 -18.1l-0.7 63.4l-0.7 -48.1l-0.7 9.7l-0.7 -4.3l-0.7 23.2l-0.7 -26.2l-0.7 -7.9l-0.7 -3.1l-0.7 0.2l-0.7 8.4l-0.7 0.9l-0.7 47.7l-0.7 -74.7l-0.7 29.1l-0.7 0.6l-0.7 16.9l-0.7 -15.5l-0.7 -8.1l-0.7 4.7l-0.7 -7.9l-0.7 14.4l-0.7 -8.9l-0.7 -3.2l-0.7 5.3l-0.7 0.3l-0.7 -3.3l-0.7 -12.2l-0.7 18l-0.7 -23.8l-0.7 32l-0.7 -30.8l-0.7 0.6l-0.7 66.5l-0.7 -53.3l-0.7 -7.9l-0.7 -16.5l-0.7 26.9l-0.7 -22.7l-0.7 11.7l-0.7 26.4l-0.7 -25.4l-0.7 15.3l-0.7 21.2l-0.7 -45.4l-0.7 4.4l-0.7 0.7l-0.7 0.4l-0.7 5.8l-0.7 0.5l-0.7 11.7l-0.7 -21.9l-0.7 -3.3l-0.7 -6.4l-0.7 38.1l-0.7 -5.2l-0.7 -5l-0.7 -12.8l-0.7 -7.2l-0.7 1l-0.7 -19.7l-0.7 54.7l-0.7 -4.9l-0.7 16.5l-0.7 -32.2l-0.7 13.3l-0.7 -10.3l-0.7 -3.5l-0.7 19.8l-0.7 35.2l-0.7 -66.2l-0.7 10.9l-0.7 1.7l-0.7 -38.2l-0.7 13.1l-0.7 27.9l-0.7 -4.4l-0.7 -31.2l-0.7 11.6l-0.7 13.9l-0.8 -12.9l-0.7 1.4l-0.7 -2.7l-0.7 4.6l-0.7 5.6l-0.7 -21.3l-0.7 4.1l-0.7 37.6l-0.7 -25.1l-0.7 -19.7l-0.7 49.2l-0.7 -41.2l-0.7 32.1l-0.7 -9.6l-0.7 -29.6l-0.7 4.2l-0.7 15.1l-0.7 22.5l-0.7 -19.3l-0.7 -3.9l-0.7 1.6l-0.7 -20.4l-0.7 -9.8l-0.7 44.8l-0.7 -9l-0.7 -31.3l-0.7 -21.7l-0.7 56.4l-0.7 -40.2l-0.7 70.4l-0.7 -54.3l-0.7 8.5l-0.7 -5.9l-0.7 -24l-0.7 16l-0.7 23.5l-0.7 -11.6l-0.7 5.9l-0.7 -42.8l-0.7 13.8l-0.7 25.3l-0.7 -9.7l-0.7 8.2l-0.7 -30l-0.7 46.2l-0.7 -26.8l-0.7 -23.8l-0.7 10.1l-0.7 -1.5l-0.7 -20.7l-0.7 81.7l-0.7 -21.8l-0.7 -27.2l-0.7 -2.1l-0.7 1.3l-0.7 -9.5l-0.7 -6l-0.7 12.6l-0.7 -3.3l-0.7 -18.8l-0.7 23.7l-0.7 -20.7l-0.7 5l-0.7 31.9l-0.7 -31.5l-0.7 10l-0.7 1.4l-0.7 -1.6l-0.7 -10.7l-0.7 39.2l-0.7 -35.3l-0.7 -3.4l-0.7 -6.6l-0.7 19.3l-0.7 -15.4l-0.7 -0.7l-0.7 -1.2l-0.7 9.3l-0.7 -23l-0.7 12.3l-0.7 34.7l-0.7 -7.9l-0.7 -34.5l-0.7 0.9l-0.7 32.2l-0.7 -12l-0.7 -11.5l-0.7 -17.5l-0.7 22.1l-0.7 -16l-0.7 8l-0.7 -9.3l-0.7 11.5l-0.7 -18.3l-0.7 15.2l-0.7 -10.8l-0.7 -0.5l-0.7 3.9l-0.7 -2.1l-0.7 -8.6l-0.7 74.9l-0.7 -63.2l-0.7 -3.3l-0.7 9.1l-0.7 -18.6l-0.7 29.3l-0.7 -1.7l-0.7 -17.1l-0.7 -11.5l-0.7 21.1l-0.7 -4.3l-0.7 2.9l-0.7 -16.2l-0.7 9.9l-0.7 -6l-0.7 3.1l-0.7 -15.3l-0.7 2l-0.7 12.3l-0.7 0.7l-0.7 -13.7l-0.7 7.9l-0.7 -5.2l-0.7 -9.2l-0.7 4.2l-0.7 6.9l-0.7 -12.7l-0.7 5.4l-0.7 -5.2l-0.7 11.5l-0.7 -9.1l-0.7 17.6l-0.7 -14.3l-0.7 2.8l-0.7 26.1l-0.7 -37.2l-0.7 16.2l-0.7 -16.1l-0.7 -5.5l-0.7 -5.4l-0.7 11l-0.7 9.3l-0.7 -14.6l-0.7 3.8l-0.7 9.1l-0.7 19l-0.7 -33.1l-0.7 9.1l-0.7 -11.8l-0.7 4.6l-0.7 15.9l-0.7 -16.3l-0.7 -10.8l-0.7 1.9l-0.7 2l-0.7 -11.6l-0.7 17.7l-0.7 -16.4l-0.7 17.3l-0.7 6.5l-0.7 -14.4l-0.7 3l-0.7 -8.1l-0.7 4.1l-0.7 5l-0.7 -9l-0.7 -2.4l-0.7 -1.4l-0.7 8.5l-0.7 15.4l-0.7 -5.5l-0.7 -20.1l-0.7 -4.1l-0.7 10.9l-0.7 -7.4l-0.7 -0.9l-0.7 -6.7l-0.7 9.5l-0.7 7.6l-0.7 -18.3l-0.7 16.9l-0.7 -7l-0.7 6.5l-0.7 12.6l-0.7 -31.9l-0.7 -4.9l-0.7 13.9l-0.8 -9.7l-0.7 -4.2l-0.7 -0.8l-0.7 12.9l-0.7 -4.4l-0.7 -5.5l-0.7 6.7l-0.7 -4.5l-0.7 -10.4l-0.7 -7.5l-0.7 4.7l-0.7 9.2l-0.7 -6.4l-0.7 4.2l-0.7 -4.2l-0.7 -4.1l-0.7 0l-0.7 2.4l-0.7 7.6l-0.7 -9.7l-0.7 0.4l-0.7 -6.2l-0.7 -8.7l-0.7 6.5l-0.7 0.2l-0.7 3.8l-0.7 -8.5l-0.7 -1.3l-0.7 3.6l-0.7 -11.5l-0.7 13.2l-0.7 -8.3l-0.7 -5l-0.7 -4.7l-0.7 4.9l-0.7 7.8l-0.7 -13.7l-0.7 2.1l-0.7 -0.4l-0.7 1.2l-0.7 -12l-0.7 5.1l-0.7 5.9l-0.7 -8.1l-0.7 1.9l-0.7 0.4l-0.7 -6.1l-0.7 -0.3l-0.7 -3l-0.7 -2.2l-0.7 -0.5l-0.7 -0.5l-0.7 1.5l-0.7 -1.7l-0.7 -5.3l-0.7 2.7l-0.7 -2.5l-0.7 -3.9l-0.7 3.9l-0.7 0.7l-0.7 -7l-0.7 2l-0.7 -2.8l-0.7 4.5l-0.7 -9.7l-0.7 -0.6l-0.7 -1.3l-0.7 3.8l-0.7 -5.9l-0.7 -1.5l-0.7 -3.9l-0.7 0.9l-0.7 5.2l-0.7 -1.8l-0.7 -6.5l-0.7 -6.1l-0.7 -0.1l-0.7 2.8l-0.7 2.1l-0.7 -7.4l-0.7 -2.3l-0.7 -2.6l-0.7 0.2l-0.7 -3.3l-0.7 0.6l-0.7 1.8l-0.7 -5.2l-0.7 0.4l-0.7 -4.3l-0.7 -1.7l-0.7 -4l-0.7 4.8l-0.7 -3.4l-0.7 -4.1l-0.7 0.8l-0.7 -0.9l-0.7 -3.5l-0.7 -0.6l-0.7 -0.9l-0.7 -4.9l-0.7 0l-0.7 -0.9l-0.7 0.2l-0.7 -4.7l-0.7 0.1l-0.7 -3.1l-0.7 -0.3l-0.7 -2.5l-0.7 4.8l-0.7 -6.6l-0.7 -2.7l-0.7 -1.8l-0.7 -3.2l-0.7 0.7l-0.7 -2.5l-0.7 -3.4l-0.7 -2.1l-0.7 -1.9l-0.7 -2.4l-0.7 0.3l-0.7 -0.6l-0.7 -3.2l-0.7 0.6l-0.7 0.1l-0.7 -4.6l-0.7 -1.1l-0.7 -0.8l-0.7 -2.2l-0.7 -2.2l-0.7 -3.2l-0.7 -0.5l-0.7 -2.7l-0.7 -0.3l-0.7 -3.9l-0.7 0l-0.7 -0.9l-0.7 -1.1l-0.7 0.2l-0.7 -1.3l-0.7 -2.8l-0.7 0.5l-0.7 -2l-0.7 -0.1l-0.7 -0.9l-0.7 -2.3l-0.7 -0.1l-0.7 0.1l-0.7 -1.7l-0.7 0.3l-0.7 0l-0.7 0.4l-0.7 1.9l-0.7 1.6l-0.7 0.8l-0.7 3.3l-0.7 2.2l-0.7 7l-0.7 12l-0.7 5.2l-0.7 10.7l-0.7 16.2l-0.7 34.7l-0.7 21.8l-0.7 32.4l-0.7 84.1l-0.7 66.1l-0.7 10.6l-0.7 49.7l-0.7 16.4l-0.7 7l-0.7 0l-0.7 0l-0.7 -2.7l-0.7 2.7l-0.7 0l-0.7 0l-0.7 0l-0.7 -6.6l-0.7 6.6l-0.7 0l-0.7 0l-0.7 0l-0.7 0l-0.7 0l-0.7 -10.2l-0.7 10.2l-0.7 0l-0.7 0l-0.7 0l-0.8 0l-0.7 0l-0.7 0l-0.7 0l-0.7 0l-0.7 0l-0.7 0l-0.7 -2.7l-0.7 2.7l-0.7 0l-0.7 0l-0.7 0l-0.7 0l-0.7 0l-0.7 0l-0.7 -6.6l-0.7 6.6l-0.7 0l-0.7 0l-0.7 0l-0.7 0l-0.7 0l-0.7 -2.7l-0.7 2.7l-0.7 0l-0.7 -2.7l-0.7 2.7l-0.7 0l-0.7 0l-0.7 0l-0.7 0l-0.7 0l-0.7 -2.7l-0.7 2.7l-0.7 0l-0.7 0l-0.7 0l-0.7 0l-0.7 0l-0.7 0l-0.7 0l-0.7 0l-0.7 0l-0.7 0l-0.7 0l-0.7 0l-0.7 0l-0.7 0l-0.7 0l-0.7 0l-0.7 -2.7l-0.7 2.7l-0.7 0l-0.7 0l-0.7 0l-0.7 0l-0.7 0l-0.7 0l-0.7 0l-0.7 0l-0.7 0l-0.7 0l-0.7 0l-0.7 0l-0.7 0l-0.7 0l-0.7 0l-0.7 0l-0.7 0l-0.7 0l-0.7 0l-0.7 0l-0.7 0l-0.7 0l-0.7 0l-0.7 0l-0.7 0l-0.7 0l-0.7 0l-0.7 0l-0.7 0l-0.7 0l-0.7 -2.7l-0.7 2.7l-0.7 -2.7l-0.7 2.7l-0.7 0l-0.7 0l-0.7 0l-0.7 0l-0.7 0l-0.7 0l-0.7 0l-0.7 -2.7Z" fill="#8b4040" stroke="#8b4040" stroke-width="1.32" stroke-linejoin="round"/></g><path d="M853.9 1928.4V2315.1H1380.7M853.9 2315.1h-8M853.9 2276.3h-4M853.9 2253.6h-4M853.9 2237.5h-4M853.9 2225.0h-4M853.9 2214.8h-4M853.9 2206.2h-4M853.9 2198.7h-4M853.9 2192.1h-4M853.9 2186.2h-8M853.9 2147.4h-4M853.9 2124.7h-4M853.9 2108.6h-4M853.9 2096.1h-4M853.9 2085.9h-4M853.9 2077.3h-4M853.9 2069.8h-4M853.9 2063.2h-4M853.9 2057.3h-8M853.9 2018.5h-4M853.9 1995.8h-4M853.9 1979.7h-4M853.9 1967.2h-4M853.9 1957.0h-4M853.9 1948.4h-4M853.9 1940.9h-4M853.9 1934.3h-4M853.9 1928.4h-8M853.9 2315.1v6.5M906.6 2315.1v3.5M959.3 2315.1v6.5M1011.9 2315.1v3.5M1064.6 2315.1v6.5M1117.3 2315.1v3.5M1170.0 2315.1v6.5M1222.7 2315.1v3.5M1275.3 2315.1v6.5M1328.0 2315.1v3.5M1380.7 2315.1v6.5" stroke="#262626" stroke-width="2.0" fill="none"/><text x="0" y="0" font-size="39.00" transform="translate(789.24,2326.12) scale(1.1700,1)" fill="#000">10</text><text x="0" y="0" font-size="39.00" transform="translate(763.87,2197.22) scale(1.1700,1)" fill="#000">100</text><text x="0" y="0" font-size="39.00" transform="translate(738.50,2068.32) scale(1.1700,1)" fill="#000">1000</text><text x="0" y="0" font-size="39.00" transform="translate(713.08,1939.42) scale(1.1700,1)" fill="#000">10000</text><text x="0" y="0" font-size="39.50" transform="translate(841.05,2356.50) scale(1.1700,1)" fill="#000">0</text><text x="0" y="0" font-size="39.50" transform="translate(932.71,2356.50) scale(1.1700,1)" fill="#000">10</text><text x="0" y="0" font-size="39.50" transform="translate(1038.67,2356.50) scale(1.1700,1)" fill="#000">20</text><text x="0" y="0" font-size="39.50" transform="translate(1144.31,2356.50) scale(1.1700,1)" fill="#000">30</text><text x="0" y="0" font-size="39.50" transform="translate(1250.01,2356.50) scale(1.1700,1)" fill="#000">40</text><text x="0" y="0" font-size="39.50" transform="translate(1354.98,2356.50) scale(1.1700,1)" fill="#000">50</text><text x="0" y="0" font-size="50.00" transform="translate(702.25,2183.04) rotate(-90) scale(0.9192,1.0960)" fill="#000">Counts</text><text x="0" y="0" font-size="47.38" transform="translate(1003.80,2422.40) scale(1.1522,1)" fill="#000">Time (ns)</text><text x="0" y="0" font-size="41.53" transform="translate(1103.88,1945.18) scale(1.1151,1)" fill="#000">2.09 ns</text><text x="0" y="0" font-size="40.40" transform="translate(1100.39,2078.60) scale(1.1455,1)" fill="#000">2.00 ns</text><path d="M1149.6 1951.8V2027.7" stroke="#000" stroke-width="3.0" fill="none"/><path d="M1142.8 2025.7L1156.3 2025.7L1149.6 2045.5Z" fill="#000"/></svg></body></html>
